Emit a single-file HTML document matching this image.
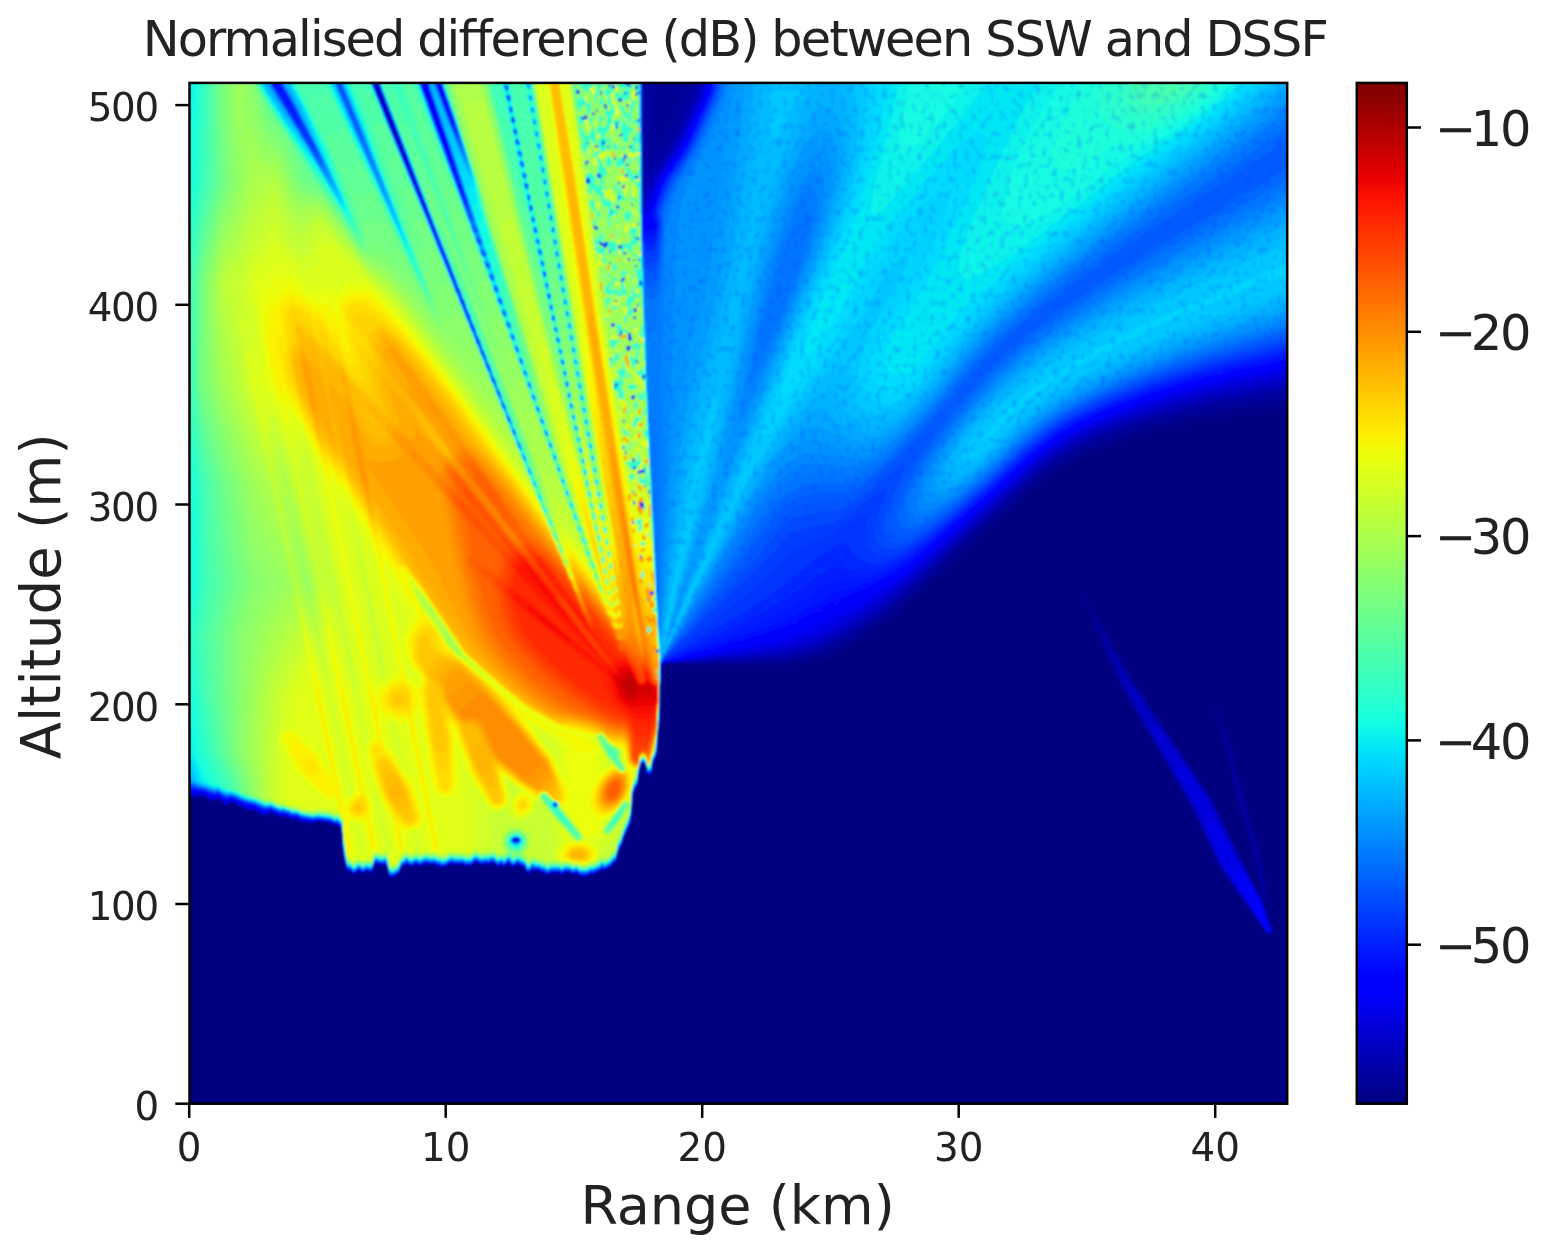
<!DOCTYPE html>
<html><head><meta charset="utf-8"><title>Normalised difference (dB) between SSW and DSSF</title>
<style>
html,body{margin:0;padding:0;background:#fff;}
body{width:1542px;height:1246px;overflow:hidden;position:relative;}
svg{position:absolute;left:0;top:0;display:block;}
text{font-family:"DejaVu Sans","Liberation Sans",sans-serif;fill:#222;}
</style></head><body>
<svg width="1542" height="1246" viewBox="0 0 1542 1246">
<defs><linearGradient id="jet" x1="0" y1="0" x2="0" y2="1"><stop offset="0.0000" stop-color="#800000"/><stop offset="0.0156" stop-color="#8d0000"/><stop offset="0.0312" stop-color="#9f0000"/><stop offset="0.0469" stop-color="#b20000"/><stop offset="0.0625" stop-color="#c40000"/><stop offset="0.0781" stop-color="#d60000"/><stop offset="0.0938" stop-color="#e80000"/><stop offset="0.1094" stop-color="#fa0f00"/><stop offset="0.1250" stop-color="#ff1e00"/><stop offset="0.1406" stop-color="#ff2d00"/><stop offset="0.1562" stop-color="#ff3b00"/><stop offset="0.1719" stop-color="#ff4a00"/><stop offset="0.1875" stop-color="#ff5900"/><stop offset="0.2031" stop-color="#ff6800"/><stop offset="0.2188" stop-color="#ff7700"/><stop offset="0.2344" stop-color="#ff8600"/><stop offset="0.2500" stop-color="#ff9400"/><stop offset="0.2656" stop-color="#ffa300"/><stop offset="0.2812" stop-color="#ffb200"/><stop offset="0.2969" stop-color="#ffc100"/><stop offset="0.3125" stop-color="#ffd000"/><stop offset="0.3281" stop-color="#ffde00"/><stop offset="0.3438" stop-color="#feed00"/><stop offset="0.3594" stop-color="#f1fc06"/><stop offset="0.3750" stop-color="#e4ff13"/><stop offset="0.3906" stop-color="#d7ff1f"/><stop offset="0.4062" stop-color="#caff2c"/><stop offset="0.4219" stop-color="#beff39"/><stop offset="0.4375" stop-color="#b1ff46"/><stop offset="0.4531" stop-color="#a4ff53"/><stop offset="0.4688" stop-color="#97ff60"/><stop offset="0.4844" stop-color="#8aff6d"/><stop offset="0.5000" stop-color="#7dff7a"/><stop offset="0.5156" stop-color="#70ff87"/><stop offset="0.5312" stop-color="#63ff94"/><stop offset="0.5469" stop-color="#56ffa0"/><stop offset="0.5625" stop-color="#49ffad"/><stop offset="0.5781" stop-color="#3cffba"/><stop offset="0.5938" stop-color="#30ffc7"/><stop offset="0.6094" stop-color="#23ffd4"/><stop offset="0.6250" stop-color="#16ffe1"/><stop offset="0.6406" stop-color="#09f0ee"/><stop offset="0.6562" stop-color="#00e0fb"/><stop offset="0.6719" stop-color="#00d0ff"/><stop offset="0.6875" stop-color="#00c0ff"/><stop offset="0.7031" stop-color="#00b0ff"/><stop offset="0.7188" stop-color="#00a0ff"/><stop offset="0.7344" stop-color="#0090ff"/><stop offset="0.7500" stop-color="#0080ff"/><stop offset="0.7656" stop-color="#0070ff"/><stop offset="0.7812" stop-color="#0060ff"/><stop offset="0.7969" stop-color="#0050ff"/><stop offset="0.8125" stop-color="#0040ff"/><stop offset="0.8281" stop-color="#0030ff"/><stop offset="0.8438" stop-color="#0020ff"/><stop offset="0.8594" stop-color="#0010ff"/><stop offset="0.8750" stop-color="#0000ff"/><stop offset="0.8906" stop-color="#0000ff"/><stop offset="0.9062" stop-color="#0000ed"/><stop offset="0.9219" stop-color="#0000da"/><stop offset="0.9375" stop-color="#0000c8"/><stop offset="0.9531" stop-color="#0000b6"/><stop offset="0.9688" stop-color="#0000a4"/><stop offset="0.9844" stop-color="#000092"/><stop offset="1.0000" stop-color="#000080"/></linearGradient><filter id="sm" x="0" y="0" width="100%" height="100%" filterUnits="objectBoundingBox"><feGaussianBlur stdDeviation="1.3"/></filter><clipPath id="fan"><path d="M711 84l7-1 570 0 1 1 -0.5 276 -8.5 3 -70 14.5 -36 10 -42 14 -44 18 -16 8 -28.5 18.5 -11.5 9 -42 40 -6 4 -62 56 -26 19.5 -24 14 -22 9 -52 27 -14 6 -48 14 -48 12 -20 4.5 -4-1 -1-6 0-472 4.5-10 13-18 12-24 16-36z"/></clipPath><filter id="tx" x="0" y="0" width="100%" height="100%" color-interpolation-filters="sRGB"><feTurbulence type="fractalNoise" baseFrequency="0.17 0.13" numOctaves="2" seed="11"/><feColorMatrix type="matrix" values="0 0 0 0 0  0 0 0 0 0.2  0 0 0 0 1  0 0 0 0.8 -0.41"/></filter></defs>
<rect x="189.5" y="82.9" width="1097.7" height="1020.8" fill="#000080"/>
<clipPath id="ax"><rect x="189.5" y="82.9" width="1097.7" height="1020.8"/></clipPath>
<g clip-path="url(#ax)"><g filter="url(#sm)">
<path fill="#000089" d="M188 82l1102 0 0 327.5 -30 3 -30 4 -32.5 5.5 -27.5 6 -32 8.5 -24.5 7.5 -21.5 8.5 -16 7.5 -20 12 -25.5 20 -54.5 49 -54 51.5 -26 22 -16 12 -18 12 -18 10.5 -14 6 -12 4.5 -14 3.5 -14 2 -14 1.5 -30 0 -84-2.5 0 16 -0.5 2 -1.5 2 0 42 -0.5 2 -1.5 2 -0.5 26 -3.5 6 -1 12 -1 1 -4 1 -2-2 0-6.5 -1.5-1.5 -0.5-2 -2.5 0 0 2 -1.5 2 -0.5 10 0 2 -1.5 1.5 -0.5 6.5 -1.5 2.5 -2 0 -0.5 13.5 -1.5 2.5 -0.5 17.5 -3.5 5.5 -0.5 2.5 -3.5 6 -0.5 4 -1.5 2 -0.5 4 -3.5 5 -0.5 9 -1.5 1.5 -4 2 -4 4 -2 0.5 -2 2 -2-2.5 -4 4 -3.5 0.5 -2.5 1.5 -2-1.5 -0.5 2 -1.5 1.5 -8 0 -4-4 -2 2 -2 0 -2-2 -6 0 -2 2.5 -2-2 -10 0 -2 2 -2-0.5 -1.5-1.5 -0.5-2 -2 2 -2-2 -6-0.5 -2-2 -0.5 2.5 -3.5 3 -4-7 -2 0 -2-2 -4 0 -2 2 -2 0 -2-2 0-2 -2 0 -4 4 -2-2 -2 0 -2 2 -4-4 -4 0 -2 2 -2-2 -2 1.5 -4 0 -2-2 -4 0 -4 4 -2-2 -2 2 -2-2 -10 0 -2-2 -2 2 -2 0 -2 2 -3 0.5 -1 1 -2-3 -2 1.5 -2-2 -8 0 -2-2 -2 2 -2 0 -2 2 -2-2 -4 0 -2 2 -2 0 -4-4 -0.5 2.5 -1.5 1.5 -2.5 0.5 -0.5 4 -3 3.5 -2 0.5 -2 2 -4 0 -2-2 0-4 -1.5-2 -0.5-6 -2 2 -2 0 -4-0.5 -2-2 -2 4 0 2.5 -4 4 -2-2 -2 0 -2 2 -2 0 -2-2.5 -2 0 -4 4 -4-4 -2 2 -1.5-1.5 -0.5-5 -1-1 -0.5-2 -0.5-7 -1-1 -0.5-2 -0.5-20.5 -1.5-1.5 0-4 -2.5-2 0-2 -2 2 -2 0 -2-2 -10-1 -2-1 -4 0 -2 1.5 -10-0.5 -4-1 -2-2.5 -2 0 -2 1 -4-1 -2-2 -2 1 -2-2.5 -4 3.5 -2-3.5 -4-0.5 -4-3.5 -0.5 2 -1.5 1.5 -2 0 -2 2 -2-3.5 -4-0.5 -2-2 -3-1.5 -3-0.5 -2 2 -2-0.5 -2-3 -6-1 -2-3 -6-1 -2 3 -2-0.5 -2-2 -2 0 -3-3.5 -1-2 -0.5 2 -1.5 1.5 -4-0.5 -4-1 -2-2.5 -6-0.5 -2 1 -2-2 -2 1.5 -6 0zM1081.5 592l2.5 0.5 6 9.5 44 80 77 114 29 59 20 38.5 1.5 0.5 0.5 3 0-3 -10-42 -14.5-50 -13-54 -11-36 -0.5-4 1-2 2 0 2 3.5 14.5 38.5 13.5 54 13 46 9.5 48 -0.5 2.5 -2 1 -2 0 -0.5 0.5 4.5 15.5 1.5 2.5 0.5 4.5 1 1.5 1 5 1 1 0 2 -3 3 -2 0 -3-3 -1-2 -16.5-22 -30.5-44 -27-58 -68.5-118 -30-66 -9.5-24.5z"/>
<path fill="#000089" d="M188 82l1102 0 0 329.5 -38 3.5 -30 4 -24 4.5 -28 6 -32 8 -24 7.5 -22 8.5 -17.5 8.5 -10.5 6 -12 8 -22 18 -54 48 -48 46 -26 23 -18 14 -18 12 -16 9.5 -18 8.5 -14 5 -12 3.5 -12 2 -16 1.5 -34 0 -66.5-3 -15.5 0 0 16 -0.5 2 -1.5 2 0 42 0 2 -2 2 -0.5 26 -3.5 6 -1 12 -1 1 -4 1 -2-2 0-6.5 -1.5-1.5 -0.5-2 -2.5 0 0 2 -1.5 2 -0.5 12 -1.5 1.5 0 6.5 -2 2.5 -2 0.5 -0.5 13 -1.5 2.5 -0.5 17.5 -3.5 5.5 -0.5 2.5 -3.5 6 -0.5 4 -1.5 2 -0.5 4 -3.5 5 -0.5 9 -1.5 2 -4 1.5 -4 4 -2 0.5 -2 2 -2-2.5 -4 4 -3.5 0.5 -2.5 1.5 -2-1.5 -0.5 2 -1.5 1.5 -8 0 -4-4 -2 2 -2 0 -2-2 -6 0 -2 2.5 -2-2 -10 0 -2 2 -2-0.5 -1.5-1.5 -0.5-2 -2 2 -2-2 -6-0.5 -2-2 -0.5 2.5 -3.5 3 -1-1 -1-3.5 -2-2.5 -2 0 -2-2 -4 0 -2 2 -2 0 -2-2 0-2 -2 0 -4 4 -2-2 -2 0 -2 2 -4-4 -4 0 -2 2 -2-2 -2 1.5 -4 0 -2-2 -4 0 -4 4 -2-2 -2 2 -2-2 -10 0 -2-2 -2 2 -2 0 -2 2 -3 0.5 -1 1 -2-3 -2 1.5 -2-2 -8 0 -2-2 -2 2 -2 0 -2 2 -2-2 -4 0 -2 2 -2 0 -4-4 -0.5 2.5 -1.5 1.5 -2.5 0.5 -0.5 4 -3 3.5 -2 0.5 -2 2 -4 0 -2-2 0-4 -1.5-2 -0.5-6 -2 2 -6-0.5 -2-2 -0.5 2.5 -1.5 2 0 2 -4 4 -2-2 -2 0 -2 2 -2 0 -2-2 -2-0.5 -4 4 -4-4 -2 2 -1.5-1.5 -0.5-5 -1-1 -0.5-2 -0.5-7 -1-1 -0.5-2 -0.5-20.5 -1.5-1.5 0-4 -2.5-2 0-2 -2 2 -2 0 -2-2 -10-0.5 -2-1.5 -4 0 -2 2 -10-0.5 -4-1.5 -2-2.5 -2 0 -2 1 -4-1 -2-2 -2 1 -2-2.5 -4 3.5 -2.5-3.5 -3.5-0.5 -2-2 -2-1 0 1.5 -2 2 -2-0.5 -2 2 -2.5-3.5 -3.5-0.5 -2-2 -3-1.5 -3-0.5 -2 2 -2-0.5 -2-3 -6-1 -2-3 -6-0.5 -2 3 -2-0.5 -2-2.5 -2 0 -3-3.5 -1-2 -0.5 2 -1.5 1.5 -4 0 -4-1.5 -2-2.5 -6-0.5 -2 1.5 -2-2.5 -2 1.5 -6 0zM1079.5 588l2.5 0.5 6 9.5 46 84 78.5 116 27.5 57 20 38 1-1 -0.5-4 -8.5-35.5 -14.5-50.5 -13-54 -11.5-38 -0.5-2 1.5-2.5 2 0 2 3 14.5 39.5 13.5 54 15 52 8 42 -0.5 2 -0.5 0.5 -2 1.5 -2 0 2 8.5 1 1.5 1 5 1.5 3 0.5 4 1.5 2 0.5 4.5 1 1.5 0 2 -3 3 -2 0 -3.5-3 -0.5-2 -17-22 -29.5-42 -27.5-59.5 -69-118.5 -29.5-66 -11.5-28.5z"/>
<path fill="#000096" d="M188 82l1102 0 0 320 -34 4 -28 4 -32 6 -26 6 -29.5 8 -25.5 8 -21 8 -20.5 10 -19.5 12 -20.5 16 -62.5 56 -51 49 -24 20.5 -18 13.5 -18 12 -16 9.5 -14 6.5 -12 4.5 -14 4 -10 2 -16 1.5 -34 1.5 -82-1 0 16.5 -2 4 0 42 -0.5 2 -1.5 2 -0.5 26 -4 6 -1 12 -2.5 1.5 -2 0 -1.5-1.5 -0.5-7 -1.5-3 -3 0 -1.5 3.5 -0.5 6.5 -1 6 -0.5 0.5 -0.5 7.5 -1.5 2 -2 0 -1.5 14 -0.5 1.5 -0.5 18.5 -3.5 5 -0.5 3 -3.5 5.5 -0.5 4.5 -1.5 1.5 -0.5 4.5 -3.5 4.5 -1.5 9.5 -4.5 3.5 -2 2.5 -2 1.5 -2 0 -2 2 -2-3 -0.5 1.5 -3.5 3 -4 1 -2 1.5 -2-2 -2 3 -8 0.5 -4-3.5 -2 2 -2 0 -2-2 -6 0 -2 2 -2-2 -10 0 -2 2 -2 0 -1.5-1.5 -0.5-2 -2 1.5 -2-2 -6 0 -2-2.5 -1.5 3 -2.5 2.5 -1.5-2.5 -0.5-2 -2-2.5 -2 0 -2-2 -4 0 -2 2 -2 0 -1.5-1.5 -0.5-2.5 -2 0 -4 4 -2-2 -2 0 -2 2 -4-4 -4 0 -2 2 -2-2 -2 2 -4 0 -2-2 -4 0 -4 4 -2-2 -2 2 -2-2 -10 0 -2-2 -2 2 -2 0 -2 2 -4 1 -2-2.5 -2 1.5 -2-2 -8 0 -2-2 -2 2 -2 0 -2 2 -2-2 -4 0 -2 2 -2 0 -4-4 -0.5 2.5 -1.5 1.5 -2 0 -0.5 0.5 -1 4 -2.5 3.5 -2 0 -2 2 -4 0 -1.5-1.5 -0.5-4.5 -1-1.5 -1-6 -2 1.5 -2 0 -4 0 -2-2 -2 3.5 -0.5 3 -3.5 3.5 -2-2 -2 0 -2 2 -2 0 -2-2 -2 0 -4 4 -4-4 -2 1.5 -1.5-3 -0.5-3.5 -1.5-2.5 -0.5-7.5 -1.5-2.5 -0.5-21 -1-1 0-4 -2.5-2 -0.5-2.5 -2 2 -2 0 -2-2 -10-1 -2-0.5 -4-0.5 -2 2 -6 0 -8-2 -2-2 -2-0.5 -2 1 -4-0.5 -2-2.5 -2 1 -2-2.5 -4 3.5 -2-3 -4-0.5 -2-2.5 -2-1 -0.5 2 -1.5 1.5 -2 0 -2 1.5 -2-3 -4-0.5 -4-3.5 -4-0.5 -2 1.5 -2-1 -2-2.5 -6-1 -2-3 -6-1 -2 3.5 -2-0.5 -2-2 -2-0.5 -4-5.5 -0.5 2.5 -1.5 1.5 -8-2 -2-2 -4-0.5 -2-0.5 -2 1.5 -2-2.5 -2 2 -6-0.5zM1090 612l2-1.5 4 5.5 37 66 78.5 116 28.5 58 22 42 1 0 0-4 -10-42 -13.5-46 -12.5-54 -5-16 -1-6 -1-1.5 0-4 2 0.5 0.5 3 1.5 1 0.5 3 1.5 2 6 16.5 13 51.5 13.5 46 9 48 0 2 -1.5 1 -2-0.5 -1 1.5 9.5 30 0 2 -2.5 2.5 -2 0 -2.5-2.5 -47-66 -26.5-58 -69.5-120 -26.5-58.5 -6-15.5z"/>
<path fill="#00009f" d="M188 82l465 0 0.5 60 0.5 6 2 1 2-1 4-5 8-14.5 16-36 2-6 0.5-4.5 601.5 0 0 313.5 -62 9 -29 5.5 -27 6.5 -28 7.5 -31 10 -21 8.5 -20 9.5 -22 14 -19.5 16 -62 56 -48.5 46 -24 21 -18 13.5 -18 12.5 -18 10.5 -14 6.5 -12 4.5 -12 3.5 -14 3 -14 1.5 -32 1.5 -82 1.5 -0.5 16.5 -1.5 4 -0.5 42 0 2 -1.5 2 -1 26 -3 5 -2 13 -2 1.5 -2 0 -1.5-1.5 -0.5-7.5 -1.5-2.5 -3.5 0 -1 2.5 -0.5 7.5 -1.5 6 -0.5 8 -1.5 1.5 -2 0 -2 10.5 -1 24 -3 4.5 -1 3.5 -3 5 -3 11 -3 3.5 -0.5 6.5 -1.5 4 -4 3 -2 2.5 -4 2 -2 2 -2-3.5 -0.5 2 -3.5 2.5 -4 1.5 -2 1 -2-1.5 -2 2.5 -8 0.5 -2-2.5 -2-1 -2 2 -2 0 -2-2 -6 0 -2 2.5 -2-2 -10 0 -2 2 -2-0.5 -2-3.5 -2 2 -2-2 -6-0.5 -2-2.5 -0.5 1.5 -3.5 4 -1.5-2 -0.5-2.5 -2-2 -2 0 -2-2 -4 0 -2 2 -2 0 -1.5-1.5 -0.5-2.5 -2 0 -4 4 -2-2 -2 0 -2 2 -4-4 -4 0 -2 2 -2-2 -2 1.5 -4 0 -2-2 -4 0 -4 4 -2-2 -2 2 -2-2 -10 0 -2-2 -2 2 -2 0 -2 2 -4 1 -2-2.5 -2 1.5 -2-2 -8 0 -2-2 -2 2 -2 0 -2 2 -2-2 -4 0 -2 2 -2 0 -4-4 -1 3 -1 1 -2 0 -1 1 -2 6 -1 1 -2 0.5 -2 2 -4 0 -1.5-1.5 -0.5-5.5 -2-7 -2 2 -2 0 -4-0.5 -2-2 -2 3.5 -0.5 3.5 -3.5 3.5 -2-2 -2 0 -2 2 -2 0 -2-2 -2-0.5 -4 4 -4-4 -2 1 -1.5-2 -0.5-4.5 -1.5-3.5 -0.5-6.5 -1.5-3.5 -0.5-24 -2-0.5 -1.5-1.5 -0.5-2.5 -2 2 -2 0 -2-2 -12-2 -4 0 -2 2 -6-0.5 -8-1.5 -2-2.5 -2-0.5 -2 1 -4-0.5 -2-2.5 -2 1 -2-2 -4 3 -2-3 -4-0.5 -2-2.5 -2-1 -0.5 2.5 -1.5 1.5 -2-0.5 -2 1.5 -2-3 -4-0.5 -3-3 -5-1 -2 1.5 -2-1 -2-2 -6-1.5 -2-2.5 -6-1.5 -2 3.5 -2 0 -2-2.5 -2-0.5 -4-5 -1 2.5 -1 1 -8-1.5 -2-2.5 -6-1 -2 1.5 -2-2 -2 1.5 -6-0.5zM1100 632l2-1.5 0.5 1.5 3.5 4 26 46 79 116 27 56 24.5 46 8.5 26 1 6 -2 2 -2 0 -5-6 -43.5-62 -27.5-59 -69-119 -21-48 -2-5.5zM1234 772l0-1 2 1 0.5 4 1.5 3 0.5 5 1.5 2 1 6 1 1.5 3 12.5 1 2 3 12 1 2 3 12 1 2 3 12 1 2 2.5 18 1.5 3 0.5 7 1.5 3.5 0.5 8.5 1.5 2 0 6 -2-3 -0.5-5 -1.5-3 -0.5-5 -1.5-3.5 -1-6.5 -1-1.5 -1-6.5 -1-2 -3-14 -1-2 -3-12 -1-1.5 -5-18.5 -3-9.5 -2.5-14.5 -1.5-2.5 -1-7.5 -1-1.5z"/>
<path fill="#0000ad" d="M188 82l457 0 0 80 1 10 2 3 2-1.5 4-5 14-20 6-10 20-44 2-6.5 1-6 593 0 0 308.5 -63.5 9.5 -26.5 5.5 -27 6.5 -33 9.5 -26 8.5 -24 9.5 -17 8.5 -19 11.5 -20 15.5 -65.5 59 -48.5 46.5 -24 20.5 -18 13.5 -18 12.5 -16 9.5 -16 8 -12 5 -12 3.5 -14 3 -14 2 -32 2.5 -82 3 -0.5 16.5 -1.5 2.5 0 1.5 -0.5 42 -1.5 4 -1 26 -3 4.5 -2.5 13.5 -1.5 1 -2 0.5 -1-1.5 -1-8 -2-2.5 -3 0.5 -1 2 -0.5 8 -1.5 5 -1 9 -1 1.5 -2 0 -2 10 -0.5 16.5 -1 8 -2.5 4 -1.5 4 -2.5 5 -3.5 11 -2.5 3 -0.5 5 -1.5 6 -4 3 -2 2.5 -4 2 -2 1.5 -2-3 -0.5 2 -1.5 1.5 -8 3.5 -2-1.5 -2 2.5 -8 0 -4-3.5 -2 2 -2 0 -2-2 -6 0 -2 2.5 -2-2 -10 0 -2 2 -2-0.5 -2-3 -2 1.5 -2-2 -6-0.5 -2-2.5 -0.5 2 -3.5 3.5 -1.5-1.5 -0.5-2.5 -2-2.5 -2 0 -2-2 -4 0 -2 2 -2 0 -1-1 -1-3 -2 0 -4 4 -2-2 -2 0 -2 2 -4-4 -4 0 -2 2 -2-2 -2 2 -4 0 -2-2 -4 0 -4 4 -2-2 -2 2 -2-2 -10 0 -2-2 -2 2 -2 0 -2 2 -4 0.5 -2-2 -2 1 -2-1.5 -8 0 -2-2 -2 2 -2 0 -2 2 -2-2 -4 0 -2 2 -2 0 -4-4 -1 3 -1 1 -2 0 -1 1 -1 4 -2 3 -2 0 -2 2 -4 0 -1-1 -1-6 -2-6.5 -2 1.5 -2 0 -4 0 -2-2 -2 2.5 -1 4.5 -3 3 -2-2 -2 0 -2 2 -2 0 -2-2 -2 0 -4 4 -4-4 -2 1 -1-2 -4.5-20 -0.5-22.5 -2 0 -1.5-1.5 -0.5-2.5 -2 2 -2-0.5 -2-2 -8-1 -8-1 -2 2 -6-0.5 -8-1.5 -2-2 -2-1 -2 1.5 -4-0.5 -2-3 -2 1.5 -2-2.5 -4 3 -2-2.5 -4-0.5 -2-3 -2-0.5 -2 3.5 -2-0.5 -2 1.5 -2-2.5 -4-0.5 -2.5-3 -5.5-1 -2 1 -2-0.5 -2-2.5 -6-1.5 -2-2.5 -6-1.5 -2 4 -2-0.5 -2-2 -2-1 -4-5 -2 4 -8-2 -2-2 -6-1.5 -2 2 -2-2.5 -2 2 -6-1zM1110 654l0-1 2-1 2 1 2 2.5 15 26.5 79 116 28 57 24 45 9.5 30 0 2 -1.5 1.5 -2 0 -5-5.5 -43-62.5 -27.5-59.5 -68.5-118 -10-22.5z"/>
<path fill="#0000bb" d="M188 82l454 0 0 90 1.5 14 0.5 1.5 2 0.5 2-2.5 9-15.5 15-22 6-10.5 20-45 1.5-6.5 0.5-4 590 0 0 304 -34 5 -34 6 -28 6 -27 7 -29 8.5 -27.5 9.5 -20.5 8.5 -20 10 -18.5 11.5 -17.5 14 -66.5 60 -47.5 45 -24 20.5 -20 15 -18 12 -16 9.5 -16 8 -12 5 -12 4 -14 3 -13.5 2 -30.5 2.5 -82 5 -0.5 0.5 0 16 -1.5 2 0 2 -0.5 42 -1.5 4 -0.5 16 -1 10 -2.5 4 -1 4 -1.5 10 -1.5 1 -2 0 -1-1 -1-8.5 -2-2 -3.5 0.5 -0.5 1.5 -0.5 6.5 -1.5 6 -0.5 8 -1.5 3 -2 0 -2 9.5 -0.5 17.5 -1 8 -2.5 3.5 -4 9 -3.5 11.5 -2.5 2.5 -0.5 5.5 -2 6 -3.5 2.5 -2 3 -4 1.5 -2 2 -2-3.5 -2 3.5 -8 3.5 -2-1.5 -2 2.5 -8 0.5 -4-3.5 -2 2 -2 0 -2-2 -6 0 -2 2.5 -2-2 -10 0 -2 2 -2-1 -2-2.5 -2 1.5 -2-2 -6-0.5 -2-2.5 -0.5 2 -3.5 3.5 -1.5-1.5 -0.5-3 -2-2 -2 0 -2-2 -4 0 -2 2 -2 0 -2-4 -2 0 -4 4 -2-2 -2 0 -2 2 -4-4 -4 0 -2 2 -2-2 -2 1.5 -4 0 -2-2 -4 0 -4 4 -2-2 -2 2 -2-2 -10 0 -2-2 -2 2 -2 0 -2 2 -4 1 -2-2 -2 1 -2-2 -8 0 -2-2 -2 2 -2 0 -2 2 -2-2 -4 0 -2 2 -2 0 -4-4 -1.5 3.5 -2.5 0.5 -1.5 1.5 -1 4 -1.5 2.5 -2 0.5 -2 2 -4 0 -1-1 -1-6.5 -2-6.5 -2 2 -2 0 -4-0.5 -2-2 -2 2.5 -1 5 -3 3 -2-2 -2 0 -2 2 -2 0 -2-2 -2-0.5 -4 4 -4-4 -2 1 -1-1.5 -2.5-10 -2-12 -0.5-20.5 -2 0 -1.5-1.5 -0.5-2.5 -2 1.5 -2 0 -2-2 -8-1.5 -8-0.5 -2 2 -6-1 -8-1 -2-2.5 -2-0.5 -2 1 -4-0.5 -2-3 -2 1.5 -2-2 -4 2.5 -2-2.5 -4-0.5 -2-3 -2-0.5 -2 4 -2-0.5 -2 1 -2-2.5 -4-0.5 -2-2.5 -6-1.5 -2 1.5 -2-1 -2-2 -6-1.5 -2-2.5 -6-1.5 -2 3.5 -2 0 -2-2.5 -2-1 -4-4.5 -2 3.5 -8-1.5 -2-2.5 -6-1 -2 1.5 -2-2 -2 1.5 -6-0.5zM1120 672l2-1 2 1 0.5 2 1.5 1 5.5 9 77.5 114 29 58 24 45 9 27 0.5 4 -1.5 1.5 -2 0 -3-3.5 -45-65.5 -27-58.5 -67-116 -6-13.5z"/>
<path fill="#0000c4" d="M188 82l186 0 0 4.5 1.5 1.5 0.5 3 1 1 1 4 2 2 0 2.5 1.5 1.5 0.5 4 2 2 0 2.5 1.5 1.5 0.5 4 2 2 0 2.5 1.5 1.5 0.5 4 2 2 0 2 2 2 0 3 2 0.5 2-0.5 0-1 -2-2 0-2.5 -1.5-1.5 -0.5-4 -2-2 0-3 -2-3 0-2 -2-2 0-4 -2-2 0-2.5 -1.5-1.5 -0.5-4 -2-2 0-2.5 -1.5-1.5 -0.5-4 -1.5-2 -0.5-4 264 0 0 116 2 1 2-2 2-4 9-19 17-25.5 6-10.5 20-45 2-7 0-4 588 0 0 300 -64 10.5 -26 5.5 -30 8 -28 8.5 -28.5 9.5 -21.5 8.5 -20 10 -20 12.5 -20 15.5 -70 63.5 -40 38 -26 22 -20 15 -18 12 -18 10.5 -16.5 8.5 -11.5 4.5 -12 4 -26 5 -32 3.5 -80 6 -0.5 1 0 16 -1.5 2 0 2 -0.5 42 -1.5 4 -0.5 16 -1 10 -2.5 4 -1.5 4 -1 8 -0.5 2 -1 1 -2 0 -1-1 -1-8.5 -1-1.5 -1-1 -2 0.5 -2 1.5 -0.5 7 -1.5 4.5 -1 9.5 -1 2.5 -2 0 -2 9 -0.5 14.5 -1.5 12 -6 12 -3 10 -3 4 -0.5 6 -2 6 -3.5 2.5 -2 2.5 -6 3.5 -2-3 -2 3.5 -8 3.5 -2-1.5 -2 2.5 -8 0 -4-3.5 -2 2 -2 0 -2-2 -6 0 -2 3 -2-2 -10 0 -2 2 -2-1 -2-3 -2 2 -2-2 -6-1 -2-2.5 -1 2.5 -3 3.5 -1-1.5 -1-3.5 -2-1.5 -2 0 -2-2 -4 0 -2 2 -2 0 -2-4 -2 0 -4 4 -2-2 -2 0 -2 2 -4-4 -4 0 -2 2 -2-2 -2 1.5 -4-0.5 -2-2 -4 0 -4 4 -2-2 -2 2 -2-2 -10 0 -2-2 -2 2 -2 0 -2 2 -4 1.5 -2-2.5 -2 1 -2-2 -8 0 -2-2 -2 2 -2 0 -2 2 -2-2 -4 0 -2 2 -2 0 -4-4 -2 4 -2 0 -1.5 2 -1 4 -1.5 2.5 -2 0.5 -2 2 -4 0 -1-1 -1-7 -2-6 -2 2 -2 0 -4-1 -2-2 -2 2.5 -1.5 5.5 -2.5 3 -2-2 -2 0 -2 2 -2 0 -2-2.5 -2-0.5 -4 4 -4-4 -2 1 -1.5-3 -2-8 -2-12 -0.5-21 -2 0 -1-1 -1-3 -2 2 -2-0.5 -2-2 -8-1 -8-0.5 -2 1.5 -12-1.5 -2-0.5 -2-2.5 -2-0.5 -2 1.5 -4-1 -2-2.5 -2 1.5 -2-2.5 -4 3 -2-2.5 -4-1 -2-2.5 -2-0.5 -2 3.5 -2-0.5 -2 1.5 -2-2.5 -4-0.5 -2-3 -6-1.5 -2 1.5 -2-0.5 -2-2 -6-2 -2-2 -6-2 -2 4 -2-0.5 -2-2.5 -2-0.5 -4-5 -2 4 -8-2 -2-2 -6-1.5 -2 2 -2-2.5 -2 2 -6-1zM1131 694l3-2 2 1.5 4 4.5 68.5 100 28.5 58 25 46 9 26 0 4 -1 1 -2 0 -3-3 -44.5-66 -25.5-56 -53-92 -8.5-16 -1.5-2z"/>
<path fill="#0000d1" d="M188 82l185.5 0 0.5 4 1.5 2 0.5 4 1.5 2 0.5 2.5 1.5 1.5 0.5 3.5 1.5 2.5 0.5 2.5 1.5 1.5 0.5 3.5 2 2.5 0 2.5 1.5 1.5 0.5 3 2 3 0 2.5 1.5 1.5 0.5 3 2 3 0 2 2 2 0 2.5 1.5 1.5 0.5 4 2 2 0 2 2 2 0 3 1.5 1 0.5 3.5 2-0.5 0-3.5 -1.5-1.5 -0.5-4 -1.5-2 -0.5-4 -2-2 0-2.5 -1-1.5 -1-4.5 -1.5-1.5 -0.5-4 -2-2 0-2.5 -1.5-1.5 -0.5-4 -1.5-2 -0.5-3 -1-1 -1-4.5 -1.5-1.5 -0.5-3 -2-3 0-2.5 -1.5-1.5 -0.5-3.5 -1.5-2.5 -0.5-2.5 -1.5-1.5 -0.5-4 264 0 0 125.5 2-1 2-3 9-21.5 4-8 17-25.5 6-11 18.5-41.5 2.5-8 0.5-6 586.5 0 0 296.5 -35.5 5.5 -31.5 6 -27 6 -24 6.5 -31.5 9.5 -24.5 8.5 -24 9.5 -20 10 -20 12.5 -20 15.5 -70 63.5 -38 35.5 -26 22 -18 13.5 -20 13.5 -20 12 -18 9.5 -11.5 4.5 -12 4 -24.5 5.5 -38 4.5 -74 7 -1 1 0.5 16 -1.5 1.5 0 2.5 -1 42 -1 4 -0.5 16 -1.5 10 -3.5 8 -1 8 -1.5 2.5 -2.5-0.5 -1.5-8.5 -1-1.5 -1-1 -4 1.5 -0.5 7.5 -1.5 4 -1 10 -1 2.5 -2 0 -2 8 -0.5 15.5 -1.5 12 -6 12 -3 10 -3 4 -1 6 -1.5 6 -3.5 2 -2 3 -6 3.5 -2-3.5 -2 4 -8 3 -2-1 -2 2.5 -8 0 -4-3.5 -2 2 -2 0 -2-2 -6 0 -2 2.5 -2-2 -10 0 -2 2 -2-1 -2-2.5 -2 1.5 -2-2 -6-0.5 -2-2.5 -1 2.5 -3 3 -1-1 -1-3.5 -2-2 -2 0 -2-2 -4 0 -2 2 -2 0 -2-4 -2 0 -4 4 -2-2 -2 0 -2 2 -4-4 -4 0 -2 2 -2-2 -2 1.5 -4 0 -2-2 -4 0 -4 4 -2-2 -2 2 -2-2 -10 0 -2-2 -2 2 -2 0 -2 2 -4 1 -2-2 -2 1 -2-2 -8 0 -2-2 -2 2 -2 0 -2 2 -2-2 -4 0 -2 2 -2 0 -4-4 -2 4 -2 0 -2 2 -0.5 4 -1.5 2 -2 0.5 -2 2 -4 0 -1.5-2.5 -0.5-5.5 -2-5.5 -2 1.5 -2 0 -4-0.5 -2-2 -2 2 -1.5 6 -2.5 2.5 -2-2 -2 0 -2 2 -2 0 -2-2 -2-0.5 -4 4 -4-4 -2 1 -1.5-3 -2-8 -2-12 -0.5-21.5 -2 0.5 -2-4 -2 2 -2-0.5 -2-2 -8-1 -8-1 -2 2 -12-1.5 -2-0.5 -2-2.5 -2-0.5 -2 1.5 -3.5-1 -2.5-3 -2 2 -2-2.5 -4 2.5 -2-2 -3.5-1 -2.5-3 -2 0 -2 3.5 -2-1 -2 1.5 -2-2.5 -4-0.5 -2-3 -6-1 -2 1 -2-0.5 -2-2 -6-1.5 -2-2.5 -4-1 -2-0.5 -2 3.5 -2 0 -2-3 -2-0.5 -4-4.5 -1.5 1.5 -0.5 2 -4-1 -4-0.5 -2-2.5 -6-1.5 -2 2 -2-2 -2 1.5 -6-1zM514 839.5l0 1 2 1.5 2-2 -2-1zM1154 726l2-1 2 1 0.5 2 9.5 12 40 58.5 28.5 57.5 24 44 10 28 0.5 4 -1 1 -2 0 -2.5-3 -44.5-66 -26.5-58 -36.5-64 -6-11.5 0-3z"/>
<path fill="#0000df" d="M188 82l185.5 0 0.5 5 1 1 1 4 1.5 2 2.5 8 1.5 2 0.5 3 1 1 1 4 1.5 2 0.5 2.5 1.5 1.5 0.5 4 1.5 2 0.5 2.5 1.5 1.5 0.5 4 1.5 2 0.5 2.5 1.5 1.5 0.5 3 2 3 0 2.5 1.5 1.5 2.5 8 2 2 0 2.5 1.5 1.5 0.5 4 2 2 0 2 2 2 0 2.5 1.5 1.5 0.5 4 2 2 0 1 2-1 -0.5-2 -1.5-2 0-2 -1.5-2 -0.5-4 -2-2 0-3 -2-3 0-2.5 -1.5-1.5 -0.5-4 -1.5-2 -0.5-3 -1-1 -1-4.5 -1.5-1.5 -0.5-3.5 -1.5-2.5 -0.5-2.5 -1.5-1.5 -0.5-4 -1.5-2 -2.5-8.5 -1.5-1.5 -2.5-8.5 -1.5-1.5 -0.5-3.5 -1.5-2.5 -0.5-2.5 -1.5-1.5 -0.5-4 -1.5-2 -0.5-3 -1-1 -0.5-4 263 0 0.5 130.5 4-4.5 8.5-22 5-10 18.5-28 6-11.5 18-40.5 2.5-8 0.5-6 585 0 0 293 -64 11.5 -26 5.5 -30 8 -32 10 -27.5 10 -20.5 8.5 -19 9.5 -17 10.5 -20 15.5 -110 100.5 -24 20 -18 13.5 -22 14.5 -20 11.5 -20 10.5 -22 8.5 -26 6 -33.5 5 -76.5 9 -1 1 0 16 -1 1.5 0 2.5 -1 42 -1 4 -0.5 16 -1.5 10 -4 8 -0.5 8 -1.5 2.5 -2.5-0.5 -1.5-9 -1-1 -1-1 -4 1 -0.5 8 -1.5 3.5 -1 10.5 -1 2 -2 0 -0.5 4 -1.5 4 -0.5 16 -1.5 12 -6 11.5 -3 10.5 -3 3.5 -1 6.5 -2 6 -3 2 -2 3 -6 3 -2-3 -2 3.5 -8 3.5 -2-1.5 -2 2.5 -8 0.5 -4-4 -2 2 -2 0 -2-2 -6 0 -2 3 -2-2 -10 0 -2 2 -2-1 -2-2.5 -2 1.5 -2-2 -6-1 -2-2 -1 2.5 -3 3 -2-5 -2-1.5 -2 0 -2-2 -4 0 -2 2 -2 0 -2-4 -2 0 -4 4 -2-2 -2 0 -2 2 -4-4 -4 0 -2 2 -2-2 -2 1.5 -4-0.5 -2-2 -4 0 -4 4 -2-2 -2 2 -2-2 -10 0.5 -2-2 -2 2 -2 0 -2 2 -2 0 -2 1 -2-2 -2 0.5 -2-1.5 -8 0 -2-2 -2 2 -2 0 -2 2 -2-2 -4 0 -2 2 -2 0 -4-4 -2 4 -2 0 -2 2 -0.5 4 -1.5 2 -2 0.5 -2 2 -4 0 -1-2.5 -1-6 -2-5.5 -2 2 -2 0 -4-0.5 -2-2 -2 1.5 -1.5 6.5 -2.5 2.5 -2-2 -2 0 -2 2 -2 0 -2-2.5 -2 0 -4 4 -4-4 -2 0.5 -1-2.5 -2.5-8 -2-16 -0.5-18 -2 1 -2-4 -2 1.5 -2 0 -2-2 -8-1.5 -8-0.5 -2 1.5 -12-1.5 -2 0 -2-3 -2-0.5 -2 1.5 -2 0 -2-1 -2-2.5 -2 1.5 -2-2 -4 2.5 -2-2.5 -3-0.5 -3-3 -2-0.5 -1.5 1.5 -0.5 2 -2-0.5 -2 1.5 -2-2.5 -4-1 -2-2.5 -6-1.5 -2 1.5 -2-0.5 -2-2 -6-2 -2-2 -4-1.5 -2-0.5 -1.5 1.5 -0.5 2.5 -2-0.5 -2-3 -2-0.5 -4-4 -2 3 -8-1 -2-3 -2-0.5 -4-0.5 -2 2 -2-2 -2 0.5 -6-0.5zM514 839.5l-0.5 0.5 1.5 2 1.5 0 2-2 -2.5-1.5zM1181 766l1-0.5 2 0.5 0.5 2 5.5 6 0.5 2 3.5 4 14 20.5 27.5 55.5 25 44 10 28 0.5 4 -1 1 -2 0 -2.5-3 -44-66 -24.5-56 -15-26 -0.5-2 -1.5-2 -0.5-2 -1.5-2 -0.5-2 -1.5-2 0-1z"/>
<path fill="#0000e8" d="M188 82l185.5 0 0.5 5.5 1.5 2.5 0.5 2.5 1.5 1.5 2.5 8.5 1.5 1.5 2.5 8.5 1.5 1.5 2.5 8 1.5 2 2.5 8 1.5 2 0.5 2.5 1 1.5 1 4 1.5 2 0.5 2.5 1.5 1.5 2.5 8.5 1.5 1.5 2.5 8 1.5 2 0.5 2.5 1.5 1.5 0.5 4 2 2 0 2.5 1.5 1.5 0.5 3.5 2 2.5 0 2 2 2 0 2.5 1.5 1.5 0.5 4 2 2 0 2 2 2 0-4.5 -1.5-1.5 -0.5-4 -2-2 0-4 -2-2 0-2.5 -1.5-1.5 -0.5-4.5 -1.5-1.5 -0.5-3 -2-3 0-2.5 -1.5-1.5 -0.5-4 -1.5-2 -0.5-3 -1-1 -1-4.5 -1.5-1.5 -0.5-3.5 -1.5-2.5 -0.5-2.5 -1.5-1.5 -0.5-4 -1.5-2 -2.5-8.5 -1.5-1.5 -2.5-8.5 -1.5-1.5 -0.5-4 -1.5-2 -0.5-3 -1-1 -1-4 -1.5-2 -2.5-8.5 -1.5-1.5 -0.5-3 -1.5-3 0-2 263 0 0.5 133 4-3.5 2-3.5 7.5-20 5.5-12 17-25.5 6-11 20-45 2-6.5 0.5-6 583.5 0 0 289.5 -30 5 -38 8 -26 6 -27.5 7.5 -32.5 10.5 -26.5 9.5 -19.5 8.5 -20 10 -20 12.5 -16.5 13 -107.5 98 -24 20 -18 13 -20 13.5 -24 13.5 -22.5 12 -20.5 8 -25 6.5 -33 5.5 -77 10.5 -1 1.5 0 16 -1 1.5 0 2.5 -0.5 34 -0.5 8 -1 4 -0.5 16 -1.5 10 -4 8 -0.5 6 -1.5 4.5 -2-0.5 -2-9 -0.5-1 -1.5-1 -4 1 -0.5 8 -1.5 4 -0.5 8 -1.5 3.5 -2 0.5 -0.5 4 -1.5 3.5 -0.5 16.5 -2 12 -5.5 11.5 -3 10.5 -3 3.5 -1 6.5 -2 6 -3 1.5 -2 3 -6 3.5 -2-3.5 -2 4 -4 1.5 -4 1.5 -2-1 -2 2.5 -8 0 -4-3.5 -2 2 -2 0 -2-2 -6 0 -2 2.5 -2-2 -10 0 -2 2.5 -2-1 -2-2.5 -2 1 -2-2 -6-0.5 -2-2.5 -1 3 -3 3 -2-5 -2-2 -2 0 -2-2 -4 0 -2 2 -2 0 -2-4 -2 0 -4 4 -2-2 -2 0 -2 2 -4-4 -4 0 -2 2 -2-2 -2 1.5 -4 0 -2-2 -4 0 -4 4 -2-2 -2 2 -2-2 -10 0 -2-2 -2 2 -2 0 -2 2 -2 0 -2 1.5 -2-2.5 -2 1 -2-2 -8 0 -2-2 -2 2 -2 0 -2 2 -2-2 -4 0 -2 2 -2 0 -4-4 -2 4 -2 0 -2 2 -1 4.5 -1 1.5 -2 0.5 -2 2 -4 0 -1-2 -1-6.5 -2-5 -2 1.5 -2 0 -4-0.5 -2-2 -2 2 -1 4.5 -3 4 -2-2 -2 0 -2 2 -2 0 -2-2 -2-0.5 -4 4 -4-4 -2 0.5 -1-2 -1-5.5 -1-2.5 -2.5-16 -0.5-18 -2 0.5 -2-4 -2 2 -2-0.5 -2-2 -8-1 -8-0.5 -2 1.5 -12-1.5 -2-0.5 -2-2.5 -2-0.5 -2 1.5 -2-0.5 -2-1 -2-2.5 -2 2 -2-2.5 -4 2.5 -2-2 -4-1.5 -2-2.5 -2 0 -1.5 1.5 -0.5 2 -2-1 -2 1.5 -2-2 -2.5-0.5 -1.5-1 -2-2.5 -4-0.5 -2-1 -2 1.5 -2 0 -4-3.5 -4-0.5 -4-3.5 -4-0.5 -1.5 1.5 -0.5 2 -1 0 -3-3.5 -2 0 -4-4.5 -2 2.5 -8-0.5 -2-3.5 -6-0.5 -2 2 -2-2 -8 0zM516 838l-2.5 2 0.5 2 2 0 2-0.5 0.5-1.5zM1212.5 824l3.5-1.5 2 1.5 0.5 2 1.5 1.5 0.5 2.5 1.5 1 1 3 1 1 10.5 21 25.5 44.5 10 27.5 0.5 4 -0.5 0.5 -2 0 -2-2.5 -44-67.5 -8.5-20.5 -1.5-2 -2.5-8 -1.5-2 0-4z"/>
<path fill="#0000f6" d="M188 82l185 0 1 5.5 1.5 2.5 0.5 2.5 1 1.5 3 8.5 1.5 1.5 2.5 8.5 1.5 1.5 2.5 8.5 1.5 1.5 2.5 8.5 1.5 1.5 2.5 8 1.5 2 0.5 3 1 1 1 4 1.5 2 0.5 2.5 1.5 1.5 2.5 8.5 1.5 1.5 2.5 8.5 1.5 1.5 0.5 3 1.5 1 0.5 4 1.5 2 0.5 2.5 1.5 1.5 0.5 3.5 2 2.5 0 2.5 1.5 1.5 0.5 3 2 3 0 2 2 2 0 2.5 1.5 1.5 0.5 4 2 2 0 2 2 1.5 0-3.5 -2-2 0-4 -2-2 0-2.5 -1-1.5 -1-4.5 -1.5-1.5 -0.5-4 -2-2 0-2.5 -1.5-1.5 -0.5-4.5 -1.5-1.5 -0.5-3 -2-3 0-2.5 -1.5-1.5 -0.5-4 -1.5-2 -2.5-8.5 -1.5-1.5 -2.5-8.5 -1.5-1.5 -0.5-4 -1.5-2 -2.5-8.5 -1.5-1.5 -2.5-8.5 -1-1.5 -1-4 -3-6 -1-4 -1.5-2 -0.5-3 -1-1 -1-4.5 -1.5-1.5 -2.5-8.5 -1.5-1.5 -0.5-3.5 -1.5-2.5 0-2 263 0 0.5 135.5 4-3.5 2.5-4 8-22 4.5-10 17.5-26 7.5-14 18.5-42 2.5-8 0.5-6 582.5 0 0 286.5 -61 11.5 -45 11 -26 8 -28 9 -22 8.5 -20 8.5 -26 14 -21.5 15 -14.5 12 -34 31.5 -78 70 -26 20 -30 18.5 -44 23.5 -12 5 -16 5.5 -36.5 8 -87.5 14.5 -1 1.5 0 16 -1 1 -0.5 3 0 34 -0.5 8 -1.5 4 -0.5 16 -1 4 -0.5 6 -3.5 7.5 -0.5 6.5 -1.5 4 -2 0 -2.5-10 -1.5-1.5 -4 1 -1 8.5 -1 4 -0.5 8 -1.5 3.5 -2 0 -0.5 4.5 -1.5 3.5 -0.5 16.5 -2 12 -5.5 11 -3.5 11 -2.5 3.5 -1 6.5 -2 6 -3 1.5 -2 3 -6 3 -2-3 -2 4 -4 1.5 -4 1.5 -2-1 -2 2.5 -8 0 -4-3.5 -2 2 -2 0 -2-2 -6 0 -2 2.5 -2-2 -10 0 -2 2 -2-1 -2-2.5 -2 1.5 -2-2 -6-0.5 -2-2.5 -1.5 3 -2.5 3 -2-5.5 -2-1.5 -2 0 -2-2 -4 0 -2 2 -2 0 -2-4 -2 0 -4 4 -2-2 -2 0 -2 2 -4-4 -4 0 -2 2 -2-2 -2 1.5 -4 0 -2-2 -4 0 -4 4 -2-2 -2 2 -2-2 -10 0 -2-2 -2 2 -2 0 -2 2 -2 0 -2 1 -2-2 -2 1 -2-2 -8 0 -2-2 -2 2 -2 0 -2 2 -2-2 -4 0 -2 2 -2 0 -4-4 -2 4 -2 0 -2 2 -1 4.5 -1 1.5 -2 0.5 -2 2 -4 0 -1-2 -1-6.5 -2-5 -2 1.5 -2 0 -4-0.5 -2-2 -2 2 -1 4.5 -3 4 -2-2 -2 0 -2 2 -2 0 -2-2.5 -2 0 -4 4 -4-4 -2 0.5 -1-2 -1-5.5 -1-2.5 -2.5-16 -0.5-18 -2 0.5 -2-4 -2 2 -2-0.5 -2-2 -4-1 -12-1 -2 1.5 -12-1.5 -2-0.5 -2-2.5 -2-0.5 -2 1.5 -1.5 0 -2.5-1 -2-2.5 -2 1.5 -2-2.5 -4 3 -2-2.5 -4-1.5 -2-2 -2-0.5 -2 3 -2-0.5 -2 1.5 -2-2 -4-1.5 -2-2.5 -2.5 0 -3.5-1.5 -2 1.5 -2 0 -4-3.5 -4-0.5 -4-3.5 -4-0.5 -2 2 0 1.5 -2-1 -2-2.5 -2 0 -4-4.5 -2 2.5 -1 0 -7-1.5 -2-2.5 -6-1 -2 1.5 -2-2.5 -2 1.5 -6-1zM516 838l-2 0.5 -1 1.5 1 2 4 0 0.5-2zM1240 870l4 4 0.5 2 5.5 8 10 17.5 10 27 0 4 -2.5-0.5 -35.5-56 0-1z"/>
<path fill="#0000ff" d="M188 82l185 0 1 6 3 6 7 18.5 1 1.5 3 8.5 1 1.5 3 8.5 1.5 1.5 2.5 8.5 1.5 1.5 2.5 8 3 6 1 4 1.5 2 0.5 2.5 1.5 1.5 2.5 8.5 1.5 1.5 2.5 8.5 1.5 1.5 2.5 8 1.5 2 0.5 2.5 1.5 1.5 0.5 4 1.5 2 0.5 2.5 1.5 1.5 0.5 3 2 3 0 2.5 1.5 1.5 0.5 2.5 1.5 1.5 0.5 4 2 2 0 2 2 2 0 2.5 2 0 0-0.5 -1.5-2 -0.5-4 -1.5-2 -0.5-4 -2-2 0-3 -1-1 -1-4.5 -1.5-1.5 -0.5-3.5 -1.5-2.5 -0.5-2.5 -1.5-1.5 -0.5-4 -1.5-2 -0.5-3 -1.5-3 -0.5-2.5 -1.5-1.5 -0.5-4 -1.5-2 -0.5-3 -1-1 -1-4 -1.5-2 -0.5-3 -1.5-3 -0.5-2.5 -1.5-1.5 -0.5-3.5 -1.5-2.5 -0.5-3 -1-1 -1-4 -1.5-2 -0.5-3 -1.5-3 -0.5-2.5 -1-1.5 -1-3.5 -3-6.5 -1-4 -1.5-2 -2.5-8.5 -1.5-1.5 -2.5-8.5 -1-1.5 -1-3.5 -3-6.5 -1-4 -1.5-2 0-2 43.5 0 0 4.5 1.5 1.5 0.5 4 1.5 2 0.5 3.5 2 2.5 0 2.5 1.5 1.5 0.5 4.5 2 1.5 0 4 2 2 0 2 2 0.5 1-0.5 -1-2 0-4.5 -1.5-1.5 -0.5-4.5 -1.5-1.5 -0.5-4.5 -1.5-1.5 -0.5-4.5 -1.5-1.5 -0.5-4.5 -1.5-1.5 -0.5-4 215.5 0 0.5 139 4-4 4-7 8-22 4.5-10 17.5-26.5 6-11.5 20-44.5 2-7.5 0.5-6 581.5 0 0 283.5 -60 11.5 -48 12 -26 8 -28 9.5 -22 8.5 -20 9 -26 14 -20 14 -12 10 -36 33.5 -74 66 -24 18.5 -26 16 -56.5 30 -11.5 5 -14 5 -14 4 -26 6 -84 16.5 -1.5 1.5 0.5 16 -1 1 -0.5 3 0 34 -0.5 8 -1.5 4 -0.5 16 -1 4 -0.5 6 -3.5 7 -0.5 7 -1.5 4 -2-0.5 -2.5-9.5 -1.5-1.5 -4 1 -1 8.5 -1 4 -1 8 -1 3 -2 0.5 -0.5 4.5 -1.5 3 -0.5 17 -2 12 -5.5 11 -3.5 11 -2.5 3 -0.5 5 -3 8 -2.5 1 -2 3.5 -6 3 -2-3.5 -2 4 -4.5 2 -3.5 1 -2-0.5 -2 2 -8 0.5 -2-2.5 -2-1.5 -2 2 -2 0 -2-2 -6 0 -2 2.5 -2-2 -10 0 -2 2.5 -2-1 -2-2.5 -2 1 -2-2 -6-0.5 -2-2 -1.5 3 -2.5 2.5 -2-5 -2-2 -2 0 -2-2 -4 0 -2 2 -2 0 -2-4 -2 0 -4 4 -2-2 -2 0 -2 2 -4-4 -4 0 -2 2 -2-2 -2 2 -4-0.5 -2-2 -4 0 -4 4 -2-2 -2 2 -2-2 -10 0 -2-2 -2 2 -2 0 -2 2 -2 0.5 -2 1 -2-2.5 -2 1 -2-2 -8 0 -2-2 -2 2 -2 0 -2 2 -2-2 -4 0 -2 2 -2 0 -4-4 -2 4 -2 0 -2 2 -2 6.5 -2 0.5 -2 2 -4 0 -2-9 -2-5 -2 2 -2 0 -4-1 -2-2 -2 2 -1 5 -3 4 -2-2 -2 0 -2 2 -2 0 -2-2.5 -2-0.5 -4 4 -4-4 -2 0.5 -1-1.5 -1-6 -1-2 -2.5-16 -0.5-18 -2 0.5 -2-4 -2 1.5 -2-0.5 -2-2 -4-0.5 -12-1 -2 1 -12-1 -2-1 -2-2.5 -2 0 -2 1.5 -4-1.5 -2-2.5 -2 2 -2-2.5 -4 2.5 -2-2 -4-2 -2-2 -2 0 -2 2.5 -2-0.5 -2 1.5 -2-2.5 -4-1 -2-2.5 -6-1.5 -2 1 -2-0.5 -2-2.5 -6-1.5 -3.5-2.5 -4.5-1 -2 2.5 -2-0.5 -2-2 -2-0.5 -4-4 -2 2.5 -8-1.5 -2-2 -6-1.5 -2 1 -2-2 -2 1 -6-1zM516 838l-2 0.5 -1 1.5 1 2 4 0 1-2 -1-1.5zM554 804l0 0.5 2 1.5 0-2zM1256 902l2-1 0 1 2 1.5 0.5 2.5 1.5 2 1 4 1 1.5 2.5 8.5 1.5 1.5 1 4.5 1 1 0 3 -2 0 -10-15.5 -4.5-8.5 -1.5-2 0-1.5z"/>
<path fill="#0000ff" d="M188 82l185 0 1 6 1.5 2 8.5 23 1 1 3 8.5 1 1.5 3 8.5 1 1.5 3 8.5 1 1.5 3 8.5 1.5 1.5 2.5 8 3 6 1 4 1.5 2 0.5 2.5 1.5 1.5 2.5 8.5 1.5 1.5 2.5 8.5 1.5 1.5 2.5 8 1.5 2 0.5 2.5 1.5 1.5 0.5 4 1.5 2 0.5 2.5 1.5 1.5 0.5 3.5 2 2.5 0 2.5 1.5 1.5 0.5 3 1 1 1 2 0 2 2 2 0 2.5 1.5 1.5 0.5 4 2 2 0 2 2-0.5 0-1.5 -2-2 0-3 -2-3 0-2.5 -1.5-1.5 -0.5-4 -2-2 0-2.5 -1-1.5 -1-4.5 -1.5-1.5 -0.5-3.5 -1.5-2.5 -0.5-2.5 -1.5-1.5 -0.5-4 -1.5-2 -2.5-8.5 -1.5-1.5 -0.5-3.5 -1.5-2.5 -0.5-2.5 -1-1.5 -1-4 -1.5-2 -0.5-3 -1-1 -1-4.5 -1.5-1.5 -0.5-3.5 -1.5-2.5 -0.5-2.5 -1-1.5 -1-4 -1.5-2 -2.5-8.5 -1.5-1.5 -4.5-14 -1.5-2 -2.5-8 -1.5-2 -2.5-8.5 -1-1.5 -5-14 -5.5-12 0-2 43 0 0.5 5 1.5 3 0.5 2.5 1.5 1.5 0.5 4.5 1.5 1.5 0.5 4 1.5 2 0.5 3 1.5 3 0.5 2.5 1.5 1.5 0.5 4.5 1.5 1.5 0.5 4 1.5 2 0.5 3.5 2 2.5 0 2.5 1.5 1.5 0.5 4.5 2 1.5 0 3.5 2 0 2-0.5 0-1 -2-2 0-4.5 -1.5-1.5 -0.5-4.5 -1.5-1.5 -0.5-4.5 -1.5-1.5 -0.5-4 -1.5-2 -0.5-4 -1.5-2 -0.5-4 -1.5-2 -0.5-4 -1.5-2 -0.5-4 -1.5-2 -0.5-3.5 -1.5-2.5 -0.5-3.5 -1.5-2.5 0-2 11 0 0.5 5 2 3 0 2.5 2 1.5 0 3 2 0.5 0-5 -2-2.5 0-3.5 -2-2.5 0-2 201.5 0 0.5 143.5 4 0.5 4-2 1-2 -1.5-4 0-2 11-32 5.5-10 16-24 6-11.5 19-42.5 2.5-8 0.5-6 580 0 0 280.5 -64 13 -46 12 -28 8.5 -26 9 -22 8.5 -18 8.5 -26 14 -20 14 -14 12 -36 33.5 -68 60 -22 17 -22 14 -14 7.5 -32 15 -24 13.5 -23 9.5 -34.5 10 -88.5 20.5 -1.5 1.5 0 16 -0.5 1 -0.5 3 0 34 -2 12 -0.5 16 -1 4 -0.5 6 -3.5 7 -0.5 7 -1.5 3.5 -2 0 -2.5-9.5 -1.5-1.5 -4 1 -1 8.5 -1 4 -1 8 -1 3 -2 0.5 -0.5 4.5 -1.5 2.5 -0.5 17.5 -2.5 12 -5 11 -3.5 11 -2.5 3 -1 5 -2.5 8 -2.5 1 -2 3 -6 3 -2-3 -2 4 -5 2 -3 1 -2-1 -2 2.5 -8 0 -2-2.5 -2-1 -2 2 -2 0 -2-2 -6 0 -2 2.5 -2-2 -10 0 -2 2 -2-0.5 -2-2.5 -2 1 -2-2 -6-0.5 -2-2.5 -1.5 3.5 -2.5 2.5 -2-5 -2-2 -2 0 -2-2 -4 0 -2 2 -2 0 -2-4 -2 0 -4 4 -2-2 -2 0 -2 2 -4-4 -4 0 -2 2 -2-2 -2 1.5 -4 0 -2-2 -4 0 -4 4 -2-2 -2 2 -2-2 -10 0 -2-2 -2 2 -2 0 -2 2 -2 0 -2 1.5 -2-2.5 -2 1 -2-2 -8 0 -2-2 -2 2 -2 0 -2 2 -2-2 -4 0 -2 2 -2 0 -4-4 -2 4 -2 0 -2 2 -2 6 -2 0.5 -2 2 -4 0 -2-8.5 -2-5 -2 1.5 -2 0 -4-0.5 -2-2 -2 2 -1 5 -3 3.5 -2-2 -2 0 -2 2 -2 0 -2-2 -2-0.5 -4 4 -4-4 -2 0.5 -1-1.5 -2-8 -2.5-16 -0.5-18 0-0.5 -2 1 -2-4 -2 1.5 -2-0.5 -2-2 -4-0.5 -12-1.5 -2 1.5 -12-1.5 -2-1 -2-2 -2-0.5 -2 1.5 -4-1.5 -2-2 -2 1 -2-2 -4 2 -2-2 -4-1.5 -2-2 -2 0 -2 2 -2-0.5 -2 1.5 -2-2.5 -4-1 -2-2 -6-2 -2 1 -2-0.5 -2-2 -6-2 -2-1.5 -6-1.5 -2 2 -2-0.5 -2-2 -2-0.5 -4-3.5 -2 2 -8-1.5 -2-2 -2-0.5 -4-0.5 -2 0.5 -2-1.5 -2 0.5 -6-1zM516 837.5l-2 0.5 -1.5 2 1.5 2.5 4-0.5 1-2 -1-1.5zM554 804l0 1 2 1 0.5-2zM1264.5 922l1.5-0.5 0.5 2.5 1.5 1.5 0 2.5 2 2 0 1 -2 0.5 -0.5-1.5 -1.5-2 -0.5-2 -1.5-2z"/>
<path fill="#0008ff" d="M188 82l184.5 0 1.5 6 15 36 1 4 3 6 3 8.5 1 1.5 3 8.5 1 1.5 3 8.5 1.5 1.5 2.5 8 3 6 3 8.5 1.5 1.5 2.5 8.5 1.5 1.5 2.5 8.5 1.5 1.5 2.5 8 1.5 2 0.5 2.5 1.5 1.5 0.5 4 1.5 2 0.5 2.5 1.5 1.5 0.5 3.5 2 2.5 0 2.5 1.5 1.5 0.5 3 2 3 0 2.5 1.5 1.5 0.5 2.5 1.5 1.5 0.5 4 2 2 0 2.5 1.5 1.5 0.5 2 0.5-2 -0.5-4 -2-2 0-3 -2-3 0-2.5 -1.5-1.5 -0.5-4 -2-2 0-2.5 -1.5-1.5 -0.5-4.5 -1.5-1.5 -0.5-3 -1.5-3 -0.5-2.5 -1.5-1.5 -0.5-4 -1.5-2 -2.5-8.5 -1.5-1.5 -2.5-8.5 -1.5-1.5 -0.5-4 -1.5-2 -2.5-8 -1.5-2 -0.5-3.5 -1.5-2.5 -0.5-2.5 -1-1.5 -1-4 -3-6 -1-4 -1.5-2 -8.5-24 -1-2 -3-8 -1-2 -9-24 -5-12 0-2 42.5 0 0.5 5.5 1.5 2.5 2.5 8.5 1 1.5 1 4.5 1.5 1.5 0.5 4 1.5 2 0.5 3.5 1.5 2.5 0.5 3 1 1 1 4.5 1.5 1.5 0.5 4 1.5 2 0.5 3.5 1.5 2.5 0.5 3 1 1 1 4.5 1.5 1.5 0.5 4 2 2 0 2.5 1.5 1.5 0.5 3.5 2-0.5 0-5.5 -1.5-1.5 -0.5-4.5 -1.5-1.5 -0.5-5 -1-1 -1-5 -1.5-3 -0.5-3 -1-1 -1-5 -1-1 -1-5 -1-1 -1-4.5 -1-1.5 -1-4.5 -1-1.5 -1-4.5 -1-1.5 -1-4.5 -1-1.5 -1-4.5 -1.5-1.5 -0.5-4 -1.5-2 0-2 10.5 0 1 6 1.5 2 2.5 8.5 1.5 1.5 0.5 4 2 2 0 2.5 1.5 1.5 0.5 3.5 2-0.5 0-3 -1.5-2 -0.5-4.5 -1.5-1.5 -0.5-4.5 -1.5-1.5 -0.5-4.5 -1.5-1.5 -0.5-4 -1.5-2 0-2 201 0 0.5 147 4 1.5 6-1.5 2-1.5 1-3.5 -3-8 0-4 8-24 6-12 16-24 6.5-12 19.5-44 2.5-8 0.5-6 579 0 0 277.5 -60 12.5 -47 12 -25 8 -29.5 10 -24.5 9.5 -18.5 8.5 -26 14 -21.5 15.5 -14.5 12.5 -37.5 35 -58 51 -22 17.5 -20 13 -18 9 -36 15 -27.5 15.5 -22.5 10 -37.5 12 -82.5 22 -1.5 2 -1 54 -2 12 -0.5 16 -1 4 -0.5 6 -3.5 6.5 -0.5 7.5 -1.5 3.5 -2-0.5 -0.5-1 -1.5-8 -2-2 -4 1.5 -3 20.5 -1 2.5 -2 0.5 -1 5 -1 2.5 -0.5 17.5 -2.5 12 -5 10.5 -3.5 11.5 -2.5 2.5 -1 5.5 -3 8 -2 1 -2 3 -6 3 -2-3.5 -2 4 -5.5 2.5 -2.5 1 -2-1 -2 2.5 -8 0 -2-2.5 -2-1 -2 1.5 -2 0 -2-2 -6 0 -2 3 -2-2 -10 0 -2 2 -2-1 -2-2.5 -2 1.5 -2-2 -6-1 -2-2 -1.5 3.5 -2.5 2.5 -2-5.5 -2-1.5 -2 0 -2-2 -4 0 -2 2 -2 0 -2-4 -2 0 -4 4 -2-2 -2 0 -2 2 -4-4 -4 0 -2 2 -2-2 -2 1.5 -4 0 -2-2 -4 0 -4 4 -2-2 -2 2 -2-2 -10 0 -2-2 -2 2 -2 0 -2 2 -2 0 -2 1 -2-2 -2 0.5 -2-1.5 -8 0 -2-2 -2 2 -2 0 -2 2 -2-2 -4 0 -2 2 -2 0 -4-4 -2 4 -2 0 -2 2 -2 6 -2 0.5 -2 2 -4 0 -2-9 -2-5 -2 2 -2 0 -4-0.5 -2-2 -2 1.5 -1.5 5.5 -2.5 3.5 -2-2 -2 0 -2 2 -2 0 -2-2.5 -2 0 -4 4 -4-4 -2 0.5 -0.5-1.5 -3-10 -0.5-8 -1.5-6 -0.5-18 0-0.5 -2 0.5 -2-4 -2 1.5 -2-0.5 -2-2 -2 0 -14-1.5 -2 1 -12-1.5 -2-1 -2-2 -2-0.5 -2 1.5 -4-1.5 -2-2 -2 1 -2-2 -4 1.5 -2-2 -4-1 -2-1.5 -2-1 -2 2.5 -2-1 -2 1 -2-2 -4-1 -2-2 -6-1.5 -2 0.5 -2-0.5 -2-1.5 -6-2 -2-1.5 -6-2 -2 2 -2-0.5 -2-1.5 -2-0.5 -4-3.5 -2 2 -8-2 -2-1.5 -6-1.5 -2 1 -2-2 -2 0.5 -6-1zM450 273.5l2 3 0-3zM514 838l-1.5 2 1 2 2.5 0.5 2.5-0.5 0.5-2 -1-2zM554 803.5l0 2 2 0.5 0.5-2z"/>
<path fill="#0014ff" d="M188 82l86 0 0 2 1 0 0-2 97.5 0 1.5 6 20 50 7 16 3 8.5 1 1.5 3 8 1.5 2 2.5 8 3 6 3 8.5 1 1.5 3 8.5 1.5 1.5 2.5 8.5 1.5 1.5 2.5 8 1.5 2 0.5 3 1.5 1 0.5 4 1.5 2 0.5 2.5 1.5 1.5 0.5 3.5 1.5 2.5 0.5 2.5 1.5 1.5 0.5 3 2 3 0 2.5 1.5 1.5 0.5 3 2 3 0 2 2 2 0 3 1 1 1 4 2 1.5 0-4.5 -2-3 0-2 -2-2 0-3.5 -2-2.5 0-2.5 -1.5-1.5 -0.5-4 -1.5-2 -0.5-3 -1-1 -1-4 -1.5-2 -0.5-3 -1.5-3 -0.5-2.5 -1.5-1.5 -0.5-3.5 -1.5-2.5 -0.5-2.5 -1-1.5 -1-4 -1.5-2 -2.5-8.5 -1.5-1.5 -0.5-3.5 -1.5-2.5 -0.5-2.5 -1-1.5 -1-4 -1.5-2 -0.5-3 -1-1 -1-4.5 -1.5-1.5 -0.5-3.5 -3-6.5 -1-4 -5-12 -5-14 -23-58 0-2 42 0 1 6 1.5 2 4.5 14.5 1 1.5 1 4.5 1.5 1.5 0.5 4 1.5 2 0.5 3.5 3 6.5 1 4.5 1 1.5 1 4 1.5 2 0.5 3.5 1.5 2.5 0.5 3 1 1 1 4.5 1.5 1.5 0.5 4 1.5 2 0.5 3 1 1 1 4.5 1.5 1.5 0.5 4 2 2 0 1 2-0.5 0-3 -1.5-1.5 -0.5-5 -2-3 0-3 -1.5-3 -0.5-3.5 -1.5-2.5 -0.5-3.5 -1.5-2.5 -0.5-3.5 -1.5-2.5 -0.5-3.5 -1.5-2.5 -0.5-3.5 -1.5-2.5 -0.5-3.5 -1.5-2.5 -0.5-3.5 -7-18.5 -1-5 -1-1 -1-4.5 -1-1.5 -1-4.5 -1-1.5 0-2 9.5 0 1.5 6.5 1 1.5 1 4 1.5 2 2.5 8.5 1.5 1.5 0.5 3.5 1.5 2.5 0.5 2.5 1.5 1.5 0.5 4 2 1.5 1-1.5 -1-5 -1.5-3 -0.5-3 -1.5-3 -0.5-3 -1.5-3 -2.5-9 -1-1 -1-4.5 -1-1.5 0-2 200 0 1 149.5 4 3.5 2 0 6-2.5 2-5 0.5-3.5 -0.5-3 -2-5 -0.5-4 7.5-24 6-12 15-22 7.5-14 19.5-44 2.5-8 0.5-6 578 0 0 274.5 -64 14 -46 12 -26 8.5 -28 10 -24 9.5 -18 8 -26 14.5 -20 14.5 -16 14 -36 33.5 -56 49 -20 16 -18 11.5 -12 6.5 -10 4 -30 9.5 -10 3.5 -8 4.5 -24 14.5 -27 12 -34 12 -75 24 -1.5 2 -1 54 -2 12 -0.5 16 -1.5 10 -3.5 6.5 -1 7.5 -1 3 -2 0 -0.5-1 -1.5-8 -2-2 -4 1.5 -3 20.5 -1 2.5 -2 0.5 -1 5 -1 2 -0.5 18 -2.5 12 -5 10.5 -4 11.5 -2 2.5 -1 5.5 -2 6 -1 2 -2 0.5 -2 3 -6 3.5 -2-3.5 -2 4 -6 2.5 -2 0.5 -2-1 -2 2.5 -8 0 -2-2.5 -2-1 -2 2 -2 0 -2-2 -6 0 -2 2.5 -2-2 -10 0 -2 2 -2-0.5 -2-2.5 -2 1 -2-2 -6-0.5 -2-2.5 -2 4 -2 2 -2-5 -2-2 -2 0 -2-2 -4 0 -2 2 -2 0 -2-4 -2 0 -4 4 -2-2 -2 0 -2 2 -4-4 -4 0 -2 2 -2-2 -2 1.5 -4 0 -2-2 -4 0 -4 4 -2-2 -2 2 -2-2 -10 0 -2-2 -2 2 -2 0 -2 2 -2 0.5 -2 1 -2-2.5 -2 1 -2-2 -8 0 -2-2 -2 2 -2 0 -2 2 -2-2 -4 0 -2 2 -2 0 -4-4 -2 4 -2 0 -2 2 -2 6.5 -2 0 -2 2 -4 0 -2-8.5 -2-5 -2 1.5 -2 0 -4-0.5 -2-2 -2 2 -1.5 5.5 -2.5 3 -2-2 -2 0 -2 2 -2 0 -2-2 -2-0.5 -4 4 -4-4 -2 0.5 -1-3 -2-8 -1-8.5 -1.5-5.5 -0.5-18 0-1 -2 1 -2-4 -2 1.5 -2-0.5 -2-2 -2-0.5 -14-1.5 -2 1 -10-1 -4-1 -2-2 -2-0.5 -2 0.5 -4-1 -2-1.5 -2 0.5 -2-2 -4 1.5 -2-2 -4-1 -2-1.5 -2-1 -2 2 -2-0.5 -2 0.5 -2-1.5 -4-1 -2-2 -6-1.5 -2 0.5 -2-0.5 -2-1.5 -6-2 -2-1.5 -2-0.5 -4-1 -2 1.5 -2-0.5 -4-2 -4-3.5 -2 2 -8-2 -2-1.5 -6-1.5 -2 1 -2-2 -2 0.5 -6-1zM456 285.5l0 4.5 2 2 0-4zM514 838l-2 2 1 2 3 0.5 2.5-0.5 1-2 -1.5-2zM554 803.5l0 2.5 2 0.5 0.5-2.5z"/>
<path fill="#001cff" d="M188 82l85 0 1 4.5 5.5 7.5 0.5 2 3 4 1 2.5 4 4.5 2-1 0-4 -1.5-2 -0.5-2.5 -1.5-1.5 -0.5-2 -5.5-8 -0.5-4 92.5 0 0 2 1 4 20.5 50 11 26 3 8 1 2 3 8 3 6 1 4 3 6 3 8.5 1 1.5 3 8.5 1.5 1.5 2.5 8 1.5 2 2.5 8 1.5 2 0.5 3 1 1 1 4 1.5 2 0.5 2.5 1.5 1.5 0.5 3.5 1.5 2.5 0.5 2.5 1.5 1.5 0.5 4 2 2 0 2.5 1.5 1.5 0.5 3.5 2 2.5 0 2 2 2 0 2.5 1.5 1.5 0.5 4.5 1.5 1.5 0.5 2 2 1 0-3 -1.5-2 -0.5-3 -1.5-1 -0.5-4 -2-2 0-4 -1.5-2 -0.5-2.5 -1.5-1.5 -0.5-4 -1.5-2 -2.5-8 -1.5-2 -0.5-3 -1.5-3 -0.5-2.5 -1.5-1.5 -0.5-3.5 -1.5-2.5 -0.5-2.5 -1.5-1.5 -0.5-4 -1.5-2 -2.5-8 -1.5-2 -0.5-3.5 -1.5-2.5 -0.5-2.5 -1-1.5 -1-4 -3-6 -1-4 -1.5-2 -0.5-3.5 -3-6.5 -1-4 -5-12 -9-24 -23-58 0-2 42 0 1 6.5 1 1.5 7 20.5 1 1.5 1 4.5 1 1.5 1 4 1.5 2 4.5 14.5 1 1.5 1 4 1.5 2 2.5 9 1 1 1 4.5 1.5 1.5 0.5 4 1.5 2 2.5 8.5 1.5 1.5 0.5 4 2 2 0 3 1.5 1 0.5 4 2 2 0.5-2 -0.5-5.5 -2-2.5 0-4 -1.5-2 -0.5-4 -1.5-2 -0.5-4 -1.5-2 -0.5-4 -1.5-2 -0.5-4 -1.5-2 -0.5-4 -1-2 -3-10 -1-2 -1-4 -1-2 -1-4 -1-2 -1-4 -13-36 0-2 9.5 0 0 2 1.5 5 3 7 3 9 1 1 1 4.5 1.5 1.5 2.5 8.5 1.5 1.5 0.5 2.5 2-0.5 0-4 -1.5-2 -0.5-4 -1.5-2 -0.5-4 -1.5-2 -0.5-3.5 -1.5-2.5 -0.5-3.5 -1.5-2.5 -0.5-3 -3-7 0-2 200 0 1 152.5 4 4.5 2 0.5 6-2 2-5 1.5-8.5 -3-10 0-4 7.5-22 5-10 16-24 7.5-14 19.5-44 2.5-8 0.5-6 577 0 0 272 -62 13.5 -48 13 -26 8 -28 10.5 -24 9.5 -18 8 -24 13.5 -20 14 -16 13.5 -40 37 -50 43.5 -20 16 -16 10.5 -14 7.5 -12 4.5 -12 2.5 -22 3 -10 3 -8 4 -25.5 17 -23 12 -38 16 -71.5 27.5 -1.5 2.5 -1 54 -2 12 -0.5 14 -2 12 -3 6 -1 8 -1 3 -2-0.5 -0.5-0.5 -1.5-8 -2-2 -4 1 -3 21 -1 2 -2 1 -1 5 -1 2 -0.5 18 -2.5 12 -5 10 -4 12 -2 2.5 -1 5.5 -2 6 -1 2 -2 0.5 -2 3 -6 3 -2-3 -2 3.5 -6 3 -2 0.5 -2-1 -2 2.5 -8 0 -2-2.5 -2-1 -2 2 -2 0 -2-2 -6 0 -2 2.5 -2-2 -10 0 -2 2 -2-1 -2-2.5 -2 1.5 -2-2 -6-0.5 -2-2.5 -2 4 -2 2 -2-5.5 -2-1.5 -2 0 -2-2 -4 0 -2 2 -2 0 -2-4 -2 0 -4 4 -2-2 -2 0 -2 2 -4-4 -4 0 -2 2 -2-2 -2 1.5 -4 0 -2-2 -4 0 -4 4 -2-2 -2 2 -2-2 -10 0 -2-2 -2 2 -2 0 -2 2 -2 0 -2 1.5 -2-2.5 -2 1 -2-2 -8 0 -2-2 -2 2 -2 0 -2 2 -2-2 -4 0 -2 2 -2 0 -4-4 -2 4 -2 0 -2 2 -2 6 -2 0.5 -2 2 -4 0 -2-9 -2-5 -2 2 -2 0 -4-0.5 -2-2 -2 2 -1.5 5.5 -2.5 3 -2-2 -2 0 -2 2 -2 0 -2-2.5 -2 0 -4 4 -4-4 -2 0.5 -1-3 -2-8 -1-8.5 -1.5-5.5 0-18 -0.5-1 -2 0.5 -2-4 -2 1.5 -2-0.5 -2-2 -2 0 -14-2 -2 1.5 -6-1 -8-1.5 -2-2 -2-0.5 -2 1 -4-1 -2-2 -2 0.5 -2-2 -4 1.5 -2-1.5 -4-1.5 -2-1.5 -2-0.5 -2 1.5 -2-0.5 -2 0.5 -2-1.5 -4-1 -2-1.5 -6-2 -4 0 -2-1.5 -6-2 -3.5-2 -4.5-1 -2 1.5 -2-0.5 -4-2 -4-3.5 -2 2 -8-2 -2-1.5 -6-1.5 -2 0.5 -2-1.5 -2 0.5 -6-1zM460 298.5l0 1.5 2 2 0 2 2 0.5 0-2.5 -2-2 0-1.5zM514 838l-2 2 1 2 3 1 2.5-1 1-2 -1.5-2zM554 803.5l0 2.5 2 0.5 0.5-2.5 -0.5-0.5z"/>
<path fill="#0028ff" d="M188 82l84 0 0 2 10 16 8 12.5 1.5 1.5 0.5 2 2 1.5 2.5-1.5 -0.5-4 -1.5-2 -0.5-2 -4-8 -9.5-16 0-2 91.5 0 0 2 1.5 4 20.5 50 15 36 3 8 1 2 3 8 3 6 1 4 3 6 3 8.5 1 1.5 3 8 1.5 2 2.5 8 1.5 2 2.5 8 1.5 2 0.5 3 1 1 1 4 1.5 2 2.5 8 1.5 2 0.5 2.5 1.5 1.5 0.5 4 1.5 2 0.5 2.5 1.5 1.5 0.5 3.5 1.5 2.5 0.5 2.5 1.5 1.5 0.5 2.5 1.5 1.5 0.5 4.5 1.5 1.5 0.5 2.5 2 1.5 0 2.5 2 0.5 0-1 -2-2 0-4.5 -1.5-1.5 -0.5-2.5 -1.5-1.5 -0.5-4.5 -1.5-1.5 -0.5-3.5 -2-2.5 0-2.5 -1.5-1.5 -0.5-4 -1.5-2 -0.5-2.5 -1.5-1.5 -0.5-4 -1.5-2 -2.5-8.5 -1.5-1.5 -0.5-3.5 -1.5-2.5 -0.5-2.5 -1.5-1.5 -0.5-4 -3-6 -1-4 -1.5-2 -2.5-8 -1-2 -1-3.5 -3-6.5 -1-4 -1.5-2 -2.5-8 -1-2 -1-3.5 -3-6.5 -1-4 -5-12 -9-24 -23-58 0-2 41.5 0 1.5 6.5 11 29.5 1 4 1 2 7 20.5 1 1.5 5 14.5 1 1.5 1 4 1.5 2 2.5 9 1 1 1 4.5 1.5 1.5 0.5 4 1.5 2 0.5 3 1 1 1 4.5 1.5 1.5 0.5 2 2-0.5 0-3.5 -1.5-2 -0.5-4.5 -1.5-1.5 -0.5-4.5 -1.5-1.5 -0.5-4.5 -1.5-1.5 -0.5-4.5 -1-1.5 -1-4.5 -1-1.5 -1-4 -1-2 -1-4 -1-2 -5-16 -18.5-54 0-2 8.5 0 0 2 10 26.5 1 1.5 1 4 1.5 2 0.5 3 1 1 1 3.5 2 2 1-1.5 -1-6.5 -1-1.5 -1-4.5 -1.5-1.5 -0.5-4.5 -1.5-1.5 -0.5-4 -1.5-2 -0.5-4 -3.5-8 -1-6 199.5 0 1 155 4 6.5 2 0.5 6-1.5 2-5 2.5-13.5 -2.5-10 0-4 7-22 5-10 16-24 6.5-12 20.5-46 2.5-8 0-6 576.5 0 0 269 -64 14.5 -48 13 -26 8.5 -28 10.5 -24 10 -18 8 -22 12.5 -22 15.5 -14 12 -40 37.5 -42 36 -22 18 -18 12 -16 8 -14 3.5 -12 0.5 -20-3 -6 0.5 -6 2 -12 7 -28 20.5 -20 12 -39.5 20 -66.5 31.5 -2 2.5 -1 54 -1.5 12 -0.5 14 -2 12 -3 6 -1 8 -1 2.5 -2 0 -2-9 -2-2 -4 1.5 -3 21 -1 2 -2 0.5 -1 5.5 -1 2 -0.5 18 -3 12 -4.5 10 -4 12 -2 2 -1 6 -2.5 6 -0.5 1.5 -2 0.5 -2 3 -6 3.5 -2-3.5 -2 4 -6 2.5 -2 0.5 -2-1 -2 3 -8 0 -2-2.5 -2-1.5 -2 2 -2 0 -2-2 -6 0 -2 2.5 -2-2 -10 0 -2 2 -2-0.5 -2-2.5 -2 1 -2-2 -6-0.5 -2-2 -2 4 -2 1.5 -2-5 -2-2 -2 0 -2-2 -4 0 -2 2 -2 0 -2-4 -2 0 -4 4 -2-2 -2 0 -2 2 -4-4 -4 0 -2 2 -2-2 -2 2 -4-0.5 -2-2 -4 0 -4 4 -2-2 -2 2.5 -2-2 -10 0 -2-2 -2 2 -2 0 -2 2 -2 0 -2 1 -2-2.5 -2 1 -2-1.5 -8 0 -2-2 -2 2 -2 0 -2 2 -2-2 -4 0 -2 2 -2 0 -4-4 -2 4 -2 0 -2 2 -2 6 -2 0.5 -2 2 -4 0 -2-9 -2-5 -2 2 -2 0 -4-0.5 -2-2 -2 1.5 -1.5 6 -2.5 3 -2-2 -2 0 -2 2 -2 0 -2-2.5 -2 0 -4 4 -4-4 -2 0 -1-2.5 -2-8 -1-9 -1.5-5 0-18 -0.5-1 -2 0.5 -2-4 -2 1.5 -2-1 -2-1.5 -2-0.5 -14-1.5 -2 1 -6-0.5 -8-2 -2-1.5 -2-0.5 -2 0.5 -2-0.5 -2-0.5 -2-2 -2 1 -2-2 -4 1.5 -2-2 -4-1 -2-2 -2-0.5 -2 2 -2-1 -2 0.5 -2-1.5 -4-1 -2-1.5 -6-2 -4 0 -2-1.5 -6-1.5 -2.5-2 -5.5-1.5 -2 1.5 -2-0.5 -4-2 -4-3.5 -2 2 -8-2 -2-1.5 -6-1.5 -2 0.5 -2-1.5 -2 0.5 -6-1zM466 310.5l0 5 2 3 2 0.5 0-1.5 -1.5-1.5 -0.5-3zM472 325.5l0 4.5 2 0 0-2zM506 86l0 2 2 0zM554 803.5l-0.5 0.5 0.5 2 2 0.5 0.5-2.5 -0.5-0.5zM508 97l0 3 2 0 0-2zM510 108l0 2 2 0 0-2zM512 119.5l0 2 2 0.5 0-2.5zM514 130l2 2 0-2zM514 837.5l-2 2.5 1 2 3 1 3-1 0.5-2 -1-2z"/>
<path fill="#0034ff" d="M188 82l84 0 0 2 12 20 9.5 14 0.5 2 3.5 4 0.5 2 2 2 2-1.5 0-3 -1.5-1.5 -0.5-2.5 -10-20 -9.5-15.5 0-2 91.5 0 0 2 17.5 44 22.5 54 1 2 3 8 1 2 3 8 3 6 1 4 3 6 3 8 1 2 3 8 1.5 2 0.5 3 1 1 1 4.5 1.5 1.5 2.5 8 1.5 2 2.5 8 1.5 2 0.5 2.5 1.5 1.5 0.5 4 1.5 2 0.5 2.5 1.5 1.5 0.5 4 1.5 2 0.5 3 3 5 1 5 1 1 1 3 1.5 1 0.5 4 1.5 2 0.5 4 4 6 0 2 0-7 -2-3 0-2 -2-2 0-2.5 -1.5-1.5 -0.5-4.5 -3-5.5 -1-4.5 -1-1.5 -1-4 -1.5-2 -0.5-2.5 -1.5-1.5 -0.5-4 -1.5-2 -0.5-3 -1-1 -1-4 -1.5-2 -2.5-8.5 -1.5-1.5 -0.5-4 -3-6 -1-4 -1.5-2 -2.5-8 -1.5-2 -0.5-3.5 -3-6.5 -5-14 -1-2 -23-60 -23-58 0-2 41.5 0 1.5 7 20 55.5 1 1.5 1 4 5 12 1 4.5 1 1.5 1 4 1.5 2 2.5 8.5 1 1.5 1 4.5 1.5 1.5 0.5 4 1.5 2 0.5 3 1 1 1 4 2 1.5 2-1 0-0.5 -1.5-2 -0.5-4.5 -1-1.5 -1-4.5 -1-1.5 -1-5 -1-1 -1-5 -1-1 -1-5 -1-1 -8.5-28 -19.5-56 -1-6 8 0 0 2 12 32 4 10.5 1.5 1.5 0.5 2.5 2-1.5 0-3 -1.5-2 -0.5-5 -1-1 -1-4.5 -1-1.5 -1-4.5 -1-1.5 -1-4.5 -1-1.5 -1-4 -3-8 -1.5-6 199.5 0 1 158 1.5 2 0.5 2.5 2 4 2 1 6-1 2-5 3.5-19.5 -2.5-10 0-4 7-21 5.5-11 16-24 6.5-12 19.5-44 2.5-8 0.5-8 575.5 0 0 266 -64 15 -48 13.5 -26 8.5 -28 10.5 -24 10 -18 8.5 -24 13 -20 14.5 -15 12.5 -35 33 -24 21 -36 30 -20 14 -10 5.5 -10 4 -8 1.5 -8 0.5 -6-1.5 -7.5-4 -4.5-4 -6-8.5 -2-2 -4 0 -4 1.5 -12 7 -14 9.5 -29.5 24.5 -22.5 16 -39 24 -59 35 -2 3 -1 54 -1.5 12 -0.5 14 -2 12 -3 5.5 -1 8.5 -1 2.5 -2-0.5 -2-8.5 -2-2 -4 1.5 -3 21 -1 1.5 -2 1 -1 5.5 -1 2 -0.5 18 -3 12 -4.5 9.5 -4 12 -2 2.5 -1 6 -2.5 6 -0.5 1.5 -2 0.5 -2 3 -6 3 -2-3 -2 3.5 -2 1 -6 2.5 -2-1 -2 2.5 -8 0 -2-2.5 -2-1 -2 2 -2 0 -2-2 -6 0 -2 2.5 -2-2 -10 0 -2 2 -2-0.5 -2-3 -2 1.5 -2-2 -6-0.5 -2-2.5 -2 4 -2 2 -2-5 -2-2 -2 0 -2-2 -4 0 -2 2 -2 0 -2-4 -2 0 -4 4 -2-2 -2 0 -2 2 -4-4 -4 0 -2 2 -2-2 -2 1.5 -4 0 -2-2 -4 0 -4 4 -2-2 -2 2 -2-2 -10 0 -2-2 -2 2 -2 0 -2 2 -2 0 -2 1.5 -2-2.5 -2 1 -2-2 -8 0 -2-2 -2 2 -2 0 -2 2 -2-2 -4 0 -2 2 -2 0 -4-4 -2 4 -2 0 -2 2 -2 6 -2 0.5 -2 2 -4 0 -2-8.5 -2-5 -2 1.5 -2 0 -4-0.5 -2-2 -2 2 -2 6 -2 2.5 -2-2 -2 0 -2 2 -2 0 -2-2 -2-0.5 -4 4 -4-4 -2 0.5 -1-2.5 -2-8 -1-9 -1-5 -0.5-18 -0.5-1 -2 0 -2-4 -2 1.5 -2-0.5 -2-1.5 -2-0.5 -14-2 -2 1.5 -2-0.5 -12-2 -2-2 -2-0.5 -2 0.5 -2-0.5 -4-2 -2 0.5 -2-1.5 -4 1 -2-1.5 -4-1.5 -2-1.5 -2-0.5 -2 1.5 -2-0.5 -2 0 -10-4.5 -8-1.5 -2-1.5 -6-1.5 -2-1.5 -6-2 -2 1.5 -2-0.5 -4-1.5 -4-3.5 -2 1.5 -8-1.5 -2-2 -6-1 -2 0.5 -2-2 -2 0.5 -6-1zM472 324l-2 2 2 2 0 2 2 1 0-3.5 -1.5-1.5zM476 339l0 1 2 2 0.5 2 0-2 -0.5-3zM506 86l0 2.5 2 0 0-1zM518 140.5l-1.5 1.5 1.5 2zM554 803.5l-0.5 0.5 0 2 2.5 0.5 1-2.5 -1-1zM508 96l0 4 2 0 0-2.5zM510 108l0 2.5 2 0 0-2.5zM512 118l0 4 2 0 0-4zM514 130l0 2 2 0 0-2zM514 837.5l-2 2.5 0.5 2 3.5 1 3-1 1-2 -1.5-2z"/>
<path fill="#003cff" d="M188 82l83.5 0 0 2 14.5 24 10 16 3 4 1 2.5 6 7.5 2-1 0-3 -1.5-2 -0.5-2 -1.5-2 -0.5-2 -14-27 -9-15 0-2 91 0 0 2 21.5 54 23.5 56 3 8 1 2 3 8 3 6 2.5 8 1.5 2 3 8 1 2 7 18 1.5 2 2.5 8 1.5 2 0.5 3 1 1 1 4 1.5 2 0.5 3 1 1 1 4 1.5 2 0.5 3 3.5 7 0.5 3 4 7 0 2.5 1.5 1.5 0.5 4 1.5 2 0.5 2 2 2 0 4 1.5 2 0.5 2.5 2 1.5 0 1 0-6 -4-7 0-3.5 -1.5-2.5 -0.5-2 -1.5-2 -2.5-9 -1-1 -2.5-6 -0.5-3 -1-1 -1-4 -1.5-2 -0.5-3 -1-1 -1-4 -1.5-2 -2.5-8 -1-2 -3-8.5 -1-1.5 -1-4 -3-6 -1-4 -1.5-2 -2.5-8 -1-2 -9-24 -1-2 -22.5-60 -23-58 0-2 41 0 0 2 1.5 5 22 61.5 1 1.5 1 4 5 12 1 4.5 3.5 7.5 2.5 8.5 1 1.5 1 4 1.5 2 0.5 3.5 1.5 2.5 0.5 2.5 1.5 1.5 0.5 2 2 0.5 0-4.5 -1-2 -1-5 -1.5-3 -0.5-3 -1.5-3 -0.5-3 -15.5-47 -17.5-50 -1-6 7.5 0 0 2 14.5 38 2 5 1 1 1 3 1.5 1 0.5 1.5 1-1.5 -1-6.5 -1-1.5 -1-5 -11-31 -1-6 199 0 1 158 2 4 0 5.5 2 5 2 1 6-0.5 2-5 4-26 -2.5-12 7-22 5.5-11 15.5-23 7.5-14 20-46 2.5-8 0.5-6 574 0 0 263 -2 0 -66 16.5 -48 13.5 -28 10 -28 10.5 -22 9.5 -20 10 -20 11.5 -18 13 -16 13.5 -38 36 -40 34 -24 18 -10 6.5 -10 5 -10 3.5 -8 0.5 -6-1 -6-4.5 -3.5-5 -2-6 0-6 2.5-16 -1-2.5 -2-0.5 -6 2.5 -28 17.5 -10 5 -18 7 -8 4.5 -21 20.5 -18 16 -30 24 -63 48.5 -2 3.5 -1 54 -1 4 -1 22 -2 12 -3 5.5 -0.5 6.5 -1.5 4.5 -2-0.5 -2-8.5 -2-2 -4 1.5 -3.5 21 -0.5 1.5 -2 0.5 -1 6 -1 2 -1 18 -2 10 -5 11.5 -4 12 -2 2 -1 6.5 -2.5 6 -0.5 1 -2 1 -2 2.5 -6 3.5 -2-3.5 -2 4 -2 1 -6 2.5 -2-1.5 -2 3 -8 0 -2-2.5 -2-1 -2 1.5 -2 0 -2-1.5 -6-0.5 -2 2.5 -2-2 -10 0 -2 2.5 -2-1 -2-2.5 -2 1 -2-2 -6-0.5 -2-2 -2 4 -2 1.5 -2-5 -2-2 -2 0 -2-2 -4 0 -2 2 -2 0 -2-4 -2 0 -4 4 -2-2 -2 0 -2 2 -4-4 -4 0 -2 2 -2-2 -2 2 -4 0 -2-2 -4 0 -4 4 -2-2 -2 2 -2-2 -10 0 -2-2 -2 2 -2 0 -2 2 -2 0 -2 1 -2-2.5 -2 1.5 -2-2 -8 0 -2-2 -2 2 -2 0 -2 2 -2-2 -4 0 -2 2 -2 0 -4-4 -2 4 -2 0 -2 2 -2 6 -2 0.5 -2 2 -4 0 -2-8.5 -2-5.5 -2 2 -2 0 -4-0.5 -2-2 -2 1.5 -2 6.5 -2 2.5 -2-2 -2 0 -2 2 -2 0 -2-2.5 -2 0 -4 4 -4-4 -2 0.5 -1-2.5 -2-8 -1-9.5 -1-4.5 -0.5-18 -0.5-1.5 -2 0 -2-3.5 -2 1 -2 0 -2-2 -16-2 -2 1 -12-2 -6-3 -2 1 -4-1 -2-2 -2 1 -2-2 -4 1 -2-1.5 -4-1 -2-2 -2-0.5 -2 1.5 -2-0.5 -2 0 -8-3.5 -6-2 -2 0.5 -2-0.5 -2-1.5 -6-2 -2-1.5 -5.5-1.5 -2.5 1.5 -2-0.5 -4-2 -4-3.5 -2 2 -8-2 -2-1.5 -6-1.5 -2 0.5 -2-1.5 -2 0 -6-1.5zM476 337l0 3.5 1.5 1.5 0.5 2.5 2 0 0-2.5 -2-2 0-2zM478 239.5l0 2.5 2 0.5 0-2.5zM482 252l0 2 2 0 0-2zM486 264l0 0.5 2 1.5 0-2zM506 85.5l-0.5 0.5 0.5 2.5 2 0 0-1.5zM522 162l0 4 1.5 0zM524 174l0 2.5 1.5-0.5zM526 184.5l0 3.5 2 0 0-1.5zM554 803l-0.5 1 0 2 2.5 0.5 1-2.5 -1-1zM482 351.5l0 3.5 2 1.5 0-3.5zM508 96l0 4 2 0.5 0-3.5zM528 196l0 2 2 0 0-1.5zM510 107.5l0 3 2 0 0-2.5zM530 207l0 3 2 0 0-2.5zM512 118l0 4 2 0 0-4zM532 218l0 1 2 1 0-2zM514 130l0 2 2 0.5 0-2.5zM514 837.5l-2.5 2.5 1 2 3.5 1 3-1 1-2 -1.5-2 -2.5-0.5zM516 140l0 2 1.5 2 1 0 -0.5-4zM518 152l1.5 2 1 0 -0.5-2z"/>
<path fill="#0048ff" d="M188 82l83 0 0 2 15 24.5 16 25.5 5.5 8 0.5 1.5 4 5 2-1 0-1.5 -1.5-2 -0.5-2.5 -22-43 -8.5-14.5 0-2 90.5 0 0 2 17.5 44 40 98 1.5 2 2.5 8 1.5 2 7 18 1.5 2 2.5 8 1.5 2 2.5 8 3 6 3 9.5 1.5 2.5 0.5 2 1.5 2 0.5 3.5 3.5 6.5 2.5 8 1.5 2 0.5 2.5 1.5 1.5 0.5 4 1.5 2 0.5 2.5 2 1.5 0 2.5 2 1.5 0 4.5 1.5 1.5 0.5 2.5 2 1 0-3.5 -1.5-2 -0.5-2 -2-2 0-2.5 -1-1.5 -1-5.5 -3.5-6.5 -0.5-4 -1.5-2 -0.5-2.5 -1.5-1.5 -2.5-9 -3.5-7 -0.5-3.5 -1.5-2.5 -0.5-2 -1.5-2 -2.5-8 -1-2 -5-14 -3-6 -1-4 -1.5-2 -2.5-8 -1-2 -2.5-8 -1.5-2 -5-14 -1-2 -23-60 -26.5-68 0-2 40.5 0 0 2 26 72 6 16.5 1 1.5 1 4 1.5 2 2.5 9 1 1 1 4.5 1.5 1.5 0.5 4 1.5 2 0.5 3 1 1 1 3.5 2 1 2-0.5 -1-2 -1-5.5 -1.5-2.5 -0.5-3.5 -1.5-2.5 -0.5-3.5 -1.5-2.5 -16-50 -17-50 -1.5-6 7.5 0 0 2 14.5 38 4 10 1.5 2 0.5 2 1 0 1-1.5 0-3 -1-1.5 -1-5 -1.5-3 -0.5-3.5 -11-30.5 -1-6 199 0 1 158 0 1.5 1.5 2.5 0.5 11.5 2 6 2 1 6-0.5 2-4.5 2-10.5 3-23 -2.5-12 7.5-22 6-12 14.5-22 6.5-12 20.5-46 2.5-8 1-8 573 0 0 260.5 -2 0 -66 16 -48 14.5 -30 10.5 -26 10 -22 9.5 -20 10 -20 11.5 -18 13 -16 13.5 -36 34 -34 29 -28 21.5 -10 6.5 -10 5 -10 2.5 -8 0 -3.5-1.5 -2.5-2 -4-6 -1-6 0.5-8 2-8 8-24 0.5-4 -2-0.5 -6 3 -28 21 -12 7 -12 4 -20 3.5 -6 1.5 -6 2.5 -6 4 -6 6 -16 18 -17.5 18 -86.5 82 -2 4 -1 54 -1 4 -1 22 -2 12 -3 5.5 -1 6.5 -1 4 -2-0.5 -2-8 -2-2 -4 1 -3.5 21.5 -0.5 1.5 -2 0.5 -1 6 -1 2 -1 18 -2 10 -5 11.5 -4 12 -2 2 -1 6.5 -2.5 6 -2.5 1.5 -2 3 -4 1.5 -2 2 -2-3.5 -2 3.5 -2 1.5 -6 2 -2-1 -2 2.5 -8 0 -2-2.5 -2-1 -2 2 -2 0 -2-2 -6 0 -2 2.5 -2-2 -10 0 -2 2 -2-0.5 -2-3 -2 1.5 -2-2 -6-0.5 -2-2.5 -2 4 -2 2 -2-5 -2-2 -2 0 -2-2 -4 0 -2 2 -2 0 -2-4 -2 0 -4 4 -2-2 -2 0 -2 2 -4-4 -4 0 -2 2 -2-2 -2 1.5 -4 0 -2-2 -4 0 -4 4 -2-2 -2 2 -2-2 -10 0 -2-2 -2 2 -2 0 -2 2 -2 0.5 -2 1 -2-2.5 -2 1 -2-2 -8 0 -2-2 -2 2 -2 0 -2 2 -2-2 -4 0 -2 2 -2 0 -4-4 -2 4 -2 0 -2 2.5 -2 6 -2 0 -2 2 -4 0 -2-8 -2-5.5 -2 1.5 -2 0 -4-0.5 -2-2 -2 2 -2 6.5 -2 2 -2-2 -2 0 -2 2 -2 0 -2-2 -2-0.5 -4 4 -4-4 -2 0.5 -1-2 -2-8 -1-10 -1-4 -0.5-18 -0.5-1.5 -2 0 -2-4 -2 1.5 -2-0.5 -2-1.5 -16-2.5 -2 1.5 -12-2 -5.5-3 -2.5 0.5 -4-1 -2-1.5 -2 0.5 -2-1.5 -4 0.5 -2-1.5 -4-1 -2-1.5 -2-0.5 -2 1.5 -4-0.5 -6-2.5 -2-1.5 -6-1.5 -2 0 -10-3.5 -2-1.5 -4.5-1.5 -1.5-0.5 -2 1.5 -2-0.5 -4-2 -4-3 -2 1.5 -8-2 -2-1.5 -6-1.5 -2 0.5 -2-1.5 -2 0 -4-1.5 -2 0zM470 215.5l0 1 2 1 0-1.5zM478 239.5l-0.5 0.5 0.5 2.5 2 0.5 0.5-1 -0.5-2.5zM482 251.5l0 3 2 0 0.5-0.5 -0.5-2.5zM486 263.5l0 2.5 2.5 0 -0.5-2.5zM490 276l0 1 1.5 1 1 0 -0.5-2zM494 288l2.5 2 -0.5-2zM506 85.5l-1 0.5 1 3 2-0.5 0-2zM522 162l-1 0 0.5 4 2.5 0zM538 240l-1.5 0 1.5 2zM544 273l0 3 2 0zM554 803l-1 1 0.5 2 2.5 0.5 1-0.5 0-2 -1-1zM482 351l-0.5 1 0.5 4 2 1 0.5-1 -0.5-4zM488 365l-1.5 1 1.5 2 0 2 2 0 0-2zM492 378l0 2 2 2 0-4zM508 95.5l-0.5 0.5 0 4 2.5 0.5 0-3.5zM524 174l-0.5 0 0.5 2.5 2-0.5zM546 284l0 2 2 0zM510 107.5l0 3 2 0 0-2.5zM526 184l0 4 2 0 0-2zM548 295.5l0 2 2 0.5 0-2zM512 118l0 4 2 0.5 0-4.5zM528 196l0 2.5 2 0 0-2.5zM550 306l2 2 0-2zM514 129.5l0 3 2 0 0-2.5zM530 206l0 4 2 0 0-3.5zM514 837.5l-2.5 2.5 1 2 3.5 1 3.5-1 0.5-2 -1-2 -3-1zM516 140l0 2.5 1 1.5 1.5 0 -0.5-4zM532 218l0 2 2 0.5 0-2.5zM518 152l1.5 2 0.5 0.5 0.5-0.5 -0.5-2.5zM534 228.5l0 1.5 2 2 0-4z"/>
<path fill="#0054ff" d="M188 82l83 0 0 2 1 2 42 67.5 2.5-1.5 -0.5-4 -1.5-2 -0.5-2 -24-46 -8.5-14 0-2 56.5 0 0 3.5 2-0.5 0-3 32 0 0 2 17.5 44 41.5 100 2.5 8 1.5 2 6.5 18 1.5 2 2.5 8 1.5 2 2.5 8 1.5 2 3 8 1 2 1 3.5 3.5 6.5 0.5 4 3.5 6 2.5 8.5 3.5 5.5 0.5 4 1.5 2 0.5 2.5 1.5 1.5 0.5 3 1.5 1 0.5 5 2 4 2 1 0 1.5 0-5.5 -1.5-2 -0.5-2.5 -1.5-1.5 -0.5-3.5 -1.5-2.5 -0.5-4 -2-2 0-2 -1.5-2 -0.5-4 -1.5-2 -0.5-2.5 -1.5-1.5 -2.5-9.5 -3.5-6.5 -0.5-3.5 -1.5-2.5 -0.5-2 -1.5-2 -2-8 -1.5-2 -5-14 -1.5-2 -2.5-8 -1-2 -3-8 -1-2 -2.5-8 -1.5-2 -5-14 -50.5-130 0-2 40.5 0 0 2 40 110.5 1 1.5 1 4 1.5 2 2.5 8 2 2 0.5 4 1.5 3 2 0.5 0-4 -1.5-1.5 -0.5-5 -1.5-3 -0.5-4 -1-2 -1-4 -1-2 -18.5-56 -17-50 -1-6 7 0 0 2 14 38 4.5 10.5 1.5 1.5 0.5 3 1.5 1 0.5 2 0.5-2 -0.5-7 -1.5-3 -2.5-10 -11-30 -1-6 198.5 0 1.5 158 0 2 1.5 2 0.5 19 2 6 2 1 6-0.5 2.5-5.5 2-10 3-30 -1.5-12 6-19 6-13 16-24 7.5-14 19-44 2.5-8 1-8 572 0 0 257.5 -2 0 -64 16 -48 14.5 -28 9.5 -28 11 -24 10.5 -18 9 -20 11 -18 12.5 -18 15.5 -37 35 -27 23 -30 23 -10 6 -10 5 -10 2.5 -4-0.5 -4-1.5 -2.5-1.5 -2.5-4 -1.5-8 0.5-8 2-8 4.5-12 13.5-29.5 1.5-6.5 -1.5-0.5 -8 5 -32 27.5 -16 10.5 -8 3.5 -8 2.5 -20 1.5 -8 1.5 -8 3 -8 5 -10 9.5 -33 39 -83 88 -2 3.5 -1 54.5 -1 4 -1 20 -2 12 -3 7 -1 7 -1 4 -2-0.5 -2-8.5 -2-2 -4 1.5 -3.5 21.5 -0.5 1 -2 1 -1 6 -1 2 -1 18 -2 10 -5 11 -4 12 -2 2.5 -1.5 6.5 -2.5 6 -2 1.5 -2 2.5 -4 2 -2 1.5 -2-3 -2 3.5 -2 1 -6 2.5 -2-1.5 -2 3 -8 0 -2-2.5 -2-1 -2 2 -2 0 -2-2 -6 0 -2 2 -2-2 -10 0 -2 2.5 -2-1 -2-2.5 -2 1 -2-2 -6 0 -2-2.5 -2 4 -2 1.5 -2-5 -2-2 -2 0 -2-2 -4 0 -2 2 -2 0 -2-4 -2 0 -4 4 -2-2 -2 0 -2 2 -4-4 -4 0.5 -2 2 -2-2 -2 1.5 -4 0 -2-2 -4 0 -4 4 -2-2 -2 2 -2-2 -10 0 -2-2 -2 2 -2 0 -2 2 -2 0 -2 1 -2-2 -2 1 -2-2 -8 0 -2-2 -2 2 -2 0 -2 2 -2-2 -4 0 -2 2 -2 0 -4-4 -2 4 -2 0 -2 2 -2 6 -2 0.5 -2 2 -4 0 -2-8 -2-6 -2 2 -2 0 -4-0.5 -2-2 -2 2 -2 6.5 -2 2 -2-2 -2 0 -2 2 -2 0 -2-2.5 -2 0 -4 4 -4-4 -2 0.5 -1-2 -2-8 -1-10 -1-4 -0.5-18 -0.5-1.5 -2-0.5 -2-3.5 -2 1 -2 0 -2-2 -16-2 -2 1 -6-1 -8-1.5 -3-2 -3 0.5 -4-1 -2-2 -2 0.5 -2-1.5 -4 1 -2-1.5 -4-1 -2-2 -2-0.5 -2 1.5 -4-0.5 -2-1 -4-1.5 -2-1.5 -6-1.5 -4-0.5 -2-1 -6-2 -2-1.5 -6-1.5 -2 1 -2-0.5 -4-2 -4-3 -2 1.5 -8-2 -2-1.5 -6-1.5 -2 0.5 -2-1.5 -8-1.5zM474 227.5l-0.5 0.5 0.5 2.5 2 0.5 0-3.5zM478 239l-1 1 1 3 2 0.5 1-1.5 -1-3zM482 251.5l0 3 2 0.5 1-1 -1-2.5zM486 263.5l0 3 2 0 1-0.5 -1-2.5zM490 275.5l0.5 2.5 1.5 0.5 1-0.5 -1-2.5zM494 287.5l0 1 2 2 1.5-0.5 -1.5-2.5zM498 300l2 2.5 2-0.5 -2-2.5zM502 404l2 2 0 2 0-4zM504 312l-0.5 0 0.5 2.5 2-0.5zM506 85.5l-1 0.5 1 3 2 0 0-3zM540 250l-0.5 0 0.5 4 1.5 0zM542 262l0 2.5 1.5-0.5zM544 272l0 4 2 0 0-1.5zM562 361.5l0 2.5 2 0zM482 350l-1 2 1 4 2 1.5 0.5-1.5 -0.5-4zM486 364l0 2 1.5 2 0.5 2 2 0.5 0-3 -1.5-1.5 -0.5-2zM492 377.5l0 3 2 2 1-0.5 -1-4zM498 391.5l0 3 2 1 0-2zM508 95.5l-0.5 0.5 0 4 2.5 0.5 0-4zM546 284l0 2.5 2 0 0-2.5zM564 372l0 2 2 0zM508 324l0 2 2 0zM510 107.5l-0.5 0.5 0.5 3 2 0 0.5-3zM548 294l0 4 2 0 0-3zM512 117.5l-0.5 4.5 2.5 0.5 0-4.5zM550 306l0 2 2 0 0-2zM512 336l0 2 2 0zM514 129.5l0 3 2 0.5 0.5-3zM552 318l2 2 0-3zM514 837.5l-2.5 2.5 0.5 2 4 1.5 3.5-1.5 1-2 -1.5-2 -3-1zM516 139.5l0 3.5 1 1 2 0 -1-4zM554 803l-1 1 0.5 2 2.5 1 1-1 0-2 -1-1zM516 348l0 2 2 0zM518 151.5l0 1 2 2.5 1-1 -0.5-2zM520 162l1.5 4 2.5 0 -1.5-4zM520 360l0 2 2 0 -1-2zM524 173.5l-0.5 0.5 0.5 2.5 2 0 0-1zM524 372l2 2 0-2zM526 184l0 4 2 0.5 0-3zM528 195.5l0 3 2 0 0-2.5zM530 206l0 4 2 0.5 0-4.5zM532 217.5l0 3 2 0 0-3zM534 228l0 2.5 2 1.5 0-4zM536 240l2 2.5 0-2.5z"/>
<path fill="#005cff" d="M188 82l82.5 0 0 2 1.5 2 38 62.5 6 8.5 2.5-1 -0.5-4.5 -27.5-53.5 -8.5-14 0-2 55.5 0 0.5 5 1.5 3 0.5 2 1.5 2 0.5 2.5 1.5 1.5 0.5 3 2 3 0 2 2 2 0 2 2 2 0 2 2 2.5 1-0.5 -1-2 0-4 -2-2 0-2.5 -1.5-1.5 -0.5-4 -1.5-2 -0.5-2.5 -1.5-1.5 -0.5-4 -1.5-2 -0.5-2.5 -1.5-1.5 0-2 31 0 0 2 18 44 45.5 110 5 14 3 6 2.5 8 1.5 2 2.5 8 1.5 2 2.5 8 1.5 2 1 4 3.5 6 0.5 4 3.5 6 2 8 4 6 0.5 4 1.5 2 0.5 3 1.5 1 0.5 3 1.5 3 0.5 3.5 2 3.5 1.5 1 2.5 10 2 2.5 1-2.5 -1-4 -2-2 0-2 -2-2 0-4 -1.5-2 -0.5-2.5 -1.5-1.5 -0.5-4 -1-2 -1-4 -1.5-2 -0.5-2 -1.5-2 -0.5-4 -3.5-6 -2.5-9.5 -3.5-6.5 -0.5-4 -1.5-2 0-2 -2-2 -2-8 -4-8 -2.5-8 -1.5-2 -2.5-8 -1-2 -2.5-8 -1.5-2 -2.5-8 -57-146 0-2 40.5 0 0 2 36 100 5 12 1 4 1 2 1 4 1.5 2 0.5 2.5 1.5 1.5 0.5 4.5 1.5 1.5 0.5 2 2 0.5 1-0.5 -0.5-4 -2-4 -0.5-4 -1-2 -3-10 -1-2 -17-52 -18.5-54 -1-6 6.5 0 0 2 14.5 38 6.5 15.5 1.5 2.5 0.5 2 2-1.5 0-3 -1-1.5 -1-5.5 -1.5-2.5 -2.5-10 -10.5-30 -1-6 198 0 1.5 158 0 2.5 1 1.5 1 28 2 5 2 1.5 6-0.5 2-3 1-5 2-12 3.5-34 -1.5-12 6.5-20 5-10 17-26 7-14 20-46 2-8 0.5-6 571 0 0 254.5 -2 0 -64 16.5 -48 14.5 -26 9 -30 12 -24 10.5 -18 8.5 -22 13 -16 11 -18 15.5 -37 35 -23 19.5 -30 22.5 -10 6.5 -10 4.5 -6 1.5 -4 0.5 -4-1 -3-2 -3-4 -1-4 0-10 2.5-10 6-14 10-20 17-30 3.5-8 0-2 -4 2 -6 5 -46 43 -10 8 -8 5 -10 4.5 -8 2 -24 1 -8 1.5 -10 4.5 -10 6.5 -6 5 -7.5 8 -35 44 -75.5 87.5 -2 4.5 -1 54 -1 4 -1 20 -2 12 -3 7 -2 10.5 -2 0 -2-8.5 -2-2 -4 1.5 -3.5 21.5 -0.5 1 -2 0.5 -2.5 8.5 -0.5 18 -2 10 -5 11 -4 12 -2 2 -1.5 7 -2.5 6 -2 1 -2 3 -6 3.5 -2-3.5 -2 3.5 -8 3.5 -2-1 -2 2.5 -8 0 -2-2 -2-1.5 -2 2 -2 0 -2-2 -6 0 -2 2.5 -2-2 -10 0 -2 2 -2-0.5 -2-3 -2 1.5 -2-2 -6-0.5 -2-2.5 -2 4 -2 2 -2-5 -2-2 -2 0 -2-2 -4 0 -2 2 -2 0 -2-4 -2 0 -4 4 -2-2 -2 0 -2 2 -4-4 -4 0 -2 2 -2-2 -2 1.5 -4 0 -2-2 -4 0 -4 4 -2-2 -2 2 -2-2 -10 0.5 -2-2 -2 2 -2 0 -2 2 -2 0 -2 1 -2-2.5 -2 1 -2-1.5 -8 0 -2-2 -2 2 -2 0 -2 2 -2-2 -4 0 -2 2 -2 0 -4-4 -2 4 -2 0 -2 2 -2 6 -2 0 -2 2 -4 0 -1.5-7.5 -2.5-6 -2 1.5 -2 0 -4 0 -2-2 -2 2 -2 6 -2 2 -2-2 -2 0 -2 2 -2 0 -2-2 -2 0 -4 4 -4-4 -2 0 -0.5-1.5 -2.5-8 -1-10 -1-4 -0.5-18 -0.5-1.5 -2-0.5 -2-4 -2 1.5 -2-0.5 -2-1.5 -8-1 -8-1 -2 1 -6-1 -8-1.5 -2-2 -2-0.5 -2 0.5 -4-1 -2-1.5 -2 0.5 -2-1.5 -4 1 -2-2 -4-1 -2-1.5 -2-0.5 -2 1 -4 0 -2-1.5 -4-1 -2-1.5 -6-2 -4 0 -2-1.5 -6-2 -4-2 -4-1 -2 1.5 -2-1 -4-1.5 -4-3.5 -2 2 -8-2 -2-1.5 -6-1.5 -2 0 -2-1.5 -8-1.5zM474 226.5l-1 1.5 1 3.5 2 0.5 0.5-2 -0.5-3zM478 238.5l-1 1.5 1 3 2 0.5 1-1.5 -0.5-2 -0.5-1zM482 251l-0.5 1 0.5 2.5 2 0.5 1-1 -0.5-2 -0.5-1zM486 263.5l0 3 2 0.5 1-1 -1-3zM490 275.5l0 2.5 2 1 1.5-1 -1.5-2.5zM494 287.5l0 1.5 2 1.5 2-0.5 -2-2.5zM504 311.5l-1.5 0.5 1.5 2.5 2 0 0-1zM506 85.5l-1.5 0.5 1 2 0.5 1 2 0 0-3zM540 250l-1.5 0 1 4 2.5 0zM558 338l0 4 0.5 0zM562 360.5l0 3.5 2 0zM486 363l0 3 1.5 2 0.5 2.5 2 0.5 0-3.5 -1.5-1.5 -0.5-2.5zM492 377l0 3.5 2 2.5 1.5-1 -1.5-2 0-2zM498 299.5l2 3 2 0 -2-3zM508 95.5l-1 0.5 0.5 4 0.5 0.5 2 0 0-4.5zM542 261.5l-0.5 0.5 0.5 2.5 2-0.5zM564 372l0 2 2 0 0-0.5zM498 391l-0.5 1 0.5 3.5 2 1 0-3.5zM502 403.5l0 2 2 3 1.5-0.5 -1.5-2 0-2zM508 323.5l-0.5 0.5 0.5 2.5 2 0 0-1zM510 107.5l-0.5 0.5 0.5 3 2 0 0.5-3zM544 272l0 4 2 0 0-2zM566 383l0 3 2 0 0-2.5zM508 417.5l0 2.5 2 0.5 0-1zM512 117.5l-0.5 4.5 2.5 0.5 0.5-0.5 0-4zM546 283.5l0 3 2 0 0-2.5zM568 394l0 1.5 2 0.5 0-2zM512 335.5l0 3 2 0 0-1.5zM514 129.5l0 3 2 0.5 0.5-3 -0.5-0.5zM548 294l0 4 2 0 0-4zM514 837.5l-1.5 0.5 -1 2 0.5 2 4 1.5 3.5-1.5 1-2 -1.5-2 -3-1zM516 139.5l0 4 2 1 1-0.5 -0.5-4zM550 306l0 2 2 0.5 0-2.5zM516 347.5l0 2.5 2 0.5 0-2zM518 151.5l0 1.5 2 2 1-1 -0.5-2zM552 316l0 2.5 2 1.5 0-4zM520 162l1.5 4 2.5 0.5 -1.5-4.5zM554 328l2 2.5 0-2.5zM520 360l0 2 2 0.5 0-2.5zM524 173.5l-1 0.5 1 3 2-0.5 0-1.5zM554 803l-1 1 0.5 2 2.5 1 1-1 0-2 -1-1.5zM524 372l0 1.5 2 1 0-2.5zM526 183.5l-0.5 0.5 0 4 2.5 0.5 0-3.5zM528 195.5l0 3.5 2 0 0-3zM528 384l2 2 0-2zM530 205.5l0 4.5 2 0.5 0-4.5zM532 217.5l0 3 2 0 0.5-2.5zM532 396l2 2 0-2zM534 228l0 2.5 2 2 0.5-0.5 -0.5-4zM536 240l2 2.5 0.5-0.5 0-2z"/>
<path fill="#0068ff" d="M188 82l82.5 0 0 2 1 2 40.5 66 6 8.5 2-0.5 0.5-2 -0.5-2 -2-5 -27.5-53 -8-14 0-2 54 0 1.5 6 3 6 5 12.5 1 1.5 3 8 1.5 2 0.5 2.5 1.5 1.5 0.5 2.5 1.5 1.5 0.5 2.5 2 2 0.5-0.5 -0.5-6 -1.5-2 -2.5-8 -1.5-2 -2.5-8 -1.5-2 -4.5-12.5 -1-1.5 -1.5-4 0-2 30 0 0 2 20.5 50 37 90 11 28 3 6 1 4 3 6 2.5 8 5.5 12 1 4 3.5 6 0.5 4 3.5 6 2 8 3.5 6 0.5 4 1.5 2 1 3 1 1 1 3.5 1.5 2.5 0.5 3.5 4 6.5 0 3 1.5 3 0.5 2 2 2 0 2 2 2 0 4 1.5 2 0.5 2.5 2 1 0-4.5 -2-3.5 -2-1.5 0-4.5 -1.5-3.5 -0.5-2 -2-2 0-2.5 -1.5-1.5 0-4 -1.5-2 -1-3 -1.5-1 -2.5-10 -1.5-2 -0.5-2 -1.5-2 0-4 -3.5-6 -3-10 -3.5-6 -0.5-4 -1.5-2 0-2 -1.5-2 -2.5-8 -4-8 -2.5-8 -1-2 -2.5-8 -1.5-2 -2.5-8 -1.5-2 -57.5-150 -1.5-4 0-2 39.5 0 0 2 42.5 116 1 2 1 4 1.5 2 0.5 3 1 1 1 4.5 1 1.5 1 2.5 2 1 2-1.5 -2-6 -1.5-2 -0.5-4 -1-2 -2.5-10 -37-108 -1-6 6.5 0 0 2 14.5 38 8.5 20.5 1.5 1.5 0.5 2.5 1-2.5 -1-7 -1.5-3 -0.5-4 -1-2 -3-10 -10.5-30 -1-6 198 0 1 158 0.5 2.5 1 1.5 1 38 2 4.5 2 1.5 6-1 2-2.5 2-7 2-14.5 3-39 -1-10 6-18.5 6-13.5 17-26 6-12 20.5-46 2-8 1-8 569.5 0 0 57 -2 0 -37 25 -131 86 -44 31.5 -42 32.5 -23.5 20 -19 18 -17.5 19 -27.5 33 -18.5 20 -38 38.5 -20 17 -12 7.5 -10 4 -10 1.5 -22 0 -6 1 -8 2.5 -14 7.5 -8 6.5 -6 5.5 -8 9.5 -35 47 -69 87 -2 4.5 -1 54.5 -1 4 -1 20 -2 12 -3 6.5 -2 11 -2-0.5 -2-8 -2-2 -4 1.5 -3.5 21.5 -0.5 1 -2 0.5 -2.5 8.5 -0.5 18 -2 10 -5 10.5 -4 12 -2 2.5 -1.5 7 -2.5 6 -2 1 -2 3 -6 3 -2-3 -2 3.5 -8 3.5 -2-1.5 -2 3 -8 0 -2-2.5 -2-1 -2 2 -2 0 -2-2 -6 0 -2 2.5 -2-2 -10 0 -2 2 -2-1 -2-2.5 -2 1.5 -2-2 -6-0.5 -2-2.5 -2 4 -2 1.5 -2-4.5 -2-2 -2 0 -2-2 -4 0 -2 2 -2 0 -2-4 -2 0 -4 4 -2-2 -2 0 -2 2 -4-4 -4 0 -2 2 -2-2 -2 1.5 -4 0 -2-2 -4 0 -4 4 -2-2 -2 2 -2-2 -10 0 -2-2 -2 2 -2 0 -2 2 -2 0 -2 1 -2-2 -2 1 -2-2 -8 0 -2-2 -2 2 -2 0 -2 2 -2-2 -4 0 -2 2 -2 0 -4-4 -2 4 -2 0 -2 2.5 -2 5.5 -2 0.5 -2 2 -4 0 -1.5-7.5 -2.5-6.5 -2 2 -2 0 -4-0.5 -2-2 -2 2 -2 6.5 -2 2 -2-2 -2 0 -2 2 -2 0 -2-2 -2-0.5 -4 4 -4-4 -2 0.5 -2.5-9.5 -1.5-10 -1-4 -0.5-18 -0.5-2 -2-0.5 -2-3.5 -2 1.5 -2-0.5 -2-1.5 -8-1.5 -8-1 -2 1 -6-0.5 -8-2 -2-1.5 -2-0.5 -2 0.5 -4-1 -2-2 -2 1 -2-2 -4 1 -2-1.5 -4-1 -4-2.5 -2 1.5 -4-0.5 -8-3.5 -6-2 -4-0.5 -11.5-5 -4.5-1 -2 1 -2-0.5 -4-2 -4-3 -2 1.5 -8-2 -2-1.5 -6-1.5 -2 0 -2-1.5 -8-1.5zM474 225.5l-1 0.5 -1 2 2 4 3.5 0 -1.5-5.5zM478 238l-1.5 2 1.5 3.5 3 0.5 0.5-2 -1.5-3.5zM482 250.5l-1 1.5 1 3 2 0.5 1.5-1.5 -1-2 -0.5-1.5zM486 263l-0.5 1 0.5 2.5 2 1 1.5-1.5 -1.5-3zM490 275l0 3 2 1 2-1 -2-3zM506 85l-1.5 1 0.5 2 1 1.5 2 0 0-3.5zM558 338l-1 0 1 4 1 0zM560 350l-0.5 0 0.5 2.5 1.5-0.5zM562 360l0 4 2 0 0-1.5zM572 404.5l-2 1.5 2 2zM492 376.5l0 4.5 2 2.5 2-1.5 -1.5-2 -0.5-2.5zM494 287l0 2.5 0.5 0.5 1.5 1 2-0.5 -2-3.5zM508 95.5l-1 0.5 0.5 4 0.5 0.5 2 0 0.5-0.5 -0.5-4zM564 372l0 2.5 2 0 0-2zM498 299.5l0 1 2 2.5 2 0 0-1.5 -2-2.5zM508 323.5l-1 0.5 1 2.5 2 0.5 0-2zM510 107.5l-0.5 0.5 0.5 3.5 2 0 0.5-3.5 -0.5-0.5zM566 382l0 4 2 0 0-3zM498 390l-1 2 1 4 2 0.5 0-4zM502 312l2 3 2 0 0-1.5 -2-2zM508 417l0 3.5 2 1.5 0-3.5zM512 117.5l-0.5 0.5 0 4 2.5 0.5 0.5-0.5 0-4zM568 394l0 2 2 0.5 0-2.5zM502 403.5l0 2.5 2 2.5 2 0 -1.5-2.5 -0.5-2.5zM512 335.5l-0.5 0.5 0.5 2.5 2 0 0-2zM514 129.5l-0.5 0.5 0.5 3 2 0 0.5-1 0-2 -0.5-0.5zM512 430l2 2 0 2 2 0 -2-2 0-2zM516 139.5l0 4 2 1 1-0.5 -0.5-4zM514 837l-1.5 1 -1 2 0.5 2 4 1.5 3.5-1.5 1-2 -1.5-2 -3-1zM516 347.5l0 3 2 0 0-2.5zM518 151.5l0 2 2 1.5 1.5-1 -1-2 -0.5-0.5zM520 161.5l1.5 4.5 0.5 0.5 2 0 0-1.5 -1.5-3zM520 359.5l0 3 2 0 0-2.5zM524 173.5l-1 0.5 1 3 2 0 0-2zM524 371.5l0 2.5 2 0.5 0-3zM526 183.5l-1 0.5 0.5 4 2.5 0.5 0-3.5zM528 195.5l-0.5 0.5 0.5 3 2 0 0.5-3zM528 383.5l0 1.5 2 1.5 0-3zM530 205.5l-0.5 4.5 2.5 0.5 0-4.5zM532 217.5l0 3 2 0.5 0.5-3zM532 395.5l2 3 0-3zM534 227.5l0 3.5 2 1.5 0.5-0.5 -0.5-4zM536 239.5l0 1.5 2 2 0.5-1 0-2zM536 408l2 2.5 0-3zM538 250l1.5 4 2.5 0 -1.5-4zM542 261.5l-1 0.5 1 3 2-0.5zM544 272l-0.5 0 0 4 2.5 0.5 0-3zM546 283.5l0 3 2 0 0-2.5zM548 294l0 4 2 0.5 0-4.5zM550 305.5l0 3 2 0 0-3zM550 444l0 2 1.5 0zM552 316l0 2.5 2 2 0-4.5zM554 328l2 2.5 0.5-2.5zM554 803l-1 1 0.5 2 2.5 1 1-1 0.5-2 -1.5-1.5zM1288 168l2 0 0 165 -2 0 -66 18 -44 13.5 -50 18.5 -24 10 -20 9.5 -26 14.5 -20 14 -16 13.5 -42 39.5 -20 16.5 -20 15 -14 9 -10 4.5 -8 1.5 -4-1 -2.5-1.5 -2.5-4 -1-4 0-6 1-8 6.5-18 11.5-22 16.5-26 21.5-30 23.5-28 23.5-24 24-21 20-16 28-20 32-22 44-28z"/>
<path fill="#0074ff" d="M188 82l82 0 0 2 1.5 2 42.5 69.5 6 8.5 2-0.5 0-3.5 -4-10 -27-52 -8.5-14 0-2 53.5 0 0 2 9 20 5 12.5 1 1.5 3 8 1.5 2 0.5 2.5 1.5 1.5 0.5 2.5 1.5 1.5 0.5 2.5 1.5 1.5 0.5 2 2-0.5 0-1.5 -2-4 0-2.5 -1.5-1.5 -0.5-4 -1.5-2 -2.5-8 -1.5-2 -11.5-28 -1-6 29.5 0 0 2 20 50 37.5 90 11 28 3 6 1 4 3 6 2.5 8 5.5 12 1 4 3 6 1 4 3.5 6 2 8 3.5 6 0.5 4 1.5 2 1 3 1 1 1 4 1.5 2 0.5 4 3.5 6 0.5 3.5 1.5 2.5 0 2 2.5 2 0 2 2 2 0 4 1.5 2 0.5 2.5 2 1.5 0.5-2 -0.5-3 -2-4 -1.5-1 -0.5-5 -1.5-3 0-2 -2-2 -0.5-2.5 -1.5-1.5 0-4 -3.5-6 -3-10 -1.5-2 0-2 -1.5-2 -0.5-4 -3.5-6 -3-10 -1.5-2 -0.5-2 -1-2 -1-4 -3-6 -2.5-8 -3.5-8 -2.5-8 -1.5-2 -2.5-8 -1.5-2 -61.5-160 -1.5-4 0-2 39.5 0 0 2 42 116 1.5 2 1 4 1.5 2 2.5 9 2 4 3 3 -1 0.5 0 3.5 2 4 2 1 2-0.5 0-1 -2-5.5 -2-2 0-4.5 -3-7.5 -0.5-4 -4-12 -36.5-108 -1-6 6 0 0 2 10.5 28 14.5 36 2-1 0-3 -1.5-4 -0.5-4 -1.5-2 -0.5-4 -1-2 -3-10 -11-32 -0.5-4 198 0 1 158 1 4 1.5 50 2 4 2 1 6-1 2-2 2.5-8 3-24 2.5-40 -0.5-8 6.5-21 6-13.5 15.5-23.5 7.5-14 20-46 2-8 1-8 568 0 0 45.5 -2 0 -40.5 28.5 -129.5 87.5 -42 31 -42 33 -26 22.5 -20 19.5 -16 17.5 -30.5 37 -20 22 -29.5 29.5 -18 15.5 -12 7.5 -12 4 -10 1 -22-0.5 -8 1 -8 2.5 -8 3.5 -8 5 -6 4.5 -8 8 -10 12.5 -33.5 48 -66.5 91 -2 4.5 -1 54.5 -1 4 -1 20 -2 12 -3 6.5 -2 10.5 -2 0 -2-8.5 -2-2 -4 2 -3.5 21.5 -0.5 0.5 -2 1 -2.5 8.5 -0.5 18 -2.5 10 -4.5 10.5 -4 12 -2 2 -1.5 7.5 -2.5 6 -2 0.5 -2 3 -6 3.5 -2-3.5 -2 4 -8 3.5 -2-1.5 -2 2.5 -8 0 -2-2 -2-1 -2 1.5 -2 0 -2-2 -6 0 -2 2.5 -2-2 -10 0 -2 2 -2-0.5 -2-3 -2 1.5 -2-2 -6-0.5 -2-2.5 -2 4 -2 2 -2-5 -2-2 -2 0 -2-2 -4 0 -2 2 -2 0 -2-4 -2 0 -4 4 -2-2 -2 0 -2 2 -4-4 -4 0 -2 2 -2-2 -2 2 -4-0.5 -2-2 -4 0.5 -4 4 -2-2 -2 2 -2-2 -10 0 -2-2 -2 2 -2 0 -2 2 -4 1 -2-2.5 -2 1 -2-1.5 -8 0 -2-2 -2 2 -2 0 -2 2 -2-2 -4 0 -2 2 -2 0 -4-4 -2 4 -2 0 -2 2 -2 6 -2 0.5 -2 2 -4 0 -1.5-7.5 -2.5-6.5 -2 2 -2 0 -4-0.5 -2-2 -2 2 -2 6 -2 2.5 -2-2 -2 0 -2 2 -2 0 -2-2.5 -2 0 -4 4 -4-4 -2 0.5 -2.5-9.5 -1.5-10 -1-4 -0.5-18 -0.5-2 -2-0.5 -2-4 -2 1.5 -2 0 -2-2 -8-1 -8-1 -2 1 -6-1 -8-1.5 -2-2 -2-0.5 -2 1 -4-1.5 -2-1.5 -2 0.5 -2-1.5 -4 1 -9.5-5 -2.5 1.5 -4-0.5 -8-4 -6-1.5 -4-0.5 -2-1.5 -6-2 -2.5-1.5 -5.5-1.5 -2 1 -2-0.5 -4-1.5 -4-3.5 -2 1.5 -8-2 -2-1.5 -6-1.5 -2 0.5 -2-1.5 -2-0.5 -4-1.5 -2 0zM478 237.5l-1.5 2.5 1.5 4 4 0.5 0-2.5 -2-4zM486 263l-0.5 1 0.5 2.5 2 1 2-1.5 -2-3.5zM506 85l-1.5 1 0.5 2 1 1.5 2 0 0-3.5zM560 349.5l-0.5 0.5 0.5 2.5 2-0.5zM562 360l0 4 2 0.5 0-2.5zM574 416l-1 0 1 2.5zM576 426l0 4 0.5 0zM482 250.5l-1 1.5 0.5 2 0.5 1 2 1 2-2 -2-3.5zM490 275l0 3.5 2 1 2-0.5 0-1.5 -2-2.5zM508 95.5l-1.5 0.5 1 4 0.5 1 2 0 0.5-1 -0.5-4zM564 371.5l0 3 2 0 0-2.5zM492 376l-0.5 2 0.5 3.5 2 2 2-0.5 0-1 -1.5-2 -0.5-2.5zM494 287l0 2.5 2 2 2-0.5 0-1.5 -2-2.5zM508 323l-1 1 1 3 2 0 0-2.5zM510 107l-1 1 1 3.5 2 0 0.5-3.5 -0.5-1zM566 382l0 4 2 0 0-3.5zM496 389.5l2 6.5 2 1 0-5 -2-2.5zM498 299l0 2 2 2 2 0 0-2 -2-2zM508 416.5l0 4 2 2 0-4.5zM512 117.5l-0.5 0.5 0 4 0.5 0.5 2 0 1-0.5 -0.5-4 -0.5-0.5zM568 394l0 2 2 0.5 0-2.5zM502 311.5l2 3.5 2 0 0.5-1 -1.5-2 -1-1zM512 335.5l-0.5 0.5 0.5 3 2 0 0-3zM514 129l-0.5 3 0.5 1 2 0.5 1-1.5 -0.5-2 -0.5-1zM570 404l0 2 2 2 0-4zM502 403l0 3 2 3 2-0.5 0-1 -1.5-1.5 -0.5-2.5zM512 429.5l2 5 2 0 -1.5-2.5 -0.5-2.5zM516 139.5l-0.5 0.5 0.5 4 2 0.5 1.5-0.5 -1-4 -0.5-0.5zM514 837l-1.5 1 -1.5 2 1 2 4 1.5 4-1.5 0.5-2 -1-2 -1.5-1zM516 347.5l0 3 2 0.5 0-3zM518 151.5l0 2 2 2 1.5-1.5 -0.5-2 -1-0.5zM520 161.5l1 4.5 1 0.5 2 0 0-2 -1.5-2.5 -0.5-0.5zM520 359.5l0 3 2 0.5 0-3.5zM524 173.5l-1.5 0.5 1 2 0.5 1.5 2-0.5 0-2.5zM524 371.5l0 2.5 2 0.5 0-3zM526 183.5l-1 0.5 0.5 4 0.5 0.5 2 0 0-4zM528 195.5l-0.5 0.5 0.5 3 2 0 0.5-3zM528 383.5l0 2 2 1 0-3zM530 205.5l-0.5 4.5 2.5 0.5 0.5-0.5 0-4zM532 217.5l0 3 2 0.5 0.5-3 -0.5-0.5zM532 395.5l0 1 2 2 0.5-0.5 -0.5-2.5zM534 227.5l0 4 2 1 1-0.5 -0.5-4zM536 239.5l0 1.5 2 2 1-1 -0.5-2 -0.5-0.5zM536 408l2 2.5 0.5-0.5 -0.5-2.5zM538 250l1.5 4 2.5 0 -1.5-4zM542 261.5l-1 0.5 1 3 2-0.5 0-1zM542 419.5l-1 0.5 1 2.5 1-0.5zM544 271.5l-0.5 0.5 0 4 2.5 0.5 0-3zM546 283.5l-0.5 0.5 0.5 3 2 0 0-3zM546 431.5l-0.5 0.5 0.5 2.5 1.5-0.5zM548 293.5l-0.5 4.5 2.5 0.5 0-4.5zM550 305.5l0 3 2 0.5 0.5-3zM550 443.5l0 3 2-0.5zM552 315.5l0 3.5 2 1.5 0.5-0.5 -0.5-4zM554 327.5l0 1.5 2 1.5 0.5-0.5 0-2zM554 456l0 2 2 0zM556 338l1.5 4 2 0 -1.5-4zM554 802.5l-1 1.5 0 2 1 1 2 0 1-1 0.5-2 -1.5-1.5zM1285.5 180l2.5-1.5 2 0 0 151.5 -2 0 -62 17 -46 14 -52 19.5 -24 10.5 -20 9.5 -26 14.5 -20 14 -16 13.5 -42 39.5 -20 16.5 -16 11.5 -12 7.5 -10 5 -8 1.5 -4-1 -2-1 -2.5-4 -1-4 0-6 1.5-8 6.5-18 12-22 19-28 20-26 24.5-28 22-21.5 18-15 24-18.5 28-19.5 30-20 46-28.5z"/>
<path fill="#007cff" d="M188 82l82 0 0 2 3.5 6 42.5 69.5 6 8.5 2-1 0-3 -4-10 -25.5-50 -11.5-20 0-2 53 0 0 2 24 56 1.5 2 0.5 2.5 1.5 1.5 0.5 2.5 1.5 1.5 0.5 2 2 1 0-5 -1.5-2 -0.5-3 -1-1 -1-4.5 -1.5-1.5 -0.5-3.5 -6-14.5 -11-26 -3-8 0-2 29.5 0 0 2 20 50 37.5 90 11 28 2.5 6 1.5 4 3 6 9 24 3 6 1 4 3 6 2.5 8 4 8 0 2 6 12 0.5 4 3.5 6 0.5 4 1.5 2 0.5 2.5 1.5 1.5 0.5 2.5 1.5 1.5 0 4 1.5 2 1 3 2 1 0 2.5 1.5 1.5 0 2 0.5 3.5 2 2.5 2 0 0-2 -1.5-2 -0.5-2.5 -2-1.5 0-2.5 -1.5-1.5 -0.5-5.5 -2-3.5 -1-1 -1-5.5 -1.5-2.5 0-2 -2-2 -0.5-2.5 -1-1.5 -0.5-4 -3.5-6 -2.5-10 -2-2 0-2 -1.5-2 -0.5-4 -1.5-2 -4-10 -1-4 -3-6 -1-4 -3-6 -2.5-8 -3.5-8 -2.5-8 -1.5-2 -2.5-8 -1.5-2 -61.5-160 -1.5-4 0-2 39.5 0 0 2 44.5 122 3.5 8 0.5 3 4 7 0 4.5 2 4 2 1 2 0 0-2.5 -2-5.5 -1.5-1.5 -0.5-5 -3-7 -2.5-10 -20-60 -18.5-54 -1-6 6 0 0.5 4 12 32 12.5 30.5 1.5 1.5 0.5 2.5 0.5-0.5 0.5-2 -1-7.5 -1.5-2.5 -0.5-4 -1-2 -4.5-16 -11.5-32 -0.5-4 198 0 1 158 1 4 1 28 0.5 46 2 2 0 11.5 2 1.5 6-5.5 2-3.5 2-10.5 4-31.5 2-46 2-21 6-19.5 4-9.5 21-34 18-40 6.5-16 2-8 0-6 566.5 0 0 36.5 -2 0 -42 30.5 -134 93 -42 32 -40 32 -22.5 20 -19.5 18.5 -16 17.5 -31 38 -19 21.5 -26 26 -18 15 -12 7.5 -12 4 -10 0.5 -16-1 -8 0 -10 1 -8 2 -8 3.5 -6 3.5 -6 4.5 -8 8 -8 9.5 -8 10.5 -33 50 -63 92.5 -2 5.5 -1 46 0 8 -1 4 -1 20 -2 12 -3 6.5 -2 10.5 -2 0 -2-8.5 -2-2 -4 1.5 -4 22 -2 1 -2.5 9 -0.5 18 -2.5 10 -4.5 10.5 -4 12 -2 2 -1.5 7.5 -2.5 5.5 -2 1 -2 3 -6 3.5 -2-3.5 -2 3.5 -8 3.5 -2-1 -2 2.5 -8 0 -4-3.5 -2 2 -2 0 -2-2 -6 0 -2 2.5 -2-2 -10 0 -2 2 -2-0.5 -2-3 -2 1.5 -2-2 -6-0.5 -2-2.5 -2 4 -2 1.5 -2-4.5 -2-2 -2 0 -2-2 -4 0 -2 2 -2 0 -2-4 -2 0 -4 4 -2-2 -2 0 -2 2 -4-4 -4 0 -2 2 -2-2 -2 1.5 -4 0 -2-2 -4 0 -4 4 -2-2 -2 2 -2-2 -10 0 -2-2 -2 2 -2 0 -2 2 -4 1.5 -2-2.5 -2 1 -2-2 -8 0 -2-2 -2 2 -2 0 -2 2 -2-2 -4 0 -2 2 -2 0 -4-4 -2 4 -2 0 -2 2.5 -2 6 -2 0 -2 2 -4 0 -1.5-7 -2.5-6.5 -2 1.5 -2 0 -4-0.5 -2-2 -2 2.5 -2 6 -2 2 -2-2 -2 0 -2 2 -2 0 -2-2 -2-0.5 -4 4 -4-4 -2 0.5 -2.5-9 -1.5-10 -1-4 -0.5-18 -0.5-2 -2-0.5 -2-4 -2 1.5 -2-0.5 -2-1.5 -8-1.5 -8-0.5 -2 0.5 -6-0.5 -8-1.5 -2-2 -2-0.5 -2 0.5 -4-1 -2-1.5 -2 0.5 -2-2 -4 1 -9-4.5 -1-0.5 -2 1.5 -4-0.5 -8-3.5 -10-2.5 -2-1 -6-2 -2-1.5 -6-1.5 -2 1 -2-0.5 -4-2 -4-3 -2 1.5 -8-2.5 -2-1 -6-1.5 -2 0 -2-1.5 -6-2 -2 0zM496 388.5l0 2.5 1.5 3 0.5 2 2 1.5 0.5-1.5 -0.5-4 -2-3zM476 238l0 2 2 4 4 0.5 0-2.5 -2-4 -2-1zM506 85l-2 1 2 4 2 0 0.5-2 0-2zM574 415.5l-1.5 0.5 1.5 2.5zM576 426l0 4 1 0zM578 438l0 2.5 1-0.5zM648 408l0 14 2 2 0 42 2 2 0 40 1.5 2 0.5 2 0 40 2 2 0 40 2 2 0 30 0.5 0 -0.5-61 -1.5-103 -2-26 -2.5-19 -1.5-5zM804 213l-2 1.5 -4 5.5 -6 11 -6 15 -6 18.5 -10 34 -6 26 -3 17.5 0 6 1 3 2-1.5 4-6.5 10-22 10-26 14.5-41 4.5-18 1.5-12 0-6 -0.5-3 -2-2.5zM482 250l-1 2 1 3.5 4 0.5 0-2 -2-4zM508 95l-1.5 1 1 4 0.5 1 2 0 0.5-1 -0.5-4zM486 262.5l-0.5 1.5 0.5 3 4 1 0-2 -2-3.5zM508 323l-1.5 1 1.5 3 2 0.5 0-3zM510 107l-1 1 1 3.5 2 0 0.5-3.5 -0.5-1zM490 274.5l-0.5 1.5 0.5 2.5 2 1 2 0.5 0-2 -2-3.5zM508 416l-0.5 2 0.5 3 2 1.5 0.5-0.5 -0.5-4zM512 117l-1 1 0.5 4 0.5 1 2 0 1-1 -0.5-4 -0.5-0.5zM494 287l0 3 2 1.5 2 0 0.5-1.5 -2.5-3.5zM512 335l-1 1 1 3 2 0 0-3zM514 129l-0.5 1 0 2 0.5 1 2 0.5 1-1.5 -0.5-2 -0.5-1zM498 299l0 2 2 2.5 2 0 0.5-1.5 -1.5-2 -1-1zM512 429.5l0 1.5 1 1 1 2.5 2 0 -2-5zM516 139.5l-0.5 0.5 0.5 4 2 1 1.5-1 -1-4 -0.5-0.5zM502 311.5l2 4 2 0 0.5-1.5 -1-2 -1.5-1zM514 837l-2 1 -1 2 1 2.5 4 1 2 0 2-1.5 0.5-2 -1-2 -1.5-1zM516 347l-0.5 1 0.5 2.5 2 0.5 0-3zM518 151l-0.5 1 0.5 2 2 1.5 1.5-1.5 -0.5-2 -1-1zM502 403l0 3.5 2 2.5 2 0 0-1 -1.5-2 -0.5-2.5zM518 443.5l0 1.5 2 1.5 0-2.5zM520 161.5l0 2 1 2.5 1 1 2-0.5 0-2 -1-2.5 -1-0.5zM520 359l0 3.5 2 0.5 0.5-3zM524 173l-1.5 1 0.5 2 1 1.5 2 0 0-3.5zM524 371.5l0 2.5 2 1 0.5-3zM526 183.5l-1 0.5 0.5 4 0.5 0.5 2 0 0.5-0.5 -0.5-3.5zM528 195l-0.5 1 0.5 3.5 2 0 0.5-3.5zM528 383.5l0 2 2 1.5 0.5-1 -0.5-2.5zM530 205.5l-0.5 0.5 0 4 0.5 0.5 2 0 0.5-0.5 0-4zM532 217.5l-0.5 0.5 0.5 3 2 0.5 0.5-3.5 -0.5-0.5zM532 395.5l0 1.5 2 2 0.5-1 -0.5-2.5zM534 227.5l0 4.5 2 0.5 1-0.5 -0.5-4zM536 239.5l0 2 2 1.5 1-1 -0.5-2 -0.5-0.5zM536 407.5l2 3.5 1-1 -1-2.5zM538 249.5l1.5 4.5 0.5 0.5 2 0 -1.5-4.5zM542 261.5l-1.5 0.5 1.5 3 2 0 0-2zM542 419.5l-1.5 0.5 1.5 3 1-1zM544 271.5l-1 0.5 0.5 4 0.5 0.5 2 0 0-3.5zM546 283.5l-0.5 0.5 0.5 3 2 0 0.5-3zM546 431.5l-1 0.5 1 2.5 2-0.5zM548 293.5l-0.5 4.5 2.5 0.5 0-4.5zM550 305.5l0 3 2 0.5 0.5-3zM550 443.5l0 3 2 0zM552 315.5l0 4 2 1 0.5-0.5 0-4zM554 327.5l0 1.5 2 2 0.5-1 0-2zM554 455.5l0 3 2 0 0-1zM556 338l1.5 4 2.5 0 -1.5-4zM554 802.5l-1 1.5 0 2 1 1 2 0 1-1 0.5-2 -1.5-1.5zM558 468l0 2 2 0zM560 349.5l-1 0.5 1 3 2-1zM562 360l-0.5 4 2.5 0.5 0-2.5zM564 371.5l0 3 2 0 0-2.5zM566 382l0 4 2 0.5 0-4.5zM568 393.5l0 3 2 0 0-2.5zM570 404l0 2.5 2 2 0-4.5zM1285.5 188l2.5-1.5 2 0 0 140 -2 0 -66 18.5 -44 14 -48 18 -44 20 -26 14.5 -22 15 -18 15.5 -38 36 -20 16.5 -16 11.5 -12 7 -10 4 -6 0 -3-1 -2-2 -2-4 -0.5-6 1-6 2-8 7-16 11.5-20 15-22 19-24 24-27.5 22-21 18-15 24-18 26-18 34-22 46-27.5z"/>
<path fill="#0088ff" d="M188 82l81.5 0 0 2 16 26 34.5 56.5 4 5 2-1 0-2.5 -4-10 -27.5-54 -11.5-20 0-2 52.5 0 0 2 22.5 52 5 10 3 8 1.5 2 0.5 2 1.5 2 0.5 2 2 2.5 1.5-0.5 -1.5-6.5 -1.5-1.5 -0.5-4 -1.5-2 -2.5-8 -1.5-2 -2.5-8 -19.5-48 0-2 29 0 0 2 20 50 37.5 90 14.5 38 3 6 9 24 3.5 6 0.5 4 3.5 6 2.5 8 4 8 0 2 5.5 12 1 4 3.5 6 0.5 4 1.5 2 0 2 2 2 0.5 2.5 1.5 1.5 0 4 1.5 2 1 3 1.5 1 0.5 3 1 1 1 6 4 4 0 5.5 1.5 2.5 0.5 2.5 2 1 1-1.5 -1-4 -1.5-2 -0.5-1.5 -2-0.5 0-6 -1.5-2 -0.5-2.5 -2-1.5 0-2.5 -1.5-1.5 -0.5-5.5 -3.5-6.5 -0.5-4 -1.5-2 0-2 -2-2 -0.5-3 -1-1 -0.5-4 -4-8 -2-8 -2-2 0-2 -1.5-2 -0.5-4 -3.5-6 -3-10 -3-6 -0.5-4 -3.5-6 -2.5-8 -3.5-8 -2.5-8 -1.5-2 -2.5-8 -1.5-2 -61.5-160 -1.5-4 0-2 39.5 0 0 2 44 122 4 8 0.5 3.5 3.5 6.5 0.5 4.5 2 4 4 1.5 0-4 -2-4.5 -1-1.5 -1-5.5 -2.5-6.5 -3-10 -21.5-66 -17-48.5 -1-5.5 5.5 0 0.5 4 16 42 11 25.5 1.5 0.5 0.5 1.5 0-6 -1.5-3.5 -0.5-4 -1-2 -1-4 -5.5-18 -11.5-32 -0.5-4 198 0 0.5 130 0.5 28 1 4 1 28 0.5 46 1.5 2 0 2 0.5 54 2 2 0 44 1.5 2 0.5 42 1.5 2 0 2 0.5 38 0 1.5 1.5 2.5 0.5 40 1.5 2 0.5 40 2 2 0 30.5 1.5-0.5 3.5-156 -0.5-50 0-10 -1.5-10 -0.5-22 5.5-149 2-9 8-26.5 4-8.5 15.5-25 8-16 19.5-46 2-8 1-8 564 0 0 29 -2 0 -46 34 -128 90.5 -40 30.5 -39.5 32 -25.5 22 -21 20.5 -18 19.5 -30 37 -16 18 -22 22.5 -18 15.5 -14 8.5 -6 2.5 -8 2 -10 0 -22-2 -14 0.5 -8 1.5 -8 3.5 -6 3.5 -6 5 -8 8.5 -10 12 -10 14.5 -92 145.5 -2.5 5.5 -0.5 46 -2.5 32 -1.5 12 -3 6 -2 11 -2-0.5 -2-8 -2-2 -4 1.5 -4 22 -2 1 -2.5 9 -0.5 18 -2.5 10 -4.5 10 -4 12 -2 2.5 -1.5 7.5 -2.5 5.5 -2 1 -2 2.5 -6 3.5 -2-3 -2 3.5 -8 3.5 -2-1.5 -2 2.5 -8 0.5 -4-3.5 -2 2 -2 0 -2-2 -6-0.5 -2 2.5 -2-2 -10 0 -2 2.5 -2-1 -2-2.5 -2 1 -2-2 -6-0.5 -2-2 -2 3.5 -2 2 -2-5 -2-2 -2 0 -2-2 -4 0 -2 2 -2 0 -2-4 -2 0 -4 4 -2-2 -2 0 -2 2 -4-4 -4 0 -2 2.5 -2-2 -2 1.5 -4 0 -2-2 -4 0 -4 4 -2-2 -2 2 -2-2 -10 0 -2-2 -2 2 -2 0 -2 2 -2 0 -2 1 -2-2 -2 1 -2-2 -8 0 -2-2 -2 2 -2 0 -2 2 -2-2 -4 0 -2 2 -2 0 -4-4 -2 4 -2 0 -2 2.5 -2 5.5 -2 0.5 -2 2 -4 0 -1.5-7 -2.5-7 -2 2 -2 0 -4-0.5 -2-2 -2 2 -2 6.5 -2 2 -2-2 -2 0 -2 2 -2 0 -2-2.5 -2 0 -4 4 -4-4 -2 0.5 -2.5-9 -1-10 -1.5-4 -0.5-18 -0.5-2 -2-1 -2-3.5 -2 1.5 -2-0.5 -2-1.5 -4-1 -12-1.5 -2 1 -6-1 -8-1.5 -2-1.5 -2-0.5 -2 0.5 -4-1 -2-2 -2 0.5 -2-1.5 -4 1 -2-1.5 -4-1.5 -2.5-1.5 -1.5-0.5 -2 1.5 -4-0.5 -8-4 -10-2 -2-1.5 -6-2 -2-1.5 -6-1.5 -2 1 -2-0.5 -4-2 -4-3 -2 1.5 -8-2 -2-1.5 -8-1.5 -2-1.5 -6-2 -2 0zM476 237l0 3 2 4.5 4 0.5 0-3 -2-4.5 -2-1zM504 86l2 4 2 0 0.5-2 -0.5-2.5 -2-0.5zM548 204l0 2.5 2 1.5 0-2.5zM576 426l-1 0 1 4.5 1-0.5zM578 437.5l0 3 1-0.5zM580 448l0 3.5 2 0.5 0-1zM810 189.5l-4 3 -4 4.5 -8 14 -8 18.5 -8 24 -12 42.5 -10 42.5 -6 35.5 -1 8 1 5 2-1 6-9.5 14-31 18-45.5 18.5-52 7-28 2-18 -1.5-10 -2-2.5 -2-0.5zM482 249.5l-1.5 2.5 1.5 3.5 4 1 0-2.5 -2-4zM508 95l-2 1 1 4 1 1 2 0 0.5-1 0-4zM550 216l0 2 2 2 0-2.5zM486 262.5l-1 1.5 1 3 2 1 2 0.5 0.5-2.5 -2.5-4zM508 323l-1.5 1 1.5 3.5 2 0 0.5-1.5 -0.5-2zM510 107l-1 1 1 4 2 0 0.5-4 -0.5-1zM552 228l0 2 2 2 0-4zM490 274.5l-0.5 1.5 0.5 2.5 2 1.5 2 0 0.5-2 -2.5-3.5zM508 415.5l-0.5 0.5 0.5 5 2 2 1-1 -1-4zM512 117l-1 1 0.5 4 0.5 1 2 0 1-1 -0.5-4 -0.5-1zM554 240l0 2 2 2 0-4zM494 286.5l-0.5 1.5 0.5 2 2 2 2 0 0-3 -2-2.5zM512 335l-1 1 1 3 2 0.5 0-3.5zM514 129l-0.5 1 0 2 0.5 1.5 2 0.5 1-2 -0.5-2 -0.5-1zM556 252l0 1 2 3 0-4zM498 299l0 2 2 2.5 2 0.5 0.5-2 -0.5-1.5 -2-2zM512 429l0 2 2 3.5 2 0.5 0-2 -1-1 -1-2.5zM516 139l-0.5 1 0.5 4 2 1 2-1 -2-5zM558 264l1.5 2 0.5 2 0-4zM502 311l0 1.5 2 3 2 0.5 0.5-2 -0.5-1.5 -2-2zM514 837l-2 1 -1 2 1 2.5 4 1.5 2-0.5 2-1.5 1-2 -1.5-2 -1.5-1zM516 347l-0.5 1 0.5 3 2 0.5 0.5-3.5zM518 151l-0.5 1 0.5 2 2 2 2-2 -2-3zM560 276l2 2 0 2 0-4zM502 402.5l0 4 2 3 2 0 0.5-1.5 -2-2 -0.5-3zM518 443l0 3 2 2 0-4zM520 161.5l-0.5 0.5 1.5 4 1 1 2-0.5 0.5-0.5 -1.5-4 -1-1zM562 288l2 2 0 2 0-4zM520 359l-0.5 3 2.5 1.5 0.5-3.5zM524 173l-2 1 1 2 1 1.5 2 0 0.5-1.5 -0.5-2zM564 300l2 2 0 2 0-4zM524 371l0 3 2 1 0.5-3 -0.5-0.5zM526 183.5l-1.5 0.5 1 4 0.5 1 2 0 0.5-1 -0.5-4zM528 195l-1 1 1 3.5 2 0 0.5-3.5 -0.5-0.5zM528 383l0 3 2 1 0.5-1 0-2 -0.5-0.5zM530 205.5l-0.5 0.5 0 4 0.5 0.5 2 0.5 0.5-1 0-4zM532 217l-0.5 3 0.5 1 2 0.5 0.5-1.5 0-2 -0.5-1zM532 395l0 2 2 2 1-1 -1-3zM534 227.5l-0.5 0.5 0.5 4 2 0.5 1-0.5 -0.5-4 -0.5-0.5zM536 239.5l0 2.5 2 1.5 1.5-1.5 -1-2 -0.5-1zM536 407.5l0 1 2 2.5 1-1 -1-3zM538 249.5l0 2 1 2.5 1 0.5 2 0 0-1.5 -1.5-3 -0.5-0.5zM540 420l2 3 1.5-1 -1.5-2.5zM542 261.5l-1.5 0.5 0.5 2 1 1.5 2-0.5 0-2.5zM544 271.5l-1 0.5 0.5 4 0.5 0.5 2 0 0-3.5zM546 283.5l-0.5 0.5 0.5 3.5 2-0.5 0.5-3zM546 431.5l-1 0.5 1 3 2-0.5zM548 293.5l-0.5 4.5 2.5 0.5 0.5-0.5 0-4zM550 305.5l0 3.5 2 0 0.5-3 -0.5-0.5zM550 443.5l-0.5 0.5 0.5 2.5 2 0 0-1zM552 315.5l0 4 2 1 1-0.5 -0.5-4zM554 327.5l0 2 2 1.5 1-1 -0.5-2 -0.5-0.5zM554 455.5l0 3 2 0 0-1zM556 338l1.5 4 0.5 0.5 2-0.5 -1.5-4zM554 802.5l-1.5 1.5 0.5 2 1 1 2 0 1.5-1 0-2 -1.5-1.5zM558 467.5l0 2.5 2 0.5 0-1zM560 349.5l-1 0.5 1 3 2-0.5 -1-2.5zM562 359.5l-0.5 0.5 0 4 2.5 0.5 0-3zM564 371.5l0 3.5 2 0 0-3zM566 381.5l-0.5 4.5 2.5 0.5 0-4.5zM568 393.5l0 3 2 0 0.5-2.5zM570 404l0 2.5 2 2 0.5-0.5 -0.5-4zM572 416l2 2.5 0.5-2.5zM1287.5 194l2.5 0 0 129 -2 0 -64 18.5 -44 14 -46 17.5 -46 20.5 -28 15.5 -24 16.5 -16 14 -36 34.5 -14 11.5 -16 12 -14 8.5 -8 3.5 -8 1 -2-0.5 -2.5-2 -2-4 -0.5-4 0.5-6 2-8 6.5-16 12-20 18.5-26 21.5-25.5 20-21.5 20-18.5 20-16 24-17 30-20.5 28-17.5 42-24.5z"/>
<path fill="#0094ff" d="M188 82l81 0 0 2 16 26 37 60 4 5 2-1 0-2 -5.5-14 -29.5-58 -9.5-16 0-2 52 0 0 2 16 38 14.5 32.5 1.5 1.5 0.5 3 1 1 3 8 2 2 0 2 2 2 0 2 2-1 0-2.5 -1.5-2.5 -0.5-2.5 -1-1.5 -1-4.5 -1.5-1.5 -0.5-3.5 -9.5-24.5 -20-48 0-2 29 0 0 2 20 50 61.5 150 2.5 8 3.5 6 0.5 4 3.5 6 2.5 8 9.5 22 1 4 3.5 6 0.5 4 1.5 2 0 2 2 2 0.5 3 1 1 1 5 2 4 1.5 1 2.5 10 3 4 1 6 1.5 2 0.5 2.5 2 1.5 1-2 -1-4 -4-6 0.5-4 -2-2 -0.5-3 -1.5-1 -2.5-10 -3.5-6 -0.5-4 -1.5-2 0-2 -2-2 -2-8 -4-8 -2-8 -2-2 0-2 -1.5-2 -0.5-4 -3-6 -3-10 -3.5-6 -0.5-4 -3.5-6 -2.5-8 -21.5-54 -51.5-134 -1.5-6 39.5 0 0 2 22 62 22 60 3.5 8 1 4 3.5 6 0.5 5 2 4 2 1 0.5 2 -0.5 0.5 0 3.5 2 4.5 4 1 0.5-3.5 -2.5-5 -1.5-1 -0.5-6 -3-6 -1-6 -7-22 -26-78 -11-31 -0.5-5 5 0 0.5 4 1 1.5 11 30.5 15 36 1.5 2 0.5 2.5 1-0.5 0-2 -1-8 -1.5-2 -0.5-4 -1-2 -4.5-16 -13.5-38 -0.5-4 197.5 0 1 130 0.5 28 2 32 0.5 46 1.5 4 0.5 54 1.5 2 0.5 44 1.5 2 0.5 42 1 2 0.5 2 0.5 40 1.5 2 0.5 40 1.5 2 0.5 40 1.5 2 0.5 30 0 1 1.5 1 0.5 13 11-241 5-149.5 2-26.5 2.5-16 3.5-16 4-9 14.5-27 14.5-34 10-26 1.5-8 0.5-6 561 0 0 22 -2 0 -46 35 -132 94.5 -38 29.5 -38 31 -26 23 -22 21.5 -18 19.5 -30 37.5 -14 15.5 -20 20.5 -16 13 -8 5.5 -8 4 -8 3 -6 1 -8-0.5 -16-2.5 -18-1.5 -6-0.5 -6 0.5 -6 2.5 -6 3.5 -8 7 -8 8.5 -14 17.5 -12 18 -88 147.5 -2.5 6 -0.5 46 -2.5 32 -1.5 12 -3 6 -2 10.5 -2 0 -2-8 -2-2.5 -4 2 -2.5 12 -1 8 -0.5 2 -2 0.5 -2.5 9.5 -0.5 18 -2.5 10 -4.5 10 -4 12 -2 2 -2 9 -2 4 -2 1 -2 3 -6 3.5 -2-3.5 -2 4 -8 3 -2-1 -2 2.5 -8 0 -4-3.5 -2 2 -2 0 -2-2 -6 0 -2 2.5 -2-2 -10 0 -2 2 -2-0.5 -2-3 -2 1.5 -2-2 -6-0.5 -2-2.5 -2 4 -2 2 -2-5 -2-2 -2 0 -2-2 -4 0 -2 2 -2 0 -2-4 -2 0 -4 4 -2-2 -2 0 -2 2 -4-4 -4 0 -2 2 -2-2 -2 1.5 -4 0 -2-2 -4 0 -4 4 -2-2 -2 2 -2-2 -10 0 -2-2 -2 2 -2 0 -2 2 -2 0.5 -2 1 -2-2.5 -2 1 -2-2 -8 0 -2-2 -2 2 -2 0 -2 2 -2-2 -4 0 -2 2 -2 0 -4-4 -2 4 -2 0 -2 2.5 -2 6 -2 0.5 -2 2 -4 0 -1.5-7 -2.5-7 -2 2 -2 0 -4-1 -2-2 -2 2.5 -2 6 -2 2.5 -2-2 -2 0 -2 2 -2 0 -2-2.5 -2-0.5 -4 4 -4-4 -2 1 -2.5-9 -1-10 -1.5-4 -0.5-18 -0.5-2.5 -2-0.5 -2-4 -2 1.5 -2 0 -2-2 -4-0.5 -12-1.5 -2 1 -6-1 -8-1.5 -2-2 -2-0.5 -2 1 -2-1 -4-2 -2 0.5 -2-1.5 -4 0.5 -2-1 -4-1.5 -2-1.5 -2-0.5 -2 1 -4-0.5 -8-3.5 -10-2.5 -8-3 -2-1.5 -6-2 -2 1.5 -2-1 -4-1.5 -4-3 -2 1 -8-2 -2-1.5 -8-1.5 -8-4 -2 0zM482 249l-1 1 -0.5 2 1.5 4 4 0.5 0.5-2.5 -2.5-4.5zM488 262l-2 0 -1 2 0.5 2 0.5 1 2 1.5 2 0 0.5-2.5zM504 85.5l2 5 2-0.5 1-2 -1-2.5 -2-0.5zM572 336l-2 0 1.5 2 0.5 2zM574 348l-1 0 1 4zM814 169l-4 3 -4 4 -4 5.5 -6 10.5 -10 23 -11 33 -15 55 -12 54 -9 53 -1 10.5 2 1.5 4-5.5 8-16 22-52 22-56.5 12-32.5 7-21.5 7.5-30 1.5-12 0.5-12 -0.5-6 -2-6 -2-2.5 -2-1zM490 274.5l-0.5 1.5 0.5 3 2 1 2 0.5 0.5-2.5 -0.5-1 -2-3zM508 95l-2 1 1 4 1 1 2 0 1-1 -0.5-4zM536 132l0 4 2 0zM576 425.5l-1 0.5 1 4.5 1.5-0.5zM578 437.5l-0.5 0.5 0.5 2.5 1.5-0.5zM580 448l0 4 2 0.5 0-2zM494 286.5l-0.5 1.5 0.5 2.5 2 1.5 2 0.5 0.5-2.5 -0.5-1 -2-3zM510 107l-1 1 0 2 1 2 2 0 0.5-4 -0.5-1zM538 144l0 4 2 0 0-2zM498 298.5l-0.5 1.5 0.5 1.5 2 2.5 2 0 0.5-2 -0.5-1.5 -2-2zM512 117l-1 1 0 4 1 1 2 0 1-1 -0.5-4 -0.5-1zM540 156l0 4 2 0 0-2.5zM502 311l-0.5 1 2.5 4 2 0 0.5-2 -0.5-2 -2-1.5zM512 334.5l-1 1.5 1 3.5 2 0.5 0.5-4zM514 129l-1 1 0.5 2 0.5 1.5 2 0.5 1-2 0-2 -1-1zM542 168l0 4 2 0 0-3zM502 402l-0.5 2 0.5 2.5 2 3.5 2-0.5 0.5-1.5 -1.5-2 -1-3zM506 324l2 3.5 2 0.5 0.5-2 -0.5-2 -2-1.5zM512 429l0 2.5 2 3.5 2 0 0-2 -2-4zM516 139l-0.5 1 0 4 2.5 1 2-1 -2-5zM544 180l0 4 2 0 0-3.5zM508 415l-1.5 1 1.5 5.5 2 1.5 1-1 -0.5-4zM512 838l-1 2 0.5 2 2.5 1.5 4 0 2.5-1.5 0.5-2 -1-2 -2-1 -4 0zM516 347l-1 1 0.5 2 0.5 1 2 0.5 0.5-3.5zM518 151l-0.5 1 0.5 2 2 2 2-2 -2-3zM546 192l0 4 2 0 0-4zM518 442.5l0 3.5 2 2.5 0.5-0.5 -0.5-4.5zM520 161l-0.5 1 1.5 4 1 1 2 0 0.5-1 -1.5-4 -1-1zM548 204l0 4 2 0 0-4zM520 359l-0.5 1 0 2 0.5 1 2 0.5 0.5-3.5 -0.5-0.5zM524 173l-2 1 2 4 2 0 0.5-2 -0.5-2zM550 216l0 4 2 0 0-4zM524 371l-0.5 3 2.5 1.5 0.5-1.5 0-2 -0.5-1zM526 183l-1.5 1 0.5 4 1 1 2 0 0.5-1 -0.5-4zM552 228l0 4 2 0 0-4zM524 456l-1.5 0 1.5 2 0 2 2 0 -1.5-2zM528 195l-1 1 1 4 2 0 0.5-4 -0.5-1zM554 240l0 3 2 1 0-4zM528 383l0 3 2 1.5 1-1.5 -0.5-2 -0.5-1zM530 205l-1 1 0.5 4 0.5 1 2 0 1-1 -0.5-4 -0.5-0.5zM556 252l0 3 2 1 0-4zM532 217l-0.5 1 0 2 0.5 1 2 0.5 1-1.5 -0.5-2 -0.5-1zM558 264l0 2.5 2 1.5 0-4zM532 395l0 2.5 2 2 1-1.5 -0.5-2 -0.5-1zM534 227l-0.5 1 0.5 4 2 1 1.5-1 -1-4 -0.5-0.5zM560 276l0 2 2 2 0-4zM536 239l-0.5 1 0.5 2 2 1.5 1.5-1.5 -0.5-2 -1-1zM562 288l0 1.5 2 2.5 0-4zM536 407l0 1.5 2 3 1.5-1.5 -1-2 -0.5-1zM538 249.5l0 2.5 1 2 1 1 2-0.5 0-2 -1.5-2.5 -0.5-0.5zM564 300l0 1 2 3 0-4zM540 419.5l2 3.5 2-1 -2-3zM542 261l-1.5 1 0.5 2 1 1.5 2 0 0-3zM566 312l2 4 0-4zM544 271.5l-1.5 0.5 1 4 0.5 1 2-0.5 0.5-0.5 -0.5-3.5zM568 324l2 4 0-4zM546 283l-1 1 1 3.5 2 0 0.5-3.5zM546 431l-1 1 1 3 2-0.5 0-1zM548 293.5l-0.5 0.5 0 4 0.5 0.5 2 0 0.5-0.5 0-4zM550 305.5l-0.5 0.5 0.5 3 2 0.5 0.5-3.5 -0.5-0.5zM550 443l-0.5 1 0.5 3 2 0 0-1.5zM552 315.5l0 4.5 2 0.5 1-0.5 -0.5-4zM554 327.5l0 2 2 1.5 1-1 -0.5-2 -0.5-0.5zM554 455.5l-0.5 0.5 0.5 2.5 2 0.5 0-2zM556 337.5l1.5 4.5 0.5 0.5 2 0 -1.5-4.5zM554 802.5l-1.5 1.5 0.5 2 1 1 2 0.5 1.5-1.5 0-2 -1.5-2zM558 467.5l0 3 2 0 0-1.5zM560 349.5l-1 0.5 1 3 2-0.5 0-1zM562 359.5l-1 0.5 0.5 4 2.5 0.5 0-3zM562 480l0 1.5 2 0.5 0-1zM564 371.5l-0.5 0.5 0.5 3 2 0 0-3zM566 381.5l-0.5 4.5 2.5 0.5 0-4.5zM568 393.5l0 3 2 0.5 0.5-3zM570 403.5l0 3.5 2 1.5 0.5-0.5 -0.5-4zM572 416l2 3 0.5-1 0-2zM1286 202l2-1 2 0 0 118 -2 0 -68 20.5 -42 13.5 -46 18 -44 20 -26 14 -24 16.5 -18 15 -36 35 -24 18.5 -12 8 -10 4.5 -4 1 -4 0 -4-1.5 -2-3.5 -0.5-4.5 0.5-6 2-8 7.5-16 10.5-18 17.5-24 20.5-24 19-20 19-17 20-16 22-15.5 30-19.5 30-19 42-23.5z"/>
<path fill="#009cff" d="M188 82l80.5 0 0 2 15 24 40.5 66 4 4.5 2-1 0-2 -7.5-17.5 -29.5-58 -9.5-16 0-2 51.5 0 0 2 4.5 10 30.5 70 3.5 6 0.5 3 1 1 3 7.5 2 2.5 0 2 2 0.5 0-5 -1.5-1.5 -0.5-3.5 -1.5-2.5 -0.5-2.5 -1-1.5 -1-4 -1.5-2 -12-32 -19.5-48 0-2 28 0 0 2 20.5 50 61.5 150 2.5 8 3.5 6 0.5 4 3.5 6 2.5 8 4 8 0 2 4 8 2 8 4 6 0.5 4 1.5 2 0 2 2 2 2.5 9 2 4 1 1 3 10 1.5 2 0.5 1.5 2 2.5 0 4 1.5 2 0.5 2.5 2 1.5 0 2 2 2 -0.5 4 2.5 4 2 0.5 0.5-2.5 -2.5-5 -2-1 0-2.5 -1-1.5 -0.5-6 -4-6 0-4 -1.5-2 -1-3 -1.5-1 -2.5-10 -3.5-6 -0.5-4 -1.5-2 0-2 -2-2 -2-8 -4-8 -2-8 -1.5-2 -2.5-8 -1.5-2 -4.5-14 -3.5-6 -0.5-4 -3-6 -9-24 -1.5-2 -2.5-8 -11-28 -52-134 -1-6 38.5 0 0 2 22.5 62 22 60 3.5 8 1 4 3 6 1 5 2 4.5 1.5 0.5 0 6 2.5 4.5 4 1.5 0.5-4 -2.5-5 -1-1 -0.5-6 -3-6 -1.5-6 -25-76 -5-14 -1-4 -1-2 -1-4 -1-2 -1-4 -1-2 -1-4 -1-2 -1-4 -1-1.5 -1-4.5 -1-1.5 -1-4.5 -1-1.5 -0.5-4.5 5 0 0 4 1.5 2 1 4 1 1.5 11 30.5 12.5 30 2.5 5.5 1.5 0.5 0.5 3 0-7.5 -1.5-3.5 -0.5-4.5 -1-1.5 -1-5 -7.5-23 -11-32 -0.5-4 85 0 0 6 2 0 -1.5-2 -0.5-4 112 0 1 130 1.5 56 0.5 4 1 46 1 4 0.5 14 0.5 40 1.5 2 0.5 44 1 2 1 42 1 4 1 40 1 2 1 40 1.5 2 0.5 40 1.5 2 0.5 30 1.5 4 0.5 18.5 12.5-180.5 3.5-39.5 4-32.5 4-26 4-19.5 14-47 6-25.5 8-60.5 10-85.5 7.5-38 1-12 555.5 0 0 15 -2 0 -48 37.5 -136 99 -38 30 -34 28 -26 23 -22 21.5 -18 20 -28 35 -12 14 -18 18 -16 13.5 -8 5.5 -8 4 -8 2.5 -8 1 -10-1 -22-4.5 -14-4 -6 0 -6 2 -8 5.5 -8 7 -8 8.5 -12 15 -16 25 -88.5 155 -2 6 -0.5 46 -2.5 32 -1.5 12 -3 6 -2 10.5 -2 0 -2-8.5 -2-2 -4 2 -2.5 12 -1 8 -0.5 2 -2 0.5 -2.5 9.5 -0.5 18 -2.5 10 -4.5 10 -4 12 -2 2 -2 8.5 -2 4.5 -2 1 -2 3 -6 3 -2-3 -2 3.5 -8 3.5 -2-1 -2 2.5 -8 0 -4-3.5 -2 2 -2 0 -2-2 -6 0 -2 2.5 -2-2 -10 0 -2 2 -2-1 -2-2.5 -2 1.5 -2-2 -6-0.5 -2-2.5 -2 4 -2 1.5 -2-4.5 -2-2 -2 0 -2-2 -4 0 -2 2 -2 0 -2-4 -2 0 -4 4 -2-2 -2 0 -2 2 -4-4 -4 0 -2 2 -2-2 -2 1.5 -4 0 -2-2 -4 0 -4 4 -2-2 -2 2 -2-2 -10 0 -2-2 -2 2 -2 0 -2 2 -2 0 -2 1.5 -2-2.5 -2 1 -2-2 -8 0 -2-2 -2 2 -2 0 -2 2 -2-2 -4 0 -2 2 -2 0 -4-4 -2 4 -2 0 -2 2.5 -2 5.5 -2 0.5 -2 2 -4 0 -1.5-6.5 -2.5-7 -2 1.5 -2 0 -4-0.5 -2-2 -2 2.5 -2 6 -2 2 -2-2 -2 0 -2 2 -2 0 -2-2 -2-0.5 -4 4 -4-4 -2 0.5 -2.5-8.5 -1-10 -1.5-4 -0.5-18 -0.5-2.5 -2-0.5 -2-4 -2 1.5 -2-0.5 -2-1.5 -4-0.5 -12-2 -2 1.5 -2-0.5 -12-2.5 -2-1.5 -2-0.5 -2 0.5 -2-0.5 -4-2 -2 0.5 -2-2 -4 1 -2-1.5 -4-1 -2-1.5 -2-1 -2 1.5 -4-0.5 -8-4 -10-2 -8-3.5 -2-1.5 -6-1.5 -2 1 -2-0.5 -4-2 -4-3 -2 1.5 -8-2.5 -2-1 -8-2 -8-4.5 -2 0zM506 415.5l2 6 2 2 1.5-1.5 -1-4 -2-2 -0.5-1.5zM482 248.5l-2 1.5 2 6 4 1 0.5-3 -2.5-4.5zM492 274l-2 0 -1 2 0.5 2 2.5 2.5 2 0 0.5-2.5zM496 286l-2 0 -0.5 2 0 2 2.5 2.5 2 0 0.5-2.5zM504 85.5l-0.5 0.5 2.5 4.5 2 0 1-2.5 -1-3 -2-0.5zM530 96l0 4 2 0zM576 360l-1.5 0 1.5 4zM578 372l-1 0 1 4zM580 384l-0.5 0 0.5 4 0.5 0zM582 396l-0.5 0 0.5 4 0.5 0zM584 408l0 4 0.5 0zM586 420l0 4 0.5 0zM588 432l0 4 0.5 0zM590 444l0 4 1 0zM818 149.5l-6 3.5 -4 4 -6 8.5 -6 11 -12 28.5 -11 33 -14 52 -11.5 50 -21.5 110.5 -2 11.5 0 8 4-6.5 10-21.5 32-76 38-98 12-36 6-22 3-16 2-14 0-12 -1-8.5 -3.5-7.5 -2.5-2 -2-1zM486 262l-1 2 1 3.5 2 1 2 0.5 0.5-3 -0.5-1 -2-3.5zM498 298.5l-0.5 1.5 0.5 1.5 2 2.5 2 0.5 0.5-2.5 -0.5-2 -2-2zM506 96l1 4 1 1 2 0 1-1 -0.5-4 -2.5-1zM532 108l0 4 2 0 0-1.5zM576 425.5l-1.5 0.5 1.5 4.5 1.5-0.5zM578 437.5l-0.5 0.5 0.5 3 2-1zM580 447.5l0 4.5 2 0.5 0-2.5zM586 471l-1 1 1 2zM502 310.5l-0.5 1.5 2.5 4 2 0 0.5-2 -0.5-2 -2-1.5zM510 106.5l-1 1.5 0 2 1 2.5 2 0 1-4.5 -1-1zM534 120l0 4 2 0 0-2zM582 460l0.5 2 1.5 0.5 0-2zM506 323.5l2 4.5 2 0 0.5-2 -0.5-2.5 -2-1zM512 117l-1 1 0 4 1 1 2 0 1-1 -0.5-4 -0.5-1zM536 132l0 4 2 0 0-2.5zM512 334.5l-1.5 1.5 1.5 3.5 2 0.5 0.5-2 0-2zM514 129l-1 1 0 2 1 1.5 2 1 1-2.5 0-2 -1-1zM538 144l0 4 2 0 0-3zM512 428.5l0 3 2 3.5 2 0.5 0-3 -2-3.5zM516 139l-1 1 0.5 4 2.5 1 2-1 -1-4 -1-1zM540 156l0 4 2 0 0-3.5zM512 838l-1 2 1 3 4 1 2-0.5 2.5-1.5 0.5-2 -1-2 -2-1 -4 0zM516 346.5l-1 1.5 0.5 2 0.5 1.5 2 0.5 0.5-2 0-2zM518 151l-0.5 1 0.5 2.5 2 1.5 2-0.5 0-1.5 -1-2 -1-1zM542 168l0 4 2 0 0-4zM518 442l0 4.5 2 2 1.5-0.5 -1.5-4.5zM520 161l-0.5 1 1 4 1.5 1 2 0 0.5-1 -1.5-4 -1-1zM544 180l0 4 2 0 0-4zM520 358.5l-0.5 1.5 0 2 0.5 1 2 1 0.5-2 0-2 -0.5-1zM522 174l2 4 2 0 0.5-2 -0.5-2.5 -2-0.5zM546 192l0 4 2 0 0-4zM522 456l2 2 0 2 2 0.5 -2-5zM524 370.5l-0.5 3.5 2.5 1.5 1-1.5 -0.5-2 -0.5-1zM526 183l-2 1 1 4 1 1 2 0 0.5-1 -0.5-4zM548 203.5l0 4.5 2 0.5 0-4.5zM528 195l-1 1 1 4 2 0 0.5-4 -0.5-1zM550 216l0 4 2 0 0-4zM528 383l0 3 2 1.5 1-1.5 -0.5-2 -0.5-1zM530 205l-1 1 0.5 4 0.5 1 2 0 1-1 -0.5-4 -0.5-1zM552 228l0 4 2 0 0-4zM532 217l-0.5 1 0 2 0.5 1.5 2 0.5 1-2 -0.5-2 -0.5-1zM554 240l0 4 2 0 0-4zM532 395l0 2.5 2 2 1-1.5 -0.5-2 -0.5-1zM534 227l-0.5 1 0 4 2.5 1 1.5-1 -1-4 -0.5-1zM556 252l0 3.5 2 0.5 0-4zM536 239l-0.5 1 0.5 2 2 2 1.5-2 -0.5-2 -1-1zM558 264l0 3 2 1 0-4zM536 407l0 2 2 2.5 1.5-1.5 -1.5-3zM538 249.5l-0.5 0.5 1.5 4 1 1 2-0.5 0.5-0.5 -1.5-4 -1-1zM560 276l0 2.5 2 1.5 0-4zM540 419.5l2 4 2-1 -2-3.5zM542 261l-2 1 2 4 2-0.5 0.5-1.5 -0.5-2zM562 288l0 2.5 2 1.5 0-4zM544 271l-1.5 1 1 4 0.5 1 2 0 0.5-1 -0.5-3.5zM564 300l0 2 2 2 0-4zM546 283l-1 1 1 3.5 2 0 0.5-3.5 -0.5-0.5zM566 312l0 1.5 2 2.5 0-4zM546 431l-1.5 1 1.5 3.5 2-0.5 0-1.5zM548 293.5l-0.5 0.5 0 4 0.5 0.5 2 0.5 0.5-1 0-4zM568 324l0 1 2 3 0-4zM550 305l-0.5 3 0.5 1 2 0.5 0.5-1.5 0-2 -0.5-1zM570 336l1.5 4 1 0 -0.5-4zM550 443l-1 1 1 3 2 0.5 0-2.5zM552 315.5l0 4.5 2 0.5 1-0.5 -0.5-4 -0.5-0.5zM572 348l1.5 2 0 2 1 0 -0.5-4zM554 327.5l0 2.5 2 1.5 1-1.5 -0.5-2 -0.5-1zM554 455l-0.5 1 0.5 3 2 0 0-2zM556 337.5l0 2 1 2.5 1 0.5 2 0 -1.5-4.5 -0.5-0.5zM554 802.5l-1.5 1.5 0.5 2 1 1 2 0.5 1.5-1.5 0.5-2 -2-2zM558 467.5l0 3 2 0.5 0-2.5zM560 349.5l-1.5 0.5 1 2 0.5 1.5 2-0.5 0-2zM562 359.5l-1 0.5 0.5 4 0.5 0.5 2 0 0-3.5zM562 479.5l0 2.5 2 0.5 0-2.5zM564 371.5l-0.5 0.5 0.5 3 2 0 0.5-3zM566 381.5l-0.5 4.5 2.5 0.5 0.5-0.5 -0.5-4zM566 492l2 2 0-2zM568 393.5l-0.5 2.5 0.5 0.5 2 0.5 0.5-3zM570 403.5l0 3.5 2 1.5 0.5-0.5 0-4zM572 416l2 3 0.5-1 0-2 -0.5-0.5zM1288 208l2 0 0 107 -2 0 -66 20 -42 14 -46 18 -44 20.5 -28 15 -24 16 -20 17 -34 33 -22 17 -10 6.5 -10 4 -6 0.5 -4-2 -2-4.5 0-4 3-12 7.5-16 11.5-18.5 16-21 21.5-24.5 18-18 18.5-16 19-14 23-16 28-18 32-19.5 40-22z"/>
<path fill="#00a8ff" d="M188 82l80.5 0 0 2 4.5 8 29 46 22 36.5 4 6 2 1.5 2-0.5 0-2 -7.5-17.5 -27.5-56 -13-22 0-2 51 0 0 2 20.5 48 20.5 46 1.5 2 0.5 2.5 1.5 1.5 0.5 3 1.5 1 0.5 3 1 1 1 3 1 1 1 2 1-2 -3-10 -1.5-2 -0.5-3 -3-7 -3-8 -33-82 0-2 28 0 0 2 20.5 50 61.5 150 2.5 8 3 6 1 4 3.5 6 2.5 8 3.5 8 0.5 2 4 8 2 8 3.5 6 0.5 4 1.5 2 0.5 2 1.5 2 2.5 6 0 2 2.5 5.5 1 0.5 3 10 1.5 2 0.5 2 1.5 2 0.5 4 1.5 2 0.5 2.5 2 1.5 0 2.5 1.5 1.5 0 4 2.5 4.5 2 1.5 0 1.5 0.5-5.5 -2.5-5 -1.5-1 -2-10 -2-2 -0.5-2.5 -1.5-1.5 0-4 -1.5-2 -1-3 -1.5-1 -2.5-10 -3.5-6 0-4 -1.5-2 -0.5-2 -1.5-2 -2.5-8 -3.5-8 -2.5-8 -1.5-2 -2.5-8 -1.5-2 -4.5-14 -1.5-2 -0.5-2 -1-2 -1-4 -1.5-2 -6.5-18 -1.5-2 -2.5-8 -1-2 -66-170 -1-6 38.5 0 0 2 22.5 62 22 60 3.5 8 1 4 3 6 1 5.5 3.5 6.5 0 4 2.5 5 3 1 1 1 0.5-5 -3-6 -1-6 -3.5-8 -0.5-4 -3-8 -22.5-70 -5-12.5 -0.5-3.5 -1.5-2.5 -0.5-3.5 -1.5-2.5 -0.5-3.5 -1.5-2.5 -0.5-3.5 -1.5-2 -0.5-4 -1.5-2 -0.5-4 -1.5-2 -0.5-4 -1.5-2 -0.5-4 4.5 0 0.5 4 1.5 2.5 0.5 3.5 1.5 1.5 1 4.5 1 1 0.5 3 1.5 2.5 0.5 3.5 1.5 1.5 5 14.5 1 1.5 5.5 14.5 10.5 24.5 1-0.5 0.5-2 -1.5-8 -1-2 -1-4.5 -9.5-29.5 -11-32 -0.5-4 84.5 0 0.5 6 2 0 -1.5-4 0-2 111.5 0 1 130 1.5 56 0.5 4 0.5 46 1.5 4 0.5 14 0 40 1.5 2 0.5 44 1.5 2 0.5 12 0 30 1.5 4 0.5 38 0.5 2.5 1 1.5 0.5 10 0.5 30 1 2 1 40 1 2 1 30 1.5 4 0.5 22.5 16-168.5 5-44 4-22 4.5-22 20.5-73.5 10-44.5 12-78.5 13.5-117.5 544.5 0 0 8 -2 0 -52 41.5 -132 97.5 -38 30 -34 28 -26 23.5 -22 21.5 -20 22 -26 32.5 -12 14 -16 16 -16 13 -10 6 -8 3.5 -8 2 -6 0.5 -7.5-1.5 -18.5-5.5 -5.5-2.5 -10.5-6.5 -6-1 -6 2 -6 3.5 -8 7 -10 10 -16 21.5 -16 25.5 -87 158 -1 2 -2-0.5 -1 0.5 1 0.5 1 1.5 -1.5 2 -2 6 -0.5 46 -2.5 32 -2 12 -2.5 6 -2 10 -2 0 -2-8 -2-2 -4 1.5 -2.5 12.5 -1 8 -0.5 2 -2 0.5 -2.5 9.5 -0.5 18 -2.5 10 -4.5 10 -4 11.5 -2 2.5 -2 8.5 -2 4.5 -2 0.5 -2 3 -6 3.5 -2-3.5 -2 4 -8 3 -2-1 -2 2.5 -8 0.5 -4-3.5 -2 1.5 -2 0 -2-1.5 -6-0.5 -2 2.5 -2-2 -10 0 -2 2 -2-0.5 -2-3 -2 1.5 -2-2 -6-0.5 -2-2.5 -2 4 -2 2 -2-5 -2-2 -2 0 -2-2 -4 0 -2 2 -2 0 -2-4 -2 0 -4 4 -2-2 -2 0 -2 2 -4-4 -4 0 -2 2 -2-2 -2 2 -4-0.5 -2-2 -4 0.5 -4 4 -2-2 -2 2 -2-2 -10 0 -2-2 -2 2 -2 0 -2 2 -2 0 -2 1 -2-2.5 -2 1 -2-1.5 -8 0 -2-2 -2 2 -2 0 -2 2 -2-2 -4 0 -2 2 -2 0 -4-4 -2 4 -2 0 -2 2.5 -2 5.5 -2 0.5 -2 2 -4 0 -4-14 -2 2 -2 0 -4-0.5 -2-2 -2 2 -2 6 -2 2.5 -2-2 -2 0 -2 2 -2 0 -2-2.5 -2 0 -4 4 -4-4 -2 0.5 -2.5-8.5 -1-10 -1.5-4 -0.5-18 -0.5-3 -2-0.5 -2-3.5 -2 1.5 -2-0.5 -2-1.5 -4-1 -12-1.5 -2 1 -2 0 -12-2.5 -2-1.5 -2-0.5 -2 0.5 -4-1 -2-2 -2 0.5 -2-1.5 -4 1 -2-1.5 -4-1.5 -2-1.5 -2-0.5 -2 1 -4-0.5 -8-3.5 -10-2.5 -8-3 -2-1.5 -6-2 -2 1 -2-0.5 -4-1.5 -4-3 -2 1 -8-2 -2-1.5 -8-2 -8-4.5 -2 0zM506 414l0 2 2 6 2 1.5 1.5-1.5 -1-2 0-2 -2-2 -0.5-2zM480 249.5l0 2.5 2 4 4 1 0.5-3 -2.5-5 -2-1zM500 298l-2 0 -0.5 2 0.5 2 2 2.5 2 0 0.5-2.5 -0.5-2zM504 85l-0.5 1 2.5 4.5 2 0 1-2.5 -0.5-2 -2.5-1.5zM530 95.5l-0.5 0.5 0.5 4 2 0.5 0-2.5zM578 371.5l-1.5 0.5 1.5 4.5 0.5-0.5zM580 383.5l-1 0.5 1 4.5 1-0.5zM582 396l-1 0 1 4 1 0zM584 408l-0.5 0 0.5 4 1 0zM586 420l-0.5 0 0.5 4 1 0zM588 432l0 4 1.5 0zM590 444l0 4 1.5 0zM592 456l0 4 1 0zM668 633.5l-0.5 2.5 0.5 2.5 1-4.5zM820 129.5l-4 2 -6 5.5 -6 8.5 -6 10.5 -13 30 -13 38 -8.5 32 -12.5 50 -26 128 -8.5 36 -7.5 28 -39 129 -1 5 1 1 53-143 74-186 18.5-48 10-30 5.5-20 3.5-18 2.5-18 0.5-14 -2-14 -3.5-8 -2-2 -4-2.5zM486 261.5l-1 2.5 1 3.5 2 1.5 2 0 0.5-3 -0.5-1 -2-3.5zM502 310.5l-0.5 1.5 2.5 4 2 0.5 0.5-2.5 -0.5-2 -2-2zM506 95.5l1 4.5 1 1.5 2 0 1-1.5 -0.5-4 -2.5-1.5zM532 107.5l-0.5 0.5 0.5 4 2 0.5 0-3zM578 437.5l-1 0.5 1 3 2-1zM586 470.5l-1 1.5 0.5 2 0.5 0.5zM490 273.5l-1 2.5 1 3 2 1.5 2 0.5 0.5-3 -0.5-1.5 -2-3zM506 323l0 1 2 4 2 0.5 0.5-2.5 -0.5-2.5 -2-1.5zM510 106.5l-1.5 1.5 0.5 2 1 2.5 2 0 1-2.5 0-2 -1-1.5zM534 119.5l0 4.5 2 0.5 0-3.5zM580 447.5l-0.5 0.5 0.5 4 2 0.5 0-2.5zM494 286l-0.5 2 0 2 2.5 2.5 2 0 0.5-2.5 -0.5-1.5 -2-3zM512 117l-1 1 0 4 1 1 2 0.5 1.5-1.5 -0.5-4 -1-1zM536 131.5l0 4.5 2 0.5 0-4zM582 460l0.5 2 1.5 1 0-3zM512 334.5l-1.5 1.5 1.5 4 2 0 1-2 -0.5-2zM514 128.5l-1 1.5 0 2 1 2 2 0.5 1.5-2.5 -0.5-2 -1-1.5zM538 143.5l-0.5 4.5 2.5 0.5 0-4.5zM512 428.5l0 3.5 2 3.5 2 0 0-3 -2-3.5zM516 139l-1 1 0.5 4 2.5 1 2-0.5 -1-4.5 -1-1zM540 155.5l-0.5 4.5 2.5 0.5 0-4.5zM512 837.5l-1.5 2.5 1.5 3 4 1 2-0.5 2.5-1.5 0.5-2 -1-2 -2-1 -4-0.5zM516 346.5l-1 1.5 0.5 2 0.5 1.5 2 0.5 1-2 -0.5-2zM518 151l-1 1 1 2.5 2 2 2-0.5 0.5-2 -1-2 -1.5-1.5zM542 167.5l-0.5 4.5 2.5 0.5 0-4.5zM518 441.5l0 5 2 2.5 2-1 -1.5-2 -0.5-2.5zM520 161l-0.5 1 1 4 1.5 1 2 0 0.5-1 -1-4 -1.5-1zM544 179.5l-0.5 4.5 2.5 0.5 0-4.5zM520 358.5l-1 1.5 0.5 2 0.5 1 2 1 1-2 -0.5-2 -0.5-1zM522 173.5l2 5 2-0.5 0.5-2 -0.5-2.5 -2-0.5zM546 191.5l-0.5 4.5 2.5 0.5 0-4.5zM522 455.5l1.5 2.5 0.5 2.5 2 0 0-2 -2-3zM524 184l1 4 1 1 2 0 1-1 -0.5-4 -2.5-1zM548 203.5l-0.5 4.5 2.5 0.5 0.5-4.5zM524 370.5l-0.5 1.5 0 2 2.5 2 1-2 -0.5-2 -0.5-1zM528 195l-1 1 0 2 1 2 2 0 0.5-4 -0.5-1zM550 215.5l0 4.5 2 0.5 0.5-4.5zM528 382.5l0 3.5 2 2 1-2 -0.5-2 -0.5-1zM530 205l-1 1 0 4 1 1 2 0 1-1 -0.5-4 -0.5-1zM552 227.5l0 4.5 2 0.5 0.5-4.5zM528 469.5l2 3 0-2.5zM532 217l-1 1 0 2 1 1.5 2 0.5 1-2 0-2 -1-1zM554 239.5l0 4.5 2 0.5 0.5-4.5zM532 394.5l-0.5 1.5 0.5 2 2 2 1.5-2 -1-2 -0.5-1zM534 227l-0.5 1 0 4 2.5 1 1.5-1 -1-4 -0.5-1zM556 251.5l0 4.5 2 0.5 0.5-4.5zM536 239l-0.5 1 0 2 2.5 2 2-2 -1-2 -1-1zM558 263.5l0 4.5 2 0.5 0.5-4.5zM536 407l0 2 2 2.5 1.5-1.5 -1.5-3.5zM538 249l-0.5 1 1.5 4 1 1 2 0 0.5-1 -1.5-4 -1-1zM560 275.5l0 4 2 1 0.5-4.5zM540 262l2 4 2 0 0.5-2 -0.5-2 -2-1zM562 287.5l0 3.5 2 1.5 0.5-4.5zM540 419l0 1 2 3.5 2-0.5 0-1 -2-3zM544 271l-1.5 1 1 4 0.5 1 2 0 0.5-1 -0.5-4zM564 299.5l0 3 2 2 0.5-0.5 0-4zM546 283l-1 1 1 4 2 0 0.5-4 -0.5-1zM566 311.5l0 2.5 2 2.5 0.5-0.5 0-4zM546 431l-1.5 1 1.5 3.5 2 0 0.5-1.5zM548 293l-1 1 0.5 4 0.5 1 2 0 1-1 -0.5-4 -0.5-0.5zM568 323.5l0 2 2 3 0.5-0.5 0-4zM550 305l-0.5 3 0.5 1 2 0.5 1-1.5 -0.5-2 -0.5-1zM570 336l1.5 4 1 0 0-4zM550 443l-1 1 1 3.5 2 0 0-2.5zM552 315l-0.5 1 0.5 4 2 1 1.5-1 -1-4 -0.5-0.5zM572 348l1.5 4 1 0 0-4zM554 327l-0.5 1 0.5 2 2 1.5 1.5-1.5 -0.5-2 -1-1zM574 360l1.5 4 1 0 0-4zM554 455l-0.5 1 0.5 3 2 0.5 0-3zM556 337.5l0 2.5 1 2 1 1 2-0.5 0.5-0.5 -2-4 -0.5-0.5zM576 425.5l-1.5 0.5 1.5 4.5 2-0.5zM556 802l-2 0 -1.5 2 0 2 1.5 1 2 0.5 1.5-1.5 0.5-2zM558 467l0 3.5 2 0.5 0-3zM560 349l-1.5 1 0.5 2 1 1.5 2-0.5 0-2zM562 359.5l-1 0.5 0.5 4 0.5 0.5 2 0 0.5-0.5 -0.5-3zM562 479.5l0 2.5 2 0.5 0-2.5zM564 371.5l-0.5 0.5 0.5 3.5 2 0 0.5-3.5zM566 381.5l-0.5 0.5 0 4 2.5 0.5 0.5-0.5 0-4zM566 491.5l0 1.5 2 1.5 0-2.5zM568 393.5l-0.5 2.5 0.5 1 2 0 0.5-3 -0.5-0.5zM570 403.5l0 4 2 1 1-0.5 -0.5-4zM572 415.5l0 1 2 2.5 1-1 -0.5-2 -0.5-0.5zM1287 216l3-0.5 0 95 -2 0 -66 20.5 -46 16 -44 17.5 -40 18.5 -32 17.5 -24 16.5 -18 15.5 -32 31.5 -20 15.5 -10 6 -8 3 -6 0.5 -2-0.5 -2-2 -1-4.5 0.5-4 1.5-6 3-8 8-15.5 12-17.5 12-15 24-26 17-16 17-14 20-14.5 24-16 56-34 38-20.5z"/>
<path fill="#00b4ff" d="M188 82l79.5 0 1 4 5.5 8 0.5 2 9.5 14 0.5 2 13.5 20 28 46 4 6.5 2 1.5 2-1 0-1 -4-10.5 -11.5-25.5 -16.5-32 -4.5-10 -1.5-2 -0.5-2 -1.5-2 -2.5-6 -5.5-8 -0.5-4 49 0 0 2 8.5 20 39 88 1.5 2 0.5 2.5 1.5 1.5 0.5 2.5 1.5 1.5 0.5 2.5 2 0.5 0-4 -1.5-3 -0.5-2.5 -1-1.5 -1-3.5 -42.5-106.5 0-2 27.5 0 0 2 20 50 62 150 2.5 8 1.5 2 2.5 8 1.5 2 4.5 12 3.5 8 0.5 2 3.5 8 2.5 8 3.5 6 0.5 4 1.5 2 0.5 2 1.5 2 2.5 6 0 2 3 6 3 10 2 2 0.5 2 1.5 2 0.5 4 1.5 2 0.5 2.5 1.5 1.5 0.5 2.5 1.5 1.5 0 4 2.5 4.5 1.5 1.5 0.5 4 2 6 2 2 2-2 -1.5-2 0-2 -4-6 0-4 -2.5-5.5 -1.5-0.5 -2-10 -2-2 -0.5-2 -1.5-2 0-4 -1.5-2 -1-3 -1-1 -2.5-10 -3.5-6 -0.5-4 -1.5-2 -0.5-2 -1.5-2 -2-8 -4-8 -2.5-8 -1.5-2 -2-8 -1.5-2 -2.5-6 -2.5-8 -1.5-2 -0.5-2 -1-2 -1-4 -1.5-2 -6.5-18 -1-2 -3-8 -1-2 -65.5-170 -1.5-6 38.5 0 0 2 24.5 68 23.5 62 0.5 4 3 6 1.5 5.5 3.5 6.5 0 4 2.5 5 2 1 1 2 -1 0.5 0 3.5 2 4.5 4 1 1-1.5 0-2 -3-5.5 -1.5-0.5 0.5-6 -4-8 -0.5-4 -3.5-8 -0.5-4 -3-8 -1-4 -12.5-37 -1-5 -1-1 -1-5 -1-1 -1-5 -1-1.5 -1-4.5 -1-1.5 -1-4.5 -1-1.5 -1-4.5 -1-1.5 -1-4.5 -1-1 -1-5 -1-1 -3-11 -1-1 -0.5-3 -1.5-3 -0.5-3 -1.5-3 -0.5-3 -1.5-3 0-3 -2-3 0-3 4 0 0.5 6 1.5 1.5 0.5 2.5 1.5 2.5 0.5 3.5 1.5 1.5 1 4.5 1 1 0.5 3 1.5 2.5 0.5 3.5 1.5 1.5 1 4.5 3 6 1 4 1 1.5 7 18.5 7 15.5 1 0.5 1 3.5 0.5-1.5 -0.5-7 -1.5-3 -0.5-4.5 -11.5-35.5 -11-32 -0.5-4 84 0 1 6.5 2.5-0.5 -1.5-6 111 0 0.5 130 1.5 56 1 4 0.5 46 1 4 0 10 1 4 0 40 1 2 0 10 1 4 0 30 1 2 0 8 1 4 0 30 1 4 1 10 0 28 0.5 3 1 1 0 8 0.5 2 0 30 1.5 2 0.5 10 0 30 1.5 2 1 30 1 4 1 24.5 2 0.5 0.5 1 -1.5 2 -1.5 6 -0.5 46 -2.5 32 -2 12 -2.5 6 -2 10 -2 0 -2-8 -2-2.5 -2 0.5 -2 1.5 -2.5 12.5 -1 8 -0.5 1.5 -2 0.5 -2.5 10 -1 18 -2.5 10 -4.5 10 -3.5 11.5 -2 2 -2 8.5 -2 4.5 -2 1 -2 3 -6 3.5 -2-3.5 -2 3.5 -8 3.5 -2-1 -2 2.5 -8 0 -4-3.5 -2 2 -2 0 -2-2 -6 0 -2 2.5 -2-2 -10 0 -2 2 -2-0.5 -2-3 -2 1.5 -2-2 -6-0.5 -2-2.5 -2 4 -2 2 -2-5 -2-2 -2 0 -2-2 -4 0 -2 2 -2 0 -2-4 -2 0 -4 4 -2-2 -2 0 -2 2 -4-4 -4 0 -2 2 -2-2 -2 1.5 -4 0 -2-2 -4 0 -4 4 -2-2 -2 2 -2-2 -10 0 -2-2 -2 2 -2 0 -2 2 -2 0.5 -2 1 -2-2.5 -2 1 -2-2 -8 0 -2-2 -2 2 -2 0 -2 2 -2-2 -4 0 -2 2 -2 0 -4-4 -2 4 -2 0 -2 2.5 -2 6 -2 0 -2 2 -4 0 -4-13.5 -2 1.5 -2 0 -4-0.5 -2-2 -2 2.5 -2 6 -2 2 -2-2 -2 0 -2 2 -2 0 -2-2 -2-0.5 -4 4 -4-4 -2 0.5 -2.5-10 -1-8 -1-4 -0.5-18 -1-3 -2-0.5 -2-4 -2 1.5 -2 0 -2-2 -2 0 -14-2 -2 1 -10-1.5 -4-1 -2-2 -2-0.5 -2 1 -4-1.5 -2-1.5 -2 0.5 -2-1.5 -4 0.5 -10-4.5 -2 1 -4-0.5 -8-4 -10-2 -8-3.5 -2-1 -6-2 -2 1 -2-1 -4-1.5 -4-3 -2 1 -18-5.5 -6.5-4 -1.5-2 -2 0zM486 261l-1 1 -0.5 2 1.5 3.5 2 1.5 2 0 1-3 -3-5zM504 85l-0.5 1 2.5 5 2 0 1-3 0-2 -1-1 -2-0.5zM530 95.5l-1 0.5 0.5 4 2.5 0.5 0-3zM580 383.5l-1.5 0.5 1.5 4.5 1-0.5zM582 395.5l-1 0.5 1 4.5 1-0.5zM584 407.5l-1 0.5 1 4.5 1.5-0.5zM586 419.5l-1 0.5 1 4.5 1.5-0.5zM588 431.5l-0.5 0.5 0 4 2.5 0zM590 443.5l-0.5 0.5 0.5 4 2 0zM490 273.5l-1 2.5 0.5 2 2.5 3 2 0 1-3 -1-1.5 -2-3zM504 310l-2 0 -0.5 2 2.5 4.5 2 0 1-2.5 -0.5-2zM506 95.5l-0.5 0.5 1.5 4 1 1.5 2 0 1-1.5 -0.5-4 -0.5-1 -2-0.5zM532 107.5l-1 0.5 0.5 4 2.5 0.5 0-3.5zM586 470.5l-1.5 1.5 0.5 2 1 0.5zM588 481.5l-1 0.5 1 2.5zM592 456l0 4 2 0zM494 285.5l-1 2.5 0.5 2 2.5 2.5 2 0.5 1-3 -1-2 -2-2.5zM508 322l-2 0.5 -0.5 1.5 2.5 4 2 0.5 1-2.5 -0.5-2zM510 106.5l-1.5 1.5 0.5 2 1 2.5 2 0 1-2.5 0-2 -1-1.5zM534 119.5l-0.5 0.5 0 4 2.5 0.5 0-4zM594 468l0 4 1.5 0zM498 298l-0.5 2 0.5 2 2 2.5 2 0.5 1-3 -1-2 -2-2.5zM512 116.5l-1.5 1.5 0.5 4 1 1.5 2 0 1.5-1.5 -0.5-4 -1-1zM536 131.5l-0.5 0.5 0 4 2.5 0.5 0-4.5zM512 334l-1.5 2 1.5 4 2 0.5 1-2.5 -0.5-2zM514 128.5l-1 1.5 0 2 1 2 2 0.5 1-0.5 0.5-2 -0.5-2 -1-1.5zM538 143.5l-0.5 0.5 0 4 2.5 0.5 0-4.5zM512 428l0 4 2 3.5 2 0.5 0.5-2 -0.5-2 -2-3.5zM516 138.5l-1 1.5 0.5 4 2.5 1.5 2-1 0.5-0.5 -1.5-4 -1-1.5zM540 155.5l-0.5 0.5 0 4 2.5 0.5 0-4.5zM512 837.5l-1.5 2.5 1.5 3 4 1.5 4.5-2.5 0.5-2 -1-2 -2-1.5 -4 0zM516 346l-1 2 0.5 2 0.5 1.5 2 1 1-2.5 -0.5-2 -0.5-1zM518 150.5l-1 1.5 1 3 2 1.5 2 0 0.5-2.5 -1-2 -1.5-1.5zM542 167.5l-0.5 0.5 0 4 2.5 0.5 0-4.5zM518 441l-0.5 1 0.5 4.5 2 2.5 2-0.5 -1.5-2.5 -0.5-3zM520 161l-1 1 1.5 4 1.5 1.5 2-0.5 1-1 -1.5-4 -1.5-1zM544 179.5l-0.5 0.5 0 4 2.5 0.5 0.5-4.5zM522 455l0 1 1.5 2 0.5 2.5 2 0.5 0-3 -2-3zM520 358.5l-1 1.5 0.5 2 0.5 1 2 1 1-2 -0.5-2 -0.5-1zM522 173.5l-0.5 0.5 2.5 4.5 2 0 1-2.5 -0.5-2 -2.5-1.5zM546 191.5l-0.5 0.5 0 4 2.5 0.5 0.5-4.5zM524 183.5l1 4.5 1 1.5 2-0.5 1-1 -0.5-4 -2.5-1zM548 203.5l-0.5 4.5 2.5 0.5 0.5-4.5zM524 370.5l-0.5 1.5 0 2 0.5 1 2.5 1 0-4 -0.5-1zM528 194.5l-1.5 1.5 0.5 2 1 2.5 2 0 1-4.5 -1-1zM550 215.5l-0.5 4.5 2.5 0.5 0.5-4.5zM528 382.5l-0.5 1.5 0 2 3 2 0.5-2 -0.5-2 -0.5-1.5zM530 205l-1 1 0 4 1 1 2 0 1-1 -0.5-4 -0.5-1zM552 227.5l-0.5 4.5 2.5 0.5 0.5-4.5zM528 469l0 1.5 1.5 1.5 0.5 2 0-4.5zM532 216.5l-1 1.5 0 2 1 1.5 2 1 1-2.5 0-2 -1-1zM554 239.5l0 4.5 2 0.5 0.5-0.5 0-4zM532 394.5l-0.5 1.5 0.5 2 2.5 2 1-2 -1-2 -0.5-1.5zM534 227l-1 1 0.5 4 2.5 1 2-1 -1-4 -1-1zM556 251.5l0 4.5 2 0.5 0.5-0.5 0-4zM536 239l-1 1 0.5 2 2.5 2.5 1-0.5 1-2 -1-2 -1-1zM558 263.5l0 4.5 2 0.5 0.5-0.5 0-4zM536 406.5l-0.5 1.5 2.5 4 2 0 0-2 -2-3.5zM538 249l-0.5 1 1 4 1.5 1 2 0 0.5-1 -1.5-4 -1-1zM560 275.5l0 4.5 2 0.5 0.5-0.5 0-4zM540 419l-0.5 1 2.5 4 2 0 0-2 -2-3.5zM540 261.5l2 4.5 2 0 0.5-2 -0.5-2 -2-1zM562 287.5l0 4 2 1 0.5-0.5 0-4zM544 271l-2 1 1 4 1 1 2 0 0.5-1 -0.5-4zM564 299.5l0 3.5 2 1.5 0.5-0.5 0-4zM546 283l-1 1 1 4 2 0 0.5-4 -0.5-1zM566 311.5l0 3 2 2 0.5-0.5 0-4zM546 430.5l-2 1.5 2 4 2 0 0.5-2zM548 293l-1 1 0.5 4 0.5 1 2 0 1-1 -0.5-4 -0.5-1zM568 323.5l0 2.5 2 2.5 0.5-0.5 0-4zM550 305l-0.5 1 0 2 0.5 1.5 2 0.5 1-2 -0.5-2 -0.5-1zM570 335.5l0 2 1.5 2.5 1.5 0 -0.5-4zM550 442.5l-1 1.5 1 3.5 2 0.5 0-3zM552 315l-0.5 1 0 4 2.5 1 1.5-1 -1-4 -0.5-1zM572 347.5l1.5 4.5 1.5 0 -0.5-4zM554 327l-0.5 1 0.5 2 2 2 1.5-2 -0.5-2 -1-1zM574 360l1.5 4 1.5 0 -0.5-4zM554 455l-1 1 1 3 2 0.5 0-3zM556 337.5l0 2.5 1 2 1 1 2-0.5 0.5-0.5 -1.5-4 -1-1zM576 372l1.5 4 1.5 0 -0.5-4zM556 802l-2 0 -1.5 2 0 2 1.5 1.5 2 0 1.5-1.5 0.5-2zM558 467l-0.5 3 0.5 0.5 2 0.5 0-3zM560 349l-2 1 1 2 1 1.5 2 0 0-3zM562 359.5l-1.5 0.5 1 4 0.5 1 2 0 0.5-1 -0.5-3.5zM562 479.5l0 2.5 2 1 0-3zM564 371l-1 1 1 3.5 2 0 0.5-3.5zM566 381.5l-0.5 0.5 0 4 0.5 0.5 2 0 0.5-0.5 0-4zM566 491.5l0 2 2 1 0-3zM568 393.5l-0.5 2.5 0.5 1 2 0.5 0.5-3.5 -0.5-0.5zM570 403.5l-0.5 2.5 0.5 1.5 2 1 1-0.5 -0.5-4zM570 504l2 2 0-2zM572 415.5l0 1.5 2 2.5 1-1.5 -0.5-2 -0.5-0.5zM574 426l1.5 4 0.5 0.5 2-0.5 -2-4.5zM578 437.5l-1 0.5 1 3 2-1zM580 447.5l-0.5 0.5 0.5 4 2 0.5 0-3zM582 459.5l0 2.5 2 1 0-3zM755 82l531.5 0 0 2 -28.5 24 -24 19 -78 57.5 -64 48.5 -34 27.5 -32 27 -24 22 -20 19.5 -19 21 -27 34.5 -10 11.5 -14 14 -14 11 -10 6.5 -8 3.5 -8 1.5 -8 0 -14-4.5 -9-4 -5.5-4 -8.5-10 -3-2 -2-0.5 -4 0.5 -6 3 -12 10 -10 11 -14 18.5 -12 18 -12 19.5 -12.5 22 -73.5 139.5 -1-1.5 -0.5-2 -0.5-0.5 -0.5 0.5 -0.5 2 1.5 4 -0.5 1 -2.5-1 -0.5-6 18.5-154 4-28 4-22 5-24 25.5-96 11-48 8-46 5-34zM824 105.5l-6 2.5 -6 6 -6 9 -8 15 -7 16 -9 22 -15 46 -8 32 -12 50 -23 116 -9.5 44 -7.5 30 -41.5 146 -0.5 4 1 1 149-379 8.5-24 8-24 5.5-22 4.5-22 2.5-18 0-16 -2-13 -4-10.5 -6-7.5 -4-2.5zM1287 224l3-0.5 0 82 -2 0 -64 20.5 -46 16 -46 19 -42 19.5 -28 15.5 -24 16 -20 17 -31.5 31 -14.5 11.5 -8 5 -8 4 -6 1 -4-2 -1.5-3.5 0.5-4 3.5-12 7.5-14 11-16 17-20 19-20 15-14 18-14 18-13 24-15.5 30-18.5 28-15.5 40-21z"/>
<path fill="#00bcff" d="M188 82l76.5 0 0 2 7.5 12 12 18 6 6 0.5 2 3.5 4.5 16 25.5 18 30 3 4 1 2 2 1.5 2-1 0-0.5 -2-6.5 -15.5-33.5 -16.5-33 -1-3 -1-1.5 0-2.5 -2-5 -9.5-17 -0.5-4 46.5 0 0.5 4 18 42 33 73.5 4 6.5 0 2 2 1.5 0-5.5 -1-2 -1-4 -1.5-2 -2.5-8 -25-64 -17.5-42 0-2 27.5 0 0 2 20 50 62 150 2.5 8 1.5 2 2.5 8 1.5 2 4 12 4 8 0 2 4 8 2.5 8 3.5 6 0.5 4 3.5 6 2 6 0.5 2 4 8 2 8 2 2 0.5 2 1.5 2 0 4 1.5 2 0.5 2 2 2 0.5 3 1 1 1 5 3.5 5 0 4 2.5 6 3.5 4 0.5 6 2 3.5 2 1 0.5-2.5 -0.5-2 -2-3.5 -2-0.5 0-6 -1.5-2 0-2 -4-6 0-4 -2.5-5.5 -1-0.5 -2.5-10 -2-2 0-2 -1.5-2 -0.5-4 -1.5-2 -1-3.5 -1-0.5 -2.5-10 -3.5-6 -0.5-4 -1.5-2 0-2 -2-2 -2-8 -4-8 -2-8 -2-2 -2-8 -4-8 -2.5-8 -1.5-2 -2.5-8 -1.5-2 -2.5-8 -1-2 -6.5-18 -15.5-38 -35-92 -16.5-42 -1.5-6 38.5 0 0 2 24.5 68 23 62 1 4 3 6 1.5 6 3.5 6 0 4 2.5 5 1.5 1 0.5 6 2 4.5 4 1.5 1-2 0-2 -3-5.5 -1-0.5 0-6 -4-8 0-4 -3.5-8 -0.5-4 -3.5-8 -0.5-4 -1.5-2 -2.5-10 -3-7 -1-5 -1-1 -1-5 -1-1.5 -1-4.5 -1-1.5 -1-4.5 -1-1.5 -0.5-4.5 -1.5-1.5 -0.5-4.5 -1.5-1.5 -0.5-4.5 -1.5-2 -0.5-4 -1.5-2 -0.5-4 -1.5-2 -0.5-4 -1.5-1.5 -0.5-4.5 -1.5-1.5 -0.5-4.5 -1.5-1.5 -0.5-4.5 -1.5-2 0-4 -2-2 0-5 2-0.5 0.5 3.5 1.5 1 0 3 2 2 0.5 4 1.5 1.5 0 2.5 2 2.5 0.5 3.5 1.5 1.5 2.5 8.5 1.5 2 1 4 1 1 0.5 3 1.5 2 2.5 8 9 20 0.5 0.5 1.5-0.5 -1.5-10.5 -1-1.5 -1-5 -11-35 -11.5-32 -0.5-4 83.5 0 1.5 6.5 2.5-0.5 -1-6 110.5 0 0.5 130 1.5 56 1 4 0.5 46 1 4 0 10 0.5 4 0.5 40 1 2 0 10 0.5 4 0.5 30 1 2 0 8 0.5 4 0.5 30 1.5 14 0.5 30 1 2 0 8 1 2 0 30 1 2 1 40 1.5 2 0.5 30 1.5 4 1 26 0.5 4 -1 4 -0.5 46 -2.5 32 -1.5 10 -3 8 -2 10 -2-0.5 -2-8 -2-2 -2 0.5 -2 1.5 -2.5 12.5 -1 8 -0.5 1.5 -2 0.5 -2.5 10 -1 18 -2.5 10 -4.5 10 -3.5 11 -2 2.5 -2 8.5 -2 4.5 -2 1 -2 2.5 -6 3.5 -2-3 -2 3.5 -8 3.5 -2-1.5 -2 3 -8 0 -4-3.5 -2 2 -2 0 -2-2 -6 0 -2 2 -2-2 -10 0 -2 2.5 -2-1 -2-2.5 -2 1 -2-2 -6-0.5 -2-2 -2 3.5 -2 2 -2-5 -2-2 -2 0 -2-2 -4 0 -2 2 -2 0 -2-4 -2 0 -4 4 -2-2 -2 0 -2 2 -4-4 -4 0.5 -2 2 -2-2 -2 1.5 -4 0 -2-2 -4 0 -4 4 -2-2 -2 2 -2-2 -10 0 -2-2 -2 2 -2 0 -2 2 -2 0 -2 1 -2-2 -2 1 -2-2 -8 0 -2-2 -2 2 -2 0 -2 2 -2-2 -4 0 -2 2 -2 0 -4-4 -2 4 -2 0 -2 2.5 -2 5.5 -2 0.5 -2 2 -4 0 -4-14 -2 2 -2 0 -4-0.5 -2-2 -2 2.5 -2 6 -2 2 -2-2 -2 0 -2 2 -2 0 -2-2.5 -2 0 -4 4 -4-4 -2 0.5 -2.5-10 -1-8 -1-4 -0.5-18 -1-3 -2-0.5 -2-4 -2 1.5 -2-0.5 -2-1.5 -16-2.5 -2 1.5 -10-2 -4-1 -2-1.5 -2-0.5 -2 0.5 -4-1 -2-1.5 -2 0.5 -2-2 -4 1 -10-5 -2 1.5 -4-1 -8-3.5 -10-2.5 -8-3 -2-1.5 -6-2 -2 1 -2-0.5 -4-2 -4-2.5 -2 1 -18-6 -5-3.5 -3-6 -2 0zM512 837.5l-1.5 2.5 0.5 2 1 1 4 1.5 5-2.5 0.5-2 -1-2 -2.5-1.5 -4 0zM486 260.5l-1.5 1.5 0.5 4 1 2 2 1 2 0.5 1-1.5 0-2 -3-5zM504 85l-0.5 1 2.5 5 2 0 1-3 0-2 -1-1 -2-0.5zM530 95.5l-1 0.5 0.5 4 2.5 0.5 0-4zM582 395.5l-1.5 0.5 1.5 4.5 1.5-0.5zM584 407.5l-1.5 0.5 1.5 4.5 2-0.5zM586 419.5l-1 0.5 0.5 4 2.5 0zM490 273l-1 3 0.5 2 2.5 3 2 0.5 1-1.5 0-2 -1-2 -2-3zM506 95l-0.5 1 1.5 4 1 1.5 2 0 1-1.5 0-4 -1-1 -2-0.5zM532 107.5l-1 0.5 0.5 4 0.5 0.5 2 0 0-4zM586 470l-1 0 -0.5 2 0.5 2 1 0.5zM588 431.5l-1 0.5 0.5 4 2.5 0zM494 285.5l-1 2.5 0.5 2 2.5 3 2 0 1-3 -1-2 -2-3zM510 106.5l-1.5 1.5 1 4 0.5 1 2 0 0.5-1 0.5-4 -1-1.5zM534 119.5l-1 0.5 0.5 4 0.5 0.5 2 0 0-4.5zM588 481.5l-1 0.5 1 2.5zM590 443.5l-0.5 0.5 0 4 2.5 0zM498 297.5l-0.5 2.5 0.5 2 2 2.5 2 0.5 1-3 -0.5-2 -2.5-2.5zM512 116.5l-1.5 1.5 0.5 4 1 1.5 2 0 1.5-1.5 -0.5-4 -1-1.5zM536 131.5l-1 0.5 0.5 4 0.5 0.5 2 0 0-4.5zM592 455.5l-0.5 0.5 0.5 4 2 0zM502 310l-0.5 2 0.5 1.5 2 3 2 0.5 1-3 -0.5-2 -2.5-2.5zM512 334l-2 2 2 4 2 0.5 0.5-0.5 0-4zM514 128.5l-1 1.5 0 2 1 2 2 1 1.5-1 -0.5-4 -1-1.5zM538 143.5l-1 0.5 0.5 4 0.5 0.5 2 0 0-4.5zM594 468l0 4 2 0zM506 322l-0.5 2 2.5 4 2 0.5 0.5-0.5 0-4 -2.5-2.5zM516 138.5l-1 1.5 0.5 4 2.5 1.5 2-0.5 0.5-1 -1.5-4 -1-1.5zM540 155.5l-0.5 0.5 0 4 0.5 0.5 2 0 0.5-0.5 0-4zM516 346l-1.5 2 1 2 0.5 2 2 0.5 1-0.5 -0.5-4 -0.5-1zM518 150.5l-1 1.5 1 3 2 2 2-0.5 0.5-2.5 -1-2 -1.5-1.5zM542 167.5l-0.5 0.5 0 4 0.5 0.5 2 0 0.5-0.5 0-4zM518 440.5l-1 1.5 1 4.5 2 3 2-0.5 0-1 -1.5-2 0-2zM520 160.5l-1 1.5 1.5 4 1.5 1.5 2 0 1-1.5 -1.5-4 -1.5-1.5zM544 179.5l-0.5 0.5 0 4 0.5 0.5 2 0 0.5-0.5 0-4zM522 455l-0.5 1 2 2 0.5 2.5 2 0.5 0-3 -2-3zM520 358l-1 2 0.5 2 0.5 1.5 2 1 1-0.5 -0.5-4 -0.5-1.5zM522 173l-0.5 1 2.5 5 2-0.5 1-2.5 -0.5-2 -2.5-1.5zM546 191.5l-0.5 0.5 0 4 0.5 0.5 2 0 0.5-0.5 0-4zM524 183.5l1 4.5 1 1.5 2 0 1-1.5 -0.5-4 -2.5-1.5zM548 203.5l-0.5 0.5 0 4 2.5 0.5 0.5-0.5 0-4zM524 370l-1 2 0.5 2 2.5 2.5 1-0.5 0-4 -1-1.5zM528 194.5l-1.5 1.5 0.5 2 1 2.5 2 0 1-4.5 -1-1zM550 215.5l-0.5 0.5 0 4 2.5 0.5 0.5-0.5 0-4 -0.5-0.5zM528 382.5l-0.5 1.5 0.5 2.5 2 2 2-0.5 -2-5.5zM530 204.5l-1 1.5 0 4 1 1 2 0.5 1-1.5 0-4 -1-1zM552 227.5l-0.5 0.5 0 4 2.5 0.5 0.5-0.5 0-4 -0.5-0.5zM528 468.5l0 2.5 2 3 2 0 -1.5-2 -0.5-2.5zM532 216.5l-1 1.5 0 2 1 2 2 0.5 1-2.5 0-2 -1-1.5zM554 239.5l-0.5 0.5 0 4 2.5 0.5 0.5-0.5 0-4 -0.5-0.5zM532 394.5l-0.5 1.5 0.5 2 2 2 2 0 -2-5.5zM534 227l-1 1 0.5 4 2.5 1.5 2-1.5 -1-4 -1-1zM556 251.5l-0.5 0.5 0 4 2.5 0.5 0.5-0.5 0-4 -0.5-0.5zM536 406.5l-0.5 1.5 0.5 1.5 2 2.5 2 0 0-2 -2-3.5zM536 238.5l-1 1.5 1 3 2 1.5 1.5-0.5 0.5-2 -1-2 -1-1.5zM558 263.5l0 4.5 2 0.5 0.5-0.5 0-4 -0.5-0.5zM540 418.5l-0.5 1.5 2.5 4 2 0 0.5-2 -2.5-3.5zM538 249l-0.5 1 1 4 1.5 1 2 0 0.5-1 -1.5-4 -1-1zM560 275.5l0 4.5 2 0.5 0.5-0.5 0-4zM544 431.5l2 4.5 2 0 0.5-2 -2.5-3.5zM540 261.5l-0.5 0.5 2.5 4.5 2 0 0.5-2.5 -0.5-2 -2-1.5zM562 287.5l0 4.5 2 0.5 1-0.5 -0.5-4zM542 272l1 4 1 1 2 0 1-1 -1-4 -2-1zM564 299.5l0 4 2 1 1-0.5 -0.5-4zM546 283l-1 1 1 4 2 0 0.5-4 -0.5-1zM566 311.5l0 3.5 2 1.5 1-0.5 -0.5-4zM548 293l-1 1 0.5 4 0.5 1 2 0 1-1 -0.5-4 -0.5-1zM568 323.5l0 3 2 2 1-0.5 -0.5-4zM550 305l-1 1 0.5 2 0.5 1.5 2 0.5 1-2 0-2 -1-1zM570 335.5l0 2.5 1 2 1 0.5 1-0.5 -0.5-4zM550 442.5l-1.5 1.5 1 2 0.5 1.5 2 0.5 0.5-2zM552 315l-0.5 1 0 4 2.5 1 1.5-1 -1-4 -0.5-1zM572 347.5l0 2 1 2.5 1 0.5 1-0.5 -0.5-4zM554 327l-0.5 1 0.5 2 2 2 1.5-2 -0.5-2 -1-1zM574 359.5l1.5 4.5 0.5 0.5 1-0.5 -0.5-4zM554 454.5l-1 1.5 0.5 2 0.5 1 2 1 0.5-2 -0.5-2zM556 337l-0.5 1 0.5 2 1 2 1 1 2-0.5 0.5-0.5 -1.5-4 -1-1zM576 372l1.5 4 0.5 0.5 1.5-0.5 -1-4zM554 802l-1.5 2 0 2 1.5 1.5 2 0 2-1.5 0-2 -2-2zM558 350l2 4 2-0.5 0.5-1.5 -0.5-2 -2-1zM578 384l1.5 4 0.5 0.5 1.5-0.5 -1-4 -0.5-0.5zM558 467l-0.5 1 0 2 0.5 1 2 0.5 0-3.5zM562 359l-1.5 1 1 4 0.5 1 2 0 0.5-1 -0.5-3.5zM562 479l-0.5 3 2.5 1 0-3zM564 371l-1 1 1 3.5 2 0 0.5-3.5zM566 381.5l-0.5 0.5 0 4 0.5 0.5 2 0.5 0.5-1 0-4zM566 491.5l0 2.5 2 1 0-3zM568 393l-0.5 3 0.5 1 2 0.5 0.5-3.5 -0.5-1zM570 403.5l-0.5 2.5 0.5 1.5 2 1 1-0.5 -0.5-4 -0.5-0.5zM570 503.5l0 1 2 2 0-3zM572 415.5l0 1.5 2 2.5 1-1.5 -0.5-2 -0.5-1zM574 426l1.5 4 0.5 0.5 2-0.5 -1.5-4 -0.5-0.5zM574 516l2 2 0-2zM578 437.5l-1 0.5 1 3 2-0.5 0-1zM580 447.5l-0.5 0.5 0 4 2.5 0.5 0.5-0.5 -0.5-2.5zM582 459.5l0 2.5 2 1 0-3zM763.5 82l53 0 0 2 -6.5 10 -6 11.5 -15.5 34.5 -18 46 -13.5 42 -14 62 -17 98.5 -12 61.5 -12 50 -37.5 142 -1.5 4 0 4 1.5 2 -0.5 0.5 -2-1 -0.5-1.5 0.5-7.5 22-149 5.5-31.5 5.5-26 7-27.5 33-118.5 12-58 5.5-42zM837.5 82l440.5 0 0 2 -25.5 22 -22.5 18 -76 56.5 -64 49 -34 27.5 -32 27 -24 22 -20.5 20 -18 20 -35.5 44.5 -14 14 -12 9.5 -8 4.5 -8 3.5 -8 2 -6-0.5 -6-1.5 -9.5-4 -8.5-5.5 -4.5-6.5 -5.5-13.5 -2-2.5 -2-1.5 -4 0 -4 1.5 -12 8.5 -14 16 -16 20.5 -14.5 21 -15 24 -15 28 -67.5 133 -1-1 1-4 60.5-148 89-226 9.5-26 8-24 6-22 4-20 3-18 1-18 -1.5-18 -2-10 -5.5-14 -4.5-8zM1285.5 234l2.5-1.5 2 0 0 66.5 -2 0 -66 22.5 -44 15.5 -44 18.5 -42 20 -32 17.5 -24 16.5 -18 15.5 -30 29.5 -14 11 -6 3.5 -6 3 -6 0 -2-1.5 -1-2.5 0.5-4 3-10 7.5-13 10-14 18-20 16-16 16-14 18-14 20-13.5 24-15 53.5-30.5 40.5-20.5zM667.5 642l0.5-1 1 1 -1 3 -0.5-1z"/>
<path fill="#00c8ff" d="M188 82l75.5 0 0.5 3 16 25 6 8.5 6 5.5 0.5 2 3.5 4 0.5 2 13.5 20 20 33.5 4 6 2 2 2-1.5 -2-6.5 -17-37.5 -11-21.5 -0.5-2.5 -1.5-1.5 -0.5-2.5 -1.5-2 0-4 -4-10 -11-20 0-2 45 0 0.5 4 1.5 1.5 17 40.5 33 74 3.5 6 0.5 2.5 1.5 1.5 0.5 2.5 2 1.5 0 1.5 2-0.5 0-1 -1.5-2 -0.5-4 -1.5-2 -2.5-9 -29-73 -17.5-42 0-2 27.5 0 0 2 2.5 6 79.5 194 2.5 8 1.5 2 2.5 8 1.5 2 2.5 8 5.5 12 0 2 4 8 2.5 8 3.5 6 0.5 4 3.5 6 2.5 8 4 8 2 8 2 2 0 2 2 2 0 4 1.5 2 0.5 2 2 2 2.5 9.5 3 4.5 0.5 4 2.5 6 2 2 0 1.5 2 2.5 0 4 4 6.5 0.5-4.5 -0.5-2 -2-3.5 -1-0.5 -1-6 -1-2 -0.5-2 -3.5-6 -0.5-4 -4-8 -2-8 -1.5-2 -0.5-2 -1.5-2 -0.5-4 -3.5-6 -2.5-10 -3.5-6 -0.5-4 -1.5-2 0-2 -2-2 -2-8 -4-8 -2-8 -2-2 -2-8 -4-8 -2.5-8 -1.5-2 -2-8 -2-2 -2.5-8 -1-2 -3-8 -1-2 -2.5-8 -11.5-28 -39-102 -16.5-42 -1.5-6 38 0 0 2 24.5 68 24.5 66 3.5 8 1 4 3 6 0.5 4 2.5 5.5 1.5 0.5 0.5 6 2 4.5 4 2 1-2.5 0-2 -4-8 0-4 -3.5-8 -0.5-4 -3.5-8 -0.5-4 -3.5-8 -0.5-4 -1-1.5 -1-4.5 -1-2 -1-4 -1-2 -1-4 -1-1.5 -1-4.5 -1-1.5 -0.5-4.5 -1.5-1.5 -0.5-4.5 -1.5-2 -0.5-4 -1.5-2 -0.5-4 -1.5-2 -0.5-4 -1.5-2.5 0-3.5 -2-3 -0.5-5 -1.5-1.5 -0.5-4.5 -1.5-2 0-1.5 4-0.5 0.5 4 1.5 1.5 0 2.5 2 2 0.5 4 1.5 1 0.5 3 1.5 2 1 4 1 1 0.5 3 1.5 2 3 8 5 9.5 1-1.5 -1-8 -1-2 -1-5 -13-41 -11.5-32 -0.5-4 83.5 0 1 6 0.5 0.5 2 0 0.5-0.5 -1-6 110 0 0.5 58 0.5 4 0 68 1.5 56 0.5 4 1 46 0.5 14 1 4 0.5 40 0.5 2 0 10 1 4 0.5 30 0.5 2 0 8 1 4 0.5 30 0.5 10 1 4 0.5 30 1 2 0 8 0.5 2 0.5 30 1 2 0 8 0.5 2 0.5 30 1 2 1 30 2 10 1 24 -1 4 -0.5 46 -2.5 32 -1.5 10 -3 8 -2 9.5 -2 0 -2-8 -2-2 -2 0.5 -2 1 -3 13 -0.5 8 -0.5 1.5 -2 0 -2.5 10.5 -1 18 -2.5 10 -4.5 10 -3.5 11 -2 2 -2 9 -2 4.5 -2 0.5 -2 3 -6 3.5 -2-3.5 -2 4 -8 3 -2-1 -2 2.5 -8 0.5 -4-3.5 -2 1.5 -2 0 -2-1.5 -6-0.5 -2 2.5 -2-2 -10 0 -2 2 -2-0.5 -2-3 -2 1.5 -2-2 -6-0.5 -2-2.5 -2 4 -2 2 -2-5 -2-2 -2 0 -2-2 -4 0 -2 2 -2 0 -2-4 -2 0 -4 4 -2-2 -2 0 -2 2 -4-4 -4 0 -2 2 -2-2 -2 1.5 -4 0 -2-2 -4 0 -4 4 -2-1.5 -2 2 -2-2 -10 0 -2-2 -2 2 -2 0 -2 2 -2 0 -2 1 -2-2.5 -2 1 -2-1.5 -8 0 -2-2 -2 2 -2 0 -2 2 -2-2 -4 0 -2 2 -2 0 -4-4 -2 4 -2 0 -2 2.5 -2 5.5 -2 0.5 -2 2 -4 0 -4-14 -2 2 -2 0 -4-0.5 -2-2 -2 2 -2 6 -2 2.5 -2-2 -2 0 -2 2 -2 0 -2-2.5 -2 0 -4 4 -4-4 -2 0.5 -2.5-10 -1.5-10 -0.5-2 -0.5-18 -1-3.5 -2-0.5 -2-3.5 -2 1.5 -2-0.5 -2-2 -16-2 -2 1 -10-1.5 -4-1 -2-1.5 -2-0.5 -2 0.5 -4-1 -2-2 -2 0.5 -2-1.5 -4 0.5 -10-4.5 -2 1 -4-0.5 -8-3.5 -10-2.5 -12-5.5 -4-1 -2 0.5 -2-0.5 -4-1.5 -4-3 -2 1 -18-6.5 -3.5-2.5 -4.5-10 -2 0zM512 837.5l-1.5 2.5 0.5 2 1 1.5 4 1.5 4-2 1-1 0.5-2 -1.5-2.5 -4-1.5zM486 260.5l-2 1.5 1 4 1 2 2 1.5 2 0 1-1.5 0-2 -3-5.5zM504 84.5l-1 1.5 2 4 1 1.5 2 0 1-3.5 0-2 -1-1 -2-1zM530 95.5l-1.5 0.5 1 4 0.5 0.5 2 0 0.5-0.5 -0.5-4zM582 395.5l-2 0.5 2 4.5 2-0.5zM584 407.5l-1.5 0.5 1.5 4.5 2-0.5zM490 272.5l-1 1.5 0 4 3 3 2 0.5 1-1.5 -1-4 -2-3.5zM506 95l-0.5 1 1 4 1.5 1.5 2 0 1-1.5 0-4 -1-1 -2-0.5zM532 107.5l-1.5 0.5 1 4 0.5 0.5 2 0 0.5-0.5 -0.5-4zM586 419.5l-1.5 0.5 1 4 0.5 0.5 2-0.5zM494 285l-1 3 0.5 2 2.5 3 2 0.5 1-1.5 -0.5-4 -2.5-3zM510 106.5l-1.5 1.5 1 4 0.5 1 2 0 1-1 0-4 -1-1.5zM534 119.5l-1 0.5 0.5 4 0.5 0.5 2 0 0.5-0.5 -0.5-4zM588 431.5l-1 0.5 0.5 4 0.5 0.5 2-0.5zM498 297l-1 3 1 2 2 3 2 0 1-1 -0.5-4 -2.5-3zM512 116.5l-1.5 1.5 0.5 4 1 1.5 2 0 1.5-1.5 -0.5-4 -1-1.5zM536 131.5l-1 0.5 0.5 4 0.5 0.5 2 0 0.5-0.5 0-4zM588 481.5l-1.5 0.5 0.5 2 1 0.5zM590 443.5l-1 0.5 0.5 4 2.5 0.5 0-1.5zM502 309.5l-0.5 2.5 0.5 1.5 2 3 2 0.5 1-1 -0.5-4 -2.5-3zM512 333.5l-2 0.5 0 2 2 4.5 2 0.5 1-1 -0.5-4zM514 128.5l-1 1.5 0 2 1 2.5 2 0.5 1.5-1 -0.5-4 -1-1.5zM538 143.5l-1 0.5 0.5 4 0.5 0.5 2 0 0.5-0.5 0-4zM592 455.5l-0.5 0.5 0 4 2.5 0 0-1zM506 321.5l-0.5 2.5 2 4 2.5 1 1-1 -0.5-4 -2.5-2.5zM516 138.5l-1 1.5 0 4 1 1 2 0.5 2-0.5 0.5-1 -1.5-4 -1-1.5zM540 155.5l-1 0.5 0.5 4 0.5 0.5 2 0 0.5-0.5 0-4zM594 467.5l0 4.5 2 0zM516 345.5l-1.5 2.5 1.5 4 2 0.5 1-0.5 0-4 -1-1.5zM518 150.5l-1 1.5 0 2 3 3 2-0.5 0.5-2.5 -1-2 -1.5-1.5zM542 167l-1 1 0.5 4 0.5 0.5 2 0 0.5-0.5 0-4zM596 480l0 4 2 0zM518 440l-1 2 0.5 4 2.5 3.5 2 0 0.5-1.5 -1.5-2 -0.5-2zM520 160.5l-1 1.5 1 4 2 1.5 2 0 1-1.5 -1.5-4 -1.5-1.5zM544 179l-1 1 0.5 4 0.5 0.5 2 0 0.5-0.5 0-4zM522 454.5l-0.5 1.5 1.5 2 1 3 2 0.5 0-3.5 -2-3.5zM520 358l-1 2 0.5 2 0.5 1.5 2 1 1.5-0.5 -0.5-4 -1-1.5zM522 173l-0.5 1 2.5 5 2 0 1-3 -0.5-2 -2.5-1.5zM546 191l-1 1 0.5 4 0.5 0.5 2 0.5 0.5-1 0-4 -0.5-0.5zM524 183.5l-0.5 0.5 1.5 4 1 1.5 2 0 1-1.5 -0.5-4 -2.5-1.5zM548 203l-0.5 1 0 4 0.5 0.5 2 0 0.5-0.5 0-4 -0.5-0.5zM524 370l-1 2 1 3 2 1.5 1.5-0.5 -1.5-5.5zM528 194.5l-1.5 1.5 1 4 0.5 1 2 0 1-5 -1-1.5zM550 215.5l-0.5 0.5 0 4 0.5 0.5 2 0 0.5-0.5 0-4 -0.5-0.5zM528 382l-0.5 2 0.5 2.5 2 2 2-0.5 -2-5.5zM530 204.5l-1.5 1.5 0.5 4 1 1.5 2 0 1-1.5 0-4 -1-1zM552 227.5l-0.5 0.5 0 4 2.5 0.5 0.5-0.5 0-4 -0.5-0.5zM528 468l0 3.5 2 3 2 0 -1.5-2.5 -0.5-3zM532 394l-0.5 2 0.5 2 2 2.5 2 0 0-2.5 -2-3.5zM532 216.5l-1 1.5 0 2 1 2 2 0.5 1.5-2.5 -0.5-2 -1-1.5zM554 239.5l-0.5 0.5 0 4 2.5 0.5 1-0.5 -0.5-4 -0.5-0.5zM534 481.5l-0.5 0.5 0.5 4 2 0 0-2zM536 406.5l-0.5 1.5 0.5 1.5 2 3 2 0 0-2.5 -2-4zM534 226.5l-1 1.5 0.5 4 2.5 1.5 2-1.5 -2-5.5zM556 251.5l-0.5 0.5 0 4 2.5 0.5 1-0.5 -0.5-4 -0.5-0.5zM540 418.5l-0.5 1.5 2.5 4 2 0.5 0.5-2.5 -2.5-3.5zM536 238.5l-1 1.5 1 3 2 1.5 2-0.5 0-2 -0.5-2 -1.5-1.5zM558 263.5l-0.5 0.5 0 4 2.5 0.5 1-0.5 -0.5-4 -0.5-0.5zM544 431l0 1 2 4 2 0 0.5-2 -2.5-3.5zM538 249l-1 1 1.5 4 1.5 1.5 2-0.5 1-1 -1.5-4 -1.5-1zM560 275.5l-0.5 0.5 0.5 4 2 0.5 1-0.5 -0.5-4 -0.5-0.5zM540 261l-0.5 1 2.5 4.5 2 0 1-2.5 -0.5-2 -2.5-1.5zM562 287.5l-0.5 0.5 0.5 4 2 0.5 1-0.5 -0.5-4 -0.5-0.5zM542 271.5l1 4.5 1 1.5 2-0.5 1-1 -0.5-4 -2.5-1zM564 299.5l-0.5 0.5 0.5 3.5 2 1 1-0.5 -0.5-4 -0.5-0.5zM546 282.5l-1.5 1.5 0.5 2 1 2.5 2 0 1-4.5 -1-1zM566 311.5l-0.5 0.5 0.5 3 2 1.5 1-0.5 -0.5-4 -0.5-0.5zM548 293l-1 1 0 4 1 1 2 0 1-1 -0.5-4 -0.5-1zM568 323.5l-0.5 0.5 0.5 3 2 1.5 1-0.5 -0.5-4 -0.5-0.5zM550 304.5l-1 1.5 0 2 1 1.5 2 1 1-2.5 0-2 -1-1zM570 335.5l0 2.5 1 2 1 0.5 1-0.5 -0.5-4 -0.5-0.5zM550 442.5l-1.5 1.5 1.5 4 2 0 0.5-2zM552 315l-0.5 1 0 4 2.5 1 2-1 -1-4 -1-1zM572 347.5l0 2.5 1 2 1 0.5 1.5-0.5 -1-4 -0.5-0.5zM554 327l-0.5 1 0 2 3 2 1.5-2 -1-2 -1-1zM574 359.5l1 4.5 1 0.5 1.5-0.5 -1-4 -0.5-0.5zM554 454.5l-1 1.5 0.5 2 0.5 1.5 2 0.5 0.5-2 -0.5-2zM556 337l-0.5 1 1.5 4 1 1 2 0 0.5-1 -1.5-4 -1-1zM576 371.5l1.5 4.5 0.5 0.5 1.5-0.5 -1-4 -0.5-0.5zM554 802l-2 2 0.5 2 1.5 1.5 2 0 2-1.5 0-2 -2-2zM558 350l2 4 2 0 0.5-2 -0.5-2 -2-1zM578 384l1.5 4 0.5 0.5 1.5-0.5 -1-4 -0.5-0.5zM558 466.5l-0.5 1.5 0 2 0.5 1 2 0.5 0-3.5zM562 359l-1.5 1 1 4 0.5 1 2 0 0.5-1 -0.5-3.5zM562 479l-0.5 3 2.5 1.5 0.5-3.5zM564 371l-1 1 1 4 2 0 0.5-4 -0.5-0.5zM566 381l-1 1 0.5 4 0.5 1 2 0 1-1 -0.5-4zM566 491l0 3 2 1 0.5-3zM568 393l-0.5 1 0 2 0.5 1 2 0.5 0.5-1.5 0-2 -0.5-1zM570 403.5l-0.5 2.5 0.5 2 2 1 1-1 -0.5-4 -0.5-0.5zM570 503.5l0 1.5 2 1.5 0-3zM572 415.5l-0.5 0.5 0.5 1.5 2 2 1-1.5 -0.5-2 -0.5-1zM574 426l1 4 1 1 2-0.5 -1.5-4.5 -0.5-0.5zM574 515.5l2 3 0-3zM578 437l-1 1 0 2 1 1.5 2-0.5 0-1.5zM580 447.5l-1 0.5 0.5 4 2.5 0.5 0.5-0.5 -0.5-2.5zM582 459.5l0 3 2 0.5 0-3zM584 470l0.5 4 1.5 0.5 0-4.5zM772.5 82l30.5 0 0 2 -19 40.5 -6 10.5 -4 4 -2-1 -1.5-10 0-20zM853.5 82l416 0 0 2 -20 18 -19.5 16 -78 58 -58 45 -40 32 -36 31 -24 21.5 -18 18 -19.5 22.5 -30.5 38.5 -12 12 -12 9.5 -10 5.5 -8 2.5 -8 0.5 -7.5-2.5 -11-6 -5.5-6 -2-4 -1-6 -2.5-22 -2.5-4 -2-0.5 -4 1 -6 4 -6 5 -18 20 -19.5 24.5 -17 24 -16.5 26 -20 36 -51 106.5 -1.5-0.5 1.5-4.5 45-103.5 10-24 47-123.5 41-102.5 12-34 6-20 6-22 3.5-18 2.5-18 1-16 0-14zM1287.5 244l2.5 0 0 47 -2 0 -68 24 -44 16.5 -42 18 -40 19.5 -30 16.5 -26 17 -20 17 -28 27.5 -10 8.5 -10 5.5 -4 0.5 -2-1.5 -0.5-2 0.5-4 4-10 8-12 12-13.5 18-18.5 13-12 15-12 19.5-14 42.5-26 52-28 41.5-20zM715 398l1-1.5 0.5 3.5 -0.5 9.5 -4 26.5 -6 31.5 -38 158.5 -1 2 -1 6 -1-2 1-8.5 26-146 6-26.5 6-23 8-25 2-4.5zM681.5 612l0.5-1.5 1 1.5 -1 2.5 -1-0.5zM679.5 616l0.5-1 1 1 -1 3 -0.5-1zM678 620l0-0.5 0.5 0.5 -0.5 3zM664 636l0-1.5 0.5 1.5 -0.5 6.5 -0.5-2.5z"/>
<path fill="#00d4ff" d="M188 82l74.5 0 0 2 1.5 2.5 18 28 10 13.5 6 6 0.5 2 3.5 4 1 2 3 4 24 40 6 9.5 2 1.5 2-1 -2-6.5 -19-41.5 -7-14 -0.5-2 -1.5-2 -2-8.5 -6-14.5 -12.5-23 0-2 44.5 0 0 4 4 7.5 0.5 2.5 1.5 2 0.5 2 5.5 12 5 12 34.5 78 10.5 21 2 0.5 0-3.5 -1.5-2 -0.5-3.5 -4-10.5 -33-84 -7-16.5 -2.5-7.5 -1.5-2 -2.5-8 -1.5-2 0-2 27 0 0 2 18.5 46 63 154 2.5 8 1.5 2 2.5 8 1.5 2 3 8 5.5 12 0 2 4 8 2.5 8 3 6 1 4 3 6 2.5 8 4.5 8 2 8 2 2 0 2 1.5 2 0.5 4 1.5 2 0.5 2 1.5 2 2.5 8 3.5 6 0.5 4 2 6 2 2 0.5 2 1.5 2 0 4 4.5 6 1.5 8 2.5 4 2 0 0.5-2 -1.5-2 -1-3.5 -3.5-4.5 0-6 -4-6 0-4 -1.5-2 0-2 -2-2 -2-4 0-4 -4.5-8 -2-8 -1.5-2 -2-4 0-4 -3.5-6 -3-10 -3.5-6 -0.5-4 -1.5-2 0-2 -1.5-2 -2.5-8 -4-8 -2-8 -2-2 -2-6 0-2 -4-8 -2-8 -2-2 -2-8 -1.5-2 -3-8 -1-2 -5-14 -13-32 -38.5-102 -17-42 -1-6 37.5 0 1 4 23.5 66 24.5 66 3.5 8 1 4 3 6 0.5 4 2.5 5.5 1 0.5 0.5 6 2.5 4.5 2.5 1.5 1.5 2 -2 2 1 4 1 2 2 1.5 2 0.5 1-2 0-2 -3-5.5 -1.5-0.5 0.5-6 -3.5-8 -0.5-4 -3.5-8 -0.5-4 -3.5-8 -0.5-4 -1-2 -1-4 -1-2 -0.5-4 -1.5-2 -0.5-4 -1.5-2 -0.5-4 -1.5-2 -0.5-4 -1.5-2 -0.5-4 -1.5-2 -0.5-4 -1.5-2.5 -0.5-3.5 -1.5-3 -0.5-5 -1.5-1.5 0-5.5 4-1 0.5 4 1.5 1 0.5 3 1.5 1.5 0.5 2.5 1.5 2 3.5 8 0.5 1 1.5-1 0-4 -5.5-20 -9.5-30 -13-36 -0.5-4 83 0 0 2 2 5 2 0 0.5-1 -0.5-6 109.5 0 0 58 1 4 0 68 1 56 1 4 1.5 60 1 4 1 52 1 4 0.5 30 0.5 10.5 1 3.5 0.5 30 0.5 10.5 1 3.5 1 40 1 2 0.5 30 0.5 2 0.5 8 0.5 2 0.5 30 1 2 0 6 0.5 4 0.5 20 2 10 1 24 -1 4 -0.5 46 -2.5 30 -1.5 12 -3.5 8 -1.5 9.5 -2 0 -2-8 -2-2 -2 0 -2 1.5 -3 13 -0.5 8 -0.5 1 -2 0.5 -2.5 10.5 -1 18 -2.5 10 -4.5 10 -3.5 11 -2 2 -2 9 -2 4 -2 1 -2 3 -6 3 -2-3 -2 3.5 -8 3.5 -2-1 -2 2.5 -8 0 -4-3.5 -2 2 -2 0 -2-2 -6 0 -2 2.5 -2-2 -10 0 -2 2 -2-1 -2-2.5 -2 1.5 -2-2 -6-0.5 -2-2.5 -2 4 -2 1.5 -2-4.5 -2-2 -2 0 -2-2 -4 0 -2 2 -2 0 -2-4 -2 0 -4 4 -2-2 -2 0 -2 2 -4-4 -4 0 -2 2 -2-2 -2 1.5 -4 0 -2-2 -4 0 -4 4 -2-2 -2 2 -2-2 -10 0 -2-2 -2 2 -2 0 -2 2 -2 0 -2 1.5 -2-2.5 -2 1 -2-2 -8 0 -2-2 -2 2 -2 0 -2 2 -2-2 -4 0 -2 2 -2 0 -4-4 -2 4 -2 0 -2 2.5 -2 5.5 -2 0.5 -2 2 -4 0 -4-13.5 -2 1.5 -2 0 -4-0.5 -2-2 -2 2.5 -2 6 -2 2 -2-2 -2 0 -2 2 -2 0 -2-2 -2-0.5 -4 4 -4-4 -2 1 -2.5-10 -1-10 -1-2 -0.5-18 -1-3.5 -2-0.5 -2-4 -2 1.5 -2 0 -2-2 -16-2 -2 1 -2-0.5 -10-1.5 -6-3 -2 1 -4-1.5 -2-1.5 -2 0.5 -2-1.5 -4 0.5 -2-1.5 -4-1 -2-1.5 -2-0.5 -2 1 -4-1 -8-3.5 -10-2.5 -12-5 -4-1.5 -2 1 -2-0.5 -4-2 -4-3 -2 1 -8-2.5 -2-1 -8-3 -2-2 -6-14 -2-0.5zM512 837l-1.5 3 0 2 3.5 2.5 2 0.5 2-0.5 3-2.5 0.5-2 -1.5-2.5 -4-1.5zM522 454.5l-0.5 1.5 2.5 5 2 0.5 0.5-3.5 -2.5-3.5zM490 272.5l-1.5 1.5 0.5 4 3 3.5 2 0 1-1.5 -0.5-4 -2.5-3.5zM504 84.5l-1 1.5 2 4 1 1.5 2 0 1-1.5 0-4 -1-1.5zM530 95l-2 1 1 4 1 1 2 0 0.5-1 -0.5-4zM494 284.5l-1 3.5 0.5 2 2.5 3 2 0.5 1-1.5 -0.5-4 -2.5-3.5zM506 94.5l-0.5 1.5 1 4 1.5 1.5 2 0 1.5-1.5 -0.5-4 -1-1zM532 107l-1.5 1 0.5 4 1 1 2 0 0.5-1 -0.5-4zM498 297l-1 3 0.5 2 2.5 3 2 0.5 1-1.5 -0.5-4 -2.5-3.5zM510 106l-1.5 2 0.5 4 1 1.5 2 0 1-1.5 0-4 -1-1.5zM534 119l-1.5 1 1 4 0.5 1 2 0 0.5-1 0-4zM502 309l-0.5 3 0.5 1.5 2 3.5 2 0 1-1 -0.5-4 -2.5-3zM512 116.5l-1.5 1.5 0.5 4 1 1.5 2 0 1.5-1.5 -0.5-4 -1-1.5zM536 131l-1.5 1 1 4 0.5 1 2 0 0.5-1 0-4zM506 321.5l-0.5 2.5 2 4 2.5 1 1-1 0-4 -3-3zM514 128l-1.5 2 0.5 2 1 2.5 2 1 2-1.5 -0.5-4 -1.5-2zM538 143l-1 1 0.5 4 0.5 1 2 0 0.5-1 0-4zM510 333.5l0 2.5 1.5 4 2.5 1 1-1 0-4 -3-3zM516 138.5l-1 1.5 0 4 1 1 2 0.5 2-0.5 0.5-1 -1.5-4 -1-1.5zM540 155l-1 1 0.5 4 0.5 1 2 0 0.5-1 0-4zM516 345.5l-1.5 0.5 0 2 1.5 4 2 1 1.5-1 -0.5-4 -1-1.5zM518 150.5l-1 1.5 0 2 3 3 2 0 0.5-3 -0.5-2 -2-1.5zM542 167l-1 1 0.5 4 0.5 1 2 0 0.5-1 0-4 -0.5-0.5zM520 160.5l-1 1.5 1 4 2 1.5 2 0 1-1.5 -1-4 -2-1.5zM544 179l-1 1 0.5 4 0.5 1 2 0 1-1 -0.5-4 -0.5-0.5zM520 357.5l-1 2.5 0 2 1 1.5 2 1 1.5-0.5 -0.5-4 -1-1.5zM522 172.5l-0.5 1.5 1.5 4 1 1 2 0 1-3 -0.5-2 -2.5-1.5zM546 191l-1 1 0.5 4 0.5 1 2 0 1-1 -0.5-4 -0.5-1zM524 183l-0.5 1 1 4 1.5 1.5 2 0 1-1.5 -0.5-4 -2.5-1.5zM548 203l-1 1 0.5 4 0.5 1 2 0 1-1 -0.5-4 -0.5-1zM524 370l-1 2 1 3 2 1.5 2-0.5 -2-5.5zM528 194.5l-1.5 1.5 1 4 0.5 1 2 0 1-5 -1-1.5zM550 215l-1 1 0.5 4 0.5 1 2 0 1-1 -0.5-4 -0.5-1zM528 382l-1 2 0.5 2 2.5 2.5 2 0 -2-6.5zM530 204.5l-1.5 1.5 0.5 4 1 1.5 2 0 1.5-1.5 -0.5-4 -1-1.5zM552 227l-0.5 1 0 4 0.5 0.5 2 0.5 1-1 -0.5-4 -0.5-1zM528 467.5l0 4.5 2 2.5 2 0 -2-5.5zM532 394l-0.5 2 0 2 2.5 2.5 2 0 0-2.5 -2-4zM532 216.5l-1 1.5 0 2 1 2.5 2 0.5 1-1 0-4 -1-1.5zM554 239l-0.5 1 0 4 2.5 1 1-1 -0.5-4 -0.5-1zM534 481.5l-1 0.5 1 4 2 0.5 0-2.5zM536 406l-0.5 2 0.5 1.5 2 3 2 0 0.5-2.5 -2.5-4zM534 226.5l-1 1.5 0 4 1 1 2 0.5 2.5-1.5 -2.5-5.5zM556 251l-0.5 1 0 4 2.5 1 1-1 -0.5-4 -0.5-1zM540 418l-0.5 2 2.5 4.5 2 0 0.5-2.5 -2.5-4zM536 238.5l-1 1.5 1 3 2 2 2-0.5 0.5-2.5 -1-2 -1.5-1.5zM558 263l-0.5 1 0 4 2.5 1 1-1 -0.5-4 -0.5-1zM544 430.5l0 1.5 2 4.5 2 0 0.5-2.5 -0.5-1 -2-3zM538 248.5l-1 1.5 1.5 4 1.5 1.5 2 0 1-1.5 -1.5-4 -1.5-1.5zM560 275l-0.5 1 0 4 2.5 1 1-1 -0.5-4 -0.5-1zM540 261l-0.5 1 2.5 5 2-0.5 1-2.5 -0.5-2 -2.5-1.5zM562 287l-0.5 1 0.5 4 2 1 1-1 -0.5-4 -0.5-1zM542 271.5l1 4.5 1 1.5 2 0 1-1.5 -0.5-4 -2.5-1.5zM564 299l-0.5 1 0.5 4 2 1 1-1 -0.5-4 -0.5-1zM546 282.5l-1.5 1.5 0.5 2 1 2.5 2 0 1-4.5 -1-1zM566 311.5l-0.5 0.5 0.5 3.5 2 1 1-0.5 -0.5-4 -0.5-1zM548 292.5l-1 1.5 0 4 1 1 2 0.5 1-1.5 0-4 -1-1zM568 323.5l-0.5 0.5 0.5 3 2 1.5 1.5-0.5 -1-4 -0.5-0.5zM550 304.5l-1 1.5 0 2 1 2 2 0.5 1-2.5 0-2 -1-1.5zM570 335.5l-0.5 0.5 1 4 1.5 0.5 1.5-0.5 -1-4 -0.5-0.5zM550 442l-1.5 2 1.5 4 2 0.5 0.5-2.5zM552 315l-1 1 0.5 4 2.5 1 2-1 -1-4 -1-1zM572 347.5l0 2.5 1 2 1 0.5 1.5-0.5 -1-4 -0.5-0.5zM554 327l-1 1 0.5 2 2.5 2.5 1-0.5 1-2 -1-2 -1-1.5zM574 359.5l0 2 1 2.5 1 0.5 1.5-0.5 -1-4 -0.5-0.5zM554 454.5l-1 1.5 0.5 2 0.5 1.5 2 0.5 0.5-2 -0.5-2zM556 337l-0.5 1 1 4 1.5 1 2 0 0.5-1 -1.5-4 -1-1zM576 371.5l1 4.5 1 0.5 2-0.5 -1.5-4 -0.5-0.5zM554 802l-2 2 0.5 2 1.5 1.5 2 0.5 2-2 0-2 -2-2zM558 349.5l2 4.5 2 0 0.5-2 -0.5-2 -2-1zM578 383.5l1 4.5 1 0.5 2-0.5 -1.5-4 -0.5-0.5zM558 466.5l-1 1.5 0.5 2 0.5 1 2 1 0.5-4zM562 359l-2 1 1 4 1 1 2 0 1-1 -1-4zM580 396l1.5 4 0.5 0.5 2-0.5 -1.5-4 -0.5-0.5zM562 478.5l-0.5 3.5 2.5 1.5 0.5-3.5zM564 371l-1 1 1 4 2 0 0.5-4 -0.5-1zM584 407.5l-2 0.5 2 4.5 2-0.5zM566 381l-1 1 0.5 4 0.5 1 2 0 1-1 -0.5-4 -0.5-0.5zM586 419.5l-1.5 0.5 1 4 0.5 0.5 2 0 -1.5-4.5zM566 491l0 3 2 1.5 0.5-3.5zM568 393l-0.5 1 0 2 0.5 1.5 2 0.5 1-2 -0.5-2 -0.5-1zM588 431.5l-1 0.5 0.5 4 0.5 0.5 2 0 0-1.5zM570 403l-0.5 1 0.5 4 2 1 1-1 -0.5-4 -0.5-1zM588 481.5l-1.5 0.5 0.5 2 1 1zM590 443.5l-1 0.5 0.5 4 0.5 0.5 2 0 0-2zM570 503l0 2.5 2 1.5 0-3.5zM572 415.5l-0.5 0.5 0.5 1.5 2 2 1-1.5 0-2 -1-1zM590 491.5l-1 0.5 1 4zM592 455.5l-1 0.5 0.5 4 2.5 0.5 0-2zM574 425.5l1 4.5 1 1 2-0.5 -1.5-4.5 -0.5-1zM594 467.5l-0.5 0.5 0 4 2.5 0.5 0-1.5zM574 515.5l0 1 2 2 0-3zM578 437l-1 1 0 2 1 1.5 2-0.5 0-2zM596 479.5l0 4.5 2 0 0-1zM580 447.5l-1 0.5 0.5 4 2.5 1 0.5-1 -0.5-3zM598 492l0 4 2 0zM582 459.5l-0.5 0.5 0.5 2.5 2 1 0.5-3.5zM584 470l0.5 4 1.5 0.5 0.5-0.5 -0.5-4zM865.5 82l396 0 0 2 -19.5 18 -17 14 -20.5 16 -62.5 45.5 -76 60 -52 43.5 -26 23.5 -21 21.5 -13.5 16 -24.5 32 -9 10 -12 10.5 -10 6.5 -8 3 -6 0 -6-1 -8-4.5 -6-4.5 -3-4 -1.5-6 -0.5-8 1-10 2.5-12 6.5-20 4-8 23-38.5 6-11.5 4-10 1.5-8 -1.5-2.5 -2 0.5 -2 1 -8 7.5 -10 13.5 -25 42 -5.5 8 -50.5 62 -37 48.5 -4 4 -2 0.5 0-3 4-14.5 14-40.5 24-62.5 30.5-74.5 10-28 8.5-26 8-32 5.5-30 2-24zM1286 264l4-0.5 0 11 -4 0.5 -72 28 -54 22 -46 22 -44 24 -22 14 -14 10 -10 8 -14 13 -22 22.5 -4 2.5 -2-1 3.5-6 10.5-11.5 14.5-14.5 13.5-12 26-19.5 30-18.5 42-23 42-20 32-14z"/>
<path fill="#00dcfe" d="M188 82l74 0 0 2 20 32 14 19 8 9 1 2 3 4 24 40 4 6.5 4 4.5 2-1 -2-6.5 -26-57 -4-12.5 -6-14 -13.5-26 0-2 42.5 0 0 2 3 8 6.5 14 1.5 2 4.5 12 1.5 2 0.5 2 35 78 8.5 18.5 1.5 1.5 0.5 2.5 1.5 1.5 0.5 2.5 2 1.5 0-5 -4-11 -51-130 0-2 26 0 0 2 2 6 16 40 63.5 154 2.5 8 1.5 2 2.5 6 0 2 1.5 2 3 8 5.5 12 0 2 4 8 2.5 8 3 6 1 4 1.5 2 0 2 1.5 2 2.5 6 0 2 4 8 2.5 8 1.5 2 0.5 2 1.5 2 0.5 4 1.5 2 0.5 2 1.5 2 2.5 8 4 8 0 2 2 6 2 2 0.5 2 1.5 2 0 4 4 6 2 8 2.5 4 2 2 0 1 0.5-5 -5.5-10 -0.5-2 0-4 -4-6 0-4 -5-10 -1-2 0.5-2 -4.5-8 -1.5-8 -2-2 -1.5-4 -0.5-4 -3.5-6 -3-10 -1.5-2 -0.5-2 -1.5-2 0-4 -3.5-6 -3-10 -3.5-6 -2-8 -1.5-2 -2.5-6 0-2 -4-8 -2-8 -2-2 -2-8 -1.5-2 -2.5-8 -1.5-2 -5-14 -13-32 -38.5-102 -17-42.5 -1-5.5 37.5 0 0.5 4 24 66 24.5 66 3.5 8 0.5 4 3.5 6 0 4 4.5 8 0 4 2 4 2.5 2 1 2 -1 2 2 6 3 2 1 2 -1.5 2 0.5 4 3 3.5 2 0.5 1-2 0-2 -3-6 -1.5 0 1-6 -4.5-8 0.5-4 -4-8 0-4 -3.5-8 -0.5-4 -3.5-8 -0.5-4 -1.5-2 -0.5-4 -1.5-2 -0.5-4 -1.5-2 -0.5-4 -1.5-2 -0.5-4 -1.5-2.5 -0.5-3.5 -1.5-3 -0.5-5 -1.5-1.5 0-4.5 -2-2 6-2 0 2 2 2 0.5 2 3.5 6 1-2 -1-8 -15.5-50 -12.5-36 -0.5-4 62.5 0 0 2 -2 0 -1 2 3 5.5 2 0 1.5-3.5 -0.5-2 -1-1.5 -2-0.5 0-2 20 0 1 6 1 1 2 0 1-1 -1-6 109.5 0 0 58 1 4 0 68 1 56 1 4 1.5 60 1 4 1 52 1 4 0.5 30 0.5 12 1 2 1 40 1 4 1 40 1 2 0.5 30 0.5 10 1 4 0.5 28 1.5 12 0.5 20 1 8 0.5 2 1.5 24 -1 4 -0.5 46 -2 26 -2 16 -3.5 8 -1.5 9.5 -2-0.5 -2-7.5 -2-2.5 -2 0.5 -2 1.5 -3 13 -0.5 8 -0.5 1 -2 0.5 -3 10.5 -0.5 18 -2.5 9.5 -4.5 10.5 -3.5 10.5 -2 2.5 -2 9 -2 4 -2 1 -2 2.5 -6 3.5 -2-3 -2 3.5 -8 3.5 -2-1.5 -2 2.5 -8 0.5 -4-3.5 -2 2 -2 0 -2-2 -6 0 -2 2 -2-2 -10 0 -2 2.5 -2-1 -2-2.5 -2 1 -2-2 -6-0.5 -2-2 -2 3.5 -2 2 -2-5 -2-2 -2 0 -2-2 -4 0 -2 2 -2 0 -2-4 -2 0 -4 4 -2-2 -2 0 -2 2 -4-4 -4 0 -2 2 -2-2 -2 2 -4 0 -2-2 -4 0 -4 4 -2-2 -2 2 -2-2 -10 0 -2-2 -2 2 -2 0 -2 2 -2 0 -2 1 -2-2 -2 1 -2-2 -8 0 -2-2 -2 2 -2 0 -2 2 -2-2 -4 0 -2 2 -2 0 -4-4 -2 4 -2 0 -2 2.5 -2 5.5 -2 0.5 -2 2 -4 0 -4-14 -2 2 -2 0 -4-0.5 -2-2 -2 2 -2 6.5 -2 2 -2-2 -2 0 -2 2 -2 0 -2-2.5 -2 0 -4 4 -4-4 -2 0.5 -2.5-9.5 -1-10 -1-2 -0.5-18 -1-3.5 -2-1 -2-3.5 -2 1.5 -2-0.5 -2-1.5 -16-2 -2 1 -6-1 -8-2 -2-1.5 -2-0.5 -2 0.5 -4-1 -2-1.5 -2 0.5 -2-2 -4 1 -2-1.5 -4-1 -2-1.5 -2-1 -2 1.5 -4-1 -8-3.5 -10-2.5 -12-5.5 -4-1 -2 0.5 -2-0.5 -4-2 -4-3 -2 1.5 -7-2.5 -9.5-4 -2-2 -5.5-15 -2-3.5 -2 0zM512 837l-2 3 0.5 2 3.5 3 4 0 3-3 0.5-2 -1.5-3 -4-1zM522 454l-0.5 2 2.5 5 2 1 0.5-4 -2.5-4zM494 284.5l-1 1.5 0.5 4 2.5 3.5 2 0.5 1-2 -0.5-4 -2.5-4zM506 94.5l-1 1.5 1.5 4 1.5 2 2 0 1.5-2 -0.5-4 -1-1.5zM528 96l1 4 1 1 2 0 1-1 -0.5-4 -2.5-1zM498 296.5l-1 3.5 0.5 2 2.5 3 2 0.5 1-1.5 -0.5-4 -2.5-3.5zM510 106l-2 2 1 4 1 1.5 2 0 1-1.5 0-4 -1-2zM532 107l-2 1 1 4 1 1 2 0 1-1 -0.5-4zM502 309l-1 3 1 2 2 3 2 0.5 1-1.5 0-4 -3-3.5zM512 116l-1.5 2 0 4 1.5 1.5 2 0.5 2-2 -1-4 -1-1.5zM534 119l-1.5 1 0.5 4 1 1 2 0 1-1 -0.5-4zM506 321l-0.5 3 2.5 5 2 0.5 1-1.5 0-4 -3-3.5zM514 128l-1.5 2 0 2 1.5 3 2 0.5 2-1.5 -0.5-4 -1.5-2zM536 131l-1.5 1 0.5 4 1 1 2 0 1-1 -0.5-4zM510 333.5l-0.5 2.5 2 4 2.5 1 1.5-1 -0.5-4 -3-3zM516 138.5l-1.5 1.5 0.5 4 1 1 2 0.5 2 0 1-1.5 -1.5-4 -1.5-1.5zM538 143l-1.5 1 0.5 4 1 1 2 0 1-1 -0.5-4 -0.5-0.5zM514 346l2 6 2 1 1.5-1 -0.5-4 -1-1.5 -2-1.5zM518 150l-1 2 0 2 3 3.5 2-0.5 1-3 -1-2 -2-2zM540 155l-1.5 1 0.5 4 1 1 2 0 1-1 -0.5-4 -0.5-1zM520 160.5l-1 1.5 1 4 2 1.5 2 0 1-1.5 -1-4 -2-1.5zM542 167l-1 1 0 4 1 1 2 0 1-1 -0.5-4 -0.5-1zM520 357.5l-1 0.5 0 4 1 2 2 1 2-1 -1-4 -1-1.5zM522 172.5l-1 1.5 2 4 1 1.5 2 0 1-3.5 0-2 -3-2zM544 179l-1 1 0 4 1 1 2 0 1-1 -0.5-4 -0.5-1zM524 369.5l-1 2.5 1 3.5 2 1.5 2-0.5 -2-6.5zM524 183l-0.5 1 1 4 1.5 1.5 2 0 1-1.5 0-4 -3-1.5zM546 191l-1 1 0 4 1 1 2 0 1-1 -0.5-4 -0.5-1zM528 381.5l-1 2.5 0.5 2 2.5 2.5 2 0 0-1.5 -2-5zM528 194l-1.5 2 0.5 4 1 1 2 0 1-1 0-4 -1-1.5zM548 203l-1 1 0 4 1 1 2 0 1-1 -0.5-4 -0.5-1zM528 467l0 5 2 3 2 0 0.5-1 -2.5-5.5zM532 394l-1 2 0.5 2 2.5 2.5 2 0 0-2.5 -2-4zM530 204.5l-1.5 1.5 0.5 4 1 1.5 2 0 1.5-1.5 -0.5-4 -1-1.5zM550 215l-1 1 0.5 4 0.5 1 2 0 1-1 -0.5-4 -0.5-1zM534 481l-1.5 1 1 2 0.5 2.5 2 0.5 0-3zM536 406l-0.5 2 0.5 2 2 2.5 2 0 0.5-2.5 -2.5-4zM532 216.5l-1 1.5 0 2 1 2.5 2 0.5 1.5-1 -0.5-4 -1-1.5zM552 227l-1 1 0.5 4 0.5 1 2 0 1-1 -0.5-4 -0.5-1zM538 495.5l2 2.5 0 1.5 0-4zM540 418l-0.5 2 2 4 2.5 0.5 0.5-2.5 -0.5-1 -2-3zM534 226.5l-1 1.5 0 4 1 1 2 0.5 2-1 0.5-0.5 -1.5-4 -1-1.5zM554 239l-1 1 0.5 4 0.5 1 2 0 1-1 -0.5-4 -0.5-1zM536 238.5l-1 1.5 1 3.5 2 1.5 2-0.5 0.5-2.5 -1-2 -1.5-1.5zM556 251l-1 1 0.5 4 2.5 1 1-1 -0.5-4 -0.5-1zM538 248.5l-1 1.5 1 4 2 1.5 2 0 1-1.5 -1.5-4 -1.5-1.5zM558 263l-0.5 1 0 4 2.5 1 1-1 -0.5-4 -0.5-1zM540 261l-0.5 1 2.5 5 2 0 1-3 -0.5-2 -2.5-1.5zM560 275l-0.5 1 0 4 2.5 1 1-1 -0.5-4 -0.5-1zM542 271l-0.5 1 1.5 4 1 1.5 2 0 1-1.5 -0.5-4 -2.5-1.5zM562 287l-0.5 1 0 4 2.5 1 1-1 -0.5-4 -0.5-1zM546 282.5l-1.5 1.5 0.5 2 1 3 2 0 1-5 -1-1.5zM564 299l-0.5 1 0.5 4 2 1 1.5-1 -1-4 -0.5-1zM546 430l-2 0 -0.5 2 2.5 4.5 2 0 0.5-2.5zM548 292.5l-1.5 1.5 0.5 4 1 1.5 2 0 1-1.5 0-4 -1-1zM566 311l-0.5 1 0.5 4 2 1 1.5-1 -1-4 -0.5-1zM550 304.5l-1 1.5 0 2 1 2 2 0.5 1-2.5 0-2 -1-1.5zM568 323l-0.5 1 0.5 3.5 2 1.5 1.5-1 -1-4 -0.5-1zM550 442l-2 2 2 4 2 0.5 0.5-2.5zM552 314.5l-1 1.5 0.5 4 2.5 1.5 2-1.5 -1-4 -1-1zM570 335l-0.5 1 1 4 1.5 1 1.5-1 -1-4 -0.5-1zM554 326.5l-1 1.5 1 3 2 1.5 2-0.5 0-2 -0.5-2 -1.5-1.5zM572 347.5l-0.5 0.5 1 4 1.5 1 1.5-1 -1-4 -0.5-1zM554 454l-1 2 0.5 2 0.5 1.5 2 1 0.5-2.5 -0.5-2zM556 337l-0.5 1 1 4 1.5 1 2 0 0.5-1 -1.5-4 -1-1zM574 359.5l-0.5 0.5 1.5 4 1 1 2-1 -1.5-4 -0.5-1zM554 802l-2 2 0.5 2 1.5 1.5 2 0.5 2-2 0-2 -2-2.5zM558 349.5l-0.5 0.5 2.5 4.5 2 0 0.5-2.5 -0.5-2 -2-1.5zM576 371.5l-0.5 0.5 1.5 4 1 1 2-1 -1-4 -1-1zM558 466.5l-1 1.5 0.5 2 0.5 1 2 1 0.5-2 0-2zM560 360l1 4 1 1 2 0 1-1 -1-4 -2-1zM578 383.5l1 4.5 1 1 2-1 -1-4 -1-1zM562 478.5l-0.5 1.5 0 2 2.5 2 0.5-4zM564 371l-1 1 0 2 1 2 2 0 0.5-4 -0.5-1zM580 396l1 4 1 0.5 2-0.5 -1-4 -1-0.5zM566 381l-1 1 0 4 1 1 2 0 1-1 -0.5-4 -0.5-1zM582 408l1.5 4 0.5 0.5 2 0 -1-4.5 -1-0.5zM566 491l0 3 2 1.5 0.5-3.5 -0.5-0.5zM568 393l-1 1 0 2 1 1.5 2 0.5 1-2 0-2 -1-1zM586 419.5l-1.5 0.5 1 4 0.5 0.5 2 0 -1-4.5zM570 403l-0.5 1 0.5 4 2 1 1.5-1 -1-4 -0.5-1zM588 431.5l-1.5 0.5 1 4 0.5 0.5 2 0 0-2zM570 503l0 2.5 2 2 0.5-3.5 -0.5-0.5zM572 415l-0.5 1 0.5 2 2 2 1.5-2 -0.5-2 -1-1zM588 481.5l-1.5 0.5 0 2 1.5 1zM590 443.5l-1 0.5 0.5 4 0.5 0.5 2 0 0-2zM574 425.5l1 4.5 1 1 2-0.5 0.5-0.5 -1.5-4 -1-1zM590 491.5l-1 0.5 1 4zM592 455.5l-1 0.5 0.5 4 0.5 0.5 2 0 0-2.5zM574 515.5l0 1 2 2.5 0.5-1 -0.5-2.5zM578 437l-1.5 1 0.5 2 1 1.5 2 0 0-2.5zM594 467.5l-0.5 0.5 0 4 2.5 0.5 0-2zM578 528l2 2.5 0-3zM580 447l-1 1 0.5 4 2.5 1 0.5-1 0-2 -1-2zM596 479.5l0 4.5 2 0.5 0-2zM582 459.5l-0.5 0.5 0 2 2.5 1.5 0.5-3.5zM598 492l0 4 2 0 0-1zM584 469.5l0.5 4.5 1.5 0.5 0.5-0.5 -0.5-4zM600 504l0 4 2 0 -1.5-2zM876.5 82l377 0 0 2 -17.5 16.5 -18 15.5 -22 16.5 -56 39.5 -82 65.5 -50 41 -26 23.5 -19.5 20 -13.5 16 -23 30.5 -8 9 -10 8.5 -10 5.5 -6 1 -6-1.5 -6-3 -5-4 -3-4.5 -2-5.5 0-6 0.5-6 3.5-12 5-12 27.5-44 11.5-20 14-27.5 9-20.5 5-14 2-8 0.5-10 -2.5-3 -2-0.5 -4 1 -4 2 -10 8 -8 8.5 -20 24.5 -22 32.5 -27.5 49 -13 20 -15.5 21 -18 23 -12 13.5 -6 5 -2-1 0.5-5.5 3.5-14 6-17.5 16-42 31-74.5 10-28 9.5-30 8.5-32 5.5-26 3-24z"/>
<path fill="#02e8f4" d="M188 82l73.5 0 0.5 3 20 32 18 25 4 5 1.5 1 1 2 3.5 3.5 0.5 2.5 1.5 1 26 43 2 3 2 0.5 1-1.5 -1-5 -20-44 -1-3 -1-1.5 -0.5-2.5 -1.5-2 -2-8 -4-9.5 -10-22 -11-20.5 0-2 40.5 0 0.5 2.5 32 69.5 26 58 8 17.5 4 6.5 0.5 0 -0.5-6 -1-2 -1-4 -32-82 -2.5-8 -19.5-50 0-2 24.5 0 0 2 2.5 6 16 40 37.5 90 24.5 62 1.5 2 2.5 8 1.5 2 2.5 6 0 2 1.5 2 2.5 8 1.5 2 5.5 14 3 6 2 8 3.5 6 0.5 4 2 2 0 2 4 8 0 2 4 8 2.5 8 1.5 2 0.5 2 1.5 2 0.5 4 1.5 2 0 2 2 2 2 8 4.5 8 0 2 2 6 2 2 0.5 2 1.5 2 0 4 4 6 0.5 4 2 5.5 3.5 4.5 0.5 5.5 2 3.5 2 1 0 1 0.5-5 -4.5-6 0.5-4 -6-12 0-4 -4-6 0-4 -1.5-2 0-2 -1.5-2 -3-6 0.5-2 -4-8 -2-8 -2-2 -1.5-4 -0.5-4 -4-8 -2-8 -2-2 -0.5-2 -1-2 -0.5-4 -2-2 0-2 -1.5-2 -3-10 -3.5-6 -0.5-4 -1.5-2 0-2 -1.5-2 -2.5-6 0-2 -4-8 -2-8 -1.5-2 -2.5-8 -1.5-2 -5-14 -3-6 -1-4 -1-2 -6.5-18 -5.5-12 -38.5-102 -17-42.5 -1-5.5 37.5 0 0.5 4 1 1.5 17 48.5 30 82 3.5 8 1 4 3 6 0.5 4 4.5 8 0 4 2.5 5 1.5 1 0 4 2 6 2.5 2 1 2 -1 2 1 4 1 2 2 2 1 0 1 2 -1 2 0 4 3 3.5 2 0.5 1.5-2 -0.5-4 -4.5-6 1-2 -0.5-4 -4-6 0.5-4 -4-8 0-4 -0.5-2 -3-6 -1-6 -3-6 -0.5-4 -3.5-8.5 -0.5-3.5 -1.5-3 -0.5-3 -1.5-3 0-3 -2-3 -0.5-5 -1.5-1.5 -0.5-4.5 -1.5-2 0-1.5 4-1.5 1.5-3 1 0 0 2 1.5 1 0-3 -2-12.5 -15.5-49.5 -12.5-36 -0.5-4 60.5 0 0 2 -1 2 3 6 2 0 1.5-4 -0.5-2 -1-1.5 -1.5-0.5 0-2 19 0 1.5 6 1 1 2 0 1-1 -0.5-6 109 0 0 58 1 4 0 68 1 56 1 4 1 60 1 4 1.5 52 0.5 4 1 30 0.5 12 0.5 2 1.5 40 0.5 4 1.5 40 1 2 0.5 30 0.5 10 1 4 0.5 28 0.5 8 1 4 0.5 20 0.5 8 1 2 1 24 -0.5 4 -0.5 46 -2 26 -2 16 -3.5 8 -1.5 9 -2 0 -2-8 -2-2 -2 0.5 -2 1.5 -3 13 -1 8 0 0.5 -2 0.5 -3 11 -0.5 18 -2.5 9.5 -4.5 10.5 -3.5 10.5 -2 2 -2 9 -2 4 -2 1 -2 3 -6 3.5 -2-3.5 -2 3.5 -8 3.5 -2-1 -2 2.5 -8 0 -4-3 -2 1.5 -2 0 -2-1.5 -6-0.5 -2 2.5 -2-2 -10 0 -2 2 -2-0.5 -2-3 -2 1.5 -2-2 -6-0.5 -2-2.5 -2 4 -2 2 -2-5 -2-2 -2 0 -2-2 -4 0 -2 2 -2 0 -2-4 -2 0 -4 4 -2-2 -2 0 -2 2 -4-4 -4 0 -2 2 -2-2 -2 1.5 -4 0 -2-2 -4 0 -4 4 -2-2 -2 2 -2-2 -10 0.5 -2-2 -2 2 -2 0 -2 2 -2 0 -2 1 -2-2.5 -2 1 -2-1.5 -8 0 -2-2 -2 2 -2 0 -2 2 -2-2 -4 0 -2 2 -2 0 -4-4 -2 4 -2 0 -2 2.5 -2 5.5 -2 0.5 -2 2 -4 0 -4-14 -2 2 -2 0 -4-0.5 -2-2 -2 2 -2 6 -2 2.5 -2-2 -2 0 -2 2 -2 0 -2-2.5 -2 0 -4 4 -4-4 -2 0.5 -2.5-9.5 -1-10 -1-2 -0.5-18 -1-4 -2-0.5 -2-3.5 -2 1.5 -2-0.5 -2-2 -16-2 -2 1 -6-0.5 -8-2 -2-1.5 -2-0.5 -2 0.5 -4-1 -2-2 -2 0.5 -2-1.5 -4 0.5 -2-1 -4-1.5 -2-1.5 -2-0.5 -2 1 -4-0.5 -8-3.5 -10-3 -10-4.5 -6-2 -3 0.5 -5-2 -4-3 -2 1 -8-3 -7-3 -1.5-2 -2.5-8 -3-8 -4-6.5 -2 0zM516 836l-4 1 -2 3 0.5 2 1.5 1.5 2 1.5 2 0.5 2-0.5 2-1.5 1.5-1.5 0-2 -1.5-3zM498 296.5l-1 3.5 0.5 2 2.5 3.5 2 0.5 1.5-2 -0.5-4 -3-4zM506 94.5l-1 1.5 1.5 4 1.5 2 2 0 1.5-2 -0.5-4 -1-1.5zM528 95.5l1 4.5 1 1 2 0 1-1 -0.5-4 -2.5-1zM502 308.5l-1 3.5 1 2 2 3 2 0.5 1.5-1.5 -0.5-4 -3-4zM510 105.5l-2 2.5 1 4 1 1.5 2 0.5 1.5-2 0-4 -1.5-2zM530 108l1 4 1 1 2 0 1-1 -0.5-4 -2.5-1zM506 321l-0.5 3 2.5 5 2 0.5 1.5-1.5 -0.5-4 -3-3.5zM512 116l-2 2 0.5 4 1.5 2 2 0 2-2 -0.5-4 -1.5-1.5zM534 119l-2 1 1 4 1 1 2 0 1-1 -0.5-4zM510 333l-0.5 3 2 4 2.5 1.5 1.5-1.5 -0.5-4 -3-3.5zM514 128l-1.5 2 0 2 1.5 3 2 0.5 2-1 0-2.5 -2-4zM536 131l-1.5 1 0.5 4 1 1 2 0 1-1 -0.5-4 -0.5-1zM514 345.5l0 2.5 2 4.5 2 0.5 2-1 -1-4 -1-1.5 -2-1.5zM516 138l-1.5 2 0.5 4 1 1.5 4 0 1-1.5 -1.5-4 -1.5-2zM538 143l-1.5 1 0.5 4 1 1 2 0 1-1 -0.5-4 -0.5-1zM518 150l-1.5 2 0.5 2 3 3.5 2 0 1-3.5 -1-2 -2-2zM540 155l-1.5 1 0.5 4 1 1 2 0 1-1 -0.5-4 -0.5-1zM520 160l-1 2 1 4 2 2 2-0.5 1-1.5 -1-4 -2-2zM542 167l-1.5 1 0.5 4 1 1 2 0 1-1 0-4 -1-1zM520 357l-1.5 1 0 2 1.5 4 2 1 2-0.5 -1-4.5 -1-2zM522 172l-1 2 2 4 1 1.5 2 0 1-3.5 0-2 -1-1 -2-1zM544 179l-1 1 0 4 1 1 2 0 1-1 0-4 -1-1zM524 369l-1 3 0 2 3 3 2-0.5 -1-4.5 -1-2zM524 182.5l-1 1.5 1.5 4 1.5 2 2-0.5 1-1.5 0-4 -1-1 -2-0.5zM546 191l-1 1 0 4 1 1 2 0 1-1 0-4 -1-1zM528 381.5l-1 2.5 0.5 2 2.5 3 2 0 0-2.5 -2-4.5zM528 194l-2 2 1 4 1 1.5 2 0 1-1.5 0-4 -1-1.5zM548 203l-1 1 0 4 1 1 2 0 1-1 0-4 -1-1zM528 466.5l0 5.5 2 3 2 0 0.5-1 -2.5-5.5zM532 393.5l-1 2.5 0.5 2 2.5 3 2 0 0-3 -2-4zM530 204.5l-1.5 1.5 0 4 1.5 1.5 2 0 1.5-1.5 -0.5-4 -1-1.5zM550 215l-1 1 0 4 1 1 2 0 1-1 0-4 -1-1zM532 482l1.5 2 0.5 2.5 2 0.5 0-3.5 -2-2.5zM536 405.5l-1 2.5 1 2 2 2.5 2 0.5 0.5-3 -2.5-4.5zM532 216l-1.5 2 0.5 2 1 2.5 2 1 1.5-1.5 -0.5-4 -1-1.5zM552 227l-1 1 0 4 1 1 2 0 1-1 0-4 -1-1zM538 495l0 1.5 1.5 1.5 0.5 2 2 0 -2-5zM540 417.5l-0.5 2.5 0.5 1.5 2 3 2 0.5 0.5-3 -0.5-1 -2-3.5zM534 226.5l-1 1.5 0 4 1 1 2 0.5 2-0.5 0.5-1 -1.5-4 -1-1.5zM554 239l-1 1 0.5 4 0.5 1 2 0 1-1 0-4 -1-1zM544 430l-0.5 2 2 4 2.5 0.5 0.5-2.5 -0.5-1.5 -2-2.5zM536 238l-1 2 0 2 3 3.5 2-0.5 0.5-3 -1-2 -1.5-1.5zM556 251l-1 1 0.5 4 0.5 1 2 0 1-1 0-4 -1-1zM538 248.5l-1 1.5 1 4 2 1.5 2 0 1-1.5 -1.5-4 -1.5-1.5zM558 263l-1 1 0.5 4 2.5 1 1-1 0-4 -1-1zM540 260.5l-0.5 1.5 2.5 5 2 0 1-3 -0.5-2 -2.5-1.5zM560 275l-1 1 0.5 4 2.5 1 1.5-1 -0.5-4 -1-1zM542 271l-0.5 1 1.5 4 1 1.5 2 0 1-1.5 -0.5-4 -2.5-1.5zM562 287l-1 1 0.5 4 2.5 1 1.5-1 -0.5-4 -1-1zM546 282.5l-1.5 1.5 0.5 2 1 3 2 0 1-5 -1-1.5zM564 299l-1 1 0.5 4 2.5 1 1.5-1 -0.5-4 -1-1zM548 292.5l-1.5 1.5 0.5 4 1 1.5 2 0 1.5-1.5 -0.5-4 -1-1zM566 311l-1 1 1 4 2 1 1.5-1 -0.5-4 -1-1zM550 304.5l-1 1.5 0 2 1 2 2 1 1-1 0-4 -1-1.5zM568 323l-0.5 1 0.5 4 2 1 1.5-1 -0.5-4 -1-1zM550 442l-1.5 0 -0.5 2 2 4.5 2 0 1-2.5 -1-2zM552 314.5l-1 1.5 0.5 4 2.5 1.5 2-1.5 -2-5.5zM570 335l-0.5 1 1 4 1.5 1 2-1 -1-4 -1-1zM554 326.5l-1 1.5 1 3 2 1.5 2-0.5 0-2 -0.5-2 -1.5-1.5zM572 347l-0.5 1 1 4 1.5 1 2-1 -1-4 -1-1zM554 454l-1.5 2 0.5 2 1 2 2 0.5 0.5-2.5 0-2zM556 337l-1 1 1.5 4 1.5 1.5 2-0.5 1-1 -1.5-4 -1.5-1.5zM574 359l-0.5 1 1 4 1.5 1 2-1 -1-4 -1-1zM554 802l-2 2 0 2 2 1.5 2 0.5 2-2 0.5-2 -2.5-2.5zM558 349.5l-0.5 0.5 2.5 4.5 2 0 1-2.5 -0.5-2 -2.5-1.5zM576 371.5l-0.5 0.5 1.5 4 1 1 2-1 -1-4 -1-1zM558 466l-1 2 0.5 2 0.5 1.5 2 1 0.5-2.5 0-2zM560 360l1 4 1 1 2 0 1-1 -1-4 -2-1zM578 383.5l-0.5 0.5 1.5 4 1 1 2-0.5 -1-4.5 -1-1zM562 478.5l-0.5 1.5 0 2 2.5 2 0.5-4zM564 370.5l-1 1.5 0 2 1 2 2 0.5 1-4.5 -1-1zM580 395.5l1 4.5 1 1 2-0.5 -1-4.5 -1-1zM566 381l-1 1 0 4 1 1 2 0 1-1 -0.5-4 -0.5-1zM582 408l1 4 1 1 2-0.5 -1-4.5 -1-1zM566 490.5l-0.5 3.5 2.5 2 0.5-4 -0.5-1zM568 393l-1 1 0 2 1 1.5 2 0.5 1-2 0-2 -1-1zM586 419l-2 1 1 4 1 1 2-0.5 0-2zM570 403l-1 1 0.5 4 2.5 1 1.5-1 -1-4 -0.5-1zM588 431l-1.5 1 1 4 0.5 1 2-0.5 0-2zM570 503l0 3 2 1.5 0.5-1.5 0-2 -0.5-1zM572 415l-0.5 1 0.5 2 2 2 1.5-2 -0.5-2 -1-1zM588 481.5l-2 0.5 0.5 2 1.5 1 0.5-3zM590 443l-1.5 1 1 4 0.5 1 2-0.5 0-2.5zM574 425.5l-0.5 0.5 1.5 4 1 1 2-0.5 0.5-0.5 -1.5-4 -1-1zM590 491.5l-1.5 0.5 0.5 2 1 2.5zM592 455.5l-1 0.5 0.5 4 0.5 0.5 2 0 0-2.5zM574 515l0 2 2 2 0.5-1 -0.5-3zM578 437l-1.5 1 0.5 2 1 1.5 2 0.5 0-3zM594 467.5l-1 0.5 0.5 4 2.5 0.5 0-2.5zM578 527.5l2 3.5 0.5-1 -0.5-2.5zM580 447l-1 1 0.5 4 0.5 0.5 2 0.5 0.5-1 0-2 -1-2zM596 479.5l-0.5 0.5 0 4 2.5 0.5 0-2.5zM582 459l-0.5 1 0 2 0.5 1 2 0.5 0.5-3.5zM598 491.5l0 4.5 2 0 0-1.5zM584 469.5l0 4.5 2 0.5 0.5-0.5 0-4zM600 504l0 4 2 0 0-1zM584 539.5l-1 0.5 1 2.5 0.5-0.5zM887.5 82l358.5 0 0 2 -16.5 16 -17.5 14.5 -22 16.5 -54 37 -112 89 -30.5 25 -23 20 -17.5 18 -11 13 -21 29 -5 5.5 -8 6.5 -4 1.5 -4 0.5 -4-0.5 -4-2 -3.5-3.5 -2.5-3.5 -1.5-6.5 1.5-10.5 4-9.5 24.5-38 11-18 13.5-26 14-28 13.5-30 9.5-24 6.5-20 2-8 1-8 -1.5-6 -2-2 -2-0.5 -4 1 -6 3.5 -10 8 -8 7.5 -28 31 -26.5 33.5 -22.5 32 -13.5 22 -21.5 41.5 -10 16 -8 11 -8 9.5 -4 4 -4 2 -1.5-2 0.5-4 5-18 8-21 18.5-41 9-22 9.5-28 7.5-24 8.5-30 8-32 5.5-28z"/>
<path fill="#0cf4eb" d="M190 82l71 0 0 2 1 2 20 32 24 34 6 6 0.5 2 5.5 7.5 22 36.5 2 2.5 2 0 0-5.5 -18-40 -0.5-3 -1.5-1.5 -0.5-2.5 -1.5-2 0-2.5 -2-5.5 -4-10 -13.5-30 -11-20 0-2 39.5 0 1 4 10 22 10 22 8 16 0.5 2 1.5 2 36 80 3.5 6 0.5 2.5 1.5 1.5 0.5 2 2 0 0-2 -1.5-2 -0.5-4 -1-2 -1-3.5 -7.5-20.5 -22.5-56.5 -8-23.5 -17-44 0-2 23.5 0 1 4 17.5 44 37.5 90 23 58 3 6 2.5 8 1.5 2 2.5 6 0 2 1.5 2 2.5 8 5.5 12 0.5 2 4 8 2 8 3.5 6 0.5 4 1.5 2 0.5 2 4 8 0 2 4 8 2.5 8 1.5 2 0.5 2 1.5 2 0.5 4 1.5 2 0 2 2 2 2 8 4.5 8 0 2 2 6 2 2 0 2 1.5 2 0.5 4 4 6 0.5 4 1.5 4 4 6 0 4 2.5 5.5 1.5 0.5 0.5 2.5 0.5-0.5 0-6 -4-6 0-4 -6-12 0-4 -4-6 0-4 -1.5-2 0-2 -1.5-2 -2.5-6 0-2 -4-8 -2-8 -2-2 -1.5-4 -0.5-4 -4-8 -2-8 -2-2 0-2 -1.5-2 -0.5-4 -1.5-2 -0.5-2 -1.5-2 -3-10 -3-6 -0.5-4 -2-2 0-2 -1.5-2 -2-6 -0.5-2 -3.5-8 -2.5-8 -1.5-2 -2.5-8 -1.5-2 -5-14 -1-2 -2.5-8 -1.5-2 -2.5-8 -5.5-12 -42.5-112 -17-42.5 -1-5.5 37.5 0 0 4 1.5 2 1 4 1 1.5 17 48.5 31.5 84 1 4 3 6 0.5 4 4 8 0.5 4 2.5 5 1.5 1 0 4 2 6 2.5 2 1 8 4.5 6 -1 2 0.5 4 3 4 1 0 1 2 -1 2 0.5 4 2.5 3.5 2 0.5 1.5-2 -0.5-4 -4.5-6 1-2 -0.5-4 -4-6 0.5-2 -0.5-4 -3.5-6 -0.5-6 -3.5-6 -0.5-6 -1-1.5 -2-5 -0.5-5.5 -2-2 -0.5-4 -1-1 -0.5-5 -1.5-1.5 -1-4.5 -1-1.5 -0.5-4.5 -1.5-1.5 -0.5-4.5 -1.5-2 0-2.5 4-1.5 0-4 -1-4 0.5-4 -1-2 0-6 -2.5-13.5 -15.5-48.5 -12.5-36 -0.5-4 60 0 -0.5 4 3 7.5 1 0.5 -1 0 -1 2 3 7 1.5 1 -1.5 4 1 4 1 2 2 0 1.5-2 0-4 -3.5-4 0-2 1.5-2 0-4 -1.5-1.5 -2-0.5 1.5-8 -1.5-1.5 -1-0.5 0-2 18.5 0 1 6 1.5 1.5 2 0 1-1.5 -0.5-6 109 0 0 58 1 4 0 68 1 56 0.5 4 3.5 116 1 4 0.5 10 0.5 20 0.5 12 0.5 2 1 40 1 4 1.5 40 0.5 2 1 30 1.5 24 0.5 18 0.5 8 1 4 0.5 20 0.5 8 1 4 1 22 -0.5 4 -0.5 46 -2 26 -2 16 -3.5 8 -1.5 9 -2 0 -2-8 -2-2 -2 0 -2 1.5 -3 13.5 -1 8 -2 1 -3 11 -0.5 18 -2.5 9.5 -4.5 10.5 -3.5 10 -2 2.5 -2 9 -2 4 -2 1 -2 3 -6 3 -2-3 -2 3.5 -8 3.5 -2-1 -2 2.5 -8 0 -4-3.5 -2 2 -2 0 -2-2 -6 0 -2 2.5 -2-2 -10-0.5 -2 2.5 -2-1 -2-2.5 -2 1 -2-2 -6 0 -2-2.5 -2 4 -2 1.5 -2-5 -2-2 -2 0.5 -2-2.5 -4 0 -2 2.5 -2 0 -2-4.5 -2 0 -4 4.5 -2-2 -2 0 -2 2 -4-4 -4 0 -2 2 -2-2 -2 1.5 -4 0 -2-2 -4 0 -4 4 -2-2 -2 2 -2-2 -10 0 -2-2 -2 2 -2 0 -2 2 -2 0 -2 1.5 -2-2.5 -2 1 -2-2 -8 0 -2-2 -2 2 -2 0 -2 2 -2-2 -4 0 -2 2 -2 0 -4-4 -2 4 -2 0 -2 2.5 -2 5.5 -2 0.5 -2 2 -4 0 -4-13.5 -2 1.5 -2 0 -4-0.5 -2-2 -2 2.5 -2 6 -2 2 -2-2 -2 0 -2 2 -2 0 -2-2 -2-0.5 -4 4 -4-4 -2 1 -2.5-9.5 -1-10 -1-2 -1-20 -0.5-2 -2-0.5 -2-4 -2 1.5 -2 0 -2-2 -16-2 -2 1 -6-1 -8-1.5 -2-1.5 -2-1 -2 1 -4-1.5 -2-1.5 -2 0.5 -2-1.5 -4 0.5 -2-1.5 -4-1 -2-1.5 -2-0.5 -2 1 -4-1 -8-3.5 -10-2.5 -10-4.5 -6-2 -2 0.5 -2-1 -4-1.5 -4-3 -2 1 -8-3 -5-2.5 -1.5-2 -5.5-16.5 -5.5-9.5 -0.5-4.5 -2 0 0-662.5 2 0zM516 835.5l-4 1 -2 3.5 0.5 2 1.5 2 2 1.5 2 0 2 0 2-2 1.5-1.5 0.5-2 -2-3zM504 307.5l-2 1 -1 3.5 3 5.5 2 0.5 1.5-2 -0.5-4zM512 116l-2 2 0.5 4 1.5 2 2 0 2-2 -0.5-4 -1.5-2zM528 95.5l-0.5 0.5 1.5 4 1 1.5 2 0 1-1.5 -0.5-4 -2.5-1.5zM506 320.5l-0.5 3.5 2.5 5 2 0.5 1.5-1.5 -0.5-4 -3-4zM514 126.5l-1.5 3.5 0 2 1.5 3 2 1 2-1 0-3 -2-4.5zM530 107.5l1 4.5 1 1.5 2 0 1-1.5 -0.5-4 -2.5-1.5zM510 333l-0.5 3 2.5 5 2 0.5 2-1.5 -1-4 -3-3.5zM516 138l-1.5 2 0.5 4 1 1.5 4 0 1-1.5 -1.5-4 -1.5-2zM532 120l1 4 1 1.5 2 0 1-1.5 -0.5-4 -0.5-1 -2-0.5zM514 345.5l0 2.5 2 4.5 2 1 2-1 -1-4.5 -1-2 -2-1.5zM518 148.5l-1.5 3.5 0.5 2 3 4 2-0.5 1-3.5 -1-2 -2-2.5zM536 130.5l-2 1.5 1 4 1 1.5 2 0 1-1.5 0-4 -1-1zM520 357l-2 1 2 6 2 1.5 2-0.5 -1-5 -1-2zM520 160l-1.5 2 1 4 2.5 2 2 0 1-2 -1-4 -2-2zM538 142.5l-1.5 1.5 0.5 4 1 1.5 2 0 1-1.5 0-4 -1-1zM524 369l-1 1 0 4 3 3 2 0 0.5-1 -1.5-4 -1-2zM524 172l-2 0 -1 2 3 6 2-0.5 1-1.5 0-4 -1-1.5zM540 154.5l-1.5 1.5 0.5 4 1 1.5 2 0 1-1.5 0-4 -1-1zM528 381l-1 3 0 2 3 3 2 0 0.5-1 -0.5-2 -2-4zM524 182.5l-1 1.5 1.5 4 1.5 2 2 0 1.5-2 -0.5-4 -1-1zM542 166.5l-1.5 1.5 0.5 4 1 1.5 2 0 1-1.5 0-4 -1-1zM528 466l-0.5 2 0.5 4 2 3.5 2 0 0.5-1.5 -2.5-6zM532 393.5l-1 2.5 0.5 2 2.5 3 2 0 0.5-3 -2-4zM528 194l-2 2 1 4 1 1.5 2 0 1-1.5 0-4 -1-1.5zM544 178.5l-1.5 1.5 0.5 4 1 1 2 0.5 1-1.5 0-4 -1-1zM532 481.5l2 5 2 1 0.5-1.5 -0.5-3 -2-2.5zM536 405.5l-1 2.5 1 2 2 3 2 0 0.5-3 -2.5-4.5zM530 204l-2 2 0.5 4 1.5 1.5 2 0.5 1.5-2 -0.5-4 -1-1.5zM546 190.5l-1.5 1.5 0.5 4 1 1 2 0.5 1-1.5 0-4 -1-1zM538 494.5l0 1.5 1.5 2 0.5 2.5 2 0 -2-6zM540 417.5l-0.5 2.5 0.5 1.5 2 3.5 2 0 0.5-3 -2.5-4.5zM532 216l-1.5 2 0 2 1.5 3 2 0.5 2-1.5 -0.5-4 -1.5-2zM548 203l-1 1 0 4 1 1 2 0 1-1 0-4 -1-1zM544 429.5l-0.5 2.5 2 4 2.5 1 1-3 -1-1.5 -2-3zM534 226l-1.5 2 0.5 4 1 1.5 2 0.5 2-1 0.5-1 -1.5-4 -1-1.5zM550 215l-1 1 0 4 1 1 2 0 1-1 0-4 -1-1zM544 507.5l0 3 2 1.5 0-2.5zM548 442l0 2 1.5 4 2.5 1 1-3 -1-2 -2-2.5zM536 238l-1 2 0 2 3 3.5 2-0.5 0.5-3 -1-2 -1.5-2zM552 227l-1 1 0 4 1 1 2 0 1-1 0-4 -1-1zM538 248.5l-1 1.5 1 4 2 1.5 2 0 1-1.5 -1.5-4 -1.5-1.5zM554 239l-1 1 0 4 1 1 2 0 1.5-1 -0.5-4 -1-1zM540 260.5l-1 1.5 2 4 1 1.5 2 0 1-3.5 0-2 -3-2zM556 251l-1 1 0 4 1 1 2 0 1.5-1 -0.5-4 -1-1zM542 271l-0.5 1 1 4 1.5 1.5 2 0 1-1.5 -0.5-4 -2.5-1.5zM558 263l-1 1 0.5 4 0.5 1 2 0 1.5-1 -0.5-4 -1-1zM546 282l-1.5 2 0.5 2 1 3 2 0 1-1 0-4 -1-1.5zM560 275l-1 1 0.5 4 2.5 1 1.5-1 -0.5-4 -1-1zM548 292.5l-1.5 1.5 0.5 4 1 1.5 2 0 1.5-1.5 -0.5-4 -1-1.5zM562 287l-1 1 0.5 4 2.5 1 1.5-1 -0.5-4 -1-1zM550 304.5l-1 1.5 0 2 1 2.5 2 0.5 1-1 0-4 -1-1.5zM564 299l-1 1 0.5 4 2.5 1 1.5-1 -0.5-4 -1-1zM552 314.5l-1 1.5 0 4 1 1 2 0.5 2.5-1.5 -2.5-5.5zM566 311l-1 1 0.5 4 2.5 1 1.5-1 -0.5-4 -1-1zM554 326.5l-1 1.5 1 3 2 2 2-0.5 0.5-2.5 -1-2 -1.5-1.5zM568 323l-1 1 1 4 2 1 2-1 -1-4 -1-1zM554 454l-1 0 -0.5 2 1.5 4 2 0.5 1-2.5 -0.5-2zM556 336.5l-1 1.5 1.5 4 1.5 1.5 2-0.5 1-1 -1.5-4 -1.5-1.5zM570 335l-1 1 1 4 2 1 2-1 -1-4 -1-1zM554 801.5l-2.5 2.5 0.5 2 2 2 2 0 2-1.5 0.5-2.5 -2.5-2.5zM558 349l-0.5 1 2.5 4.5 2 0 1-2.5 -0.5-2 -2.5-1.5zM572 347l-0.5 1 1 4 1.5 1 2-1 -1-4 -1-1zM558 466l-1 2 0.5 2 0.5 1.5 2 1 1-2.5 -0.5-2zM560 359.5l1 4.5 1 1.5 2 0 1-1.5 -0.5-4 -2.5-1zM574 359l-0.5 1 1 4 1.5 1 2-0.5 -1-4.5 -1-1zM562 478l-1 2 0.5 2 2.5 2.5 0.5-4.5zM564 370.5l-1.5 1.5 0.5 2 1 2.5 2 0 1-2.5 0-2 -1-1zM576 371l-0.5 1 1.5 4 1 1 2-0.5 -1-4.5 -1-1zM566 381l-1 1 0 4 1 1 2 0 1-1 0-4 -1-1zM578 383.5l-0.5 0.5 1.5 4 1 1 2-0.5 -1-4.5 -1-1zM566 490.5l-0.5 1.5 0 2 2.5 2 1-2 -0.5-2 -0.5-1zM568 393l-1 1 0 2 1 1.5 2 1 1-2.5 0-2 -1-1zM580 395.5l-0.5 0.5 1.5 4 1 1 2-0.5 0.5-0.5 -1.5-4 -1-1zM570 403l-1 1 0.5 4 2.5 1 1.5-1 -0.5-4 -1-1zM582 407.5l1 4.5 1 1 2-0.5 0.5-0.5 -1.5-4 -1-1zM570 502.5l-0.5 1.5 0.5 2 2 2 1-2 -0.5-2 -0.5-1zM572 415l-1 1 1 2 2.5 2 1-2 -0.5-2 -1-1zM584 420l1 4 1 1 2-0.5 0.5-0.5 -1.5-4 -1-1zM574 425.5l-0.5 0.5 1.5 4 1 1 2-0.5 0.5-0.5 -1.5-4 -1-1zM588 431l-2 1 1 4 1 1 2-0.5 0.5-0.5 -0.5-2zM574 515l0 2 2 2.5 1-1.5 -0.5-2 -0.5-1zM578 437l-1.5 1 0.5 2 1 2 2 0 0.5-2 -0.5-1.5zM590 443l-1.5 1 1 4 0.5 1 2-0.5 0.5-0.5 -0.5-2.5zM578 527.5l0 1 2 2.5 1-1 -1-3zM580 447l-1.5 1 1 4 0.5 1 2 0 0.5-1 0-2 -1-2zM590 491.5l-1.5 0.5 0 2 1.5 2.5zM592 455l-1 1 0.5 4 0.5 0.5 2 0 0.5-0.5 -0.5-2.5zM582 459l-1 1 0.5 2 0.5 1 2 1 0.5-4zM592 503.5l-1 0.5 1 2zM594 467.5l-1 0.5 0.5 4 0.5 0.5 2 0 0-3zM584 469.5l-0.5 0.5 0.5 4 2 1 0.5-1 0-4zM596 479.5l-0.5 0.5 0 4 2.5 0.5 0-3zM584 539.5l-1.5 0.5 1.5 2.5 1-0.5zM586 482l0.5 2 1.5 1.5 0.5-3.5 -0.5-1zM598 491.5l-0.5 4.5 2.5 0.5 0-2.5zM600 503.5l0 4.5 2 0 0-2zM602 516l0 4 2 0zM898.5 82l88.5 0 0 2 -26 34 -55 66 -22 24.5 -6 5 -4 1.5 -2-1 -1-4 1.5-14 22.5-96zM1038.5 82l200.5 0 0 2 -16.5 16 -18.5 15 -24 17 -48 30.5 -52 41.5 -56 42 -24 16.5 -18 10.5 -10 4.5 -4 1 -4-1 -2-1.5 -2-3 -1-5 0.5-6 2.5-13 6-17 15.5-38 25.5-56 15-30 14.5-24z"/>
<path fill="#13fce4" d="M193 82l67.5 0 0 2 19.5 31.5 26 38 12 15 22 36 4 5.5 2-0.5 0-3.5 -3.5-10 -14.5-31.5 -0.5-2.5 -1.5-2 0-4 -4-10 -19-42 -11-20 0-2 38.5 0 0 2 13.5 30 24 50 28 62 10 21 2 1.5 0-4.5 -1.5-2 -0.5-3.5 -31-80.5 -1-2 -10-29 -16.5-43 0-2 23 0 0.5 4 3 6 15 38 37.5 90 16.5 42 5.5 12 1 4 3 6 2.5 8 1.5 2 2.5 8 1.5 2 2.5 8 5.5 12 1 4 3 6 2.5 8 3.5 6 0.5 4 1.5 2 5.5 14 3 6 2 8 2 2 1.5 4 0.5 4 3.5 6 2.5 8 4 8 0.5 2 2 6 2 2 0 2 1.5 2 0.5 4 3.5 6 1 4 1.5 4 3.5 6 0.5 2 0 2 2.5 5.5 1 0.5 1 3.5 1 0.5 0.5 6 2.5 3.5 2 0.5 0.5-2 -2.5-6 -2-2 0-2 -1.5-2 0-4 -4-6 0.5-4 -6-12 -0.5-4 -3.5-6 0-4 -2-2 0-2 -4-8 0-2 -0.5-2 -3.5-6 -2-8 -1.5-2 -2.5-6 0-2 -4-8 -2-8 -2-2 0-2 -1.5-2 -0.5-4 -1.5-2 -0.5-2 -1.5-2 -3-10 -3-6 -0.5-4 -1.5-2 -0.5-2 -1.5-2 -1-4 -1-2 0-2 -4-8 -2.5-8 -1.5-2 -2.5-8 -1.5-2 -2.5-8 -1.5-2 -0.5-4 -1.5-2 -2.5-8 -1.5-2 -2.5-8 -5.5-12 -42.5-112 -17-43 -0.5-5 36.5 0 0.5 4 3.5 8 1 4 1 1.5 4.5 14.5 1.5 2 9 26 1 1.5 27 74.5 3.5 8 1 4 2.5 6 1 4 4 8 0.5 4 1.5 4 2 2 1 6 1.5 4 2 2 1.5 8 4 6 0 6 4.5 6 -0.5 2 0.5 4 2.5 3.5 1.5 0.5 0.5 2 -1 4 0.5 2 2.5 3.5 2 0.5 1.5-2 -0.5-4 -4-6 0.5-2 -0.5-4 -3.5-6 -0.5-6 -3.5-6 -0.5-6 -3-6 -0.5-6 -2-2 -1.5-4.5 -0.5-5.5 -1.5-1.5 -1-4.5 -1-1.5 -0.5-4.5 -1.5-2 -0.5-4 -1.5-1.5 0-4.5 -2-2 0-4 4-1 0-3 -4.5-18 -3.5-22.5 -17-55.5 -13-36 -0.5-4 60 0 -1 4 3 6 0.5 2 -1.5 2 3 6 1 4 -1 2 1 4 3 4 -1.5 2 0.5 4 1.5 2 0.5 0 1 2 -1 6 1.5 3.5 1.5 0.5 0.5 2 -1.5 2 0 4 1.5 1.5 2 0.5 -1.5 8 3.5 4 0 2 -1.5 2 1 4 2.5 2 0 4 -1 2 3 7 2-1 1-2 0-4 -1-1.5 -1.5-0.5 -0.5-1.5 -1-0.5 -0.5-2 1.5 0 1.5-2 -0.5-2 -1-2.5 -2.5-1.5 -0.5-2 1 0 1-4 -0.5-2 -2-2 -0.5-2 -1.5-2 1.5 0 1-2 -1.5-4 -2.5-4 1-0.5 0.5-3.5 -4-8 2-2 -1-4 -2-2 -1-2 1-2 0-4 -3-4 0-2 1-2 0-4 -1.5-1.5 -1.5-0.5 1-8 -2-2 0-2 17.5 0 1.5 6 1.5 1.5 2 0 1-1.5 0-6 108.5 0 0 58 0.5 4 0.5 68 1 56 0.5 4 1.5 60 1 4 0.5 14 0.5 38 1.5 14 0 20 0.5 12 1 2 1 40 1 4 1 40 1 2 1.5 40 0.5 2 0.5 12 0.5 18 0.5 8 1 4 0.5 20 0.5 8 1 4 1 22 -0.5 4 -0.5 46 -2 26 -2.5 16 -3 8 -1.5 8.5 -2 0 -2-7.5 -2-2.5 -2 0.5 -2 1.5 -3 13.5 -1 8 -2 1 -3 11 -0.5 18 -2.5 9 -5 11 -3 10 -2 2.5 -2 8.5 -2 4.5 -2 0.5 -2 3 -6 3.5 -2-3.5 -2 4 -8 3.5 -2-1.5 -2 2.5 -8 0.5 -4-3.5 -2 2 -2 0 -2-2 -6-0.5 -2 2.5 -2-2 -10 0 -2 2 -2-0.5 -2-3 -2 1.5 -2-2 -6-0.5 -2-2.5 -2 4 -2 2 -2-5 -2-2 -2 0 -2-2 -4 0 -2 2 -2 0 -2-4 -2 0 -4 4 -2-2 -2 0 -2 2 -4-4 -4 0 -2 2 -2-2 -2 2 -4-0.5 -2-2 -4 0.5 -4 4 -2-2 -2 2 -2-2 -10 0 -2-2 -2 2 -2 0 -2 2 -2 0 -2 1 -2-2 -2 1 -2-2 -8 0 -2-2 -2 2 -2 0 -2 2 -2-2 -4 0 -2 2 -2 0 -4-4 -2 4 -2 0 -2 2.5 -2 5.5 -2 0.5 -2 2 -4 0 -4-14 -2 2 -2 0 -4-0.5 -2-2 -2 2 -2 6.5 -2 2 -2-2 -2 0 -2 2 -2 0 -2-2.5 -2 0 -4 4 -4-4 -2 0.5 -2.5-9 -1-10 -1-2 -1-20 -0.5-2 -2-1 -2-3.5 -2 1.5 -2-0.5 -2-1.5 -16-2 -2 1 -10-1.5 -4-1 -2-2 -6-0.5 -2-0.5 -2-1.5 -2 0.5 -2-1.5 -4 0.5 -10-5 -2 1 -4-0.5 -8-3.5 -10-3 -10-4.5 -6-2 -2 0.5 -2-0.5 -4-2 -4-3 -2 1 -2.5-1 -7.5-4 -1.5-2 -6.5-18 -4-8 -4-34.5 -2 0 0-133.5 2 0 0.5-2 -0.5-13 -2 0 0-430 2 0zM516 835.5l-4 1 -2.5 3.5 0.5 2 4 4 4-0.5 3.5-3.5 0.5-2 -1-2 -1-1zM532 481l0 1 1.5 2 0 2 2.5 1.5 0.5-1.5 -0.5-3 -2-2.5zM508 319l-2 1 -1 4 3 5 2 1 2-2 -1-4zM524 182l-1 2 1.5 4 1.5 2.5 2-0.5 1.5-2 -0.5-4 -1-1.5zM528 95l-0.5 1 1 4 1.5 1.5 2 0 1-1.5 0-4 -1-1 -2-0.5zM510 332.5l-0.5 3.5 2.5 5 2 0.5 2-1 -1-4.5 -3-4zM528 192.5l-2 3.5 1 4 1 2 2 0 1-2 0.5-4 -1.5-2 -1.5 0zM530 107l-0.5 1 1 4 1.5 1.5 2 0 1-1.5 0-4 -1-1 -2-0.5zM514 345l0 3 1.5 4 2.5 1.5 2-0.5 0.5-1 -1.5-4 -1-2 -2-1.5zM530 204l-2 2 0.5 4 1.5 2 2 0 1.5-2 -0.5-4 -1-1.5zM532 119.5l1 4.5 1 1.5 2 0 1-1.5 0-4 -1-1 -2-0.5zM518 358l2 6 2 1.5 2-0.5 0.5-1 -2.5-6 -2-1.5zM532 215l-1.5 3 0 2 1.5 3 2 1 2-2 -0.5-4 -1.5-2zM534 132l1 4 1 1.5 2 0 1-1.5 0-4 -1-1 -2-0.5zM524 368.5l-1.5 1.5 0.5 4 3 3.5 2-0.5 0.5-1 -1.5-4 -1-2.5zM534 226l-1.5 2 0.5 4 1 1.5 2 0.5 2-0.5 1-1.5 -1.5-4 -1.5-2zM538 142.5l-2 1.5 1 4 1 1.5 2 0 1-1.5 0-4 -1-1zM528 381l-1 1 0 4 3 3 2 0 0.5-1 -2-6zM536 237.5l-1.5 2.5 0.5 2 3 3.5 2 0 1-3.5 -1-2 -2-2zM540 154.5l-2 1.5 1 4 1 1.5 2 0 1-1.5 0-4 -1-1zM532 393l-1 3 0.5 2 2.5 3 2 0 0.5-1 0-2 -2.5-4.5zM538 248l-1 2 0.5 4 2.5 2 2-0.5 1-1.5 -1-4 -2-2zM542 166.5l-1.5 1.5 0.5 4 1 1.5 2 0 1-1.5 0-4 -1-1zM536 405l-1 3 1 2 2 3 2 0 0.5-3 -2.5-4.5zM540 260l-1 2 2 4 1 1.5 2 0 1-3.5 0-2 -3-2zM544 178.5l-1.5 1.5 0.5 4 1 1.5 2 0 1-1.5 0-4 -1-1.5zM538 494l-0.5 2 2.5 4.5 2 0 0-2 -2-4zM540 417l-1 3 3 5 2 0 1-3 -3-4.5zM542 270.5l-1 1.5 1.5 4 1.5 2 2-0.5 1-1.5 0-4 -3-1.5zM546 190.5l-1.5 1.5 0.5 4 1 1.5 2 0 1-1.5 0-4 -1-1.5zM544 429.5l-0.5 2.5 2 4 0.5 1 2 0 1-3 -1-2 -2-2.5zM546 282l-2 2 0.5 2 1.5 3.5 2 0 1-1.5 0-4 -1-1.5zM548 202.5l-1.5 1.5 0.5 4 1 1.5 2 0 1.5-1.5 -0.5-4 -1-1.5zM544 507.5l0 3.5 2 1.5 0-3zM548 441.5l0 2.5 1.5 4 2.5 1 1-3 -1-2 -2-2.5zM548 292.5l-1.5 1.5 0.5 4 1 1.5 2 0 1.5-1.5 -0.5-4 -1-1.5zM550 214.5l-1 1.5 0 4 1 1 2 0.5 1.5-1.5 -0.5-4 -1-1.5zM550 304l-1 2 0 2 1 2.5 2 1 1.5-1.5 -0.5-4 -1-1.5zM552 226.5l-1 1.5 0 4 1 1 2 0.5 1.5-1.5 -0.5-4 -1-1.5zM552 314.5l-1 1.5 0 4 1 1 2 0.5 2-1 0.5-0.5 -1.5-4 -1-1.5zM554 238.5l-1 1.5 0 4 1 1 2 0.5 1.5-1.5 -0.5-4 -1-1.5zM554 326.5l-1 1.5 1 3.5 2 1.5 2-0.5 0.5-2.5 -1-2 -1.5-1.5zM556 250.5l-1 1.5 0 4 1 1 2 0.5 1.5-1.5 -0.5-4 -1-1.5zM554 453.5l-2 0.5 0.5 2 1.5 4 2 1 1-3 -0.5-2zM556 336.5l-1 1.5 1 4 2 1.5 2 0 1-1.5 -1.5-4 -1.5-1.5zM558 262.5l-1 1.5 0 4 1 1 2 0 1.5-1 -0.5-4 -1-1zM554 801.5l-2.5 2.5 0.5 2 2 2 2 0.5 2-2 0.5-2.5 -2.5-2.5zM558 349l-0.5 1 2.5 5 2 0 1-3 -0.5-2 -2.5-1.5zM560 275l-1 1 0.5 4 0.5 1 2 0 1.5-1 -0.5-4 -1-1zM558 466l-1 2 0 2 1 1.5 2 1 0.5-0.5 0-4zM560 359.5l-0.5 0.5 1.5 4 1 1.5 2 0 1-1.5 -0.5-4 -2.5-1.5zM562 287l-1 1 0.5 4 2.5 1 1.5-1 -0.5-4 -1-1zM562 478l-1 2 0.5 2 2.5 2.5 0.5-0.5 0-4zM564 370.5l-1.5 1.5 0.5 2 1 2.5 2 0 1-2.5 0-2 -1-1zM564 299l-1 1 0.5 4 2.5 1 2-1 -1-4 -1-1zM566 381l-1 1 0 4 1 1 2 0.5 1-1.5 0-4 -1-1zM566 311l-1 1 0.5 4 2.5 1 2-1 -1-4 -1-1zM566 490l-0.5 2 0 2 2.5 2 1-2 -0.5-2 -0.5-1zM568 392.5l-1 1.5 0 2 1 1.5 2 1 1-2.5 0-2 -1-1.5zM568 323l-1 1 1 4 2 1 2-1 -1-4 -1-1zM570 403l-1 1 0.5 4 2.5 1 1.5-1 -0.5-4 -1-1zM570 335l-1 1 1 4 2 1 2-1 -1-4 -1-1zM570 502.5l-0.5 1.5 0.5 2 2 2 1-2 -0.5-2 -0.5-1zM572 415l-1 1 1 2 2 2.5 1-0.5 0.5-2 -0.5-2 -1-1.5zM572 347l-1 1 1 4 2 1 2-0.5 -1-4.5 -1-1zM574 425l-0.5 1 1.5 4 1 1 2 0 0.5-1 -1.5-4 -1-1zM574 359l-0.5 1 1 4 1.5 1 2-0.5 -1-4.5 -1-1zM574 514.5l-0.5 1.5 0.5 1.5 2 2 1-1.5 -0.5-2 -0.5-1zM578 437l-1.5 1 0.5 2 1 2 2 0 0.5-2 -0.5-1.5zM576 371l-0.5 1 1 4 1.5 1 2-0.5 -1-4.5 -1-1zM578 527l0 1.5 2 3 1-1.5 -0.5-2 -0.5-1zM580 447l-1.5 1 0.5 4 1 1 2 0 1-1 -0.5-2 -1-2zM578 383l-0.5 1 1.5 4 1 1 2-0.5 0.5-0.5 -1.5-4 -1-1zM582 459l-1 1 0.5 2 0.5 1 2 1 0.5-2 0-2 -0.5-0.5zM580 395.5l-0.5 0.5 1.5 4 1 1 2-0.5 0.5-0.5 -1.5-4 -1-1zM584 469.5l-0.5 0.5 0.5 4 2 1 0.5-1 0-4zM582 407.5l1 4.5 1 1 2-0.5 0.5-0.5 -1.5-4 -1-1zM584 539l-2 1 2 3 1.5-1zM586 482l0 2 2 1.5 0.5-3.5 -0.5-1zM584 419.5l1 4.5 1 1 2-0.5 0.5-0.5 -1.5-4 -1-1zM588 551.5l-0.5 0.5 0.5 2.5 1.5-0.5zM586 432l1 4 1 1 2 0 0.5-1 -1-4 -1.5-1zM590 443l-1.5 1 0.5 4 1 1 2 0 0.5-1 -0.5-2.5zM590 491.5l-2 0.5 1 4 1 0.5 0.5-0.5zM592 455l-1.5 1 1 4 0.5 1 2 0 0.5-1 -0.5-2.5zM592 503.5l-1.5 0.5 1.5 2.5zM594 467l-1 1 0.5 4 0.5 0.5 2 0 0.5-0.5 -0.5-3zM596 479.5l-1 0.5 0.5 4 0.5 0.5 2 0 0.5-0.5 -0.5-2.5zM598 491.5l-0.5 0.5 0 4 2.5 0.5 0-3zM600 503.5l0 4.5 2 0.5 0-3zM602 516l0 4 2 0 0-1.5zM910 82l58 0 0 2 -19.5 26 -20.5 24.5 -10 10 -6 5 -4 2.5 -4 1 -2 0 -2-2 -1-5 0-8 3-20zM1060.5 82l171.5 0 0 2 -18 17.5 -20 15.5 -28 18 -40 21.5 -34.5 27.5 -27.5 19.5 -16 10 -12 6.5 -10 4 -8 1.5 -4 0 -4-2 -4-3.5 -2-4 -1.5-6 0-6 3-16 9-24 11.5-24.5 14-24.5 20.5-31z"/>
<path fill="#1cffdb" d="M195.5 82l64.5 0 0 2.5 19.5 31.5 28.5 42 6 8 6 6.5 22 36 4 4.5 2-1 -2-7.5 -14-32 -0.5-2.5 -1.5-2 -2-9 -2-5.5 -22.5-49.5 -11-20 0-2 37.5 0 0 2 22 49 13.5 27 38.5 84 3.5 6 0.5 2.5 2 1.5 0 1.5 1-1.5 -1-5.5 -4-10.5 -28-72.5 -14-40.5 -16-41 0-2 22.5 0 0.5 4 3 6 1 4 3 6 11 28 11 26 25 62 1.5 2 16.5 42 5 12 1.5 4 3 6 2.5 8 1.5 2 2.5 8 1.5 2 5 14 3 6 1 4 3 6 2.5 8 3 6 1 4 1.5 2 0.5 2 3.5 8 1 4 3.5 6 2 8 2 2 1.5 4 0.5 4 3.5 6 2.5 8 4 8 0 2 2.5 6 1.5 2 0.5 2 1.5 2 0.5 4 3.5 6 2 8 4.5 8 0 2 4 8 2 8 2.5 4 1.5 0 0.5 1.5 0.5-3.5 -2.5-6 -1.5-2 -0.5-2 -1.5-2 0.5-4 -4-6 0-4 -6-12 0-4 -4-6 0-4 -1.5-2 -0.5-2 -4-8 -0.5-4 -3.5-6 -0.5-4 -1.5-2 0-2 -1.5-2 -2.5-6 0-2 -4-8 -2-8 -1.5-2 -0.5-2 -1.5-2 -0.5-4 -1.5-2 0-2 -1.5-2 -1-4 -1.5-2 -0.5-4 -3.5-6 -0.5-4 -1.5-2 0-2 -2-2 -1-4 -1-2 0-2 -4-8 -2-8 -2-2 -2-8 -2-2 -2.5-8 -1-2 -1-4 -1.5-2 -2.5-8 -1.5-2 -2.5-8 -1.5-2 -2.5-8 -1-2 -1-4 -3-6 -1-4 -1.5-2 -2.5-8 -1.5-2 -8.5-24 -1-2 -9-24 -9-22.5 -1-3.5 -5-12 -1-4 -5-11.5 -3-8.5 -1-1.5 -2.5-8.5 -1.5-2 -1-4 -1-1 -0.5-5 36.5 0 0.5 4 2 6 3.5 8 14.5 42 1.5 2 1 4 1 1.5 25 68.5 3.5 8 0.5 4 3 6 1 4 4 8 0 4 2 4 2 2 0.5 6 2 4 2 2 1.5 8 2.5 4 0.5 2 1 6 4 6 0 6 4.5 6 -0.5 4 0.5 2 2.5 3.5 1.5 0.5 0.5 2 -1 4 3 5.5 2 0.5 1 2 -1 0 -0.5 4 2.5 5 2 1 2-0.5 0.5-1.5 -1-4 -3.5-4 0-1.5 -1.5-0.5 1.5-2 -0.5-4 -4-6 0-6 -3-4 -1-8 -2-2 -1.5-4 -0.5-6 -2-2 -1.5-4.5 -0.5-5.5 -1.5-2 -2-5 -0.5-5 -1.5-2 -1-4 -1-1.5 0-4.5 -2-2 -0.5-4 -1.5-3 0-3.5 4-1.5 0-2.5 -1-1.5 -1-6.5 -7-23.5 -5-28 -17-54 -13-36.5 -0.5-3.5 59.5 0 -0.5 4 3 6 0 2 -1 2 3 6 0.5 4 -0.5 2 3 8 -1 2 1 4 2.5 4 -0.5 4 0.5 4 2 2 0.5 2 -1 2 0 4 1.5 1.5 1 0.5 -0.5 8 3 4 -1 6 0.5 2 2.5 2 0 4 -1 2 3 6 0.5 2 -1 2 2.5 6 1 4 -1 2 1 4 3 4 -1.5 2 0.5 4 1.5 2 2 0 -1.5 8 1.5 3.5 2 0.5 0 2 -1.5 2 0 4 1.5 1.5 2 0.5 2-0.5 1-1.5 -3-6 -1.5 0 -0.5-2 2-2 -0.5-4 -3.5-4 0-2 2-2 -0.5-4 -1.5-2 -1.5 0 -0.5-2 1.5-2 0-4 -3.5-4 0-2 1.5-2 -0.5-4 -1-1.5 -2-0.5 1-8 -2.5-2 -0.5-2 0-2 1.5-2 -0.5-2 -0.5-2 -2.5-2 1-6 -0.5-2 -2-2 -0.5-4 1-2 -2.5-6 0-6 -3.5-8 1.5-2 -1-4 -2.5-4 1-2 -0.5-4 -3-6 1-2 0-4 -2.5-2 0-2 0.5-6 -2-2 0-2 17.5 0 1.5 6 1.5 1.5 2 0 1.5-1.5 -0.5-6 108 0 0 58 1 4 0 68 1.5 56 0.5 4 1.5 60 1.5 18 0.5 38 1.5 14 0 20 2 26 0.5 28 1 4 1 40 1 2 1.5 40 0.5 4 0.5 10 0.5 18 0.5 8 1 4 1 28 1 4 1 22 -0.5 4 -0.5 46 -1.5 12 -0.5 12 -2.5 18 -3 8 -1.5 8.5 -2 0 -2-7.5 -2-2.5 -2 0.5 -2 1.5 -3 13.5 -1 8 -2 0.5 -3 11.5 -0.5 18 -2.5 9 -5 11 -3 10 -2 2 -2 9 -2 4 -2 1 -2 3 -6 3 -2-3 -2 3.5 -8 3.5 -2-1 -2 2.5 -8 0 -4-3 -2 1.5 -2 0 -2-1.5 -6-0.5 -2 2.5 -2-2 -10 0 -2 2 -2-1 -2-2.5 -2 1.5 -2-2 -6-0.5 -2-2.5 -2 4 -2 1.5 -2-4.5 -2-2 -2 0 -2-2 -4 0 -2 2 -2 0 -2-4 -2 0 -4 4 -2-2 -2 0 -2 2 -4-4 -4 0 -2 2 -2-2 -2 1.5 -4 0 -2-2 -4 0 -4 4 -2-2 -2 2 -2-2 -10 0 -2-2 -2 2 -2 0 -2 2 -2 0.5 -2 1 -2-2.5 -2 1 -2-2 -8 0 -2-2 -2 2 -2 0 -2 2 -2-2 -4 0 -2 2 -2 0 -4-4 -2 4 -2 0 -2 3 -2 5.5 -2 0 -2 2 -4 0 -4-13.5 -2 1.5 -2 0 -4-0.5 -2-2 -2 2.5 -2 6 -2 2 -2-2 -2 0 -2 2 -2 0 -2-2 -2-0.5 -4 4 -4-4 -2 1 -2.5-9 -1-10 -1-2 -1-20 -0.5-2.5 -2-0.5 -2-4 -2 2 -2-0.5 -2-2 -16-2 -2 1 -6-0.5 -8-2 -2-1.5 -2-0.5 -2 0.5 -4-1 -2-1.5 -2 0 -2-1.5 -4 0.5 -2-1 -4-1.5 -2-1.5 -2-0.5 -2 1 -4-1 -8-3.5 -10-2.5 -8-3.5 -2-1.5 -6-2 -2 0.5 -2-0.5 -5-2.5 -3-2.5 -3 0.5 -4-2 -2-2 -11.5-28 -7.5-65 -2 0 0-85 2 0 3-20 -2.5-100 -0.5-4 -2 0 0-291 2 0 0.5-5zM514 836l-3.5 2 -1 2 0.5 2 2 3 2 1 4 0 4-4 -0.5-4 -1.5-1.5 -4-1zM532 480l-0.5 2 2 2 0 2 2.5 2 1-2 -1-3.5 -2-2.5zM516 343.5l-2 1 0 3.5 2 5 2 0.5 2 0 0.5-1.5 -1-4zM536 236l-1.5 4 0.5 2 3 4 2-0.5 1-3.5 -3-4.5zM528 94.5l-1 1.5 1.5 4 1.5 1.5 2 0 1.5-1.5 -0.5-4 -1-1 -2-0.5zM518 357l1.5 7 2.5 1.5 2 0 0.5-1.5 -2-6 -2.5-2zM538 248l-1.5 2 1 4 2.5 2 2 0 1-2 -1-4 -2-2zM530 107l-0.5 1 1 4 1.5 1.5 2 0 1-1.5 0-4 -1-1 -2-0.5zM524 368.5l-1.5 1.5 0.5 4 3 3.5 2 0 0.5-1.5 -1-4 -1.5-2.5zM540 259.5l-1 2.5 0.5 2 2.5 4 2-0.5 1-1.5 0-4 -3-2.5zM532 119l-0.5 1 1 4 1.5 1.5 2 0 1-1.5 0-4 -1-1.5 -2 0zM528 380.5l-1 1.5 0 4 3 3.5 2 0 0.5-1.5 0-2 -2.5-4.5zM542 270.5l-1 1.5 1.5 4 1.5 2 2 0 1.5-2 -0.5-4 -3-2zM534 131.5l-0.5 0.5 1 4 1.5 1.5 2 0 1-1.5 0-4 -1-1.5 -2 0zM532 393l-1 3 0.5 2 2.5 3.5 2 0 1-1.5 -0.5-2 -2.5-5zM546 282l-2 2 1 4 1 1.5 2 0 1-1.5 0-4 -1-1.5zM536 144l1 4 1 1.5 2 0 1-1.5 0-4 -1-1.5 -2 0zM536 405l-1 3 0.5 2 2.5 3 2 0.5 0.5-3.5 -2.5-5zM548 292l-1.5 2 0.5 4 1 1.5 2 0.5 1.5-2 -0.5-4 -1-1.5zM540 154.5l-2 1.5 1 4 1 1.5 2 0 1.5-1.5 -0.5-4 -1-1.5zM538 493.5l0 3.5 2 3.5 2 0.5 0-3 -2-4zM540 417l-1 3 3 5 2 0.5 1-3.5 -3-5zM550 304l-1.5 2 0.5 2 1 2.5 2 1 1.5-1.5 0-4 -1.5-2zM542 166.5l-2 1.5 1 4 1 1.5 2 0 1.5-1.5 -0.5-4 -1-1.5zM544 429l-0.5 3 2.5 5 2 0 1-3 -1-2 -2-3zM552 314.5l-1 1.5 0 4 1 1 2 0.5 2-0.5 0.5-1 -1.5-4 -1-1.5zM544 178.5l-1.5 1.5 0.5 4 1 1.5 2 0 1.5-1.5 -0.5-4 -1-1.5zM544 507l-0.5 1 0.5 3.5 2 1 0-3.5zM548 441.5l-0.5 2.5 2 4 2.5 1 1-3 -0.5-2 -2.5-3zM554 326l-1 2 0 2 3 3 2 0 0.5-3 -1-2 -1.5-2zM546 190.5l-1.5 1.5 0.5 4 1 1.5 2 0 1.5-1.5 -0.5-4 -1-1.5zM552 454l2 6 2 1 0.5-1 0-4 -2.5-2.5zM556 336.5l-1 1.5 1 4 2 1.5 2 0 1-1.5 -1.5-4 -1.5-1.5zM548 202.5l-1.5 1.5 0.5 4 1 1.5 2 0 1.5-1.5 -0.5-4 -1-1.5zM554 801.5l-3 2.5 1 2 4 3 2-2.5 0.5-2.5 -2.5-2.5zM558 349l-0.5 1 2.5 5 2 0 1-3 -0.5-2 -2.5-1.5zM550 214.5l-1.5 1.5 0.5 4 1 1.5 2 0 1.5-1.5 -0.5-4 -1-1.5zM558 465.5l-1 0.5 0 4 1 2 2 1 1-1 -0.5-4zM560 359.5l-0.5 0.5 1.5 4 1 1.5 2 0 1-1.5 -0.5-4 -2.5-1.5zM552 226.5l-1.5 1.5 0.5 4 1 1.5 2 0 1.5-1.5 -0.5-4 -1-1.5zM562 478l-1 2 0.5 2 2.5 2.5 1-0.5 -0.5-4zM564 370.5l-1.5 1.5 0.5 2 1 2.5 2 0.5 1-3 0-2 -1-1zM554 238.5l-1 1.5 0 4 1 1 2 0.5 1.5-1.5 -0.5-4 -1-1.5zM566 380.5l-1.5 1.5 0.5 4 1 1 2 0.5 1-1.5 0-4 -1-1zM556 250.5l-1 1.5 0 4 1 1 2 0.5 1.5-1.5 -0.5-4 -1-1.5zM566 490l-1 2 0.5 2 2.5 2.5 1-0.5 -0.5-4 -0.5-1zM568 392.5l-1 1.5 0 2 1 2 2 0.5 1-2.5 0-2 -1-1.5zM558 262.5l-1 1.5 0 4 1 1 2 0.5 1.5-1.5 -0.5-4 -1-1.5zM570 403l-1 1 0.5 4 2.5 1.5 1.5-1.5 -0.5-4 -1-1zM560 274.5l-1 1.5 0 4 1 1 2 0.5 1.5-1.5 -0.5-4 -1-1.5zM570 502.5l-0.5 1.5 0 2 2.5 2 0.5 0 0-4 -0.5-1.5zM572 415l-1 1 0.5 2 2.5 2.5 1-0.5 1-2 -1-2 -1-1.5zM562 286.5l-1 1.5 0 4 1 1 2 0.5 2-1.5 -1-4 -1-1.5zM574 425l-0.5 1 1 4 1.5 1 2 0 0.5-1 -1.5-4 -1-1zM564 298.5l-1 1.5 0.5 4 2.5 1.5 2-1.5 -1-4 -1-1.5zM574 514.5l-0.5 1.5 0.5 1.5 2 2.5 1-2 -0.5-2 -0.5-1.5zM578 436.5l-2 1.5 1 2 1 2 2 0.5 0.5-2.5 -0.5-2zM566 310.5l-1 1.5 0.5 4 2.5 1.5 2-1.5 -1-4 -1-1.5zM578 527l-0.5 1 2.5 3.5 1.5-1.5 -1-2 -0.5-1zM580 447l-1.5 1 0.5 4 1 1 2 0 1-1 -0.5-2 -0.5-2zM568 322.5l-1 1.5 0.5 4 2.5 1.5 2-1.5 -1-4 -1-1.5zM582 459l-1 1 0.5 2 0.5 1.5 2 0.5 1-2 -0.5-2 -0.5-1zM570 335l-1 1 1 4 2 1 2-0.5 -1-4.5 -1-1.5zM582 539.5l2 4 1.5-1.5 -1.5-3zM584 469.5l-0.5 0.5 0.5 4 2 1 1-1 -0.5-4zM572 347l-1 1 1 4 2 1 2-0.5 -1-4.5 -1-1zM586 481.5l0 2.5 2 1.5 0.5-3.5 -0.5-1zM574 359l-1 1 1.5 4 1.5 1 2-0.5 0.5-0.5 -1.5-4 -1-1zM588 492l1 4 1 0.5 0.5-0.5 0-4 -0.5-0.5zM576 371l-1 1 1.5 4 1.5 1 2-0.5 0.5-0.5 -1.5-4 -1-1zM588 551.5l-1 0.5 1 3 2-1zM578 383l-0.5 1 1 4 1.5 1 2-0.5 0.5-0.5 -1.5-4 -1-1zM580 395l-0.5 1 1.5 4 1 1 2 0 0.5-1 -1.5-4 -1-1zM582 407.5l-0.5 0.5 1.5 4 1 1 2 0 0.5-1 -1-4 -1.5-1zM584 419.5l1 4.5 1 1 2 0 0.5-1 -1-4 -1.5-1zM586 432l1 4 1 1 2 0 0.5-1 -1-4 -1.5-1zM590 443l-2 1 1 4 1 1 2 0 0.5-1 0-2 -1-2zM592 455l-1.5 1 1 4 0.5 1 2 0 0.5-1 -0.5-3zM592 503.5l-1.5 0.5 1.5 2.5zM594 467l-1 1 0.5 4 0.5 1 2 0 0.5-1 -0.5-3zM594 514l-1 0 1 4zM596 479l-1 1 0.5 4 0.5 0.5 2 0 0.5-0.5 -0.5-3zM598 491.5l-0.5 0.5 0 4 2.5 0.5 0.5-0.5 -0.5-3zM598 537.5l0 2.5 2 0zM600 503.5l-0.5 4.5 2.5 0.5 0-3zM602 515.5l0 4.5 2 0 0-2.5zM604 528l0 4 2 0 0-1zM931 82l10 0 0 2 -3 2 -4 1 -2-1 -1-2zM1080.5 82l145 0 0 2 -12 12 -13.5 11 -16 11 -16 9.5 -14 7 -12 5 -10 3.5 -22 5 -3.5 2 -12.5 9.5 -10 6 -10 4.5 -8 1.5 -6-1.5 -3-2 -3-3.5 -2-6.5 0-8 1.5-6 2.5-8 4-8 9.5-16 11-28z"/>
<path fill="#26ffd1" d="M198 82l61.5 0 0.5 3 20 32.5 30 44.5 14 17.5 20 33 2 2.5 2 1 1-2 -0.5-4 -4-10 -12-28 -2.5-10 -2-6 -23-50 -12-22 0-2 36 0 0 2 21 46 22 44 31.5 70 8.5 16.5 2 1 0-2 -4-11.5 -26-67.5 -2.5-8.5 -1.5-2 -14-41 -17.5-45 0-2 22 0 0.5 4 1 1.5 3 8.5 3 6 1 4 3 6 1 4 3 6 7 18 1 1.5 3 8.5 1 1.5 13 32.5 1 1.5 3 8.5 7 16 3 8 1 2 3 8 1.5 2 6.5 18 11 26 1 4 3 6 3 8 1.5 2 2.5 8 1.5 2 2.5 8 1.5 2 1 4 3 6 1 4 3 6 2.5 8 1.5 2 2.5 6 0 2 1.5 2 4 10 1 4 3.5 6 2 8 2 2 1.5 4 0.5 4 3.5 6 3 10 3.5 6 2 8 2 2 0.5 2 1.5 2 0 4 4 6 2 8 4.5 8 -0.5 2 4.5 8 2 8 4.5 6 -0.5 4 1.5 2 1 3 2 1.5 1-2.5 -0.5-2 -4-6 0.5-4 -2.5-6 -2-2 0-2 -1.5-2 0-4 -4-6 0-4 -6-12 0-4 -4-6 0-4 -1.5-2 -0.5-2 -4-8 -0.5-4 -3.5-6 0-4 -1.5-2 -0.5-2 -1.5-2 -2.5-6 0.5-2 -4.5-8 -2-8 -1.5-2 -0.5-2 -1.5-2 0-4 -2-2 -2.5-8 -1.5-2 -0.5-4 -1-1 -1-3 -1.5-2 -0.5-4 -1.5-2 0-2 -2-2 -0.5-4 -1.5-2 0-2 -1.5-2 -1-4 -1.5-2 -0.5-4 -1.5-2 0-2 -2-2 0-2 -2-4 0-2 -2-2 -2-8 -1.5-2 -1-4 -1.5-2 -2.5-8 -1.5-2 -2.5-8 -1.5-2 -2.5-8 -1-2 -1-4 -3-6 -1-4 -5-12 -5-14 -1-1 -3-9 -5-12 -1-4 -3-6.5 -1-3.5 -5-12 -1-4 -1-1.5 -2.5-8.5 -1.5-1.5 -1-4.5 -3-6 -1-4 -1-1.5 -3-8.5 -1-1.5 -2.5-8.5 -1.5-2 -2.5-8 -1.5-2 -1-4 -1-1.5 -0.5-4.5 36 0 0.5 4 6.5 18 1.5 2 6.5 20 1.5 2 6.5 20 1.5 2 4.5 14 1.5 2 4.5 14 1.5 2 1 4 1 1.5 5 14.5 1 2 1 4 7 18 1 4 3 6 1 4 3.5 8 0.5 4 3.5 6 1 6 1.5 4 2 2 1.5 8 3 4 1.5 8 3.5 6 0.5 6 4.5 6 -0.5 4 0.5 2 2.5 4 1 0 0.5 2 -0.5 4 3 5.5 1.5 0.5 0.5 2 -0.5 4 2.5 5 2 1 0.5 2 -1 2 0 2 2.5 5 3 1 0.5 2 -1.5 0.5 -0.5 1.5 1.5 4 1 2.5 2 1.5 2 0 0.5-2 -2-6 -2.5-2 0.5-4 -1-4 -3-4 0-4 -1-4 -3-4 -1-8 -3-4 -1-8 -2.5-4 -1.5-8 -2.5-4 -1.5-8 -1.5-2 -2-5.5 -0.5-4.5 -1.5-2 -1-4 -1-2 0-4 -2-2.5 -0.5-5.5 0.5-2 2-0.5 0.5-1.5 -0.5-6 -1-2 -1-5 -8.5-29 -5.5-26.5 -19-61.5 -13-37 -0.5-3 59.5 0 0 6 2 4 -0.5 4 2.5 6 0.5 4 -0.5 2 1 1 2 7 -0.5 2 0.5 1 0.5 3 2 4 0 8 2 2 0.5 2 -0.5 2 0 4 2 2 0.5 2 -0.5 6 2.5 4 0.5 2 -1 2 0.5 4 2.5 2 -1 6 3 6 0 2 -1 2 3 6 0.5 4 -0.5 2 1 4 2.5 4 -1.5 2 1 4 2.5 4 -0.5 4 0.5 4 1 1.5 1.5 0.5 0 2 -1 2 0 4 1.5 1.5 1.5 0.5 -1 8 3.5 4 0 2 -1.5 2 1 4 2.5 2 0 4 -1 2 3 6.5 2-0.5 1-2 0-4 -2.5-2 -0.5-1.5 -1-0.5 0-2 1 0 1.5-2 -0.5-2 -1-2 -2.5-2 0-2 1.5-2 0-2 -2.5-4 -2-4 1.5-0.5 1-1.5 -1.5-4 -2.5-4 1.5-2 -1-4 -3-6 1.5-2 -0.5-4 -1.5-2 -1 0 -0.5-2 1-2 0-4 -3-4 0-2 1-2 0-4 -1.5-1.5 -1.5-0.5 1-8 -2.5-2 -0.5-2 1-6 -0.5-2 -2.5-2 1-6 -0.5-2 -2-2 -0.5-4 1-2 -3-6 0-6 -3-8 1-2 -3-8 0-6 -2.5-6 0.5-2 0-4 -1.5-2 -1-2 0.5-6 -1.5-2 0-2 17 0 0.5 4 2.5 4 2 0 1.5-2 -0.5-6 108 0 0 58 1 4 0 68 1 56 1 4 0 18 0.5 4 1 38 1 18 1 38 1.5 14 2.5 74 1.5 16 0.5 28 1 2 3.5 80 0.5 4 1.5 28 1 4 1 22 -1 4 0 46 -1.5 12 -0.5 12 -2.5 18 -3 8 -1.5 8.5 -2 0 -2-8 -2-2 -2 0.5 -2 1 -2.5 12 -1.5 10 -2 0.5 -3 11.5 -0.5 18 -1 2 -1.5 6.5 -4 9.5 -4 11.5 -2 2.5 -2 8.5 -2 4.5 -2 1 -2 2.5 -6 3.5 -2-3 -2 3.5 -8 3.5 -2-1 -2 2.5 -8 0 -4-3.5 -2 2 -2 0 -2-2 -6 0 -2 2 -2-2 -10 0 -2 2.5 -2-1 -2-2.5 -2 1 -2-2 -6-0.5 -2-2 -2 3.5 -2 2 -2-5 -2-2 -2 0 -2-2 -4 0 -2 2 -2 0 -2-4 -2 0 -4 4 -2-2 -2 0 -2 2 -4-4 -4 0 -2 2.5 -2-2 -2 1.5 -4 0 -2-2 -4 0 -4 4 -2-2 -2 2 -2-2 -10 0 -2-2 -2 2 -2 0 -2 2 -2 0 -2 1 -2-2 -2 1 -2-2 -8 0 -2-2 -2 2 -2 0 -2 2 -2-2 -4 0 -2 2 -2 0 -4-4 -2 4 -2 0 -2 2.5 -2 5.5 -2 0.5 -2 2 -4 0 -1.5-6.5 -2.5-7 -2 1.5 -2 0 -4-0.5 -2-2 -2 2.5 -2 6 -2 2 -2-2 -2 0 -2 2 -2 0 -2-2 -2-0.5 -4 4 -4-4 -2 0.5 -2.5-8.5 -1-10 -1-2 -1-20 -0.5-2.5 -2-0.5 -2-4 -2 2 -2-0.5 -2-2 -16-2 -2 1 -6-1 -8-1.5 -2-1.5 -2-0.5 -2 0.5 -4-1.5 -2-1.5 -2 0.5 -2-1.5 -4 0.5 -6-2.5 -2-1.5 -2-0.5 -2 1 -4-1 -8-3.5 -10-3 -14-6 -6-1 -4-2 -4-3.5 -2 0.5 -2-1 -1.5-2 -12-28 -6-48 -4.5-49 -2 0 0-35.5 2 0 6-37.5 -2.5-100 -3.5-28.5 -2 0 0-242.5 2 0 4-29zM514 835.5l-3.5 2.5 -1.5 2 1 2 2.5 4 3.5 1 2-0.5 3-2.5 1.5-4 -2.5-3.5 -4-1.5zM524 368l-2 2 1 4 3 3.5 2 0.5 1-2 -2.5-6zM542 270l-1 2 1.5 4 1.5 2 2 0 1.5-2 -0.5-4 -1-1 -2-1zM528 94.5l-1 1.5 1.5 4 1.5 2 2 0 1.5-2 -0.5-4 -1-1.5zM528 380.5l-1 1.5 0 4 3 3.5 2 0 1-1.5 -0.5-2 -2.5-5zM546 281l-2 3 2 5.5 2 0.5 1-2 0.5-4 -1.5-1.5 -1.5-0.5zM530 106.5l-1 1.5 1.5 4 1.5 2 2 0 1.5-2 -0.5-4 -1-1.5zM532 392.5l-1 1.5 0 4 3 3.5 2 0 1-1.5 -0.5-2 -2.5-5zM548 292l-2 2 0.5 4 1.5 2 2 0 1.5-2 -0.5-4 -1-1.5zM532 119l-1 1 1.5 4 1.5 2 2 0 1.5-2 -0.5-4 -1-1.5 -2-0.5zM536 404.5l-1 3.5 0.5 2 2.5 3.5 2 0 1-1.5 0-2 -3-5zM550 304l-1.5 2 0.5 2 1 3 2 0.5 2-1.5 -0.5-4 -1.5-2zM534 131l-0.5 1 1 4 1.5 1.5 2 0 1.5-1.5 -0.5-4 -1-1.5 -2-0.5zM538 493l0 4 2 4 2 0 0-3 -2-4zM540 417l-1 3 3 5 2 0.5 1-3.5 -3-5zM552 314l-1 2 0 4 1 1.5 2 0.5 2-1 0.5-1 -1-4 -1.5-1.5zM536 143.5l-0.5 0.5 1 4 1.5 1.5 2 0 1.5-1.5 -0.5-4 -1-1.5 -2 0zM544 429l-0.5 3 2.5 5 2 0.5 1-3.5 -1-2 -2-3zM554 326l-1 2 0 2 3 3.5 2-0.5 0.5-3 -1-2 -1.5-2zM538 155.5l0.5 4.5 1.5 1.5 2 0 1.5-1.5 -0.5-4 -1-1.5 -2 0zM544 507l-1 1 1 4 2 1 0.5-1 -0.5-3.5zM548 441l-0.5 3 2 4 2.5 1.5 1-3.5 -0.5-2 -2.5-3zM556 336.5l-1 1.5 1 4 2 1.5 2 0 1-1.5 -1.5-4 -1.5-1.5zM542 166.5l-2 1.5 0.5 4 1.5 1.5 2 0 1.5-1.5 -0.5-4 -1-1.5zM550 521.5l-1 0.5 1 3 1-1zM552 453.5l1.5 6.5 2.5 1 1-1 -0.5-4 -2.5-3zM558 348.5l-0.5 1.5 2.5 5 2 0 1-3 -0.5-2 -2.5-1.5zM544 178.5l-2 1.5 0.5 4 1.5 1.5 2 0 1.5-1.5 -0.5-4 -1-1.5zM554 801.5l-3 2.5 1 2.5 2 2 2 0.5 2-2 0.5-3 -2.5-2.5zM558 465.5l-1.5 0.5 0.5 4 1 2 2 1 1-1 -0.5-4zM560 359l-0.5 1 1.5 4 1 1.5 2 0 1-1.5 -0.5-4 -2.5-1.5zM546 190.5l-1.5 1.5 0 4 1.5 1.5 2 0 1.5-1.5 -0.5-4 -1-1.5zM562 477.5l-1 2.5 0 2 1 1.5 2 1.5 1-1 0-4zM564 370.5l-1.5 1.5 1 4 0.5 1 2 0 1-3 0-2 -1-1.5zM548 202.5l-1.5 1.5 0 4 1.5 1.5 2 0 1.5-1.5 -0.5-4 -1-1.5zM566 380.5l-1.5 1.5 0.5 4 1 1.5 2 0 1-1.5 0-4 -1-1zM550 214.5l-1.5 1.5 0.5 4 1 1.5 2 0 1.5-1.5 -0.5-4 -1-1.5zM566 490l-1 2 0.5 2 2.5 2.5 1-0.5 0-4 -1-1.5zM568 392.5l-1 1.5 0 2 1 2 2 0.5 1-2.5 0-2 -1-1.5zM552 226.5l-1.5 1.5 0.5 4 1 1.5 2 0 1.5-1.5 -0.5-4 -1-1.5zM570 402.5l-1 1.5 0.5 4 2.5 1.5 2-1.5 -1-4 -1-1.5zM554 238.5l-1.5 1.5 0.5 4 1 1.5 2 0 1.5-1.5 -0.5-4 -1-1.5zM570 502l-0.5 2 0 2 2.5 2.5 1.5-0.5 -1.5-5.5zM572 414.5l-1 1.5 0.5 2 2.5 2.5 1.5-0.5 0.5-2 -1-2 -1-1.5zM556 250.5l-1.5 1.5 0.5 4 1 1.5 2 0 1.5-1.5 -0.5-4 -1-1.5zM574 425l-1 1 1.5 4 1.5 1.5 2-0.5 0.5-1 -1.5-4 -1-1zM558 262.5l-1 1.5 0 4 1 1 2 0.5 2-1.5 -1-4 -1-1.5zM574 514.5l-0.5 1.5 0.5 2 2 2 1.5 0 -1.5-5.5zM578 436.5l-2 1.5 0.5 2 1.5 2.5 2 0 0.5-2.5 -0.5-2zM560 274.5l-1 1.5 0 4 1 1 2 0.5 2-1.5 -1-4 -1-1.5zM578 526.5l-0.5 1.5 2.5 4 1.5-2 -1.5-3.5zM580 447l-1.5 1 0.5 4 1 1 2 0 1-1 -0.5-2 -0.5-2zM562 286.5l-1 1.5 0 4 1 1 2 0.5 2-1.5 -1-4 -1-1.5zM582 459l-1 1 0.5 2 0.5 1.5 2 0.5 1-2 -0.5-2 -0.5-1zM564 298.5l-1 1.5 0 4 3 1.5 2-1.5 -1-4 -1-1.5zM582 539.5l2 4 2-1.5 -2-3zM584 469l-1 1 0.5 4 2.5 1 1-1 -0.5-4 -0.5-0.5zM566 310.5l-1 1.5 0.5 4 2.5 1.5 2-1.5 -1-4 -1-1.5zM586 481.5l0 2.5 2 1.5 0.5-3.5 -0.5-1zM568 322.5l-1 1.5 0.5 4 2.5 1.5 2-1 -1-4.5 -1-1.5zM588 492l0 2 1 2 1 0.5 1-0.5 -0.5-4 -0.5-1zM570 334.5l-1 1.5 0.5 4 2.5 1.5 2-1 0.5-0.5 -1.5-4 -1-1.5zM588 551l-1 1 1 3 2-0.5zM572 346.5l-1 1.5 1 4 2 1.5 2-1 0.5-0.5 -1.5-4 -1-1.5zM574 359l-1 1 1 4 2 1.5 2-1 0.5-0.5 -1.5-4 -1-1.5zM576 371l-1 1 1.5 4 1.5 1.5 2-0.5 0.5-1 -1-4 -1.5-1.5zM578 383l-1 1 1.5 4 1.5 1.5 2-0.5 0.5-1 -1-4 -1.5-1.5zM580 395l-0.5 1 1 4 1.5 1 2 0 0.5-1 -1-4 -1.5-1zM582 407l-0.5 1 1.5 4 1 1 2 0 0.5-1 -1-4 -1.5-1zM584 419.5l-0.5 0.5 1.5 4 1 1 2 0 0.5-1 -1-4 -1.5-1zM586 431.5l1 4.5 1 1 2 0 0.5-1 -1-4 -1.5-1zM588 444l1 4 1 1 2 0 0.5-1 -1-4 -1.5-1zM592 455l-1.5 1 0.5 4 1 1 2 0 0.5-1 -0.5-3.5zM592 503.5l-2 0.5 2 3 0.5-1zM594 467l-1.5 1 1 4 0.5 1 2 0 0.5-1 -0.5-3.5zM592 563.5l0 2.5 1 0zM594 513.5l-1.5 0.5 1.5 4 1 0zM596 479l-1 1 0.5 4 0.5 0.5 2 0.5 0.5-1 -0.5-3.5zM598 491.5l-1 0.5 0.5 4 0.5 0.5 2 0 0.5-0.5 -0.5-3.5zM598 536l0 4 2 0zM600 503.5l-0.5 0.5 0 4 2.5 0.5 0-3.5zM600 548l0 2.5 2-0.5zM602 515.5l0 4.5 2 0.5 0-3zM602 558.5l0 3.5 2 0 0-2zM604 528l0 4 2 0 0-2zM1097 82l122 0 0 2 -10 10 -10 8 -11 8 -14 8.5 -12 6 -12 4.5 -10 2.5 -8 0.5 -8-1 -8.5-3 -7.5-5.5 -6-6.5 -3.5-6 -2-8 -1-8z"/>
<path fill="#2cffca" d="M200.5 82l58.5 0 0 2 3 5.5 18 28.5 34 51 12 14.5 20 33 2 2.5 2 0.5 0.5-1.5 -0.5-4 -6-16 -8-18 -3.5-14 -4-10 -24-52 -11-20 0-2 35 0 0 2 23 50 24.5 50 0.5 2 1.5 2 0.5 2 31.5 68 2 4.5 1.5 1.5 0.5 2 2 2 0-4 -1-2 -1-4 -24.5-66 -1.5-2 -22-62 -17-44 0-2 21.5 0 0 4 1.5 1.5 2.5 8.5 1.5 1.5 3 8.5 1 1.5 3 8.5 3 6 1 4 3 6 7 18 1 1.5 3 8.5 3 6 7 18 1 2 3 8 1 1.5 3 8.5 3 6 3 8 1 2 3 8 1 2 7 18 1.5 2 2.5 8 7 16 1 4 3 6 1 4 3 6 2.5 8 1.5 2 3 8 1.5 2 0.5 4 3.5 6 0.5 4 3.5 6 2.5 8 1.5 2 2.5 6 0 2 1.5 2 4 10 1 4 3 6 2.5 8 1.5 2 2.5 8 3.5 6 3 10 3.5 6 2 8 2 2 0.5 2 1 2 0.5 4 4 6 2 8 4.5 8 -0.5 2 1 2 3.5 6 2 8 4 6 0 4 1.5 2 1 3 2 1 0 2 1-6 -4-6 -0.5-2 0.5-2 -2.5-6 -2-2 0-2 -1.5-2 0-4 -3.5-6 -1-2 0.5-2 -6-12 0-4 -3.5-6 -0.5-4 -1.5-2 0-2 -4.5-8 0-4 -3.5-6 -0.5-4 -1.5-2 0-2 -2-2 -2.5-6 0.5-2 -4-8 -2-8 -2-2 -0.5-2 -1-2 -0.5-4 -2-2 -2.5-8 -1.5-2 -0.5-4 -1-1 -1-3 -1.5-2 0-4 -1.5-1 -0.5-3 -1.5-2 -1-4 -1.5-2 0-2 -1.5-2.5 -1-3.5 -1.5-2 -0.5-4 -1.5-2 0-2 -2-2 -0.5-4 -1.5-2 0-2 -1.5-2 -1-4 -1-1 -0.5-3 -1.5-2 -1-4 -1.5-2 -2-8 -2-2 -2-8 -1.5-2 -5-14 -1-1 -3-9 -1.5-2 -2-8 -1.5-2 -5-14 -1-1.5 -2.5-8.5 -1.5-2 -1-4 -3-6 -1-4 -1-1.5 -2.5-8.5 -1.5-2 -1-4 -3-6.5 -1-3.5 -1-1.5 -2.5-8.5 -1.5-2 -1-4 -3-6.5 -0.5-3.5 -1.5-1.5 -2.5-8.5 -1.5-2 -2.5-8 -1.5-2 -1-4 -1-1.5 -0.5-2.5 -1.5-2.5 -0.5-3.5 -1.5-1.5 -0.5-4.5 35.5 0 1.5 6 14 38 1.5 2.5 0.5 3.5 1.5 2 4.5 14 1.5 2.5 1 3.5 1 1.5 2.5 8.5 1.5 2.5 1 3.5 1 1.5 5 14.5 1 2 4.5 14 1.5 2 1 4 1 2 2.5 8 3.5 8 1 4 3 6.5 1.5 5.5 3 6 0.5 4 4 8 0.5 4 1.5 4 2 2 1.5 8 1 2 2 2 1.5 8 3.5 6 0.5 6 4 6 0 4 0.5 2 4 6 -0.5 4 3 5.5 1 0.5 0.5 2 -0.5 4 3 5.5 1.5 0.5 0 6 1.5 4 3 2 0.5 2 -1 2 2 6 3 2 1 2 -1.5 2 1 4 1 2 4 2.5 1-2.5 -0.5-2 -2-4 -2.5-2 1-4 -2.5-6 -2-2 0.5-4 -2.5-6 -2-2 0-4 -1-4 -2.5-4 -1.5-8 -2.5-4 -1.5-8 -2.5-4 -1.5-8 -2-4 -2-8 -1.5-2.5 -2-6.5 0-3 -2-3 -0.5-5 -1-2 3.5-1 0-7 -1-2 -1-5 -13-45 -6.5-30 -19.5-60 -11-31 0-3 58.5 0 0 6 2.5 4 -0.5 4 0 2 2.5 4 0 6 1 1.5 1.5 6.5 -0.5 2 1 1 0.5 3 2 6 0 6 2 4 0 6 1.5 2 1 2 -0.5 6 0.5 2 2 2 -0.5 4 0 4 2.5 2 -0.5 6 2.5 6 -0.5 4 2.5 6 0.5 4 -0.5 2 3 8 -0.5 2 1 4 2 4 0.5 8 1.5 2 0.5 2 -0.5 2 0 4 1.5 2 1 0 0.5 2 -1 6 3 4 -1 6 0.5 2 2.5 2 0 4 -0.5 2 2.5 6 0.5 2 -1 2 3 7.5 1 0.5 0 2 -1 2 1 4 1 2 2 0 1.5-2 0-4 -1.5-2 -1 0 -1-2 0-2 1.5-2 -0.5-4 -1-1.5 -2-0.5 1-8 -2.5-2 -0.5-2 0-2 1.5-2 -0.5-2 -0.5-2 -2.5-2 1-6 -2.5-4 -1-4 1.5-2 -3-6 -0.5-2 1-2 -3.5-10 1-2 -0.5-4 -2.5-4 0.5-2 0-4 -2.5-4 -0.5-2 1-2 0-4 -2.5-2 0.5-8 -2-2 -1-2 1-6 -0.5-2 -2.5-2 1-6 -0.5-2 -2-2 -0.5-4 1-2 -3-6 0.5-6 -2-4 -1-4 1-2 -1-1.5 -2-6.5 -0.5-6 -2-6 0-6 -2-4 0-6 -1-2 0-2 16 0 0.5 4 3 4 0 2.5 1.5 1.5 -1.5 0 -1 2 0.5 2 2.5 4 2 0 1.5-2 0-4 -1.5-1.5 -2-0.5 0-4 1.5-2 0-6 107.5 0 0 58 1 4 0 68 2 78 0.5 4 1 38 1 18 1 38 0.5 12 0.5 2 1 30 1 16 1 28 1.5 16 0.5 28 1 2 3 80 1 4 1 28 1 4 1.5 22 -1 4 -0.5 46 -1 12 -0.5 12 -2.5 18 -3 8 -1.5 8 -2 0 -2-7.5 -2-2 -4 1.5 -3 12 -1 10 -2 0.5 -3 11.5 -0.5 18 -1 2 -1.5 6.5 -4.5 9.5 -3.5 11.5 -2 2.5 -2 8.5 -2 4 -2 1 -2 3 -6 3.5 -2-3.5 -2 4 -8 3 -2-1 -2 2.5 -8 0.5 -4-3.5 -2 2 -2 0 -2-2 -6-0.5 -2 2.5 -2-2 -10 0 -2 2 -2-0.5 -2-3 -2 1.5 -2-2 -6-0.5 -2-2.5 -2 4 -2 2 -2-5 -2-2 -2 0 -2-2 -4 0 -2 2 -2 0 -2-4 -2 0 -4 4 -2-2 -2 0 -2 2 -4-4 -4 0 -2 2 -2-2 -2 1.5 -4 0 -2-2 -4 0 -4 4 -2-1.5 -2 2 -2-2 -10 0 -2-2 -2 2 -2 0 -2 2 -2 0 -2 1 -2-2.5 -2 1 -2-1.5 -8 0 -2-2 -2 2 -2 0 -2 2 -2-2 -4 0 -2 2 -2 0 -4-4 -2 4 -2 0 -2 2.5 -2 5.5 -2 0.5 -2 2 -4 0 -1.5-6.5 -2.5-7.5 -2 2 -2 0 -4-0.5 -2-2 -2 2 -2 6 -2 2.5 -2-2 -2 0 -2 2 -2 0 -2-2.5 -2 0 -4 4 -4-4 -2 0.5 -2.5-8.5 -1-10 -1-2 -0.5-20 -1-3 -2 0 -2-4 -2 1.5 -2 0 -2-2 -16-2 -2 1 -6-1 -8-1.5 -2-2 -2-0.5 -2 0.5 -4-1 -2-1.5 -2 0.5 -2-1.5 -4 0.5 -6-2.5 -2-1.5 -2-1 -2 1 -4-1 -8-3.5 -10-2.5 -12-5.5 -4-1.5 -2.5 0 -7.5-4 -2-3 -1.5-1 -12.5-28 -8-60 -5-60 8-50 -3-100 -3-24 -3-29 -2 0 0-193.5 2 0 3-29.5 4-24zM514 835l-4 3 -1 2 0.5 2 2.5 4.5 2 1 4 0 2-1.5 1.5-2 1-4 -2.5-3.5 -4-1.5zM528 380l-1.5 2 0.5 4 3 3.5 2 0.5 1-2 -0.5-2 -2.5-5zM548 292l-2 2 0.5 4 1.5 2 2 0 1.5-2 0-4 -1.5-1.5zM530 106.5l-1 1.5 1.5 4 1.5 2 2 0 1.5-2 0-4 -1.5-1.5zM532 392.5l-1 1.5 0 4 3 3.5 2 0.5 1-2 0-2 -3-5zM550 302.5l-1.5 3.5 0 2 1.5 3 2 1 2-2 -0.5-4 -1.5-2zM532 118.5l-1 1.5 1.5 4 1.5 2 2 0 1.5-2 0-4 -1.5-1.5zM536 404.5l-1 3.5 0.5 2 2.5 3.5 2 0 1-1.5 0-2 -3-5zM552 314l-1.5 2 0.5 4 1 1.5 2 0.5 2-0.5 1-1.5 -1.5-4 -1.5-2zM534 130.5l-1 1.5 1.5 4 1.5 2 2 0 1.5-2 0-4 -1.5-1.5zM538 492l-0.5 4 0.5 1.5 2 3.5 2 0.5 0-3.5 -1.5-4zM540 416.5l-1 3.5 3 5.5 2 0 1-3.5 -3-5zM554 326l-1 2 0 2 3 3.5 2 0 1-3.5 -1-2 -2-2zM536 143l-0.5 1 1 4 1.5 2 2 0 1.5-2 0-4 -1.5-1.5 -2-0.5zM544 428.5l-1 3.5 3 5 2 0.5 1-3.5 -1-2 -2-3zM556 336.5l-1 1.5 1 4 2 1.5 2 0 1-1.5 -1-4 -2-1.5zM538 155.5l-0.5 0.5 1 4 1.5 2 2 0 1.5-2 0-4 -1.5-1.5 -2-0.5zM544 506.5l-1 1.5 1 4 2 1 0.5-1 -0.5-4zM548 441l-0.5 3 2 4 0.5 1 2 0.5 1-1.5 -0.5-4 -2.5-3zM558 348.5l-1 1.5 2 4 1 1.5 2 0 1-3.5 0-2 -3-2zM540 167.5l0.5 4.5 1.5 2 2 0 1.5-2 0-4 -1.5-1.5 -2-0.5zM550 520.5l-1.5 1.5 1.5 4 2 0 0-2zM552 453l0 3 1.5 4 2.5 1.5 1-1.5 -0.5-4 -2.5-3zM558 465l-2 1 1 4 1 2 2 1 1-1 0-4zM560 359l-0.5 1 1 4 1.5 1.5 2 0 1-1.5 -0.5-4 -2.5-1.5zM544 178l-2 2 0.5 4 1.5 1.5 2 0.5 1.5-2 0-4 -1.5-1.5zM554 801.5l-3.5 2.5 0.5 2 3 3 2 0.5 2-2.5 0.5-3 -2.5-2.5zM562 477.5l-1 0.5 0 4 1 1.5 2 1.5 1-1 0-4zM564 370.5l-1.5 1.5 1 4 0.5 1 2 0 0.5-1 0.5-4 -1-1.5zM546 190l-2 2 0.5 4 1.5 1.5 2 0.5 1.5-2 0-4 -1.5-1.5zM566 380.5l-1.5 1.5 0.5 4 1 1.5 2 0 1.5-1.5 -0.5-4 -1-1.5zM548 202.5l-1.5 1.5 0 4 1.5 1.5 2 0 1.5-1.5 0-4 -1.5-1.5zM566 489.5l-1 2.5 0.5 2 2.5 3 1.5-1 -0.5-4 -1-1.5zM568 392.5l-1 1.5 0 2 1 2 2 1 1-1 0-4 -1-1.5zM550 214.5l-1.5 1.5 0 4 1.5 1.5 2 0 1.5-1.5 0-4 -1.5-1.5zM570 402.5l-1 1.5 0 4 3 1.5 2-1.5 -1-4 -1-1.5zM552 226.5l-1.5 1.5 0 4 1.5 1.5 2 0 1.5-1.5 0-4 -1.5-1.5zM570 502l-1 2 0.5 2 2.5 2.5 2-0.5 -2-5.5zM572 414.5l-1 1.5 0.5 2 2.5 3 2-1 -0.5-4 -1.5-1.5zM554 238.5l-1.5 1.5 0 4 1.5 1.5 2 0 2-1.5 -1-4 -1-1.5zM574 425l-1 1 1.5 4 1.5 1.5 2-0.5 1-1 -2-4 -1-1.5zM556 250.5l-1.5 1.5 0.5 4 1 1.5 2 0 2-1.5 -1-4 -1-1.5zM574 514l-0.5 2 0.5 2 2 2.5 2-0.5 -2-5.5zM578 436.5l-2 1.5 0.5 2 1.5 2.5 2 0 1-2.5 -1-2zM558 262.5l-1.5 1.5 0.5 4 1 1.5 2 0 2-1.5 -1-4 -1-1.5zM578 526.5l-0.5 1.5 2.5 4 2 0 0-2 -2-3.5zM580 446.5l-1.5 1.5 0.5 4 1 1 2 0.5 1-1.5 0-2 -1-2zM560 274.5l-1.5 1.5 0.5 4 1 1 2 0.5 2-1.5 -1-4 -1-1.5zM582 539l-0.5 1 2.5 4 2-0.5 0-1.5 -2-3.5zM582 459l-1 1 0 2 1 1.5 2 1 1-2.5 -0.5-2 -0.5-1zM562 286.5l-1 1.5 0 4 1 1 2 0.5 2-1.5 -1-4 -1-1.5zM584 469l-1 1 0.5 4 2.5 1 1-1 -0.5-4 -0.5-1zM564 298.5l-1 1.5 0 4 1 1 2 0.5 2-1.5 -1-4 -1-1.5zM586 481.5l0 2.5 2 2 1-4 -1-1zM566 310.5l-1 1.5 0 4 3 1.5 2.5-1.5 -1.5-4 -1-1.5zM588 491.5l0 3 0.5 1.5 1.5 0.5 1-0.5 -0.5-4 -0.5-1zM568 322.5l-1 1.5 0.5 4 2.5 1.5 2-1 0.5-0.5 -1-4 -1.5-1.5zM588 551l-1.5 1 1.5 3.5 2-0.5 0-1zM590 504l2 3 0.5-1 0-2 -0.5-1zM570 334.5l-1 1.5 0.5 4 2.5 1.5 2-0.5 0.5-1 -1-4 -1.5-1.5zM592 563.5l-0.5 0.5 0.5 2.5 2-0.5zM572 346.5l-1 1.5 1 4 2 1.5 2-0.5 0.5-1 -1-4 -1.5-1.5zM574 358.5l-1 1.5 1 4 2 1.5 2-0.5 0.5-1 -1-4 -1.5-1.5zM576 370.5l-1 1.5 1 4 2 1.5 2-0.5 0.5-1 -1-4 -1.5-1.5zM578 383l-1 1 1.5 4 1.5 1.5 2-0.5 0.5-1 -1-4 -1.5-1.5zM580 395l-1 1 1.5 4 1.5 1.5 2-0.5 0.5-1 -1-4 -1.5-1.5zM582 407l-0.5 1 1 4 1.5 1.5 2-0.5 1-1 -1.5-4 -1.5-1.5zM584 419l-0.5 1 1.5 4 1 1.5 2-0.5 1-1 -1.5-4 -1.5-1.5zM586 431.5l1 4.5 1 1.5 2-0.5 1-1 -1.5-4 -1.5-1.5zM588 444l1 4 1 1 2 0 1-1 -1.5-4 -1.5-1.5zM592 455l-2 1 1 4 1 1 2 0 1-1 -1-3.5zM594 467l-1.5 1 0.5 4 1 1 2 0 1-1 -1-4zM594 513.5l-2 0.5 1.5 4 2.5 0zM596 479l-1 1 0.5 4 0.5 1 2 0 0.5-1 -0.5-4zM596 525.5l-0.5 0.5 0.5 2.5 1.5-0.5zM598 491l-1 1 0.5 4 0.5 0.5 2 0 0.5-0.5 -0.5-3.5zM598 536l0 4 2 0.5 0-1.5zM600 503.5l-0.5 0.5 0 4 2.5 0.5 0.5-0.5 -0.5-3.5zM600 547.5l0 3 2 0 0-1.5zM602 515.5l-0.5 0.5 0 4 2.5 0.5 0-3.5zM602 558l0 4 2 0 0-2.5zM604 527.5l0 4.5 2 0 0-2.5zM606 540l0 4 2 0 0-2zM1109.5 82l102.5 0 0 2 -8 8 -9.5 8 -10.5 7 -10 5.5 -10 5 -8 2.5 -8 1.5 -8 0.5 -8-1 -6-2.5 -6-4 -4-4.5 -3.5-6 -2-6 -1-8z"/>
<path fill="#36ffc1" d="M203 82l55.5 0 0 2 11.5 20 34 51.5 14 20.5 10 12 20 32 2 2.5 2 0 0-4.5 -7.5-20 -4.5-10 -4-14 -6.5-18 -24-52 -11-20 0-2 33.5 0 1 4 22 48 31 63.5 0.5 2.5 1.5 2 23.5 52 10.5 20.5 2-0.5 -1.5-2 -0.5-4 -1-2 -1-4 -25-66 -1-2 -23-66 -17.5-44 0-2 20.5 0 0.5 4 1.5 2 2.5 8 1.5 1.5 2.5 8.5 1.5 1.5 2.5 8.5 1.5 1.5 0.5 2.5 1.5 2.5 0.5 3.5 1.5 1.5 3 8.5 3 6 2.5 8 1.5 1.5 2 5 0.5 3.5 1.5 1.5 3 8.5 1 1 4.5 13 3.5 6.5 1 3.5 1 1.5 3 8.5 1 1.5 4.5 12.5 1.5 2 2.5 8 1.5 2 3 8 1 2 3 8 1.5 2 2.5 8 1.5 2 2.5 8 3 6 1 4 3 6 1 4 1.5 2 0 2 1.5 2 2.5 6 0 2 1.5 2 3 8 1 2 1 4 3.5 6 0.5 4 3.5 6 2.5 8 1.5 2 2 6 0.5 2 1.5 2 4 10 1 4 3 6 2.5 8 1.5 2 2.5 8 3 6 3.5 10 3.5 6 2 8 2 2 1.5 4 0.5 4 3.5 6 2.5 8 4 8 0 2 1 2 3.5 6 2 8 4 6 0 4 1.5 2 0.5 2 2 2 0.5 2.5 2 1.5 -0.5 4 0.5 1.5 2 3.5 2 0.5 0.5-1.5 0-2 -2-4 -2.5-2 0-2.5 -1-1.5 0-4 -4.5-8 0.5-2 -2.5-6 -2-2 0-2 -1-2 -0.5-4 -3.5-6 -0.5-2 0-2 -1-2 -1.5-4 -1.5-2 0-2 -1.5-2 -0.5-4 -3.5-6 -0.5-4 -1.5-2 0-2 -4-8 -0.5-4 -1-1 -1-3 -1.5-2 -0.5-4 -1.5-2 0-2 -2-2 -1-4 -1-2 0-2 -4-8 -2-8 -2-2 0-2 -2-4 0-2 -2-2 -2-8 -1.5-2 -0.5-4 -1.5-1 -0.5-3 -2-2 0-4 -1.5-1 -0.5-3 -1.5-2 -1-4 -1.5-2 -0.5-4 -1-0.5 -0.5-3.5 -2-2 -0.5-4 -1-1 -0.5-3 -2-2 -0.5-4 -1.5-2 0-2 -1.5-2 -1-4 -1-1 -0.5-3 -1.5-2 -0.5-4 -2-2 -2-8 -1.5-2 -2.5-8 -1.5-2 -1-4 -1-1 -3-9 -1-1.5 -0.5-2.5 -1.5-2.5 -0.5-3.5 -1.5-1.5 -2.5-8.5 -1.5-2 -1-4 -1-1 -3-9 -1-2 -2.5-8 -1.5-2 -1-4 -3-6.5 -0.5-3.5 -1.5-1.5 -2.5-8.5 -1.5-2 -1-4 -1-1.5 -2.5-8.5 -1.5-1.5 -1-4.5 -3-6 -0.5-4 -1.5-1.5 -2.5-8.5 -1.5-2 -2.5-8 -1.5-2 -1-4 -1-1.5 -0.5-2.5 -1.5-2.5 -0.5-3.5 -1.5-1.5 -2.5-8.5 -1.5-1.5 -0.5-4.5 35 0 0 2 20 54 1.5 2 4.5 14 1.5 2 4.5 14 1.5 2 4.5 14 1.5 2 1 4 1 1.5 5 14.5 1 2 1 4 5 12 1 4 3 7 1 5 3.5 6 0.5 4 4 8 0.5 4 1.5 4 1.5 2 0.5 4 2.5 6 1.5 2 1.5 8 3 4 1.5 8 3.5 6 0.5 6 4 6 0 4 4.5 8 -0.5 4 3 5.5 1.5 0.5 0 6 1.5 4 2.5 2 0 4 2 6 2.5 2 0 4 1 4 4.5 6 -1 2 0.5 4 3 4 1 0 1 2 1-4 -0.5-2 -2.5-5 -1.5-1 0.5-4 -0.5-2 -1.5-4 -2.5-2 0.5-4 -2-6 -2.5-2 0.5-4 -2-6 -2-2 0-4 -2.5-6 -1.5-2 0-4 -1-1 -0.5-3 -2.5-4 -1.5-8 -2-4 -2-8 -2-4 -0.5-4 -1-1 -0.5-5 -1.5-1.5 0-4.5 -2-2 4-1.5 0-6.5 -1-2 -3-12 -12.5-42 -7.5-32 -19-60 -5-14 -1-4 -1-2 -1-4 -1-1.5 -1-4.5 -1-1.5 -1-4.5 -1-1.5 0-2.5 58.5 0 0 6 1.5 2 0.5 2 0 6 2 4 0 6 1.5 2 1 6 -0.5 2 1.5 1.5 2 8.5 0.5 6 2 4 -0.5 6 2.5 4 0 8 2 2 0 8 2 2 0 6 0 2 2.5 4 -0.5 6 2.5 4 0 6 1 1.5 1.5 6.5 -0.5 2 1 1 0.5 3 2 6 0 6 2.5 4 -0.5 6 2 2 0.5 2 -0.5 6 2.5 4 -0.5 6 0.5 2 2.5 2 0 4 -1 2 3 6 0 2 -0.5 2 2.5 6 1 4 -1 2 1.5 4 2.5 4 -1.5 2 0.5 4 1.5 2 1 0 0.5 2 -1 4 0.5 4 1 1 2 1 0 2 -1.5 2 0.5 4 1 1.5 2 0.5 2-0.5 1-1.5 -3-6 -1.5 0 -0.5-2 2-2 -0.5-4 -1.5-3 -1.5-1 -0.5-2 2-2 -0.5-4 -1.5-2 -1.5 0 0-2 1-2 0-4 -3-4 0-2 1-2 -0.5-4 -2.5-2 1-8 -2.5-2 -0.5-2 0-2 1-2 0-2 -1-2 -2-2 1-6 -1-2 -2-2 -0.5-4 1.5-2 -3-6 0-6 -3-8 1-2 -1-4 -2-4 0-6 -2.5-6 0.5-2 0-4 -2-2 -0.5-2 0.5-6 -2-2 -0.5-2 0.5-6 -0.5-2 -2-2 0-8 -2-2 0-8 -2-4 0-6 -2-4 -0.5-4 0.5-2 -1-1.5 -1.5-6.5 0-2 -3-10 0-6 -2-4 0.5-6 -1-4 15.5 0 0.5 4 2.5 4 0 4 -1 2 0.5 2 2.5 4 0.5 4 -1.5 2 3 6 0.5 3 0.5 1 -1.5 2 3 6 0 2 1.5 2 -1.5 0.5 -1 1.5 5 10 -2 0.5 -1 1.5 1.5 4 1.5 2 2 0 1.5-2 0-4 -1.5-2 -2 0 0-4 1.5-2 0-4 -1.5-2 -1.5 0 -0.5-4 1.5-2 0-4 -1.5-2 -1.5 0 0-4 1-2 0-4 -1.5-2 -1 0 -0.5-4 1-2 0-4 -1.5-2 -1 0 -0.5-4 1-2 0-6 107.5 0 0 58 1 4 0 68 1.5 78 1 4 2.5 94 1 12 0.5 2 0.5 30 1.5 16 1 28 1 16 1 28 0.5 2 1 12 2.5 68 1 4 1 28 1 4 1 22 -0.5 4 -0.5 46 -1 12 -0.5 12 -2.5 18 -3 8 -1.5 8 -2 0 -2-7.5 -2-2.5 -4 2 -3 12 -1 9.5 -2 0.5 -3 12 -1 18 -1 2 -1 6.5 -4.5 9.5 -3.5 11 -2.5 3 -1.5 8.5 -2 4 -2 1 -2 3 -6 3 -2-3 -2 3.5 -8 3.5 -2-1 -2 2.5 -8 0 -4-3 -2 1.5 -2 0 -2-2 -6 0 -2 2.5 -2-2 -10-0.5 -2 2.5 -2-1 -2-2.5 -2 1 -2-2 -6-0.5 -2-2 -2 3.5 -2 2 -2-5 -2-2 -2 0 -2-2 -4 0 -2 2 -2 0 -2-4 -2 0 -4 4.5 -2-2 -2 0 -2 2 -4-4 -4 0 -2 2 -2-2 -2 1.5 -4 0 -2-2 -4 0 -4 4 -2-2 -2 2 -2-2 -10 0 -2-2 -2 2 -2 0 -2 2 -2 0.5 -2 1 -2-2.5 -2 1 -2-2 -8 0 -2-2 -2 2 -2 0 -2 2 -2-2 -4 0 -2 2 -2 0 -4-4 -2 4 -2 0 -2 2.5 -2 6 -2 0 -2 2 -4 0 -1.5-6 -2.5-7.5 -2 1.5 -2 0 -4-0.5 -2-2 -2 2.5 -2 6 -2 2 -2-2 -2 0 -2 2 -2 0 -2-2 -2-0.5 -4 4 -4-4 -2 1 -2-8.5 -1-10 -1-2 -1-20 -1-3 -2-0.5 -2-4 -2 2 -2-0.5 -2-2 -16-1.5 -2 1 -6-1 -8-2 -2-1.5 -2-0.5 -2 0.5 -3.5-1 -2.5-1.5 -2 0 -2-1.5 -4 0.5 -6-2.5 -2-1.5 -2-0.5 -2 1 -4-1 -8-3.5 -10-3 -12-5.5 -4-1.5 -2 0 -6.5-3.5 -14-32 -8.5-60 -5-60 7.5-50 -2.5-100 -5-35 -4-42.5 -2 0 0-144.5 2 0 4.5-44 5.5-34zM514 835l-4 3 -1.5 2 0.5 2 1 2.5 2 2.5 2 1 4 0 2-1.5 2-2.5 1-4 -3-4 -4-1.5zM532 392l-1 2 0 4 3 4 2 0 1-2 0-2 -3-5.5zM554 324.5l-1.5 3.5 0.5 2 3 4 2-0.5 1-3.5 -3-5zM538 155l-1 1 1.5 4 1.5 2 2 0 1.5-2 0-4 -1.5-2 -2 0zM536 404l-1 4 0.5 2 2.5 3.5 2 0.5 1-2 0-2 -3-5.5zM556 336l-1 2 0.5 4 2.5 2 2 0 1-2 -1-4 -2-2zM540 167l-0.5 1 1 4 1.5 2 2 0 1.5-2 0-4 -1.5-2 -2 0zM540 416.5l-1 3.5 3 5.5 2 0.5 1-2 0-2 -3-5.5zM558 348.5l-1 1.5 2 4 1 1.5 2 0 1-3.5 0-2 -3-2zM542 179.5l0.5 4.5 1.5 2 2 0 1.5-2 0-4 -1.5-2 -2 0zM544 428.5l-1 3.5 3 5 2 0.5 1-1.5 -0.5-4 -2.5-3.5zM560 358.5l-1 1.5 1.5 4 1.5 1.5 2 0 1.5-1.5 -0.5-4 -3-1.5zM546 190l-2 2 0.5 4 1.5 2 2 0 1.5-2 0-4 -1.5-2zM544 506.5l-1 1.5 1 4 2 1.5 1-1.5 -1-4zM548 440.5l-0.5 3.5 2.5 5 2 0.5 1-1.5 -0.5-4 -2.5-3.5zM562 477l-1 1 0 4 1 1.5 2 1.5 1.5-1 -0.5-4zM564 370l-1.5 2 1 4 0.5 1 2 0 1-1 0-4 -1-1.5zM548 202l-2 2 0.5 4 1.5 2 2 0 1.5-2 0-4 -1.5-2zM550 520l-2 2 1.5 2 0.5 2 2 0.5 0-2.5zM552 453l0 3 1.5 4 2.5 1.5 1-1.5 0-4 -3-3.5zM566 380.5l-1.5 1.5 0.5 4 1 1.5 2 0 1.5-1.5 -0.5-4 -1-1.5zM550 214l-1.5 2 0 4 1.5 1.5 2 0.5 2-2 -0.5-4 -1.5-2zM554 534l0 2 2 2 0-2.5zM556 465.5l2 6.5 2 1.5 1-1.5 0-4 -3-3zM566 489.5l-1 2.5 0 2 3 3 2-1 -1-4 -1-1.5zM568 392.5l-1 1.5 0 2 1 2.5 2 0.5 1-1 0-4 -1-1.5zM552 226l-1.5 2 0 4 1.5 1.5 2 0.5 2-2 -0.5-4 -1.5-2zM554 801.5l-3.5 2.5 0 2 3.5 3.5 2 0 2-2 0.5-3.5 -2.5-2.5zM570 402.5l-1 1.5 0 4 3 1.5 2-1.5 -1-4 -1-1.5zM554 238l-1.5 2 0 4 1.5 1.5 2 0.5 2-2 -0.5-4 -1.5-1.5zM570 501.5l-1 2.5 0.5 2 2.5 3 2-1 -2-5.5zM572 414.5l-1 1.5 0.5 2 2.5 3 2-1 -0.5-4 -1.5-1.5zM556 250.5l-1.5 1.5 0 4 1.5 1.5 2 0 2-1.5 -0.5-4 -1.5-1.5zM574 514l-1 2 1 2 2 2.5 2 0 -2-6.5zM574 425l-1 1 1.5 4 1.5 1.5 2-0.5 1-1 -1.5-4 -1.5-1.5zM558 262.5l-1.5 1.5 0 4 1.5 1.5 2 0 2-1.5 -0.5-4 -1.5-1.5zM578 526l-0.5 2 0.5 1.5 2 3 2 0 0-2.5 -2-4zM576 438l2 4.5 2 0.5 1-3 -1-2 -2-1.5zM560 274.5l-1.5 1.5 0.5 4 1 1.5 2 0 2-1.5 -0.5-4 -1.5-1.5zM582 538.5l-0.5 1.5 2.5 4 2 0 0-2 -2-3.5zM580 446.5l-2 1.5 1 4 1 1 2 0.5 1-1.5 0-2 -1-2zM562 286.5l-1.5 1.5 0.5 4 1 1.5 2 0 2.5-1.5 -1-4 -1.5-1.5zM582 458.5l-1 1.5 0 2 1 2 2 0.5 1-2.5 0-2 -1-1zM564 298.5l-1.5 1.5 0.5 4 1 1 2 0.5 2.5-1.5 -1-4 -1.5-1.5zM584 469l-1 1 0.5 4 2.5 1 1-1 -0.5-4 -0.5-1zM566 310.5l-1.5 1.5 0.5 4 1 1 2 0.5 2-0.5 0.5-1 -1-4 -1.5-1.5zM586 481l-0.5 3 2.5 2 1-2 0-2 -1-1zM568 322.5l-1 1.5 0 4 3 1.5 2-0.5 0.5-1 -1-4 -1.5-1.5zM588 491.5l0 3.5 2 2 1-1 -0.5-4 -0.5-1zM570 334.5l-1 1.5 0.5 4 2.5 1.5 2-0.5 0.5-1 -1-4 -1.5-1.5zM588 550.5l-2 1.5 2 3.5 2 0 0.5-1.5zM590 503.5l0.5 2.5 1.5 1 1-1 -0.5-2 -0.5-1zM572 346.5l-1 1.5 0.5 4 2.5 1.5 2-0.5 0.5-1 -1-4 -1.5-1.5zM592 514l1.5 4 2.5 0 -2-4.5zM574 358.5l-1 1.5 1 4 2 1.5 2-0.5 0.5-1 -1-4 -1.5-1.5zM592 563l-0.5 1 0.5 2.5 2 0 0-1zM596 525.5l-1 0.5 1 3 2-1zM576 370.5l-1 1.5 1 4 2 1.5 2-0.5 1-1 -1.5-4 -1.5-1.5zM578 382.5l-1 1.5 1.5 4 1.5 1.5 2-0.5 1-1 -1.5-4 -1.5-1.5zM580 395l-1 1 1.5 4 1.5 1.5 2-0.5 1-1 -1.5-4 -1.5-1.5zM582 407l-0.5 1 1 4 1.5 1.5 2-0.5 1-1 -1.5-4 -1.5-1.5zM584 419l-0.5 1 1 4 1.5 1.5 2-0.5 1-1 -1.5-4 -1.5-1.5zM586 431.5l-0.5 0.5 1.5 4 1 1.5 2-0.5 1-1 -1-4 -2-1.5zM588 443.5l1 4.5 1 1.5 2-0.5 1-1 -1-4 -2-1.5zM592 454.5l-2 1.5 1 4 1 1 2 0 1-1 -0.5-2 -0.5-2zM594 467l-1.5 1 0.5 4 1 1 2 0 1-1 -1-4zM596 479l-1.5 1 1 4 0.5 1 2 0 1-1 -1-4zM598 491l-1 1 0.5 4 0.5 1 2 0 0.5-1 -0.5-4zM598 535.5l-0.5 4.5 2.5 0.5 0-2zM600 503.5l-1 0.5 0.5 4 0.5 0.5 2 0 0.5-0.5 -0.5-4zM600 547.5l0 3 2 0 0-1.5zM602 515.5l-0.5 0.5 0 4 2.5 0.5 0-4zM602 558l0 4 2 0 0-3zM604 527.5l-0.5 4.5 2.5 0.5 0-3.5zM606 539.5l0 4.5 2 0 0-2.5zM608 552l0 3.5 2 0.5 0-2zM1120.5 82l85 0 0 2 -13.5 11.5 -16 10 -14 6 -8 1.5 -6 0.5 -10-1.5 -6-3 -4-3.5 -3-3.5 -3-6 -1-6z"/>
<path fill="#40ffb7" d="M205.5 82l52.5 0 0 2 12 21 46 69.5 18 23.5 14 23 4 5.5 2-0.5 0-3.5 -9-24.5 -3-7 -4-14 -5.5-15 -25.5-56 -11.5-22 0-2 32 0 0 2 21.5 48 41 83.5 24 52.5 4 8.5 1.5 1.5 0.5 2 2 1 0-3 -1.5-2 -0.5-4 -21-56 -1-1.5 -2.5-8.5 -1.5-2 -25-72 -17-44 -1-6 19 0 0.5 4 1.5 2 0.5 4 1.5 1.5 0.5 2.5 1.5 2 1 4 1 1 0.5 3 1.5 2 2.5 8 1.5 1.5 0.5 2.5 1.5 3 0.5 3 1.5 1.5 2.5 8.5 1.5 1.5 3 8.5 1 1 0.5 3 1.5 2 2.5 8 1.5 1.5 2.5 8.5 1.5 1.5 3 8.5 1 1 4.5 13 1.5 1.5 0.5 2.5 1.5 2.5 0.5 3.5 1.5 1.5 3 8.5 3 6 2.5 8 1.5 2 2.5 8 1.5 2 2.5 8 1.5 2 3 8 1.5 2 2.5 8 3 6 1 4 3 6 1 4 1.5 2 0 2 1.5 2 1 4 1.5 2 0 2 1.5 2 2.5 8 1.5 2 1 4 3.5 6 0.5 4 3.5 6 2 8 1.5 2 2.5 6 0 2 1.5 2 3 8 1.5 2 0.5 4 3.5 6 2.5 8 1.5 2 2.5 8 3 6 3.5 10 3.5 6 2 8 2 2 2 8 3.5 6 1 4 2 6 3.5 6 0.5 4 4 6 2 8 3.5 6 0.5 4 1.5 2 0.5 2 2 2 0.5 3 1.5 1 0.5 5.5 2 4 2 0.5 0.5-2 0-2 -1.5-2 -0.5-2 -2-2 -1.5-8 -4.5-8 0.5-2 -2-6 -2-2 -0.5-2 -1-2 -0.5-4 -3.5-6 -0.5-2 0.5-2 -1.5-2 -1-4 -2-2 0-2 -1.5-2 0-4 -2-2 -0.5-2 -1.5-2 0-4 -2-2 0-2 -2.5-4 0-2 -1.5-2 -0.5-4 -1-1 -1-3 -1.5-2 0-4 -2-2 0-2 -1.5-2 -1-4 -1.5-2 0-2 -1.5-2.5 -1-3.5 -1.5-2 -0.5-4 -1.5-2 0-2 -2-2 0-2 -2-4 0-2 -2-2 0-2 -2-4 0-2 -1.5-2 -0.5-4 -1.5-1 -0.5-3 -1.5-2 -0.5-4 -1.5-1.5 -0.5-2.5 -1.5-2 -0.5-4 -2-2 -0.5-4 -1-1 -0.5-3 -2-2 0-4 -1.5-1 -0.5-3 -1.5-2 -0.5-4 -1.5-1 -0.5-3 -1.5-2 -0.5-4 -2-2 0-2 -1.5-2.5 -0.5-3.5 -2-2 -2-8 -1.5-2 -1-4 -1-1 -0.5-3 -1.5-2 -1-4 -1-1 -2.5-9 -1.5-1.5 -2.5-8.5 -1.5-1.5 -2.5-8.5 -1.5-2 -1-4 -1-1.5 -2.5-8.5 -1.5-1.5 -2.5-8.5 -1.5-2 -1-4 -1-1.5 -2.5-8.5 -1.5-2 -1-4 -1-1 -0.5-3 -1.5-2.5 -0.5-3.5 -1.5-1.5 -2.5-8.5 -1.5-2 -1-4 -1-1.5 -0.5-2.5 -1.5-2.5 -0.5-3.5 -1.5-1.5 -2.5-8.5 -1.5-2 -0.5-4 -1.5-1.5 -0.5-2.5 -1.5-2.5 -0.5-3.5 -1.5-1.5 -2.5-8.5 -1.5-1.5 -2.5-8.5 -1.5-2 0-4 12 0 0 2 5 12 3 8 1.5 2 2.5 8.5 1.5 1.5 0.5 2.5 1.5 1.5 0.5 3.5 0-6 -1.5-1.5 -0.5-4.5 -1.5-1.5 -0.5-4 -1.5-2 -0.5-3.5 -5-12.5 -1-6 18 0 1 4 27.5 74 1.5 2 2.5 8 1.5 2.5 0.5 3.5 1.5 2 4.5 14 1.5 2 4.5 14 1.5 2 1 4 1 1.5 0.5 2.5 3.5 8.5 0.5 3.5 3.5 7 1 5 3 6 0.5 4 4.5 8 0 4 2 4 1.5 2 0.5 4 2 6 2 2 1.5 8 2.5 4 2 8 3.5 6 0.5 6 4 6 0 4 4.5 8 -0.5 4 2 4 2 2 0.5 2 0 4 1.5 4 2.5 2 0 4 1.5 6 2.5 2 0 4 1 4 1 2 2.5 2 0.5 2 0.5 6 4.5 6 -1 2 0.5 4 5 6 -1 2 0.5 4 2.5 4 2 0.5 1-2.5 0-2 -3-5.5 -2-0.5 1-6 -3-5.5 -1.5-0.5 0.5-6 -2-4 -2.5-2 0.5-4 -0.5-2 -1.5-4 -2-2 0-4 -2-6 -2-2 0-4 -2-6 -2-2 0-4 -1-1.5 -1-4.5 -1.5-2 -0.5-4 -1-1.5 -1-4.5 -1.5-2 -0.5-4 -1-1.5 -1-4.5 -1.5-2 0-4 -1.5-1.5 -0.5-4.5 -1.5-2 0-4 -2-2 4-1.5 0-6.5 -1-2 -3-12 -14.5-48 -4-16 -3.5-16 -3.5-12 -19-60 -3.5-8.5 -0.5-3.5 -1.5-2 -0.5-4 -1.5-2 -0.5-4 -1.5-2 -0.5-4 -1.5-2 0-2 58 0 0 6 2.5 4 -0.5 6 2.5 4 -0.5 6 2 2.5 0.5 7.5 1.5 2 0.5 6 1.5 3 0 5 2 4 0 6 2 4 0.5 8 1.5 2 0.5 8 2 2 0 8 1.5 2 0.5 2 0 6 2 4 0 6 1.5 2 1 6 -0.5 2 1.5 1.5 2 8.5 0.5 6 2 4 0 6 2 4 0 6 0.5 2 2 2 -0.5 4 0.5 4 2 2 -0.5 6 3 6 0 2 -1 2 3 6 0.5 4 -0.5 2 3.5 8 -1.5 2 1 4 2.5 4 -0.5 4 0.5 4 1 1.5 1.5 0.5 0 2 -1 2 0.5 4 1 1.5 1.5 0.5 -0.5 8 3 4 2 0 1-4 -4.5-8 1.5-0.5 1-1.5 -4-8 1.5-2 -1-4 -3-6 1.5-2 -0.5-4 -2-2 -1-2 1-2 0-4 -2.5-4 -0.5-2 1-2 0-4 -2.5-2 0.5-8 -2.5-2 -0.5-2 1-6 -0.5-2 -2.5-2 1-6 -0.5-2 -2-2 -0.5-4 1-2 -3-6 0-6 -3-8 1-2 -1-4 -2-4 0-6 -2.5-6 0.5-6 -2-2 -0.5-2 0.5-6 -2.5-4 0.5-8 -2-2 0-8 -2-2 0-8 -2.5-4 0.5-6 -2-4 -0.5-4 0.5-2 -1.5-2 -1-8 -1-1.5 -1-6.5 -1-2 0-6 -2-4.5 -0.5-9.5 15 0 0 4 2.5 4 -0.5 8 2.5 4 0 8 2 4 0.5 4 -1 2 3 6 0.5 4 -1.5 2 3 6 1 4 -1.5 2 4 10 -2 2 4.5 10 -2.5 2 1 1 0.5 3 2.5 4 0.5 2 -2 2 1 4 3 4 0.5 2 -2 2 0.5 4 1.5 2 2 0 0 2 0-2 2-2 -0.5-4 -1.5-2 -1.5 0 -0.5-4 1.5-2 0-4 -1.5-2 -1 0 -0.5-2 0-2 1-2 0-4 -1.5-2 -1 0 -0.5-2 0-2 1-2 0-4 -2-2 -1-2 0-2 1-2 0-4 -2-2 -0.5-2 -0.5-2 1-2 0-4 -2-2 -0.5-2 0.5-8 -2-2 -0.5-2 0.5-8 -1.5-2 -1-2 0.5-8 -1.5-2 -0.5-2 0-10 107.5 0 0 58 0.5 4 0.5 68 0.5 4 1 74 1 4 2.5 94 0.5 12 1 2 0.5 30 1.5 16 1.5 40 0.5 4 1 28 0.5 2 1 12 2.5 68 1 4 1 28 1 4 1 22 -0.5 4 -0.5 46 -1 12 -0.5 12 -2.5 18 -3 8 -1.5 8 -2 0 -2-7.5 -2-2.5 -4 2 -3 12 -1 9.5 -2 0.5 -3 12 -1 18 -1 2 -1 6 -4.5 10 -3.5 11 -2.5 3 -1.5 8 -2 4.5 -2 0.5 -2 3 -6 3.5 -2-3.5 -2 4 -8 3.5 -2-1.5 -2 2.5 -8 0.5 -4-3.5 -2 2 -2 0 -2-2 -6 0 -2 2 -2-2 -10 0 -2 2 -2-0.5 -2-3 -2 1.5 -2-2 -6-0.5 -2-2.5 -2 4 -2 2 -2-5 -2-2 -2 0 -2-2 -4 0 -2 2 -2 0 -2-4.5 -2 0.5 -4 4 -2-2 -2 0 -2 2 -4-4 -4 0 -2 2 -2-2 -2 2 -4-0.5 -2-2 -4 0.5 -4 4 -2-2 -2 2 -2-2 -10 0 -2-2 -2 2 -2 0 -2 2 -2 0 -2 1 -2-2 -2 1 -2-2 -8 0 -2-2 -2 2 -2 0 -2 2 -2-2 -4 0 -2 2 -2 0 -4-4 -2 4 -2 0 -2 2.5 -2 5.5 -2 0.5 -2 2 -4 0 -1-6 -3-8 -2 2 -2 0 -4-0.5 -2-2 -2 2 -2 6.5 -2 2 -2-2 -2 0 -2 2 -2 0 -2-2.5 -2 0 -4 4 -4-4 -2 0.5 -2-8 -1-10 -1-2 -1-20 -1-3 -2-0.5 -2-4 -2 2 -2-0.5 -2-2 -16-2 -2 1 -6-0.5 -8-2 -2-1.5 -2-0.5 -2 0.5 -3-1 -3-2 -2 0.5 -2-1.5 -4 0.5 -6-2.5 -2-1.5 -2-0.5 -2 1 -4-1 -8-3.5 -10-3 -16-7.5 -3.5-1 -2-2 0-2 -13.5-30 -9.5-60 -4.5-60 7.5-50 -2.5-100 -7-44 -5-56 0-100 5.5-58 3.5-22 4-20zM512 836l-2 1.5 -1.5 2.5 2 6 3.5 2.5 4 0 2-1 2-2.5 1-3 0-2 -1-2 -4-3.5 -4 0zM540 416l-1 4 3 5.5 2 0.5 1-2 0-2 -3-5.5zM556 336l-1.5 2 1 4 2.5 2 2 0 1.5-2 -0.5-2 -3-4zM548 202l-2 2 0.5 4 1.5 2 2 0 2-2 -0.5-4 -1.5-2zM616 816l-0.5 2 0.5 2 2-1.5 1-2.5 -1-1zM544 428l-1 4 3 5.5 2 0.5 1-2 -0.5-4 -2.5-3.5zM560 347.5l-2 0.5 -1 2 3 5.5 2 0 1-1.5 0-4zM550 214l-2 2 0.5 4 1.5 2 2 0 2-2 -0.5-4 -1.5-2zM544 506l-1.5 2 1.5 4 2 1.5 1-1.5 -1-4zM548 440.5l-0.5 3.5 2.5 5 2 1 1-2 -0.5-4 -2.5-3.5zM560 358.5l-1 1.5 1.5 4 1.5 2 2 0 1.5-2 -0.5-4 -3-2zM552 226l-1.5 2 0 4 1.5 2 2 0 2-2 -0.5-4 -1.5-2zM548 519.5l0 2.5 1.5 2 0.5 2 2 0.5 0.5-2.5 -2.5-4zM552 452.5l-0.5 1.5 2 6 2.5 1.5 1.5-1.5 -0.5-4 -3-3.5zM562 477l-1.5 1 0.5 4 1 2 2 1.5 1.5-1.5 -0.5-4zM564 370l-2 2 1 4 1 1 2 0.5 1-1.5 0-4 -1-1.5zM554 238l-1.5 2 0 4 1.5 1.5 2 0.5 2-2 -0.5-4 -1.5-2zM554 533.5l0 3 2 2 0-4.5zM556 465l1.5 7 2.5 1.5 1.5-1.5 -0.5-4 -3-3.5zM566 380.5l-1.5 1.5 0 4 1.5 1.5 2 0 1.5-1.5 -0.5-4 -1-1.5zM556 250l-1.5 2 0 4 1.5 1.5 2 0.5 2-2 -0.5-4 -1.5-2zM554 801.5l-2 0.5 -2 2 0 2 4 4 1.5 0 1 4 3.5 4.5 4 3 2-1.5 -2-4 -6-6 -0.5-2 1-2 0-2 -2.5-2.5zM566 489l-1 1 0 4 3 3 2-1 -1-4 -1-1.5zM568 392l-1.5 2 0 2 1.5 2.5 2 0.5 1.5-1 -0.5-4 -1-1.5zM558 262l-1.5 2 0 4 1.5 1.5 2 0.5 2.5-2 -1-4 -1.5-2zM570 501.5l-1 2.5 0.5 2 2.5 3 2-0.5 -2-6.5zM570 402.5l-1.5 1.5 0.5 4 3 1.5 2-1.5 -1-4 -1-1.5zM560 274l-1.5 2 0 4 1.5 1.5 2 0.5 2.5-2 -1-4 -1.5-2zM574 513.5l-1 2.5 1 2 2 3 2-0.5 0-1.5 -2-5zM572 414.5l-1 1.5 0 2 3 3 2-0.5 0-2.5 -0.5-2 -1.5-1.5zM562 286l-1.5 2 0.5 4 1 1.5 2 0.5 2.5-2 -1-4 -1.5-2zM578 526l-0.5 2 0.5 1.5 2 3 2 0 0-2.5 -2-4zM574 424.5l-1 1.5 1.5 4 1.5 1.5 2 0 1-1.5 -1.5-4 -1.5-1.5zM564 298l-1.5 2 0.5 4 1 1.5 2 0 2-0.5 0.5-1 -1-4 -1.5-1.5zM582 538l-0.5 2 2.5 4.5 2 0 0.5-2.5 -2.5-4zM576 437.5l1.5 4.5 0.5 1 2 0 1-3 -0.5-2 -2.5-1.5zM566 310.5l-1.5 1.5 0.5 4 1 1 2 0.5 2-0.5 0.5-1 -1-4 -1.5-1.5zM586 551.5l2 4.5 2 0 0.5-2 -2.5-3.5zM580 446.5l-2 1.5 1 4 1 1.5 2 0 1-1.5 0-2 -0.5-2zM568 322.5l-1.5 1.5 0.5 4 3 1.5 2-0.5 0.5-1 -1-4 -1.5-1.5zM582 458.5l-1.5 1.5 0.5 2 1 2 2 0.5 1-2.5 0-2 -1-1zM570 334.5l-1.5 1.5 1 4 2.5 1.5 2-0.5 1-1 -1.5-4 -1.5-1.5zM584 469l-1 1 0.5 4 2.5 1.5 1-1.5 0-4 -1-1zM572 346.5l-1 1.5 0.5 4 2.5 1.5 2-0.5 1-1 -1.5-4 -1.5-1.5zM586 481l-0.5 1 0 2 2.5 2 1-2 0-2 -1-1.5zM574 358.5l-1 1.5 0.5 4 2.5 1.5 2-0.5 1-1 -1.5-4 -1.5-1.5zM588 491.5l0 4 2 1.5 1-1 0-4 -1-1zM576 370.5l-1 1.5 1 4 2 1.5 2 0 1-1.5 -1.5-4 -1.5-1.5zM590 503.5l0 1.5 2 2.5 1-1.5 -0.5-2 -0.5-1zM578 382.5l-1 1.5 1 4 2 1.5 2 0 1-1.5 -1.5-4 -1.5-1.5zM592 514l1.5 4 0.5 0.5 2-0.5 -2-4.5zM580 394.5l-1 1.5 1.5 4 1.5 1.5 2 0 1-1.5 -1.5-4 -1.5-1.5zM592 563l-1 1 1 3 2 0 0-1.5zM596 525.5l-1 0.5 1 3 2-1zM582 407l-1 1 1.5 4 1.5 1.5 2 0 1-1.5 -1.5-4 -1.5-1.5zM598 535.5l-0.5 0.5 0 4 2.5 0.5 0-2.5zM584 419l-0.5 1 1 4 1.5 1.5 2 0 1-1.5 -1-4 -2-1.5zM600 547.5l0 3.5 2 0 0-2.5zM586 431l-0.5 1 1 4 1.5 1.5 2 0 1-1.5 -1-4 -2-1.5zM602 557.5l0 4.5 2 0.5 0-3.5zM588 443.5l-0.5 0.5 1.5 4 1 1.5 2 0 1-1.5 -1-4 -2-1.5zM604 570l0 1 2 1 0-2zM590 456l1 4 1 1.5 2 0 1-1.5 -1-4 -2-1.5zM594 466.5l-1.5 1.5 0.5 4 1 1 2 0 1-1 -1-4zM596 479l-1.5 1 0.5 4 1 1 2 0 1-1 -1-4zM598 491l-1 1 0.5 4 0.5 1 2 0 1-1 -1-4zM600 503l-1 1 0.5 4 0.5 0.5 2 0.5 0.5-1 -0.5-4zM602 515.5l-0.5 0.5 0 4 0.5 0.5 2 0 0.5-0.5 -0.5-4zM604 527.5l-0.5 0.5 0 4 2.5 0.5 0-4zM606 539.5l0 4.5 2 0.5 0-3.5zM608 552l0 4 2 0 0-2.5zM1130.5 82l67.5 0 0 2 -12 9.5 -12 6.5 -12 4 -10 1 -6-1 -4-1.5 -6-4.5 -2.5-4 -2-4z"/>
<path fill="#46ffb1" d="M207.5 82l50 0 0 2 12.5 22 44 67 12 17 10 12 14 23 4 5 2-0.5 0-3 -10-27 -4-14 -7-19.5 -27.5-62 -10.5-20 0-2 29.5 0 0.5 4 22.5 48 40.5 83 28 60.5 4 7 2 0.5 0-2 -3.5-11 -17-46 -1.5-2 -32-90.5 -8-25 0-2.5 -1.5-2 -0.5-4 -1-2 -1-4 -3-8 -0.5-4 15.5 0 0 4 2 3 0.5 3 1.5 1.5 0 2.5 2 2.5 0.5 3.5 1.5 1.5 0 2.5 2 2 0.5 4 1.5 1.5 0.5 2.5 1.5 2 0.5 4 1.5 1.5 0.5 2.5 1.5 2 2.5 8 1.5 1.5 2.5 8.5 1.5 1.5 0.5 2.5 1.5 2 1 4 1 1 0.5 3 1.5 2 2.5 8 1.5 1.5 2.5 8.5 1.5 1.5 0.5 2.5 1.5 2 1 4 1 1 0.5 3 1.5 2 2.5 8 1.5 1.5 2.5 8.5 1.5 1.5 3 8.5 3 6 2.5 8 1.5 2 2.5 8 1.5 2 2.5 8 1.5 2 3 8 1 1.5 0.5 2.5 1.5 2.5 0.5 3.5 1.5 1.5 0.5 2.5 1.5 2 1 4 1.5 2 0 2 1.5 2 1 4 1.5 2 0 2 1.5 2 2.5 8 1.5 2 1 4 3 6 1 4 3.5 6 2 8 1.5 2 2.5 6 0 2 1.5 2 3 8 1.5 2 0.5 4 3.5 6 0.5 4 1.5 2 0.5 2 1.5 2 2 6 0.5 2 4 8 2.5 8 3 6 1 4 1 2 0.5 2 1.5 2 2.5 8 3.5 6 3 10 3.5 6 0.5 4 3.5 6 2 8 4 6 0.5 4 2.5 5.5 1 0.5 1 3 1 1 1 6 2 3.5 1.5 0.5 0.5 2.5 0.5-0.5 0-6 -1.5-2 -0.5-2 -2-2 -1.5-8 -4-8 -0.5-4 -1-2 -0.5-2 -2-2 -1.5-8 -4.5-8 0.5-2 -1.5-2 -1-4 -2-2 0-2 -1.5-2 0-4 -2-2 -0.5-2 -1.5-2 0-4 -2-2 -0.5-4 -1.5-2 -0.5-2 -1.5-2 0-4 -1.5-1 -0.5-3 -2-2 0-4 -2-2 0-2 -1.5-2 -1-4 -1.5-2 0-2 -0.5-2 -1-0.5 -0.5-3.5 -2-2 -0.5-4 -1-0.5 -0.5-3.5 -2-2 0-2 -2-4 0-2 -1.5-2 -1-4 -1-0.5 -0.5-3.5 -1.5-2 -0.5-4 -2-2 0-2 -1.5-2 -0.5-4 -2-2 0-2 -1.5-2 -0.5-4 -2-2 0-4 -1.5-1 -0.5-3 -1.5-2 -0.5-4 -1.5-1 -0.5-3 -1.5-2 -0.5-4 -1.5-1 -0.5-3 -1.5-2 -0.5-4 -1.5-1.5 -1-4.5 -1-0.5 -0.5-3.5 -1.5-2 -2.5-8 -1.5-2 -0.5-4 -1.5-1 -0.5-3 -1.5-2 -0.5-4 -1.5-1.5 -2.5-8.5 -1.5-1.5 -2.5-8.5 -1.5-2 -1-4 -1-1 -0.5-3 -1.5-2 -0.5-4 -1.5-1.5 -2.5-8.5 -1.5-2 -1-4 -1-1.5 -0.5-2.5 -1.5-2.5 -0.5-3.5 -1.5-1.5 -2.5-8.5 -1.5-2 -0.5-4 -1.5-1.5 -2.5-8.5 -1.5-1.5 -1-4.5 -1-1 -0.5-3 -1.5-2 -0.5-4 -1.5-1.5 -2.5-8.5 -1.5-2 -0.5-4 -1.5-1.5 -0.5-2.5 -1.5-2.5 -0.5-3.5 -1.5-1.5 0-2.5 -2-3 -0.5-3 -1.5-2 -0.5-4 -1.5-1.5 0-2.5 -2-2 -0.5-4 -1.5-1.5 0-2.5 -2-3 0-3 10.5 0 0 2 2.5 6 16 38 3 8 1 2 3 8 1.5 2 2.5 8 1.5 2 0.5 2.5 1.5 1.5 0.5 2.5 0-5 -1.5-1.5 -0.5-4.5 -1.5-1.5 -0.5-4 -1.5-2 -0.5-3.5 -5-12.5 -15.5-46 0-2 15.5 0 0 2 35.5 92 1.5 2.5 4.5 13.5 1.5 2 1 4 1 1.5 2.5 8.5 1.5 2.5 0.5 3.5 1.5 1.5 1 4.5 3 7 0.5 3 3.5 7.5 1 4.5 1.5 2 1.5 4 0.5 4 4 8 0.5 4 3.5 6 2.5 10 1.5 2 2 8 2.5 4 1.5 8 3.5 6 1 6 3.5 6 0 4 4.5 8 0 4 2 4 1.5 2 1 2 -0.5 4 2 4 2 2 0 4 2 6 2.5 2 0 4 1 4 1 2 2 2 1 8 4.5 6 0 6 4.5 6 -1 4 0.5 2 5 6 -1 4 3 5.5 1.5 0.5 0.5 2 -1 4 3 5.5 2 0.5 1-2 0.5-2 -3.5-6 -1.5 0 -0.5-2 1-2 0-2 -3-6 -1 0 -0.5-2 0.5-4 -3-5.5 -1-0.5 -0.5-2 0.5-4 -3-5.5 -1-0.5 0-6 -2-4 -2-2 0-6 -2-4 -2-2 -0.5-6 -1.5-4 -1.5-2 0-4 -1.5-2.5 -1-3.5 -1.5-2 0-4 -1.5-2 -0.5-4 -2-2 0-4 -1.5-1.5 -0.5-4.5 -2-2 0-4 -1.5-1.5 -0.5-4.5 -1.5-2 0-4 -1-2 3-1 0-6.5 -1-2.5 -3-12 -19-62 -8.5-36 -21-66 -5.5-14.5 -0.5-3.5 -1.5-2.5 -0.5-3.5 -1.5-2.5 -0.5-3.5 -1.5-2 0-2 47 0 1 7 1.5 3 2.5 11.5 6 15.5 2 1 4-0.5 0 0.5 2 1.5 0.5 8.5 1.5 1 0.5 7 1.5 2.5 0.5 7.5 1.5 1 0 7 2 3 0 7 2 2.5 0 7.5 2 4 0 6 2.5 4 0 6 1.5 2.5 0.5 7.5 1.5 2 1 6 1 2.5 0.5 5.5 1.5 4 0 6 2.5 4 0 6 0.5 2 1.5 2 0 8 2 2 0.5 8 2 4 -0.5 4 2.5 6 0.5 4 -0.5 2 3.5 8 -1 2 1 4 2 4 0.5 8 2 2 0.5 2 -1 2 0 4 1.5 1.5 1.5 0.5 -1 8 3.5 4 0 2 -1.5 2 0.5 2 0.5 2 2.5 2 2 0 1.5-2 -0.5-2 -3-4 1-6 -2.5-4 -1-4 1.5-2 -2.5-6 -0.5-2 0.5-2 -3.5-10 1-2 -0.5-4 -2.5-4 0.5-6 -2.5-4 0-2 0.5-2 0-4 -2.5-2 0.5-8 -2-2 -0.5-2 0.5-6 -0.5-2 -2-2 0.5-6 -0.5-2 -2-2 -0.5-4 1-2 -2.5-6 0-6 -1-1 -2-7 1-2 -1-1 -0.5-3 -1.5-4 -0.5-6 -2-6 0-6 -2-4 0-6 -2-4 0-8 -2-2 0-8 -2-2 0-8 -2-4 0-6 -2-4 0-6 -1.5-2.5 -0.5-7.5 -1.5-2.5 -2.5-15.5 -1.5-4 -0.5-8 14.5 0 0.5 6 2 2 0 8 0.5 2 1.5 2 0 8 2.5 4 -0.5 8 2.5 4 0.5 4 -1 2 2.5 6 0.5 4 -1 2 2.5 6 1 4 -1.5 2 1.5 2 2.5 8 -1.5 2 1 1.5 3 8.5 -2 2 1 1 0.5 3 2.5 6 -2 2 1 1 0.5 3 3 6 -2 2 1 4 2.5 4 0.5 2 -1.5 2 0.5 4 1.5 2 1 0 0.5 2 0.5 2 -2 2 0.5 4 1.5 2 1.5 0 0.5 4 -1.5 2 0 4 1.5 2 2 0 2.5-2 -1-4 -1.5-2 -1.5 0 -0.5-2 0-2 2-2 -0.5-4 -3-4 0-2 1.5-2 -0.5-4 -2.5-4 -0.5-2 1.5-2 -0.5-4 -2.5-4 -0.5-2 1.5-2 -0.5-4 -2.5-4 -0.5-2 1.5-2 -0.5-4 -1.5-2 -1-4 1-2 -0.5-4 -1.5-2 -1-4 1-2 -0.5-4 -1-2 -1.5-4 1-2 -0.5-4 -1-2 -1.5-4 0.5-6 -2-4 0-8 -2-6 0.5-6 -2-4 0-8 -2.5-6 0.5-8 107 0 0 58 0.5 4 0 68 1 4 1 74 0.5 4 3 94 0.5 12 1 2 0.5 30 0.5 12 1 4 1.5 40 0.5 4 1 28 0.5 2 0.5 12 3 68 1 4 1 28 2 18 -0.5 50 -3 39 -1.5 11 -3.5 8 -1 7.5 -2 0 -2-7.5 -2-2 -4 1.5 -3 12.5 -1 9 -2 1 -3 12 -1 18 -1 2 -1 6 -4.5 10 -3.5 10.5 -2.5 3.5 -1.5 8 -2 4 -2 1 -2 3 -6 3 -2-3 -2 3.5 -8 3.5 -2-1 -2 2.5 -8 0.5 -4-3.5 -2 2 -2-0.5 -2-1.5 -6-0.5 -2 2.5 -2-2 -10 0 -2 2 -2-1 -2-2.5 -2 1.5 -2-2 -6-0.5 -2-2.5 -2 4 -2 1.5 -2-5 -2-1.5 -2 0 -2-2.5 -4 0 -2 2.5 -2 0 -2-4.5 -2 0 -4 4.5 -2-2 -2 0 -2 2 -4-4 -4 0 -2 2 -2-2 -2 1.5 -4 0 -2-2 -4 0 -4 4 -2-2 -2 2 -2-2 -10 0 -2-2 -2 2 -2 0 -2 2 -2 0.5 -2 1 -2-2.5 -2 1 -2-2 -8 0 -2-2 -2 2 -2 0 -2 2 -2-2 -4 0 -2 2 -2 0 -4-4 -2 4 -2 0 -2 3 -2 5.5 -2 0 -2 2 -4 0 -1-5.5 -3-8 -2 1.5 -2 0 -4-0.5 -2-2 -2 2.5 -2 6 -2 2 -2-2 -2 0 -2 2 -2 0 -2-2 -2-0.5 -4 4 -4-4 -2 1 -2-8 -1-10 -1-2 -1-20 -1-3.5 -2 0 -2-4 -2 1.5 -2-0.5 -2-2 -16-1.5 -2 1 -6-1 -8-1.5 -2-2 -2-0.5 -2 0.5 -2.5-0.5 -3.5-2 -2 0.5 -2-1.5 -4 0.5 -6-2.5 -2-2 -2-0.5 -2 1 -4-1 -8-3.5 -10-3 -17-8 -1-2 0-2 -14-30 -3.5-26 -6-34 -4-60 4-24 3-26 -3-100 -3.5-20 -3.5-24 -5.5-56 0-100 3-32 3-26 3.5-22 4.5-20zM512 835.5l-2 1.5 -1.5 3 0 4 1 2 2 2 2.5 1 4 0 2-1 3-4 0.5-4 -1-2 -4.5-3.5 -4 0zM544 506l-1.5 2 1 4 2.5 2 1-2 -0.5-4zM548 440l-1 4 3 5.5 2 0.5 1.5-2 -0.5-4 -3-4zM558 347l-1 3 0.5 2 2.5 4 2 0 1-2 0-4 -2.5-2 -0.5-1.5zM556 250l-1.5 2 0 4 1.5 2 2 0 2.5-2 -1-4 -1.5-2zM620 811.5l-2 1.5 -4 5 -2 4 2 2 6-7.5 1-4.5zM546 799.5l2 4.5 12 15.5 6 6 2 1 1-0.5 1-2 -6-8.5 -6-6 -0.5-1.5 1-2 0.5-2 -1-1 -2-1.5 -5 0.5 -3-2.5zM548 519l0 3 1.5 2 0.5 2 2 1 0.5-3 -2.5-4.5zM552 452l-0.5 2 2 6 2.5 2 1.5-2 -0.5-4 -3-4zM560 358.5l-1 1.5 1.5 4 1.5 2 2 0 1.5-2 -0.5-4 -3-2zM558 262l-1.5 2 0 4 1.5 1.5 2 0.5 2.5-2 -1-4 -1.5-2zM554 533.5l0 3 2 2 0.5-0.5 -0.5-4zM556 464.5l-0.5 1.5 2 6 2.5 1.5 1.5-1.5 -0.5-4 -3-3.5zM562 476.5l-2 1.5 1 4 1 2 2 1.5 2-1.5 -1-4zM564 370l-2 2 1 4 1 1.5 2 0 1-1.5 0.5-4 -1.5-1.5zM560 274l-1.5 2 0 4 1.5 1.5 2 0.5 2-1 0.5-1 -1-4 -1.5-2zM566 380l-1.5 2 0 4 1.5 1.5 2 0 1.5-1.5 -0.5-4 -1-1.5zM562 286l-1.5 2 0 4 1.5 1.5 2 0.5 2-1 0.5-1 -1-4 -1.5-2zM566 489l-1 1 0 4 3 3.5 2-1.5 -1-4 -1-2zM568 392l-1.5 2 0 2 1.5 2.5 2 1 1.5-1.5 0-4 -1.5-2zM564 298l-1.5 2 0 4 1.5 1.5 2 0.5 2-1 0.5-1 -1-4 -1.5-2zM570 501l-1 3 0.5 2 2.5 3 2 0 0.5-1 -1.5-4 -1-2zM570 402.5l-1.5 1.5 0.5 4 1 1 2 0.5 2.5-1.5 -1.5-4 -1-1.5zM566 310l-1.5 2 0.5 4 1 1.5 2 0.5 2-1 1-1 -1.5-4 -1.5-2zM574 513.5l-1 2.5 0.5 2 2.5 3 2 0 0-2.5 -2-4.5zM572 414.5l-1.5 1.5 0.5 2 3 3 2-0.5 0.5-2.5 -1-2 -1.5-1.5zM568 322l-1.5 2 0.5 4 1 1 2 1 2-0.5 1-1.5 -1.5-4 -1.5-2zM578 525.5l-1 2.5 1 1.5 2 3 2 0 0-2.5 -2-4zM574 424.5l-1 1.5 1.5 4 1.5 1.5 2 0 1-1.5 -1.5-4 -1.5-1.5zM570 334l-1.5 2 0.5 4 3 2 2-0.5 1-1.5 -1.5-4 -1.5-2zM582 538l-0.5 2 2 4 2.5 0.5 0.5-2.5 -2.5-4zM576 437.5l-0.5 0.5 2 4 0.5 1 2 0 1-3 -0.5-2 -2.5-1.5zM572 346.5l-1.5 1.5 1 4 2.5 1.5 2 0 1-1.5 -1.5-4 -1.5-1.5zM586 550.5l0 1.5 2 4 2 0.5 0.5-2.5 -2.5-4zM578 448l1 4 1 1.5 2 0 1-1.5 -0.5-4 -2.5-1.5zM574 358.5l-1.5 1.5 1 4 2.5 1.5 2 0 1-1.5 -1.5-4 -1.5-1.5zM582 458.5l-1.5 1.5 0.5 2 1 2 2 1 1-3 0-2 -1-1zM576 370.5l-1 1.5 1 4 2 1.5 2 0 1-1.5 -1.5-4 -1.5-1.5zM584 469l-1 1 0.5 4 0.5 1 2 0.5 1-1.5 0-4 -1-1zM578 382.5l-1 1.5 1 4 2 1.5 2 0 1-1.5 -1.5-4 -1.5-1.5zM586 481l-0.5 1 0 2 2.5 2.5 1-2.5 0-2 -1-1.5zM580 394.5l-1 1.5 1 4 2 1.5 2 0 1-1.5 -1-4 -2-1.5zM588 491.5l-0.5 0.5 0.5 4 2 1 1.5-1 -0.5-4 -1-1zM582 406.5l-1 1.5 1.5 4 1.5 1.5 2 0 1-1.5 -1-4 -2-1.5zM590 503.5l0 2 2 2 1-1.5 0-2 -1-1zM584 419l-1 1 1.5 4 1.5 1.5 2 0 1-1.5 -1-4 -2-1.5zM592 513.5l1 4.5 1 0.5 2 0 -2-5.5zM586 431l-0.5 1 1 4 1.5 1.5 2 0 1-1.5 -1-4 -2-1.5zM592 562.5l-1 1.5 1 3 2 0.5 0-2.5zM596 525.5l-1.5 0.5 1.5 3 2-0.5 0-1zM588 443l-0.5 1 1.5 4 1 1.5 2 0 1-1.5 -1-4 -2-1.5zM598 535.5l-1 0.5 0.5 4 0.5 0.5 2 0 0-2.5zM590 455.5l1 4.5 1 1.5 2 0 1-1.5 -0.5-4 -2.5-1.5zM600 547.5l-0.5 0.5 0.5 3 2 0 0-3zM594 466.5l-2 1.5 1 4 1 1.5 2 0 1-1.5 -0.5-4zM602 557.5l-0.5 4.5 2.5 0.5 0-4zM596 479l-1.5 1 0.5 4 1 1 2 0 1-1 -0.5-4zM604 570l0 2 2 0 0-2zM598 491l-1 1 0.5 4 0.5 1 2 0 1-1 -0.5-4zM600 503l-1 1 0.5 4 0.5 1 2 0 0.5-1 -0.5-4zM602 515.5l-1 0.5 0.5 4 0.5 0.5 2 0 0.5-0.5 -0.5-4zM604 527.5l-0.5 0.5 0 4 2.5 0.5 0-4.5zM606 539.5l-0.5 4.5 2.5 0.5 0-4zM608 551.5l0 4.5 2 0 0-3zM1141 82l47.5 0 0 2 -6.5 4.5 -8 4 -8 3 -8 0.5 -6-1 -6-3 -4-6zM506.5 112l1.5 0 0 5.5z"/>
<path fill="#50ffa7" d="M210 82l47 0 0 2 13 23 41 63 17 24 10 12 14 23 2 3 2 1.5 2-0.5 0-2 -8-22.5 -7.5-24.5 -11.5-30 -15-34 -8-20 0-4 14-4 6 0.5 2 2 4 8 29 61.5 31 62 26 56 4 7 2 0 0-1 -1.5-6 -19-52 -1.5-2 -20-58 -1-4 -1-1.5 -1-4.5 -1-1.5 -0.5-2.5 -1.5-3.5 -2-13 -1-1.5 -1-4 -1-2 -1-4 -8-22 -1-4 -1.5-2 -0.5-4 -1-1.5 0-1.5 12 0 2 1 0 4 2 1.5 0 2.5 2 2 0.5 4 1.5 1.5 0 2.5 2 2 0 2 2 3 0.5 3 1.5 1.5 0 2.5 2 2 0.5 4 1.5 1.5 0.5 2.5 1.5 2 2.5 8 1.5 1.5 0 2.5 2 2.5 0.5 3.5 1.5 1.5 0.5 2.5 1.5 2 0.5 4 1.5 1.5 0.5 2.5 1.5 2 2.5 8 1.5 1.5 2.5 8.5 1.5 1.5 0.5 2.5 1.5 2 2.5 8 1.5 2 2.5 8 1.5 1.5 2.5 8.5 1.5 1.5 0.5 2.5 1.5 2 1 4 1 1 0.5 3 1.5 2 1 4 3 6 1 4 1 1 0.5 3 1.5 2 2.5 8 1.5 2 2.5 8 1.5 1.5 0.5 2.5 1.5 2.5 0.5 3.5 2 2 2.5 8 1.5 2 0 2 4 8 0 2 1.5 2 1 4 3 6 1 4 3 6 2.5 8 1.5 2 2.5 6 0 2 1.5 2 3 8 1 2 1 4 3.5 6 0.5 4 1.5 2 0 2 2 2 2 6 0 2 4 8 2.5 8 3.5 6 0.5 4 1.5 2 0.5 2 1.5 2 2.5 8 3 6 3.5 10 3.5 6 0.5 4 3.5 6 2 8 4 6 0 4 3 5.5 1 0.5 3 10 2 3.5 1 0.5 2.5 10 2.5 2.5 1.5-2.5 -1-4 -2.5-2 0-2 -1.5-2 0.5-4 -2-2 0-2 -2-2 -2.5-10 -1.5-2 -0.5-2 -1.5-2 0-4 -1.5-2 -0.5-2 -2-2 -1.5-8 -4.5-8 0.5-2 -1.5-2.5 -0.5-3.5 -2-2 0-2 -2-2 0-4 -2-2 0-2 -1.5-2 -0.5-4 -1.5-2 -1-4 -1-0.5 -0.5-3.5 -2-2 0-4 -1.5-1 -0.5-3 -2-2 0-4 -1.5-1.5 -0.5-2.5 -1.5-2 -0.5-4 -2-2 0-4 -1.5-1 -0.5-3 -2-2 0-4 -1.5-1 -0.5-3 -2-2 -0.5-4 -1-0.5 -0.5-1.5 0-2 -1.5-2 -0.5-4 -1.5-1 -0.5-3 -1.5-2 -0.5-4 -2-2 0-2 -1.5-2 0-4 -2.5-2 -0.5-4 -1-0.5 -0.5-3.5 -1.5-2 0-4 -2-1 -0.5-3 -1.5-2 0-4 -2-1.5 0-2.5 -2-2 -0.5-4 -1.5-1.5 -1-4.5 -1-0.5 -0.5-3.5 -1.5-2 -0.5-4 -1.5-1 -0.5-3 -1.5-2 -0.5-4 -1.5-1 -0.5-3 -1.5-2 -0.5-4 -1.5-1.5 -0.5-2.5 -1.5-2.5 -0.5-3.5 -1.5-1.5 -1-4.5 -1-1 -0.5-3 -1.5-2 -0.5-4 -1.5-1 -0.5-3 -1.5-2 -0.5-4 -1.5-1.5 -0.5-2.5 -1.5-2.5 -0.5-3.5 -1.5-1.5 -2.5-8.5 -1.5-2 -0.5-4 -1.5-1.5 -2.5-8.5 -1.5-2 -0.5-4 -1.5-1.5 -0.5-2.5 -1.5-2.5 -0.5-3.5 -1.5-1.5 -2.5-8.5 -1.5-2 -0.5-4 -1.5-1.5 0-2.5 -2-3 -0.5-3 -1.5-2 -0.5-4 -1.5-1.5 0-2.5 -2-2.5 -0.5-3.5 -1.5-1.5 -0.5-4.5 -1.5-1.5 0-2.5 -2-2 -0.5-4 -1.5-1.5 0-2.5 -2-2.5 0-3.5 -2-2 0-4 -2-2 0-1 8 0 2 1 0 2 2 2.5 1 3.5 1 1 0.5 3 1.5 2 1 4 3 6 23 56 1 4 1.5 2 2.5 8 1.5 2 0.5 3 1 1 1 4 2 2 0 2 2 1.5 0-1.5 -2-2 0-4 -1.5-2 -0.5-3.5 -1.5-2.5 -2.5-8 -1-2 -1-4 -1-2 -18-52 -1.5-2 -0.5-4 -3-6.5 -0.5-3.5 -1.5-2.5 -0.5-3.5 -1.5-2 0-3 2 0 0-1 0-4 -1.5-2 0-4 7 0 0.5 4 1.5 2 0.5 2.5 2 1.5 0 1 2 1 0 2 2 2.5 1 3.5 1 1 0.5 3 1.5 2 1 4 31 78 2.5 8 1.5 2 1 4 3 7 0.5 3 1.5 2 0.5 4 1.5 1.5 2.5 8.5 3.5 8 0.5 4 1.5 2 2 4.5 0.5 3.5 4 8 0.5 4 3 6 3 10 1.5 2 2 8 2.5 4 1.5 8 3.5 6.5 1 5.5 3.5 6 0 4 4.5 8 0 4 4 8 0 4 2 4 2 2 0 4 2 6 2 2 0.5 4 2 6 2 2 1 8 3 4 1.5 8 4 6 0 6 4.5 6 -1 4 5 8 -0.5 4 3 5.5 1.5 0.5 0.5 2 -1 4 3 5.5 2 0.5 -0.5 4 1.5 6 3 2 1.5-2 -0.5-4 -4.5-6 1-2 -0.5-4 -4.5-6 1-2 -0.5-4 -4.5-6 1-4 -5-8 1-4 -5-8 0.5-4 -4-8 0-4 -3.5-6 -0.5-6 -1-1 -0.5-3 -2-2 -0.5-6 -1-1 -0.5-3 -2-2 0-4 -1.5-3 -0.5-3 -2-2 0-4 -1.5-2.5 -0.5-3.5 -1.5-2 -0.5-4 -1.5-2.5 0-3.5 -2-2 0-6 2-0.5 0.5-1.5 -0.5-5.5 -1-2.5 -1-5 -24.5-81 -5.5-24 -3.5-12 -19.5-62 -11-31.5 -1-6.5 44.5 0 0.5 3.5 16 61 14 40 3.5 7.5 0.5 4 2 2 0 6 0.5 2 1.5 1.5 0.5 6.5 1.5 2.5 0.5 5.5 1.5 3 0 5 2 4 0.5 8 1.5 2 0.5 8 2 2 0 8 2.5 4 -0.5 4 2.5 6 0 6 1 1.5 2 6.5 -0.5 2 1 4 2 6 0.5 6 1.5 2 0.5 2 -0.5 2 0 4 2.5 2 0.5 2 -1 6 3 4 -1 6 0.5 2 3 2 0 4 -1 2 3 6 2 0 1-2 0-4 -2.5-2 -0.5-2 0-2 1.5-2 0-2 -1-2 -2-2 1-6 -3-4 -0.5-4 1.5-2 -3-6 0.5-4 -3.5-10 1-2 -1-4 -2-4 0-6 -2.5-6 0.5-2 0-4 -2-2 -0.5-2 0.5-6 -2-2 -0.5-2 0.5-4 -0.5-4 -2-2 0.5-8 -2-2 0-8 -1.5-1.5 -1-2.5 0.5-6 -1.5-1.5 -1.5-6.5 1-2 -1.5-1.5 -2-12.5 -2.5-6 0.5-6 -2.5-4 0.5-6 -2.5-4 0-8 -1.5-2 -0.5-8 -1.5-2 0-8 -1-2 -1.5-2 0.5-6 -0.5-2 -1.5-2 -0.5-8 -1.5-1.5 -0.5-8.5 -1.5-1.5 0-10 7 25.5 1 6.5 1.5 3.5 0.5 5 2 3 0 3 4-0.5 0-12 -1-2.5 -3.5-28 0.5-9 0 7 2 2 0.5 10 2 2 0 8 2 4 0 8 1.5 2 0.5 2 0 8 1.5 1.5 0.5 2.5 0.5 4 -0.5 2 2.5 6 0.5 4 -1 2 1.5 2 2 8 -1.5 2 1.5 1.5 2.5 8.5 -2 2 1.5 1.5 0 2.5 2.5 6 -1.5 2 1 1 0.5 3 2.5 6 -1.5 2 1 4 2.5 6 -1 2 0.5 4 2.5 4 0.5 2 -1.5 2 0.5 4 2 2 1 2 0 2 -1 2 0 4 1.5 2 1 0 0.5 2 0 2 -1 2 0 4 1.5 2 1.5 0 0.5 4 -1.5 2 0 4 1.5 1.5 2 0.5 0 3.5 0-3.5 2-0.5 1-1.5 -1.5-4 -3-4 0-2 1.5-0.5 0.5-1.5 -1-4 -3-6 2-2 -1-4 -3-6 2-2 -1-4 -2.5-6 1.5-2 -1-4 -2.5-6 1.5-2 -1-4 -2.5-6 1-2 -0.5-4 -2.5-6 1-2 -0.5-4 -2-6 0.5-2 -0.5-4 -2-6 0-6 -2-6 0.5-6 -2.5-6 0.5-6 -2.5-6 0.5-6 -2-6 0-6 -2-6 0-6 -2-6 -0.5-8 -1.5-4 0-8 106.5 0 1 130 1 4 0.5 74 1 4 1.5 52 0.5 4 0.5 14 0.5 24 0.5 12 1 2 0.5 30 0.5 12 1 4 1 40 1 4 0.5 28 1.5 14 3 68 1.5 12 0.5 20 1.5 18 0 50 -3 38.5 -1.5 11.5 -2.5 6 -2 9.5 -2 0 -2-7.5 -2-2 -4 1.5 -3 12.5 -1 9 -2 1 -3 12 -1 18 -1 2 -1 5.5 -4.5 10.5 -3.5 10.5 -2.5 3.5 -1.5 7.5 -2 4.5 -2 0.5 -2 3 -6 3.5 -2-3.5 -2 4 -8 3.5 -2-1 -2 2.5 -8 0 -4-3 -2 1.5 -2 0 -2-2 -6 0 -2 2 -2-2 -10 0 -2 2 -2-0.5 -2-3 -2 1.5 -2-2 -6-0.5 -2-2.5 -2 4 -2 2 -2-5 -2-2 -2 0 -2-2 -4 0 -2 2 -2 0 -2-4.5 -2 0.5 -4 4 -2-2 -2 0 -2 2 -4-4 -4 0 -2 2 -2-2 -2 2 -4 0 -2-2 -4 0 -4 4 -2-2 -2 2 -2-2 -10 0 -2-2 -2 2 -2 0 -2 2 -2 0 -2 1.5 -2-2.5 -2 1 -2-2 -8 0 -2-2 -2 2 -2 0 -2 2 -2-2 -4 0 -2 2 -2 0 -4-4 -2 4 -2 0 -2 2.5 -2 5.5 -2 0.5 -2 2 -4 0 -1-5.5 -3-8 -2 1.5 -2 0 -4-0.5 -2-2 -2 2 -2 6.5 -2 2 -2-2 -2 0 -2 2 -2 0 -2-2 -2-0.5 -4 4 -4-4 -2 0.5 -2-7.5 -1-10 -1-2 -0.5-18 -1-4 -0.5-1.5 -2-0.5 -2-4 -2 2 -2-0.5 -2-2 -16-2 -2 1.5 -6-1 -8-1.5 -2-2 -2-0.5 -2 0.5 -4-1 -2-1.5 -2 0.5 -2-2 -4 0.5 -6-2.5 -2-1.5 -2-0.5 -2 1 -4-1 -8-3.5 -9.5-3 -8.5-4 -6.5-4 -1.5-6.5 -12.5-27.5 -4-30 -5-30 -3.5-60 7.5-50 -3-52 -2-48 -8-44 -6-56 0-100 3.5-32 3.5-26 2.5-14 6.5-28zM516 834l-4 1 -2 1.5 -1.5 1.5 -0.5 4 0 2 2 3 2 1.5 4 1.5 4-1.5 2-1.5 2-5 0-2 -2-3 -2-2zM544 795.5l-1.5 0.5 1.5 3 8 11 8 10 12 12 2-2 -2-4 -6-8 -8-9.5 1-4.5 -1-1 -2-2 -4 1 -6-6zM548 518.5l0 3.5 1.5 2 0.5 2.5 2 0.5 0.5-3 -2.5-4.5zM554 533l-0.5 1 0.5 2.5 2 2 1-0.5 -1-4zM556 464l-0.5 2 2 6 2.5 2 1.5-2 -0.5-4 -3-4zM560 358l-1 2 1.5 4 1.5 2 2 0 1.5-2 -0.5-4 -1-1.5 -2-0.5zM562 286l-1.5 2 0 4 1.5 1.5 4 0 1-1.5 -1.5-4 -1.5-2zM622 808l-4 4 -4 6 -4 6 0 2.5 2 0 6-6.5 5-10zM560 477.5l1 4.5 1 2 2 1.5 2-1 -1-4.5 -1-1.5 -2-2zM564 369l-2 3 1 4 1 1.5 2 0 1-1.5 0.5-4 -1.5-2 -1.5 0zM564 298l-1.5 2 0 4 1.5 1.5 4 0 1-1.5 -1.5-4 -1.5-2zM566 488.5l-1.5 1.5 0.5 4 3 3.5 2-0.5 0.5-1 -1.5-4 -1-2zM566 380l-2 2 0.5 4 1.5 1.5 2 0.5 1.5-2 0-4 -1.5-1.5zM566 310l-1.5 2 0 4 1.5 1.5 4 0 1-1.5 -1.5-4 -1.5-2zM570 501l-1 1 0 4 3 3.5 2-0.5 0.5-1 -1.5-4 -1-2zM568 392l-1.5 2 0 2 1 2 2.5 1.5 1.5-1.5 0-4 -1.5-2zM568 322l-1.5 2 0.5 4 1 1.5 2 0.5 2-0.5 1-1.5 -1.5-4 -1.5-2zM574 513l-1 3 0.5 2 2.5 3 2 0 0.5-1 -0.5-2 -2-4zM570 402.5l-1.5 1.5 0.5 4 1 1 2 0.5 2.5-1.5 -1-4 -1.5-1.5zM570 334l-1.5 2 0.5 4 1 1 2 1 2-0.5 1-1.5 -1.5-4 -1.5-2zM578 525.5l-1 2.5 1 2 2 3 2 0 0.5-3 -2.5-4.5zM572 414l-1.5 2 0.5 2 3 3.5 2-0.5 0.5-3 -1-2 -1.5-2zM572 346l-1.5 2 0.5 4 3 2 2-0.5 1-1.5 -1.5-4 -1.5-2zM582 537.5l-0.5 2.5 2.5 4.5 2 0.5 0.5-3 -2.5-4.5zM574 424.5l-1 1.5 1 4 2 1.5 2 0 1-1.5 -1.5-4 -1.5-1.5zM574 358l-1.5 2 1 4 2.5 2 2-0.5 1-1.5 -1.5-4 -1.5-2zM586 550l-0.5 2 2.5 4 2 0.5 0.5-2.5 -0.5-1 -2-3zM576 437l-0.5 1 1.5 4 1 1 2 0 1-3 -0.5-2 -2.5-2zM576 370l-1.5 2 1 4 2.5 2 2-0.5 1-1.5 -1-4 -2-2zM578 447.5l0.5 4.5 1.5 1.5 2 0 1-1.5 -0.5-4 -2.5-1.5zM578 382.5l-1 1.5 1 4 2 2 2-0.5 1-1.5 -1-4 -2-2zM582 458.5l-1.5 1.5 0.5 2 1 2.5 2 0.5 1-3 0-2 -1-1.5zM580 394.5l-1 1.5 1 4 2 1.5 2 0 1-1.5 -1-4 -2-1.5zM584 468.5l-1 1.5 0 4 1 1 2 0.5 1-1.5 0-4 -1-1zM582 406.5l-1 1.5 1.5 4 1.5 1.5 2 0 1-1.5 -1-4 -2-1.5zM586 481l-1 1 0.5 2 0.5 1.5 2 1 1-2.5 0-2 -1-1.5zM584 418.5l-1 1.5 1.5 4 1.5 1.5 2 0 1-1.5 -1-4 -2-1.5zM588 491l-0.5 1 0.5 4 2 1 1.5-1 -0.5-4 -1-1zM586 431l-1 1 1.5 4 1.5 1.5 2 0 1-1.5 -1-4 -2-1.5zM590 503l-0.5 1 0.5 2 2 2 1.5-2 -0.5-2 -1-1zM588 443l-0.5 1 1 4 1.5 1.5 2 0 1-1.5 -0.5-4 -2.5-1.5zM592 513.5l0 2 1 2.5 1 1 2-0.5 0.5-0.5 -2.5-5zM590 455.5l1 4.5 1 1.5 2 0 1-1.5 -0.5-4 -2.5-1.5zM592 562.5l-1.5 1.5 1.5 3.5 2 0 0-2.5zM596 525l-1.5 1 0.5 2 1 1.5 2-0.5 0-1.5zM592 468l1 4 1 1.5 2 0 1-1.5 -0.5-4 -2.5-1.5zM598 535.5l-1 0.5 0.5 4 0.5 0.5 2 0 0.5-0.5 -0.5-2.5zM596 478.5l-1.5 1.5 0.5 4 1 1 2 0.5 1-1.5 -0.5-4zM600 547.5l-0.5 0.5 0.5 3.5 2 0 0-3.5zM598 491l-1.5 1 0.5 4 1 1 2 0 1-1 -0.5-4zM602 557.5l-0.5 4.5 2.5 0.5 0-4.5zM600 503l-1 1 0.5 4 0.5 1 2 0 1-1 -0.5-4zM604 569.5l0 2.5 2 0.5 0-3zM602 515l-1 1 0.5 4 0.5 1 2 0 0.5-1 -0.5-4zM604 527.5l-0.5 0.5 0 4 0.5 0.5 2 0 0.5-0.5 -0.5-4zM606 539.5l-0.5 0.5 0 4 2.5 0.5 0-4.5zM608 551.5l0 4.5 2 0.5 0-4.5zM608 751.5l0 0.5 4 6 2 1.5 2-1 -1.5-2.5 0-2 -2.5-3.5 -2-0.5zM610 564l0 2.5 2 0 -1-2.5zM1157.5 82l16 0 0 2 -5.5 1.5 -6 0 -4.5-1.5zM512 94l2 4 -2 0z"/>
<path fill="#5aff9d" d="M212 82l44.5 0 0 2 12.5 22 42.5 66 18.5 26.5 12 15 12 19.5 2 3 2 1 2-0.5 0-1 -6.5-21.5 -1.5-2 -3-14 -21-55 -1-5 0-2 13-3.5 2.5-4.5 1.5-0.5 0.5 2.5 1.5 1 1 3 1 1 6 12 44.5 91 1.5 2 0.5 2 1.5 2.5 17.5 37.5 6.5 12 2-2 -2-6 -17.5-48 -16.5-48 -1-4 -1-1 0-5 2 0.5 0-1 -14.5-39.5 -2-8 -1.5-2.5 0-4.5 12 0 0 3 2 2 0 2 2 2 0 2 2 3 0.5 3 1.5 1.5 0 2.5 2 2 0.5 4 1.5 1.5 0.5 2.5 1.5 1.5 0 2.5 2 3 0.5 3 1.5 1.5 0 2.5 2 2 0.5 4 1.5 1.5 0.5 2.5 1.5 2 2.5 8 1.5 1.5 0.5 2.5 1.5 2.5 0.5 3.5 1.5 1.5 0.5 2.5 1.5 2 2.5 8 1.5 1.5 2.5 8.5 1.5 1.5 0.5 2.5 1.5 2.5 0.5 3.5 1.5 1.5 0.5 2.5 1.5 2 0.5 4 1.5 1.5 0.5 2.5 1.5 2 1 4 1 1 0.5 3 1.5 2 2.5 8 1.5 1.5 1 4.5 1 1 0.5 3 1.5 1.5 0.5 2.5 1.5 2.5 0.5 3.5 1.5 2 2.5 8 1.5 1.5 3 8.5 1.5 2 2 8 1.5 1.5 0.5 2.5 1.5 2 0.5 4 1.5 1.5 0.5 2.5 1.5 2 1 4 1.5 2 0 2 1.5 2 1 4 1.5 2 0 2 1.5 2 3 8 1 2 1 4 3.5 6 0.5 4 1.5 2 0 2 2 2 2 6 0 2 1.5 2 4 10 1 4 3.5 6 0.5 4 1.5 2 0.5 2 1.5 2 2.5 8 4 8 0 2 1.5 2 1 4 3.5 6 0.5 4 3.5 6 2 8 3.5 6 0.5 4 3.5 6 3.5 10 3.5 6 0.5 4 1.5 4 2.5 2 0 1.5 2 1 -1.5-8.5 -2-2 -0.5-2 -1.5-2 0.5-4 -1.5-2 -0.5-2 -2-2 -2.5-10 -1.5-2 -0.5-2 -1.5-2 0-4 -1.5-2 0-2 -2-2 -0.5-2 -1.5-4 0-2 -4-8 0-2 -0.5-2 -1-0.5 -0.5-3.5 -2-2 0-2 -1.5-2 -0.5-4 -1.5-2 -0.5-2 -2-4 0-2 -1.5-2 -0.5-4 -1.5-1 -0.5-3 -2-2 0-4 -1.5-1.5 -0.5-2.5 -1.5-2 -0.5-4 -2-2 0.5-2 -2-2.5 -0.5-3.5 -2-2 0-4 -1.5-1 -0.5-3 -2-2 0.5-4 -2-1 0-3 -2-2 -0.5-4 -1.5-1 0-3 -2-2 0-4 -2.5-2 0.5-4 -2-0.5 0-5.5 2 2 0 1 0-3.5 -1.5-1.5 -0.5-4.5 -1.5-1.5 -0.5-4 -1.5-2 -0.5-3 -1-1 -1-4.5 -1.5-1.5 -0.5-4 -1.5-2 -2.5-8 -1.5-2 -2.5-8 -1.5-2 -0.5-2.5 -1.5-1.5 -0.5-2.5 -2 0.5 1.5 2 0.5 2 -2 1 0-3 -2-1.5 0-4.5 -2-1 0-3 -2-2 -0.5-4 -1.5-1.5 0-2.5 -2-2 -0.5-4 -1.5-1.5 -1-4.5 -1-1 -0.5-3 -1.5-2 -0.5-4 -1.5-1 -0.5-3 -1.5-2 -0.5-4 -1.5-1.5 -0.5-2.5 -1.5-2.5 -0.5-3.5 -1.5-1.5 -1-4.5 -1-1 -0.5-3 -1.5-2 -0.5-4 -1.5-1.5 -0.5-2.5 -1.5-2.5 -0.5-3.5 -1.5-1.5 -1-4.5 -1-1 -0.5-3 -1.5-2 -0.5-4 -1.5-1.5 0-2.5 -2-3 -0.5-3 -1.5-2 -0.5-4 -1.5-1.5 0-2.5 -2-3 -0.5-3 -1.5-2 -0.5-4 -1.5-1.5 0-2.5 -2-2.5 0-3.5 -2-2 -0.5-4 -1.5-2 0-2 -1-2 1-1 6 0 2 1 0 2 2 2 1 4 1 1 0.5 3 1.5 2 3 8 1 2 23 56 1 4 3 6 1 4 1.5 2 0.5 3 1 1 1 4 1.5 2 0.5 2.5 2 1.5 0-2.5 -1.5-1.5 -0.5-4.5 -1-1.5 -1-4 -1.5-2 -0.5-4 -1.5-2 -21.5-62 -1-2 -1-4 -1-2 -3-10 -1-1 -1-5 -1-2 0-1 2 0 0-5 -1.5-2 -0.5-4 -1-2 -1-4 -8-24 0-2 4 0 1.5 6 10.5 26 1.5 2 0.5 2.5 1.5 1.5 0.5 3 4 4 0.5 3 1.5 1.5 0.5 2.5 1.5 2 1 4 1 1.5 24 59.5 0.5 3 1.5 2 2.5 8 1.5 2.5 0.5 3.5 1.5 2 1 4 1 1.5 0.5 2.5 3.5 8 0.5 4 1.5 2 2 5 0.5 3 4 8 0 4 3.5 6.5 2.5 9.5 2 2 0.5 4 2 6 1.5 2 2 8 3.5 7 0.5 5 3.5 6 1 6 3.5 6 0 4 4.5 8 0 4 1.5 4 2 2 1 6 1.5 4 2 2 0 4 2 6 2 2 1.5 8 3 4 1 8 4 6 0.5 6 4 6 -0.5 4 1 2 4 6 -0.5 4 3 5.5 1 0.5 0.5 2 -0.5 4 3 5.5 1.5 0.5 0 6 1.5 4 3 2 -0.5 4 2 6 2.5 2 2-2 -1-4 -4.5-6 1-2 -0.5-4 -4-6 0.5-2 -0.5-4 -4-6 0.5-2 -0.5-4 -4-6 0.5-4 -4.5-8 0.5-4 -4.5-8 0.5-4 -4.5-8 0.5-4 -4.5-8 0.5-4 -3.5-6 -1-6 -1-1.5 -0.5-2.5 -1.5-2 -0.5-6 -1.5-1.5 -0.5-2.5 -1.5-2 -0.5-6 -1.5-1.5 0-2.5 -2-3 0-4 2-0.5 0.5-2.5 -0.5-5 -1.5-3 -0.5-4.5 -27.5-91.5 -9.5-38 -16-50 -1-1.5 -1-4.5 -1-1.5 -1-4.5 -1-1.5 -1-4.5 -1-1.5 -1-4.5 -3-8 -4-13.5 -0.5-4.5 43.5 0 1 6 18 71.5 1 2.5 1 5 1.5 3 0.5 4.5 9 27.5 8 18 1.5 6 1.5 3 0.5 5 1.5 4 0.5 6 2 4 0 6 1.5 2 0.5 8 2 4 0 6 2 4 0.5 6 1 1.5 1.5 6.5 -0.5 2 1 1.5 2.5 8.5 0 6 2.5 4 -0.5 6 2 2 0.5 2 -0.5 6 3 4 0 2 -1 2 0.5 4 2.5 2 0 4 -1 2 4 8 -1.5 2 1.5 4 3.5 4 -2 4 1 4 1 1.5 2 0.5 1.5-2 0-4 -1.5-2 -1 0 -1-2 0-2 1.5-2 0-4 -1.5-1.5 -1.5-0.5 -0.5-2 1.5-2 0-4 -2.5-2 -0.5-2 0-2 1-2 0-2 -1-2 -2-2 1-6 -0.5-2 -2-2 -0.5-4 1-2 -2.5-6 -0.5-6 -2.5-8 0.5-2 -2.5-8 -0.5-6 -2-6 0-6 -1.5-2 -0.5-2 0-6 -2-4 0-8 -2-2 0-8 -2-2 0-8 -1.5-1.5 -0.5-2.5 0-6 -1.5-1.5 -0.5-2.5 0-6 -1.5-1.5 -0.5-8.5 -1.5-1 -0.5-7 -1.5-2 0-6 -2-4 -0.5-8 -1.5-2 0-8 -2-2.5 0-7.5 -0.5-2 -1.5-1 0-1 0-8 12 55.5 4 15.5 6 0 -1.5-15 0-2 1.5 0 0.5 6 1 2 -1.5 2 2 1.5 1 6.5 1.5 2 -2 2 1.5 1 0 3 2.5 6 -1 2 0.5 4 3 6 -1 2 0 4 3 6 -1 2 0.5 4 1.5 2 1 4 -1 2 0.5 4 2 2 0.5 2 0.5 2 -1 2 0 4 1.5 2 1 0 0.5 2 0 2 -1 2 0 4 1.5 2 1.5 0 0 4 -1 2 0 4 1.5 1.5 1.5 0.5 0.5 4 -1.5 2 0 4 1.5 1.5 2 0.5 0 4 -1.5 2 0 4 1.5 1.5 2 0.5 2-0.5 1-1.5 -4.5-10 1.5-0.5 1-1.5 -4.5-10 1.5-0.5 1-1.5 -4-10 1-0.5 1-1.5 -4-10 2-2 -4-10 2-2 -3.5-10 1.5-2 -3.5-10 1.5-2 -3.5-10 1.5-2 -3.5-10 1-2 -2.5-10 0.5-2 -2.5-10 0.5-2 -2.5-10 0.5-2 -0.5-4 -2-6 0-6 -2-6 0-6 -2-6 -0.5-8 -1.5-6 0-6 -2-6 0-6.5 -1.5-5.5 -0.5-7.5 -1.5-4.5 -0.5-7.5 -1.5-4.5 0-6 106 0 1 130 1 4 0.5 74 1 4 1 52 1 4 1 38 0.5 12 0.5 2 1.5 42 0.5 4 1 28 0.5 12 1 4 0.5 28 1.5 14 3 68 1 12 1 20 1.5 18 0 50 -3 38 -1.5 12 -3 6 -1.5 9 -2 0.5 -2-7.5 -2-2.5 -4 2 -3 12.5 -1 8.5 -2 0.5 -0.5 1 -3 12 -0.5 18 -1 2 -1 5.5 -5 10.5 -3 10.5 -2.5 3.5 -1.5 7.5 -2 4 -2 1 -2 3 -6 3 -2-3 -2 3.5 -8 3.5 -2-1 -2 2.5 -8 0.5 -4-3.5 -2 2 -2 0 -2-2 -6-0.5 -2 2.5 -2-2 -10 0 -2 2 -2-1 -2-2.5 -2 1.5 -2-2 -6-0.5 -2-2.5 -2 4 -2 1.5 -2-4.5 -2-2 -2 0 -2-2.5 -4 0 -2 2.5 -2 0 -2-4.5 -2 0 -4 4.5 -2-2 -2 0 -2 2 -4-4 -4 0 -2 2 -2-2 -2 1.5 -4 0 -2-2 -4 0 -4 4 -2-2 -2 2 -2-2 -10 0.5 -2-2 -2 2 -2 0 -2 2 -2 0 -2 1 -2-2.5 -2 1 -2-1.5 -8 0 -2-2 -2 2 -2 0 -2 2 -2-2 -4 0 -2 2 -2 0 -4-4 -2 4 -2 0 -2 2.5 -2 5.5 -2 0.5 -2 2 -4 0 -1-5.5 -3-8.5 -2 2 -2 0 -4-0.5 -2-2 -2 2 -2 6 -2 2.5 -2-2 -2 0 -2 2 -2 0 -2-2.5 -2 0 -4 4 -4-4 -2 0.5 -2-7.5 -1-10 -1.5-4 0-16 -1-4 -0.5-1.5 -2-0.5 -2-4 -2 1.5 -2 0 -2-2 -16-2 -2 1 -2 0 -12-2.5 -2-1.5 -2-0.5 -2 0.5 -1.5-0.5 -2.5-0.5 -2-2 -2 0.5 -2-1.5 -4 0.5 -6-2.5 -2-1.5 -2-0.5 -2 0.5 -4-1 -8-3.5 -8.5-2.5 -8.5-4 -5-4 -0.5-4 -3-8 -10-22 -3.5-32 -4-28 -3.5-60 9-50 -4-46 -3-54 -3.5-12.5 -6-29.5 -7-58 0-100 3.5-30 3.5-24.5 10.5-45.5zM514 833.5l-4 2 -1.5 2.5 -1 2 0 4 2.5 4 2 1 4 1.5 2-0.5 3.5-2 1.5-2 1-2 0-4 -2-4 -2-1.5 -2-1zM542 795.5l0 1.5 2 3 15.5 20 14.5 14.5 2 1.5 1.5 0 0.5-2 -10-14 -10-12 1-4 -1-1 -2-2 -4 0.5 -6-6 -2-1zM548 518l-0.5 4 1.5 2 1 2.5 2 1 0.5-3.5 -2.5-5zM554 533l-0.5 1 0 2 2.5 3 1-1 -0.5-4zM560 476.5l0 1.5 2 6 2 2 2-1 -1-5 -1-2 -2-2zM566 380l-2 2 0.5 4 1.5 1.5 2 0.5 1.5-2 0-4 -1.5-1.5zM570 333.5l-1.5 2.5 0.5 4 1 1.5 4 0 1-1.5 -1.5-4 -1.5-2 -2 0zM622 806l-0.5 2 -3.5 3.5 -10 14.5 0 4 2-0.5 8-9 4-6.5 2.5-6 1.5-2 -2-1.5zM566 488.5l-1.5 1.5 0.5 4 3 3.5 2 0 0.5-1.5 -1.5-4zM568 392l-1.5 2 0 2 0.5 2 3 1.5 2-1.5 -0.5-4 -1.5-2zM572 346l-1.5 2 0.5 4 3 2 2-0.5 1-1.5 -1-4 -2-2zM570 500.5l-1 1.5 0 4 3 3.5 2 0 0.5-1.5 -1.5-4 -1-2.5zM570 402l-1.5 2 0 4 1.5 1.5 2 0.5 2.5-2 -1-4 -1.5-2zM574 358l-1.5 2 0.5 4 3 2 2-0.5 1-1.5 -1-4 -2-2zM574 512.5l-1 3.5 0.5 2 2.5 3.5 2 0 0.5-1.5 -0.5-2 -1.5-4zM572 414l-1.5 2 0.5 2 3 3.5 2-0.5 0.5-3 -1-2 -1.5-2zM576 370l-1.5 2 1 4 2.5 2 2-0.5 1-1.5 -1-4 -2-2zM578 525l-1 3 1 2 2 3 2 0 0.5-3 -2.5-4.5zM574 424.5l-1.5 1.5 1.5 4 2 1.5 2 0 1-1.5 -1.5-4 -1.5-1.5zM578 382l-1.5 2 1 4 2.5 2 2-0.5 1-1.5 -1-4 -2-2zM582 537.5l-0.5 2.5 2.5 5 2 0 0.5-3 -2.5-4.5zM576 437l-0.5 1 1.5 4 1 1.5 2 0 1-3.5 -0.5-2 -2.5-2zM580 394l-1 2 1 4 2 2 2-0.5 1-1.5 -1-4 -2-2zM586 549.5l-0.5 2.5 2 4 2.5 0.5 0.5-2.5 -0.5-1.5 -2-3zM578 447.5l0.5 4.5 1.5 1.5 2 0 1-1.5 -0.5-4 -2.5-1.5zM582 406.5l-1 1.5 1 4 2 2 2-0.5 1-1.5 -1-4 -2-2zM582 458.5l-1.5 1.5 0.5 2 1 2.5 2 0.5 1-3 0-2 -1-1.5zM584 418.5l-1 1.5 1.5 4 1.5 2 2-0.5 1-1.5 -0.5-4 -2.5-2zM584 468.5l-1.5 1.5 0.5 4 1 1 2 0.5 1-1.5 0-4 -1-1zM586 430.5l-1 1.5 1.5 4 1.5 1.5 2 0 1-1.5 -0.5-4 -2.5-2zM586 480.5l-1 1.5 0.5 2 0.5 1.5 2 1 1-2.5 0-2 -1-1.5zM588 443l-0.5 1 1 4 1.5 1.5 2 0 1-1.5 -0.5-4 -2.5-1.5zM588 491l-0.5 1 0.5 4 2 1 1.5-1 -0.5-4 -1-1.5zM590 455l-0.5 1 1 4 1.5 1.5 2 0 1-1.5 -0.5-4 -2.5-1.5zM590 503l-0.5 1 0.5 2 2 2 1.5-2 -0.5-2 -1-1.5zM592 467.5l1 4.5 1 1.5 2 0 1-1.5 -0.5-4 -2.5-1.5zM592 513.5l-0.5 0.5 1.5 4 1 1 2-0.5 0.5-0.5 -1.5-4 -1-1zM596 478.5l-2 1.5 1 4 1 1.5 2 0 1-1.5 -0.5-4zM592 562l-1.5 2 1.5 3.5 2 0.5 0.5-2zM596 525l-1.5 1 0.5 2 1 1.5 2 0 0-2.5zM598 490.5l-1.5 1.5 0.5 4 1 1 2 0 1-1 -0.5-4zM596 575.5l0 2.5 2 0.5 0-1zM598 535.5l-1.5 0.5 1 4 0.5 1 2 0 0.5-1 -0.5-2zM600 503l-1 1 0 4 1 1 2 0 1-1 -0.5-4zM600 547l-0.5 1 0.5 3.5 2 0 0-3.5zM602 515l-1 1 0.5 4 0.5 1 2 0 0.5-1 0-4zM602 557.5l-0.5 0.5 0 4 2.5 0.5 0.5-0.5 -0.5-4zM604 527l-1 1 0.5 4 0.5 0.5 2 0 0.5-0.5 -0.5-4zM604 569.5l0 3 2 0 0.5-2.5zM606 539.5l-0.5 0.5 0 4 2.5 0.5 0-4.5zM608 551.5l-0.5 4.5 2.5 0.5 0-4.5zM608 747.5l-1 0.5 1 5 12 15 0-4 -3.5-6 -0.5-4 -6-6.5zM610 564l0 4 2 0 0-3 -0.5-1zM520 132l1.5 6 -1.5 0.5zM533 138l1-0.5 0 0.5 0 7zM535 150l1-2 0.5 2 -0.5 8zM536.5 160l1.5-0.5 0.5 2.5 -0.5 8zM538.5 172l1.5-1 0.5 7 -0.5 3.5zM540.5 184l1.5-1.5 1 7.5 -1 3.5zM462 290l0-2 1.5 2 0 2 -1.5 0.5zM464 294l1.5 2 -1.5 2zM466 300l0-1 1 1 0.5 2 -1.5 0.5zM468 306l0-2 1.5 2 0 2 -1.5 0zM470 310l0-1 1 1 0.5 2 -1.5 0.5zM472 316l0-2 1.5 2 0 2 -1.5 0.5zM474 320l0-1 1 1 1 2 -2 1.5zM476 326l0-2 1.5 2 0.5 2 -2 0.5zM478 330l0-1.5 1.5 1.5 0.5 2 -2 2zM480 336l0-2 2 2 0 2 -2 0.5z"/>
<path fill="#60ff97" d="M214.5 82l41.5 0 0 2 13 24 15 22 27.5 44 24.5 34 8 10 14 21.5 2 1 2-0.5 -1.5-6 -4.5-14 -1-8 -2.5-8 -12.5-36 14-3 2-1 2-3.5 2 1.5 0.5 2 3.5 5.5 29.5 60.5 11 22 1.5 2 0.5 2 1.5 2 9 20 7 14 4 6.5 2-0.5 -2-8 -10.5-30 -1.5-2.5 -1-3.5 -1-2 -0.5-2 -13.5-40 -0.5-4 0.5-1 1.5 1 1 2 -0.5-6 -1-2 -1-4 -8.5-22 -2-8 -1.5-2 -0.5-4 -1.5-2 0-1 12 0 2 1.5 0 3.5 2 2 0 2 2 2 0.5 4 1.5 1 0 3 2 1.5 0 2.5 2 2 0.5 4 1.5 1.5 0 2.5 2 2 1 4 1 1 0.5 3 1.5 1.5 0 2.5 2 2.5 0.5 3.5 1.5 1.5 0.5 2.5 1.5 2 0.5 4 1.5 1 0.5 3 1.5 1.5 2.5 8.5 1.5 1.5 2.5 8.5 1.5 1.5 0.5 2.5 1.5 2.5 0.5 3.5 1.5 1.5 0.5 2.5 1.5 2 0.5 4 1.5 1.5 0.5 2.5 1.5 2 2.5 8 1.5 2 2.5 8 1.5 2 2.5 8 1.5 1.5 2.5 8.5 1.5 2 2.5 8 1.5 1.5 0.5 2.5 1.5 2 0.5 4 1.5 1.5 0.5 2.5 1.5 2 0.5 4 2 2 0 2 4 8 0 2 1.5 2 1 4 3 6 0.5 4 1.5 1.5 0.5 2.5 1.5 2 1 4 1.5 2 0 2 1.5 2 2.5 6 0 2 1.5 2 4 10 1 4 1.5 2 0.5 2 1.5 2 0.5 4 1.5 2 0 2 2 2 2 8 4.5 8 0 2 1 2 1 4 3.5 6 1 4 3.5 6 2 8 3.5 6 0.5 4 4.5 8 2 8 4 6 0.5 4 1 2 0.5 2 2 2 0.5 2 2 2 -0.5 4 2.5 5 2 0.5 0.5-3.5 -2.5-5 -1.5-1 -0.5-4 -1-6 -2.5-2 0-2 -1.5-2 0-4 -1.5-2 -0.5-2 -2-2 -2-10 -2-2 0-2 -2-2 0-4 -1.5-2 0-2 -2-2 -0.5-4 -1.5-2 0-2 -1.5-2.5 -1-3.5 -1.5-2 0-4 -1.5-1 -0.5-3 -2-2 0-2 -1.5-2 0-4 -2-2 -1-4 -1-0.5 0-3.5 -2-2 -0.5-4 -1.5-1 -0.5-3 -1.5-2 0-4 -2-1.5 -0.5-2.5 -1.5-2 0-4 -2.5-2 0.5-4 -2-0.5 0-5.5 2 0.5 0-0.5 -2-2 0-4 -2-2 0-3.5 -2-2.5 0-2.5 -1.5-1.5 -0.5-4.5 -1.5-1.5 -0.5-3.5 -1.5-2.5 -0.5-2.5 -1-1.5 -1-4 -1.5-2 -0.5-3 -2-5.5 -1-1.5 -1-4 -1.5-2 -8.5-24 -8-20 -1.5-2 -0.5-3 -1-1 -1-4 -1.5-2 -0.5-3 -1-1 -1-3.5 -2-2.5 0-2.5 -2-1.5 0-1 0 3 -2 1 0-3 -2-2 0-4 -2-1.5 0-2.5 -2-2 0-4 -2-1.5 0-2.5 -2-2.5 0-3.5 -2-1.5 -0.5-4.5 -1.5-1 0-3 -2-2 -0.5-4 -1.5-1.5 0-2.5 -2-2 -0.5-4 -1.5-1.5 -1-4.5 -1-1 0-3 -2-2 -0.5-4 -1.5-1.5 0-2.5 -2-3 0-3 -2-2 -0.5-4 -1.5-1.5 0-2.5 -2-3 0-3 -2-2 0-5 6 0 2 0.5 0 2.5 2 1.5 0.5 2.5 1.5 2.5 0.5 3.5 1.5 1.5 0.5 2.5 1.5 2 1 4 1.5 2 25.5 64 1.5 2 0.5 3 1.5 1 0.5 3 1.5-1 -7-22 -15-40 -4-14 -1.5-2 -0.5-4 -1.5-2 -0.5-4 -1.5-1.5 -0.5-4.5 -1.5-2 0-1 2 0 0-5 -1-2 -1-4 -8.5-28 -1.5-2.5 -0.5-3.5 -1.5-2.5 -0.5-5.5 0.5-0.5 0.5 2.5 1.5 1.5 0.5 2.5 1.5 2 1 4 1 1 0.5 3 15.5 35.5 4 4 0.5 2.5 1.5 2 0.5 2 5.5 12 14 34.5 2.5 7.5 1.5 2.5 0.5 3.5 1.5 2 1 4 3 7 0.5 3 1.5 2 1 4 1 1.5 1 4.5 3 6 0.5 4 1.5 2 0.5 2 1.5 3 1 5 1 1 0.5 3 1.5 2 1 4 1 2 1 4 1.5 2 2 8 3.5 7.5 0.5 4.5 3.5 6 1 6 3.5 6 0 4 4.5 8 0 4 1 1.5 0.5 2.5 2 2 0.5 6 2 4 2 2 0 4 2 6 2 2 1.5 8 2.5 4 1.5 8 3.5 6 1 6 4 6 -0.5 4 0.5 2 4 6 -0.5 4 5 8 -0.5 4 2 4 2 2 0.5 6 1.5 4 2.5 2 0 4 1.5 6 3 2 -0.5 4 1 4 1 2 2.5 2 2 0 0.5-2 -1-4 -3.5-4 -0.5-2 0.5-2 -0.5-4 -4-6 -0.5-6 -3.5-6 -0.5-6 -3.5-6 -0.5-6 -4-6 0.5-4 -0.5-2 -4-6 0.5-4 -4.5-8 0.5-4 -4-8 0-4 -1.5-2 -2.5-6 0-4 -1.5-1.5 -0.5-2.5 -1.5-2.5 -0.5-5.5 -1.5-1.5 -0.5-2.5 -1.5-4 -0.5-4 -1.5-1.5 -0.5-4.5 -1.5-2 0-2 2-0.5 0.5-1.5 -0.5-7 -2-7.5 -30.5-101.5 -9.5-36 -11-36 -1-2 -1-4 -1-1.5 -1-4.5 -1-1.5 -1-4.5 -1-2 -0.5-4 -1.5-2 -0.5-4 -1.5-2 -0.5-4 -1.5-2.5 -0.5-3.5 -1.5-3 -5.5-19 -0.5-4 42.5 0 1.5 7.5 27 106.5 1 9.5 1.5 2.5 0.5 5 1.5 3 0.5 4 1.5 2 0.5 4 2 3 2-2 6 14.5 0.5 4.5 1.5 2 0 6 2 3 0.5 7 2 4 0 6 2 4 0 6 1.5 2 1 6 0 2 1 1.5 2 8.5 0.5 6 2 4 0 6 2.5 4 -0.5 6 0.5 2 2 2 0.5 2 -1 2 0.5 4 2.5 2 0 4 -1 2 0.5 2 2.5 4 0.5 2 -1.5 2 4 8 0.5 2 -1.5 2 1.5 4 1 2 1.5 0 0.5 2 -2 2 0.5 4 1.5 2 2 0 1.5-2 0-4 -1.5-2 -2 0 0-2 1.5-2 0-4 -3-4 0-2 1-2 0-4 -3-2 1-8 -2.5-2 -0.5-2 1-6 -0.5-2 -2-2 0.5-6 -0.5-2 -2-2 0-4 0.5-2 -2.5-6 0-6 -1-1 -1.5-7 0.5-2 -1-1 -0.5-3 -1-4 -0.5-6 -2.5-6 0-6 -2-4 0.5-6 -2.5-4 0-8 -2-2 0-8 -2-2 0.5-8 -2-2 0-8 -2-2 -0.5-2 0.5-6.5 6 23.5 2 2 4-0.5 0-4.5 2-1 1 7 1 2 -1 2 1 0.5 0 3.5 2.5 6 -0.5 6 2.5 6 -0.5 6 2 3 1 3 -1 2 0 4 3 4 -0.5 8 2 2 0.5 2 -0.5 8 2.5 2 0 2 0.5 2 -1 2 0 4 1.5 2 1 0 0.5 4 -1 2 0 4 1.5 1.5 1.5 0.5 0 4 -1 2 0 4 1.5 1.5 1.5 0.5 0 4 -1 2 0.5 4 3 2 0 4 -1.5 2 0.5 4 3 2 0 4 -1.5 2 0 2 0.5 2 3 2 2 0 1.5-2 -1.5-4 -2.5-2 0-2 -1-2 1.5 0 1.5-2 -1.5-4 -2-2 0-2.5 -1-1.5 1 0 1.5-2 -1.5-4 -2-2 0-3 -1-1 1 0 1.5-2 -1.5-4 -1.5-2 -1-4 2-2 -3-6 -1-4 2-2 -3-6 -0.5-4 1-2 -2.5-6 -0.5-4 1-2 -2.5-6 -0.5-4 1-2 -2.5-6 -0.5-4 1-2 -1-2 -2-8 1-2 -1-2 -2-8 1-2 -1-2 -1.5-8 0.5-2 -1-1.5 -1.5-8.5 0.5-2 -1-1.5 -1.5-8.5 0.5-2 -1-1.5 -1.5-8.5 0.5-2 -1-1.5 -1-10.5 -1-1.5 -0.5-6.5 -1.5-5.5 0-6.5 -2-6 0-6 -2-6 0-6.5 -1.5-5.5 -0.5-7 -1.5-5 -0.5-7.5 -1-2.5 -1-9.5 -1-2.5 -2.5-18 106 0 0.5 130 1.5 4 0.5 74 1 4 0.5 14 0.5 38 1 4 1 38 0 12 1 2 1 42 1 4 1.5 40 1 4 0.5 28 1.5 14 3 68 1 12 1 20 1.5 20 0 48 -2.5 34 -2 16 -3 6 -1.5 9 -2 0 -2-7 -2-2.5 -4 1.5 -2 10 -1 3 -1 8.5 -2 0.5 -0.5 1 -3 12 -0.5 16 -2 9 -5 11 -3 10 -3 4 -1 7 -2 4.5 -2 0.5 -2 3 -6 3.5 -2-3.5 -2 4 -8 3.5 -2-1 -2 2.5 -8 0 -4-3 -2 1.5 -2 0 -2-1.5 -6-0.5 -2 2 -2-2 -10 0 -2 2 -2-0.5 -2-3 -2 1.5 -2-2 -6-0.5 -2-2.5 -2 4 -2 2 -2-5 -2-2 -2 0 -2-2 -4-0.5 -2 2.5 -2 0 -2-4.5 -2 0.5 -4 4 -2-2 -2 0 -2 2 -4-4 -4 0 -2 2 -2-2 -2 2 -4 0 -2-2 -4 0 -4 4 -2-2 -2 2 -2-2 -10 0 -2-2 -2 2 -2 0 -2 2 -2 0 -2 1.5 -2-2.5 -2 1 -2-2 -8 0 -2-2 -2 2 -2 0 -2 2 -2-2 -4 0 -2 2 -2 0 -4-4 -2 4 -2 0 -2 2.5 -2 5.5 -2 0.5 -2 2 -4 0 -1.5-7 -2.5-6.5 -2 1.5 -2 0 -4-0.5 -2-2 -2 2.5 -2 6 -2 2 -2-2 -2 0 -2 2 -2 0 -2-2 -2-0.5 -4 4 -4-4 -2 0.5 -2-7 -1-10 -1.5-4 -1-20 -0.5-2 -2-0.5 -2-4 -2 2 -2-0.5 -2-2 -16-1.5 -2 1 -12-2 -6-3 -2 1 -4-1.5 -2-1.5 -2 0.5 -2-1.5 -4 0.5 -10-5 -2 1 -4-1 -8-3.5 -8-2.5 -11-6 -0.5-2 -0.5-4 -2-6 -10.5-24 -2.5-32 -4-28 -2.5-60 5-26 5-24 -5-46 -4-54 -7.5-28.5 -6-28 -5-43.5 0-100 5-41 6.5-31 7-28zM512 834l-2 1 -2 3 -1 2 0.5 4 2.5 4.5 4 2 4 0 4-2.5 1.5-2 1-4 -0.5-3.5 -1.5-2.5 -2.5-2 -4-1zM544 794l-2.5 2 0.5 2 15.5 20 18.5 19.5 2 1 2-0.5 0-2 -14-19 -8-9 1-4 -1-1 -2-2 -4 0.5 -6-6.5zM554 532.5l-0.5 1.5 0 2 2.5 3 1.5-1 -1-4zM560 547l0 3 2 0.5zM566 488l-2 2 1 4 3 4 2-0.5 0.5-1.5 -1-4 -1.5-2zM568 390.5l-1.5 3.5 0 2 0.5 2 3 2 2-2 -0.5-4 -1.5-2.5zM578 382l-1.5 2 1 4 2.5 2 2 0 1.5-2 -1.5-4 -2-2zM624 803.5l-2 2 -14 20.5 -2 4 0 2 2 0 2-1.5 10-12.5 6.5-12 -0.5-2.5zM570 500l-1 2 0 4 3 3.5 2 0 0.5-1.5 -2-6zM570 402l-1.5 2 0 4 1.5 1.5 2 0.5 2-1 1-1 -1.5-4 -1.5-2zM580 394l-1.5 2 1.5 4 2 2 2 0 1.5-2 -1.5-4 -2-2zM574 512.5l-1 3.5 0.5 2 2.5 3.5 2 0 0.5-1.5 0-2 -2.5-4.5zM572 414l-1.5 2 0.5 2 3 3.5 2 0 0.5-3.5 -1-2 -1.5-2zM582 406l-1.5 2 1.5 4 2 2 2 0 1.5-2 -1-4 -2.5-2zM578 524.5l-1 3.5 1 2 2 3.5 2 0 0.5-1.5 0-2 -2.5-5zM574 424.5l-1.5 1.5 1.5 4 2 2 2-0.5 1-1.5 -1.5-4 -1.5-2zM584 418.5l-1 1.5 1 4 2 2 2 0 1.5-2 -1-4 -2.5-2zM582 537l-1 3 3 5 2 0 0.5-3 -2.5-5zM576 436.5l-1 1.5 2 4 1 1.5 2 0 1-3.5 -0.5-2 -2.5-2zM586 430.5l-1 1.5 1.5 4 1.5 2 2 0 1.5-2 -1-4 -2.5-2zM586 549.5l-0.5 2.5 2 4 0.5 0.5 2 0.5 0.5-3 -0.5-1.5 -2-3zM578 447l-0.5 1 1 4 1.5 1.5 2 0 1.5-1.5 -1-4 -2.5-1.5zM588 442.5l-1 1.5 1.5 4 1.5 2 2 0 1.5-2 -1-4 -2.5-2zM582 458l-1.5 2 0 2 1.5 3 2 0.5 1-1.5 0-4 -1-1.5zM590 455l-0.5 1 1 4 1.5 1.5 2 0 1.5-1.5 -1-4 -2.5-2zM584 468.5l-1.5 1.5 0.5 4 1 1 2 0.5 1.5-1.5 -0.5-4 -1-1.5zM592 467.5l1 4.5 1 1.5 2 0 1-1.5 -0.5-4 -2.5-1.5zM586 480.5l-1 1.5 0 2 1 1.5 2 1.5 1-1 0-4 -1-1.5zM596 478.5l-2 1.5 1 4 1 1.5 2 0 1-1.5 -0.5-4zM588 491l-1 1 0.5 4 2.5 1.5 1.5-1.5 -0.5-4 -1-1.5zM598 490.5l-1.5 1.5 0.5 4 1 1 2 0.5 1-1.5 -0.5-4zM590 503l-0.5 1 0.5 2 2 2 0.5 0 1-2 -0.5-2 -1-1.5zM600 503l-1.5 1 0.5 4 1 1 2 0 1-1 -0.5-4zM592 513l-0.5 1 1.5 4 1 1 2 0 0.5-1 -1.5-4 -1-1zM602 515l-1 1 0.5 4 0.5 1 2 0 1-1 -0.5-4zM592 562l-2 0 0 2 2 4 2 0 0.5-2zM596 525l-2 1 2 4 2 0 0-3zM604 527l-1 1 0.5 4 0.5 1 2 0 0.5-1 0-4zM596 575l-0.5 1 0.5 2.5 2 0 0-1.5zM598 535l-1.5 1 1 4 0.5 1 2 0 0.5-1 0-2zM606 539.5l-0.5 0.5 0 4 0.5 0.5 2 0 0.5-0.5 -0.5-4zM600 547l-1 1 1 3.5 2 0 0.5-3.5zM608 551.5l-0.5 0.5 0 4 2.5 0.5 0-4.5zM602 557.5l-0.5 0.5 0 4 0.5 0.5 2 0 0.5-0.5 -0.5-4zM610 563.5l0 4.5 2 0 0-4zM604 569.5l0 3 2 0.5 0.5-3zM606 745l-0.5 1 0.5 4 2 4 10 12.5 3.5 3.5 1 0 -0.5-4 -5-8 -1-6 -8-7zM528 174l0.5 4 -0.5 0.5zM530 182l1 4 -1 2.5zM532 192l1 4 -0.5 2 -0.5 0zM397.5 202l0.5-0.5 0.5 0.5 0.5 2 -1 0.5zM534 202l0-1.5 1 5.5 -0.5 2 -0.5 0zM545 208l1-2 0 6.5zM547 218l1 0 1 8 -1 1zM452 264l0-1.5 1.5 1.5 0 2 -1.5 0.5zM454 270l0-2 1.5 2 -1 2zM456 274l0-0.5 0.5 0.5 1 2 -1.5 0.5zM458 280l0-1.5 1 1.5 0 2 -1 0zM462 290l0-0.5 0.5 0.5 0.5 2 -1 0.5zM472 316l0-1 1 1 0 2 -1 0zM474 322l0-2 1.5 2 -1.5 1zM476 326l0-1 1 1 0.5 2 -1.5 0.5zM478 332l0-2 1.5 2 -1.5 1.5zM480 336l0-1 1 1 0.5 2 -1.5 0.5zM482 342l0-2 1.5 2 -1.5 1zM484 346l0-1 1 1 0.5 2 -1.5 0.5zM486 352l0-2 1.5 2 -1.5 1.5zM488 356l0-1 1 1 0.5 2 -1.5 1zM490 362l0-2 1.5 2 0 2 -1.5 0zM492 366l0-1 1.5 1 0.5 2 -2 0.5zM494 372l0-2 1.5 2 0.5 2 -2 0.5zM496 376l0-1.5 1.5 1.5 0.5 2 -2 1zM498 382l0-2 2 2 0 2 -2 0.5z"/>
<path fill="#6aff8d" d="M216.5 82l39 0 0 2 13.5 26 9 12 14 22 8 13.5 8 16.5 6 6 10 13 36 50.5 3 0.5 0.5-2 -0.5-4 -1-4 -2-12 -8-26 0-2.5 4 1.5 2 0 10-1.5 4-2.5 0 1 2 1 4 7.5 21 43.5 11 20 0.5 2 1.5 2 0.5 2 1.5 2 7.5 16 8.5 15 2-0.5 0-0.5 -1.5-6 -12-34 -11-34 0.5-3 2 3.5 2 1 0-2.5 -9-27 -1-2 -0.5-4 -1.5-2 0-3 12 0 1 3 1 1 0 3 2 2 0 2 2 2 0.5 4 1.5 1.5 0 2.5 2 2 0 2 2 2.5 0.5 3.5 1.5 1.5 0 2.5 2 2 0.5 4 1.5 1.5 0.5 2.5 1.5 2 1 4 1 1 0.5 3 1.5 1.5 0 2.5 2 3 0.5 3 1.5 1.5 0 2.5 2 2.5 0.5 3.5 1.5 1.5 0.5 2.5 1.5 2 0.5 4 1.5 1.5 0.5 2.5 1.5 2 1 4 1 1 0.5 3 1.5 2 1 4 1 1 0.5 3 1.5 2 0 2 2 3 0.5 3 1.5 2 2.5 8 1.5 1.5 0.5 2.5 1.5 2.5 0.5 3.5 1.5 1.5 0.5 2.5 1.5 2 0.5 4 2 2 0 2 1.5 2.5 1 3.5 1.5 2 0 2 5.5 12 0.5 4 1.5 1.5 0.5 2.5 1.5 2 0.5 4 1.5 1.5 0.5 2.5 1.5 2 1 4 1.5 2 0 2 1.5 2 4 10 1 4 1.5 2 0.5 2 1.5 2 0.5 4 1.5 2 0 2 2 2 2 8 4 8 0.5 2 1 2 1 4 3.5 6 0.5 4 3.5 6 2.5 8 3.5 6 0.5 2 0 2 4.5 8 2 8 4 6 0.5 4 1 2 0.5 2 2 2 0.5 2.5 1.5 1.5 0 4 2 4 2.5 2 1-2 0-2 -3-5.5 -1.5-0.5 -1.5-10 -2.5-2 0-2 -1.5-2 0-4 -3.5-6 -2.5-10 -2-2 0-2 -1.5-2 0-4 -2-2 0-2 -2-2 -0.5-4 -1-1 -0.5-5 -1.5-1 -0.5-3 -2-2 0.5-4 -2-1 0-3 -2.5-2 0-4 -1.5-0.5 0-3.5 -2-2 0-4 2 2 0-4 -2-2 0-2.5 -1-1.5 -1-4.5 -1.5-1.5 -0.5-4 -1.5-2 -2.5-8.5 -1.5-1.5 -0.5-4 -1.5-2 -2.5-8 -1.5-2 -0.5-3.5 -3-6.5 -1-4 -1.5-2 -2.5-8 -1-2 -18.5-50 -26.5-66 -1.5-2 -0.5-3 -1-1 -1-4 -1.5-2 -0.5-2.5 -2-1.5 0 2 -2 0.5 0-2.5 -2-2 0-4 -2-2 -0.5-4 -1.5-1.5 0-2.5 -2-2 0-4 -2-2 -0.5-4 -1.5-1.5 0-3.5 8 0.5 0.5 2.5 1.5 1.5 0.5 2.5 1.5 2 1 4 1 1 0.5 3 1.5 2 1 4 3 6 9.5 24 8 20 1.5 2 1 3.5 1 0.5 1 4 2 2 0 1.5 0-5.5 -1-2 -1-4 -1-2 -6.5-20 -12.5-34.5 -0.5-3.5 -1.5-2 -0.5-4 -1.5-2 -0.5-4 -1.5-2 0-1 2 0 0-5 -1-2 -4-16 -1.5-2 -0.5-4 -1-2 0-5 0 1 2 2 3 8 1.5 2 7.5 18 1.5 2 0.5 2 2 1 2 2 0.5 3 1.5 1.5 0.5 2.5 1.5 2 12 29 0.5 3 1.5 2 2 8 2 3 0.5 3 1.5 2 0.5 4 1.5 1.5 2 5 0.5 3.5 1.5 2.5 2 5.5 0.5 4 1.5 1.5 0.5 2.5 1.5 2 0.5 4 1.5 2.5 0.5 3.5 2 2 2 8 3.5 8 0.5 4 1.5 2 2 4.5 1 5.5 3 6 0.5 4 4 8 0 4 3.5 6 1 6 1 1 0.5 3 2 2 0.5 4 2 6 2 2 1.5 8 2.5 4 1.5 8 2.5 4 1.5 8 4 6 0.5 6 4 6 -0.5 4 4.5 8 0 4 1.5 4 2.5 2 0.5 2 -0.5 4 2 4 2 2 0 4 2 6 2.5 2 0 4 1 4 1 2 2.5 2 0.5 8 5.5 6 -1.5 2 0.5 4 3 4 2 0 1-2 -2.5-6 -2.5-2 0.5-4 -2-6 -2.5-2 0.5-4 -1-4 -3-4 -1-8 -3-4 -1-8 -2-2 -1.5-4 -0.5-6 -2-2 -2-4 -0.5-6 -3.5-6 -0.5-6 -3.5-6 0-4 -4-8 0-4 -4-8 0-4 -1.5-2 -1-4 -1.5-2 0-4 -1.5-2 -1-4 -1-1.5 0-4.5 -2-2 0-4 -2-2 0-0.5 2.5-1.5 0-2 -0.5-6.5 -2-8 -34.5-113.5 -9-36 -24.5-76 -7.5-26 0-2 41.5 0 0 2 27 108 3 15.5 3 10.5 1 5.5 1 2.5 1 5.5 1.5 2.5 0.5 5.5 1.5 2.5 0.5 5 1.5 3 0.5 4.5 2 3.5 0 3 2 3 0-3 -1-1 -0.5-4 1-6 0.5-0.5 4 10.5 0.5 6 1.5 2 0 6 2 4 0.5 6 1.5 2.5 0.5 7.5 1.5 2 2 8 0.5 6 2 4 0 6 2 4 0 6 0.5 2 2 2 -0.5 8 2.5 2 0 4 -0.5 2 0.5 2 2.5 4 0 2 -1 2 0.5 2 2.5 4 1 4 -1 2 0.5 0.5 0.5 3.5 3 4 -1.5 2 0.5 4 1.5 2 1.5 0 0 4 -1 2 0.5 4 3 2 2-1.5 -0.5-4.5 -1.5-3 -1.5-1 -0.5-2 2-2 -0.5-4 -1.5-2 -1 0 -0.5-2 1-2 0-4 -3-4 0-2 1-2 0-4 -2.5-2 0.5-8 -2-2 -0.5-2 0.5-6 -0.5-2 -2-2 0.5-8 -2-2 -0.5-4 0.5-2 -2-6 0-6 -1.5-1.5 -0.5-2.5 -0.5-4 0.5-2 -1.5-1.5 -1-8.5 -1-1 -1-7 -1-2 0-6 -2-4 -0.5-8 -1.5-2 0-8 -2-2 0-8.5 4 15.5 1 1 1 3 4-0.5 0.5-4.5 1.5-1.5 0.5 7.5 1.5 2 0 6 2.5 6 -0.5 6 2.5 6 -0.5 6 2 2.5 1 3.5 -1 6 2 2 0.5 2 0 8 2 2 0.5 2 -0.5 8 2.5 2 0 4 -0.5 2 0 4 2.5 2 0.5 4 -1 2 0 4 3 2 0 4 -1 2 0.5 4 2.5 2 0 4 -1 2 0 2 0.5 2 2.5 2 0.5 4 -1.5 2 0 2 0.5 2 3 2 0 4 -1.5 2 0.5 2 0.5 2 2.5 2 0 3 2 1 -2 0 -1.5 2 0.5 2 3 4 2 0 1.5-2 -0.5-2 -0.5-2 -2.5-2 0-2.5 -1-1.5 1 0 1.5-2 -0.5-2 -0.5-2 -2.5-2 0-4 1.5-2 -0.5-2 -0.5-2 -2.5-2 0-4 1.5-2 -0.5-2 -2.5-4 -0.5-4 1.5-2 -0.5-2 -2.5-4 -0.5-4 1.5-2 -0.5-2 -2.5-4 -0.5-4 1.5-2 -0.5-2 -2.5-4 0-4 1-2 -3-6 0-4 1-2 -2.5-6 -0.5-4 1-2 -2.5-6 -0.5-4 1-2 -2.5-6 -0.5-4 1-2 -2.5-6 -0.5-4 1-2 -2.5-6 -0.5-4 1-2 -1.5-2.5 -0.5-3.5 -0.5-4 0.5-2 -1.5-2.5 -0.5-3.5 -0.5-4 0.5-2 -1.5-2.5 -0.5-9.5 -1.5-2.5 -0.5-9.5 -1.5-2.5 -0.5-9.5 -1.5-2 0-8 -1.5-4 -0.5-8 -1.5-4 -0.5-8.5 -1.5-3.5 -0.5-9 -1-3 -1-9 -1-3 -1-9 -1-3 -6-40 39.5 0 1.5 13 1-3 -0.5-10 64 0 0.5 130 1.5 4 0.5 74 0.5 4 0 10 1 4 0.5 38 1 4 0 12 0.5 2 0.5 36 1 2 1 42 1 4 1.5 40 1 4 0.5 28 1.5 14 3 68 1 12 1 20 1.5 20 0 48 -2.5 34 -2.5 16 -2.5 6 -1.5 9 -2 0 -2-7 -2-2.5 -4 1.5 -2 10 -1 3 -1 8 -2 1 -0.5 1 -3 12 -0.5 16 -2 9 -5 11 -3 10 -3 4 -1 7 -2 4 -2 1 -2 3 -6 3 -2-3 -2 3.5 -8 4 -2-1.5 -2 2.5 -8 0.5 -4-3 -2 1.5 -2 0 -2-2 -6 0 -2 2 -2-2 -10 0 -2 2 -2-1 -2-2.5 -2 1.5 -2-2 -6-0.5 -2-2.5 -2 4 -2 1.5 -2-4.5 -2-2 -2 0 -2-2.5 -4 0 -2 2.5 -2 0 -2-5.5 -2 1 -4 4.5 -2-2 -2 0 -2 2 -4-4 -4 0 -2 2 -2-2 -2 1.5 -4 0 -2-2 -4 0 -4 4.5 -2-2 -2 2 -2-2 -10 0 -2-2 -2 2 -2 0 -2 2 -2 0 -2 1 -2-2.5 -2 1.5 -2-2 -8 0 -2-2 -2 2 -2 0 -2 2 -2-2 -4 0 -2 2 -2 0 -4-4 -2 4 -2 0 -2 2.5 -2 5.5 -2 0.5 -2 2 -4 0 -1.5-7 -2.5-7 -2 2 -2 0 -4-0.5 -2-2 -2 2 -2 6 -2 2.5 -2-2 -2 0 -2 2 -2 0 -2-2.5 -2 0 -4 4 -4-4 -2 0.5 -2-7.5 -1-9.5 -1-4 -1-20 -1-2 -2-0.5 -2-4 -2 1.5 -2 0 -2-2 -16-2 -2 1.5 -12-2 -6-3 -2 0.5 -4-1 -2-1.5 -2 0.5 -2-2 -4 0.5 -10-4.5 -2 0.5 -4-1 -18-7 -7-4.5 0-6 -6-16 -6-14 -5.5-60 -2-60 5.5-26 5.5-24 -6-46 -5-54 -11.5-44.5 -6-26.5 -3.5-29 0-100 3.5-27 2-10.5 9-40.5 6-22zM512 833.5l-2 1 -2.5 3.5 -1 2 0.5 4 3 5.5 6 2 2-0.5 4-2.5 2-2.5 1-4 -0.5-4 -2.5-3 -2-1.5 -4-1zM544 794l-2.5 2 0.5 2 14 18 20 22.5 2 0.5 2-0.5 0-3 -16-21 -5.5-6.5 0.5-4 -1-1.5 -2-1.5 -4 0 -6-6zM554 532.5l-1 1.5 0.5 2 2.5 3.5 1.5-1.5 -1-4zM560 546.5l-0.5 1.5 0.5 2.5 2 1.5 0-2.5zM574 512l-1 2 0 4 3 3.5 2 0 1-1.5 -0.5-2 -2.5-5zM570 402l-1.5 2 0 4 1.5 1.5 2 0.5 2-0.5 1-1.5 -1.5-4 -1.5-2zM584 418l-1 2 1 4 2 2 2 0 1.5-2 -1-4 -2.5-2zM624 803l-4 5 -14 20 -0.5 2 0.5 2.5 2 0 2-2 10-12.5 6.5-12 0.5-2 -1-1zM578 524.5l-1 3.5 0.5 2 2.5 3.5 2 0 1-1.5 -0.5-2 -2.5-5zM572 413l-1.5 3 0 2 3.5 4 2-0.5 1-3.5 -3-5zM586 430l-1 2 1.5 4 1.5 2 2 0 1.5-2 -1-4 -2.5-2zM582 536.5l-1 3.5 3 5 2 0.5 1-3.5 -3-5zM574 424l-1.5 2 1.5 4 2 2 2 0 1.5-2 -0.5-2 -3-4zM588 442.5l-1 1.5 1.5 4 1.5 2 2 0 1.5-2 -0.5-4 -3-2zM586 549l-0.5 3 2.5 5 2 0 1-3 -1-2 -2-3zM576 436.5l-1 1.5 2 4 1 1.5 2 0 1-1.5 0-4 -3-2zM590 455l-0.5 1 1 4 1.5 2 2 0 1.5-2 -0.5-4 -3-2zM590 561.5l0 2.5 2 4 2 0.5 0.5-2.5 -0.5-2 -2-2.5zM578 447l-0.5 1 1 4 1.5 1.5 2 0.5 1.5-2 -0.5-4 -3-2zM592 467.5l-0.5 0.5 1 4 1.5 1.5 2 0 1.5-1.5 -0.5-4 -3-2zM582 458l-1.5 2 0 2 1.5 3 2 0.5 1-1.5 0-4 -1-1.5zM594 480l1 4 1 1.5 2 0 1.5-1.5 -0.5-4 -3-1.5zM584 468.5l-1.5 1.5 0.5 4 1 1.5 2 0 1.5-1.5 -0.5-4 -1-1.5zM598 490.5l-1.5 1.5 0.5 4 1 1.5 2 0 1-1.5 0-4zM586 480.5l-1 1.5 0 2 1 2 2 1 1-1 0-4 -1-1.5zM600 502.5l-1.5 1.5 0.5 4 1 1 2 0 1-1 -0.5-4zM588 490.5l-1 1.5 0.5 4 2.5 1.5 1.5-1.5 -0.5-4 -1-1.5zM602 515l-1 1 0 4 1 1 2 0 1-1 -0.5-4zM590 503l-0.5 1 0.5 2.5 2 2 1-0.5 0.5-2 -0.5-2 -1-1.5zM604 527l-1 1 0.5 4 0.5 1 2 0 0.5-1 0-4zM592 513l-0.5 1 1 4 1.5 1 2 0 0.5-1 -1.5-4 -1-1zM606 539l-1 1 0.5 4 0.5 0.5 2 0.5 0.5-1 0-4zM594 526l2 4 2 0 0.5-2 -1-2 -1.5-1zM608 551.5l-0.5 0.5 0 4 2.5 0.5 0-4.5zM596 575l-0.5 1 0.5 2.5 2 0.5 0-2.5zM598 535l-1.5 1 1 4 0.5 1 2 0 0.5-1 0-2zM610 563.5l0 4.5 2 0.5 0-4.5zM600 547l-1 1 1 4 2 0 0.5-4zM602 557l-0.5 1 0 4 0.5 0.5 2 0.5 0.5-1 -0.5-4zM604 569.5l0 3 2 0.5 0.5-3 -0.5-0.5zM606 580l0 2 2 2 0-4zM606 742l-2 0 0 4 4 8 12 15 1 1 2 0 0-2 -0.5-2 -5-8 -0.5-2 1-4 -2-2 -2-0.5zM538 224l0-1.5 1 3.5 -1 1zM438 228l0-1.5 1.5 1.5 0 2 -1.5 0zM540 232l1 4 0 2 -1 0zM551 242l1-0.5 0 5.5zM490 362l0-1 1 1 -0.5 2 -0.5 0zM494 372l0-1 1 1 0 2 -1 0.5zM498 382l0-1 1 1 0.5 2 -1.5 0.5zM500 388l0-1.5 1.5 1.5 -1.5 1zM502 392l0-1 1 1 0.5 2 -1.5 0.5zM504 398l0-1.5 1.5 1.5 -1 2 -0.5 0zM506 402l0-1 1 1 0.5 2 -1.5 0.5zM508 408l0-2 1.5 2 0 2 -1.5 0zM510 412l0-1 1.5 1 0.5 2 -2 0.5zM512 418l0-2 2 2 -1.5 2 -0.5 0zM514 422l0-1.5 1.5 1.5 0.5 2 -2 1.5z"/>
<path fill="#73ff83" d="M219 82l36 0 0 2 9 18 6 15.5 4 1.5 2 2.5 12 18.5 5.5 12 8.5 23 3 5 4.5 4 8.5 3.5 4 4.5 35.5 50 4.5 5 2 0.5 1.5-1.5 0-10 -1.5-12 0-3.5 8 3 14-1.5 4 6.5 38 73.5 4 6.5 2-0.5 0-2 -16.5-52 0-4 0.5-1 1 1 1 1.5 0.5-1.5 0-4 -6.5-18.5 -1-5.5 1-1 10 0 2 1 0.5 4 1.5 1.5 0 2.5 2 2 0 2 2 2 0.5 4 1.5 1.5 0 2.5 2 2 0.5 4 1.5 1.5 0 2.5 2 2 1 4 1 1 0.5 3 1.5 1.5 0 2.5 2 3 0.5 3 1.5 1.5 0 2.5 2 2 0.5 4 1.5 1.5 0 2.5 2 2 0.5 4 1.5 1.5 0.5 2.5 1.5 2 0.5 4 1.5 1.5 0.5 2.5 1.5 2 2.5 8 1.5 2 0.5 2 1.5 3 0.5 3 1.5 2 0.5 2 1.5 2.5 0.5 3.5 1.5 2 0.5 2 1.5 3 0.5 3 1.5 1.5 0.5 2.5 1.5 3 0.5 3 1.5 1.5 0.5 2.5 1.5 2.5 0.5 3.5 1.5 1.5 0.5 2.5 1.5 2 0.5 4 1.5 1.5 0.5 2.5 1.5 2 1 4 1.5 2 0 2 1.5 2.5 4 10 0.5 3.5 2 2 0 2 1.5 2 0.5 4 2 2 0 2 2 2 2 8 4 8 0 2 1.5 2 1 4 1.5 2 0.5 2 1.5 2 0.5 4 3.5 6 2.5 8 4 8 0 2 4 8 2.5 8 3.5 6 0.5 4 1.5 2 0.5 2 2 2 0.5 2.5 1.5 1.5 0 4 2 4 2.5 2 0 2 2 1.5 0-1.5 -2-2 1-4 -3-5.5 -1-0.5 -2-10 -2-2 0-2 -1.5-2 0-4 -4-6 -2-10 -2-2 0-2 -2-2 0-4 -1.5-1.5 -0.5-2.5 -2-2 0-4 -1.5-1 0-11 -1.5-2 -0.5-4.5 -1.5-1.5 -0.5-3.5 -1.5-2.5 -0.5-2.5 -1-1.5 -1-4 -1.5-2 -2.5-8 -1-2 -1-4 -5-12 -2.5-8 -1.5-2 -32-86 -21.5-54 -9.5-27 0-2 2 0 0.5 3 1.5 1.5 0.5 2.5 1.5 1.5 2.5 8.5 1.5 2 3 8 1.5 2 15.5 38.5 1.5 1.5 0.5 2.5 2 2 0-3.5 -1.5-3 -0.5-3.5 -11-32.5 -1-2 -1-4 -1.5-2 -0.5-4 -1-1 -0.5-3 -1.5-3 -0.5-3 -1.5-2.5 0-3.5 -1.5-2 1.5-1 0.5-3 -3-12 0.5-5 10 19.5 2 0.5 2 1.5 1 3.5 1 1 0.5 3 1.5 1.5 4.5 12.5 3.5 7 0.5 3 1.5 2 1 4 1 1.5 0 2.5 4 8 0.5 4 1.5 1.5 0.5 2.5 1.5 3 1 5 1 1 0.5 3 1.5 2 0.5 4 1.5 1.5 1 4.5 1.5 2 1.5 4.5 0.5 3.5 1.5 2 2 5 0.5 5 1.5 1.5 2 4.5 0.5 4 4 8 0 4 1.5 2 0.5 2 2 4 0.5 4 1 1.5 0.5 2.5 2 2 0 4 2 6 2 2 0.5 4 1 1.5 1 4.5 2 2 1.5 8 2.5 4 1 3 0.5 5 3.5 6 1 6 3.5 6 0 4 4.5 8 -0.5 4 4.5 8 0 4 1 1 1 3 2 2 0 4 2 6 2.5 2 0 4 1 4 1 2 2 2 1 8 4 6 0.5 6 4.5 6 -0.5 2 0 4 3 4 2 0 1-2 -2-6 -3-2 1-4 -2.5-6 -2-2 0.5-4 -2.5-6 -2-2 0-4 -1-4 -3-4 -1-8 -3-4 -1-8 -2.5-4 -1.5-8 -2-2 -1.5-4 -0.5-6 -2-2 -1.5-4 -1-6 -3-6 -1-6 -3-6 -0.5-4 -3.5-8 -0.5-4 -1.5-2.5 -0.5-3.5 -1.5-2 0-4 -2-3 0-3 -1.5-2 1.5-2 0.5-4 -2.5-12 -38-126 -9.5-36 -20.5-64 -10.5-38 0-2 40 0 0 2 27 108 3 16 9.5 36 1 5.5 1 2.5 1 5.5 1 2.5 1 5.5 1.5 2.5 0.5 5.5 1.5 2.5 0.5 5.5 1.5 2.5 0.5 5 1.5 3 0.5 4 1.5 2 0.5 1.5 0-3.5 -1.5-4 0-6 -1.5-4 -1.5-12 0.5-3 2 5.5 0.5 3.5 1.5 2 0 6 2 3.5 0.5 6.5 1.5 2.5 0.5 5.5 1.5 3.5 0.5 4.5 1.5 4 0.5 6 2 4 0.5 8 1.5 2 0 8 2.5 2 -0.5 8 2.5 4 0.5 2 -1 2 0.5 2 2.5 4 0.5 4 -1 2 1 1 0.5 3 2.5 4 -1.5 2 1 4 3 4 -1 4 0 4 3 2 0.5 2 -1.5 2 0 4 1.5 1.5 2 0.5 -0.5 4 -1 2 0 2 3.5 4 2 0 1-2 0-2 -2.5-4 -0.5-2 -1 0 -1-2 2-0.5 1-1.5 -1.5-4 -3-4 2-2 -1-4 -3-6 1.5-2 -0.5-4 -2-2 -0.5-2 0.5-2 0-4 -2.5-4 0.5-8 -2-2 0-8 -1.5-2 -1-2 0.5-6 0-2 -2-2 0-8 -2-2 0-8 -1.5-2 -0.5-2 0-6 -1.5-2 -0.5-8 -1.5-1.5 -0.5-8.5 -1.5-1.5 -0.5-6.5 -0.5-2 -1-0.5 0-8.5 4 14 4-0.5 0.5-4.5 1.5-3 0 9 2 1.5 0 6.5 2.5 6 -0.5 6 2 3.5 0.5 2.5 -0.5 6 2.5 4 0 8 1.5 2 0.5 2 0 8 2 2 0.5 2 -0.5 8 2.5 2 -0.5 10 2.5 2 0.5 4 -1 2 0.5 4 2 2 0.5 4 -1 2 0 2 0.5 2 2.5 2 0 4 -1 2 0 2 1 2 2 2 0 4 -1 2 0.5 2 0.5 2 2 2 0.5 4 -1.5 2 1.5 4 2 2 0 3 1 1 -1 0 -1 2 1 4 4 6 -2 0.5 -1 1.5 1.5 4 1.5 2 2 0 1.5-2 0-2 -0.5-2 -3-2 0-4 1.5-2 0-2 -0.5-2 -3-2 0-4 1.5-2 0-2 -0.5-2 -2.5-2 -0.5-4 1.5-2 0-2 -0.5-2 -2.5-2 0-4 1-2 0-2 -1-2 -2-2 0-4 1-2 0-2 -1-2 -2-2 0-4 1-2 -0.5-2 -0.5-2 -2-2 0-4 1-2 -0.5-2 -2.5-4 0.5-8 -2-4 -0.5-4 1-2 -0.5-2 -2-4 -0.5-4 1-2 -0.5-2 -2-4 -0.5-4 1-2 -2.5-6 0-4 0.5-2 -2.5-6 0-4 0.5-2 -2-6 -0.5-4 0.5-2 -2-6 0-6 -2-6 0-6 -1.5-3.5 0-8.5 -2-3.5 0-8.5 -2-3.5 0-8.5 -2-4 0-8 -1.5-4 -0.5-8 -1.5-4 -0.5-8.5 -1.5-3.5 -0.5-8.5 -1-3.5 -1-8.5 -1-3.5 -1-8.5 -1-3.5 -10-62 39 0 0 3 1 3 1 9.5 1.5 2.5 0.5 9.5 1-1.5 0-2 -2-24 63.5 0 0.5 130 1 4 0.5 74 1 4 0 10 1 4 0.5 38 0.5 4 0 12 1 2 0.5 36 1 2 0.5 12 0.5 30 1 4 0.5 10 0.5 30 1 4 1 28 0.5 10 1 4 2.5 68 1.5 12 1 20 1.5 20 0 48 -2.5 34 -2.5 16 -2.5 6 -1.5 8.5 -2 0.5 -1.5-7 -2.5-3 -4 2 -2 10 -1.5 3 -0.5 8 -2 0.5 -0.5 1.5 -3 12 -0.5 16 -1.5 4 -0.5 4.5 -5 11.5 -3 9.5 -3 4.5 -1 6.5 -2 4.5 -2 0.5 -2 3 -6 3.5 -2-3.5 -2 4 -8 3.5 -2-1 -2 2.5 -8 0.5 -4-3.5 -2 2 -2 0 -2-2 -6-0.5 -2 2.5 -2-2 -10-0.5 -2 2 -2-0.5 -2-3 -2 1.5 -2-2 -6-0.5 -2-2.5 -2 4 -2 2 -2-5 -2-2 -2 0 -2-2.5 -4-0.5 -2 3 -2 0 -2-5.5 -2 1 -4 4.5 -2-2 -2 0 -2 2 -4-4 -4 0 -2 2 -2-1.5 -2 1.5 -4 0 -2-2 -4 0 -4 4 -2-2 -2 2 -2-2 -10 0 -2-2 -2 2 -2 0 -2 2 -2 0.5 -2 1 -2-2.5 -2 1 -2-2 -8 0 -2-2 -2 2 -2 0 -2 2 -2-2 -4 0 -2 2 -2 0 -4-4 -2 4 -2 0 -2 2.5 -2 6 -2 0 -2 2 -4 0 -1.5-6.5 -2.5-7 -2 1.5 -2 0 -4-0.5 -2-2 -2 2.5 -2 6 -2 2 -2-2 -2 0 -2 2 -2 0 -2-2 -2-0.5 -4 4 -4-4 -2 1 -2-7.5 -1-9.5 -1-4 -1-20 -1-2.5 -2-0.5 -2-4 -2 2 -2-0.5 -2-2 -16-1.5 -2 1 -12-2 -6-2.5 -2 0.5 -4-1 -2-2 -2 0.5 -2-1.5 -4 0.5 -10-5 -2 1 -4-1 -18-7.5 -3.5-2 -1-2 0-6 -0.5-2 -11-28 -4-60 -1.5-60 5.5-26 6.5-24 -8.5-58.5 -4-41.5 -16-60 -6-25.5 -1.5-14.5 0-100 1.5-13.5 6.5-32.5 7-30 6.5-24zM510 834l-2 2 -1.5 4 0 4 1.5 3.5 2 3.5 2 0 4 1 4-1 3.5-3 2-4 0-4 -1.5-3.5 -2.5-2.5 -3.5-1.5 -4-0.5zM544 793.5l-2 1 -0.5 1.5 0 2 12.5 16 22 24.5 2 1 2-1 0.5-2.5 -0.5-1 -16-21 -5.5-6 0.5-4 -1-1.5 -2-1.5 -4 0 -6-6.5zM554 532l-1 2 0.5 2 0.5 1.5 2 2 2-1.5 -1-2 -0.5-2zM560 546l-1.5 0 1.5 5 2 1 0.5-2zM578 524l-1 4 0.5 2 2.5 3.5 2 0.5 1-2 0-2 -3-5zM574 424l-1.5 2 1 4 2.5 2 2 0 1.5-2 -0.5-2 -3-4zM590 454.5l-1 1.5 1.5 4 1.5 2 2 0 1.5-2 -0.5-4 -3-2zM624 802.5l-18 25.5 -1 2 1 2.5 2 0 2-1.5 10.5-13 6.5-12 0.5-2 -1.5-1.5zM582 536.5l-1 3.5 3 5.5 2 0 1-3.5 -3-5zM578 435l-2 1 -1 2 3 6 2 0 1-2 0-4 -3-2zM592 467l-0.5 1 1 4 1.5 1.5 2 0.5 1.5-2 -0.5-4 -3-2zM586 548.5l-0.5 3.5 2.5 5 2 0.5 1-3.5 -3-5zM578 446.5l-1 1.5 1.5 4 1.5 2 2 0 1.5-2 -0.5-4 -3-2zM594 479.5l1 4.5 1 1.5 2 0 1.5-1.5 -0.5-4 -1-1 -2-0.5zM590 561.5l0 2.5 2 4 2 0.5 1-2.5 -1-2 -2-3zM582 458l-2 2 0.5 2 1.5 3 2 0.5 1-1.5 0-4 -1-1.5zM598 490.5l-2 1.5 1 4 1 1.5 2 0 1.5-1.5 -0.5-4 -1-1zM584 468.5l-1.5 1.5 0.5 4 1 1.5 2 0 1.5-1.5 -0.5-4 -1-1.5zM600 502.5l-1.5 1.5 0.5 4 1 1 2 0.5 1-1.5 0-4zM586 480.5l-1 1.5 0 2 1 2 2 1 1-1 0-4 -1-1.5zM602 515l-1.5 1 0.5 4 1 1 2 0 1-1 -0.5-4zM588 490.5l-1 1.5 0.5 4 2.5 1.5 2-1.5 -1-4 -1-1.5zM604 527l-1 1 0 4 1 1 2 0 1-1 -0.5-4zM590 502.5l-1 1.5 1 3 2 1.5 2-0.5 -1-4 -1-1.5zM606 539l-1 1 0.5 4 0.5 1 2 0 0.5-1 0-4zM592 513l-0.5 1 1 4 1.5 1 2 0 0.5-1 -1.5-4 -1-1.5zM608 551l-0.5 1 0 4 0.5 0.5 2 0 0.5-0.5 0-4zM594 525.5l2 5 2 0 0.5-2.5 -1-2 -1.5-1.5zM610 563.5l-0.5 0.5 0.5 4 2 0.5 0-4.5zM596 574.5l-1 1.5 0.5 2 0.5 1 2 0.5 0-3.5zM598 535l-2 1 1 4 1 1 2 0 0.5-1 0-2 -1-2zM600 547l-1 1 1 4 2 0 0.5-2 0-2zM602 557l-1 1 0.5 4 0.5 1 2 0 0.5-1 0-4zM602 739.5l0 2.5 6 12.5 12 15 2 1 1-0.5 0.5-2 -5.5-10 -0.5-2 0.5-2 0-2.5 -6-4 -8-8zM604 569l-0.5 3 0.5 1 2 0.5 0.5-3.5 -0.5-0.5zM606 579.5l0 3 2 1.5 0-4zM544 254l0-1.5 1 3.5 -1 1.5zM546 262l1 4 -1 1.5zM514 424l0-1.5 1.5 1.5 -1.5 1zM518 434l0-1.5 1.5 1.5 -1.5 1zM520 438l0-1 1 1 0.5 2 -1.5 0.5zM522 444l0-1.5 1.5 1.5 -1.5 0.5zM524 448l0-1 1 1 0.5 2 -1.5 1zM525.5 454l0.5-2 2 2 -2 1z"/>
<path fill="#7aff7d" d="M221 82l33.5 0 0 2 5.5 12 4.5 16 4.5 12 1 1.5 4 1 2 1.5 6 9.5 7 14.5 9 23.5 4.5 8.5 5 4 10.5 3.5 4 2.5 8 10 22 32 7.5 10 4.5 4.5 2 0.5 2-1 4-9.5 12 7.5 16 5.5 15.5 28.5 6.5 10 7 14 5 7.5 2 0 0.5-3.5 -6.5-20 -4.5-18 0.5-2 2 3 2 1 0.5-2 -3.5-14 -1-2 0-2 0-1 12 0 0 1 2 2 0 4 2 2 0 2 2 2 0.5 4 1.5 1.5 0 2.5 2 2 1 4 1 1 0.5 3 1.5 1.5 0 2.5 2 2.5 0.5 3.5 1.5 1.5 0 2.5 2 2 0.5 4 1.5 1.5 0 2.5 2 2 0.5 4 1.5 1.5 0 2.5 2 2 1 4 1 1 0.5 3 1.5 2 0 2 2 3 0.5 3 1.5 2 1 4 1 1 0.5 3 1.5 1.5 1 4.5 1 1 0.5 3 1.5 1.5 0.5 2.5 1.5 3 0.5 3 1.5 2 0.5 2 1.5 2.5 0.5 3.5 1.5 1.5 0.5 2.5 1.5 2.5 1 3.5 1.5 2 0 2 5.5 12.5 0.5 3.5 2 2 0 2 1.5 2 0.5 4 1.5 1.5 0.5 2.5 1.5 2 2.5 8 4 8 0 2 1.5 2 1 4 1.5 2 0.5 2 1.5 2 0.5 4 3.5 6 2 8 4.5 8 0 2 4 8 2.5 8 3.5 6 0.5 4 1.5 2 0 2 2 2 1 3 1 1 0.5 4 2.5 5 1.5 1 0.5 2.5 1.5 1.5 -0.5 2 1 4 2 2 2 0 0-2 -1-2 0-2 -3-2 0-2 -1.5-2 0.5-4 -4.5-8 -1.5-8 -2-2 0-2 -1.5-2 0-4 -3.5-6 -0.5-4 -1.5-2 -0.5-4 -2-2 0-2 -2-2 0.5-4 -2-1.5 0-2.5 -2-2 0-4 2 1.5 0-3.5 -1.5-2 -0.5-4 -1-2 -1-4 -1.5-2 -2.5-8 -1-2 -2.5-8 -1.5-2 -1-4 -38.5-100 -8.5-24 -5-12 -1-4 -3-6.5 -0.5-3.5 -1.5-2 -0.5-4 -1.5-1.5 -1-4.5 -1-1 -1-5 1-1 1 3 1 0.5 0.5 3.5 1.5 1.5 0.5 2.5 1.5 2 1 4 1 1 13.5 33 1.5 2 1 3 1 1 1 3 2 0 0-1 -1.5-2 -0.5-4 -1-2 -1-4 -14-42 -0.5-4 2.5-8 2 1 4 5.5 4 1.5 0 2 2 2.5 1 3.5 1 1 0.5 3 1.5 2 0 2 2 3 0 3 2 2 0.5 4 1.5 1.5 0.5 4.5 1.5 1.5 0 2.5 2 2 0.5 4 1.5 2 0.5 4 1.5 2 1 4 1 1 0 3 4 7.5 0.5 4.5 1.5 1.5 2 5 1 5.5 3 6 0.5 4 1.5 2 0.5 2 2 4 0 4 1.5 1.5 0.5 2.5 1.5 2 0.5 4 1.5 3 0.5 3 2 2 0.5 4 1 1.5 1 4.5 1.5 2 2 8 2.5 4 1 3.5 0.5 4.5 1.5 2 2 4.5 1 5.5 3.5 6 0 4 4.5 8 -0.5 4 4.5 8 0 4 1 1 0.5 3 2 2 0.5 4 2 6 2 2 0 4 2 6 2.5 2 1 8 3 4 1 8 4.5 6 0 6 4.5 6 -1 4 1 2 2.5 4 2 0 1-2 0-2 -2-4 -1-1.5 -1.5-0.5 -0.5-2 1-2 -0.5-2 -1.5-4 -2.5-2 0.5-4 -0.5-2 -1.5-4 -2.5-2 0.5-4 -2.5-6 -2-2 0.5-4 -2.5-6 -1.5-2 -0.5-4 -1-4 -2.5-4 -1.5-8 -2.5-4 -1.5-8 -1.5-2 -2-4.5 -0.5-5.5 -2-2 -1.5-4.5 -0.5-5.5 -2-2 -1.5-4 -0.5-6 -1.5-1.5 -2-4.5 -0.5-6 -1.5-1.5 -0.5-2.5 -1.5-2.5 -0.5-5.5 -1.5-2 0-13 -4-16 -40-132 -7.5-29 -18.5-58.5 -14-49.5 0-2 39 0 0 2 21.5 84 8.5 40 21 83.5 1 2.5 1 6 1 2 1 6 1 2 1 6 1.5 2 0.5 5.5 1.5 2.5 0.5 4.5 2 0 0-0.5 -1.5-2 -0.5-8 -1-2 -2.5-16 -1-4 -0.5-6 -1.5-4 0.5-3.5 0 1.5 2 3.5 0.5 6.5 1.5 1.5 0.5 6.5 1.5 2.5 0.5 5.5 1.5 3.5 0 4.5 2 4 0.5 8 2 2 0 8 2 2 0 8 1.5 1.5 1 2.5 -0.5 6 1.5 1.5 1 2.5 0.5 4 -1 2 1.5 1 0.5 3 2 4 -1.5 2 1 0.5 0.5 3.5 2.5 4 -0.5 4 0 4 2.5 2 0.5 2 -1 2 0 4 1.5 1.5 1.5 0.5 -1 8 3 4 0.5 2 -1.5 2 0 2 1 2 2.5 2 0 4 -1.5 2 3.5 6 2 0 1-2 0-4 -2.5-2 -0.5-4 1.5-2 -0.5-2 -3-4 1-6 -2.5-4 -0.5-3 -1-1 1 0 1-2 -3.5-8 1-2 -3.5-10 1-2 -0.5-4 -2.5-4 0.5-6 -2-4 -0.5-2 1-2 -0.5-4 -2-2 0.5-8 -2.5-4 0-8 -2-2 0.5-8 -2-2 0-8 -2-2.5 -0.5-1.5 0.5-8 -2-0.5 0-1.5 0-5 2 7 2 1.5 4-0.5 0 1 2 1.5 0 6.5 2.5 6 -0.5 6 2 4 0 8 2 2 0.5 2 0 8 2 2 0 2 0 8 2 2 0 10 2.5 2 0 4 -0.5 2 0.5 4 2 2 0 4 -0.5 2 0 2 0.5 2 2 2 0.5 4 -1 2 0 2 1 2 2 2 0 4 -1 2 0.5 2 2.5 4 0.5 4 -1.5 2 1.5 4 1.5 2 1 4 -1.5 2 4.5 10 -1.5 0.5 -1 1.5 1.5 4 1.5 2 1.5 0 0.5 1.5 0-1.5 1.5-2 -0.5-4 -2.5-2 0-4 1-2 -0.5-4 -2.5-2 0-4 1-2 0-2 -0.5-2 -2.5-2 0-4 1-2 0-2 -0.5-2 -2.5-2 0-4 1-2 0-2 -0.5-2 -2.5-2 0-4 1-2 0-2 -0.5-2 -2-2 0.5-8 -0.5-2 -2-2 0.5-8 -0.5-2 -2-2 0.5-8 -2.5-4 0.5-8 -2.5-4 0.5-8 -2.5-4 0.5-8 -2-4 0-8 -2-4 0-8 -2-4 0-8 -1.5-2 -0.5-2 0-8 -1.5-2 -0.5-10 -1.5-2 0-8 -0.5-2 -1-2 -0.5-8.5 -1.5-3.5 -0.5-9.5 -1-2.5 -1-10 -1.5-4 -0.5-8 -1.5-4 -0.5-8 -1-4 -1-8 -1-4 -16-96 38.5 0 4.5 29.5 1.5 2.5 0.5 9.5 1-1.5 0.5-4 -3.5-36 62 0 0.5 130 0.5 2 1 2 0.5 74 0.5 14 1 1 0.5 3 0 38 1 4 0 12 1 2 0.5 36 0.5 2 0 8 1 4 0.5 30 1.5 14 0.5 30 1 4 1 28 0.5 10 1 4 2.5 68 1.5 12 0.5 20 2 20 0 48 -2.5 34 -2.5 16 -2.5 6 -1.5 8.5 -2 0 -1.5-6.5 -2.5-3 -4 2 -2 9.5 -1.5 3.5 -0.5 7.5 -2 1 -0.5 1.5 -2.5 10 -1 19 -1.5 3 -0.5 4.5 -5 11.5 -3 9 -2.5 3 -1.5 8.5 -2 4 -2 1 -2 3 -6 3 -2-3 -2 3.5 -8 4 -2-1 -2 2 -8 0.5 -4-3 -2 1.5 -2 0 -2-1.5 -6-0.5 -2 2 -2-2 -10 0 -2 2 -2-1 -2-2.5 -2 1.5 -2-2 -6-1 -2-2 -2 3.5 -2 2 -2-4.5 -2-2 -2 0 -2-3 -4-1 -2 3.5 -2 0 -1.5-5.5 1.5-0.5 2.5 0.5 1.5 1.5 2-0.5 6-5 2-4 0-4 -2-4.5 -4-3 -4-1 -4 1 -2 1 -3.5 4.5 -0.5 6 3.5 8 -1.5 1 -4 5 -2-2 -2 0 -2 2 -4-4 -4 0 -2 2 -2-2 -2 1.5 -4 0 -2-2 -4 0 -4 4.5 -2-2 -2 2 -2-2 -10 0 -2-2 -2 2 -2 0 -2 2 -4 1 -2-2 -2 1 -2-2 -8 0 -2-2 -2 2 -2 0 -2 2 -2-2 -4 0 -2 2 -2 0 -4-4 -2 4 -2 0 -2 2.5 -2 5.5 -2 0.5 -2 2 -4 0 -1-6.5 -3-7.5 -2 2 -2 0 -4-0.5 -2-2 -2 2 -2 6.5 -2 2 -2-2 -2 0 -2 2 -2 0 -2-2.5 -2 0 -4 4 -4-4 -2 0.5 -2-7.5 -1-9 -1-4 -1-20 -1-2.5 -2-0.5 -2-4 -2 2 -2-0.5 -2-2 -16-2 -2 1.5 -12-2 -4-2.5 -2-0.5 -2 0.5 -4-1 -2-1.5 -2 0.5 -2-1.5 -4 0 -10-4.5 -2 1 -4-1.5 -17-7 -2.5-2 -0.5-8 -1-4 -10-26 -2.5-60 -1-60 6-26 7-24 -14.5-100 -26-100 0-100 6-32 8.5-38 8.5-30zM544 793.5l-2 1 -1 1.5 0.5 2 10.5 14 24 27 2 1 2-1 1-1 0-2 -1-1.5 -14-18.5 -7-8 0-4 -1-1.5 -2-1.5 -4 0 -6-7zM558 545.5l2 6 2 1 0-3.5 -2-3.5zM582 536l-1 4 3 5.5 2 0.5 1-2 0-2 -3-5.5zM578 446.5l-1 1.5 1.5 4 1.5 2 2 0 1.5-2 -0.5-4 -3-2zM592 467l-0.5 1 1 4 1.5 2 2 0 1.5-2 -0.5-4 -1-1.5 -2-0.5zM580 125.5l0 10 0.5-3.5zM626 802l-2 0.5 -2 2 -16.5 23.5 -0.5 2 1 2.5 2 0.5 2-1.5 10.5-13.5 7-12 0.5-2zM586 548.5l-1 3.5 3 5 2 0.5 1-3.5 -3-5.5zM582 457.5l-2 2.5 0.5 2 1.5 3.5 2 0 1-1.5 0.5-4 -1.5-1.5zM594 479.5l0.5 4.5 1.5 1.5 2 0.5 1.5-2 -0.5-4 -1-1.5 -2-0.5zM590 561l-0.5 3 2 4 2.5 1 1-3 -0.5-2 -2.5-3zM584 468l-1.5 2 0.5 4 1 1.5 2 0.5 1.5-2 -0.5-4 -1-1.5zM598 490.5l-2 1.5 1 4 1 1.5 2 0 1.5-1.5 -0.5-4 -1-1zM586 480l-1.5 2 0.5 2 1 2.5 2 1 1-1.5 0.5-4 -1.5-2zM600 502.5l-1.5 1.5 0.5 4 1 1.5 2 0 1-1.5 0-4 -1-1zM588 490.5l-1 1.5 0.5 4 2.5 1.5 2-1.5 -1-4 -1-1.5zM602 514.5l-1.5 1.5 0.5 4 1 1 2 0 1-1 0-4zM590 502.5l-1 1.5 1 3 2 2 2-1 -0.5-4 -1.5-1.5zM604 527l-1 1 0 4 1 1 2 0 1-1 -0.5-4zM592 512.5l-1 1.5 1.5 4 1.5 1.5 2-0.5 0.5-1 -1.5-4 -1-1.5zM606 539l-1 1 0.5 4 0.5 1 2 0 0.5-1 0-4zM594 525.5l-0.5 0.5 2.5 4.5 2 0 0.5-2.5 -0.5-2 -2-1.5zM608 551l-1 1 0.5 4 0.5 1 2 0 0.5-1 0-4zM596 536l1 4 1 1 2 0 1-1 -1.5-4 -1.5-1zM610 563.5l-0.5 0.5 0 4 2.5 0.5 0.5-4.5zM596 574l-1 2 0.5 2 0.5 1 2 1 0.5-2 -0.5-2zM600 546.5l-1 1.5 1 4 2 0.5 1-2.5 -0.5-2zM612 576l0 3 2 0.5 0-2.5 -0.5-1zM602 557l-1 1 0.5 4 0.5 1 2 0 1-1 -0.5-4zM600 736l0 2 4 10 4 7 12 15 2 0.5 1.5-0.5 0.5-2 -6-10 -0.5-2 1-4 -0.5-1.5 -8-5 -5-5.5 -3-4zM604 569l-0.5 3 0.5 1 2 0.5 0.5-3.5 -0.5-1zM606 579.5l0 3.5 2 1.5 0-4.5zM552 292l1 2 -1 1.5zM528 458l0-0.5 0.5 0.5 1 2 -1.5 0.5z"/>
<path fill="#83ff73" d="M224.5 82l29 0 0 2 4 10 3.5 18 5 14 4 8 4 0 2 2 4 6.5 6 12 12 29.5 6 6.5 14 4.5 6 3.5 2 2 26 38 12 14 4 2 2 0 2-0.5 4-2.5 36 28.5 24 39 2 0.5 1-1.5 0-4 -3-10 -1-8 1-2 2 2.5 2 0 -1-10.5 1-1 10 0 2 1 0 4 2 1.5 0 2.5 2 2 0.5 4 1.5 1 0 3 2 2 0 2 2 2.5 0 3.5 2 1.5 0 2.5 2 2 0.5 4 1.5 1.5 0 2.5 2 2 0.5 4 1.5 1.5 0 2.5 2 2 0.5 4 1.5 1.5 0.5 2.5 1.5 1.5 0.5 4.5 1.5 1.5 0.5 2.5 1.5 2 1 4 1 1 0.5 3 1.5 2 0.5 2 1.5 3 0.5 3 1.5 2 0 2 2 2.5 0.5 3.5 1.5 1.5 1 4.5 1 1 0.5 3 1.5 1.5 1 4.5 1 1 0.5 3 2 2 0 2 1.5 2 0.5 4 1.5 1.5 0.5 2.5 1.5 2 1 4 1.5 2 0 2 4 8 0 2 1.5 2.5 0.5 3.5 2 2 0.5 2 1.5 2 0.5 4 3.5 6 0.5 4 6 12 -0.5 2 4.5 8 2.5 8 3.5 6 0.5 4 1.5 2 0 2 2 2 2 4 0.5 4 2.5 5.5 1.5 0.5 0.5 3 1 1 1 6 2 2.5 2 1 0.5-3.5 -1.5-2 0-2 -2.5-2 0-2 -1.5-2 0-4 -4-8 -0.5-4 -1-2 0-2 -2.5-2 0-2 -1.5-2 0-4 -1.5-2 -0.5-2 -2-4 0-2 -1.5-2.5 0-3.5 -2.5-2 0.5-2 -2-2 0-4 2 1 0-1 0-2 -1.5-2 -0.5-4 -1.5-2 -0.5-3.5 -3.5-10.5 -35-90 -8.5-24 -1-2 -1-4 -3-6.5 -0.5-3.5 -1.5-2 -2.5-8 -1.5-2 -0.5-4 -1.5-1.5 -1-4.5 -1-1.5 0-2.5 -2-2.5 0-4.5 0 1 2 2 0 2 2 3 0.5 3 1.5 1.5 14 32.5 2 3 0-6 -7-23 -1.5-2 -0.5-4 -1-1 -1-5 -1-1 -0.5-5 2.5-4 2-0.5 4 3.5 2 0 2 1 0 2 2 2.5 0.5 3.5 1.5 1.5 0 2.5 2 3 0 3 2 2 0.5 4 1.5 1.5 0.5 4.5 1.5 1.5 0.5 2.5 1.5 2 0 4 2 2 1 4 1 1 0.5 5 1.5 1.5 0.5 2.5 1.5 2 0.5 4 4 8 0 4 1.5 1.5 0.5 2.5 1.5 2.5 1 5.5 1 1 0.5 3 2 2 0 4 1.5 2 0.5 4 2 2 2 8 2 4 1.5 4 0.5 4 1.5 2 2 5 0.5 5 3.5 6 1 6 3.5 6 0 4 4.5 8 -0.5 4 1.5 1.5 0.5 2.5 2 2 0.5 6 1 1 0.5 3 2.5 2 0 4 2 6 2 2 1.5 8 3 4 1 8 3.5 6 1 6 4 6 -0.5 4 0.5 2 4.5 6 -0.5 4 3 5.5 2 0.5 0 0.5 1-4.5 -3-5.5 -1.5-0.5 0-2 0.5-2 0-2 -3-5.5 -1-0.5 0-6 -2-4 -2-2 -0.5-6 -1.5-4 -2-2 0-4 -2-6 -2-2 0-4 -2.5-6 -1.5-2 0-4 -1-1 -0.5-3 -2.5-4 -1.5-8 -2.5-4 -1.5-8 -1.5-2 -2-5.5 -0.5-4.5 -1.5-2 -2-5 -0.5-5 -1.5-2 -2-5 -0.5-5 -1.5-1.5 -1-4.5 -1-1 0-5 -2-2 0-12 -6-23.5 -42-138.5 -7-28 -13-40 -18.5-64 -1-6 38 0 0.5 4 1 2 1 6 1 2 1 6 1 2 6 24 16 66 1 6 31 126 1 2 1 6 1 2 1 6 1.5 2 0.5 5.5 2 2.5 0 4.5 1-0.5 -1-10 -1-2 -1-8 -1-2 -2-12 0-4 1-1.5 1 7.5 1 1 0 1 0.5 6 1.5 2 0.5 2 0 6 2 2 0 8 1.5 1.5 1 2.5 -0.5 6 1.5 1.5 1 2.5 0 4 -0.5 2 1.5 1.5 1 4.5 1 2 -1.5 2 1.5 1 0 3 2.5 4 0 8 2.5 2 0 2 -1 2 0.5 4 2.5 2 -0.5 8 3 4 -1 6 0.5 2 2.5 2 0 4 -1 2 4 8 -0.5 0 -1 2 1.5 4 1.5 2 2 0.5 1.5-2.5 0-2 -0.5-2 -3-2 0-2 1-2 0-4 -2.5-2 -0.5-4 1.5-2 -0.5-2 -2.5-4 0.5-6 -2.5-4 -0.5-4 1.5-2 -3-6 -0.5-2 1-2 -3.5-10 0.5-2 -0.5-4 -2-4 0.5-6 -2.5-6 0.5-6 -2-2 0-8 -2.5-4 0.5-8 -2-2 0-8 2 3.5 4-0.5 0 1 2 1 0 7 2 4 0 8 2.5 4 0 8 1.5 2 0.5 2 0 8 2 2 0 10 2 2 0.5 4 -0.5 2 0.5 4 2 2 -0.5 8 0.5 2 2 2 -0.5 8 2.5 4 0.5 4 -1 2 0.5 2 2.5 4 0.5 4 -1.5 2 3 6 1 4 -1.5 2 4.5 10 -1.5 0.5 -1 1.5 1.5 4 1.5 2 2 0.5 1.5-2.5 -0.5-4 -1-1.5 -1.5-0.5 0-4 1-2 -0.5-4 -2.5-2 0-4 1-2 -0.5-4 -2-2 -0.5-4 1-2 -0.5-4 -2-2 -0.5-4 1-2 -0.5-4 -2-2 0.5-8 -0.5-2 -2-2 0.5-8 -0.5-2 -2-2 0.5-8 -0.5-2 -2-2 0.5-8 -0.5-2 -1.5-2 0-8 -0.5-2 -1.5-2 0-8 -0.5-2 -1.5-2 0-8 -2-4 0-8 -2-4 0-8 -2-4 0.5-8 -2-4 0-8 -2-4 0-8 -1.5-4 -0.5-9 -1.5-3 -0.5-9 -1-3 -1-9.5 -1-2.5 -1-9.5 -1-2.5 -1-9.5 -22.5-134.5 38 0 6.5 44 1 2 1 10.5 1.5 1.5 0.5 10.5 1-2.5 0-4 -6-62 61 0 0.5 130 0 2 1.5 2 1 88 1 1.5 0 2.5 0.5 38 0.5 16 1.5 2 0 36 1 2 0 8 1 4 0 30 2 14 0.5 30 1 4 0.5 10 0.5 18 0.5 10 0.5 4 3 68 1.5 12 0.5 20 2 20 0 48 -2.5 34 -2.5 16 -2.5 6 -1.5 8 -2 0.5 -1.5-6.5 -2.5-3 -2 0.5 -2 1 -2 10 -1.5 3.5 -0.5 7.5 -2 0.5 -1 2 -2 10 -1 19 -1.5 3 -0.5 4 -4.5 10 -3.5 11 -2.5 3 -1.5 8 -2 4.5 -2 0.5 -2 3 -6 3.5 -2-3.5 -2 4 -8 3.5 -2-1 -2 2.5 -8 0.5 -4-3 -2 1.5 -2 0 -2-2 -6-0.5 -2 2.5 -2-2 -10-0.5 -2 2 -2-0.5 -2-3 -2 1.5 -2-2 -6-0.5 -2-2.5 -2 4 -2 2 -2-5 -2-2 -2 0 -2-3 -1-0.5 6.5-8 1-4 -0.5-4 -4-5 -6-2 -6 2 -2 1.5 -2 3.5 -0.5 6 2.5 6 0.5 2 -4.5 5.5 -2-2 -2 0 -2 2 -4-4 -4 0 -2 2 -2-2 -2 2 -4 0 -2-2 -4 0 -4 4 -2-2 -2 2 -2-2 -10 0 -2-2 -2 2 -2 0 -2 2 -4 1.5 -2-2.5 -2 1 -2-2 -8 0 -2-2 -2 2 -2 0 -2 2 -2-2 -4 0 -2 2 -2 0 -4-4 -2 4 -2 0 -2 2.5 -2 6 -2 0 -2 2 -4 0 -1-6 -3-7.5 -2 1.5 -2 0 -4-0.5 -2-2 -2 2.5 -2 6 -2 2 -2-2 -2 0 -2 2 -2 0 -2-2 -2-0.5 -4 4 -4-4 -2 1 -2-7.5 -0.5-9 -1.5-4 -1-20 -1-3 -2-0.5 -2-4 -2 2 -2-0.5 -2-2 -16-1.5 -2 1.5 -11.5-2 -2.5-1 -2-1.5 -2-0.5 -2 0.5 -4-1 -2-2 -2 0.5 -2-1.5 -4 0.5 -10-5 -2 1 -4-1.5 -15.5-6.5 -2-2 0-8 -1.5-6 -3-10 -6-14 -1.5-120 3.5-14.5 6.5-19.5 4-16 -15-100 -5.5-16.5 -8-28.5 -14-55 -1.5-100 13.5-64.5 11.5-35.5zM544 793.5l-2 0.5 -1 2 0 2 9 12 8.5 10 17.5 19 2 1 2-0.5 1-1.5 0-2 -1-2 -21-26 0-4 -1-1.5 -2-1.5 -4-0.5 -6-6.5zM558 545l0 2 2 5 2 1 0.5-3 -0.5-1.5 -2-3.5zM586 548l-1 4 3 5.5 2 0.5 1-2 -0.5-4 -2.5-3.5zM582 456l-2 4 0.5 2 1.5 3.5 2 0.5 1-2 0.5-4 -1.5-2 -1.5 0zM594 479l-0.5 1 1 4 1.5 1.5 2 0.5 1.5-2 -0.5-4 -1-1.5 -2-0.5zM590 560.5l-0.5 3.5 2.5 4.5 2 0.5 1-3 -0.5-2 -2.5-3.5zM584 468l-2 2 0.5 4 1.5 1.5 2 0.5 1.5-2 0-4 -1.5-1.5zM598 490.5l-2 1.5 1 4 1 1.5 2 0 1.5-1.5 -0.5-4 -1-1.5zM586 480l-1.5 2 0.5 2 1 2.5 2 1 1.5-1.5 0-4 -1.5-2zM600 502.5l-1.5 1.5 0.5 4 1 1.5 2 0 1.5-1.5 -0.5-4 -1-1zM588 490.5l-1 1.5 0 4 1 1 2 0.5 2-1.5 -1-4 -1-1.5zM602 514.5l-1.5 1.5 0.5 4 1 1.5 2 0 1-1.5 0-4 -1-1zM590 502.5l-1 1.5 1 3 2 2 2-0.5 -0.5-4.5 -1.5-2zM604 527l-1.5 1 0.5 4 1 1 2 0 1-1 -0.5-4zM592 512.5l-1 1.5 1.5 4 1.5 1.5 2 0 1-1.5 -2-4 -1-1.5zM606 539l-1 1 0 4 1 1 2 0 1-1 -0.5-4zM594 525l-0.5 1 2.5 5 2 0 0.5-3 -0.5-2 -2-1.5zM608 551l-1 1 0.5 4 0.5 1 2 0 0.5-1 0-4zM596 535.5l1 4.5 1 1.5 2 0 1-1.5 -1-4 -2-1.5zM610 563l-0.5 1 0 4 2.5 0.5 0.5-4.5zM596 573.5l-1 0.5 -0.5 2 1 2 0.5 1.5 2 0.5 0.5-2 0-2zM600 546.5l-1 1.5 0 2 1 2.5 2 0 1-2.5 -0.5-2zM612 575.5l0 4.5 2 0 0-4zM600 587.5l0 2.5 2 0 -1-2zM602 557l-1 1 0.5 4 0.5 1 2 0 1-1 -0.5-4zM600 735.5l0 4 4 8.5 4 7 12 15 2 1 2-1 0-2 -5.5-10 -0.5-2 1-4 -1-2 -8-5 -8-9.5zM604 569l-0.5 1 0 2 0.5 1 2 0.5 0.5-3.5 -0.5-1zM624 802l-18.5 26 -1 2 0.5 2 1 1 2 0 2-1 10-13 4.5-7 3-6 0.5-2 -1.5-2zM606 579.5l0 4 2 1 0.5-4.5zM547.5 308l0.5 0 0.5 6 -0.5 2.5zM558 322l0-1 1 3 -0.5 2zM532 468l1.5 2 -1.5 0.5zM511.5 852l2.5 0.5 1.5 1.5 -1.5 3 -2 0.5 -1-3.5z"/>
<path fill="#8dff6a" d="M228 82l24.5 0 0 2 1.5 4 4 25.5 5 16.5 7 12 4 0 2 1.5 2 3.5 6 12 10 24.5 4 6.5 6 5 12 2.5 6 3 4 3 8 10 22 32 7.5 8.5 2.5 2.5 8 3.5 4-0.5 2 0.5 8.5 8 31.5 30.5 18 26 4 1 1-1.5 1-7 4 2.5 2 0 2-3 12 0.5 0.5 3 1.5 1.5 0 2.5 2 2 0 2 2 2.5 0 3.5 2 2 0 2 2 2 0.5 4 1.5 1.5 0 2.5 2 2 0.5 4 1.5 1.5 0 2.5 2 2 0.5 4 1.5 1.5 0 2.5 2 2 1 4 1 1 0 3 2 2 0 2 2 3 0.5 3 1.5 2 0.5 4 1.5 1.5 0.5 2.5 1.5 2 2.5 8 1.5 2 0.5 2 1.5 2.5 0.5 3.5 1.5 1.5 0.5 2.5 1.5 2 0.5 4 1.5 2 0.5 2 4 8 0 2 1.5 2.5 0.5 3.5 2 2 0 2 1.5 2 0.5 4 3.5 6 2.5 8 4 8 0 2 4.5 8 2 8 4 6 0.5 4 5 10 0.5 4 3 5.5 1 0.5 3 10 3.5 4 0.5 1.5 0.5-5.5 -1.5-2 0-2 -2.5-2 0-2 -1-2 0-4 -4.5-8 0-4 -1.5-2 0-2 -2-2 0-2 -1.5-2 -0.5-4 -1.5-2 -1-4 -1-0.5 -0.5-5.5 -1.5-1 0-3.5 2-1.5 -1.5-2 -0.5-4 -1.5-2 -0.5-3.5 -7.5-20.5 -20.5-54 -5-14 -1.5-2 -2.5-8 -1-2 -1-4 -3-6.5 -0.5-3.5 -1.5-2 -2.5-8 -1.5-2 -0.5-4 -1.5-1.5 -1-4.5 -1-1 -0.5-3 -1.5-2 0-4 -2-2 0-3 0 1 2 1.5 0.5 2.5 1.5 2 3 8 7 15 1 1 1 2.5 2 1 0-3.5 -1-2 -0.5-4 -5-14 -0.5-4 -1-1.5 -0.5-4.5 0.5-1 6-0.5 4 0.5 2 1.5 0 3.5 2 1.5 0 2.5 2 3 0.5 3 1.5 2 0 4 2 2 1 4 1 1 0.5 5 1.5 1 0.5 3 1.5 2 0.5 4 1.5 2 0 2 2 3 0.5 5 1.5 1.5 0.5 2.5 1.5 2 0.5 4 1.5 2.5 0.5 3.5 2 2 0 4 1.5 1.5 1 4.5 1.5 2 1.5 4.5 0.5 3.5 1.5 2 2 5.5 0.5 4.5 1.5 2 2 4.5 1 5.5 3.5 6 0 4 4 8 0 4 3.5 6 1 6 1 1 0.5 3 2 2 0.5 4 2 6 2 2 0 4 2 6 2 2 1.5 8 3 4 1 8 4 6 0.5 6 4.5 6 -1 4 5 8 -0.5 4 3 5.5 2 0.5 1-2 0-2 -4.5-8 0.5-4 -4.5-8 0.5-4 -3.5-6 -1-2 0.5-4 -2-4 -1.5-2 -0.5-6 -2-4 -2-2 0-4 -2-6 -2-2 0-4 -1-1.5 -1-4.5 -2-2 0-4 -1-1.5 -1-4.5 -1.5-2 -2-8 -2-4 -2-8 -1.5-2 -2-6 -0.5-4 -1.5-2 -1-4 -1-1.5 0-4.5 -2-2 -0.5-4 -1.5-1.5 0-4.5 -2-2 0-12 -6-23.5 -44-145.5 -7-27 -11-34 -22-77 -0.5-5 36 0 0 6 0.5 1.5 2 0.5 0 6 2 1.5 0.5 6.5 1.5 1 0.5 5 1.5 3 0.5 5 1.5 3 0.5 5 1.5 3 0.5 5 1.5 3 0.5 5 1.5 3 0.5 5 1.5 3.5 1 6.5 1 2 1 6 1 2.5 0.5 5.5 1.5 3 0.5 5 3.5 12 0.5 6 1.5 3 0.5 5 1.5 3 0.5 5 1.5 3 23.5 97 7.5 28 1 6 1 2 1 5.5 1.5 2.5 0.5 5.5 1.5 2.5 0.5 5.5 1.5 0.5 0.5 7 1-1 -1-8 2-0.5 1 6.5 -1 2 2 1.5 0.5 4.5 1.5 2 0 8 2.5 2 0.5 2 -1 6 2.5 2 -0.5 8 1 2 2 2 -0.5 6 0 2 2.5 2 -0.5 6 3 6 0 2 -1 2 3 6 1 4 -0.5 2 0.5 4 1.5 2 2 0 1.5-2 0-4 -1.5-2 -1 0 -1-2 0-2 1.5-2 -0.5-4 -2.5-2 0-2 1-2 0-4 -2.5-2 -0.5-2 0-2 1-2 0-2 -3-4 1-6 -2.5-4 -0.5-4 1-2 -2.5-6 -0.5-2 0.5-2 -3-10 0.5-2 -0.5-0.5 0-3.5 -2-4 -0.5-8 -2-4 0.5-6 -0.5-2 -1.5-2 0-7.5 1 1.5 1 3.5 4-0.5 1 3 1 1 0 7 2 4 0 8 2 2 0.5 10 2 2 0 10 2 2 0 8 0.5 2 1.5 2 0 8 2.5 4 0 8 2 4 0.5 4 -1 2 3 6 0.5 4 -1 2 4 10 -1 0.5 -1 1.5 1.5 4 1.5 2 2 4 -2 1 -0.5 1 1 4 1.5 2 2 0 1.5-2 0-4 -1.5-1.5 -2-0.5 0.5-4 1-2 0-4 -2.5-2 -0.5-4 1-2 0-4 -2.5-2 0.5-10 -2.5-2 0.5-10 -2.5-2 0.5-10 -2-2 0-10 -2-2 0-10 -2-2 0-10 -2-2 0-10 -2-2 0-10 -2-2 0-10 -1.5-2 -0.5-10 -1.5-2 -0.5-10 -1.5-2 0-8.5 -1.5-3.5 -0.5-10 -1.5-4 -0.5-8.5 -1-3.5 -1-9 -1-3 -1-9 -1-3 -1-9 -28.5-169 38 0 8.5 58 1 4 1 9 1.5 3 0.5 9.5 1 0.5 0.5 2 0.5 9.5 1-1.5 0-6 -9-88 60 0 0.5 130 0 2 1.5 2 0.5 88 1.5 2 0 2 1 54 1 2 0.5 36 0.5 10 1.5 4 0 30 1 10 1 4 0.5 30 1 4 0.5 10 0.5 28 1 4 3 68 4 52 0 48 -2.5 34 -2.5 16 -2.5 6 -1.5 8 -2 0.5 -1.5-6.5 -2.5-3 -2 0 -2 1.5 -2 10 -1.5 3.5 -0.5 7 -2 1 -3 12 -1 18.5 -1.5 3.5 -0.5 3.5 -5 10.5 -3 10.5 -2.5 3.5 -1.5 7.5 -2 4.5 -2 0.5 -2 3 -6 3.5 -2-3 -2 3.5 -8 4 -2-1 -2 2 -8 0.5 -4-3 -2 1.5 -2 0 -2-1.5 -6-0.5 -2 2 -2-2 -10-0.5 -2 2 -2-0.5 -2-2.5 -2 1 -2-2 -6-0.5 -2-2 -2 3.5 -2 2 -2-5 -2-2 -2 0 -1.5-3 0.5-2 3-2.5 2-3.5 1-4 -0.5-4 -2.5-4 -2-1.5 -6-2 -6 2 -2 1.5 -2.5 4 -0.5 6 2.5 6 0 2 -3.5 5 -2-2 -2 0 -2 2 -4-4 -4 0.5 -2 2 -2-2 -2 1.5 -4 0 -2-2 -4 0 -4 4 -2-2 -2 2.5 -2-2 -10 0 -2-2 -2 2 -2 0 -2 2 -2 0 -2 1 -2-2 -2 0.5 -2-1.5 -8 0 -2-2 -2 2 -2 0 -2 2 -2-2 -4 0 -2 2 -2 0 -4-4 -2 4 -2 0 -2 2.5 -2 5.5 -2 0.5 -2 2 -4 0 -1-6 -3-8 -2 2 -2 0 -4-0.5 -2-2 -2 2 -2 6.5 -2 2 -2-2 -2 0 -2 2 -2 0 -2-2.5 -2 0 -4 4 -4-4 -2 0.5 -2-7.5 -0.5-8.5 -1.5-4 -1-20 -1-3 -2-0.5 -2-4 -2 2 -2-0.5 -2-2 -4-0.5 -12-1.5 -2 1.5 -10.5-1.5 -3.5-1 -2-2 -2-0.5 -2 1 -4-1 -2-2 -2 0.5 -2-1.5 -4 0.5 -10-5 -2 0.5 -4-1 -13.5-6.5 -1-2 0-8 -2.5-10 -3-10 -4.5-10 0.5-120 7-20 7-27.5 1-2.5 -1-3 -4-23.5 -11-73.5 -11-33 -6-20.5 -12-46.5 -1.5-44 -1.5-56 13-61.5 13.5-38.5zM542 794l-1 2 0 2 12 16 23 25.5 2 1 2-1 1.5-1.5 0-2 -1.5-2 -20.5-26 -0.5-4 -1-1.5 -2-1.5 -4-0.5 -6-6.5 -2-0.5zM558 544l0 3 2 5 2 1 0.5-1 -0.5-3.5 -2-4zM564 559.5l0 1 2 2 0-2.5zM590 560l-0.5 4 2.5 5 2 0.5 1-1.5 -0.5-4 -2.5-4zM584 468l-2 2 0.5 4 1.5 2 2 0 1.5-2 0-4 -1.5-1.5zM596 491.5l0.5 4.5 1.5 1.5 2 0.5 1.5-2 0-4 -1.5-1.5 -2-0.5zM586 479l-1.5 3 0 2 1.5 3 2 1 1.5-2 0-4 -1.5-2zM600 502.5l-2 1.5 1 4 1 1.5 2 0 1.5-1.5 -0.5-4 -1-1.5zM588 490l-1.5 2 0.5 4 1 1 2 1 2.5-2 -1-4 -1.5-2zM602 514.5l-1.5 1.5 0.5 4 1 1.5 2 0 1-1.5 0-4 -1-1zM590 502l-1 2 1 3.5 2 2 2-0.5 0-3 -0.5-2 -1.5-2zM604 526.5l-1.5 1.5 0.5 4 1 1 2 0.5 1-1.5 0-4 -1-1zM592 512.5l-1 1.5 1 4 2 1.5 2 0 1-1.5 -1.5-4 -1.5-1.5zM606 539l-1 1 0 4 1 1 2 0 1-1 -0.5-4zM594 525l-0.5 1 2.5 5 2 0 1-3 -1-2 -2-1.5zM608 551l-1 1 0.5 4 0.5 1 2 0 1-1 -0.5-4zM596 535.5l1 4.5 1 1.5 2 0 1-1.5 -1-4 -2-1.5zM610 563l-1 1 0.5 4 0.5 0.5 2 0 0.5-0.5 0-4zM596 573.5l-2 0.5 0.5 2 1.5 3.5 2 1 1-2.5 -0.5-2zM600 546.5l-1.5 1.5 0.5 2 1 2.5 2 0 1-2.5 -0.5-2 -0.5-1zM612 575.5l0 4.5 2 0 0-4zM600 587l0 3 2 0.5 0-2.5zM602 556.5l-1 1.5 0 4 1 1 2 0 1-1 -0.5-4zM600 735l-1 1 1 4 3.5 8 4.5 7.5 12 15 2 0.5 2-1 0.5-2 -6-10 0.5-6 -1-2 -8-5.5 -8-9zM604 569l-0.5 1 0 2 0.5 1.5 2 0.5 0.5-4 -0.5-1zM624 802l-19 26 -0.5 2 0 2 1.5 1 2 0.5 2-1.5 10-12.5 8-13.5 0.5-2 -1.5-2zM606 579.5l-0.5 0.5 0.5 3.5 2 1 0.5-0.5 0-4 -0.5-0.5zM608 592l2 2 0-2.5zM552 326l0 7.5 -0.5-3.5zM553 336l1-1.5 0.5 1.5 -0.5 7.5zM562 342l1 2 -0.5 2 -0.5 0zM554.5 344l1.5 0 0 9 -1-3zM557 354l1 0 0.5 2 -0.5 6.5 -1.5-4.5zM559 364l1 0 0.5 2 -0.5 7 -1.5-5zM536 478l2 2 -2 0.5zM511.5 854l0.5-1.5 3 1.5 -1 2.5 -2 0.5z"/>
<path fill="#94ff63" d="M231.5 82l16.5 0 3 18 3 11 3 15 3.5 10 4.5 8 5 6 4-0.5 2 2 6 11.5 10 23.5 4.5 7.5 5 4 2.5 1 12 2 8 4.5 6 5.5 6 7.5 18 26 8 10.5 4 3.5 10 6.5 4 0.5 4 2.5 41 44 15 19 20 14 8 3 8 1 0 1 2 1.5 0 2.5 2 2 0 2 2 2.5 0 3.5 2 2 0 2 2 2 0.5 4 1.5 1.5 0 2.5 2 2 0.5 4 1.5 1.5 0 2.5 2 2 0.5 4 1.5 1.5 0.5 2.5 1.5 2 0.5 4 1.5 1.5 0 2.5 2 2 0 2 2 3 0.5 3 1.5 2 0 2 2 2.5 0.5 3.5 1.5 1.5 1 4.5 3.5 6 0 2 1.5 3 0.5 3 2 2 0 2 1.5 2 0.5 4 1.5 1.5 0.5 2.5 1.5 2 1 4 1 1.5 0.5 2.5 4 8 0 2 4 8 2.5 8 3.5 6 0.5 4 1.5 2 0.5 2 2 2 2 6 0 2 3 5.5 1 0.5 3 10 4 6 0 3.5 2 5 2 1 1-1.5 -0.5-2 -2.5-5.5 -1-0.5 -0.5-2 0-4 -1-2 -0.5-2 -2-2 -1.5-8 -4.5-8 0-4 -1.5-2 0-2 -2-2 0-2 -1.5-2.5 0-3.5 -2-4 0-9 -1.5-3 -2-8 -25.5-68 -1-2 -1-4 -3-6.5 -0.5-3.5 -1.5-2 -2.5-8 -1.5-2 -0.5-4 -1.5-1.5 -2.5-8.5 -1.5-2 -0.5-4 -1.5-2 0-5 1 3 1 1 6 13 2 2.5 1.5-0.5 -1-6 -2.5-10 0-5 4 0.5 6-0.5 0 1 2 2 1 4 1 1 0 3 2 2.5 0.5 3.5 1.5 1.5 0 4.5 2 2 0 2 2 3 0 3 1 2 1 1 0 3 2 2 0.5 4 1.5 1.5 0.5 4.5 2 2 0.5 4 1 1 0 3 4 8 0.5 4 1.5 2 2 5 0.5 5 1.5 1.5 2 4.5 0.5 4 4 8 0 4 1.5 1.5 0.5 2.5 1.5 2.5 1 5.5 1 1 0.5 3 2 2 0 4 1.5 2.5 0.5 3.5 2 2 0.5 4 1 1.5 1 4.5 2 2 1.5 8 2.5 4 1.5 8 3.5 6 1 6 4 6 -0.5 4 1 2 4 6 -0.5 4 3 5.5 1.5 0.5 0.5 2 -0.5 4 1.5 4 1 1 2 0.5 1-1.5 -0.5-4 -4-6 1-4 -4.5-8 0.5-4 -4.5-8 0.5-4 -4.5-8 0-4 -3.5-6 -0.5-6 -1-1 -0.5-3 -2-2 0-4 -2.5-6 -1.5-2 0-4 -1.5-2 -1-4 -1.5-2 0-4 -1.5-1.5 -1-4.5 -1.5-2 -0.5-4 -1-1 0-3 -2.5-4 -1.5-8 -2-2.5 -0.5-3.5 -1.5-3 0-3 -2-2.5 -0.5-3.5 -1.5-3 0-3 -2-4 0.5-2 -0.5-7.5 -8-30.5 -46-152.5 -6.5-25.5 -3.5-9.5 -1-4.5 -1-2 -1-4 -1-2 -15-54 -1-2 -1-6 -1-1.5 -0.5-4.5 -1.5-2.5 -1-5.5 -1-1.5 -0.5-4.5 -1.5-3.5 -1.5-8.5 32.5 0 1 8 1 2 1 6 1 2 1 6 1.5 2 0.5 5.5 1.5 2.5 0.5 5 1.5 3 0.5 4.5 1.5 1.5 0.5 6 2 2 1 6 1 1 1.5 7 1.5 4 38 154 14.5 58 1.5 4 1 5 1.5 3 0.5 5 1.5 3 0.5 5 1 1 0.5 2 0.5 5 2 1 0 6 0-6 2-2 0.5 2 -0.5 6 2 2 0 8 0.5 2 2 2 0 8 2 2 0 6 0 2 2.5 4 0 2 -0.5 2 2.5 6 1 4 -0.5 2 1 4 2.5 4 -1 2 0.5 4 1.5 2 1.5 0 0.5 2 -1.5 4 0 2 1.5 3 2 1 1.5-2 0-4 -3.5-4 0-2 1.5-2 0-4 -1.5-2 -1.5 0 1-8 -3-4 0-2 1-2 0-4 -3-2 1-8 -2.5-2 -0.5-4 1-2 0-2 -2.5-4 0.5-6 -2.5-4 -0.5-4 1-2 -2.5-6 0-6 -1-1 -1.5-7 1-2 -1.5-1 -1-9 -1-0.5 0-8 4 8.5 2 0 0 2 2 2 0 8 2 2.5 0 1.5 0.5 8 1.5 2 0.5 10 2 2 0 8 0.5 2 1.5 2 0 8 2.5 4 0 4 -0.5 2 2.5 6 0.5 4 -1 2 3 6 0.5 4 -1 2 4.5 10 -1.5 0.5 -0.5 1.5 1 4 1.5 2 1.5 0 0.5 1.5 0-1.5 1.5-2 0-4 -1.5-1.5 -1.5-0.5 0-4 1-2 0-4 -2.5-2 0.5-10 -2-2 0-10 -2-2 0-10 -2-2 0-10 -2-2 0-10 -2-2 0-10 -1.5-2 -0.5-10 -1.5-2 0-10 -2-2 0-10 -2-2 0-10 -1.5-4 -0.5-9.5 -1-2.5 -1-10 -1.5-4 -2.5-21 -1-3 -1-9 -34-203 37 0 13 86 1 4 1 8.5 1 3.5 1 9.5 1 2.5 1 10 1.5 2 0.5 10.5 1-0.5 0.5-2 0-6 -5.5-52 -0.5-14 -1.5-6 -0.5-18 0.5-8 2-1 44 0 2 0 2 1.5 2 12 0 87.5 0 2 2 2 0.5 88 1.5 4 0.5 54 1.5 2 1 46 1 4 0.5 30 0.5 10 1.5 4 0.5 30 1.5 14 0.5 28 1 4 3 68 4 52 0 48 -2.5 34 -2.5 16 -2.5 6 -1.5 8 -2 0 -1.5-6 -2.5-3.5 -2 0.5 -2 1.5 -2 10 -1.5 3.5 -0.5 6.5 -2.5 1.5 -2.5 12 -1 18 -1.5 4 -0.5 3.5 -5 10.5 -3 10.5 -3 3.5 -1 7 -2 4.5 -2 1 -2 3 -6 3 -2-3 -2 4 -5.5 2.5 -2.5 1 -2-1 -2 2.5 -8 0.5 -4-3 -2 1.5 -2 0 -2-2 -6-0.5 -2 2 -2-2 -10 0 -2 2 -2-1 -2-2.5 -2 1.5 -2-2 -6-0.5 -2-2.5 -2 4 -2 1.5 -2-5 -2-2 -2 0 -1-2.5 0.5-2 2.5-2 2.5-4 1-4 -0.5-4 -2.5-4 -2.5-2 -6-2 -4 1 -2.5 1 -2 2 -2.5 4 -0.5 6 2.5 6 0.5 2 -1 2 -2.5 3 -2-2 -2 0 -2 2 -4-4 -4 0 -2 2 -2-2 -2 1.5 -4 0 -2-2 -4 0.5 -4 4 -2-2 -2 2 -2-2 -10 0 -2-2 -2 2 -2 0 -2 2 -2 0 -2 1.5 -2-2.5 -2 1 -2-2 -8 0 -2-2 -2 2 -2 0 -2 2 -2-2 -4 0 -2 2 -2 0 -4-4 -2 4 -2 0 -2 2.5 -2 5.5 -2 0.5 -2 2 -4 0 -1-5.5 -3-8 -2 1.5 -2 0 -4-0.5 -2-2 -2 2.5 -2 6 -2 2 -2-2 -2 0 -2 2 -2 0 -2-2 -2-0.5 -4 4 -4-4 -2 1 -2-7.5 -0.5-8.5 -1.5-4 -1-20 -1-3.5 -2 0 -2-4.5 -2 2 -2-0.5 -2-2 -4-0.5 -12-1 -2 1.5 -10-1.5 -4-1 -2-2 -2-0.5 -2 0.5 -4-1 -2-1.5 -2 0.5 -2-2 -4 0.5 -10-5 -2 1 -4-1.5 -5-2 -6.5-4 0-10 -1-4 -4-16 -3.5-10 0.5-60 2.5-44 2-16 5.5-18 7.5-18 8.5-14 -8.5-18 -8-19.5 -10-62.5 -16-49 -8-27 -6-24 -2.5-40 -2-52 0-8 11-52 1.5-5 2-3 5.5-14 8.5-26zM542 793.5l-1.5 2.5 0.5 2 10 14 25 28 2 0.5 2-0.5 1.5-2 0-2 -1-2 -21-26 0-4 -1.5-1.5 -2-1.5 -4-1 -6-6.5 -2-0.5zM564 559l0 2.5 2 2.5 0-4zM594 573.5l2 6.5 2 0.5 1-2.5 -0.5-2 -2.5-3zM588 490l-1.5 2 0.5 4 1 1.5 2 0.5 2.5-2 -1-4 -1.5-2zM596 491.5l0.5 4.5 1.5 2 2 0 1.5-2 0-4 -1.5-1.5 -2-0.5zM594 220.5l0 9.5 1-4zM592 502l-2 0 -1 2 1 3.5 2 2 2-0.5 0.5-1 0-2zM600 502l-2 2 1 4 1 1.5 2 0 1.5-1.5 0-4 -1.5-1.5zM592 512.5l-1 1.5 1 4 2 1.5 2 0 1-1.5 -1.5-4 -1.5-2zM602 514.5l-1.5 1.5 0.5 4 1 1.5 2 0 1.5-1.5 -0.5-4 -1-1zM594 524.5l-0.5 1.5 2.5 5.5 2 0 1-3.5 -0.5-2 -2.5-2zM604 526.5l-1.5 1.5 0.5 4 1 1.5 2 0 1-1.5 0-4 -1-1zM596 535l-0.5 1 1.5 4 1 1.5 2 0 1-1.5 -1-4 -2-1.5zM606 538.5l-1.5 1.5 0.5 4 1 1 2 0 1-1 0-4 -1-1zM600 546.5l-1.5 1.5 0.5 2 1 3 2 0 1-3 0-2 -1-1zM608 551l-1 1 0 4 1 1 2 0 1-1 -0.5-4 -0.5-1zM600 586.5l0 3.5 2 1 0-3zM602 556.5l-1 1.5 0 4 1 1 2 0.5 1-1.5 -0.5-4 -0.5-1zM610 563l-1 1 0.5 4 0.5 0.5 2 0.5 0.5-1 0-4zM600 735l-1 1 0.5 4 4 8 4.5 7.5 12 15 2 0.5 2-0.5 0.5-2.5 -5.5-10 0.5-6 -1-2 -8.5-5.5 -8-9.5zM604 568.5l-1 1.5 0.5 2 0.5 1.5 2 0.5 1-4 -1-1zM612 575.5l0 4.5 2 0.5 0.5-4.5zM624 801.5l-19 26.5 -1 2 0.5 2 1.5 1.5 2 0 2.5-1.5 9.5-12 8.5-14 0-2 -1.5-2zM606 579l-0.5 1 0.5 4 2 0.5 0.5-0.5 0-4 -0.5-0.5zM608 591.5l0 1.5 2 1.5 0-3zM555 346l1-2 0 7zM557 356l1-1.5 0.5 1.5 -0.5 4.5zM566 362l0-1.5 1.5 3.5 -0.5 2 -1 0.5zM559 366l1-1.5 0.5 1.5 -0.5 3.5zM561.5 374l0.5 0 0 5 -1.5-3zM563 384l1-0.5 0 5.5 -1.5-3zM564.5 392l1.5-1 0.5 1 -0.5 8 -1-4zM540 488l2 2 -2 1zM511.5 854l0.5-1 2 1 0 2 -2 0.5z"/>
<path fill="#9dff5a" d="M235 82l7.5 0 0 36 1 8 2.5 1.5 4 0 4 7 4 11 4.5 6.5 7.5 6 4-1 2 2 6 12 8 19 6 9.5 6 4 2 0.5 8-0.5 4 0.5 6 3 4 3 18 22 14 20 6 7.5 14 10 6 2.5 4 4 30.5 34 21.5 27 26 28.5 12 10 4 2.5 6 2 2 1.5 0 2.5 2 2 0 2 2 2 0 4 2 2 0 2 2 2 0 4 2 1.5 0 2.5 2 2 0.5 4 1.5 1.5 0 2.5 2 2 0 2 2 3 0.5 3 1.5 1.5 0.5 4.5 1.5 1.5 0.5 2.5 1.5 2 1 4 1 1 0.5 3 1.5 2 0.5 2 1.5 2.5 0.5 3.5 1.5 1.5 0.5 2.5 1.5 2 0.5 4 1.5 1.5 0.5 2.5 4 8 0 2 4 8 2.5 8 3.5 6 0.5 4 1.5 2 0.5 2 1.5 2 2.5 6 0 2 3.5 6 3 10 2 2 2 4 0.5 4 2 4.5 2 1 1-1.5 0-2 -4.5-8 0.5-4 -1.5-2 0-2 -2.5-2 -2-10 -3.5-6 0-4 -1.5-1 0-3 -2.5-2 0-4 -1.5-1 0-4 2 2 0-3 -1-2 -0.5-4 -1.5-2 -0.5-4 -11.5-32 -9-22.5 -1-3.5 -1-2 -2.5-8 -1.5-2 -0.5-4 -1.5-1.5 -2.5-8.5 -1.5-2 -0.5-4 -1.5-1.5 -0.5-4.5 -1.5-1.5 0-4.5 4 6.5 2 0.5 2-8 4 1 6-1 0 3 2 2 0 2 2 3 0 3 2 2 0 4 2 2 0.5 4 1.5 1.5 0.5 4.5 1.5 1.5 0.5 2.5 1.5 2.5 0 3.5 2 2 0.5 4 1.5 1.5 0.5 4.5 1.5 1.5 0.5 2.5 1.5 2.5 1 5.5 3 6 0.5 4 1.5 2 0.5 2 2 4 0 4 1.5 1.5 0.5 2.5 1.5 2 0.5 4 1.5 3 0.5 3 2 2 0 4 1.5 1.5 1 4.5 1.5 2 2 8 2.5 4 1 4 0.5 4 1.5 2 2 4.5 0.5 5.5 4 6 0.5 6 4 6 -0.5 4 5 8 -0.5 4 3 5 2 1 1.5-2 -0.5-4 -4-6 0.5-4 -0.5-2 -4-6 0.5-4 -4.5-8 0.5-4 -4.5-8 0.5-4 -4.5-8 0-4 -3-6 -1-6 -1-1 -0.5-3 -2-2 0-4 -1.5-2.5 -0.5-3.5 -2-2 0-4 -1.5-1.5 -0.5-4.5 -2-2 0-4 -1.5-1.5 -0.5-4.5 -2-2 0-4 -1.5-1.5 -0.5-4.5 -1.5-1.5 -0.5-4.5 -1.5-2 0-6 -2-9.5 -8-30.5 -50-166.5 -5-19.5 -1-1.5 -0.5-4.5 -1.5-2 -0.5-4 -3.5-9.5 -5.5-20.5 -0.5-1 -0.5-5 -1.5-2 -0.5-6 -1.5-1 0-5 -2-2.5 0-5.5 -1.5-2 0.5-4 -3.5-14 -1-2 -0.5-4 -1.5-2 -2.5-11.5 -1.5-2.5 -0.5-4.5 -1-1.5 0-2 29 0 0 2 9 34 1 5.5 1 2.5 0.5 4 1.5 4 0.5 4 2 4 0 4 2 4 0.5 4 1.5 4 0.5 4 1.5 4 0.5 4 1 2 1 6 1 2 1 6 1 2 1 5.5 1.5 2.5 0.5 5 1.5 3 0.5 4.5 1.5 3.5 0.5 4 1.5 4 16.5 63 7 29 19.5 76 1.5 6 1 2 1 6 1 2 1 6.5 1.5 1.5 0.5 6 1.5-2 -0.5-4 1-0.5 0 12 0-1.5 2 0 0 8 2.5 2 0 8 1.5 2 0.5 2 0 6 2.5 4 0.5 4 -0.5 2 3.5 8 -1 2 1 4 2.5 4 -0.5 6 1.5 3.5 1.5 0.5 0 2 -1 2 0.5 4 1 1.5 2 0.5 -0.5 4 -1 2 0.5 2 3 4 2-0.5 0.5-3.5 -2.5-5 -2-1 0-2 2-1 0.5-1 -1-4 -1.5-2 -1 0 -0.5-2 1.5-2 -0.5-4 -2.5-4 -0.5-2 1-2 0-4 -1.5-2 -1 0 -0.5-2 1-2 0-4 -2.5-4 -0.5-2 1-2 0-4 -2.5-2 0.5-8 -2-2 -0.5-4 0.5-2 0-2 -0.5-2 -2-2 0.5-6 -0.5-2 -1.5-2 -0.5-4 0.5-2 0-2 -1.5-1 -0.5-3 0-6 -1.5-1 -0.5-3 0.5-7 4 10.5 1.5 2.5 1 4 1.5 1.5 0 8.5 2 2 0.5 10 2 2 0 8 2 4 0.5 8 2 4 0.5 4 -1 2 2.5 6 1 4 -1 2 4 10 -2 2 1.5 4 3.5 6 -2.5 2 1 4 1.5 2 2 0 1.5-2 0-4 -1.5-1.5 -1.5-0.5 0-4 1-2 0-4 -2-2 -0.5-4 1-2 -0.5-4 -2-2 0-2 0-8 -1.5-2 -0.5-10 -1.5-2 -0.5-10 -1.5-2 0-10 -2-2 0-10 -2-2.5 0-9.5 -2-3 0-11 -2-2 0-11.5 -1.5-2.5 -0.5-10 -1.5-4 -2.5-20.5 -1-3.5 -5-32.5 -36-211.5 0-2 37 0 21 140.5 1 3.5 1 9.5 1 4.5 1 8.5 1 3.5 1 9.5 1.5 4.5 0.5 8.5 1 3.5 1 9.5 1 2.5 1 10 1.5 4 0.5 6.5 2-0.5 2-1.5 2 0 30 0 0.5 53.5 1.5 2 0.5 46 1.5 4 1 40 1 4 0.5 30 2 14 0.5 28 1 4 0.5 10 0.5 28 1 4 1.5 34 0.5 4 1.5 28 0.5 2 1 10 0 48 -1.5 12 -1 20 -2.5 18 -3 6 -1 7.5 -2 0.5 -1.5-6 -2.5-3.5 -2 0.5 -2 1.5 -2 9.5 -1.5 4 -0.5 6.5 -2 0.5 -0.5 1 -2.5 10 -0.5 4 -0.5 15.5 -2 7.5 -5 11 -3 10 -3 4 -1 7 -2 4 -2 1 -2 3 -6 3.5 -2-3.5 -2 4 -6 3 -2 1 -2-1 -2 2.5 -8 0 -4-3 -2 2 -2-0.5 -2-1.5 -6-0.5 -2 2 -2-2 -10-0.5 -2 2 -2-0.5 -2-3 -2 1.5 -2-2 -6-0.5 -2-2.5 -2 4 -2 2 -2-5 -2-2 -2-0.5 -0.5-2 5.5-8 1-4 -0.5-4 -2.5-4 -2-2 -3-1.5 -4-1 -6 1.5 -5 5 -1 6 0.5 4 2 4 0.5 2 -1 2 -2 2.5 -2-2 -2 0 -2 2 -4-4 -4 0 -2 2 -2-2 -2 2 -4 0 -2-2 -4 0 -4 4 -2-2 -2 2 -2-2 -10 0 -2-1.5 -2 2 -2 0 -2 2 -2 0 -2 1 -2-2.5 -2 1 -2-1.5 -8 0 -2-2 -2 2 -2 0 -2 2 -2-2 -4 0 -2 2 -2 0 -4-4 -2 4 -2 0 -2 2 -2 6 -2 0.5 -2 2 -4 0 -1-5.5 -3-8.5 -2 2 -2 0 -4-0.5 -2-2 -2 2 -2 6 -2 2.5 -2-2 -2 0 -2 2 -2 0 -2-2.5 -2 0 -4 4 -4-4 -2 0.5 -2-7.5 -0.5-8 -1.5-4 -1-20 -1-3.5 -2-0.5 -2-4 -2 1.5 -2 0 -2-2 -2-0.5 -14-1.5 -2 1.5 -10-1.5 -4-1 -2-1.5 -2-0.5 -2 0.5 -4-1 -2-2 -2 0.5 -2-1.5 -4 0.5 -10-5 -2 0.5 -3.5-1 -7.5-4 -1.5-2 0-10 -0.5-4 -3.5-14 -3.5-12 2-60 3.5-36 4.5-24 6-16 10-19 11.5-15 -16.5-34 -15-38 -4.5-28 -21.5-65.5 -10-34.5 -3.5-44 -2.5-56 10-46.5 4-6.5 6-13 10.5-34 -0.5-51 -0.5-3 -1.5-1.5 -2 0zM304 569l0 10 2 8 2 1.5 0.5-4.5 -0.5-4 -1-2 -1-5zM542 793.5l-1.5 2.5 0 2 17 22 18.5 20 2 0.5 2.5-0.5 1.5-2 0-2 -1.5-2 -20.5-26 -0.5-4 -1.5-2 -2-1 -4-1 -6-6.5 -2-0.5zM564 559l0 3 2 2.5 1-0.5 -0.5-4zM594 573l0 2.5 2 4.5 2 1 1-1 -0.5-4 -2.5-3.5zM592 512l-1 2 1 4 2 2 2-0.5 1-1.5 -1.5-4 -1.5-2zM598 504l0.5 4 1.5 1.5 2 0.5 1.5-2 0-4 -1.5-1.5 -2-0.5zM594 524.5l-0.5 1.5 1.5 4 1 1.5 2 0 1-3.5 -0.5-2 -2.5-2zM602 514.5l-2 1.5 1 4 1 1.5 2 0 1.5-1.5 0-4 -1.5-1.5zM596 535l-0.5 1 1.5 4 1 1.5 2 0 1-1.5 -0.5-4 -2.5-1.5zM604 526.5l-1.5 1.5 0.5 4 1 1.5 2 0 1-1.5 0-4 -1-1zM600 546l-1.5 2 0.5 2 1 3 2 0 1-3 0-2 -1-1zM606 538.5l-1.5 1.5 0.5 4 1 1.5 2 0 1-1.5 0-4 -1-1zM600 586.5l-0.5 1.5 0 2 2.5 1.5 0.5-3.5zM602 556.5l-1.5 1.5 0.5 4 1 1.5 2 0 1-1.5 -0.5-4 -0.5-1zM608 550.5l-1 1.5 0 4 1 1 2 0 1-1 0-4 -1-1zM600 734.5l-1.5 1.5 0 2 3.5 8 4.5 8 13.5 16.5 2 1 2-1 0.5-2.5 -5.5-10 0.5-6 -0.5-2 -7-4 -10-11.5zM604 568.5l-1 1.5 0 2 1 1.5 2 1 1-4.5 -1-1.5zM610 563l-1 1 0.5 4 0.5 1 2 0 0.5-1 0-4 -0.5-1zM624 801.5l-19.5 26.5 -0.5 2 0 1 2 2.5 2 0.5 3-2 9-12 8.5-14 0.5-2 -1.5-2 -1.5-0.5zM606 579l-0.5 1 0.5 4 2 1 1-1 -0.5-4 -0.5-1zM612 575.5l-0.5 0.5 0 4 2.5 0.5 0.5-4.5zM608 591.5l0 2 2 1.5 0.5-3 -0.5-0.5zM614 588l0 2.5 2 0 -0.5-2.5zM570 380l0-1 0.5 1 1.5 4 -2 0.5z"/>
<path fill="#a7ff50" d="M454.5 82l26.5 0 0 2 18.5 72 40.5 156 8 28 20 79.5 1.5 2.5 0.5 5 1 1 1 6.5 2-1.5 0 7 2.5 4 0 6 2 4 0 6 1.5 1.5 1.5 6.5 -0.5 2 1 1 0.5 3 2 4 0.5 8 2 2 0.5 2 -1 2 0 4 1.5 1.5 1.5 0.5 -0.5 8 3 4 0 2 -1 2 0.5 4 2.5 2 2 0 1-2 -1.5-4 -2-2 -1-2 1.5 0 0.5-4 -4-8 1.5-0.5 0.5-1.5 -1-4 -2.5-4 1-2 -0.5-4 -3-6 1.5-2 -0.5-4 -2-2 -0.5-2 0.5-6 -2.5-4 0.5-8 -2-2 0-8 -2-2 -0.5-4 0.5-4 -0.5-2 -2-2 0.5-6 0-2 -2-2 0-8 -1.5-1.5 -0.5-2.5 0.5-5.5 7.5 19.5 1 8 1.5 2 0.5 8 0.5 2 1.5 2 0 8 2 4 0.5 4 -0.5 2 2.5 6 0.5 4 -1 2 3 6 0.5 4 -1 2 4.5 10 -2 2 1 4 1.5 2 1 0 1 2 0.5-2 1-2 0-4 -2.5-2 0.5-10 -1.5-2 -0.5-2 0.5-8 -2.5-4 0.5-8 -2-3 0-9 -2-3 0-9 -2-4 0-8 -0.5-2 -1.5-3 0-12.5 -1.5-2.5 -0.5-10 -1.5-4 -0.5-8 -1.5-4 -0.5-8.5 -1-3.5 -1-8.5 -44.5-261.5 -1-10 36.5 0 33 224 5.5 30 0.5 7 1 3 1 8 1.5 4 0.5 4.5 2-1.5 2-0.5 24 0 0 1.5 2 2 0.5 46 0 2 1.5 2 0.5 40 0 2 1.5 2 0.5 30 0.5 10 1.5 4 0.5 28 1.5 14 0.5 28 1 4 1.5 34 0.5 4 1.5 28 0.5 2 1 10 -0.5 48 -1 12 -1 20 -2.5 17.5 -3 6.5 -1 7.5 -2 0.5 -1.5-6 -2.5-3.5 -2 0.5 -2 1 -2 10 -1.5 2 -0.5 8 -2 1 -0.5 1 -2.5 10 -1 19 -2 7.5 -5.5 11.5 -2.5 9.5 -3 4.5 -1 6.5 -2 4 -2 1 -2 3 -6 3.5 -2-3 -2 3.5 -8 4 -2-1 -2 2.5 -8 0.5 -4-3 -2 1.5 -2 0 -2-2 -6-0.5 -2 2 -2-2 -6-0.5 -4 0 -2 2 -2-0.5 -2-3 -2 1.5 -2-2 -6-0.5 -2-2.5 -2 4 -2 2 -2-5 -4-3 -0.5-1 4.5-4.5 2-3.5 0.5-4 -0.5-4 -2-3.5 -2-2.5 -4-2 -4-1 -6 1.5 -2 1.5 -3.5 4 -1 4 0 4 3 8 -0.5 2 -2 2 -2-2 -2 0 -2 2 -4-4 -4 0 -2 2.5 -2-2 -2 1.5 -4 0 -2-2 -4 0 -4 4.5 -2-2 -2 2 -2-2 -10 0 -2-2 -2 2 -2 0 -2 2 -2 0 -2 1.5 -2-2.5 -2 1 -2-2 -8 0 -2-2 -2 2 -2 0 -2 2 -2-2 -4 0 -2 2 -2 0 -4-4 -2 4 -2 0 -2 2.5 -2 5.5 -2 0.5 -2 2 -4 0 -0.5-5 -3.5-9 -2 2 -2 0 -4-0.5 -2-2 -2 2 -2 6.5 -2 2 -2-2 -2 0 -2 2 -2 0 -2-2.5 -2 0 -4 4 -4-4 -2 0.5 -2-7 -0.5-8 -1.5-4.5 -0.5-19.5 -1.5-4 -2-0.5 -2-4 -2 2 -2-0.5 -2-2 -16-2 -2 2 -12-2 -2-0.5 -2-2 -2-0.5 -2 0.5 -4-1 -2-1.5 -2 0.5 -2-2 -4 0.5 -6-2.5 -2-2 -2-0.5 -2 0.5 -2-0.5 -7.5-4 0-14 -3-16 -3-12 2.5-60 3-22 4-20.5 5-17.5 5.5-12 5.5-10.5 6.5-9.5 7.5-9.5 0-4.5 -4-19 -1.5-3 -0.5-5.5 -1.5-2.5 -0.5-4.5 -12.5-27.5 -15.5-42 -2-3.5 -32-96.5 -4-40 -3.5-60 5.5-25.5 4-14.5 4-5 5.5-11 9.5-30 3.5-14 1.5-14 2-10.5 4-1 4 3 4 2 8 2.5 4-1 2 1.5 14 31 4 6.5 4 3.5 4 2 2 0 8-2.5 4 0 6 3 4 3 22 26.5 18 24.5 14 10.5 6 3 4 4 26.5 30.5 31.5 40.5 24 29 16 17.5 6 5 6 4.5 0.5 1.5 1.5 1.5 0 2.5 2 2 0 2 2 2 0.5 4 1.5 1.5 0 2.5 2 2 0.5 4 1.5 1.5 0.5 2.5 1.5 2 0.5 4 1.5 1.5 0 2.5 2 2 0.5 2 1.5 3 0.5 3 1.5 2 0.5 2 1.5 2.5 0.5 3.5 1.5 1.5 1 4.5 3.5 6 0.5 4 3.5 6 2.5 8 3.5 6 0.5 4 1.5 2 0.5 2 1.5 2 2.5 6 0 2 4.5 8 2 8 2 2 0.5 2 1.5 2 0.5 4 2 4.5 2 1.5 1-2 -0.5-4 -3.5-6 0-4 -1.5-2 0-2 -2-2 -2.5-10 -1-1 -0.5-3 -2-2 0-4 -1.5-1.5 0-2.5 -2-2 0-3 2 3 0-6 -1-2 -1-4 -10-28 -1-4 -3-7 -0.5-3 -1.5-2 -0.5-4 -1.5-1.5 -2.5-8.5 -1.5-2 -0.5-4 -1.5-1.5 -1-4.5 -1-1.5 0-2.5 -2-2 0-5 16 0 2 1 0 4 2 1.5 0 2.5 0.5 2 1.5 1 0 3 2 2 0 4 2 2 0.5 4 1.5 1 0.5 5 1.5 1.5 0.5 2.5 1.5 2 0 4 2 2 0.5 4 2 2 0 4 1.5 1.5 0 2.5 2 2.5 1 5.5 1 1 0.5 3 1.5 2 0.5 4 1.5 2 0.5 4 2 2 0.5 4 1 1 1 5 1.5 2 2 8 1.5 2 2 5 0.5 5 2 2 1.5 4 1 6 3.5 6 0 4 5 8 -0.5 4 2 4 1 1.5 2 0.5 0 1 1.5-3 -0.5-4 -3.5-6 -0.5-6 -3.5-6 0-4 -4-8 0-4 -4-8 0-4 -1.5-2 -2.5-6 0-4 -1.5-1.5 -0.5-2.5 -1.5-2 -1-6 -1-1.5 -0.5-2.5 -1.5-2 -0.5-4 -1.5-3 -0.5-3 -1.5-2 -0.5-4 -1.5-2 -0.5-4 -1.5-2 -0.5-4 -1.5-2 -0.5-4 -1.5-2 0-4 -2-2 0-7 -8-31.5 -17-59.5 -37-122 -3-12 -1-2 -1-6 -1-1 -0.5-5 -1.5-1.5 -0.5-4.5 1.5-4 -1-2 0-4 -1.5-2 -0.5-5 -1.5-3 -0.5-4.5 -1.5-1.5 -2.5-12 -1.5-2 -0.5-4 -1-2 -5-18 -1-2 -0.5-4 -11.5-36zM596 523l-2 1 -1 2 3 5.5 2 0 1-3.5 -0.5-2 -2.5-2zM598 503.5l0.5 4.5 1.5 2 2 0 1.5-2 0-4 -1.5-1.5 -2-0.5zM296 530l-0.5 8 5.5 34 1 4 0.5 8 1.5 1 4 12.5 2 2.5 0.5-4 -0.5-12 -8-35 -1.5-3 -0.5-5 -1.5-3 -0.5-4zM542 793.5l-2 2.5 0.5 2 15 20 20 22 2.5 1 2.5-1 1.5-2 0-2 -1-2 -21-26 -0.5-4 -1.5-2 -2-1.5 -4-0.5 -6-6.5 -2-0.5zM564 558.5l0 3.5 2 2.5 1.5-0.5 -1.5-5zM596 534.5l-0.5 1.5 1 4 1.5 2 2 0 1-2 -0.5-4 -2.5-2zM602 514l-2 2 0.5 4 1.5 1.5 2 0 1.5-1.5 0-4 -1.5-1.5zM596 572l-2 0 -0.5 2 2 6 2.5 1 1-1 0-4zM600 546l-1.5 2 0.5 2 1 3 2 0.5 1-3.5 0-2 -1-1.5zM604 526.5l-1.5 1.5 0.5 4 1 1.5 2 0 1.5-1.5 -0.5-4 -1-1.5zM600 586l-1 2 0.5 2 0.5 1 2 0.5 0.5-3.5zM602 556.5l-1.5 1.5 0.5 4 1 1.5 2 0 1-1.5 0-4 -1-1zM606 538.5l-1.5 1.5 0.5 4 1 1.5 2 0 1-1.5 0-4 -1-1zM600 734l-2 2 0.5 2 3 8 6.5 10 12 15 2 0.5 2-1 1-2.5 -6-10 1-6 -1-2 -7-4.5 -10-11zM604 568.5l-1 1.5 0 2 1 2 2 0.5 1-2.5 0-2 -1-1.5zM608 550.5l-1.5 1.5 0.5 4 1 1 2 0.5 1-1.5 0-4 -1-1zM624 801.5l-2 2 -17.5 24.5 -1 2 0.5 2 2 2 2 0.5 3-2.5 9.5-12 8.5-14 0-2 -1-2 -2-1zM606 579l-0.5 1 0 4 2.5 1 1-1 -0.5-4 -0.5-1zM610 563l-1 1 0 4 1 1 2 0 1-1 -0.5-4 -0.5-1zM608 591.5l-0.5 0.5 0.5 1.5 2 1.5 0.5-3 -0.5-0.5zM612 575l-0.5 1 0 4 2.5 0.5 0.5-0.5 0-4zM614 587.5l0 3.5 2 1 0-4zM480 182l0-1 1 1 -1 2zM481.5 188l0.5-1.5 2 1.5 -0.5 2 -1.5 1.5zM572 390l1.5 4 -1.5 0.5z"/>
<path fill="#adff49" d="M455 82l25.5 0 0.5 4 1 2 1 6 1 2 1 6 1 2 5 20 1.5 4 0.5 4 1.5 4 0.5 4 1.5 4 0.5 4 43 166 10 36 22 86 1 2 1 5.5 1.5 2.5 0.5 4 2 4 0.5 6 1.5 2.5 1 7.5 1 1.5 0 2.5 2.5 6 0 6 2.5 4 -0.5 2 0 4 2.5 2 0 2 0 6 2.5 4 0 2 -1 2 0.5 2 1 2.5 2 1.5 0 4 -1 2 2 4 1 2 2 0 1-4 -0.5-2 -2-2 -1-4 1.5-2 -0.5-2 -2.5-4 1-6 -3.5-8 1.5-2 -3.5-8 1-2 -1-4 -2.5-6 1-2 -0.5-4 -2-4 0-6 -2-4 -0.5-2 1-2 -0.5-4 -2-2 -0.5-2 0.5-6 -1.5-2 -0.5-2 0-8 -2-2 0.5-8 -2.5-2 0.5-7 8 23 0.5 6 1.5 2 0.5 8 2 4 0 8 2 4 0.5 4 -0.5 2 2.5 6 1 4 -1 2 4 10 -2 2 1.5 4 3.5 6 -2.5 2 1 4 1.5 2 2 0 1.5-2 0-4 -1.5-2 -1.5 0 0.5-4 1-2 0-4 -2.5-4 0.5-8 -2-4 0-8 -2-4.5 -0.5-9.5 -1.5-3.5 0-14 -1.5-2.5 -0.5-10 -1.5-4 -0.5-8 -1.5-4 -0.5-8 -1-4 -1-8 -1-4 -12.5-78 -36.5-214 -1.5-10 36 0 35.5 240 8 52.5 6 33 1.5 2.5 0.5 3 2-0.5 20 0 2 1.5 0.5 40 0 2 1.5 2 0.5 30 0.5 10 1.5 4 0 28 2 14 0.5 28 1 4 1 34 1 4 1.5 28 0.5 2 1 10 -0.5 48 -1 12 -1 20 -2.5 17.5 -3 6.5 -1 7 -2 0.5 -1.5-5.5 -2.5-3.5 -2 0 -2 1.5 -2 10 -1.5 2 -0.5 7.5 -2 1 -0.5 1.5 -2.5 10 -1 18.5 -1.5 3.5 -0.5 4 -4.5 10 -3.5 11 -2.5 3 -1.5 8 -2 4.5 -2 0.5 -2 3 -6 3.5 -2-3 -2 3.5 -8 4 -2-0.5 -2 2 -8 0.5 -4-3 -2 2 -2-0.5 -2-1.5 -6-0.5 -2 2 -2-2 -6-1 -4 0 -2 2 -2-0.5 -2-3 -2 1.5 -2-2 -6-0.5 -2-2.5 -2 4 -2 2 -1.5-4.5 -4-4 3.5-4 2.5-4 0.5-4 -0.5-4 -2-4 -2.5-2.5 -4-2.5 -4-0.5 -4 0.5 -4 2 -4 5 -1.5 4 0.5 4 3 8 -2 3.5 -2-2 -2 0 -2 2 -4-4 -4 0 -2 2.5 -2-2 -2 1.5 -4 0 -2-2 -4 0.5 -4 4 -2-2 -2 2 -2-2 -10 0 -2-2 -2 2 -2 0 -2 2 -2 0.5 -2 1 -2-2.5 -2 1 -2-2 -8 0 -2-2 -2 2 -2 0 -2 2 -2-2 -4 0 -2 2 -2 0 -4-4 -2 4 -2 0 -2 2.5 -2 6 -2 0 -2 2 -4 0 -1-6.5 -3-7.5 -2 2 -2 0 -4-0.5 -2-1.5 -2 2 -2 6 -2 2 -2-2 -2 0 -2 2 -2 0 -2-2 -2-0.5 -4 4 -4-4 -2 0.5 -1-4.5 -1-2.5 -0.5-7.5 -1.5-4.5 -1-21.5 -1-2 -2-0.5 -2-4.5 -2 2 -2-0.5 -2-2 -16-1.5 -2 1.5 -2 0 -12-2 -2-2 -6.5-0.5 -3.5-2.5 -2 0.5 -2-1.5 -4 0 -6-2.5 -2-1.5 -2-1 -2 1 -1-0.5 -4-2 -1-2 0-12 -5-30 3-60 1-6 5-24 6-20 4-10 5.5-10 6-10 6.5-9 0-7 -1.5-14 -13.5-58 -1-5.5 -1-2.5 -1-6.5 -1-1.5 -1-6.5 -1.5-3.5 -0.5-3.5 -4.5-12.5 -7.5-10 -6-9.5 -26.5-80.5 -7.5-53 -3-47 3-14.5 3.5-9.5 2-8 4.5-4 6-10.5 2-8.5 8-25 4-15.5 6-8.5 2-2 6-3 10-2.5 3 3.5 3.5 8 6.5 16 3 6.5 4 5.5 4 3 4 1 2 0 8-5 4 0 6 2 4 3.5 24 28 18 24 20 14 17 19.5 13 16 40 52 28 35.5 12 14 12 12.5 0 2 2 2 0 2 2 2 0 4 2 2 0 2 2 2 0.5 4 1.5 1.5 0 2.5 2 2 0 2 2 3 0.5 3 1.5 2 1 4 3.5 6 0.5 4 3.5 6 2 8 3.5 6 1 4 3.5 6 2 6 0.5 2 4 8 2.5 8 2 2 0.5 2 1.5 2 0.5 4 1 2 0.5 2 2.5 2 0 2 2 1.5 -1.5-9.5 -3.5-6 0-4 -1.5-2 0-2 -2-2 -0.5-4 -1-2 -0.5-4 -1.5-1.5 -0.5-2.5 -1.5-2 0-4 2 1.5 0-3 -1.5-2.5 -2-8 -7-22 -1.5-2 -1-4 -1-1.5 -2.5-8.5 -1.5-2.5 -0.5-3.5 -1.5-2 -0.5-4 -1.5-2 0-4 16 1 0 1 2 2 0.5 4 1.5 1.5 0.5 4.5 1.5 1.5 0.5 2.5 1.5 2 0 4 2 2 0.5 4 1.5 1.5 0.5 4.5 1.5 1.5 0 2.5 2 2 0.5 4 1.5 3 0.5 3 2 2 0 4 1.5 1.5 0.5 4.5 2 2 2 8 3.5 7.5 0.5 4.5 1.5 2 2 4.5 1 5.5 3.5 6 0 4 4.5 8 0 4 2 4 1 1.5 1.5 0.5 0.5 2 -0.5 2 2 6 2.5 1.5 1.5-1.5 -0.5-4 -3.5-6 -0.5-6 -1.5-2 -1.5-4 -1-6 -3-6 -1-6 -3-6 -0.5-4 -4-8 0-4 -1.5-2 -2.5-6 0-4 -1.5-1.5 -0.5-2.5 -1.5-3 -0.5-5 -1.5-1.5 -0.5-2.5 -1.5-2.5 0-3.5 -0.5-2 -1.5-1.5 0-2.5 -2-2 0-4 -2-3.5 0-2.5 -2-2 0-4 -2-9.5 -12-44.5 -40-135 -1-5 -1-2 -1-6 -1-1 -0.5-5 0.5-1.5 2 1.5 0 4 0.5 0 -0.5-8.5 -1.5-1.5 -0.5-5 -1.5-3 -0.5-4 -1.5-2 -0.5-5 -3-9 -1-4 -1-2 -4.5-18 -29-94 -0.5-4 -1-2 -1-4 -1-2zM596 534.5l-0.5 1.5 1 4 1.5 2 2 0 1-2 -0.5-4 -2.5-2zM602 514l-2 2 0.5 4 1.5 1.5 2 0.5 1.5-2 0-4 -1.5-1.5zM288 492l0 8 6.5 40 -0.5 4.5 -4-7 0 4.5 1.5 4 0.5 8 1 4 4.5 26 2.5 8.5 1.5 1.5 0.5 2 2-2.5 2 2 4 12.5 1.5 2 0.5 2 1.5-2 -2-28 -1.5-3.5 -0.5-4.5 -1.5-4 -1-6 -13-53.5 -1-2.5 -1-5.5 -1.5-2.5 -0.5-4.5zM444 627.5l-1 0.5 0 2 5 12 4 5 4 2.5 0.5-1.5 -0.5-2 -1.5-2 -0.5-2zM542 793.5l-2 2.5 0 2 1 2 14 18 20 22 3 1 3-1 1.5-2 0-2 -1.5-2 -21-26.5 -0.5-3.5 -1.5-2 -2-1.5 -3.5-0.5 -6.5-7 -2-0.5zM564 558l-0.5 2 0.5 2.5 2 2.5 2-0.5 -2-5.5zM600 546l-1.5 2 0 2 1.5 3.5 2 0 1-1.5 0-4 -1-1.5zM604 526.5l-1.5 1.5 0 4 1.5 1.5 2 0 1.5-1.5 0-4 -1.5-1.5zM600 585.5l-1 0.5 0.5 4 0.5 1 2 1 1-2 -0.5-2zM602 556.5l-1.5 1.5 0.5 4 1 1.5 2 0 1-1.5 0-4 -1-1zM606 538.5l-1.5 1.5 0.5 4 1 1.5 2 0 1-1.5 0-4 -1-1zM600 734l-2 2 0 2 3.5 8 6 10 12.5 15 2 0.5 2-0.5 1-1 0-2 -5.5-10 0.5-6 -0.5-2 -9.5-6.5 -8-9.5zM604 568.5l-1 1.5 0 2 1 2 2 1 1-3 0-2 -1-1.5zM608 550.5l-1.5 1.5 0.5 4 1 1.5 2 0 1-1.5 0-4 -1-1zM624 801l-2 2 -17.5 25 -1 2 0 2 2.5 2 2 0.5 2-1 3-3.5 8-10 8.5-14 0-2 -1.5-2 -2-1zM606 579l-1 1 0.5 4 2.5 1 1-1 0-4 -1-1zM610 562.5l-1 1.5 0 4 1 1 2 0 1-1 0-4 -1-1zM608 591l-0.5 1 0.5 2 2 1.5 0.5-1.5 0-2 -0.5-1zM612 575l-1 1 0.5 4 2.5 1 0.5-1 0-4 -0.5-0.5zM610 602l2 4 0-4zM614 587.5l0 4.5 2 0 0-4zM497.5 240l0.5-1 1 1 0 2 -1 1.5zM499.5 246l0.5-1.5 1.5 1.5 0 4 -1.5 0.5zM574 402l0-2 1 4 -1 0z"/>
<path fill="#b7ff40" d="M535 82l35.5 0 0.5 8 17.5 114 16.5 118 19 119.5 2 10 2 2 18 0 0 2.5 2 2 1 40 1 4 0.5 28 1 10 1 4 0.5 28 1 4 1 34 1 4 1 28 1 4 1 14 -0.5 42 -1 12 -1 20 -2.5 17 -3 7 -1 7 -2 0.5 -1-5.5 -3-4 -2 0.5 -2 1.5 -2 9.5 -1.5 2.5 -0.5 7 -2 1 -1 2 -2 10 -1 18 -0.5-4 -1-2 -2.5-1 -3 1 -17.5 24 -2.5 4 0.5 2 2.5 2.5 2 0.5 2-1.5 11-13.5 7-12 1 2 -1 5.5 -5 10.5 -3 10.5 -3 3.5 -1 7 -2 4.5 -2 1 -2 3 -4 1.5 -2 1.5 -2-2.5 -2 4 -8 4 -2-1 -2 2.5 -8 0.5 -4-3 -2 1.5 -2 0 -2-2 -6-0.5 -2 2 -2-2 -10-1 -2 2 -2-0.5 -2-3 -2 1.5 -2-2 -6-0.5 -2-2.5 -2 4 -2 2 -1-4 -3-4 5-8 0.5-4 -0.5-4 -1.5-4 -3.5-3.5 -4-2 -4-0.5 -4 0.5 -4 2 -4.5 5.5 -1.5 4 0 4 3.5 8 -1.5 3 -2-2 -2 0 -2 2 -4-4 -4 0 -2 2 -2-1.5 -2 1.5 -4 0 -2-2 -4 0.5 -4 4 -2-2 -2 2 -2-2 -10 0.5 -2-2 -2 2 -2 0 -2 2 -4 1 -2-2.5 -2 1 -2-1.5 -8 0 -2-2 -2 2 -2 0 -2 2 -2-2.5 -4 0.5 -2 2 -2 0 -4-4 -2 4 -2 0 -2 2 -2 6 -2 0.5 -2 2 -4 0 -1-6.5 -3-8 -2 2.5 -2 0 -4-0.5 -2-2 -2 2 -2 6 -2 2.5 -2-2 -2 0 -2 2 -2 0 -2-2.5 -2 0 -4 4 -4-4 -2 0.5 -0.5-4.5 -1.5-3 -0.5-7 -1.5-5 -1-21 -1-2.5 -2-0.5 -2-4 -2 1.5 -2 0 -2-2 -8-1.5 -8-0.5 -2 1.5 -12-1.5 -2-0.5 -2-2 -2-0.5 -2 1 -4-1.5 -2-2 -2 1 -2-2 -4 0.5 -2-1.5 -4-1 -4-3 -2 1 -3-2 0-14 -3.5-30 4-60 4.5-20.5 5.5-17.5 4-10 6-12 10.5-17 0.5-9 -2.5-18 -0.5-10 -1.5-2 -0.5-6 -1.5-2.5 -0.5-5.5 -1.5-3.5 -15.5-70.5 -4.5-16.5 -14-25.5 -21-64 -5-38 -6-33.5 -2.5-28.5 0.5-3 2-6 3-5 1.5-8 1.5-3 2 0 2-1.5 2-4.5 4-4.5 2-9.5 10-31.5 12-18 4.5-5.5 1.5-1 6-2.5 2 1.5 5.5 16 4.5 10 6 11 4 4.5 8 0.5 2-1 6-6.5 2-1.5 4 0 6 3 30 33.5 16 21 20 15.5 17.5 20 82.5 108.5 26 31.5 2 3 0 3 2 2 0 2 2 2 0.5 4 1.5 1.5 0 2.5 2 2 0.5 4 1.5 1.5 0.5 2.5 1.5 2 1 4 3.5 6 2 8 3.5 6 1 4 1.5 2 0 2 1.5 2 2.5 6 0.5 2 4 8 2.5 8 1.5 2 0.5 2 1.5 2 0.5 4 1.5 2 0.5 2 2 2 0.5 2.5 1.5 1.5 0 4 2.5 3.5 2-0.5 0-1 -1-2 -1-3 -1.5-1 -1.5-10 -4-6 0.5-4 -2-2 0-2 -1.5-2 -0.5-4 -1.5-2 0-4 -2-2 0-2 2 1.5 0.5-3.5 -1.5-2 -0.5-4 -5-16 -1.5-2.5 -0.5-3.5 -1.5-2 -0.5-4 -1.5-1.5 -0.5-4.5 -1.5-2 0-2.5 8 4 10 1 0 3.5 2 2 0.5 4 1.5 1.5 0.5 4.5 1.5 1.5 0 2.5 2 2 0.5 4 1.5 2 0.5 4 1.5 2 0.5 4 1.5 1.5 1 4.5 1 1 0.5 3 1.5 2.5 0.5 3.5 1.5 2 2 5 0.5 5 1.5 1.5 2 4.5 0.5 4 4 8 0 4 2 4 2.5 2 0.5 6 2 4 2.5 1.5 1.5-1.5 -0.5-4 -2.5-4 -1.5-8 -1.5-2 -1.5-4.5 -1-5.5 -1.5-2 -1.5-4.5 -1-5.5 -3-6 -0.5-4 -3.5-8 -0.5-4 -3.5-8 -0.5-4 -1.5-2 -0.5-4 -1.5-1.5 -0.5-4.5 -1.5-2 -0.5-4 -1.5-1.5 -0.5-4.5 -1.5-2 -4-18.5 -11.5-43.5 -30.5-102.5 -1-5.5 -1-1.5 -0.5-4.5 -1.5-2 0-6 2 2 0 2.5 1-0.5 -1-2 0-6 -1.5-2 0-4 -2-4 -0.5-4 -1-2 -0.5-4 -1.5-2 -17.5-60 -0.5-4 -5.5-16 -0.5-4 -1-2 -0.5-4 -3.5-9 -1-5 -1-2 -0.5-4 -1.5-2 -3-12 -1-1.5 -0.5-4.5 -1.5-2 -0.5-4 -1.5-3 -0.5-5 -1.5-1.5 -0.5-4.5 -1.5-2 0-4 -2-3.5 0-4.5 -2-2 20-6 2 1 0 5 2 2 0.5 6 1.5 1.5 0.5 6.5 1.5 1.5 0.5 6.5 1.5 1.5 0.5 4.5 0.5 2 1 1 0.5 5 1.5 3 0.5 5 1.5 3 0.5 5 1.5 2.5 0.5 5.5 1.5 2.5 0.5 5.5 1.5 2 0.5 6 1.5 2 1 6 1 2 1 6 1 2 1 6 1 2 0.5 4 1.5 4 1 4 1.5 4 0.5 4 1.5 4 23 90 12 44 22.5 87 1 1 1 6 2 4 0.5 6 1.5 2.5 2 7.5 0.5 6 2 4 0 6 1.5 2 1 2 -0.5 6 2.5 4 0 6 0.5 2 2 2 0 4 -0.5 2 4 8 -1 0 -1 2 1.5 4 1.5 2 2 0 1.5-2 -0.5-2 -0.5-2 -2.5-2 1-6 0-2 -2.5-2 -0.5-4 1.5-2 -0.5-2 -2.5-4 0.5-6 -2-4 -1-4 1-2 -2.5-6 -1-8 -2-6 0-6 -2-4 0.5-6 -2.5-6 0-6 -1.5-2 0-8 -2-2 -0.5-2 0.5-8 -2.5-2 0.5-6.5 8 23.5 0.5 7 1.5 2 0.5 8 2 4 0.5 4 -0.5 2 2.5 6 0.5 4 -1 2 3.5 10 -1 2 4.5 10 -2 2 1 4 1.5 2 1 0 1 1.5 0-1.5 2-2 0-4 -2.5-2 0-2 0.5-8 -2-6 0-15 -1.5-3 -0.5-10 -1-2 -1-10 -1.5-4 -0.5-8 -1.5-4 -0.5-8 -1-4 -1-8 -15.5-94 -38.5-224zM282 465.5l0 6.5 1 12 1.5 6 0 6 -0.5 2.5 -4-10.5 0 8 1 2 1 8 1 4 0.5 6 8.5 44 1 8 1 2.5 1 9.5 1 1.5 0.5 4.5 1.5 2.5 6 18.5 2-2.5 2 1 6 18 2-1.5 0-2 -2-22 0-3 2-4 0-7 -1.5-4 -0.5-5.5 -1-2.5 -1-6 -1.5-4 -0.5-4 -8-22 -1-4 -1-2 -0.5-4 -1.5-4 -1-6 -11-43 -2-5zM426 602l-2 0 0 4 4 6 8 6.5 0-3zM440 621.5l-1 0.5 0.5 2 4.5 12 2 4 8 10.5 2 1.5 4 1.5 0.5-1.5 -2.5-4.5 -10-15zM542 793l-2 3 0 2 5 8 8 10 22 24 3 1.5 3.5-1.5 1-2 0-2 -1-2 -21.5-26.5 -0.5-3.5 -1.5-2 -2-1.5 -3.5-0.5 -6.5-7 -2-0.5zM600 544.5l-2 3.5 2 5.5 2 0.5 1-2 0-4 -1-1.5 -1.5-0.5zM600 515.5l0.5 4.5 1.5 2 2 0 1.5-2 0-4 -1.5-1.5 -2-0.5zM600 584.5l-1.5 1.5 1 4 0.5 1.5 2 1 1-2.5 -0.5-2zM602 556l-1.5 2 0.5 4 1 1.5 2 0 1.5-1.5 -0.5-4 -1-1.5zM604 526l-2 2 0.5 4 1.5 1.5 2 0 1.5-1.5 0-4 -1.5-1.5zM600 733.5l-2.5 2.5 0 2 3.5 8 6 10 4.5 6 8.5 9 2 1 2-1 1-1 0-2 -5.5-10 1-6 -1-2 -9.5-6.5 -8-9.5zM604 568l-1 2 0 2 1 2 2 1 1-1 0-4 -1-1.5zM606 538.5l-1.5 1.5 0.5 4 1 1.5 2 0 1.5-1.5 -0.5-4 -1-1.5zM604 599.5l0 1 2 1.5 0-2zM606 578.5l-1 1.5 0.5 4 2.5 1 1-1 0-4 -1-1zM608 550.5l-1.5 1.5 0.5 4 1 1.5 2 0 1-1.5 0-4 -1-1zM608 591l-0.5 1 0 2 2.5 1.5 1-1.5 -0.5-2 -0.5-1zM610 562.5l-1 1.5 0 4 1 1 2 0.5 1-1.5 0-4 -1-1zM610 601.5l0 1.5 2 3.5 0.5-0.5 0-4zM612 575l-1 1 0.5 4 0.5 0.5 2 0.5 0.5-1 0-4 -0.5-1zM614 587.5l-0.5 0.5 0.5 4 2 0.5 0.5-4.5zM513.5 292l0.5-1.5 1 1.5 0 2 -1 1zM576 412l0-1.5 1 3.5 -1 0zM285 500l1-1 0 4z"/>
<path fill="#c1ff36" d="M535 82l35.5 0 0.5 10 15.5 100 17 122 20.5 135.5 4 15.5 2 1.5 18 0 0.5 31.5 1.5 4 0.5 28 0.5 10 1.5 4 0.5 28 1.5 14 0.5 24 1 4 1 28 1 4 1 14 -0.5 42 -1 12 -1 20 -2.5 17 -3 7 -1 6.5 -2 0.5 -1-5 -3-4 -2 0.5 -2 1.5 -2 9.5 -1.5 2.5 -0.5 6.5 -2 1 -1 2.5 -1 6.5 -1.5 3.5 -0.5 16.5 0-2.5 -1-2 -1-0.5 -2-1 -2 0.5 -1.5 1 -17.5 24 -2 4 0 2 3 3 2 0 2-1 11.5-14 6.5-11 0.5 1 -0.5 4.5 -5.5 11.5 -2.5 9.5 -3.5 4.5 -0.5 6.5 -2 4.5 -2 1 -2 2.5 -4 2 -2 1.5 -2-3 -2 4 -1 1 -7 3.5 -2-0.5 -2 2 -8 0.5 -4-2.5 -2 1.5 -2-0.5 -2-1.5 -6-0.5 -2 1.5 -2-2 -8-1.5 -2 0 -2 2 -2-0.5 -2-3 -2 1.5 -2-2 -6-0.5 -2-2.5 -2 4 -2 2 -0.5-3 -2.5-4 4-6 1.5-4 0-4 -1-4 -3-4 -2.5-2.5 -4-1.5 -4-1 -4 0.5 -4 2 -3 2.5 -2.5 4 -1.5 6 1.5 6 2 4 -0.5 2 -2-2 -2 0 -2 2 -4-3.5 -4 0 -2 2 -2-2 -2 2 -4 0 -2-2 -4 0.5 -4 4 -2-2 -2 2 -2-2 -10 0 -2-2 -2 2.5 -2 0 -2 2 -2 0 -2 1 -2-2.5 -2 1 -2-1.5 -8 0 -2-2 -2 2 -2 0 -2 2 -2-3 -4 1 -2 2 -2 0 -4-4 -2 4 -2 0 -2 2.5 -2 5.5 -2 0.5 -2 2 -4 0 -1-6 -3-8.5 -2 2.5 -6-0.5 -2-1.5 -2.5 2 -1.5 5.5 -2 2.5 -2-2 -2 0 -2 2 -2 0 -2-2.5 -2 0 -4 4 -4-4 -2 0.5 -0.5-4 -1.5-3.5 -0.5-8.5 -1.5-3.5 -1-20.5 -1-3 -2-0.5 -2-4 -2 1.5 -2 0 -2-2 -8-1 -8-1 -2 2 -13.5-2 -2.5-2.5 -2-0.5 -2.5 1 -3.5-1 -2-2.5 -2 1 -2-2 -4 0.5 -2-1.5 -2.5-0.5 -5.5-4 -2 0 0-14 -2-30 4.5-60 1.5-6 4-14 4-11.5 10-20.5 8-14 0.5-10 -2.5-22.5 2-2 6 18.5 1.5 2 0.5 3.5 2-2.5 2 0.5 6 19 2 1 0.5-7.5 -2-20 1.5-4 0.5-10 -2-12 -12.5-56.5 -1.5-3.5 -0.5-5.5 -1.5-2.5 -0.5-5.5 -8-20 -1-4.5 -1-1.5 -8-29.5 -2-4.5 -2-2 0.5 19.5 -0.5 2 -4-4.5 0 2.5 1 4 2 20 3.5 14 0.5 6 1 4 0.5 8 1.5 1.5 0 7.5 -2-5.5 -0.5-3.5 -1.5-3 -0.5-5 -1.5-3 -0.5-5 -1.5-4 -3-16 -9-32 -1-2 -1-3.5 -8-16.5 -15.5-48 -6.5-56 -4-23.5 -4.5-20.5 3-4 1.5-8 2-4 2 0.5 2-1.5 2-3.5 4-3.5 2-10 3-8 3-13 7-11 3-3 6-10.5 10-12.5 2 2.5 4.5 13.5 4.5 10 3.5 6 7.5 10 2 1 2-1.5 4 0 2-1 4-5 3-5.5 3-2 4 0 4 2 4 3.5 14.5 16.5 13.5 14.5 14 18.5 22 18 16 19 92 122 22 28 0 2 2 2 0 2 2 2.5 0.5 3.5 1.5 1.5 0.5 2.5 1.5 2 0.5 4 1.5 1.5 0.5 2.5 1.5 2 2.5 8 1.5 2 2 4 0.5 4 2 2 0 2 1.5 2 2.5 6 0 2 4.5 8 2.5 8 1.5 2 0.5 2 1.5 2 0.5 4 1.5 2 0.5 2 2 2 0.5 2.5 1.5 1.5 0 4 2.5 3.5 2 0 0.5-1.5 -1.5-2 0-2 -2.5-2 -1.5-10 -3.5-6 0-4 -1.5-2 -0.5-2 -1.5-2 -0.5-4 -0.5-2 -1-0.5 0-2.5 2 2 0-5 -1-2 -3.5-14 -1.5-2.5 -0.5-3.5 -1.5-2.5 0-1.5 0-1.5 10 9 6 4 4 1.5 0 1 2 2 0 4 2 2 0.5 4 1.5 1.5 0.5 4.5 1.5 1.5 0 2.5 2 2.5 0.5 3.5 1.5 1.5 0.5 4.5 1.5 1.5 2 5 1 5.5 3.5 6 0 4 4.5 8 0.5 4 1.5 4 3 2 1.5-2 -0.5-4 -2-4 -1.5-8 -1.5-2 -2-5.5 -0.5-4.5 -1.5-2 -2-5 -0.5-5 -1.5-2 -2-5 -0.5-5 -1.5-1.5 -2-5.5 0-3 -3.5-8 -0.5-4 -3.5-8 -20-74 -20.5-70.5 -1-5.5 -1-1.5 -0.5-4.5 -1.5-2.5 0-5.5 2-2 -1.5-2 -0.5-6 -1-2 -3-12 -11-40 -1.5-2 -0.5-4 -3-9 -1-5 -1-2 -0.5-4 -1.5-2.5 -1-5.5 -1-1.5 -0.5-4.5 -1.5-2.5 0-4.5 14-3.5 0.5 4.5 1.5 1.5 0.5 6.5 1.5 1 0.5 5 1.5 3 0.5 5 1.5 2.5 0.5 5.5 1.5 2 1 6 1 2 1 6 1 2 0.5 4 1.5 4 7 28 23 84 13.5 54 4.5 16 1 2 1 6 2 4 0.5 4 1.5 4 0.5 4 1.5 4 0.5 6 2 4 0 6 2.5 4 -0.5 6 0.5 2 2 2 0.5 4 -0.5 2 2.5 6 0.5 2 -1 2 1.5 4 2.5 4 0 2 -1 2 1 4 1 1.5 2 0.5 1-2 0-4 -1-1.5 -1.5-0.5 -0.5-2 0-2 1.5-2 -0.5-2 0-2 -2.5-2 1-6 -0.5-2 -2-2 -0.5-4 1-2 -0.5-2 -2.5-4 0.5-6 -2-4 -1-4 1-2 -2-6 0-4 -3.5-10 0.5-6 -2-4 0-6 -2.5-6 0.5-6 -2-2.5 0-7.5 -0.5-2 -1.5-1 0-3 0-4 6 17.5 0 2.5 2 3.5 0.5 6.5 2 4 0 8 2 4 0.5 4 -0.5 2 2.5 6 1 4 -1 2 4 10 -2 2 1.5 4 3 6 -2 2 1 4 1.5 2 2 0 1.5-2 0-4 -1.5-2 -1.5 0 0.5-4 1-2 0-16 -1.5-2 -0.5-10 -1.5-4 -0.5-8 -1.5-4 -0.5-8 -1-4 -1-8 -1-4 -20.5-124 -38.5-225zM420 595l-1.5 1 1.5 4 2 4 6 9 8.5 9 5.5 12 6 10 8 8.5 6 3.5 0.5-2 -2.5-4.5 -28-41 -8-11 -2-2zM542 793l-2.5 3 0 2 3.5 6 8 10 23.5 26 3.5 1.5 3.5-1.5 1.5-2 0-2 -1.5-2 -21.5-27 -0.5-3 -1.5-2 -2-1.5 -3.5-0.5 -6.5-7 -2-0.5zM598 585.5l2 6 2 1 1-0.5 0-4 -3-4zM602 556l-1.5 2 0.5 4 1 1.5 2 0.5 1.5-2 -0.5-4 -1-1.5zM604 526l-2 2 0.5 4 1.5 2 2 0 1.5-2 0-4 -1.5-1.5zM600 733.5l-2.5 2.5 0 2 3 8 6.5 10 4 6 9 9.5 2 0.5 2-1 1-1 0.5-2 -5.5-10 0-2 1-2 0-2 -1-2 -10-6.5 -7.5-9.5zM604 568l-1 2 0 2 1 2.5 2 0.5 1-1 0-4 -1-1.5zM606 538l-1.5 2 0 4 1.5 1.5 2 0 1.5-1.5 0-4 -1.5-1.5zM604 599l0 3 2 0.5 0-3zM606 578.5l-1 1.5 0.5 4 2.5 1.5 1.5-1.5 -0.5-4 -1-1.5zM608 550.5l-1.5 1.5 0.5 4 1 1.5 2 0 1-1.5 0-4 -1-1.5zM608 591l-1 1 0.5 2 2.5 2 1-2 0-2 -1-1zM610 562.5l-1.5 1.5 0.5 4 1 1.5 2 0 1-1.5 0-4 -1-1zM610 601.5l-0.5 0.5 0.5 2 2 2.5 1-0.5 -0.5-4zM612 575l-1 1 0.5 4 0.5 1 2 0 1-1 0-4 -1-1zM614 587.5l-0.5 0.5 0 4 2.5 0.5 0.5-4.5zM616 600l0 1.5 2-0.5 0-1zM526 330l0-0.5 1 0.5 0.5 2 -1.5 0.5zM602 496l0-1 0.5 1 0.5 2 0 2 -1 0.5z"/>
<path fill="#c7ff30" d="M535.5 82l34.5 0 1 10 15 100 17.5 128 18.5 122.5 4 22.5 4 13.5 2 0.5 16 0 0.5 19 1.5 4 0.5 28 0.5 10 1.5 4 0 28 2 14 0.5 24 1.5 12 0.5 20 1 4 1 14 -0.5 42 -1.5 12 -0.5 20 -1 4 -1.5 12.5 -3 7.5 -1 6.5 -2 0.5 -1-5 -3-4 -2 0 -2 2 -2 9.5 -1.5 2.5 -0.5 5.5 -2.5 2.5 -3 12 -0.5 14 -0.5-2 -3.5-1.5 -2 0.5 -1.5 1 -19 26 -0.5 4 1 1.5 2 2 4-0.5 9-11 1-2 3.5-4 0.5-2 2-3 1.5 1 -1.5 4 -3.5 6 -0.5 4.5 -1.5 1.5 -0.5 4.5 -3 3.5 -1 7 -2 4.5 -2 1 -2 3 -4 1.5 -2 2 -2-2.5 -2 4 -2 1.5 -6 3 -2-0.5 -2 2 -8 1 -4-3 -2 1.5 -2 0 -2-2 -6-0.5 -2 1.5 -2-2 -8-2 -2-0.5 -2 2.5 -2-1 -2-2.5 -2 1 -2-2 -6 0 -2-2.5 -1.5 2 -0.5 2 -2 2 -1-4 -1-2 3.5-4 1.5-4 0-8 -1.5-4 -5.5-5.5 -4-2 -4-0.5 -6 1 -4 2.5 -3.5 4.5 -2 4 0 4 0 4 2 4 -2.5 1 -2 2 -4-4 -4 0.5 -2 2 -2-1.5 -2 1.5 -4 0.5 -2-2 -4 0 -4 4.5 -2-2 -2 2 -2-2 -10 0 -2-2 -2 2 -2 0 -2 2 -2 0.5 -2 1 -2-2.5 -2 1 -2-1.5 -8-0.5 -2-2 -2 2 -2 0 -2 2 -2-3 -4 1 -2 2 -2 0 -4-3.5 -2 3.5 -2 0.5 -2.5 3 -1.5 5 -2 0.5 -2 2 -4 0 -0.5-5.5 -3.5-9.5 -2 3 -6-1 -2-1 -2.5 2.5 -1.5 5 -2 2.5 -2-2 -2 0 -2 2 -2 0 -2-2.5 -2-0.5 -4 4 -4-4 -2 1 -1-5.5 -1-2 -0.5-8 -1.5-4 -0.5-20 -1.5-3 -2-0.5 -2-4.5 -2 2 -2-0.5 -2-2 -4-1 -12-1 -2 2 -12-1.5 -2-1 -2-2 -2-0.5 -2 1 -4-1 -2-2 -2 0.5 -2-2 -2 1 -2 0 -6-3.5 -3-4.5 -0.5-42 5.5-60 3.5-12 4.5-10 17-34 -2.5-30 0-2 1.5-1.5 0.5 1.5 1.5 2.5 4 13.5 1.5 2 0.5 3.5 2-1.5 2 0 7.5 24 0.5 4.5 1.5 1.5 0.5 1.5 0.5-9.5 -3-22 0-8 1.5-4 -0.5-10 -3-24 -25.5-111 -2-3.5 -4-4 -8-27 -2-3.5 -2-1 0.5 8 0 10 -0.5 1 -2-1.5 -1 0.5 1.5 24 -0.5 2.5 -2-3 -11.5-41.5 -0.5-4 -1-2 -13.5-40 -3.5-44 -10.5-56 0.5-3 2-4 2 1 2 0 2-4 2-1.5 2 0 1.5-4.5 1-8 3-8 2.5-12.5 2 0 2-1.5 4-6.5 2-1 2-2.5 2-6 10-14.5 2 2 4 11 5 9.5 4 6 9 10 2 0.5 8-4.5 4-6.5 2-6 2-3 6-1 4 2.5 34 36 12 15.5 20 17 16 18.5 56.5 75 33.5 45.5 28 37 0 1.5 2 2 0 2 2 2 0.5 4 1.5 1.5 0.5 2.5 1.5 2 1 4 1 1.5 0.5 2.5 1.5 2 2 4.5 0.5 3.5 1.5 2 0.5 2 4 8 0 2 4.5 8 2 8 2 2 2 4 0.5 4 1.5 2 0.5 2 2 2 0.5 3 1 1 0.5 4 2.5 4 2 0.5 0.5-2.5 -1.5-2 0-2 -2-2 -2-10 -1.5-2 -0.5-2 -1.5-2 0-4 -1.5-2 -0.5-4 -1.5-1 0-3 2.5 2 0-4 -2.5-8 -0.5-4 -1.5-2 0-4 12 13.5 10 9.5 0 1 2 2 0 2 2 3 0 3 2 2 1 4 1 1 0.5 5 1.5 1.5 2 4.5 0.5 4 4.5 8 0 4 2 4 2.5 2 0 4 2.5 6 2 1 1.5-1 -0.5-4 -2.5-4 -1-8 -2.5-4 -1.5-8 -1.5-2 -2-6 -0.5-4 -1.5-2 -2-6 -0.5-4 -1.5-2 -1-4 -1-2 -0.5-4 -1.5-2 -1.5-6 -38.5-135 -1-5 -1-2 -1-6 -1-1 0-15 -1-2 -0.5-4 -7.5-28 -3-9 -1-5 -1-2 -0.5-4 -1.5-3 -0.5-5 -1.5-2 0-5 10-3 0 4 2 1.5 0.5 6.5 1.5 1.5 0.5 4.5 1.5 3 0.5 5 1.5 2.5 0.5 5.5 1.5 2 1 6 1 2 0.5 4 1.5 4 1 4 28 106 13 45.5 0 4.5 2 4 0.5 6 2 4 0.5 8 2 2 0 6 2.5 6 0 2 -0.5 2 2.5 6 1 4 -0.5 2 1 4 1 2 1 0 0.5 2 -1.5 2 0.5 4 1.5 2 2 0 1.5-2 -0.5-4 -1-1.5 -1.5-0.5 1-8 -2.5-2 -0.5-2 1-6 -0.5-2 -2.5-2 0.5-8 -2-2 -0.5-4 1-2 -0.5-2 -2-4 0-6 -2-4 -0.5-4 1-2 -1.5-2 -1-4 0-4 -3-10 0-6 -2-5 -0.5-7 -1.5-4 -0.5-8 0.5-1.5 4 11 0.5 4.5 1.5 2 0.5 8 2 4 0 6 2.5 6 0.5 4 -1 2 1.5 2.5 2 7.5 -1 2 4 10 -1.5 2 1 4 3.5 4 0 1 0-3 2-2 0-4 -2.5-2 0-4 0.5-4.5 1.5 6.5 0.5 0.5 0.5-0.5 -0.5-10 -1.5-4 -0.5-8 -1.5-4 -0.5-7.5 -1-2.5 -1-9.5 -23.5-140.5 -37.5-222 -3-14.5zM608 514l-0.5 2 0.5 3.5zM312 524.5l0 5 1-1.5zM314 531.5l0 8.5 1 2 1 8 1 4 4.5 26 2.5 10 1.5 2 0.5 4.5 1-0.5 0.5-2 0.5-10zM318 507.5l0 7.5 1.5 1 0 8 1.5 4 1 8 1 2 1 8 7 40 4 12 1 6.5 1 1.5 1 6.5 1.5 1.5 0.5 6 0.5-2 -0.5-12 -1.5-4 -2.5-18 -3-12 -1-7 -1-3 -1-6 -1.5-4 -0.5-5 -1.5-3 -0.5-6 -1.5-4 -0.5-3.5zM420 592l-2 0.5 -1 1.5 1 4 8 13.5 11.5 14.5 2.5 6 7.5 12 6.5 7.5 4 3.5 8 3.5 0.5-0.5 -3.5-4 -31-46.5 -8-11zM542 793l-2.5 3 0 2 7.5 12 27.5 30 1.5 1.5 2 0 2 0 2-1.5 1-2 0-2 -1-2 -15.5-20 -6.5-7 -0.5-3 -1-2 -2.5-1.5 -3-0.5 -7-7 -2-0.5zM600 733.5l-3 2.5 0 2 3.5 8 6 10 4 6 9.5 9.5 2 0.5 2-0.5 1.5-1.5 0-2 -5-10 0.5-4 -0.5-4 -10.5-7 -7.5-9zM604 568l-1.5 2 0.5 2 1 2.5 2 1 1-1.5 0-4 -1-2zM602 528l0.5 4 1.5 2 2 0 1.5-2 0-4 -1.5-1.5 -2-0.5zM604 598.5l0 3.5 2 1 0.5-3zM606 578.5l-1 1.5 0 4 3 1.5 1.5-1.5 -0.5-4 -1-1.5zM606 538l-2 2 0.5 4 1.5 2 2 0 1.5-2 0-4 -1.5-1.5zM608 590.5l-1 1.5 0.5 2 2.5 2 1-2 0-2 -1-1.5zM608 550l-1.5 2 0 4 1.5 1.5 2 0 1.5-1.5 -0.5-4 -1-1.5zM610 601l-0.5 1 0 2 2.5 2.5 1-0.5 -0.5-4 -0.5-0.5zM610 562.5l-1.5 1.5 0.5 4 1 1.5 2 0 1-1.5 0-4 -1-1.5zM612 574.5l-1 1.5 0 4 1 1 2 0 1-1 0-4 -1-1zM614 587l-0.5 1 0 4 2.5 0.5 0.5-0.5 0-4 -0.5-0.5zM616 599.5l0 3.5 2 1 0-4zM582 440l1.5 4 -1.5 0.5z"/>
<path fill="#d1ff26" d="M535.5 82l34.5 0 1 12 1 4 1 10 1 3.5 14 97.5 14.5 111 22.5 144 3 15 4 12.5 16 0.5 0.5 8 1.5 1.5 1 38.5 1 4 0.5 28 1 10 1 4 0.5 24 1.5 12 0.5 20 1 4 0.5 14 0 42 -1.5 12 -0.5 20 -1 4 -1.5 12.5 -3 7.5 -1 6 -2 1 -1-5 -3-4.5 -4 2 -2 9.5 -2 3 0 4 -2 2.5 -1.5 3.5 -0.5 5.5 -1.5 4.5 -0.5 12.5 -2-2 -2 0 -2 0 -2 1.5 -8 12 -7 8 -4 6 -0.5 4 3.5 3.5 4 0.5 2.5-2 -1.5 6 -3 4 -5 4 0 4 -1 0.5 -2.5 5.5 -7.5 4.5 -2-0.5 -2 2.5 -8 0.5 -4-2.5 -2 1.5 -2-0.5 -2-1.5 -6-1 -2 1.5 -2-2 -6-2.5 -1-2 0-4 3.5-8 -3-10 -0.5-14 1-0.5 6 5.5 16 16.5 4 0 2-1 1.5-2.5 0-2 -1-2 -15.5-20 -7-7.5 -0.5-2.5 -1-2 -2.5-1.5 -3-0.5 -5.5-6 -1.5-1.5 -2-0.5 -2 0.5 -3 3.5 0 2 1.5 4 -0.5 1 -2 0 -1 5 -2 4 -5 5.5 -6 3 -6 0.5 -4-1.5 -5-5.5 -1-4.5 -2 0 -2 1.5 -6 2 -4 0 -4-1 1.5 34 -1.5 1 -2 3 -2-1.5 -2 2 -4 0 -2-1.5 -4 0.5 -4 4 -2-1.5 -2 2 -2-2 -10 0 -2-2 -2 2 -2 0 -2 2 -2 0.5 -2 1 -2-2.5 -2 1 -2-1 -8-1 -2-2 -2 2 -2 0 -2 2 -2-4 -4 2 -2 2 -2 0 -4-4 -2 4 -2 0 -3 4 -1 4.5 -2 0 -2 2 -4 0 -0.5-4.5 -1.5-3.5 -1-6.5 -1-1 -2 3.5 -6-0.5 -2-1 -3 3 -1 4.5 -2 2 -2-2 -2 0 -2 2 -2 0 -2-2 -2-0.5 -4 4 -4-4 -2 0.5 -0.5-4.5 -1.5-2.5 -1-9.5 -1-3 -0.5-19 -1.5-3.5 -2-0.5 -2-4.5 -2 1.5 -2-0.5 -2-2 -16-1.5 -2 1.5 -10-0.5 -4-1.5 -2-2 -2-0.5 -2 1 -4-1 -2-2 -2 0.5 -2-2.5 -4 1 -4-3 -0.5-2 0-44 1-16 1.5-8 4-36 14-31 4-7.5 4-5 0-4.5 -2.5-18 -0.5-12 1-1 2 3.5 4 13 1.5 2.5 0.5 4.5 2 1 2-2 0.5 4.5 1.5 1.5 7 26.5 1 5 1.5 3 0.5 4 2 1 0-7 -1-4 -5.5-36 0.5-6 2-2 0-4 -4-30 0.5-6 1.5-1 6 21.5 1.5 1.5 0.5 5 1-3 1.5-8 1.5-2 1 6 1 2 7 28 5 25 1 3 1 6.5 1.5 3.5 0.5 5 1.5 3 0.5 3.5 2 0.5 0-4 -1-2 -1-10 -1-2 -1-8 -5-24 -10-56 -27-124 -4-8.5 -0.5 6.5 3.5 24 1 2 1 8 1 2 0.5 10 -10.5-36 -2-5 -0.5 1 0 6 2 14 8.5 44 1 8 1.5 4 0.5 6 1 4 0 8.5 -4-14.5 -0.5-4 -1.5-3.5 -1-6.5 -1-2.5 -0.5-5.5 -1.5-3.5 -7.5-34.5 -8.5-34 -2-4 -4-3.5 -8-24 -2-1.5 -0.5 3 0 8 0.5 6 -4-1.5 -0.5 1.5 0 6 1 14 -0.5 3 -2-3 -11-42 -5-22.5 -1.5-3.5 -0.5-7.5 -8-47.5 -2-13 -0.5-10 0.5-3.5 0.5 5.5 2 2 1 6 1.5 2 1 5.5 0.5-1.5 -3-38 1 0 0.5 4 2.5 4 0.5 5 0.5-3 -1.5-10 1-2 1-10 3-8 1.5-10 0.5-1.5 1.5-0.5 2.5 0.5 4-6.5 2-2 2 0 3.5-10 6.5-10 2 0 8 17.5 2 3 5.5 5.5 4.5 3 4 5 2 1.5 3-3.5 5-3 2-2.5 2-3.5 2-9.5 2-3.5 6-1 4 2.5 36 36.5 10 12 17 14 25 30.5 49.5 65.5 34.5 48 30 40 0 2 2 2 0 2 2 2 0.5 4 1.5 1.5 0.5 2.5 1.5 2 2.5 6 0 2 1.5 2 0.5 2 4 8 1 4 3 6 2.5 8 2 2 1.5 4 1 4 1.5 2 0 2 2 2 1 3 1 1 0.5 4 2.5 4.5 2 1 0.5-3.5 -1-2 -0.5-2 -1.5-2 -2-10 -2-2 0-2 -1.5-2 0-4 -2-2.5 0-2.5 2 2 0.5-3 -1-4 -0.5-4 -1-2 0-3 24 27.5 0 1.5 2 2 0.5 4 1.5 1.5 0.5 2.5 1.5 2.5 0.5 3.5 4 8 0.5 4 2 4 2 2 0.5 4 2.5 6 2 1.5 1.5-1.5 -0.5-4 -2.5-4 -1-8 -2-4 -2-8 -1.5-3 -2.5-9 -1.5-3 -2-9 -3.5-8 -15-52 -18.5-68 -1-2.5 -1-5.5 -1-2 -0.5-6 0.5-7 -1.5-3 0-4 -5.5-22 -1-2 -0.5-4 -1.5-4 -1-6 1-1 6-2 0.5 3 1.5 1.5 0.5 4.5 1.5 3 0.5 5 1.5 2 1 6 1 1.5 0.5 4.5 1.5 3 1 5 30.5 112 0.5 4 2 5 0.5 5 2 6 0.5 6 1.5 2 0 6 2.5 6 0 4 2.5 6 0.5 4 -0.5 2 1.5 4 2.5 4 -1.5 2 0.5 4 1.5 2 1.5 0 0.5 2 -1.5 4 1 4 2.5 1.5 1.5-1.5 0-4 -3.5-4 0-2 1.5-2 0-4 -1.5-1.5 -1-0.5 0.5-8 -2-2 -1-2 0-2 1-2 -0.5-4 -2-2 0-8 -2-2 0.5-8 -2.5-4 0.5-6 -2-4 -0.5-4 0.5-2 -1.5-2.5 -0.5-7.5 -1.5-2.5 -1-9.5 -1-1 -1-9 -1-0.5 0-7.5 0-1 4 10 0.5 5 1.5 4 0.5 8 1.5 1.5 0.5 2.5 0.5 4 -0.5 2 1.5 3 2 7 -1 2 1 2 2.5 8 -1.5 2 1.5 4 3 6 -2 2 1 4 1.5 2 2 0 1.5-2 0-4 -1.5-2 -1.5 0 0-4 1.5-2 0-4.5 2 7 0.5-4.5 -0.5-5.5 -1-2.5 -1-9.5 -1-2.5 -28-174 -17-96 -1-8 -1-3.5 -1-8.5 -1-3.5 -1-8.5 -1-3 -1-9 -1-2.5 -1-9.5 -1-2.5 -1-7.5 -1-4 -1-8 -1-3.5 -1-8.5 -1-3 -1-9 -1-3 -1-9 -1-2.5 -0.5-7.5 -1.5-4 -0.5-8 -1.5-3.5zM610 524.5l-0.5 1.5 0.5 3.5zM298 457.5l0 3.5 1-1zM356 533.5l0 11 1 1.5 1 9 1 3 1 7.5 1 2.5 1 8 1 2 1 8 1 4 9 48 8 38 2 0.5 1-2.5 -0.5-4 -2.5-14 -11-54 -1-7 -1-3 -1-6.5 -1-3.5 -1-6.5 -1.5-3.5 -0.5-6.5 -1.5-3.5 -0.5-6 -1-2 -1-7.5 -1.5-2.5 -0.5-6 -1.5-2zM416 589.5l-0.5 0.5 0 4 4 8 6.5 10 9 12 13 21 10 10.5 8 4.5 8 6 2 0.5 0-0.5 -12.5-12 -39.5-58.5 -6-6zM510 784l-1.5 0 0.5 2 1 5 2 4 5.5-5zM570 571.5l0 4.5 2 0.5zM600 733l-3.5 3 0 2 2 6 9.5 14 0.5 2 11.5 11.5 2 1 2-1 1.5-1.5 0-2 -3.5-8 -0.5-8 -0.5-2 -11-7 -7.5-9zM604 598l-0.5 2 0 2 2.5 1.5 0.5-3.5 -0.5-1zM606 578.5l-1 1.5 0 4 1 1 2 0.5 1.5-1.5 -0.5-4 -1-1.5zM606 538l-2 2 0.5 4 1.5 2 2 0 1.5-2 0-4 -1.5-1.5zM608 590.5l-1 1.5 0 2 3 2.5 1.5-2.5 -0.5-2 -1-1.5zM608 550l-1.5 2 0 4 1.5 1.5 2 0.5 1.5-2 0-4 -1.5-1.5zM610 601l-1 1 0.5 2 2.5 3 1.5-1 -1-4 -0.5-1zM610 562.5l-1.5 1.5 0.5 4 1 1.5 2 0 1.5-1.5 -0.5-4 -1-1.5zM612 574.5l-1 1.5 0 4 1 1 2 0.5 1-1.5 0-4 -1-1zM614 587l-1 1 0.5 4 2.5 1 0.5-1 0-4 -0.5-1zM614 613.5l-1 0.5 1 2.5zM616 599.5l0 4.5 2 0 0.5-4zM313 504l1-1.5 0 7zM315 558l1-1 0 7z"/>
<path fill="#dbff1c" d="M536 82l25.5 0 0.5 12 1-4 -0.5-8 6.5 0 2 14 1 3.5 1 10.5 1 3 0.5 9 1.5 4.5 0.5 9.5 1.5 4.5 0.5 9.5 1.5 4 0.5 10 1.5 5 0.5 9 1.5 6 0.5 8 17 126 22.5 146 6 29.5 4 11 16 0 0.5 35.5 0.5 2 1 2 0.5 28 0.5 10 1.5 4 0 24 2 12 0.5 20 1.5 10 0 8 0 42 -0.5 8 -1 4 -0.5 20 -1.5 4 -1 12 -3 8 -1 6 -2 0.5 -1-4.5 -3-4.5 -4 1.5 -2 10 -1 1 -1 3.5 -1.5 0.5 0 2 -1.5 4 -1 7 -1.5 5 -0.5 9.5 -2 1 -4 0 -2 1.5 -10 14 -5.5 6 -4 6 0 2 0 2 1.5 3 2 1 -2.5 4 -5.5 4 2 8 0 4 -4 4 -4 2.5 -2-0.5 -2 2 -8 0.5 -4-2.5 -2 1.5 -2 0 -2-2 -6-1 -2 1.5 -2-2 -3-2 -1-2 0-4 6-10 0-2 -3-6 -0.5-8 1.5-0.5 13.5 14.5 2.5 1.5 2 0.5 4-1.5 1.5-2.5 0-2 -0.5-2 -16-20 -7-7.5 -1-4.5 -3-1.5 -2.5-0.5 -5.5-6 -2-1.5 -2-0.5 -2 0.5 -3 3.5 -0.5 4 -2.5 1.5 -1.5 6.5 -4 6 -4.5 3.5 -6 1.5 -4-1.5 -4-3.5 -1.5-4 -0.5-5 -2 0.5 -4 3.5 -4 1.5 -4 0.5 -4-0.5 -4-2.5 -2-2 -8-12 -1.5 0 2 52 -4.5 2 -4 4.5 -2-2 -2 2.5 -2-2 -10 0.5 -2-2 -2 2 -2 0 -2 2 -4 1 -2-2 -2 1 -6-2 -4 0 -2-2 -2 2 -2 0 -2 1 0.5-2.5 -4-18 -0.5-1 -2 0.5 -1 2.5 2 10 0.5 6 -3.5 3.5 -2 0 -4-4 -2 4 -2.5 0.5 -1.5 2 -1.5 2 -0.5 3.5 -2 0.5 -2 2 -4 0 -0.5-6 -1.5-4 0-1.5 2.5-2.5 -8.5-40 -2-8.5 -6-16 0 6.5 1 2 1 8 9 42 0 6 -1 2 -8-1.5 -3.5 3.5 -0.5 4 -2 2 -2-2 -2 0 -2 2 -2 0 -2-2.5 -2 0 -4 4 -4-4 -2 0.5 -0.5-4 -1.5-3.5 -0.5-8.5 -1.5-3.5 -0.5-18.5 -1.5-4 -2-0.5 -2-5 -2 2 -2-0.5 -2-2 -8-1 -8-1 -2 2 -12-1.5 -2-0.5 -2-2.5 -2-0.5 -2 1.5 -4-1 -2-3 -2 1.5 -2-3.5 -2 0.5 -0.5-1 0-48 -3-10 0-6 1.5-4 4.5-6 4.5-32 11-23 6-5 0.5-10 -3-20 -0.5-8 1-3 2 3 2.5 8 3.5 14 1 2 1 5.5 2 1.5 2-1 0.5 4 1.5 1.5 8.5 34.5 19 94 0.5 1 2 1.5 2-2.5 -19-92 -5.5-32 -0.5-8 -1-3 0-7 2-2.5 0-3 -1.5-4.5 -3-26 -1-12 1.5-3.5 0.5 3.5 1.5 2.5 6 22.5 1.5 3 0.5 3 4-7.5 0.5 4.5 1.5 1.5 1 6.5 1 2 5.5 26 9.5 40 7 37 2 2 1.5-5 -1-8 -7-34 -4.5-28 -7-34 -1-8 -1-2 -1-8 -1-3 -0.5-7 -1.5-4 -2-20 -6-23.5 -0.5-4.5 -1.5-4 -0.5-4 -1.5-4 -0.5-6 -1.5-3.5 -0.5-6.5 -1.5-3 -0.5-5 -1.5-4 -0.5-6 -1.5-4 -0.5-6 -1.5-3.5 -0.5-6.5 -1.5-3 -2.5-15 -7.5-25.5 -2-5.5 -4-5.5 0 11 -8-11 -0.5 6.5 3.5 24 1 4 0 7.5 -4-11 -0.5-4.5 -1.5-3 -8-30.5 -2-4 -4-2.5 -6-17 -2-3 -0.5 0 -1.5 2 0.5 8 -0.5 5 -2-2.5 -4-9 0 4.5 1 4 0.5 8 1 6 -0.5 5.5 -4-9.5 -0.5-4 -1.5-4 -8-36 -3.5-26 0.5-4 1-1 4 14 1-1 0.5-2 -0.5-14 0.5-4 0.5-1 2 6.5 1.5-1.5 -1.5-18 -6-44 2-6 2-12 2-2 2 2.5 6-9 2 1 0.5-0.5 1.5-1.5 2-9 4-5 4 3.5 2-1 4 5.5 4 8 10 6.5 6 7 2 0 2-4 4-0.5 2-1 4-4.5 0.5-10 1.5-5.5 4 1 2-2 2 0 6 4 21 20.5 13 9.5 10 11 11.5 9.5 22.5 26.5 52.5 69.5 31.5 44 36 48.5 2 3 0 2.5 2 2 0 2 2 2.5 1 3.5 1 1 0.5 3 1.5 2 0.5 2 4 8 0.5 4 3.5 6 2.5 8 2 2 1.5 4 0.5 4 1.5 2 0.5 2 2 2 2.5 8 2.5 4.5 1.5 1.5 0.5 1.5 1-5.5 -4-8 -1.5-8 -2-2 0-2 -2-4 0.5-2 2 2 0.5-2 0-2 -1-4 0.5-3.5 24 28.5 0.5 3 1.5 1.5 1 4.5 3.5 6 0 4 1.5 1.5 0.5 2.5 2 2 1 4 2 6 2.5 1.5 2-1 -0.5-4.5 -2.5-4 -1.5-8 -2-4 -1.5-8 -2-3.5 -16.5-56.5 -17.5-62.5 -2-7.5 -1-8 1-4.5 -1-1.5 -0.5-6 -5-18 0-4 -1.5-3.5 0-1.5 4-1.5 2 0.5 0 4 1 2 1 1 0.5 5 1.5 2 1 6 1 1.5 0.5 4.5 1.5 3 24 87 0 4 2.5 6 0.5 6 1.5 2 0 2 0.5 6 2 4 -0.5 4 2.5 6 0.5 6 3.5 8 -1 2 0.5 4 3 4 -1 4 1 4 2.5 2 1.5-2 0-4 -3-4 0-2 1-2 0-4 -2.5-2 0-2 0.5-6 -2.5-4 0-2 0.5-2 -0.5-4 -2-2 0.5-8 -2-2 0-8 -2.5-4 0.5-6 -2-4 0-6 -1.5-3 -1-9 -1-1 -0.5-9 -1.5-1.5 0-7.5 2 4 0.5 3 1.5 2.5 0.5 7.5 1.5 2 0.5 6 0 2 1.5 3 1.5 7 -1 2 1.5 2.5 2 7.5 -1 2 4 10 -1.5 2 1 4 2.5 4 0.5 2 -1.5 2 0.5 4 1.5 2 2 0 1.5-2 0-4 -1.5-1.5 -1.5-0.5 0-4 1-2 0.5-4 -2.5-2 -0.5-2 1-6.5 4 14.5 0.5-6 -1.5-6 -1-8 -28-168 -3-22 -3-14 -1-8 -1-4 -1-8 -1-3.5 -1-8.5 -1-3.5 -1-8.5 -1-3 -1-9 -1-2.5 -1-9.5 -1-2 -0.5-8 -1.5-4 -0.5-8 -1.5-3.5 -0.5-8.5 -1.5-3 -1-9 -1-3 -1-9 -1-2.5 -0.5-7.5 -1.5-4 -0.5-8 -1.5-3.5 -0.5-8.5 -1.5-3.5 -0.5-8.5 -1.5-3 -0.5-9 -1.5-2.5 -0.5-9.5 -1.5-2 -0.5-8 -1.5-4 -0.5-8 -1.5-3.5zM564 97l0 7.5 0.5-2.5zM356 824.5l-0.5 1.5 0 4 4 20 2.5 2.5 2.5-2.5 -4.5-20 -2-6zM350 509l-0.5 7 3.5 22 22 112 4 20 2.5 8 0.5 1.5 2 1 2-1.5 0.5-5 -7.5-42 -20.5-98 -4.5-17.5zM392 723.5l-0.5 4.5 4.5 22 2 7 4 7.5 0.5-2.5 0-4 -6-30 -2.5-4zM416 586l-2 0.5 -1 1.5 1 4 2.5 6 7.5 12 10.5 14 13.5 22 10 10.5 8 4.5 16 12.5 1-1.5 -19-18 -40-59zM506 782l4 15 2 2.5 4-5 3-2.5 1-2 -12-9.5zM540 735.5l2 4.5 4 5.5 12 14.5 -0.5-10 -2.5-6 -3-3 -4-2.5 -6-3zM570 570l-1.5 2 1.5 4.5 2 1 0-3.5 -1.5-2zM600 733l-3.5 3 0 2 1.5 6 6 8 0.5 2 1.5 2 -0.5 8 0.5 1 6-1 8 7.5 2 1 2-1 1.5-1.5 0.5-2 -3-8 0.5-2 -1.5-4 -0.5-4 -3.5-2.5 -8-5 -7-8.5zM604 597l-1 3 0.5 2 2.5 2 1-2 0-2zM606 578l-1.5 2 0.5 4 1 1 2 0.5 1.5-1.5 -0.5-4 -1-1.5zM608 550l-2 2 0.5 4 1.5 2 2 0 1.5-2 0-4 -1.5-1.5zM608 590.5l-1 1.5 0 2 3 2.5 1-0.5 0-4 -1-1.5zM610 562l-1.5 2 0 4 1.5 1.5 2 0 1.5-1.5 -0.5-4 -1-1.5zM610 601l-1 1 0 2 3 3 2-1 -1-4 -1-1zM612 574.5l-1.5 1.5 0.5 4 1 1 2 0.5 1-1.5 0-4 -1-1.5zM614 587l-1 1 0 4 1 1 2 0 1-1 0-4 -1-1zM614 613.5l-2 0.5 2 2.5 0.5-0.5zM616 599.5l-0.5 0.5 0 4 2.5 0.5 0.5-4.5z"/>
<path fill="#e1ff16" d="M548.5 82l12 0 1.5 13 1 1 0.5 2 0.5 8.5 1-0.5 0.5-6 -0.5-4 -1.5-4 0-10 5 0 0 4 1.5 2.5 0.5 9.5 1.5 3.5 0.5 10.5 1.5 4 0.5 10 1.5 5.5 0.5 8.5 1 4 14 112 8.5 66 6.5 32 19.5 125 6 28.5 4 9.5 14 0.5 0.5 22.5 0 2 1.5 2 1 38 1 4 0.5 24 2 12 0.5 20 1.5 10 0 8 0 42 -0.5 8 -1 4 -0.5 20 -1.5 4 -1 12 -2.5 6 -1.5 7.5 -0.5 0.5 -1.5 0.5 -1.5-6.5 -2.5-2.5 -4 1.5 -2 10 -1 1 -1 2.5 -2 0 -1 1.5 0.5 2 -1.5 10 -1.5 4 -1 10 -1 2 -4.5 0.5 -2 1.5 -10 13.5 -8 6.5 -2 6 0 7.5 -2.5 2.5 -6 2 -0.5 2 4.5 8 0.5 6 -1 2 -2 2 -3 1.5 -2 0 -2 2 -8 1 -4-2.5 -2 1 -2 0 -2-1.5 -6-1.5 -2 1 -3-3 -1-4 1-4 7.5-10 0-2 -3-4 -0.5-4 1 0 6.5 8 5.5 4 2 0.5 4-1.5 1.5-1 0.5-2 -0.5-4 -20.5-26 -3-2 0-2 -2-3 -4.5-1 -7.5-7.5 -2-0.5 -2 0.5 -3.5 3.5 -0.5 3.5 -2-0.5 -2 1 -0.5 6 -3.5 6.5 -6 4 -6 0 -3.5-2.5 -1.5-2 -1-6 1.5-6 3-4 5.5-4 0-2 -16-12 -1.5 2 4 16 0 6 -3 4 -3.5 3 -4 1 -6-1 -4-3 -1.5-2 -10.5-17.5 -11-16.5 -1-3.5 -1 1.5 0 2 3.5 78 -0.5 2.5 -2-1.5 -10 1 -2-2 -2 2 -2 0 -2 2 -4 1 -2-2 -2 2 -4-1.5 -2-1.5 -4 0 -2-2 -2 2 -2 0 -2-7 -1.5-9 -2.5-4.5 -2 0.5 -2 1.5 -1 2.5 3 12.5 0 3.5 -2 2 -2 0 -4-4 -2 5 -3.5 1 -2 2 -0.5 4 -2 0.5 -2 2 -4 0 -0.5-6.5 -1.5-2 3-2 0.5-4 -4.5-22 -1-2.5 -1-7.5 -2-8 -5-16 -6-16 -1 2 0 6 13 66 -8 0 -4 4 0 2.5 -2 2 -2-2 -2 0 -2 2 -2 0 -2-2 -2-0.5 -4 4 -4-4 -2 0.5 0-2.5 -2-4.5 -0.5-7.5 -1.5-4.5 -0.5-19.5 -1.5-2.5 -2-1 -2-5 -2 1.5 -2-0.5 -2-2 -16-2 -2 2 -12-1.5 -2-0.5 -2-2 -2-0.5 -2 1 -4-0.5 -3-4.5 0-38 -1-6 -5.5-14 -0.5-4 1-4 3-4 9-6 2-12 1.5-18 3.5-7.5 10-2.5 0-10 -4.5-28 0.5-11.5 0 1.5 2 2 8 31.5 1 2.5 1 5.5 2 2.5 0 2 2-0.5 2 2.5 1 6 1 2 21 102 1 2 2 1 2-1.5 1-3.5 0-4 -9-42 -9-46 -1-2.5 -1-9.5 -1-1.5 0-7.5 2-0.5 0-4.5 -1.5-4 -0.5-8 -1-4 -5-32 0-12.5 2 2 4.5 16.5 3.5 16 1 2 1 6.5 1.5 3.5 0.5 5.5 1.5 2.5 0.5 6 1.5 2 0.5 3.5 4 2 2 2 0.5 4.5 1.5 2.5 0.5 5.5 1.5 4 9 46 3 5 2-7 1-6 -9-46 0-6.5 4 0.5 0-7.5 -1-2.5 -1-8.5 -1.5-3.5 -0.5-6.5 -1.5-3.5 -0.5-7 -1-3 -1-7 -1-3 -1-7 -1-3 -7-38 -22-107.5 -1.5-2.5 -0.5-3.5 -10-18 -6-18 -4-8 -2-2.5 -2 4.5 -8-11 1 18.5 1 4 0 3 -2-2 -0.5-3 -1.5-2 -8-28 -6-5 -4-11.5 -4-7 -1 1.5 -1 8 -4.5-12 0-8 0.5-3.5 0.5 3.5 2.5 4 1 5 1-5 -1-12.5 -6-41 0-24.5 -2.5-18 0.5-5.5 2-2.5 2 2.5 2-0.5 4-7 4 0.5 2-9.5 2-2.5 6 5.5 4-3 2 1.5 4 8 10 4.5 8 9.5 2-4 4 2.5 4 4.5 4 0 1-0.5 1-2 -0.5-6 0.5-6 2 1 3.5 11 2.5 3 2-0.5 10-6.5 8-2.5 4 0 6 1.5 6 2.5 4 3 16 15 28 33.5 46.5 61 31.5 44 42 57 2.5 7 1.5 1.5 0 2.5 2 2.5 2.5 7.5 1.5 2 1 4 3.5 6 2.5 8 1.5 2 2 4 0.5 4 1.5 2 0.5 2 2 2 2.5 8 2.5 5 1.5 1 0.5 4 1.5 2 0.5 2.5 2 2 0-4.5 -3.5-6 0.5-4 -4-8 -1.5-8 -1.5-2 0-3.5 2 2 0.5-2.5 -1-4 0.5-3.5 24 29 0.5 2.5 1.5 1.5 0.5 2.5 1.5 2 0.5 4 1.5 1.5 0.5 2.5 2.5 4 0 2 2.5 6 4.5 3.5 0.5-3.5 -1-4 -2-4 -2-8 -1.5-4 -1-4 -1-2 -16.5-56 -9.5-34 -4-18 0.5-12 -1.5-8 -1-2.5 0-3.5 0-2 2-0.5 0.5 2.5 1.5 1.5 0.5 4.5 1.5 2.5 1 5.5 1 1.5 1 4.5 3 8.5 11.5 41.5 1 6 1.5 4 0.5 6 2 4 0.5 6 2 4 0 6 2 4 0.5 6 3 8 -1 2 1 4 2.5 4 0.5 2 -1 2 0.5 4 3 2 0 1.5 0-1.5 1.5-2 0-4 -2.5-4 0-2 0.5-2 0-4 -2-2 -0.5-2 0.5-6 -2.5-4 0.5-8 -2-2 0-8 -2-2 0-8 -2-4 0-6 -2-4 0.5-6 -0.5-2 -1.5-1.5 -0.5-8.5 -1.5-1.5 0-5.5 2 2 0.5 5 1.5 1.5 0.5 8.5 1.5 1.5 0.5 2.5 0.5 4 -0.5 2 1.5 3 1.5 7 -1 2 1.5 2 2.5 8 -1.5 2 4 10 -1.5 2 1 4 2.5 4 0.5 2 -1.5 2 0.5 4 1.5 2 2 0 1.5-2 0-4 -1.5-1.5 -1.5-0.5 0-4 1-2 0-4 -2.5-2 0-4 1-2 0-5.5 2 7.5 1-2 -0.5-4 -26.5-161.5 -1-8.5 -1-4 -1-8 -1-4 -1-10 -1-3 -0.5-9 -1.5-3 -0.5-9 -1.5-3 -0.5-9 -1.5-2.5 -0.5-9.5 -1.5-2.5 -0.5-9.5 -1.5-2 -0.5-10 -1.5-1.5 -0.5-8.5 0-2 -1.5-1.5 -0.5-8.5 -0.5-2 -1-1.5 0-8.5 -1-2 -1-1 0-9 -2-3 0-9 -0.5-2 -1.5-1.5 0-6 4-0.5 1-2 -1-2 0-12 -1.5-2 0-2 -0.5-9.5 -1.5-2.5 0-2 -0.5-9 -1.5-3 -0.5-10 -1.5-4 0-8 -1.5-4 1-10 -2-1 -0.5-1 0.5-10 0-3 -2-1zM566 107.5l0 10.5 1.5-2 0-2 -0.5-4zM568 121l0 8 1-3zM570 135l0 5 0.5-2zM612 533.5l-1.5 0.5 1.5 7zM354 823.5l-0.5 2.5 1.5 8 4 18 3 1.5 2-0.5 1-1 0.5-4 -4.5-22 -3-3.5 -2-0.5zM336 494.5l0 7.5 1 4 1 7.5 1 2.5 1 7.5 1 2.5 1 7.5 1 2.5 1 7.5 1 2.5 1 7 1 3 1 7 1 3 1 7 1 3 1 7 1 3 1 6 1 4 1 6 1 4 1 6 1.5 4 0.5 6 1.5 4 0.5 6 1.5 4 0.5 6 1.5 4 0.5 6 1.5 4 2.5 16 1 2 1 6.5 2 3.5 6-5 4 4.5 2-1.5 2-7.5 8-1.5 1-1 0-2 -1-8.5 -1-3.5 -1-7 -1-3 -1-7.5 -1-2.5 -3-18 -1-2 -1-8 -3-14 -1-7 -1-3 -1-7 -1.5-3 -0.5-6.5 -1.5-3.5 -0.5-5 -1.5-3 -0.5-2.5 -14-22.5 -8-27 -2-4 -2-3 -0.5 1 -1.5 10zM390 583l0 11 1 2 1 8.5 1 3.5 1 7 1 3 1 7.5 1 2.5 3 17 1.5-1 1.5-10 6-16 -1-3zM412 583l-1.5 1 1 4 5.5 12 6.5 10 10.5 14.5 9.5 15.5 6 8 10 10 6.5 4 22 17.5 4 3 2 0 -8-8.5 -22-20.5 -40-59 -8-9.5 -2-2zM536 729l-1.5 1 3 6 15.5 20 7 12.5 2-0.5 -1-18 -1-4 -2-4 -6-5zM600 733l-4 3 0 6 8 12 -2.5 6 0 6 0.5 3 2 0 8-4 2 1 6 6 2 0.5 2-0.5 1.5-2 0.5-2 -1.5-6 0-2 -0.5-7 -4.5-5 -9.5-5.5 -7-8.5 -1-1zM604 596l-1 2 0.5 4 2.5 2 1-2 0-2zM606 578l-1.5 2 0 4 1.5 1.5 2 0.5 2-2 -0.5-4 -1.5-2zM610 562l-1.5 2 0 4 1.5 1.5 2 0.5 1.5-2 0-4 -1.5-1.5zM392 720.5l-1.5 1.5 0 2 0 6 4.5 22 5 12.5 4 6 1-2.5 0-4 -5-22.5 -1-7.5 -2-8 -3-5zM404 659l0 7 1 2 1 6 10 4.5 0-3 -7-7.5zM608 590l-1.5 2 0.5 2 3 3 1.5-1 0-4 -1.5-2zM612 574.5l-1.5 1.5 0.5 4 1 1.5 2 0 1.5-1.5 -0.5-4 -1-1.5zM610 600.5l-1 1.5 -0.5 2 3.5 3 2-1 -2-5zM614 586.5l-1 1.5 0 4 1 1 2 0 1-1 0-4 -1-1zM612 613.5l-0.5 0.5 2.5 3 1-1 -1-3zM616 599l-0.5 1 0 4 2.5 0.5 0.5-0.5 0-4 -0.5-1zM252.5 380l1.5-2 2 8 0.5 6 -0.5 4.5 -3.5-12.5zM258 398l0 4.5 -0.5-2.5zM606 520l0.5 2 -0.5 3z"/>
<path fill="#ebff0c" d="M548.5 82l11.5 0 4 26 1 2 1 9.5 1 2.5 1 9 1.5 3 0.5 9 1.5 3 0.5 8.5 1.5 3.5 0.5 8.5 1.5 3.5 0.5 8.5 1.5 3.5 0.5 9 1.5 3 0.5 9.5 1.5 4.5 0.5 8 1.5 4 0.5 9 1.5 3 0.5 10 1.5 4 0.5 9 1 3 1 10 1.5 4 0.5 9.5 1.5 4.5 0.5 9 1 3 1 10 1.5 4 0.5 9.5 1.5 4.5 0.5 7.5 1.5 4.5 0.5 6 1.5 4 4.5 22.5 15 95.5 9 47.5 2 8.5 2 5 2 3 12 0 0.5 12 1.5 2 0.5 38 1.5 4 0.5 24 0.5 8 1.5 4 0 20 2 12 0 48 -0.5 8 -1 4 -0.5 20 -1.5 4 -1 11.5 -3.5 8.5 -0.5 5.5 -2 0.5 -2-6.5 -2-2.5 -2 0.5 -2 1.5 -0.5 1 -1.5 8.5 -2 3 -4 0 -1 0.5 1.5 4 -0.5 9 -1.5 5 -0.5 7 -2 4.5 -4 1 -2 1 -10 13.5 -2 1.5 -8.5 3.5 -2.5 2 0 8 -0.5 2 -2 2 -4.5 1.5 -6 0.5 -2-1.5 -16-20.5 -2-4 0-2.5 -6-2 -1-3.5 -1-1 -4.5-1 -7.5-8 -2-0.5 -2 1 -2.5 1.5 -1.5 4.5 -4-1.5 -1.5 1 -0.5 8 -1.5 4 -2.5 2.5 -2 1.5 -4 1.5 -2 0 -3.5-1.5 -1.5-2 -1.5-4 0.5-6 4-5.5 7-4.5 -3.5-4 -15.5-11.5 -2 0 -1 1.5 4.5 18 -0.5 6 -3 4.5 -4 2 -6 0 -4-2 -2.5-2.5 -18.5-32 -11-27.5 -2-1 1.5 40.5 -1 6 -3 4 -5.5 3.5 -6 0 -4-2 -3.5-3.5 -1.5-4 -8-44 -4-26 -1-4 -2 0.5 -2.5 3.5 0.5 10 1 4 1 7.5 1 2.5 1 7.5 1 2.5 1 8 1 2 1 8 3 14 1 7 1 3 1 7.5 1 2.5 1 7.5 1 2.5 1 8 1 2 4.5 26 -1.5 2 -5.5-2 -1.5-6 -5-28 -2 2 -1.5 6 -4.5 5.5 -2-1.5 -2 0.5 -2 1 -2 2.5 -8-1.5 3 17.5 -1 4 -4 1 -1-1 -2-8 -1-6 -1-4 -3-15 -10-16.5 -6-19.5 -5.5-15 -2.5-18 2-10.5 4.5-3.5 -0.5-8 -3-14 -1-7 -1-3 -4.5-28 -17.5-92 -20.5-100 -6.5-23 -10-17 -8-20.5 -2-3.5 -2-0.5 -2 1 -8-12 -0.5 5.5 0.5 10.5 -2-1.5 -2-4.5 -6-20.5 -2-4 -4-2 -2-4 -2.5-8 -3.5-24 -1-24 -3-32 0.5-4 1.5-2.5 2 4 1.5-1.5 3-12 1.5-0.5 2 2.5 2-2.5 2-6.5 8 2.5 2-5 2 1 4 6 7.5 2.5 2.5 2 4 6.5 4 3.5 2-1.5 4 1 8-3 2-2.5 2 0 2.5 2 1.5 2 -0.5 4 2.5 4.5 0.5-6.5 3.5-1.5 8-5.5 6-2.5 6-0.5 6 0.5 6 2.5 4 2.5 11 10.5 19 21.5 30 37.5 29.5 39 30 42 44.5 60.5 0 1.5 2 2 0 2 2 3 0.5 3 1.5 1.5 0.5 2.5 1.5 2 1 4 3.5 6 2 8 2 2 2 4 0.5 4 1.5 2 0.5 2 1.5 2 2.5 8 4 6 1 4 1 2 1 3 2 2 0.5-1 0-4 -2-2 -1.5-4 0-4 -3.5-8 0-4 -1.5-2 0-3.5 2 2 0.5-0.5 0-2 -1-2 0.5-4 24 29.5 2 3.5 0.5 3 1.5 2 0.5 2 2.5 4 0 2 2 6 2.5 2 2 8 2.5 2.5 1.5-0.5 -0.5-4 -2.5-4 0-4 -1-4 -2-4 -0.5-4 -1-2 -0.5-4 -20-66 -9.5-37.5 0-4 1.5-2.5 0.5-5 2-0.5 0.5 3.5 1.5 1.5 1 4.5 1 2 12 43.5 0.5 4.5 1.5 3 0.5 7 2 4 0.5 6 2 4 0 6 3 8 -0.5 2 1 4 2 4 0.5 8 2.5 2 0 2 -1 2 0 4 1.5 1.5 2 0.5 2-2 -0.5-4 -2.5-4 1-2 -0.5-4 -2.5-6 0.5-2 0-4 -2-4 0-6 -2-4 -0.5-2 0.5-6 -2-2 0-8 -1.5-2 -0.5-8 -0.5-2 -1.5-2 0-8 -1.5-2 0-8 -2-2 0-2.5 2 0 0 4.5 2 2.5 0 7.5 0.5 2 1.5 1.5 1 6.5 -0.5 2 1.5 2.5 1.5 7.5 -0.5 2 1 1.5 2.5 8.5 -1 2 1 4 2.5 6 -1 2 0.5 4 3 4 0.5 2 -2 2 0.5 4 1.5 2 2 0 1.5-2 0-4 -1.5-2 -1.5 0 0-4 1-2 0-4 -1.5-2 -1 0 -0.5-4 1-2 0.5-4 -2-2 -1-4 1-5.5 4 14 0.5-6.5 -24.5-147 -1-9 -1-3 -3-23 -1-2.5 -1-13.5 3-1 0-10.5 -1-4.5 -1-9 -1-3 -1-10 -1-4 -1-9 -1-3 -1-10 -1-4 -1-9 -1-3 -1-10 -1-4 -1-9 -9-55 -0.5-8 -1-4 -0.5-8 -1.5-6 0-6 -1.5-6 0-7 -1.5-5 -0.5-10.5 -1.5-3.5 -0.5-10 -1-2zM332 479l-0.5 5 2 12 3.5 20 32.5 158 4.5 17.5 2-1 4-6 2 0 2 2 2-1.5 2-5 2-2 8-1.5 0.5-2.5 0-4 -16-84 -6-28 -4.5-17 -16-26 -6-17.5 -2-3.5 -2-2.5 -2 5zM386 564l-1 0 0 2 0.5 10 18.5 94 2 6.5 2 2 10 6.5 2-1.5 0.5-1.5 -0.5-3.5 -4-6.5 -5-6 -2-4 -3-8 -1-6 0-6 1-6 2-6 6-12 0-5zM408 579l0 2.5 1.5 4.5 6 12 7 12 11.5 15.5 9 14.5 6 8 9 9.5 7 4.5 21 18 11.5 8 10.5 10 2 1 2 0 0-1 -4-4 -8-6.5 -11.5-11.5 -23.5-22 -41-60.5 -12-14zM530 723.5l0 2.5 6 10 17 22 9 18 2 3 2 0 -0.5-25 -1-6 -2.5-6 -3.5-4 -4.5-3 -22-11zM598 734l-2 2 -4 0 1 4 7.5 10 0 2 -2.5 4 -0.5 4 0 14 2.5 0 12-8 2 0 6 6 2 0.5 2-0.5 3-4 -1-2 0-4 -2-11.5 -14-8 -8-9.5 -2 0zM608 590l-1.5 2 0 2 3.5 3.5 2-1.5 -0.5-4 -1.5-2zM612 574l-1.5 2 0.5 4 1 1.5 2 0 1.5-1.5 0-4 -1.5-1.5zM380 716.5l0 5.5 1 4 1 6.5 2 7.5 1 2 1.5 6 1.5 2 6 3 2 3 4 11 4 6.5 4 1 4.5 7.5 11.5 34 0.5-4 -0.5-6 -1-2 -1-8 -1-4 -1-7 -1-3 -1-7.5 -1-2.5 -1-7.5 -1-2.5 -1-8 -1-2 -5-28 -2-1 -8 1 -4-5.5 -2-1 -2 0 -2 4.5 -4-2zM610 600.5l-1.5 1.5 0 2 3.5 3.5 2.5-1.5 -2.5-5.5zM614 586.5l-1 1.5 0 4 1 1 2 0.5 1-1.5 0-4 -1-1.5zM612 613.5l-1 0.5 3 3.5 1.5-1.5 -0.5-2 -1-1zM616 599l-1 1 0 4 3 1 1-1 0-4 -1-1zM618 611.5l0 2.5 2 1 0-3zM328.5 628l1.5-1 1 5 1 2 13 56 21 102 4 6 1.5 4 0.5 4 -0.5 8 0.5 8 1 4 4.5 22 -5.5 5 -1-1 -2-8 -3-16.5 -2-5.5 -2 1 -2 0 -2-2 -2-0.5 -2 0 -2 3 -4-1.5 5.5 28 -0.5 2 -1 1 -4 0 -2-5 -0.5-8 -1.5-3.5 -0.5-18.5 -1.5-3 -2-1 -3-8 -1-6 -2-0.5 -6 1 -4-1.5 -25-25 -9-14.5 -8-19.5 0-4 2-3.5 2-1.5 4-1.5 4 0.5 2 1 4 3.5 20 21 8 13 0.5-0.5 -0.5-7.5 -1-2.5 -1-7 -1-3 -1-7 -1-3 -1-6 -1.5-4 -0.5-6 -1-2 -1-8 -1-2 -4-20 -4-30 -1-4 0-5.5 2-0.5 0.5 4 1.5 3 9 35 23 110.5 2-3.5 2-0.5 2 0.5 3-3 1-3.5 4-2 -4-21.5 -1-3 -1-7 -1-3 -1-6.5 -1-3.5 -1-6 -1.5-4 -0.5-6 -1.5-4 -0.5-6 -1-2 -1-8 -1-2 -1-7.5 -1-2.5 -9.5-54 -0.5-6 -1-4zM569 842l3-1.5 6 2.5 2-0.5 4-2.5 2 0.5 6 4.5 3.5 5 1 4 -1 4 -3.5 3 -2 0 -2 2 -8 1 -4-2.5 -2 1.5 -2-0.5 -2-1.5 -6-1.5 -2 0.5 -2-4 0-4 4-6z"/>
<path fill="#f4f802" d="M549 82l10.5 0 6.5 38 1 4 1 8 1 4 1 8 1 4 1 8.5 1 3.5 3 21 1 3 1 10 1 2 3 23 1 3 1 10 1 4 1 9 1 3 1 10 1 4 9 62.5 3 15.5 1 9 1 3 3 20.5 1.5 3.5 3.5 22 1 3.5 15.5 94.5 6 30 2.5 10 2 4.5 2 2.5 10-0.5 2 1.5 0.5 38 0.5 2 1 2 0.5 24 0.5 8 1.5 4 0 20 1 8 0.5 2 0.5 8 0 42 -0.5 8 -1 4 -0.5 20 -1.5 4 -1 11 -3 7 -1 7 -2 1 -2-7 -2-2 -2 0.5 -2 1 -0.5 1.5 -1.5 8.5 -2 2.5 -6-1.5 -2 0.5 3.5 6 0.5 6 -1.5 8 -0.5 5 -2 5 -6 3.5 -6 8.5 -4 4 -10 3.5 -4-0.5 -2.5-1 -2-2 -2.5-4 -1-6 0.5-10 3-8 3.5-6 3.5-4 11.5-8.5 2-0.5 6 5 2 1 2.5-1 3.5-4 0.5-2 -2-4 -2.5-14 -6.5-2 -7.5-4 -8-9 -2-0.5 -3 1.5 -1 1 -22-4 -1.5-1 -4.5-0.5 -2.5-1.5 -5.5-1 -32-18 -6-4 -22-19 -35-32 -41-61 -12-15 -2-2 -4-1.5 -1 1.5 1 4 11 22 6 10 11 14 11 18 5 6 8 8 8 5.5 30 25 24 21.5 33.5 20 -1.5 1 -3-1 -21-10.5 -2-0.5 -1 1 3 6 4 6 20 26 12 26 4 6 1.5 4 -0.5 4 -2.5 4 -4.5 3.5 -2-0.5 -0.5-3 -1.5-1 -4-1 -8-8 -2-0.5 -2 0.5 -2.5 2 -1.5 3.5 -6-2.5 -4-2 -5-5 -17-12.5 -2-1 -2 1 0 2.5 4.5 18 -0.5 6 -2 3 -4 2.5 -4 0.5 -4-1.5 -3-2.5 -18.5-32 -13.5-34 -1-5.5 -2-5 -1 0.5 -0.5 2 1.5 8 1 50 -3 5 -4 2 -4 0.5 -4-1.5 -2.5-2 -2.5-4 -8.5-46 -4.5-30 -2-5.5 -2 0 -4 6.5 -0.5 7 25 128 0 2 -0.5 1 -4-0.5 -2-8.5 -21-110 -2.5-10 -2.5-3.5 -6 1.5 -4-0.5 -2-3 -4-2 -2 3 -2-1 -4.5-4.5 -3.5-7 -0.5 7 1.5 12 2 10 4.5 16 8.5 6 2 3 6 13.5 4 5.5 2 0 3.5 6 10.5 32 -0.5 6 -3.5 5 -6 1 -2 2 -4-0.5 -4.5-1.5 -0.5 4 3.5 18 -2 2 -1.5 0 -1.5-2 -4.5-24 -3-10 -2-4.5 -8-11.5 -10-32 -1-8 -2-8 0-4 1-4 1-2 5-3 0.5-5 -6.5-32 -3-20 -1-2 -0.5-8 -1.5-3.5 -0.5-6.5 -1.5-3.5 -0.5-6.5 -1.5-3.5 -1-8.5 -1-1.5 -1-8.5 -1-2 -0.5-8 -1.5-2.5 -0.5-9.5 -1.5-1.5 0-4.5 2 1.5 0.5 6.5 1.5 2 0.5 6 0 2 1.5 1.5 0.5 6.5 1.5 3 0.5 7 1.5 3 0.5 7 1.5 3 0.5 7 1.5 3 0.5 7 1.5 2.5 1 7.5 1 1.5 1 6.5 2.5 8 2 4 0.5 4.5 1-2.5 1-6 3.5-6 0.5-0.5 2 1 1.5-0.5 4.5-7 8-1.5 1-1.5 0.5-4 0-8 -1.5-3.5 -1-8.5 -1-1.5 -0.5-8.5 -1.5-2 -0.5-8 -1.5-2.5 -0.5-7.5 -1.5-3 -0.5-9 -1.5-2 -0.5-8 -1.5-2.5 -0.5-7.5 -1.5-3 -0.5-7 -1.5-3 -0.5-5 -1.5-4 -0.5-6 -9.5-33 -16-25.5 -6-15.5 -2-2.5 -2-1 -2 1.5 -12-17 -0.5 5 0.5 9 -4-7.5 -1-5.5 -7-19.5 -10-17 -6-16 -4-7.5 -2 1.5 -2-2 -8-13.5 -2 10 -2-2.5 -7.5-21.5 -2.5-14.5 -1.5-3.5 -5-32 -1.5-14 0-7.5 2-2.5 2 2 1-6 3-8 2 2 2 0 3.5-8 6.5-2 2-6.5 2 0.5 4 7 10 4 6 6.5 2 0.5 2-1 6 3.5 2 0 2-0.5 2 1.5 2-1.5 2 1 2 1.5 4 8 2-0.5 0.5-14 5.5-4.5 6-3.5 6-1.5 8 0.5 6 2 6 4 30 32.5 30 37 26 34 29.5 41.5 48.5 66 0.5 2 1.5 1.5 0.5 2.5 1.5 1.5 0.5 2.5 1.5 2 0.5 4 3.5 6 1 4 1 1 0.5 3 2 2 2.5 8 3.5 6 2.5 8 4.5 8 0 2 2.5 5 2 2 1-1 -0.5-4 -1.5-2 -2-6 0.5-2 -4-8 0.5-5 1-1 1-4.5 24 29 0 1.5 4.5 8 0.5 4 2 4 2 2 1 4 2 5.5 2 1.5 2-1 1.5 2 2.5 1.5 2-0.5 0.5-1 -2.5-5.5 -2-0.5 -1.5 2 -0.5 2 -0.5-4 -2.5-4 0-4 -3-8 -0.5-4 -19.5-66.5 -8-31.5 0-2.5 2-1.5 0.5-2 1.5-2 1 4 1 1.5 1 4.5 1 1.5 8.5 32.5 1.5 4.5 0.5 5.5 2 4 0 6 2 4 0.5 6 1 1.5 1.5 6.5 0 2 3.5 10 0 6 2 2 0.5 2 -1 2 0 4 1.5 1.5 2 0.5 0 2 -1.5 4 0 2 1.5 2 2 1.5 2-1.5 -0.5-4 -1.5-3 -2-1 0.5-2 2-2 -1-4 -2-4 0-6 -2-6 0-6 -2-4 0-6 -2-6 0-6 -1.5-2 -0.5-8 -1.5-2.5 -0.5-9.5 -1.5-2 0-8 -1.5-2 1.5-0.5 0 4.5 2 2 0.5 8 1.5 3 1 7 -0.5 2 1.5 2 2 8 -1 2 1 1 0.5 3 2 6 -1 2 1 4 3 6 -1.5 2 0.5 4 1.5 2 2 0 0 1 1.5-3 0-4 -1.5-2 -1 0 0-2 -0.5-2 1-2 0-4 -2-2 -0.5-2 1-8 -1-2 1-0.5 4 14 0.5-5.5 -1.5-4 -1-10 -20-120 -1-10 -1-2.5 -1-9.5 -1-3 -0.5-9 -1.5-3.5 0-12.5 2-0.5 0-11.5 -1-4 -3-24.5 -18-117.5 -4.5-32 -1-6 -0.5-7 -1.5-5 -0.5-9.5 -1.5-4.5 -0.5-9.5 -1-2.5zM382 551l1 17 1 4 0.5 8 1.5 3 0.5 9 1.5 2 0.5 8 1.5 2.5 0.5 7.5 1.5 2.5 0.5 7.5 1.5 2.5 0.5 7.5 1.5 2.5 0.5 7.5 1.5 3 0.5 7 1.5 3 0.5 7 1.5 3.5 1 6.5 5 10 4 2.5 4 4.5 2 0.5 3.5-5.5 0.5-4 -2-5 -7-9 -2-4 -2-6 -1.5-10 1-10 2.5-6 6.5-12 0-6 -23.5-41.5zM608 611.5l6 6.5 2-2 -2-3.5 -2 0.5 -2-1.5zM612 574l-1.5 2 0 4 1.5 1.5 2 0.5 1.5-2 0-4 -1.5-1.5zM614 586.5l-1.5 1.5 0.5 4 1 1.5 2 0 1.5-1.5 -0.5-4 -1-1.5zM616 598.5l-1 1.5 -0.5 4 3.5 1 1-1 0-4 -1-1zM618 611.5l-0.5 2.5 0.5 1 2 1 0.5-4zM608 532l1 4 -1 1zM333.5 652l0.5-1.5 0.5 3.5 1.5 2 0.5 6 1.5 2.5 0.5 5.5 6 22 19 94 2 8 4.5 10 0 12 6 32 -2 3 -2 0.5 -5.5-25.5 -2.5-6.5 -4 1.5 -2-1.5 -4-1 -2 2 -4-3 -1 2.5 0 4 5.5 26 -1 2 -1.5 0.5 -2-1 -4-18 -0.5-17.5 -1.5-2 -2-1 -4-16 -2-1 -4 2 -4-1 -25-25 -11-18 -6-14 0-4 2-2.5 4-1.5 4 1.5 24 23.5 12 20 1-1 -0.5-8 -15-72 -2.5-18 -1-2 0-7.5 2 1 0.5 4.5 1.5 2.5 4.5 17.5 20.5 102 3 10 2-1 2-4.5 2 0.5 6-6.5 2-0.5 1-2 0-4 -19.5-94 -2.5-16 -1-4 -1-8 -1-3zM553.5 732l0.5-1 6 1.5 14 2 18 7.5 3.5 4 1 2 -4.5 3 -4 1.5 -4 0 -6-1.5 -4-2.5 -10.5-10.5 -7.5-5.5zM521 796l3-1 4 0.5 2 2 1.5 4.5 -0.5 4 -2.5 4 -2.5 2.5 -4 1.5 -2 0 -3-2 -1.5-2 -1-4 2-6zM569.5 844l4.5-2 4 1.5 4-1.5 6 2.5 4 3 2 3 1 3.5 -1 4 -2 2 -2 0.5 -2 2 -8 1 -4-2.5 -2 1.5 -2 0 -2-2 -8-2.5 -0.5-4 1-4 3.5-4z"/>
<path fill="#fbf100" d="M549 82l10.5 0 17.5 104 29 190 1 4 3 20.5 1.5 5.5 0.5 6 1.5 6 1 8 17.5 99 4 18 4 11 2 1.5 10 0 0.5 26.5 0 2 1.5 2 1 32 1 4 0.5 20 0.5 8 1 1 0.5 3 0 48 -1.5 12 -0.5 20 -1.5 4 -1 10.5 -3 7.5 -1 6.5 -2 1.5 -2-7 -2-2 -2 0 -2 1.5 -0.5 1.5 -1.5 8.5 -2 2 -4-1 -3.5-3.5 -2-4 -1-8 -1.5-5.5 -2-1 -4 0 -7.5-3.5 -8.5-9.5 -2 0 -4 2 -38-9.5 -32-18 -10-8.5 -16-13 -34.5-31.5 -40.5-60 -7-9.5 -10-12 -6-4 -1.5 1.5 0 4 -0.5 1 -18-29.5 -1 0.5 -1 10.5 -4-8 -6-21 -2-4.5 -14-21.5 -6-14.5 -4-6 -2 2 -12-16.5 -1.5 1.5 -0.5 2.5 -2-1 -2-3.5 -6-17 -12-22 -4-10.5 -4-8.5 -2-3.5 -2 1.5 -10-19.5 -1.5 1.5 -0.5 7 -4-6.5 -6-26.5 -4-24 0-12 0.5 4 1.5 0.5 2 6.5 1-1 -0.5-18 1.5-9 2 1.5 2-1.5 2-8 2-2 6-3 2-3.5 2 0.5 4 4 10 4 4 5 2 1.5 2-1 2 1 7 6.5 7 9.5 0.5-5.5 -0.5-7 2 1 2 2.5 3 7.5 1 4.5 2 2 0-4.5 2-2.5 0-1.5 -1.5-14 0.5-2 1-2 8-5.5 8-2 8 1 8 4.5 30 30.5 28 34 28 36.5 29.5 41 27 36 27.5 38 0 2 2 3 0.5 3 1.5 1.5 0.5 2.5 1.5 2 1 4 1 1.5 0.5 2.5 2 2 2.5 8 3.5 6 2.5 8 4.5 8 0 2 2.5 5.5 2 2 1-1.5 -0.5-4 -1.5-2 -3.5-14 -2-2 0.5-3 2 2 2-5 24 29.5 0.5 2.5 1.5 2 1 4 1 1 1 3 2 2 0.5 4 2.5 5.5 2 2 2-0.5 4 3 2-1 2-2 2 0 1-1 0-4 -1-1.5 -2 0 -1 1.5 -1 4.5 -2-4.5 -2-0.5 -2 3.5 -1-5 1-1.5 2 1.5 2-1 0.5-3 3.5-0.5 1.5-1.5 0-4 -1.5-1.5 -2-0.5 -1.5 2 -0.5 5.5 -3-7.5 1.5-2 -2-6 -1-8 -2-6 0-6 -1.5-4 0-6 -2.5-6 0.5-6 -2.5-4 0.5-6 -2-3.5 0-8.5 0 4 2 1.5 0.5 8.5 1.5 2.5 1.5 7.5 -1 2 1.5 1.5 2 8.5 -1 2 1 1 0.5 3 2.5 6 -1 2 0.5 4 3 4 0 2 -1 2 0 4 1.5 2 2 0 1.5-2 0-4 -1.5-2 -1.5 0 0-4 1-2 0-4 -2-4 0-8 -1.5-2.5 -0.5-3.5 0.5-7 4 14 0.5-3 0-6 -16.5-97.5 -1-8.5 -1-3.5 -1-8.5 -1-4 -0.5-8 -1.5-4 -0.5-10 -1.5-3 0-10.5 2-0.5 0-2 0-10zM608 610.5l0 2.5 6 5 4-2 2.5 0 0-4 -0.5-1 -2 0 -2 4.5 -2-3 -2 0 -2-1.5zM614 624l2.5 4 0-4zM581.5 490l0.5 0 1 4 1 1 0.5 5 1.5 2 0.5 4 5.5 18 0.5 4 1.5 4 0.5 6 2 4 0 6 1.5 2 1.5 6 -0.5 2 1 1 0.5 3 2 6 0 6 2 2 0.5 2 -0.5 2 0 4 2.5 2 0 4 -0.5 2 0.5 4 -1 0.5 -0.5-4.5 -1.5-3 -24-85.5 -2-10.5zM421 612l1-0.5 10 13 11 17.5 6.5 8 8.5 8.5 6 4 32 27.5 17.5 16 5 6 1.5 4 8 12 24 32 14 32 0.5 4 -1 4 -4 4 -1.5 0.5 -0.5-2.5 -1.5-1.5 -4-0.5 -8-8 -2-0.5 -2 0.5 -3 2 -1 2.5 -6-3 -12-8 -14-11 -4-1.5 -1 1 0 4 5 18 0 4 -2.5 4 -3.5 2.5 -4 0.5 -4-1.5 -3-3.5 -18-32 -12-32 -3-10 -2-3 -2-1 -1.5 2 2 12 1.5 48 -2 4.5 -4 3 -4 0 -2-0.5 -4-3 -1.5-4 -5-26 -3.5-20 -4-27 -3.5-15 0-6 2.5-10 0-4 -4.5-8 -5-6 -2.5-6 -1-6 -0.5-8 1-6 3-8 6.5-10 1.5-4zM402 676l2 0.5 4 8.5 5 5 2.5 6 0.5 6 -3 10 -0.5 12 0.5 2 1 1.5 0.5 8.5 1.5 2 0.5 8 1.5 2.5 0.5 7.5 1.5 3 0.5 7 1.5 3 0.5 7 1.5 3.5 1 8.5 1 1.5 0.5 8.5 1.5 2 0.5 8 1.5 2.5 0.5 7.5 1.5 3 0.5 7 1.5 3 0.5 7 1.5 3.5 0 7.5 -2-1 -0.5-8 -1.5-2 -0.5-8 -1.5-2.5 -0.5-7.5 -1.5-3 -0.5-7 -1.5-3 -0.5-7 -1.5-3.5 -1-8.5 -1-1.5 -0.5-8.5 -1.5-2 -0.5-8 -1.5-2.5 -0.5-7.5 -1.5-3 -0.5-7 -1.5-3 -0.5-7 -1.5-3.5 -1-8.5 -1-1.5 -1-4.5 -3-4.5 -6 1.5 -4 0 -4-4 -2-1 -4 0.5 -3.5-4.5 -2-6 0-6 1.5-4 4-1 4-7 10-3zM316.5 690l1.5 0 1 6 1 1.5 0.5 6.5 1.5 3 0.5 7 1.5 2.5 0.5 7.5 1.5 2 0.5 8 1.5 2 0.5 6 1.5 3.5 0.5 6.5 1.5 3 0.5 7 1.5 3 0.5 7 1.5 2.5 1 7.5 1 2 0.5 6 1.5 3.5 0.5 6.5 4 12 0.5 8 1 2.5 0.5 7.5 1.5 2.5 0.5 7.5 1.5 2 0.5 8 -0.5 0.5 -2-2 -0.5-6.5 -1.5-3.5 -0.5-6.5 -1.5-3 0-13 -0.5-2 -3.5-4 -0.5-8 -1.5-2 -1-6 -3-3.5 -2 3.5 -2 1 -3-1 -25-24 -8.5-16 -4-10 0.5-2.5 2-1.5 2-0.5 8 5.5 13.5 13 18.5 31.5 0.5-3.5 -0.5-4 -0.5-8 -1.5-2.5 -0.5-7.5 -1.5-2.5 -0.5-7.5 -1.5-2 -1-8 -1-1.5 -0.5-6.5 -1.5-3.5 -0.5-6.5 -1.5-3 -0.5-7 -1.5-2.5 -0.5-7.5 -1.5-2 -0.5-8 -1.5-2 0-4zM341.5 692l0.5-2 0.5 4 1.5 1.5 0.5 6.5 1.5 3 0.5 7 1.5 2.5 0.5 7.5 1.5 2.5 0.5 7.5 1.5 2 0.5 8 1.5 2 0.5 6 0 2 1.5 1.5 0.5 6.5 1.5 3.5 0.5 6.5 1.5 3.5 0.5 6.5 1.5 3 0.5 7 1.5 1.5 2.5 6.5 2.5 8 0 14 1 2 0.5 8 1.5 2 0.5 8 1.5 2 0 7 -2-0.5 -0.5-6.5 -1.5-3.5 -0.5-6.5 -1.5-3.5 -0.5-6.5 -3.5-4.5 -4 1.5 -6-2 -2 0.5 -2-1 -2.5-4.5 -0.5-4 1-3.5 2-1.5 6-6.5 2-0.5 1.5-2 0.5-8 -0.5-4 -1.5-2 -0.5-8 -1.5-2 -0.5-8 -1.5-1.5 -1-8.5 -1-1.5 -0.5-6.5 -1.5-3.5 -0.5-6.5 -1.5-3 -0.5-7 -1.5-3 -0.5-7 -1.5-3 -0.5-7 -1.5-2.5zM370 694l2-1.5 0.5 3.5 2 4 1.5 10 0.5 8 1.5 3.5 0.5 6.5 1.5 3.5 0.5 4.5 1.5 3.5 3 10.5 1 2.5 7.5 5.5 8.5 16.5 4 6 2 1 2 2.5 10.5 32 0 4 -2.5 4.5 -6 2.5 -2 1.5 -4-0.5 -4-2.5 -2 0.5 -1 4 1 1.5 1 8.5 1 1.5 0.5 8.5 -0.5 0.5 -2-2 -0.5-6.5 -1.5-3.5 -1-8.5 -1-1.5 -0.5-4.5 -2.5-8 -3-7 -7.5-11 -9.5-30 -1-8 -1.5-8 0-4 1.5-4 4-2 1-2 1-6 -0.5-4 -1.5-2 -0.5-8 -1.5-2 -0.5-6 -1.5-3.5 -0.5-6.5 -1.5-4.5zM613 768l1-0.5 2 1 4 4 2 0.5 2-0.5 2-2 2-0.5 2.5 4 0.5 4 -1 12.5 -3 7.5 -6 4 -7 10 -8 3 -6 0 -4.5-3 -2.5-6 -0.5-6 1-8 3-8 4-6 6.5-6zM520 798l4-1.5 2 0.5 2 1 2 4 -0.5 4 -1.5 3 -2 2 -4 1.5 -4-1.5 -2-4 1-5zM573.5 844l8.5 0 6 2 2.5 2 2.5 4 0.5 4 -1 2 -5 4 -7.5 1 -4-2 -2 1 -2 0 -2-2 -6-2 -1-2 0-2 1.5-4 3.5-3.5z"/>
<path fill="#ffe600" d="M549.5 82l9.5 0 18 106 20.5 138 14.5 90 1 4 1 8 1 4 1 8 1.5 6 3 20 13.5 74 4 17.5 4 10.5 2 1 8 0 0.5 15 1.5 2 0.5 32 1.5 4 1 28 1 1.5 0.5 2.5 0 48 -1.5 12 -1 20 -1 4 -1 10.5 -3 7.5 -1 6.5 -2 1 -2-6.5 -2-2.5 -2 0.5 -2 1.5 -1 1.5 -1 8 -2 2.5 -5-2.5 -3-4 -1.5-4 -0.5-8 -2-5 -8-1 -5-2 -9-9.5 -2 0 -4 1.5 -38-9.5 -24-13.5 -8-5 -26-21 -34-31 -40.5-60 -15.5-20.5 -6-6.5 -6 0 -18-29.5 -2 8 -4-7.5 -6-19 -16-24.5 -6-14 -2-3 -2-1 -2 0.5 -12-17 -2 4 -2-3 -2-3.5 -6-16.5 -12-22 -6-15.5 -4-7 -2 0.5 -3.5-7 -2-6 -3-10 -3.5-16 -1-22 1-2.5 2 5.5 1-3 -2-20 0.5-8 0.5-1 2-2 4-2.5 2-4 2-0.5 2 1 2 3 10 3.5 6 7 2 0.5 2-1.5 2 1.5 7.5 9 6.5 12 2-4 2 1 2 4 4 14 2 4.5 6-2 1-3.5 -5-17 0.5-5 -3-16 0-4 8.5-6 6-1.5 4 0 4 1 6 3.5 30 28.5 24 28.5 32 41 29 41 39.5 52 19.5 27.5 0 2.5 2 2 0.5 2 1.5 2 0.5 4 1.5 1.5 0.5 2.5 1.5 2 2.5 8 2 2 4.5 12 4.5 8 0 2 2.5 6 2 2 2 1 -1-7 -1.5-2 -2-6 -0.5-4 -1-2 0-3 2 2 2-4 24 29.5 0.5 3.5 1.5 1.5 0.5 2.5 2 2 1 4 2.5 6 2 1.5 6 2.5 2-0.5 2-2.5 2 0.5 1.5-1.5 -0.5-4 -1-1.5 -2 0 -1.5 1.5 -0.5 4 -0.5-2 -2-2 -0.5-2 2-2 0-2 3 0 1.5-2 0-4 -1.5-2 -2 0 -1.5 2 -0.5 5.5 -2-7.5 1-2 -1-1 -1-5 0-4 -1-1 -1-7 1-1.5 0.5 3.5 2.5 6 -1 2 0.5 4 1.5 2 1.5 0 0.5 1.5 0-1.5 1.5-2 0-4 -2-2 -0.5-2 0.5-8 -2-6 0.5-6 -2.5-6 0.5-5 6 21 0.5-6 -14.5-86.5 -1-9.5 -1-3 -1-9 -1-3 -0.5-9 -1.5-3.5 -0.5-10.5 -1.5-2.5 0-8.5 2 0 0-1 0-12.5zM608 609.5l-0.5 2.5 0.5 2 6 4.5 2-0.5 2-1.5 2 0 0.5-0.5 0.5-4 -1-1 -2 0 -2 4 -2-2.5 -2-0.5zM614 623.5l-0.5 0.5 2 4 2 0 -1-4zM583 506l3-0.5 0.5 4.5 1.5 1.5 0.5 4.5 1.5 2 1 6 1 1.5 0.5 4.5 1.5 2.5 0.5 5.5 1.5 4 0.5 6 1.5 2 1 8 1 1.5 2.5 8.5 0 6 2.5 4 -1 6 2.5 2 0.5 2 -1 8 -0.5-4 -21.5-77zM600 528l0-2 0.5 4 1.5 1.5 0.5 8.5 1.5 2 1.5 8 -1.5 3 0-5 -2-6 0-6 -2-3.5zM604.5 554l1.5-0.5 0 2.5 2.5 6 -0.5 1 -2 1 0-6zM607.5 598l0.5-0.5 1.5 0.5 -0.5 2 -1 2.5zM425.5 618l8.5 10.5 8 13 1 4.5 1 1.5 4 2 10 9.5 7 5 30 26 12.5 12 4 4 6 10 13.5 18 19 24 1.5 2 13 32 0 6 -2.5 4 -2 2 -0.5-2 -1.5-1.5 -3.5-0.5 -8.5-8.5 -2-0.5 -2 1 -3.5 2 -0.5 1.5 -2-1 -16-10 -14-11 -4-2 -2 0.5 -0.5 4 5.5 20 0 4 -2.5 4 -2.5 1.5 -4 0.5 -4-1.5 -2-2.5 -18-32 -12.5-34 -3.5-10 -4-5 -2-1 -1 2 0 2 2 14 1 48 -2 4 -2 1.5 -4 0.5 -4-2 -2-5 -8.5-43 -6.5-44 -0.5-8 2-8 -0.5-4 -4-8 -6-8 -2-8 0-12 1-6 3-5.5 7-8.5zM401 682l1-2 2 0.5 7 11.5 2 4 0 6 -1 3.5 -1 8.5 -1 3.5 -2-1.5 -2-3 -6 1 -4 0 -8-6.5 -2 0.5 -2.5-6 0-6 2.5-1 4-8 4-2 6-0.5zM379.5 742l0.5-0.5 2 2.5 0.5 4 3.5 6 6 5 6 9 4 8 8 11.5 8.5 26.5 0.5 4 -1 4 -1.5 2 -6.5 3 -2 0 -4-1.5 -4-4.5 -2 2.5 -4-6 -4-10 -6-9.5 -4-10 -6-20 -0.5-10 -1.5-4 -0.5-4 1.5-4 4-2zM306 758l2-1.5 2 1 4 3 2 3.5 2.5 6 -0.5 1.5 -4 3 -2 0 -2-1.5 -6-5.5 -2-5.5 1-2zM611 770l3-1.5 2 0.5 4 3.5 2 0.5 2 0 2-2 2 0.5 2.5 6.5 -0.5 10 -4 10 -5 4 -7 9 -6 2.5 -6 0.5 -4-2.5 -3-5.5 -1-6 1-8 2-6 3.5-6 5.5-6zM362 794l2 1 2.5 5 1 6 0.5 8.5 -2 2.5 -2-1.5 -4 1.5 -8-2 -2-1.5 -1-3.5 0.5-4 1.5-2 5-6 4-1zM520 800l4-2 2 0.5 2 2 0.5 3.5 -0.5 2 -2 3 -2 1.5 -4 0 -2.5-2.5 0-4zM571.5 846l4.5-1 4 0 4 1 4 2 3.5 4 0.5 4 -1 2 -3 3 -2 0.5 -6 1 -4-2 -2 1 -2 0 -2-2 -4-1.5 -1.5-2 0.5-4 3-4z"/>
<path fill="#ffdb00" d="M549.5 82l9.5 0 15.5 94 23 152 20.5 128 10.5 60 7.5 39.5 4 17 2 6 2 3.5 2 1 6 0 0 1 2 2 0.5 32 1.5 4 1 28 1 1.5 0 2.5 0.5 48 -1.5 12 -1 20 -1.5 4 -0.5 10 -3 8 -1 6 -2 1 -2-6.5 -2-2 -2 0.5 -2 1 -2 10 -2 2 -4-2 -3.5-4 -1.5-4 -1-10 -2-4.5 -12-1.5 -4-3 -4-5 -2-1.5 -6 0.5 -14-4 -22-4.5 -18-9.5 -15.5-9 -4.5-3.5 -22-18.5 -34-30.5 -41.5-61.5 -12.5-17 -6-7.5 -2-1.5 -4-1 -1.5-1 -20.5-33 -2 5.5 -4-7.5 -6-17 -14-21 -6-14 -2-3 -2-2.5 -2 1.5 -12-16.5 -4 0.5 -2-3 -8-20.5 -10-18 -12-30.5 -2 1 -4-14 -2.5-12 0.5-6 0-0.5 2 0.5 1-12 -3-24 2-5.5 4-4.5 2-5 2 0 4 5 10 4.5 4 7.5 2 1.5 4-4 2 2 6 8.5 8 16 2-2 2 3 2 3.5 6 15 4 3 4-0.5 2-1 1-5 -2-10 -3.5-12 0.5-1.5 1.5-0.5 0.5-2 -7.5-20 0-4 5.5-4.5 6-2 6 0.5 6 3.5 11.5 10.5 16.5 12.5 18 20.5 36 45 33 46 33 42.5 30 41.5 0 2 2 3 0.5 3 1.5 1.5 0.5 2.5 1.5 2 2.5 8 1.5 2 5 12 4 8 0.5 2 2.5 6 2 3 2 2 0.5-3 -1.5-6 -1.5-2 -1-4 -1-2 0-4 2.5-5 24 29.5 0.5 1.5 1.5 2 0.5 2 1.5 2 3.5 10 4.5 4 -0.5 4 0.5 2 6 5 2-0.5 2-2 2 0.5 1-1 0-4 -1-1.5 -2 0 -2 4 -2.5-2.5 -0.5-2 0-2 1-0.5 2-2 2 0 1.5-1.5 0-4 -1.5-1.5 -2-0.5 -1.5 2 -0.5 3.5 -1.5-3.5 1-6 2.5 0 1.5-2 0-4 -2-2 -0.5-2 -0.5-2 1.5-2 -0.5-4 -1-2 -1-4 0.5-6 -2.5-6 0.5-8 4 13.5 0.5-3.5 0-6 -9.5-58 -1-4 -1-8 -1-4 -1-10 -1-2.5 -0.5-9.5 -1.5-3 -0.5-9 -0.5-2 -1-1.5 0-6.5 2-0.5 0.5-5.5 -0.5-8.5 -2-15.5zM574 584.5l0 2 2 2 0-3.5zM614 623l-0.5 1 2 4 0.5 0.5 2.5-0.5 -1.5-4 -1-1zM588 522l0-0.5 2 0 0.5 4.5 1.5 1.5 0.5 4.5 1.5 2.5 0.5 5.5 1.5 2 0.5 6 1.5 3 0.5 7 1.5 2 1 6 1 2 0.5 6 2 4 -0.5 7 -14-50.5 -2-8zM603.5 544l0.5-0.5 0.5 6.5 -0.5 2zM605.5 554l0.5-0.5 1 6.5 -1 2zM607.5 566l0.5-1 1 5 0 2 -1 0.5zM609.5 574l0.5-1.5 0.5 1.5 -0.5 2 0.5 4 1.5 2 -2 0.5 -1-4.5zM611.5 584l0.5-2 1.5 4 -1 2 -0.5 5 -1.5-7zM605 588l1-1.5 0.5 1.5 -0.5 4.5zM608 608l2-0.5 1 0.5 -1 1.5zM427.5 624l2.5 0.5 6 9 2 4.5 -0.5 4 2.5 6.5 5 3.5 7 2 12.5 10 36 32 5.5 6 10 14 34 43 6.5 15 6.5 18 0 6 -3 4.5 -2-2 -3.5-0.5 -8.5-8.5 -4 0 -4 3.5 -1.5-1 -16-10 -16.5-13 -4-1.5 -1 0.5 -1 2 0 2 6 22 0 4 -2 3 -2 1.5 -4 0.5 -2.5-1 -2.5-2 -18-32 -12.5-34 -3-10 -5.5-7 -4-2.5 -1 1.5 0 4 3 18 0 43 -0.5 3 -1.5 2.5 -2 1 -2 0 -2.5-1.5 -3.5-11.5 -7.5-36.5 -6.5-48 2-10 -0.5-4 -4-8 -6-8 -1.5-8 0-12 2-7 4-5.5zM401.5 686l0.5-1.5 2 0 2 1.5 3 6 1.5 6 -0.5 12 0 1 -2 1.5 -2-2 -2-0.5 -6 1.5 -4-1 -4-4.5 -2-4 -0.5-4 3-8 3.5-2 6-1zM375 748l1.5 0 1 2 -1.5 2.5 -2-0.5 -0.5-2zM381.5 754l2.5 0 6.5 6 7.5 10.5 4 7.5 5.5 8 1.5 4 5 14 4 14 -2 4.5 -6 3 -2 0 -3.5-1.5 -4.5-5.5 -4-2 -11.5-20.5 -6.5-18.5 -3-11.5 0-4 1-2zM613 770l3-0.5 4 3.5 2 0.5 2-0.5 2-1.5 1 0.5 2 4 1 4 -1.5 10 -3 8 -5 4 -4.5 6.5 -2 1.5 -4 2 -4 0.5 -4-0.5 -4-3 -2.5-5 -0.5-6 1.5-8 2.5-6 4-6 5-4.5zM361.5 798l0.5-0.5 2 1 2 3.5 0.5 8 -0.5 2.5 -4 1 -2 1.5 -2 0.5 -4-1.5 -2-2 -1-2 0-2 2-4 3-4 4-0.5zM524 800l2 1 1 3 -0.5 2 -1.5 2 -3 1 -2-1 -1-2 0-2 1-2 2-1.5zM570.5 848l3.5-1.5 4-0.5 6 1 4.5 3 1.5 2 0 4 -2.5 4 -3.5 1.5 -4 0.5 -4-2 -2 1 -2-0.5 -2-1.5 -2.5-1 -1.5-2 0.5-4z"/>
<path fill="#ffd300" d="M550 82l8.5 0 0.5 4 1 4 1 8 1 4 1 8 1 4 1 8 1 4 1 8 7 42 23.5 154 20.5 128 10 61 7 37 6 28 3 8.5 2 3.5 2 1 6 0 0.5 21 0 2 1.5 2 0.5 28 1.5 2 0 2 0.5 48 -1.5 12 -1 20 -1.5 4 -0.5 9 -3 7 -1 7.5 -2 1.5 -2-6.5 -2-2 -2 0 -2 1.5 -1 2 -1 7.5 -2 2 -4-2 -3-3.5 -1.5-4 -1.5-12 -2-4 -14-2 -5.5-6 -2.5-2 -6 0.5 -4-2 -8-2.5 -24-4 -14-7.5 -20-11.5 -25.5-21 -34.5-31 -45.5-67 -14.5-19.5 -4.5-2.5 -23.5-37.5 -1.5 1.5 -0.5 2.5 -2-1.5 -2-3.5 -6-17 -16-24 -6-14 -2-3 -4 0 -12-17.5 -2 3 -2-3 -2-3 -6-17 -12-22.5 -7-21.5 -5.5-22 -1-8 0.5-10 1-6 2-6 0.5-22 1.5-3 2 1.5 4 9 10 4 4 10.5 4 5.5 1.5-1.5 0.5-10 2 0.5 4 6 10 20.5 2-3 4 6 4 10.5 2 3.5 6 6 4 3 2 0 2-1 1.5-2 0.5-4 -1.5-10 -4-16 1.5-1 6 5 2 0.5 0-6.5 -4-9 -12-19 2-2 4-2 4 0 12 7 10 3.5 10 6.5 6 5 6 6.5 34 41.5 18 23.5 25 34.5 33 42.5 32 43.5 2 3.5 0.5 2.5 1.5 2 0 2 2 2 2.5 8 1.5 2 4.5 12 4.5 8 0.5 2 2.5 6 4 6 0 3 1.5 1 0.5 2 0.5-4 -0.5-1.5 -1.5-0.5 -1.5-10 -1-2 -1-4 -1.5-2 0.5-3.5 2 2 2-3.5 24 30 5.5 13 3 4 1.5 6.5 6 5 2-0.5 2-2 2 0 1-1 0-4 -1-1.5 -2 0 -2 3.5 -1.5-2 -0.5-2 0-2 1.5-2 2.5 0 1.5-2 0-4 -1.5-2 -1 0 -0.5-4 1.5-2 -0.5-4 -1-2 -1.5-4 1-2 0-4 -2.5-6 0-10 0.5-1.5 4 13.5 0.5-6 -7.5-48 -1-4 -1-8 -1-3.5 -0.5-8.5 -1.5-3.5 -0.5-8.5 -1.5-4 -0.5-10 -1.5-3.5 0-4 2-0.5 0.5-2 -0.5-13.5 -35.5-242.5zM614 622.5l-1 1.5 2.5 4 0.5 0.5 3-0.5 0.5-2 -1.5-0.5 -2-2.5zM620 623.5l-0.5 0.5 0.5 2 2 0.5 0.5-2.5zM593 538l1 0 0.5 4 1.5 2 0.5 6 1.5 1.5 0.5 6.5 1.5 2.5 0.5 7.5 -0.5 0.5 -6-22zM612 552l0.5 6 -0.5 0zM607.5 566l0.5-0.5 0.5 4.5 -0.5 1.5zM601 570l1-1 0 6.5zM603.5 578l0.5 0 0 5zM609.5 578l0.5-2 0 6zM612 584l1 2 -1 2 0 4.5 -1-6.5zM614 594l0.5 0 1.5 4 -1.5 2 -0.5 3 -1.5-3zM422 632l4-1.5 2 0 2.5 1.5 1.5 2 2.5 10 3.5 6 6 3.5 10 3.5 9.5 7 29.5 26 7.5 8 49.5 62 7 18 4.5 14 0.5 4 -2 5 -5-1 -9-9 -4 0 -4.5 3 -16-10 -17.5-14 -4-2 -2-0.5 -1 2.5 0 4 6 24 -1 3 -2 2 -2 1 -4-1 -2-2 -18-31 -12.5-34 -3-10 -6.5-8.5 -6-5.5 -1.5 2 0 2 4 22 -0.5 30 -2 3 -6 0.5 -4-12.5 -4-19 -6.5-48 2-12 -4.5-10 -5-8 -2-6 0-10 1-6 1.5-4zM397.5 690l4.5 0 2-1 2 1 2 4 1 4 0 6 -1 2.5 -2 0.5 -2-0.5 -4 2 -4-0.5 -2-0.5 -2.5-3.5 -1.5-4 1-6 1.5-2zM381.5 758l2.5-1 2 1 2.5 2 9.5 13 8 13 10 30 -0.5 4 -3.5 3 -4 1 -3.5-2 -4.5-6 -2-2 -2-1 -2-2.5 -8.5-14.5 -9-30 1-4zM615 770l1 0 4 3 2 0.5 2 0 2-1.5 1 2 1.5 4 0.5 4 -1 8 -3.5 8 -4 4 -4.5 6 -6 3 -6 0.5 -4-2 -3-5.5 -0.5-6 0.5-6 3-8 4.5-6 5.5-5.5zM356.5 802l5.5-0.5 2 2 0.5 2.5 -0.5 4 -6 3.5 -3.5-1.5 -1.5-2 0.5-4zM521.5 804l2.5-1 0.5 1 -0.5 1.5 -2 0.5zM573.5 848l6.5-0.5 6 2 2 2.5 1 2 -1.5 4 -2 2 -5.5 1.5 -4-2 -2 1 -2-0.5 -4.5-4 0-2 2.5-4z"/>
<path fill="#ffc800" d="M550 82l8.5 0 0 6 1.5 3.5 0.5 8.5 1.5 3 1 9 1 3 1 9 1 3 1 9 1 3 1 9 1 3.5 1 8.5 1 4 23.5 154 20 128 21 124 3 16 6.5 20.5 2 3.5 2 1 4-0.5 0 9.5 2 2 0.5 28 1.5 2 0 2 0.5 38 0 10 -1.5 12 -1 20 -1.5 4 -0.5 8.5 -3 7.5 -1 7 -2 1.5 -1-4.5 -1-1.5 -2-2.5 -2 0.5 -2 1.5 -1 2 -1 7.5 -2 1.5 -4-2 -2.5-3 -1.5-4 -1.5-12 -2.5-5 -14-2 -2-1 -3-4 -3-2 -2-0.5 -2.5 0.5 -5.5-3 -11-3 -9-2 -14-1.5 -8-4 -24-14 -25-20.5 -35-31.5 -39-58.5 -18.5-26 -5.5-6 -27-42.5 -2 5.5 -4-7 -6-16.5 -14-20.5 -6-14.5 -2-3 -2-2.5 -2 2.5 -12-17 -2-0.5 -2 0.5 -0.5-0.5 -3.5-7 -6-17 -12-23.5 -5-16.5 -4-20 0-12 2-4 3-3.5 0.5-2.5 -0.5-4 -1-4 0-6 1-3.5 2 0 14 12 6 8.5 2 2 2-0.5 2 2 14 15 2-1 4 6.5 4 8 14 14 6 5 2 0.5 1-0.5 0.5-2 0.5-6 -4.5-26 0.5-0.5 2 0.5 4 2 1-2 -1-6 -5-12 -1-4 7-10 3-2 2 0 4 1.5 12 8.5 8 8 14 16 24 30 37 50 35 44 36 49 0 1 2 2 0 2 2 3 1 3 1 1.5 0.5 2.5 1.5 2 5.5 14 3.5 6 2.5 8 4 6 0.5 3 2 3.5 2 0 0-0.5 -3.5-8 0-4 -3-8 0.5-3.5 2 1.5 1-2 1-0.5 24 30 3 8.5 2 2 3 9 4 2.5 2 2.5 2-0.5 2-2.5 2 0.5 1.5-1.5 0-4 -1.5-2 -2 0 -2 3.5 -1-1.5 -0.5-2 0-2 1.5-2 1.5 0 0.5 1 2-3 -0.5-4 -2-6 0.5-2 0-4 -2-6 0-6 -1.5-6 0.5-2 -1-0.5 0-5.5 0-1 4 13 1-2 -0.5-6 -3.5-26 -1-4 -1-8 -1-2.5 -1-9.5 -1-3 -0.5-9 -1.5-3.5 -0.5-10.5 -1.5-3.5 0-1.5 3.5-1 -1.5-17 -39-265 -7.5-44 -0.5-8 -1-4 -1-8 -1-4 -1-8 -1-4.5 -1-9.5 -1-3 -1-9 -1-4zM614 622l-1.5 2 3.5 5 3.5-1 0.5-1 2 1 0.5-4 -0.5-1 -2 0 -2 2 -2-2.5zM611.5 586l0.5-1 0.5 1 -0.5 6zM614 596l0-1 1 3 -1 4.5 -1-2.5zM423.5 636l2.5 0 2 1.5 3 8.5 4.5 6 6.5 3 14 4.5 6 4 25.5 22.5 8 8 53.5 66 5 12 4.5 14 1.5 8 -0.5 4 -0.5 2 -3.5 0 -9.5-9 -4 0 -4 2.5 -16-10 -18-14.5 -6-3.5 -2 0.5 -0.5 4 4.5 21.5 0.5 6.5 0 2 -2.5 2 -2 0 -2-1.5 -18.5-30.5 -13.5-36 -2-8 -12-15.5 -6-6 -1 1.5 0 4 5.5 28 0 10 -0.5 3 -1.5 1 -6.5 1 -2-4 -2.5-9 -5.5-45.5 0-4.5 1.5-4 0.5-4 -6.5-16 -3.5-5.5 -0.5-2.5 0-16 1.5-4zM396 694l4 0 4 2 1 2 -0.5 2 -2.5 3 -2 1.5 -4 0 -2.5-2.5 -1-4 1-2zM381 762l3-1.5 2 1 12 14 6.5 10.5 3.5 10 4.5 16 1 6 -1.5 2.5 -2 1 -2 0 -2-1.5 -14-15 -5-9 -7-24.5 -1-5.5 0.5-2zM612.5 772l3.5-1.5 4 2.5 6 1 2 6 0 8 -4 10 -6 7.5 -6 4 -4 1 -4-0.5 -3.5-2 -2-4 -1-6 0.5-6 2-6 4-6 4-4.5zM355.5 806l2.5-2 2 1 1 3 -1 2 -2 1 -2-0.5 -1-2.5zM572 850l4-1.5 6 0.5 4.5 3 0.5 2 0 2 -1 2 -3.5 2 -2.5 0.5 -4-1.5 -2 0.5 -2-0.5 -3-3 0-2 1-2z"/>
<path fill="#ffbd00" d="M551.5 82l6.5 0 0.5 8 1.5 3.5 0.5 8.5 1.5 3 0.5 9 1.5 3 0.5 9 1.5 3 0.5 9 1.5 3 0.5 9 1.5 3.5 0.5 8.5 1.5 4 0.5 8 1.5 5 0.5 9 1.5 4 0.5 8 1.5 5 1 9 1 4 1 10 1 3 15 101 41 253 10 35 2 4 2 1 2-0.5 2 1 0.5 24.5 1.5 4 0.5 38 0 10 -2 12 -0.5 20 -1.5 4 -0.5 8 -3 8 -1 6.5 -2 2 -1-4.5 -1-2 -2-2 -2 0.5 -2.5 1.5 -1.5 9.5 -2 1 -4.5-2.5 -2.5-4 -2-14 -1-3.5 -2-3 -16-2 -4-5 -14-5.5 -18-4.5 -12-0.5 -9.5-4 -21-12 -5.5-4 -22-18 -36-32 -59-88 -31-49 -1.5 1 -0.5 1.5 -2 0 -2-3 -6-17 -16-23.5 -6-16 -2-2.5 -2-0.5 -2 2 -12-18 -2 3.5 -2-3 -4-9 -4-12.5 -10-20.5 -4-10.5 -4-16.5 -1.5-10.5 1-6 4-6 1.5-6 0-2 -2.5-10 0-2 1.5-2 2 2.5 1.5 5.5 2.5 3.5 6 0.5 4 2.5 4 8.5 2 2 2-1 2-0.5 14 16 2-0.5 2 2 2 2.5 4 8 6 7 24 21.5 6 4 -5.5-22 -3.5-18 1-1.5 4 1.5 1-2 -1-6 -6-14 -1-4 4-8 0-4 1-2 4-0.5 2 1 12 9 18 20 20 24.5 40.5 54 37.5 46 40 54 0.5 2 1.5 1.5 0.5 2.5 1.5 1.5 0.5 2.5 3.5 7 3.5 9 3.5 6 2.5 8 4 6 0.5 3.5 2 3.5 2 0.5 0.5-1.5 -3.5-8 0-4 -1.5-2 0-2 -2-4 0.5-2 2 2 2-2.5 24 29.5 3 7 1.5 2 2.5 8 6.5 6 -1 4 2.5 4 1 1 4-1 2 0.5 0.5-0.5 0.5-4 -1-1 -2 0 -2 1 -2.5-2 2-4 0.5-0.5 2 0 1.5-1.5 0-4 -1.5-2 -0.5-4 0.5-2 0-4 -2-6 1-2 -1-1 -1-9 0-2 -1-2 0-7.5 0.5 3.5 1.5 2.5 2 6.5 0.5-7 -3-18 0-6 -1.5-4 -0.5-8 -1.5-4 -0.5-10 -1.5-2.5 -0.5-11.5 -1-2 3.5-1 0-5 -1-4 -1-11.5 -10.5-74.5 -27.5-180 -1-8 -1-4 -1-10 -1-4 -1-8 -1-4 -1-10 -1-3 -0.5-9 -1.5-3.5 -1-10.5 -1-2.5 -0.5-9.5 -1.5-3 -0.5-9 -1.5-4 -0.5-10 -1.5-2.5 -0.5-9.5 -1.5-3.5 -0.5-10.5 -1.5-2zM368 415l-1 1 3 4 4 4.5 4 3 0-2zM613.5 598l0.5-1 0.5 1 -0.5 4zM615.5 608l0.5-2 1.5 4 -1.5 3 -1-1zM438.5 658l1.5-0.5 4 0.5 14 4 6 4 18 16 10 10 30 35.5 27.5 34.5 4.5 12 3 10 0.5 4 -1 6 0 6 -10.5-9.5 -4 0 -2 1.5 -2.5 0 -15.5-9.5 -20-16 -6-3.5 -2 1 -0.5 2 2.5 15 0 5 -6 2.5 -2-1 -12-19.5 -12-33.5 -1.5-6.5 -17.5-24 -3.5-8 -3.5-9.5 -6-6 -2.5-4.5 -1.5-4 0-3.5zM614.5 772l3.5 0 2 1.5 5 0.5 2.5 6 -0.5 8 -3 8.5 -6 8 -6 4 -6 0.5 -4-1.5 -2.5-3.5 -1-6 0.5-6 2-6 3.5-6 5.5-5.5zM388.5 774l3.5-1 2 1 6 7 4.5 7 3.5 13 0.5 5 -0.5 1.5 -5 2.5 -1 0.5 -2-1 -6-5.5 -6-8.5 -4-17.5 1-2zM576 850l4 0 4 2 1.5 2 -0.5 2 -1 1.5 -4 2 -7.5-1.5 -1.5-2 0-2 1-2z"/>
<path fill="#ffb600" d="M568 184l0-1 4-0.5 2 1.5 0.5 10 1.5 2.5 0.5 9.5 1.5 3 0.5 9 1.5 3.5 0.5 8.5 1.5 4.5 0.5 9.5 1.5 3.5 0.5 8.5 1.5 4.5 0.5 9.5 1.5 3.5 0.5 8.5 1.5 4.5 1 9.5 1 3.5 3 22.5 1 3.5 0.5 8.5 1.5 4 1 10 1 3 1 9 1 3.5 9 60.5 27 164 4 17.5 8 28 2 4.5 2 1.5 2 0 0 10.5 0.5 2 1.5 1.5 0.5 48.5 -2 12 -0.5 20 -1.5 4 -0.5 7 -3.5 9 -0.5 6 -2 2 -1-4 -1-2 -2-2 -2 0 -2.5 2 -1.5 9 -2 1.5 -4-2.5 -2.5-4 -2-14 -1.5-5 -2-2.5 -16-2.5 -6-5 -10.5-5 -19.5-4.5 -16-2 -8-3.5 -20-12 -8-6 -24-20 -18-16 -9.5-10 -16.5-22 -12-18 -45.5-74 -19.5-30 -1-1.5 -2 7 -2-3 -2-3.5 -6-18 -16-23.5 -6-18 -2-3 -1.5 1.5 -0.5 4.5 -2-1 -2-3 -10-16.5 -2 5 -4-7.5 -6-19 -8-18.5 -4-14 -2-10 0-6 2.5-6 1.5-7.5 2-0.5 4 5.5 4 1.5 1-1 -1-4 2-1.5 2 1 2 2 2.5 6.5 1 8 2.5 7 4 6.5 1-7.5 -3-10 0-1 2-1 12 14 2 0.5 0-2.5 2-0.5 4 6 4 11.5 3.5 5 -1.5 0.5 -1 3.5 3 10.5 14 23.5 4 5 4 3 4 1 6-1 1.5-2 -3.5-7 -6-8 -16.5-19 0.5-1.5 6 3.5 6 2 14 12 4 2.5 0.5-0.5 0-2 -8.5-27 -3-13 1-2 6 4 0.5 0 0.5-4 -1-4 -8.5-16 -2-6 1-4 1.5-4 0.5-6 1.5-1.5 4 0.5 4 2.5 6.5 6.5 25.5 30 24 30.5 23.5 31.5 38.5 45.5 46 61 0 1.5 2 2 0 2 3 6 1 1 3 9 3.5 6 3 8 3.5 6 1 4 2 3.5 2 1.5 0.5-3 -3-8 -0.5-4 -1.5-2 0.5-4 2 1.5 2-2 24 30.5 0.5 2 2 2 2.5 8 6 6 -1 4 2.5 4 1.5 1.5 4-1 2 0.5 1-1 0-4 -1-1.5 -4 1 -1.5-1.5 1-4 2.5 0 2-2 -1.5-10 1-2 -1.5-2 0-10 -2-2 0-2 2 0 0.5 2 1.5 2.5 0-6.5 -1-2 0-8 -1.5-6 0-8 -1.5-4 -0.5-8 -1.5-4 0-12 2-0.5 0-8.5 -12-87 -18-114 -5-36 -1-4 -1-10 -1-2.5 -0.5-9.5 -1.5-4 -0.5-10 -1.5-3 -0.5-11 -1.5-2.5 -0.5-9.5 -1.5-3.5 -0.5-10.5 -1.5-3 -0.5-11 -1.5-2.5zM636 613.5l-0.5 4.5 0.5 3zM638 624l-0.5 4 0.5 4.5zM338 381l-1 1 5 7 0-4zM418 415.5l-1 2.5 0.5 2 12.5 16.5 10 12 4 3.5 2 0 1-2 -0.5-2 -8.5-12 -16-20 -2-1zM616 608l1 2 -1 2.5 -0.5-2.5zM444 662l2-0.5 4 0.5 10 3 2 1 12 10.5 16 15.5 32 37 26.5 33 5.5 15 1.5 7 -1.5 6.5 -2 4 -6-4 -4 0 -2 1 -4-1.5 -13.5-8 -22.5-18 -8-5 -1 1 0.5 10 -0.5 2 -7 3 -2-0.5 -2-2.5 -2.5-4 -5.5-20 0-1 8-3.5 0-3.5 -3.5-10 -2.5-2.5 -2-0.5 -6 0 -2-1 -6-6 -11-16 -3.5-8 -2.5-8 -1.5-4 -7.5-8 0-2zM612.5 774l5.5-2 2 1.5 4 1 2.5 5.5 0 8 -3 8 -5.5 7.5 -6 4 -6 0.5 -3.5-2 -2.5-4 -0.5-4 0.5-6 1-4 3-6 4-4.5zM395.5 784l2.5-0.5 4 3.5 2 7 -0.5 2 -7.5 4 -2-0.5 -4-4 -1-5.5 1-3.5zM575 852l3-0.5 3 0.5 2 2 0 2 -3.5 2 -5.5-1.5 -1-2.5z"/>
<path fill="#ffab00" d="M590.5 314l1.5-0.5 0.5 2.5 1.5 1.5 0 8.5 0.5 2 1.5 1.5 0.5 8.5 0 2 1.5 2 0.5 10 1.5 2 0.5 10 1.5 3 0.5 9 1.5 3.5 0.5 8.5 1.5 4 0.5 8 1.5 4.5 2.5 21.5 1.5 4 3 22 1 3 24 146 12 45.5 2 5 4 3 0.5 47.5 -2 12 -0.5 20.5 -1 1.5 -1 8 -3.5 10 -1 6 -1.5 1.5 -0.5-3.5 -1-2 -2.5-2.5 -2 0.5 -2.5 2 -1.5 9 -2 1 -4-2.5 -2.5-3.5 -2-16 -1.5-4.5 -2-2.5 -12-1.5 -4-1 -10-7 -6-2.5 -20-5 -15.5-2 -9-4 -16-10 -15.5-12 -22.5-20 -21.5-22 -24-34 -53-86 -22-32 -1-1.5 -1 7.5 -1 2 -2-3 -2-4.5 -6-19 -14-20 -2-4 -9-35.5 -4-20 -1.5-12 0.5-5.5 14 18.5 1.5-9 0-2 -1.5-4 -1.5-6 0.5-2 1-1 2 2.5 2.5 6.5 0 4 -0.5 4 2 4 8 26.5 7.5 11.5 4.5 5.5 6 4 4 1 8-1.5 4-2 0.5-1 -0.5-2 -5.5-12 1.5-4.5 2-0.5 8 4 2-1 -2.5-10 -8-26 -0.5-2 1-1.5 8 8.5 12.5 15 4.5 6 2 6 20.5 26 8.5 7.5 2 1 1.5-0.5 1-2 -0.5-2 -7.5-12 -43.5-56 -13-20 -2-6 -0.5-4 1-6 -0.5-8 4-0.5 4 2.5 6 6.5 16.5 21.5 46.5 62 7 8 16 16 20 23 52 68 0.5 3 1.5 1.5 0.5 2.5 1.5 1.5 0.5 2.5 1.5 2 1 4 3.5 6 2.5 8 2 2 3 8 4 6.5 1-4.5 -2-6 -1.5-2 0-4 -1.5-2 0-2.5 2 2 2-2 24 29.5 2 3.5 3 7.5 5.5 6 -0.5 4 1 2 3 3.5 4-0.5 2 0 1.5-1 0-4 -1.5-2 0-4 1.5-2 -1.5-2 0-3.5 2 2 0.5-6.5 -1.5-14 0-6 -1.5-6 0-8 -1.5-4 0-9.5 2 0 0.5-10.5 -1.5-6 -2-20 -1-4 -0.5-8 -1.5-6 -0.5-6 -1-6 -6-44 -7-42 -0.5-8 -1.5-4 -0.5-8 -1-3 -0.5-9 -1.5-3.5 -1-10.5 -1-2 -0.5-10 -1.5-3 -0.5-9 0-2 -1.5-1.5 0-10.5 -0.5-2 -1.5-1.5 0-4zM634 602l-1 4 1 4zM636 612l-1 2 0 6 1.5 4 0.5 6 1 4.5 1-2.5 -0.5-6 -0.5-3.5 -1-0.5zM640 635l-0.5 1 0.5 6.5zM301.5 352l0.5-0.5 2 0.5 4 7.5 6 4 4 4 2 3.5 5 17 4 18 4 24 0 8 -1 1.5 -12-21.5 -1 6 -1 2.5 -4-8.5 -7.5-24 -4-18 -2-12 0-8zM618 618l2 4 1.5 0 -3.5 1 -1-1zM450 666l4-0.5 6 1.5 12 10 16 15 32 36 26 32 2 3 2 5 2 6 1 6 -1 4.5 -3 5.5 -9 0.5 -2-0.5 -14.5-8 -31-26 -7-12 -6-14 -2.5-4 -5-2 -8-0.5 -5-3.5 -7-10 -4.5-8 -3-8 -1.5-8 -3.5-8 0.5-2zM614 774l4-1 4 1 2 2 2 6 -0.5 8 -3.5 7.5 -4 5 -6 4 -6 0.5 -2-1 -3-4 -0.5-4 0.5-6 2-6 3-5 4-4.5z"/>
<path fill="#ff9f00" d="M389 348l1-1 4 2 4 3.5 6 7 14 18.5 44 61 4 5 14 11 20 22 56 72 2 3 0.5 2 1.5 1.5 2.5 8.5 4 6 2.5 8 2 2 2.5 8 4 6 0.5 2 2 1.5 0-3 -4.5-14.5 0.5-3 2 2 2-1.5 24 30 2.5 6.5 5 6 0 4 1 2 3.5 4 6-0.5 2-1.5 -0.5-6 0.5-2 2 2 0.5-2 0-6 -1.5-12 0.5-8 -1.5-2 0-8 0-0.5 2-0.5 0.5-1 0-6 1.5-6 -2-2 -0.5-2 0.5-8.5 -2-4 0-9 -2-4.5 0-8 -1.5-4 -0.5-8 -1-4 -1-8 -3-18 -2-20 -1.5-4 -0.5-10 -1-2.5 0-8 2 0 2 3 0.5 7.5 1.5 2.5 0.5 7.5 1.5 3.5 1 8.5 1 3.5 15.5 96.5 6.5 35.5 12 45.5 4 9 0.5 34 -1 4 -1 8 -0.5 20 -1.5 2 -0.5 6.5 -3 9.5 -1 6 -2 3.5 -1.5-5.5 -2.5-2.5 -4 1.5 -0.5 1 -1.5 8.5 -2 1 -4-2.5 -2.5-5 -0.5-10 -1.5-6 -1.5-4 -2-2 -12-1.5 -4-1.5 -10-7 -6-2.5 -20-4.5 -16-3 -8-4 -12.5-8 -15.5-12 -21.5-20 -17-18 -10-14 -12.5-22 -18-38 -9.5-18 -26.5-42 -33-47.5 -6-10.5 2-1.5 12 2 8-0.5 8-2.5 6-3.5 1-2 -1-2 -6.5-10 -2-4 -1-4 2.5-4 1-0.5 6 3.5 10 7.5 2-0.5 1.5-6 -0.5-8 1 0 2.5 4 7.5 8 2.5 4 10.5 10 11 8 2-0.5 1-1.5 -1-4 -2-4 -9-16 -5-6 -0.5-2 -5.5-6 -2.5-4 -3.5-4 -2.5-4 -5.5-6.5 -0.5-1.5 -5.5-6 -0.5-2 -3.5-4 0-1.5 2 1 10 11 0.5-0.5 -0.5-2 -3.5-4 -0.5-2.5 -3.5-3.5 -0.5-2 -3-4 -1-2 -6.5-10 -8-14zM618 635l-0.5 1 0.5 2 2.5 0 1.5-2 2 1 0.5-1 -4.5-0.5zM632 590l-1 2 -0.5 4 0 2 1.5 1zM634 600l-1.5 2 -0.5 2 0.5 8 1.5 1.5 0.5 8.5 1.5 4 0.5 6 3.5 12 0.5-2 0-6 -4-24 -1.5-4zM304 358l2 2 3 8 1 6 1 2 1 7 1.5 3 3 24 -0.5 6 -4-8.5 -6.5-25.5 -2.5-16 0-6zM348 402l4 7 7 25 1 6.5 1.5 3.5 0.5 5 1.5 3 0.5 5.5 2 2.5 0 8.5 1.5 1.5 0.5 10 1 6 0 10 -1 2 -2-3 -2-6 -5-17 -1-6 -1-2 -1-7 -1.5-3 -0.5-6 -1.5-2 -0.5-9 -1-1 -0.5-2 -0.5-9.5 -1-4.5 -1.5-14zM456 670l2 0 8 5 22 19 32 35.5 26.5 32.5 3.5 9.5 0.5 4.5 -2.5 5 -7 7 -4 0 -13-7 -23-19 -6.5-6 -4-6 -10.5-24 -2.5-2 -3.5-2 -8 0 -4-1 -2-1.5 -4-5.5 -4-6 -4-8 -1.5-6 -1-12 0.5-2zM618 774l4 1.5 2 2 1 2.5 0.5 6 -1.5 6 -3 6 -5 5.5 -6 2.5 -4-0.5 -2-1.5 -2.5-4 0-6 1.5-6 3-6 3.5-4 4.5-3z"/>
<path fill="#ff9800" d="M417.5 388l0.5-2 14 16 25 34 7 8 8 8 10 8.5 20 22 36.5 47.5 21.5 26 2.5 8 1.5 1.5 0.5 2.5 1.5 2 1 4 2 4 1.5 2 3 8 6.5 11.5 0-5.5 -1-2 0-4 -1.5-2 0-2 -1.5-4 0-1 2 2 4 0.5 22 27.5 3.5 7 3 4 1.5 6 4 4 2 0.5 2-1 2 0.5 2-0.5 2-2.5 2 2 0.5-5 -1-10 0.5-5 10 29 2 7.5 1-1.5 -0.5-10 -6-34 -1.5-4 -0.5-6 -2-4 -0.5-8 -1-2 -1-10 -1.5-4 -0.5-8 -1-4 -0.5-8 -1.5-4 -4-32 -1-4 -1-10 -1-4 0-10.5 2 0.5 0.5 4 1.5 3 1 9 1 2.5 0.5 7.5 1.5 4 1 8 1 4 16 96 4.5 20 6 22 3.5 12 2 3 0.5 29 -1.5 4 -0.5 8 -0.5 20 -1.5 2 -0.5 5.5 -3.5 10.5 -1 6 -1.5 3 -1-5 -3-3 -4 1.5 -1 1.5 -1 8.5 -2 0.5 -4-2.5 -2-4.5 -1-10 -1-6.5 -2-5 -2-2 -14-2 -12-7.5 -6-2.5 -35.5-8.5 -7.5-4 -12.5-8 -12.5-10 -21.5-20 -15.5-18 -8.5-12 -5-10 -4.5-10 -8-26 -6.5-26 -14.5-76 -2-4 -6-8 -28-31.5 -6-8.5 -0.5-2 2-4 2.5 0 8 7 20 21 6 4.5 1-0.5 1-6 2-5 2 0 2 1 8 4.5 2 0.5 1.5-1 0-2 -3.5-10 0-2 2-0.5 0.5-1.5 -1.5-4 -6-10zM618 634.5l-1 1.5 1 2.5 2 0.5 2-1.5 2 1.5 1-3 -1-1 -4 0zM352 420l2 2.5 0.5 3.5 1.5 2.5 6 27.5 4 22 0.5 6 -0.5 3 -2-3 -1-4 -1-2 -4-18 -6-32zM467.5 682l2.5-0.5 4 2.5 14 12 31 34 27 33.5 1.5 6.5 -1 2 -12.5 11.5 -2 0 -7.5-3.5 -22-18 -6-6 -5-8 -8-20 -3.5-5 -6-3 -10 0 -3.5-2 -2.5-4 -6-9.5 -2-4.5 0.5-2 1.5-2.5zM614 776l4-1 4 1.5 2 3.5 0.5 2 0 6 -2.5 7 -4 5.5 -4.5 3.5 -5.5 1 -2.5-1 -2.5-4 -1-4 0.5-4 2-6 2.5-4 3-3.5z"/>
<path fill="#ff8d00" d="M457.5 446l0.5-2 4 1 2 1.5 30 30 14 16.5 28.5 37 23.5 28 0.5 2 1.5 1.5 0.5 2.5 1.5 1.5 0.5 2.5 1.5 2 1 4 1.5 2 0.5 2 1.5 2 3 8 3.5 6 3 7 2 1.5 0-2.5 -1-2 -0.5-4 -1-2 -0.5-4 -1.5-2 0.5-2 0-1.5 2 2 2-1 24 30 1 2.5 1.5 2 3 8 6 6 0.5 2 -1.5 2 1.5 3 2 0.5 2-1 2.5 1.5 1-4 -1.5-2 -4 0.5 -2-0.5 2-3.5 2 2.5 2 1 2-2.5 2 2 1.5-1.5 0.5-11 8 19.5 0.5 3.5 3.5 8.5 0.5-4.5 -1.5-14 -1-4 -1-8 -1-4 -1-8 -1.5-4 -0.5-6 -1.5-4 -1-8 -1.5-4 -0.5-6 -1.5-6 0-6 -3.5-18 -0.5-8 -1.5-4 -0.5-8 -1-4 -1-10 -1-2.5 0-6 2 0.5 0.5 4 1.5 2 0.5 8 1.5 3 1 9 1 3 1 9 1 3 9.5 59 4 22 8 32 4.5 13.5 2 2.5 0.5 26 -1.5 4 -0.5 8 -0.5 19.5 -1.5 2.5 -0.5 4 -6 20.5 -1-4.5 -3-3.5 -4 2 -1 1.5 -1 8 -2 0.5 -4-2.5 -1.5-4 -1-12 -1.5-6 -2-5 -2-1.5 -14-2.5 -10-6 -6-3 -36-9.5 -8-4.5 -12-8 -12.5-10 -20.5-20 -11.5-14 -10-14 -4.5-8 -4-10 -8.5-24 -7.5-32 -13.5-68 -1.5-4 -8-11.5 -13-16.5 -11-12 -2.5-4 0.5-2.5 2 0 19.5 18.5 8.5 6 2 0.5 0.5-8.5 1.5-4.5 4 0.5 8 4.5 2 0.5 1-1 -4-12 1-1.5 2-0.5zM478.5 694l1.5-1 2 0.5 4 3 24 25.5 14 16 18 24 0 1 -2 2.5 -12.5 12.5 -1.5 0 -6-4 -18-14 -4-4 -3.5-6 -9.5-24 -3-4 -4-3 -4-1.5 -4-0.5 -6 1 -2.5-2 -2-4 0.5-1.5zM612 778l4-2 2 0 4 2 1.5 4 0 6 -2 6 -3.5 5.5 -6 4 -4 0 -2-1 -2-2.5 -1-4 0.5-4 3-8z"/>
<path fill="#ff8200" d="M462 450l4 1 4 3 26 28.5 38 47.5 28 32 0 2 2 2 0.5 2 1.5 2.5 0.5 3.5 4 6 2.5 8 3.5 6 3.5 8 2 3 0.5-5 -1-2 -0.5-4 -1.5-2 0-4 0.5-2 2 1.5 2 0.5 24 30 3.5 8 3.5 4 2 4 -0.5 2 1.5 3.5 4 0 2 1.5 1.5-1 0.5-4.5 4 3.5 2-7.5 6 12.5 4 10 0.5-2 0.5-6 -1-6 -0.5-8 -1.5-3.5 -0.5-8.5 -1.5-3 -0.5-7 -1.5-4 -1-8 -1.5-4 -0.5-6 -1.5-6 -0.5-6 -1-4 -1-8 -1.5-6 -0.5-8 -1-4 0-11.5 2 4.5 0.5 7 1.5 3.5 0.5 8.5 1.5 3.5 1 8.5 1 4 5 34 4 24 2.5 10 8.5 29 2 5.5 2 1.5 0.5 24 -1.5 4 -1 26.5 -1.5 3.5 -6.5 24 -0.5-4 -3.5-3.5 -4 1.5 -1 2 -1 8 -2 0.5 -3-2.5 -2.5-4 -0.5-12 -1.5-6 -2.5-6 -2-2 -12-2 -4-1.5 -12-7 -34-10 -7.5-3.5 -16.5-11.5 -12.5-10.5 -18-18 -11.5-14 -10-14 -4-8 -4-10 -8.5-26 -6.5-26 -13-66 -12.5-20 -1-4 0.5-4 1 0 6 3 2-1 -2-6 0-4 2-4 2-0.5 5 2.5 13 11.5 0.5-1.5 -5.5-10 -3.5-8 0.5-2 2 0zM614 778l4-1 2 1 2 2 1 4 -0.5 6 -2.5 5.5 -4 5 -4 2 -4 0 -2-1.5 -1.5-3 -0.5-4 0.5-4 3.5-7 3-3z"/>
<path fill="#ff7a00" d="M463.5 456l0.5-1.5 4 1 2 0.5 4 4 26.5 32 1.5 2 0 2 4 5.5 6 5 18.5 23.5 33.5 36.5 0 1.5 2 3 0.5 3 1.5 1.5 0.5 2.5 1.5 2 3 8 1.5 2 5 12 2 2 0.5 2.5 2 1.5 0.5-2 -3.5-10 0-2 -1-2 0-4 6 4.5 22 26.5 3 7 3.5 4 1.5 4 0 2 2 4 4 0.5 2 1 4-0.5 2 2 2 0.5 2-2 6 9.5 2 4.5 1-1.5 1-13.5 10 33.5 2 4.5 2 1 0 22.5 -1 4 -1 26 -5 14 -3 13 -0.5-3 -2-2 -1.5-2 -2 0.5 -2 1.5 -1 2 -1 7.5 -2 0.5 -2.5-2 -2.5-4 -0.5-12 -1.5-8 -3-5.5 -2-2 -12-2 -16-8 -32-10.5 -7.5-4 -17-12 -12-10 -17.5-18 -10-12 -10-14 -8-16.5 -8.5-25.5 -9-36 -0.5-6 -10-48 -9.5-16 -2-4 -0.5-6 2-0.5 4 1.5 1.5-1 -3.5-10 0-4 2-3 2 0.5 4 2.5 4 4 11 12 41 51.5 6 6 2 1.5 0.5-1 -8.5-12 -36.5-48 -10-14 -3.5-8 2-0.5 1.5-1.5zM630 564l0-1 2 4.5 0.5 6.5 1.5 3.5 1 8.5 1 3.5 1 12.5 -0.5 2 -0.5 0 -0.5-8 -1.5-2.5 -0.5-7.5 -1.5-4 -0.5-10 -1.5-2.5zM612.5 780l3.5-1.5 2 0 2 1 2 3.5 0 5 -2 6 -2 3 -4 3.5 -4 1 -2-0.5 -2-2 -1-3 0-4 3-7.5z"/>
<path fill="#ff6f00" d="M467 460l1-1 6 3 8 9 16.5 21 3 6 24.5 34.5 2 2.5 2-1 2 1 8 7.5 24 26 2 3 0.5 2.5 1.5 2 0.5 2 1.5 2 3 8 1.5 2 3 8 6.5 12.5 2 0 0-0.5 -1.5-2 0-4 -1.5-2 -0.5-4 -1-2 0.5-4.5 4 3 22 26 2 3 0.5 2.5 3.5 4 1.5 6 2.5 4.5 4 0.5 4 3.5 2 0.5 4 3.5 4 1.5 6 7 2-1 0-9 1 3 1 1 8 25.5 2 4 2 0.5 0 21 -1 4 -1 24.5 -4.5 13.5 -3.5 14 0-2 -4-4 -2 0 -2 1.5 -1.5 2.5 -0.5 7 -2 0.5 -2-1.5 -2.5-4 -0.5-12 -1.5-8 -2.5-6 -3-3 -14-3 -14-7 -20-7 -9.5-4 -10-6 -14.5-10 -11.5-10 -17.5-18 -11-13.5 -9-12.5 -5-10 -6-15 -6-20 -5.5-23 -4.5-8 0-4 1-4 0-2 -8-38 -10.5-18 -1.5-4 -0.5-4 0.5-2 7 2 -5.5-14 -0.5-2 0.5-4 1.5-1 2 1 7 6 53 65.5 6 5.5 2 1.5 1.5-0.5 -3-6 -4.5-6 -48-64 -2-4 0-2 2 0.5 0.5-0.5zM615 780l3 0 2.5 2 1 4 -1 4 -1.5 4 -3 4 -3.5 2 -2.5 0 -2-1 -1.5-3 0-6 3.5-6.5z"/>
<path fill="#ff6400" d="M471 466l1-1 2 1 6 5.5 6 6.5 12.5 16 2.5 6 24 34 7 7 4 0.5 6 5 24 26.5 0 1 2 2 0 2 4 7 0.5 3 1.5 2 10 22 2 2 0.5-4 -1-2 -0.5-4 -1.5-2 -0.5-4 -1-2 0-2.5 6 5.5 22 26 4 6.5 1 4.5 3 5 4.5 1 3.5 6 6 4 4 3.5 6 3.5 2 0.5 2-4 8 23.5 1.5 3 2.5 0 0 20 -1 4 -1 23.5 -4.5 12.5 -3.5 13.5 -4-4 -4 1.5 -1.5 3 -0.5 7 -2 0 -1.5-1 -2.5-4 -1.5-18 -1.5-6 -3-5 -2-1.5 -14-3.5 -10-5 -26.5-11 -10.5-6 -11-8 -15.5-12 -18.5-19 -12-14 -10-15 -4-8.5 -6-16 -9.5-35.5 -8.5-13 0-3.5 2-2.5 2-1 -0.5-4 -5.5-28 -2-4 -10-15 -2.5-5 -1-6 1.5-1.5 6 3 1-1.5 -7-14 -0.5-6 0.5-1 2 0.5 8 7.5 52 64 8 6 1.5-1 -6.5-12 -41-54.5 -0.5-1.5 0.5-2 -2 0.5 -0.5-0.5 1-4zM620 645.5l0 2 2 0.5 0.5-2zM613.5 782l2.5-1 2.5 1 1.5 3 0 4 -2 5 -2 2.5 -2 1.5 -4 0.5 -2.5-2.5 0-6 2.5-5z"/>
<path fill="#ff5d00" d="M456 476l4 2.5 8 9 37 46.5 11 12.5 8 5.5 2 0.5 0-0.5 -7-16 -0.5-2 1.5-0.5 2 2.5 6 3.5 8 7 4 1 6 6 22 24 0.5 2.5 1.5 1.5 0.5 2.5 1.5 1.5 0.5 2.5 1.5 2 3 8 1.5 2 5 12 2 2 0.5 2.5 2 1 0-3 -4.5-14.5 0.5-2.5 2 1.5 26.5 31 5.5 11.5 4 2 0.5 0.5 -0.5 0.5 -2 0 -1 1.5 1 3 2 0.5 2-3.5 4 6.5 6 4 2 3.5 2 1.5 2 0.5 4-1 2-2.5 2 3.5 6 19 0.5 1 3.5 0.5 0 19.5 -1.5 4 -0.5 22 -5 14 -3 11 -2 0 -2-2 -4 1.5 -1.5 3.5 -0.5 6.5 -2.5-0.5 -3-4 -1.5-20 -2-6 -3-5 -2-1 -9-2 -5.5-2 -29-14 -13-8 -19.5-15 -10.5-9 -19.5-20.5 -10.5-13.5 -6.5-12 -6.5-18 -2.5-12 -1-14 -1-2 -15-16 -2-4 -0.5-4 1.5-1.5 2 1 13 8.5 3 1 3-9 2-4 0-2 -1-2 -27-30 -9-12 -4-6 -1.5-8 1.5-1 4 3 8 6.5 1-0.5 -11.5-18 -1.5-4zM481 480l1-1.5 14 15 1 2.5 0 6 -1 0 -2.5-2zM499 506l1-1 2.5 3 8 12 0.5 2 -1 0.5zM613.5 784l2.5-0.5 1.5 0.5 1 4 -0.5 3 -2 3.5 -2 1.5 -2 0.5 -2-0.5 -1-4 1-4.5z"/>
<path fill="#ff5200" d="M463 486l1 0 4 4 39 48 9 9.5 12 8 0.5-1.5 -3-6 -1.5-5 2-0.5 4 1 10 9 4 1.5 12 12.5 14 16 0 1.5 2 2 0 2 4.5 8 0 2 1.5 2 3.5 8 6.5 12 1.5 0 -1-6 -1-2 -0.5-4 -1.5-2 0-4 0.5-0.5 26 30 4.5 8.5 3 4 -1 2 1.5 4.5 2 0 2-2.5 6 9 4 2 4 7 2 0.5 2-1 2-3 2-0.5 2 2.5 5.5 17.5 4.5 1.5 0 18.5 -1.5 4 -0.5 20 -5 14 -3 11 -0.5 1 -1.5 0.5 -2-2 -2 0.5 -2 1 -1.5 2 -0.5 8 -2-0.5 -2-1.5 -1-2 -2-22 -2-6 -3-4.5 -2-1.5 -9-2 -7-3 -21.5-11 -15-10 -21.5-17 -10-9 -20-21 -8.5-11 -5-10 -6-18 -2-10 -1-12 -3.5-5 -10.5-11 -0.5-2 0-2 1-1.5 10 5.5 4 1 1-1 1-6 2.5-6 0.5-2 -0.5-2 -6-8 -30.5-34 -4-6 -2-8 2 0 4 3.5 34 37 4 3.5 0-2 -36-45.5 -4-6.5 -1-4z"/>
<path fill="#ff4700" d="M502.5 538l1.5-1 11 11 15 11 1-1 -4-10 1-2 6 2.5 20 18.5 18 20.5 0.5 2.5 3.5 5.5 0.5 2.5 1.5 2 3 8 7 14 2 1.5 0.5-3.5 -1.5-6 -1-2 0-5.5 26 30 4 7.5 1.5 6 0.5 1 2 0 2-1.5 6 9.5 2 2 2 1 4 8 4 1.5 1-5.5 1-2 2 1 2 2 5 15 5 2 0 18 -1.5 4 -0.5 18 -5 14 -3.5 12 -1.5 2 -2-2 -2 0 -3 2 -0.5 2 -0.5 7 -2-0.5 -2-2.5 -1-16 -1.5-8 -2-6 -3.5-5 -2-1 -10-2.5 -7.5-3.5 -18-10 -14.5-10 -32-27 -20-21 -7.5-10 -4-8 -6-18 -2-8 -1-10 -6-10 -0.5-2 1-4 4 0.5 2.5-0.5 1.5-8 2-6 0-2 -4-8 -1-4 1-1 2 0.5 4 2 1.5-1.5 -3-6z"/>
<path fill="#ff3f00" d="M512 548l4 2 11 8 11 11 0.5-1 -8.5-14.5 -0.5-3.5 0.5-0.5 4 2 7 4.5 33 37 2 3 0 2 2 3 0.5 3 2 2 0 2 1.5 2 3.5 8 4.5 7.5 2 1.5 0.5-1 -1.5-8 -1.5-2 0.5-4 26 29.5 3 8.5 1 1.5 2 0 2-0.5 8 13 2 1 2 2.5 4 8.5 2.5 0 1.5-10 3 2 3 5.5 2.5 8.5 1.5 1 4 2 0 17 -1.5 4 -0.5 15.5 -10 29 -2-2 -2 0.5 -2 1 -2 2.5 -2 0 -2-5 -1-9.5 -1.5-8 -3-6 -2.5-3 -2-1.5 -8-2 -8-3.5 -17-10 -15-10.5 -30.5-25.5 -19-20 -8-10 -4-8 -4.5-12 -3.5-12 -2-10 -4.5-8 -0.5-2 0.5-4 4-0.5 1.5-1.5 1-8 2-6 -2.5-8.5 2-2.5 4-0.5z"/>
<path fill="#ff3400" d="M514 552l2-0.5 2 1 9.5 7.5 6 6 16.5 19 1-1 -1-1.5 -14.5-20.5 -3.5-8 6 1.5 4 2.5 20 25.5 16 18.5 0 2 2 2 0.5 2 2.5 6 7 12.5 2 2 1.5-0.5 0-4 -1.5-2 0-4 24 27 4 7 2 1.5 2-0.5 2 2 6 10.5 4 4 5 12.5 3 0 0.5-12 1.5-1.5 4 7 2 6.5 2 1.5 4 2 0 16.5 -1.5 2 0 2 -0.5 13 -8 22 -2 4 -10-1 -4.5-18 -2.5-4 -3-3.5 -2-1.5 -10-3.5 -7-3.5 -19-12 -11-8 -29-24.5 -18-18.5 -8-10 -6-12 -5-15 -2.5-10 -4.5-8 -1-4 1-4 4 0 1-2 2-14 -2-8 1.5-2 3.5-1zM558 594l0 4 2.5 4 23.5 32 16 19 1-1 -1.5-2 0.5-2 -2 0 0-2 -4-4 -0.5-2 -7.5-8 -5.5-8 -0.5-2 -17.5-24z"/>
<path fill="#ff2900" d="M517.5 554l2.5 1 6 5 18 20 11 14 2.5 6 10.5 14 23.5 30 14.5 17.5 2 1 1.5-0.5 -1-4 -44-58 -5.5-6 -21.5-30 -2-4 0-2 2.5-0.5 2 0.5 4 4.5 35.5 45.5 12.5 22 2.5 2 1.5-3.5 23.5 25.5 2.5 1.5 4 1 8 14 2 1.5 3.5 10 2.5 1 2.5-1 0.5-10 1-2 4 7.5 1.5 4.5 6.5 4.5 0 15.5 -1.5 2 -0.5 12 -8 20 -2 0.5 -10-1 -4-11.5 -2-4 -3.5-4 -25-14 -15-10 -10-8 -26.5-22 -18-19 -6-7.5 -6-11.5 -6-20 -8-12 0-4 2-1.5 4 0 1-0.5 1.5-14 -3-8 0-2 2-2 2.5-0.5 0.5-3.5z"/>
<path fill="#ff2200" d="M518.5 558l1.5-1.5 4 2.5 15 17 14.5 18 4.5 8 13.5 18 25.5 32 11 13 2 1.5 2-1 0.5-1.5 -2-4 -16.5-23 -6-7 -21-28 -17-22 -10-14 -2.5-4 0.5-2 12 12 8 10 26 35 8 15 6 4.5 14 20 6 0 2 0.5 2 2 4-0.5 9.5 15.5 3 8 1.5 1 2 0.5 3-1.5 0-8 1-2.5 3.5 6.5 1 4 6 4 1.5 2 0 14 -1.5 2 -0.5 9 -6 13.5 -2 1.5 -12-1.5 -3.5-6.5 -3.5-4 -13-10 -8.5-10 -4.5-8 -1-4 -1-2 -1-10 -4-4 -2 0 -6-6 -2 0 -8-8 -2 0 -6-6 -2 0 -8.5-8 -1.5 0 -6-6 -2 0 -8-8 -2-0.5 -8-7.5 -6-4.5 -14.5-15.5 -2-4 0-4 0.5-0.5 4 1 8 4 4 3.5 2 0.5 2 1.5 6 6 2 0 10 10 2 0 12 12 2 0 12 12 2 0 -24-24 0-2 -24-24 -11-14 -3.5-6 -2-4 2.5-3 2.5-1z"/>
<path fill="#ff1600" d="M521 560l1-0.5 4 2.5 18.5 22 9.5 12.5 3 5.5 41 52.5 1 1.5 -1 1 -60-63 -18-19.5 -2.5-4.5 0.5-2.5 3-1.5 0.5-2zM513.5 594l3 0 13.5 10 24 19.5 50 43 0.5-0.5 1-2 0.5 0 6 5.5 2.5-1.5 0-2 -1.5-4 1-1 2 1 4-1.5 6 0 2 1.5 2 3 4.5 9 3.5 8.5 2 1.5 2 0.5 3-2.5 1-2 -0.5-4 0.5-3.5 3.5 9.5 6 4 2.5 4 -0.5 12 -1.5 2 0 5 -4 9 -2 2 -2 0 -12-1 -15.5-13 -3.5-4 -4-6 -4-10 -0.5-8 -4.5-6 -56-43.5 -22-18 -11-10.5 -1-2zM567.5 600l0.5-1 2 1.5 14 18 4.5 7.5 0 2 -0.5 1 -14-19zM597 640l1-1 1 1 -1 1.5zM599 642l1-0.5 1 2.5 -1 0.5z"/>
<path fill="#f60b00" d="M524 564l2 0 2 2 12 14 14 18 3 6 12.5 16 -1.5 0.5 -0.5-0.5 -30-34 -4.5-6zM527 606l2 0 3 2 18 14 18 16 2 2 0 2 -2 0 -26-20 -13.5-12 -2-2zM621.5 664l2.5-0.5 4 0 4 6.5 5.5 12 1.5 2 3 1 2-1 4-5.5 2 4.5 5 3 1.5 2 1 4 -1 10 -2.5 8 -2 2.5 -2 1 -2 0 -12-0.5 -4-1.5 -8-6 -6.5-7.5 -3.5-8 -2-10 -4-6.5 1-3.5 1-0.5 4 3 1-0.5 2-2 0-2 -1.5-2 0.5-1.5 2 1z"/>
<path fill="#ed0400" d="M627 666l3 1.5 8 16.5 4 1 2-0.5 4-4.5 2 3.5 4 2.5 1.5 2 1 4 -0.5 7 -2 5.5 -2 2 -14-0.5 -4 1.5 -4-0.5 -6-5 -4.5-6 -2.5-6 -2-8 -2.5-4 -1-4 0.5-1 4 1.5 1.5-0.5 1.5-2 -1-4 2 0.5 4-2z"/>
<path fill="#df0000" d="M624.5 670l3.5-1 2 0 8 16 2 0.5 4-0.5 4-3.5 2 3 2.5 1.5 2.5 4 0.5 2 -1.5 6.5 -2 1.5 -14-0.5 -6 4 -2-0.5 -4-2.5 -4.5-6.5 -6.5-16 -0.5-2 1.5-0.5 2 1.5 2-1 1-2 -0.5-2z"/>
<path fill="#d10000" d="M627.5 672l2.5-0.5 2 2 4.5 10.5 3.5 3 2 0 4-3 2-0.5 4 4.5 1 4 -1 1 -12-0.5 -2 0.5 -6 6 -2 0.5 -2-1 -4-4.5 -6.5-14 0.5-1.5 2 0.5 2-0.5 2-4z"/>
<path fill="#c80000" d="M627.5 676l2.5-1.5 2 0.5 4.5 11 -2 6 -2.5 3 -2 0.5 -2-1 -8-12.5 4-0.5 2-4z"/>
<path fill="#bb0000" d="M629 680l3-2 2 4 0 1.5 -2 4.5 0.5 2 -0.5 2 -2 0.5 -3.5-2.5 -3-4 0.5-1 1-1 3 0 -0.5-2z"/>
<path fill="#30ffc7" d="M574 80.5l1.5-0.5 17 0 0.5 0.5 0 3 1 1 0 1 -2.5 2.5 -2.5 0.5 0 4 -1.5 0.5 -2-3 -3 0 -1.5-1.5 0-4 -0.5-1.5 -1-0.5 -1.5 2 -1.5 0.5 -1.5-1.5 0-2zM597 80.5l2.5-0.5 1.5 0.5 0 1 1 1 0 4 -0.5 1.5 -3.5 2.5 0 5 -1 1 0 4 -2.5 1 -0.5-1 1-1 0-2 -1-3 2-4 0-4 2-1 0-1 -1-1zM603 80.5l0.5-0.5 1.5 0.5 -0.5 2.5 -1.5-0.5zM616 80.5l1.5-0.5 12 0 0.5 1.5 2 1 0.5 3 -0.5 3 -2.5 0.5 -0.5 0.5 1 3 0 5 -2.5 2.5 -4 0 -2-2 -1 0 -3 1 -2.5-2.5 0-2 1.5-2.5 1 0 2 3 1 0 2.5-3.5 3-1 -0.5-1.5 -2 0 -2-1.5 -3 1 -1-0.5 -0.5-2.5 -1-1zM627.5 82.5l-0.5 1 0 4 1.5 1.5 0.5-1.5 0-4zM637 80.5l1 0 0 2 1 1 1 3 0 4 -2 2 -0.5 2 -1.5-1 1-3 0-2 -1-1 0-1 1-1zM610 81.5l0.5-0.5 1.5 0.5 0 11 -3.5 3 0.5 2 2 2 0 4 1.5 1.5 2.5 0.5 0 7 0 1 -3 3 0 6 -2 2 0 4 -4 4 -1 2 0 4 0.5 1 1.5-1 0.5-1.5 1 0 1 1 0.5 0.5 0 4 2 3 -1 1 0 2 -1.5 1 -1.5-2 1-1 0-3 -1.5-1 -1.5 1 0 3 1 1 -0.5 2.5 -1 1 -2 0 -1-0.5 -1 0.5 -1 0 -0.5-2.5 -2-3 0-4 0-1 2-2 1-2 0-1 -4-4 0-3 1-2 1.5-1 4 1.5 1 0 2-2 0.5-1.5 -1-3 1-1 0-2 0-1 -2-2 0-3 2.5-2 3 1.5 1 0 1-1.5 -0.5-3 -3-2 -2-4 0-4 -1-2 -2-2 0-1 0-1 1-1 2.5-0.5 2.5-2.5 0-3 -0.5-1zM602.5 95.5l0.5 2 0 6 -1.5 1.5 -1 0 -1.5-1.5 0-2 2-1 0-3zM581 96.5l1.5-0.5 1.5 1.5 0 2 1 1 0.5 2.5 4 0 1.5 1.5 0 5 -1 1 0 2 -1.5 2.5 -1.5-0.5 0-7 -1-1 -0.5-2.5 -1 0 -3 3 -3 1.5 -0.5-2 -1-1 0-6 0.5-1 2 1zM631 98.5l0.5 0 1.5 1 1 2 0 3 1 1 0 1 -2 1 -1 2 0 5 -1 2 0 6 -1.5 0.5 -0.5-0.5 -1-2 0-3 -1.5-1 -1.5 2 0 1 0 2 2 4 2.5 0.5 2 2 1 0 0.5 2.5 -4 4 0 6 -1.5 1.5 -2 0.5 -3.5-2 0-1 1.5-3 -1-1.5 -1.5-0.5 0-1 0-9 2-2 0-2 1-1 0-1 -1-2 0-4 -3-3 0-3 1.5-1 1 0.5 1.5 2.5 0 2 3.5 3.5 1 0 1.5-2.5 0-4 1-1 0-4 -1-3zM639.5 112.5l0.5 1 -0.5 4 -0.5-3 -0.5-1zM594.5 114.5l0.5 1 0 3 -1.5 0.5 -0.5-2.5zM580 115.5l0.5 0 1.5 1 2 4 0 2 -0.5 1.5 -2 0 -2.5-2.5 0-5zM600.5 115.5l2.5 3 0 1 0 1 -1 1 -2.5 1 -0.5-1 0-4 0-1zM588 117.5l1.5-0.5 1.5 1.5 1 2 -0.5 4 -0.5-1 -3-3zM618 118.5l0.5-0.5 1.5 0.5 0 6 -2.5 1.5 -0.5 3.5 -1.5 0.5 -1.5-1.5 0-3 -1-1 0-2 1.5-1.5 3-1zM634 119.5l1.5-0.5 1.5 1.5 0 3 -1.5 1.5 -1.5-0.5 -1-2 0-1zM592.5 125.5l0.5 3 2 3 0 2 1 1 0 9 -1.5 1 -1.5-1 -0.5-3.5 -1-1 -1.5 0.5 -1 1 0 5 -2 2 0 5 -1.5 0.5 -3.5-4.5 0-4 2-3 0-2 0-1 -1-1 -1.5 0 -0.5-4 -1-1 0-3 1.5-1 1 0.5 0.5 0.5 0 4 1.5 1.5 2 0 1 1 2 0 0.5-1.5 0-4 1-1 0-2 1-1zM635 132.5l1.5-0.5 0.5 0.5 1 2 0 2 2 2 0 2 -1 1 -0.5 2 -2-0.5 -1.5 1.5 0 3 3 2 0 2 -1.5 0.5 -5 0 -0.5-2.5 -1-1 0-3 4-3 0-6 1-1zM614 143.5l1.5-0.5 2.5 2.5 0 3 -1.5 1.5 -1.5-0.5 -2-3 0-2zM624 145.5l1.5-0.5 0.5 1.5 -2 3 -1.5 0.5 -0.5-0.5 0-2zM619.5 149.5l1 1 -1 1 -0.5-1zM595 151.5l1.5-0.5 2.5 1.5 0 1 -1 1 0 3 1 2 3 3 0 3 4 3 0 3 1 1 0 2 -0.5 0.5 -1 1 -2.5 0.5 0 3 1 1 0 2 0 1 -2 1 0 1 0 7 2 2 0 6 1.5 0.5 0.5-1.5 1.5-1 1 0.5 0.5 1.5 3 2 0 2 -2 2 0 1 2.5 0.5 2 2 3.5 1.5 0 2 -0.5 1.5 -3-1 -2 3 -2 0 -1.5 1.5 0 2 2 2 0 3 -0.5 2 -2.5-4 0-4 -0.5-1 0.5-1 0-4 1-1 0-3 -2.5-2.5 -1.5-0.5 -3-3 -1-2 0-5 -4.5-2.5 -1.5-1.5 -1.5-3.5 -1 0 -2.5 1.5 0 2 -1.5 2 -0.5-2 -1-1 0.5-2 1 0 1.5-3 -0.5-3 -2 3 -0.5-2 -1-1 0-7 1-1 0.5-2.5 4 0 1.5 2.5 1.5 0.5 1.5 1.5 0 3 -1 1 0 2 0 1 1.5 1.5 1 0 1-1 1.5-2.5 0-2 -1-1 0-5 -1-2 0-5 1-2 0-2 -2-2 0-4 -2.5-0.5 -1.5-1.5 0-1 2-2zM609.5 156.5l2.5 4 0 4 -1.5 1.5 -4 0 -0.5-1.5 0-5zM634 156.5l0.5-0.5 1.5 0.5 0 2 -0.5 1.5 -1.5-0.5zM620 157.5l1.5-0.5 2.5 2.5 1 5 1 1 0 2 2.5 2 1 0 1 0.5 0.5 2.5 2.5 2.5 1 0.5 2.5-3 0-1 1.5-1 0.5 2 -1 1 0 4 -1.5 1 -1 0 -2 3.5 -1.5-0.5 0-1 -3-3 0-1 -3-3 0-2 -3-5 -1.5-0.5 -1 1 -2 0 -2.5-1.5 0-4 1.5-2.5zM629 157.5l0.5-0.5 1.5 0.5 0 4 -0.5 1.5 -2 0 -1-1.5 0.5-1 0-2zM584.5 160.5l1 2 -1.5 0zM637 181.5l0.5 0 1.5 1 0 4 -0.5 1.5 -1 0 -1.5-2.5 0-3zM616.5 184.5l1.5 3 3 3 1 3 2 2 0 2 1 1 0 2 -0.5 1 -1.5-1 -0.5-1.5 -1 0 -2 3 -2.5 0.5 0 4 -1.5 0.5 -0.5-2.5 1-1 0-2 1-1 0-5 1-2 0-3 0-1 -1.5-1 -1.5 1 -0.5 1 -0.5-3 0-1zM605 187.5l1.5-0.5 1.5 1.5 0 1 -1.5 1 -1.5-1zM631 197.5l0.5-0.5 1.5 0.5 0 2 -1.5 1.5 -2 0 -0.5-1.5zM635 199.5l1.5-0.5 1 1.5 -1 1.5 -1 0zM590 200.5l1.5-0.5 2.5 0.5 0 4 1 1 0 2 1 2 0 1 -1.5 1 -1.5-1 0-3 -3-2 0-3 -0.5-1zM619 206.5l0.5-0.5 1.5 0.5 0 2 -0.5 1.5 -1.5-0.5 -0.5-2zM598 211.5l0.5 0 1 0.5 0.5 1.5 0 3 -1.5 1 -2.5-2 0-1 0-1zM626 211.5l2.5 0.5 1-1 1 0 1.5 2.5 0 1 -3.5 6.5 -3 0 -0.5-2.5 -1-1 0-3 1-2zM616 219.5l1.5-0.5 0.5 1.5 0 1 -1.5 2zM594 220.5l1.5-0.5 1.5 1.5 0 2 -1.5 1.5 -1.5-0.5 -0.5-2zM596 226.5l1.5-0.5 1.5 1.5 -0.5 4 -0.5-1 -2-2zM635 227.5l0.5-0.5 1.5 0.5 0 2 -1 2 0 8 0 1 2 2 0 1 -1.5 1.5 -2 0 -3 1.5 0.5 2 0 3 -1.5 1.5 -1.5-0.5 -1-3 -1-1 -1.5-0.5 -1.5 2.5 0 3 -1.5 0.5 -1.5-1.5 0-7 2.5-2.5 3 1 3.5-0.5 0-2 2-2 0-4 0-1 -1.5-1 -1 0.5 -0.5-0.5 0-1 1-1 0.5-2.5zM614.5 230.5l1.5 1 -0.5 3 -1.5-2zM599 234.5l1.5-0.5 2 1 1.5 1.5 0 1 -3 4 -3 2 -1 2 0 2 2.5 0.5 3-1 2.5 2.5 0 4 -1 1 0 3 0 1 2 3 0 1 -1.5 1 -1.5-1 0-7 -2.5-2.5 -2 0 -3.5-3.5 0-5 -1-1 0-3 -1-1 0.5-3 2 3.5 1 0.5 1-0.5 1.5-1.5zM616 235.5l0.5-0.5 1.5 1.5 -0.5 2 -1.5-1zM638 237.5l0.5-0.5 1.5 0.5 0 2 -0.5 1.5 -1.5-0.5zM605 240.5l1.5-0.5 0.5 2.5 1.5 1 2-2.5 2 0 1 0 3 3 0.5 1.5 0 6 1 2 -0.5 1.5 -1 0 -0.5-1.5 -2.5-2.5 -1 0 -1.5 1.5 -0.5 2.5 -1 0 -1-1 -0.5-1.5 1-1 0-4 -1.5-1.5 -2.5-0.5zM635 253.5l1.5-0.5 2 4 2.5 0.5 0 8 -0.5 1 -1.5-1 0-6 -1.5-1.5 -3.5-1.5 0-2zM615 264.5l0.5-0.5 1.5 0.5 0 1 -1 1 0 4 -2.5 0.5 -1.5-1.5 0-3 1.5-1.5zM634 265.5l0.5-0.5 1.5 0.5 0 3 1.5 1 2-1.5 1 0 0.5 0.5 0 8 1 3 0 9 -0.5 2 -2-3.5 -1 0 -1 0.5 -1.5-1 0-1 2-2 0-3 -1-2 0-2 -1-1 0-3 -1-1 0-3 -1-1zM627.5 270.5l0.5 1 -2 3 -3.5 2.5 -1-1 -0.5-1.5 0-2 1-1 1.5-0.5 1 1 1 0zM607 274.5l1.5-0.5 1.5 1.5 -0.5 2.5 -1 0 -1.5-1.5zM632.5 275.5l1.5 1 0 1 -1.5 1.5 -1 0 -0.5-1.5zM614 277.5l1.5-0.5 1.5 1.5 0 1 -3 2 -0.5 3.5 -1 1 -2.5 0.5 0 3 1.5 1.5 1 0 2-3 1 0 2.5 2.5 1.5 3 1.5-2 0-5 1-1 -2-3 0-2 1.5-2.5 1 0 0.5 1.5 0 6 3 4 0 2 1 2 3 4 0.5 0.5 1.5-0.5 0-8 1.5-2.5 1.5 0.5 0 5 0.5 1.5 1 0.5 2-0.5 1.5 0.5 0 1 -1.5 2 -3-1 -0.5 2 -1 1 0 2 -1.5 0.5 -2.5 2.5 0 2 1 1 0 2 2 2 0 1 -1 1 -0.5 2.5 -4-1 -0.5-0.5 0-3 1-1 0-2 -2-6 0-2 1-2 0-3 -0.5-0.5 -4-1 -2 3 -1 0 -2-3 -6 0 -1 0 -2 1.5 -1.5-1 -2-4 0-3 1.5-1.5 3.5-1.5 1-3zM606 298.5l2.5-0.5 1.5 0.5 0 3 -2 3 -0.5 2 -1.5-1 0-5 -0.5-1zM638.5 303.5l0.5 1 0 2 -1.5 1 -0.5-2zM615 305.5l0.5-0.5 1.5 0.5 0 2 -1.5 1.5 -2 1 -1 0 -0.5-2.5zM626 315.5l0.5-0.5 0.5 0.5 0 1 0 5 0 1 -1.5 1 -1.5-3 0-2 0-1zM604.5 316.5l1.5 2 0 1 -1.5 2 -0.5-2zM616 324.5l1.5-0.5 3 1 1-0.5 0.5 1 0 1 -1 1 0 2 1.5 1 2-1.5 1 0 1.5 1.5 0 1 -1.5 1.5 -3 0 -1-1 -1 0 -2 1 -1 0 -0.5-2.5 -1-1zM634.5 325.5l0.5 1 -2.5 2 -0.5-1zM641 326.5l0.5-0.5 1.5 0.5 0 3 -1 1 0 2 0 1 2 1 -0.5 2 -4.5-1 0-2 2-3zM611 339.5l0.5-0.5 2 0 2.5 2.5 0 3 -1 1 0 2 -1.5 1 -3-2.5 -1.5-2.5 1-1 0-2zM617.5 339.5l1 0.5 1.5 1.5 -0.5 2.5 -1 0 -1.5-2.5zM632.5 342.5l1 1.5 1 0 2-1.5 3 2.5 1 0 0.5 1.5 0 1 -2 3 0 5 -1 1 0 4 -2 1 0 4 -2.5 0.5 -1 1 -1.5-0.5 0-6 -2-3 0-1 0.5-1 3 2.5 2 0 1.5-0.5 1-1 -1-2 1-2 0-3 0-1 -1.5-1 -1.5 1 -0.5 1.5 -1.5-0.5zM623.5 352.5l0.5 1 0 2 -1.5 0.5 -0.5-1.5zM643.5 352.5l0.5 1 -0.5 3zM615 353.5l1.5-0.5 2.5 2.5 0 3 -2.5 4 -1.5-1 0-2 -1-1 0-3zM609 357.5l1.5-0.5 2 1 1.5 2.5 0 1 -1 1 0 3 -1.5 2 -1.5-2 0-6 -1-1zM622 362.5l0.5-0.5 1.5 0.5 0 4 2 3 0 4 0 1 -1.5 2.5 -1 0.5 -1-0.5 -1.5 0.5 0 1 2 2 1 2 0 1 -2 2 0 2 1 2 0 2 1 1 0 5 -1.5 1.5 -1 0 -1 0 -2.5-1.5 0-5 -2-2 -1.5-0.5 -1.5-1.5 0-7 0-1 1.5-1 2 2 1.5-1 0-2 1.5-3 -2.5-3 0-1 1.5-2.5 1 0 2 1.5 1.5-4 0-1 -1-1zM642.5 366.5l0.5 4 1 1 0 3 -2.5 2.5 -1 0 -1-2 -2.5-0.5 -1-2 0-1 4.5-0.5 0.5-2.5zM628 374.5l1.5-0.5 0.5 1.5 0 2 -1.5 1 -1.5-1 0-1 0-1zM629 383.5l0.5 0 2 1.5 3-1 2.5 2.5 0 2 -1.5 1 -1-0.5 -2 0 -3 1 -1.5-1.5 0-1 0-3zM642 391.5l0.5-0.5 1.5 0.5 0 8 -1.5 0.5 -3 0 -1.5-1.5 0-2 1.5-2.5 2.5-0.5zM635.5 392.5l1.5 1 0 2 -0.5 0.5 -1.5-0.5zM635 402.5l1.5-0.5 1.5 1.5 0 2 -1 1 -0.5 3.5 -1 0 -1.5-2.5 0-4zM643.5 408.5l0.5 1 2 1 0 1 -1 1 0 2 -1.5 1.5 -1 0 -0.5-2.5 1-1zM628.5 409.5l0.5 1 0 2 -1.5 1 -0.5-1 0-2zM636 417.5l1.5-0.5 4 0 0.5 1.5 -4 3 -1 2 0 2 -2.5 2 -1.5-1 0-4 1-1 0-2zM645 423.5l1.5-0.5 0.5 1.5 -1.5 0.5zM623 428.5l0.5 0 1 0.5 0.5 1.5 2 2 2.5 1.5 0.5 0.5 -0.5 1.5 -2 0 -2-2 -2.5-0.5 -1-3 0-1zM645 429.5l0.5 0 1.5 1 0 3 1 2 -0.5 2.5 -1 0 -2.5-2.5 0-5zM631.5 442.5l0.5 1 0 1 -1 1 0 3 -1.5 0.5 -1-0.5 0.5-2 1-1 0-2zM624.5 443.5l0.5 3 1.5 3 -1 0.5 -1 0 -1-1 -1-2.5 0.5-2zM638.5 453.5l0.5 1 0 3 2 3 0 1 0 1 -2 3 -0.5 3 -2-0.5 -1-1 -2 0 -2 3 -1 0 -1.5-2.5 -0.5-2.5 -2-2 -1 0.5 -1-1 3-0.5 1-0.5 2 1 3-2.5 1 0 1 1 2 0 0.5-1.5 -1-1 0-3 0-1zM644 465.5l0.5 0 1 0.5 1.5 1.5 0 6 1 2 0 6 1 2 -0.5 7 -0.5-4 -1-2 -3.5-1 -1 0.5 -2 0 -1.5-1.5 0-4 -1-1 0-2 1.5-1 0.5 2 1.5 1.5 1 1 2 0.5 0.5-5 -2-2 0-1 0-5zM631 474.5l0.5-0.5 2 0 1.5 1.5 0 1 -1 2 -2.5 2 -2.5-2 0-1 0-1zM645.5 505.5l0.5 1 0 3 -0.5 1 -1.5-1 0-1 0-2zM636 519.5l2.5-0.5 3.5 0.5 0 9 0 1 -1.5 2.5 -1 0 -1.5-2.5 0-1 1-1 0-2 -3-3zM647 533.5l0.5-0.5 1.5 0.5 0 2 -0.5 1.5 -1.5-0.5zM642 541.5l0.5 0 2.5 1 0 2 -1.5 1.5 -2.5-0.5 0-3zM634 545.5l1.5-0.5 0.5 0.5 -0.5 2 -1.5-1zM642.5 571.5l1.5 2 0 3 -0.5 1.5 -1 0 -1.5-1.5 0-4zM649 583.5l0.5 0 1.5 1 -0.5 1.5 -1 0 -1-1.5zM654.5 597.5l0.5 1 -0.5 2 -1.5-1 0-1zM655.5 607.5l0.5 1 0 3 -1.5 0.5 -2-0.5 0.5-2zM648 627.5l1.5-0.5 1.5 0.5 0 3 -1.5 2.5 -1 0 -1.5-1.5 0-3zM656 671.5l0.5-0.5 1.5 0.5 -0.5 2.5 -1.5-0.5zM656 677.5l1.5-0.5 0.5 1.5 -1.5 0.5z"/>
<path fill="#deff19" d="M594 80.5l0.5-0.5 2 0 0.5 0.5 0 2 -2.5 1zM631 80.5l2.5-0.5 2.5 0.5 0 1 -1 1 -1.5 0.5zM615.5 81.5l0.5 4 2 3 -0.5 2.5 -2 0 -0.5-2.5 -1-1 0-4zM592 87.5l1.5-0.5 2.5 0.5 0 2 -1 1 0 2 -1 2 0.5 2 -1.5 0 0-2 -1-1 0-2 -3-2 0.5-1.5zM603.5 88.5l0.5 1 -0.5 1 -1-1zM632 90.5l1.5-0.5 1.5 1.5 1 2 0 3 -1 1 -0.5 3.5 -2.5-2.5 0-2 0.5-1 -0.5-2zM613.5 92.5l0.5 1 0 1 -1 1 0 3 1 1 1 3 2 2 0 3 2 2 0 1 0 4 -2.5 2.5 -1 0 -2 1.5 -0.5-2 2-2 0-2 1-1 -1-3 0-1 1-1 0-1 -2.5-0.5 -1.5-1.5 0-5 -1-1 0-2 0-1zM605.5 95.5l1.5 2 -0.5 2 -1.5-2zM584 96.5l1.5-0.5 1.5 2.5 0 2 -1.5 1 -1.5-3zM629.5 98.5l0.5 3 1 1 0 2 -0.5 1 -2.5-2 0-2 1-1zM609.5 107.5l1 1 -1 1 -0.5-1zM594.5 110.5l0.5 1 0 2 -1.5 1.5 -2-0.5zM578 112.5l1.5-0.5 1 2.5 -2 1 -0.5-1zM587.5 115.5l1 1 -0.5 2 0 2 0.5 1 -0.5 1 0 2 2.5 5 -0.5 1 -0.5 2 -0.5-2 -3-2 0-3 1-1 0-1 -1.5-0.5 -1.5-1.5 0-2 3-3zM595.5 120.5l1.5 1 -0.5 2.5 -1.5-0.5zM612.5 123.5l1.5 2 0 1 0 5 -1.5 0.5 -1 0 -0.5-1.5 0-5zM599 134.5l0.5 0 1 2 -2 2.5 -1 0 -0.5-1.5 0-2zM617.5 141.5l0.5 1 -0.5 2 -1-2zM595 144.5l1.5-0.5 1.5 0.5 0 4 -1.5 2.5 -1 0 -0.5-0.5 0-2 -1-1 0-1zM587 149.5l1.5-0.5 2 2.5 -0.5 2 -1.5 1 -1.5-1 0.5-2 -0.5-1zM606.5 150.5l1 1.5 3.5 1.5 -0.5 3 -0.5-1 -1.5 0 -1-1.5 -1 0 -1.5 1.5 0 2 -2 1 -0.5 1.5 -3-3 -1.5-0.5 0-1 1.5-1.5 3 0zM583 152.5l0.5-0.5 1 0.5 -0.5 1 0 3 0 1 1 1 -1.5 1 -0.5-1zM629 152.5l1.5-0.5 2 2 1 0 1 0 1-2 3 0 1.5 1.5 0 2 -1.5 0.5 -1-1 -2 0 -2.5 3.5 -1.5 0.5 -1.5-2.5 -2-1 0-1zM621 154.5l1.5-0.5 1 2.5 -1 0.5 -2 0 -0.5-1.5zM594 157.5l0.5-0.5 1.5 0.5 0 2 1 1 -1 4 -1.5 1 -1.5-1 0-1 0-3 1-1zM625 157.5l1.5-0.5 0.5 1.5 -1.5 0.5zM587 158.5l0.5-0.5 1.5 0.5 0 2 1 1 -0.5 1.5 -2 0 -2.5-2.5 0-1zM621.5 166.5l1-0.5 0.5 0.5 1 1 -0.5 1 -1-0.5zM637 166.5l1.5-0.5 0.5 1.5 0 1 -1.5 1 -0.5-1zM585 170.5l1.5-0.5 1.5 0.5 0 1 -2.5 2 -0.5-1zM608 170.5l0.5-0.5 1.5 0.5 0 1 -1.5 1zM625.5 171.5l0.5 2 1 1 0 2 1 1 0 2 -2.5 1.5 -3-1 -1 1 -1 0 -1-1 -2 0 -0.5-2.5 0.5-1.5 1-0.5 3 0.5 1 1.5 1.5-1 1-2zM638 178.5l0.5 0 1 0.5 0.5 1.5 -1.5 0.5 -1-1 -2 1.5 -0.5-2zM624 184.5l2.5-0.5 2 2.5 -1.5 3 -1 5 -1.5 2 -0.5-2zM632 186.5l2.5-0.5 1.5 2.5 0 2 -1 2 1 3 -1.5 1.5 -1 0 -1.5-1.5 1-3 0-3 -1-1zM639.5 188.5l0.5 1 -0.5 3zM608 189.5l0.5-0.5 2 0 1 1 0.5 1.5 -1 1 0 3 3.5 0.5 1.5 2.5 0 1 -2.5 2.5 -1 0 -1.5-1.5 -0.5-3 -2 0.5 -3.5-0.5 0-2 1-1 -1-3zM589 195.5l1.5-0.5 0.5 1.5 0 2 -1.5 1 -0.5-1zM597 202.5l1.5-0.5 0.5 1.5 0 4 -1.5 2 -1.5-5 0-1zM628.5 205.5l0.5 1 -0.5 1 -1-1zM633 209.5l0.5 0 1 0.5 0.5 1.5 -1.5 2.5 -1 0 -0.5-1.5 0-2zM636.5 212.5l1 0.5 1.5 1.5 -0.5 1.5 -2.5-0.5zM593 214.5l1.5-0.5 0.5 0.5 -0.5 2 -1.5-1zM614 215.5l1.5-0.5 1 1.5 -1 1 -1.5-1zM598.5 220.5l1.5 2 0 1 0 1 -1.5 1 -0.5-1zM604 221.5l0.5-0.5 1 0.5 -2 2 -0.5-1zM626 223.5l1.5-0.5 1.5 1.5 0 1 0 3 -1 1 0 2 -1.5 1.5 -1 0 -0.5-1.5 0-5 1-1zM632 223.5l1.5-0.5 1.5 0.5 1 1 0 2 -2.5 1 -1-0.5 -0.5-1.5zM593.5 224.5l1.5 2 0.5 2 -1 0.5 -0.5 1.5 -1.5 1 -0.5-1 0-3 1-1zM617 225.5l1.5-0.5 0.5 1.5 0 1 -1.5 1 -1-1zM618 233.5l0.5-0.5 1 0.5 -0.5 1 -0.5 2zM611 239.5l1.5-0.5 0.5 1.5 -1.5 0.5zM617.5 239.5l1-0.5 1.5 1.5 0 2 -0.5 1.5 -1.5-0.5 0-3zM640.5 241.5l0.5 2 -1.5 0.5 -0.5-1.5zM625 248.5l1.5-0.5 0.5 1.5 -1.5 0.5zM618 250.5l1.5-0.5 1.5 1.5 0.5 3 -1 0.5 -2.5-1.5zM638 252.5l1.5-0.5 1.5 0.5 0 3 -1.5 1 -1.5-1zM598.5 254.5l2-0.5 1.5 0.5 0 2 -2 3 0 1 1.5 2.5 3 1.5 -1 1.5 -2 0 -1-0.5 -1.5 1 -0.5 8 -0.5-4 -1-1 0-1 0-6 2-3 0-4zM626 258.5l0.5 0 1.5 1 0 2 -0.5 1.5 -1 0 -1.5-1.5 0-2zM615 259.5l1.5-0.5 0.5 0.5 0 1 -1.5 1zM610.5 268.5l1 2 -1 0.5 -1-1.5zM628.5 275.5l0.5 2 -1.5 1.5 -1 0 -0.5-1.5zM635.5 277.5l0.5 1 0 3 -1.5 0.5 -1.5-1.5 0-1zM615 281.5l2.5-0.5 1.5 1.5 0 2 -1.5 1.5 -1.5-0.5zM635 289.5l1.5-0.5 1.5 0.5 0 3 -1.5 1 -1.5-2zM603.5 293.5l2.5 1 -0.5 2.5 -1 0 -1.5-1.5zM617.5 296.5l0.5 1 -0.5 2.5 -1 0 -0.5-1.5 0-1zM621.5 296.5l0.5 2 -1 1 0 1 -2 2 -0.5 6 -0.5-2 -1.5-2.5 -1 0 -2 2 -1 0 -0.5-1.5 0.5-1.5 3-1.5 1 0 2-0.5 1.5-1.5zM624 296.5l1.5-0.5 1.5 1.5 0 1 -1.5 0.5 -1.5-1.5zM640.5 296.5l0.5 2 -1.5 0zM639.5 306.5l0.5 1 0 2 -1.5 1.5 -1 0 -0.5-1.5 2-2zM625 307.5l0.5-0.5 1.5 0.5 0 4 -1 3 -1.5 0.5 -1.5-4.5 0-1zM616 309.5l1.5-0.5 0.5 0.5 0 1 -1.5 0.5 -2-0.5zM607 313.5l0.5-0.5 1.5 0.5 0 2 -1.5 2.5 -1 0 -0.5-1.5 0-2zM622.5 323.5l1-0.5 0.5 0.5 -0.5 2zM635 327.5l0.5 0 1.5 1 0 3 -1.5 1.5 -1 0 -0.5-1.5 0-3zM614 328.5l0.5-0.5 1.5 0.5 -0.5 2.5 -1.5-0.5zM614 335.5l0.5 0 1 0.5 1.5 1.5 -0.5 1.5 -2 0 -1-1 -1 0 -1 1 -1.5-0.5 0.5-2.5zM637 335.5l0.5-0.5 1.5 0.5 -0.5 2.5 -1.5-0.5zM642 337.5l0.5 0 1 0.5 0.5 1.5 0 2 -1.5 1 -1.5-3 0-1zM616.5 346.5l0.5 3 1 1 -0.5 1 -2.5-2 0-2zM641 349.5l0.5-0.5 1.5 0.5 0 1 -1.5 2zM610.5 354.5l1-0.5 2 0 0.5 1.5 -1.5 1.5 -1 0zM625 354.5l2.5-0.5 1.5 1.5 0 2 -1.5 1.5 -1 0 -1.5-1.5zM643 361.5l0.5-0.5 1.5 0.5 -0.5 2.5 -1.5-0.5zM627 364.5l2.5 0.5 0.5 1.5 -2.5 3.5 -1 0 -1-2.5 0.5-2zM614.5 366.5l1.5 2 0.5 2 -1 0.5 -1-0.5 -1 0 -0.5-1 1-1zM634.5 371.5l0.5 2 4 3 0 3 2 2 -0.5 1.5 -2 1 -3 0 -1-1.5 2.5-1 0-3 0-1 -3-2 0-2 -0.5-1zM616 373.5l0.5 0 1 1 -2 3 -2-0.5 -0.5-2.5zM643 383.5l0.5 0 1.5 1 -0.5 1.5 -1 0 -1.5-0.5 0-1zM642 387.5l0.5-0.5 1 0 1.5 1.5 0 1 -1.5 0.5 -2-0.5zM618.5 399.5l2-0.5 2 1 0.5 1.5 2 1 1.5 2 -0.5 1 0 3 -1.5 1.5 -1 0 -1-1 -1.5-3.5 -2-2 0-3zM618 411.5l1.5-0.5 2.5 2.5 0 2 -0.5 1.5 -2 0 -1.5-0.5zM638.5 413.5l0.5 2 -1.5 0.5 -0.5-1.5zM633.5 414.5l0.5 1 -0.5 1.5 -3 0 -1 1 -1-0.5 2-2 1 0.5 1 0zM625.5 418.5l0 1.5 -1 1 -1-0.5 0.5-1zM639 421.5l0.5-0.5 1 0.5 -1.5 3 1 3 -1 2 -1.5 1 -1.5-2 0-1 1-1 0-2zM628 424.5l0.5-0.5 2 0 0.5 1.5 -1.5 1.5 -2 1 -1 0 -0.5-2.5zM636 435.5l0.5 0 1 0.5 0.5 1.5 -1 3 -1.5 1 -0.5-2 -2-1 0-1 1.5-1.5zM626 437.5l0.5-0.5 2 0 0.5 1.5 0 2 -2.5 4 -1-0.5 -1-1.5 -1.5 1 -0.5 1.5 -1 0 -0.5-1.5 0-3 2.5-0.5zM640 439.5l1.5-0.5 1 1 1 0 1-1 1 0 1 1 1.5 2.5 0 4 -0.5 1.5 -1 0 -2-2 -3.5-0.5 0-3 -1-1zM636.5 446.5l2.5 1 0 2 0 1 -3 3 -0.5 2 -0.5-5zM622 450.5l1.5-0.5 0.5 1.5 0 1 -1.5 1 -0.5-1zM647 459.5l0.5-0.5 1.5 0.5 0 3 -0.5 1 -1.5-1zM641.5 460.5l1.5 1 0 4 -1 2 0 2 -1.5 1 -0.5-1 0-3 1-2zM638.5 481.5l0.5 1 0 3 -1.5 1 -0.5-1 1-1zM626.5 484.5l1.5 1 -0.5 5 -0.5-4 -1-1zM644.5 494.5l1.5 1 -0.5 2.5 -1.5-0.5zM635 496.5l1.5-0.5 1 1 1 0 1-1 1 0 0.5 1.5 0 2 -1.5 1.5 -2-0.5 -1 1 -0.5-2 -1-1zM634.5 503.5l1.5 1 -0.5 1.5 -1.5-0.5zM643 509.5l0.5 0 0.5 3 2.5 1 3-2 1 0.5 0.5 2.5 -0.5 2.5 -1 0.5 -2-1 -2 1 -1-2.5 -1 0 -1 1.5 -1-0.5 -1.5-4.5 1.5-1.5zM634 526.5l1 0 0 1 -0.5 1.5 -1-1.5zM635.5 529.5l0.5 1 0 4 -0.5 1.5 -1 0 -0.5-3.5zM640 536.5l0.5-0.5 1.5 0.5 1 2 -0.5 1.5 -2 0 -1.5-0.5 0-2z"/>
<path fill="#ff9c00" d="M638.5 127.5l1.5 1 0 2 -0.5 1 -1.5-1zM612 152.5l0.5-0.5 1.5 0.5 0 3 -0.5 1.5 -1.5-0.5zM621 169.5l1.5-0.5 0.5 0.5 1 2 -0.5 1.5 -1 0 -1.5-1.5zM591 213.5l0.5-0.5 1 1 0.5 1.5 0 2 -1.5 1 -0.5-1zM610 234.5l1.5-0.5 0.5 0.5 2 2 -0.5 1 -2.5-1 -1-1zM623.5 237.5l1.5 1 -0.5 1.5 -1.5-0.5zM639 251.5l1.5-0.5 0.5 1.5 -1.5 0.5zM618 258.5l1.5-0.5 1 1.5 -1 1.5 -1 0zM608 265.5l0.5 0 1 0.5 0.5 1.5 -1.5 2.5 -1 0 -0.5-1.5 0-2zM601.5 281.5l0.5 1 0 6 0 1 -1.5 1 -0.5-1 0-6 0-1zM603 293.5l1.5-0.5 0.5 1.5 0 1 -1.5 1 -0.5-1zM623 298.5l0.5-0.5 1.5 0.5 0 1 -1.5 1zM609.5 308.5l1.5 2 0 1 0 1 -1.5 1 -1-2zM611.5 322.5l1 0.5 1.5 1.5 -0.5 1.5 -1 0 -1.5-1.5zM623 335.5l2.5-0.5 2 0.5 -2 2.5 -3 0 -1 1 -1.5-0.5 0-2zM640 340.5l1.5-0.5 1 1.5 -1 1 -1.5-1zM621.5 345.5l1 1 -1 1 -0.5-1zM626.5 354.5l1.5 2 0 4 1 2 0 4 -1.5 1 -0.5-1 0-4 -2-2 0-1 0-4zM645.5 401.5l0.5 1 -0.5 3zM625.5 405.5l0.5 1 0 4 0 1 -1.5 2 -1.5-2 0-1 0-1 2-2zM639.5 408.5l1 0.5 0.5 1.5 0 3 -1.5 1 -1.5-1 0-1zM638 423.5l1.5-0.5 3 0 0.5 2.5 -1.5 0.5 -3 0zM628 427.5l1.5-0.5 0.5 0.5 -0.5 2 -1.5-1zM638 433.5l1.5-0.5 1.5 1.5 0 1 -1.5 2.5 -2 0.5 -0.5-2 1-1zM624 437.5l1.5-0.5 1.5 2.5 2 1 0 2 -1.5 2 -0.5-2 -1.5-2.5 -2 0 -2 1.5 -1-1 1-1.5 1 0zM630 455.5l1.5-0.5 0.5 0.5 -0.5 2 -1.5-1zM624 456.5l1.5-0.5 1.5 0.5 0 2 -0.5 1.5 -2.5-0.5zM646 459.5l0.5-0.5 1.5 0.5 0 3 -0.5 1.5 -1 0 -1.5-1.5 0-2zM636.5 482.5l1 0.5 0.5 1.5 2 2 2 1 0 2 -0.5 1.5 -1 0 -1.5-1.5 -2-5 -1-1zM645.5 488.5l0.5 1 -0.5 1 -1-1zM634 493.5l1.5-0.5 1.5 1.5 0 1 -1.5 1.5 -2.5-0.5 0-2zM628 494.5l2.5-0.5 0.5 1.5 0 4 -2.5 2 -0.5-1zM649.5 495.5l0.5 2 -1.5 0.5 -0.5-1.5zM641 497.5l1.5-0.5 0.5 1.5 0 13 -0.5 1.5 -3 2.5 -0.5-3 -2-3 0-2 1-2 0-5zM649 504.5l1.5-0.5 0.5 1.5 0 11 -0.5 1 -1.5-1 0-1zM631 517.5l2.5-0.5 0.5 1.5 0 1 -2.5 2 -0.5-1zM646 523.5l0.5-0.5 2 0 0.5 2.5 -3.5 2.5 -1 0 -0.5-2.5zM632 529.5l1.5-0.5 1.5 0.5 0 2 -0.5 1.5 -1 0 -1.5-1.5zM643.5 534.5l2.5 3 -0.5 2.5 -2 0 -1.5-1.5 0-3zM642 548.5l0.5 0 2.5 1 0 1 -1.5 1.5 -2 0 -1-1.5zM640 556.5l1.5-0.5 1.5 1.5 1 2 0 1 -1.5 1.5 -2 0 -1.5-0.5 0-4zM648 556.5l0.5-0.5 2 0 1.5 1.5 0 3 -1.5 1.5 -2 0 -1.5-1.5 0-3zM651.5 571.5l2.5 1 0 10 1 1 -0.5 1.5 -1.5-0.5 0-2 -1-1 0-4 -1-2zM639.5 578.5l2 0.5 1.5 1.5 -0.5 2.5 -2 0 -1.5-0.5zM640.5 587.5l0.5 1 -0.5 3zM646 588.5l1.5-0.5 2 2.5 2-1.5 1 0 0.5 2.5 1 1 0 1 -1 2 -1.5 0.5 -1 1.5 0.5 1 0 3 3 2 0 3 -1.5 1.5 -2.5-0.5 0-5 -1.5-0.5 -1.5-1.5 0-5 -1-1 0-2 -1-2 0-1zM642 600.5l1.5-0.5 1 2.5 -2 0.5zM647.5 614.5l0.5 1 2.5 2.5 2 0.5 0.5-2 1-1 0.5-0.5 1.5 0.5 0 3 1 2 0 5 -0.5 2 -1.5-2 -0.5-2.5 -5 0 -2-1 -1.5-1.5 0-5zM652 631.5l1.5-0.5 1.5 1.5 0 1 -1 1 -0.5 2.5 -1 0 -1.5-1.5 0-2zM648.5 635.5l1.5 1 0 3 -0.5 1.5 -1.5-0.5zM649 643.5l1.5-0.5 1 2 2 0 1 1 2.5 0.5 0 3 -0.5 1.5 -1 1 -3.5 0.5 -0.5 5 -0.5-7 -2-4zM658.5 659.5l0.5 2 0 4 -1.5 1.5 -1 0 -0.5-1.5 0-3 2-2zM656 682.5l0.5-0.5 1 0.5 -1 2z"/>
<path fill="#0004ff" d="M598 80.5l1.5-0.5 0.5 0.5 0 1 -1 1 0 1 -1.5 1 -0.5-1 1-1zM626 80.5l1 0 0.5 2.5 2.5 1.5 0.5 2 -1 0.5 -4.5-2.5 0-3zM608 84.5l1.5-0.5 0.5 0.5 0 2 -0.5 0.5 -1.5-0.5zM612 85.5l1.5-0.5 1.5 0.5 0 2 -0.5 1.5 -1 0 -2.5-2.5zM636 85.5l0.5-0.5 1.5 0.5 0 3 -0.5 1.5 -1 0 -1.5-1.5 0-2zM576.5 89.5l2 0.5 0.5 0.5 1 2 -0.5 1.5 -2 0 -1.5-0.5zM600 91.5l0.5-0.5 1.5 0.5 0 2 -0.5 1.5 -1.5-0.5zM624 92.5l2.5-0.5 0.5 1.5 -2.5 1zM637 92.5l0.5-0.5 2 0 0.5 1.5 -2.5 0.5 -1 2 -1 0 -0.5-2.5zM619 98.5l1.5-0.5 1.5 0.5 0 2 -0.5 1.5 -1 0 -2.5-1.5 0-1zM583.5 101.5l1 1 -1 1 -0.5-1zM604.5 103.5l1 0.5 1.5 2.5 -0.5 2.5 -1 0 -1.5-2.5zM627 104.5l0.5-0.5 1.5 0.5 -0.5 2.5 -1 0 -1-1.5zM596 109.5l0.5-0.5 1.5 1.5 -0.5 1.5 -1.5-0.5zM592 112.5l1.5-0.5 1.5 1.5 0 1 -2.5 0.5zM585 115.5l0.5-0.5 1.5 0.5 0.5 3 -1 1 -2-0.5 -1 1 -1 0 -1.5-1.5 0-1 2.5-0.5zM638 119.5l0.5-0.5 1 0.5 -0.5 2 -1.5 1 -0.5-2zM617.5 121.5l0.5 1 -1 1 0 1 1 3 -0.5 1.5 -1 0 -0.5-1.5 0-5zM620 134.5l0.5-0.5 2 0 0.5 1.5 -2.5 0.5 -1 1 -1-0.5zM633 138.5l1.5-0.5 0.5 1.5 -1.5 0.5zM602.5 140.5l2.5 1 0 1 -1 2 -1.5 1 -0.5-1zM587 142.5l1.5-0.5 0.5 1.5 -1.5 0.5zM595 145.5l2.5-0.5 0.5 2.5 -2.5 0.5zM630 145.5l0.5 0 1 1 -1 2 -1.5-1 0-1zM607 146.5l1.5-0.5 0.5 1.5 -1.5 0.5zM624 154.5l1.5-0.5 1.5 2.5 0 1 -1.5 0.5 -1.5 1.5 1 1 -0.5 2 -1.5-1 0-1 0-3 1-1zM614.5 156.5l1.5 1 -0.5 2.5 -1.5-0.5zM586 160.5l1.5-0.5 1.5 1.5 0 1 -2 1 -1.5 2 -0.5-2 1-1zM626 164.5l2.5-0.5 0.5 1.5 -2.5 0.5zM597 173.5l1.5-0.5 2.5 2.5 0.5 1 -0.5 1 -1.5 0.5 -1.5-0.5 -1-2zM625 174.5l1.5-0.5 1.5 1.5 0 1 -1.5 1 -1.5-1zM636 175.5l0.5 0 1.5 1 0 2 -0.5 0.5 -1 0 -1.5-1.5 0-1zM587 177.5l0.5 0 1 0.5 1.5 1.5 0 3 -1.5 1.5 -1 0 -1.5-1.5 0-4zM618 182.5l0.5-0.5 1.5 0.5 0 1 -1.5 1 -1-1zM624.5 184.5l0.5 1 -0.5 3 -2.5-1 0-1zM618 196.5l0.5-0.5 1.5 0.5 -0.5 2.5 -1.5-0.5zM631.5 203.5l1 0.5 1 1.5 -1 0.5 -0.5-0.5 -1-1zM616 205.5l1.5-0.5 1.5 1.5 -0.5 2.5 -1 0 -1.5-1.5zM610 211.5l1.5-0.5 0.5 1.5 -1.5 0.5zM638 223.5l0.5-0.5 1 0.5 -1 1.5 -1.5-0.5zM593.5 225.5l2 1 1 0 1.5 1 0 1 -1.5 1.5 -1 0 -2.5-2.5zM636.5 236.5l1 0.5 1.5 1.5 0 1 -1.5 1 -1.5-2zM607.5 241.5l0.5 1 0 2 -2.5 4 -1.5-1 -0.5-1.5 -4.5-1.5 0.5-2.5 2 0 2 1.5zM619 245.5l1.5-0.5 1.5 0.5 0 2 -0.5 1.5 -1 0 -2.5-1.5 0-1zM609 250.5l0.5-0.5 1.5 0.5 0 1 -1.5 1zM623 252.5l2.5-0.5 1 1.5 -1 1 -2-0.5zM627 258.5l1.5-0.5 1.5 1.5 0 1 -1.5 0.5 -1.5-1.5zM638.5 258.5l1.5 1 -0.5 1.5 -1.5-0.5zM634 259.5l0.5-0.5 1 0.5 -2 2 -0.5-1zM609 262.5l1.5-0.5 0.5 1.5 -1.5 0.5zM635.5 264.5l1.5 1 0 1 -0.5 0.5 -1.5-0.5zM624 277.5l0.5 0 1 1 -3 3.5 -1 0 -0.5-2.5zM640 280.5l0.5 0 1.5 1 0 3 -0.5 1.5 -1 0 -1.5-2.5 0-2zM616.5 299.5l0.5 2 -1.5 1 -0.5-2zM638.5 303.5l0.5 2 -1.5 0.5 -0.5-1.5zM634 308.5l1.5-0.5 1.5 1.5 0 2 -1.5 1 -2.5-2 0-1zM634 316.5l1.5-0.5 0.5 1.5 0 1 -1.5 1 -1.5-1 0-1zM612 323.5l1.5-0.5 1.5 0.5 0 1 -1.5 2.5 -2.5-0.5 0-2zM621.5 330.5l0.5 1 0 3 -1.5 1.5 -1 0 -0.5-1.5 1-1 0-2zM628 332.5l1.5-0.5 0.5 1.5 1.5 1 -0.5 2 1 3 -0.5 1.5 -2 0 -1.5-1.5zM628 345.5l0.5 0 2.5 1 0 1 -2.5 4 -1.5-1 -1-2 0-1zM609.5 358.5l1-0.5 0.5 0.5 -0.5 2zM636 360.5l1.5-0.5 1 2.5 -1 1 -1.5-1zM644.5 373.5l0.5 2 0 3 -1.5 1 -1.5-1 0-2 2-2zM615 383.5l1.5-0.5 1.5 0.5 0 1 -2 2 -0.5 4 -0.5-2 -0.5-1 0.5-1zM633 395.5l0.5-0.5 1.5 0.5 0 2 -0.5 1.5 -2 0.5 -1.5-1 0-1 0.5-1.5zM624.5 419.5l0.5 2 -1.5 1 -1-1zM622 447.5l1.5-0.5 1 0.5 -1 1.5 -1.5-0.5zM625 451.5l0.5 0 1.5 1 -0.5 1.5 -1 0 -1-1.5zM632 458.5l1.5-0.5 1.5 1.5 -0.5 2.5 -1.5-0.5 -1-2zM634 466.5l1.5-0.5 0.5 1.5 -1.5 2.5 -1 0 -0.5-2.5zM644.5 468.5l0.5 2 -1 2 -1.5 1 -2-0.5 -2 1 -1-0.5 0.5-2 1.5-1.5 2 0.5zM644 485.5l1.5-0.5 0.5 0.5 -0.5 2 -1.5-1zM648 490.5l1.5-0.5 0.5 1.5 0 1 -1.5 2zM632 491.5l1.5-0.5 0.5 1.5 -1.5 0.5zM633.5 500.5l1.5 1 0 2 -0.5 1.5 -1.5-0.5zM640 502.5l0.5-0.5 2 0 1.5 1.5 0 3 -0.5 1.5 -2 0 -1.5-1.5 0-2 -0.5-1zM632 521.5l0.5-0.5 1.5 0.5 0 2 -0.5 1 -1.5-1zM640 555.5l0.5-0.5 1.5 0.5 -0.5 2.5 -1 0 -1-1.5zM652 591.5l0.5-0.5 1.5 0.5 0 2 -2.5 2 -2-2 1-1.5zM647.5 598.5l0.5 1 -0.5 1 -1-1zM657 649.5l0.5 0 1 0.5 0.5 1.5 -1.5 1.5 -1 0 -0.5-2.5z"/>
<g clip-path="url(#fan)"><rect x="640" y="83" width="650" height="620" filter="url(#tx)"/></g>
</g></g>
<rect x="1356.8" y="82.9" width="50" height="1020.8" fill="url(#jet)"/>
<text x="157.7" y="1119.9" font-size="38.8" text-anchor="end" letter-spacing="-1.4" class="tk">0</text>
<text x="157.7" y="920.2" font-size="38.8" text-anchor="end" letter-spacing="-1.4" class="tk">100</text>
<text x="157.7" y="720.5" font-size="38.8" text-anchor="end" letter-spacing="-1.4" class="tk">200</text>
<text x="157.7" y="520.7" font-size="38.8" text-anchor="end" letter-spacing="-1.4" class="tk">300</text>
<text x="157.7" y="321.0" font-size="38.8" text-anchor="end" letter-spacing="-1.4" class="tk">400</text>
<text x="157.7" y="121.3" font-size="38.8" text-anchor="end" letter-spacing="-1.4" class="tk">500</text>
<text x="189.2" y="1160.9" font-size="38.8" text-anchor="middle" class="tk">0</text>
<text x="445.7" y="1160.9" font-size="38.8" text-anchor="middle" class="tk">10</text>
<text x="702.2" y="1160.9" font-size="38.8" text-anchor="middle" class="tk">20</text>
<text x="958.7" y="1160.9" font-size="38.8" text-anchor="middle" class="tk">30</text>
<text x="1215.2" y="1160.9" font-size="38.8" text-anchor="middle" class="tk">40</text>
<text x="1434.9" y="145.7" font-size="49.5" class="cb">−<tspan dx="-5.6">1</tspan><tspan dx="-2.4">0</tspan></text>
<text x="1434.9" y="349.9" font-size="49.5" class="cb">−<tspan dx="-5.6">2</tspan><tspan dx="-2.4">0</tspan></text>
<text x="1434.9" y="554.3" font-size="49.5" class="cb">−<tspan dx="-5.6">3</tspan><tspan dx="-2.4">0</tspan></text>
<text x="1434.9" y="758.6" font-size="49.5" class="cb">−<tspan dx="-5.6">4</tspan><tspan dx="-2.4">0</tspan></text>
<text x="1434.9" y="962.9" font-size="49.5" class="cb">−<tspan dx="-5.6">5</tspan><tspan dx="-2.4">0</tspan></text>
<g stroke="#000" stroke-width="2.5" fill="none"><path d="M175.3 1103.7H189.5"/><path d="M175.3 904.0H189.5"/><path d="M175.3 704.3H189.5"/><path d="M175.3 504.5H189.5"/><path d="M175.3 304.8H189.5"/><path d="M175.3 105.1H189.5"/><path d="M189.2 1103.7V1117.9"/><path d="M445.7 1103.7V1117.9"/><path d="M702.2 1103.7V1117.9"/><path d="M958.7 1103.7V1117.9"/><path d="M1215.2 1103.7V1117.9"/><path d="M1406.8 127.5H1421.0"/><path d="M1406.8 331.8H1421.0"/><path d="M1406.8 536.1H1421.0"/><path d="M1406.8 740.4H1421.0"/><path d="M1406.8 944.7H1421.0"/></g>
<rect x="189.5" y="82.9" width="1097.7" height="1020.8" fill="none" stroke="#000" stroke-width="2.5"/>
<rect x="1356.8" y="82.9" width="50.0" height="1020.8" fill="none" stroke="#000" stroke-width="2.5"/>
<text id="title" x="142.8" y="56.4" font-size="49.3" textLength="1186" lengthAdjust="spacing">Normalised difference (dB) between SSW and DSSF</text>
<text id="xl" x="737.6" y="1223.9" font-size="54" text-anchor="middle">Range (km)</text>
<text id="yl" transform="translate(60.4,596.3) rotate(-90)" font-size="54.5" text-anchor="middle">Altitude (m)</text>
</svg>
</body></html>
